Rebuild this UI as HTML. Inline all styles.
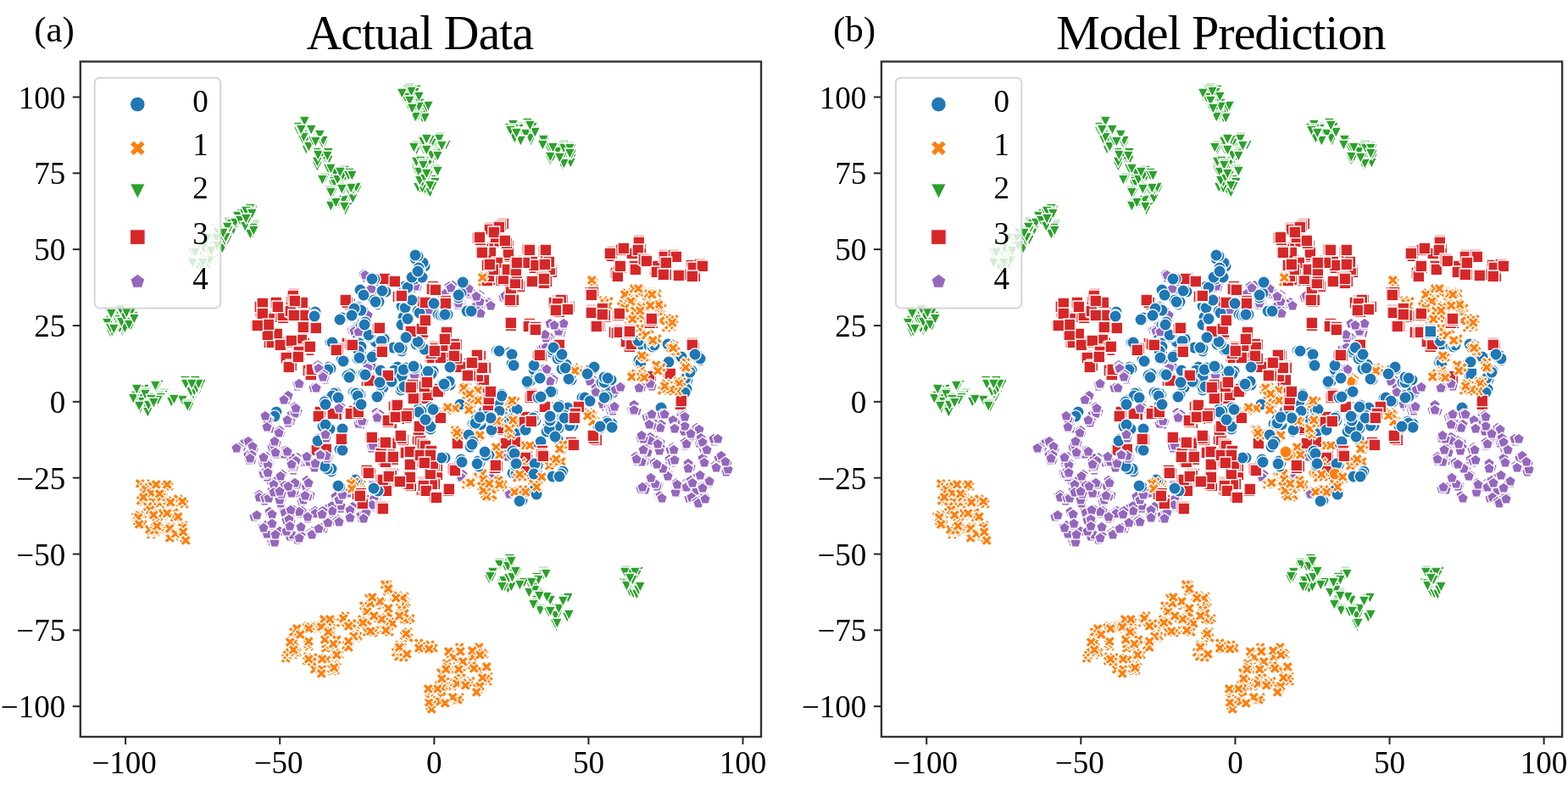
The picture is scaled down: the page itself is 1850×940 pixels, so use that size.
<!DOCTYPE html>
<html><head><meta charset="utf-8"><title>Actual Data vs Model Prediction</title>
<style>
html,body{margin:0;padding:0;background:#fff;}
svg{display:block;}
#w{width:1850px;height:940px;}
.a{fill:#1f77b4}.b{fill:#ff7f0e}.c{fill:#2ca02c}.d{fill:#d62728}.e{fill:#9467bd}
.t{font-family:"Liberation Serif","Times New Roman",serif;font-size:37px;fill:#000;}
.ti{font-family:"Liberation Serif","Times New Roman",serif;font-size:58px;letter-spacing:-1.0px;fill:#000;}
.tl{font-family:"Liberation Serif","Times New Roman",serif;font-size:43px;fill:#000;}
</style></head><body>
<div id="w"><svg width="1850" height="940" viewBox="0 0 1850 940">
<defs>

<clipPath id="clipa"><rect x="94.8" y="72.6" width="803.2" height="796.4"/></clipPath>
<clipPath id="clipb"><rect x="1039.9" y="72.6" width="803.2" height="796.4"/></clipPath>
</defs>
<rect width="1850" height="940" fill="#fff"/>
<g clip-path="url(#clipa)" stroke="#fff" stroke-width="1.3" stroke-linejoin="miter">
<path class=e d="M533 334l6.4 4.6-2.4 7.5-7.9 0-2.4-7.5z"/>
<path class=e d="M577 352l6.4 4.6-2.4 7.5-7.9 0-2.4-7.5z"/>
<path class=e d="M400 593l6.4 4.6-2.4 7.5-7.9 0-2.4-7.5z"/>
<path class=e d="M652 439l6.4 4.6-2.4 7.5-7.9 0-2.4-7.5z"/>
<path class=e d="M561 346l6.4 4.6-2.4 7.5-7.9 0-2.4-7.5z"/>
<path class=e d="M441 336l6.4 4.6-2.4 7.5-7.9 0-2.4-7.5z"/>
<path class=e d="M662 386l6.4 4.6-2.4 7.5-7.9 0-2.4-7.5z"/>
<path class=e d="M438 552l6.4 4.6-2.4 7.5-7.9 0-2.4-7.5z"/>
<path class=e d="M553 336l6.4 4.6-2.4 7.5-7.9 0-2.4-7.5z"/>
<path class=e d="M403 592l6.4 4.6-2.4 7.5-7.9 0-2.4-7.5z"/>
<path class=e d="M578 349l6.4 4.6-2.4 7.5-7.9 0-2.4-7.5z"/>
<path class=e d="M701 442l6.4 4.6-2.4 7.5-7.9 0-2.4-7.5z"/>
<path class=e d="M567 346l6.4 4.6-2.4 7.5-7.9 0-2.4-7.5z"/>
<path class=e d="M442 579l6.4 4.6-2.4 7.5-7.9 0-2.4-7.5z"/>
<path class=e d="M653 441l6.4 4.6-2.4 7.5-7.9 0-2.4-7.5z"/>
<path class=e d="M576 351l6.4 4.6-2.4 7.5-7.9 0-2.4-7.5z"/>
<path class=e d="M420 378l6.4 4.6-2.4 7.5-7.9 0-2.4-7.5z"/>
<path class=e d="M566 341l6.4 4.6-2.4 7.5-7.9 0-2.4-7.5z"/>
<path class=e d="M577 350l6.4 4.6-2.4 7.5-7.9 0-2.4-7.5z"/>
<path class=e d="M677 475l6.4 4.6-2.4 7.5-7.9 0-2.4-7.5z"/>
<path class=e d="M679 473l6.4 4.6-2.4 7.5-7.9 0-2.4-7.5z"/>
<path class=e d="M433 362l6.4 4.6-2.4 7.5-7.9 0-2.4-7.5z"/>
<path class=e d="M444 480l6.4 4.6-2.4 7.5-7.9 0-2.4-7.5z"/>
<path class=e d="M440 584l6.4 4.6-2.4 7.5-7.9 0-2.4-7.5z"/>
<path class=e d="M547 558l6.4 4.6-2.4 7.5-7.9 0-2.4-7.5z"/>
<path class=e d="M524 343l6.4 4.6-2.4 7.5-7.9 0-2.4-7.5z"/>
<path class=e d="M565 359l6.4 4.6-2.4 7.5-7.9 0-2.4-7.5z"/>
<path class=e d="M574 351l6.4 4.6-2.4 7.5-7.9 0-2.4-7.5z"/>
<path class=e d="M719 474l6.4 4.6-2.4 7.5-7.9 0-2.4-7.5z"/>
<path class=e d="M415 382l6.4 4.6-2.4 7.5-7.9 0-2.4-7.5z"/>
<path class=e d="M602 573l6.4 4.6-2.4 7.5-7.9 0-2.4-7.5z"/>
<path class=e d="M593 345l6.4 4.6-2.4 7.5-7.9 0-2.4-7.5z"/>
<path class=e d="M432 321l6.4 4.6-2.4 7.5-7.9 0-2.4-7.5z"/>
<path class=e d="M442 591l6.4 4.6-2.4 7.5-7.9 0-2.4-7.5z"/>
<path class=e d="M425 489l6.4 4.6-2.4 7.5-7.9 0-2.4-7.5z"/>
<path class=e d="M438 522l6.4 4.6-2.4 7.5-7.9 0-2.4-7.5z"/>
<path class=e d="M526 343l6.4 4.6-2.4 7.5-7.9 0-2.4-7.5z"/>
<path class=e d="M581 558l6.4 4.6-2.4 7.5-7.9 0-2.4-7.5z"/>
<path class=e d="M564 363l6.4 4.6-2.4 7.5-7.9 0-2.4-7.5z"/>
<path class=e d="M434 426l6.4 4.6-2.4 7.5-7.9 0-2.4-7.5z"/>
<path class=e d="M534 330l6.4 4.6-2.4 7.5-7.9 0-2.4-7.5z"/>
<path class=e d="M445 587l6.4 4.6-2.4 7.5-7.9 0-2.4-7.5z"/>
<path class=e d="M700 445l6.4 4.6-2.4 7.5-7.9 0-2.4-7.5z"/>
<path class=e d="M664 377l6.4 4.6-2.4 7.5-7.9 0-2.4-7.5z"/>
<path class=e d="M713 472l6.4 4.6-2.4 7.5-7.9 0-2.4-7.5z"/>
<path class=e d="M419 383l6.4 4.6-2.4 7.5-7.9 0-2.4-7.5z"/>
<path class=e d="M540 353l6.4 4.6-2.4 7.5-7.9 0-2.4-7.5z"/>
<path class=e d="M599 574l6.4 4.6-2.4 7.5-7.9 0-2.4-7.5z"/>
<path class=e d="M699 444l6.4 4.6-2.4 7.5-7.9 0-2.4-7.5z"/>
<path class=e d="M408 574l6.4 4.6-2.4 7.5-7.9 0-2.4-7.5z"/>
<path class=e d="M564 355l6.4 4.6-2.4 7.5-7.9 0-2.4-7.5z"/>
<path class=e d="M433 362l6.4 4.6-2.4 7.5-7.9 0-2.4-7.5z"/>
<path class=e d="M435 365l6.4 4.6-2.4 7.5-7.9 0-2.4-7.5z"/>
<path class=e d="M639 404l6.4 4.6-2.4 7.5-7.9 0-2.4-7.5z"/>
<path class=e d="M546 553l6.4 4.6-2.4 7.5-7.9 0-2.4-7.5z"/>
<path class=e d="M444 582l6.4 4.6-2.4 7.5-7.9 0-2.4-7.5z"/>
<path class=e d="M433 428l6.4 4.6-2.4 7.5-7.9 0-2.4-7.5z"/>
<path class=e d="M576 350l6.4 4.6-2.4 7.5-7.9 0-2.4-7.5z"/>
<path class=e d="M574 352l6.4 4.6-2.4 7.5-7.9 0-2.4-7.5z"/>
<path class=e d="M544 351l6.4 4.6-2.4 7.5-7.9 0-2.4-7.5z"/>
<path class=e d="M421 382l6.4 4.6-2.4 7.5-7.9 0-2.4-7.5z"/>
<path class=e d="M653 376l6.4 4.6-2.4 7.5-7.9 0-2.4-7.5z"/>
<path class=e d="M443 587l6.4 4.6-2.4 7.5-7.9 0-2.4-7.5z"/>
<path class=e d="M568 353l6.4 4.6-2.4 7.5-7.9 0-2.4-7.5z"/>
<path class=e d="M650 443l6.4 4.6-2.4 7.5-7.9 0-2.4-7.5z"/>
<path class=e d="M425 492l6.4 4.6-2.4 7.5-7.9 0-2.4-7.5z"/>
<path class=e d="M543 557l6.4 4.6-2.4 7.5-7.9 0-2.4-7.5z"/>
<path class=e d="M492 436l6.4 4.6-2.4 7.5-7.9 0-2.4-7.5z"/>
<path class=e d="M426 494l6.4 4.6-2.4 7.5-7.9 0-2.4-7.5z"/>
<path class=e d="M641 403l6.4 4.6-2.4 7.5-7.9 0-2.4-7.5z"/>
<path class=e d="M421 381l6.4 4.6-2.4 7.5-7.9 0-2.4-7.5z"/>
<path class=e d="M530 331l6.4 4.6-2.4 7.5-7.9 0-2.4-7.5z"/>
<path class=e d="M492 332l6.4 4.6-2.4 7.5-7.9 0-2.4-7.5z"/>
<path class=e d="M426 491l6.4 4.6-2.4 7.5-7.9 0-2.4-7.5z"/>
<path class=e d="M419 386l6.4 4.6-2.4 7.5-7.9 0-2.4-7.5z"/>
<path class=e d="M429 490l6.4 4.6-2.4 7.5-7.9 0-2.4-7.5z"/>
<path class=e d="M713 470l6.4 4.6-2.4 7.5-7.9 0-2.4-7.5z"/>
<path class=e d="M416 593l6.4 4.6-2.4 7.5-7.9 0-2.4-7.5z"/>
<path class=e d="M714 473l6.4 4.6-2.4 7.5-7.9 0-2.4-7.5z"/>
<path class=e d="M435 320l6.4 4.6-2.4 7.5-7.9 0-2.4-7.5z"/>
<path class=e d="M650 374l6.4 4.6-2.4 7.5-7.9 0-2.4-7.5z"/>
<path class=e d="M489 436l6.4 4.6-2.4 7.5-7.9 0-2.4-7.5z"/>
<path class=e d="M417 382l6.4 4.6-2.4 7.5-7.9 0-2.4-7.5z"/>
<path class=e d="M443 579l6.4 4.6-2.4 7.5-7.9 0-2.4-7.5z"/>
<path class=e d="M423 493l6.4 4.6-2.4 7.5-7.9 0-2.4-7.5z"/>
<path class=e d="M503 362l6.4 4.6-2.4 7.5-7.9 0-2.4-7.5z"/>
<path class=e d="M441 587l6.4 4.6-2.4 7.5-7.9 0-2.4-7.5z"/>
<path class=e d="M446 483l6.4 4.6-2.4 7.5-7.9 0-2.4-7.5z"/>
<path class=e d="M502 359l6.4 4.6-2.4 7.5-7.9 0-2.4-7.5z"/>
<path class=e d="M522 342l6.4 4.6-2.4 7.5-7.9 0-2.4-7.5z"/>
<path class=e d="M440 583l6.4 4.6-2.4 7.5-7.9 0-2.4-7.5z"/>
<path class=e d="M446 486l6.4 4.6-2.4 7.5-7.9 0-2.4-7.5z"/>
<path class=e d="M649 391l6.4 4.6-2.4 7.5-7.9 0-2.4-7.5z"/>
<path class=e d="M647 390l6.4 4.6-2.4 7.5-7.9 0-2.4-7.5z"/>
<path class=e d="M579 354l6.4 4.6-2.4 7.5-7.9 0-2.4-7.5z"/>
<path class=e d="M440 552l6.4 4.6-2.4 7.5-7.9 0-2.4-7.5z"/>
<path class=e d="M446 488l6.4 4.6-2.4 7.5-7.9 0-2.4-7.5z"/>
<path class=e d="M407 575l6.4 4.6-2.4 7.5-7.9 0-2.4-7.5z"/>
<path class=e d="M552 338l6.4 4.6-2.4 7.5-7.9 0-2.4-7.5z"/>
<path class=e d="M440 581l6.4 4.6-2.4 7.5-7.9 0-2.4-7.5z"/>
<path class=e d="M507 361l6.4 4.6-2.4 7.5-7.9 0-2.4-7.5z"/>
<path class=e d="M440 589l6.4 4.6-2.4 7.5-7.9 0-2.4-7.5z"/>
<path class=e d="M439 556l6.4 4.6-2.4 7.5-7.9 0-2.4-7.5z"/>
<path class=e d="M437 555l6.4 4.6-2.4 7.5-7.9 0-2.4-7.5z"/>
<path class=e d="M638 429l6.4 4.6-2.4 7.5-7.9 0-2.4-7.5z"/>
<path class=e d="M644 403l6.4 4.6-2.4 7.5-7.9 0-2.4-7.5z"/>
<path class=e d="M438 333l6.4 4.6-2.4 7.5-7.9 0-2.4-7.5z"/>
<path class=e d="M602 577l6.4 4.6-2.4 7.5-7.9 0-2.4-7.5z"/>
<path class=e d="M657 382l6.4 4.6-2.4 7.5-7.9 0-2.4-7.5z"/>
<path class=e d="M544 556l6.4 4.6-2.4 7.5-7.9 0-2.4-7.5z"/>
<path class=e d="M439 558l6.4 4.6-2.4 7.5-7.9 0-2.4-7.5z"/>
<path class=e d="M445 487l6.4 4.6-2.4 7.5-7.9 0-2.4-7.5z"/>
<path class=e d="M584 557l6.4 4.6-2.4 7.5-7.9 0-2.4-7.5z"/>
<path class=e d="M416 591l6.4 4.6-2.4 7.5-7.9 0-2.4-7.5z"/>
<path class=e d="M487 333l6.4 4.6-2.4 7.5-7.9 0-2.4-7.5z"/>
<path class=e d="M438 582l6.4 4.6-2.4 7.5-7.9 0-2.4-7.5z"/>
<path class=e d="M554 334l6.4 4.6-2.4 7.5-7.9 0-2.4-7.5z"/>
<path class=e d="M641 429l6.4 4.6-2.4 7.5-7.9 0-2.4-7.5z"/>
<path class=e d="M581 561l6.4 4.6-2.4 7.5-7.9 0-2.4-7.5z"/>
<path class=e d="M429 592l6.4 4.6-2.4 7.5-7.9 0-2.4-7.5z"/>
<path class=e d="M644 403l6.4 4.6-2.4 7.5-7.9 0-2.4-7.5z"/>
<path class=e d="M564 343l6.4 4.6-2.4 7.5-7.9 0-2.4-7.5z"/>
<path class=e d="M543 349l6.4 4.6-2.4 7.5-7.9 0-2.4-7.5z"/>
<path class=e d="M424 488l6.4 4.6-2.4 7.5-7.9 0-2.4-7.5z"/>
<path class=e d="M561 345l6.4 4.6-2.4 7.5-7.9 0-2.4-7.5z"/>
<path class=e d="M410 575l6.4 4.6-2.4 7.5-7.9 0-2.4-7.5z"/>
<path class=e d="M402 593l6.4 4.6-2.4 7.5-7.9 0-2.4-7.5z"/>
<path class=e d="M448 482l6.4 4.6-2.4 7.5-7.9 0-2.4-7.5z"/>
<circle class=a cx=601 cy=416 r=7.1 />
<path class=b d="M165 612l3.2 3.2 3.2-3.2 3.2 3.2-3.2 3.2 3.2 3.2-3.2 3.2-3.2-3.2-3.2 3.2-3.2-3.2 3.2-3.2-3.2-3.2z"/>
<path class=c d="M512 161h12.6l-6.3 12.6z"/>
<path class=c d="M398 218h12.6l-6.3 12.6z"/>
<path class=b d="M741 362l3.2 3.2 3.2-3.2 3.2 3.2-3.2 3.2 3.2 3.2-3.2 3.2-3.2-3.2-3.2 3.2-3.2-3.2 3.2-3.2-3.2-3.2z"/>
<path class=e d="M724 452l6.4 4.6-2.4 7.5-7.9 0-2.4-7.5z"/>
<path class=c d="M179 447h12.6l-6.3 12.6z"/>
<path class=e d="M807 484l6.4 4.6-2.4 7.5-7.9 0-2.4-7.5z"/>
<path class=c d="M397 233h12.6l-6.3 12.6z"/>
<path class=e d="M491 327l6.4 4.6-2.4 7.5-7.9 0-2.4-7.5z"/>
<circle class=a cx=811 cy=448 r=7.1 />
<circle class=a cx=492 cy=434 r=7.1 />
<path class=d d="M809 311h13.6v13.6h-13.6z"/>
<path class=e d="M414 605l6.4 4.6-2.4 7.5-7.9 0-2.4-7.5z"/>
<path class=c d="M376 162h12.6l-6.3 12.6z"/>
<path class=d d="M448 321h13.6v13.6h-13.6z"/>
<path class=e d="M391 606l6.4 4.6-2.4 7.5-7.9 0-2.4-7.5z"/>
<path class=c d="M276 253h12.6l-6.3 12.6z"/>
<circle class=a cx=592 cy=467 r=7.1 />
<path class=b d="M478 745l3.2 3.2 3.2-3.2 3.2 3.2-3.2 3.2 3.2 3.2-3.2 3.2-3.2-3.2-3.2 3.2-3.2-3.2 3.2-3.2-3.2-3.2z"/>
<circle class=a cx=700 cy=433 r=7.1 />
<path class=b d="M157 603l3.2 3.2 3.2-3.2 3.2 3.2-3.2 3.2 3.2 3.2-3.2 3.2-3.2-3.2-3.2 3.2-3.2-3.2 3.2-3.2-3.2-3.2z"/>
<path class=b d="M636 558l3.2 3.2 3.2-3.2 3.2 3.2-3.2 3.2 3.2 3.2-3.2 3.2-3.2-3.2-3.2 3.2-3.2-3.2 3.2-3.2-3.2-3.2z"/>
<path class=b d="M504 827l3.2 3.2 3.2-3.2 3.2 3.2-3.2 3.2 3.2 3.2-3.2 3.2-3.2-3.2-3.2 3.2-3.2-3.2 3.2-3.2-3.2-3.2z"/>
<circle class=a cx=452 cy=457 r=7.1 />
<path class=e d="M341 617l6.4 4.6-2.4 7.5-7.9 0-2.4-7.5z"/>
<circle class=a cx=465 cy=450 r=7.1 />
<path class=d d="M607 330h13.6v13.6h-13.6z"/>
<path class=b d="M360 768l3.2 3.2 3.2-3.2 3.2 3.2-3.2 3.2 3.2 3.2-3.2 3.2-3.2-3.2-3.2 3.2-3.2-3.2 3.2-3.2-3.2-3.2z"/>
<path class=c d="M392 232h12.6l-6.3 12.6z"/>
<path class=e d="M747 474l6.4 4.6-2.4 7.5-7.9 0-2.4-7.5z"/>
<circle class=a cx=325 cy=490 r=7.1 />
<path class=c d="M221 444h12.6l-6.3 12.6z"/>
<circle class=a cx=753 cy=427 r=7.1 />
<path class=b d="M751 363l3.2 3.2 3.2-3.2 3.2 3.2-3.2 3.2 3.2 3.2-3.2 3.2-3.2-3.2-3.2 3.2-3.2-3.2 3.2-3.2-3.2-3.2z"/>
<path class=d d="M821 307h13.6v13.6h-13.6z"/>
<circle class=a cx=667 cy=492 r=7.1 />
<path class=e d="M814 579l6.4 4.6-2.4 7.5-7.9 0-2.4-7.5z"/>
<path class=c d="M488 183h12.6l-6.3 12.6z"/>
<path class=c d="M395 234h12.6l-6.3 12.6z"/>
<path class=c d="M415 218h12.6l-6.3 12.6z"/>
<path class=d d="M519 388h13.6v13.6h-13.6z"/>
<path class=b d="M764 353l3.2 3.2 3.2-3.2 3.2 3.2-3.2 3.2 3.2 3.2-3.2 3.2-3.2-3.2-3.2 3.2-3.2-3.2 3.2-3.2-3.2-3.2z"/>
<path class=c d="M667 177h12.6l-6.3 12.6z"/>
<path class=c d="M185 457h12.6l-6.3 12.6z"/>
<path class=b d="M434 737l3.2 3.2 3.2-3.2 3.2 3.2-3.2 3.2 3.2 3.2-3.2 3.2-3.2-3.2-3.2 3.2-3.2-3.2 3.2-3.2-3.2-3.2z"/>
<path class=b d="M695 483l3.2 3.2 3.2-3.2 3.2 3.2-3.2 3.2 3.2 3.2-3.2 3.2-3.2-3.2-3.2 3.2-3.2-3.2 3.2-3.2-3.2-3.2z"/>
<path class=e d="M366 577l6.4 4.6-2.4 7.5-7.9 0-2.4-7.5z"/>
<path class=c d="M495 159h12.6l-6.3 12.6z"/>
<path class=b d="M424 727l3.2 3.2 3.2-3.2 3.2 3.2-3.2 3.2 3.2 3.2-3.2 3.2-3.2-3.2-3.2 3.2-3.2-3.2 3.2-3.2-3.2-3.2z"/>
<path class=b d="M342 750l3.2 3.2 3.2-3.2 3.2 3.2-3.2 3.2 3.2 3.2-3.2 3.2-3.2-3.2-3.2 3.2-3.2-3.2 3.2-3.2-3.2-3.2z"/>
<path class=d d="M459 484h13.6v13.6h-13.6z"/>
<path class=d d="M450 570h13.6v13.6h-13.6z"/>
<path class=e d="M679 475l6.4 4.6-2.4 7.5-7.9 0-2.4-7.5z"/>
<path class=e d="M401 473l6.4 4.6-2.4 7.5-7.9 0-2.4-7.5z"/>
<path class=c d="M603 144h12.6l-6.3 12.6z"/>
<path class=e d="M793 539l6.4 4.6-2.4 7.5-7.9 0-2.4-7.5z"/>
<path class=c d="M229 309h12.6l-6.3 12.6z"/>
<path class=b d="M505 827l3.2 3.2 3.2-3.2 3.2 3.2-3.2 3.2 3.2 3.2-3.2 3.2-3.2-3.2-3.2 3.2-3.2-3.2 3.2-3.2-3.2-3.2z"/>
<path class=c d="M488 117h12.6l-6.3 12.6z"/>
<path class=e d="M363 563l6.4 4.6-2.4 7.5-7.9 0-2.4-7.5z"/>
<path class=b d="M165 600l3.2 3.2 3.2-3.2 3.2 3.2-3.2 3.2 3.2 3.2-3.2 3.2-3.2-3.2-3.2 3.2-3.2-3.2 3.2-3.2-3.2-3.2z"/>
<path class=c d="M386 222h12.6l-6.3 12.6z"/>
<circle class=a cx=522 cy=453 r=7.1 />
<path class=e d="M796 489l6.4 4.6-2.4 7.5-7.9 0-2.4-7.5z"/>
<path class=b d="M200 624l3.2 3.2 3.2-3.2 3.2 3.2-3.2 3.2 3.2 3.2-3.2 3.2-3.2-3.2-3.2 3.2-3.2-3.2 3.2-3.2-3.2-3.2z"/>
<path class=e d="M825 500l6.4 4.6-2.4 7.5-7.9 0-2.4-7.5z"/>
<path class=e d="M333 592l6.4 4.6-2.4 7.5-7.9 0-2.4-7.5z"/>
<path class=c d="M492 133h12.6l-6.3 12.6z"/>
<circle class=a cx=429 cy=381 r=7.1 />
<path class=e d="M791 524l6.4 4.6-2.4 7.5-7.9 0-2.4-7.5z"/>
<circle class=a cx=433 cy=385 r=7.1 />
<path class=b d="M199 585l3.2 3.2 3.2-3.2 3.2 3.2-3.2 3.2 3.2 3.2-3.2 3.2-3.2-3.2-3.2 3.2-3.2-3.2 3.2-3.2-3.2-3.2z"/>
<path class=c d="M377 175h12.6l-6.3 12.6z"/>
<path class=b d="M387 735l3.2 3.2 3.2-3.2 3.2 3.2-3.2 3.2 3.2 3.2-3.2 3.2-3.2-3.2-3.2 3.2-3.2-3.2 3.2-3.2-3.2-3.2z"/>
<path class=e d="M413 595l6.4 4.6-2.4 7.5-7.9 0-2.4-7.5z"/>
<path class=d d="M444 529h13.6v13.6h-13.6z"/>
<path class=c d="M651 719h12.6l-6.3 12.6z"/>
<path class=b d="M529 800l3.2 3.2 3.2-3.2 3.2 3.2-3.2 3.2 3.2 3.2-3.2 3.2-3.2-3.2-3.2 3.2-3.2-3.2 3.2-3.2-3.2-3.2z"/>
<path class=d d="M320 390h13.6v13.6h-13.6z"/>
<path class=c d="M223 290h12.6l-6.3 12.6z"/>
<path class=d d="M672 474h13.6v13.6h-13.6z"/>
<path class=b d="M196 615l3.2 3.2 3.2-3.2 3.2 3.2-3.2 3.2 3.2 3.2-3.2 3.2-3.2-3.2-3.2 3.2-3.2-3.2 3.2-3.2-3.2-3.2z"/>
<path class=d d="M312 367h13.6v13.6h-13.6z"/>
<path class=b d="M566 762l3.2 3.2 3.2-3.2 3.2 3.2-3.2 3.2 3.2 3.2-3.2 3.2-3.2-3.2-3.2 3.2-3.2-3.2 3.2-3.2-3.2-3.2z"/>
<path class=d d="M311 396h13.6v13.6h-13.6z"/>
<path class=c d="M393 235h12.6l-6.3 12.6z"/>
<path class=d d="M473 484h13.6v13.6h-13.6z"/>
<circle class=a cx=697 cy=474 r=7.1 />
<path class=c d="M376 205h12.6l-6.3 12.6z"/>
<path class=d d="M578 276h13.6v13.6h-13.6z"/>
<path class=e d="M767 487l6.4 4.6-2.4 7.5-7.9 0-2.4-7.5z"/>
<path class=d d="M663 356h13.6v13.6h-13.6z"/>
<path class=c d="M266 266h12.6l-6.3 12.6z"/>
<path class=e d="M396 582l6.4 4.6-2.4 7.5-7.9 0-2.4-7.5z"/>
<path class=b d="M570 789l3.2 3.2 3.2-3.2 3.2 3.2-3.2 3.2 3.2 3.2-3.2 3.2-3.2-3.2-3.2 3.2-3.2-3.2 3.2-3.2-3.2-3.2z"/>
<path class=d d="M587 257h13.6v13.6h-13.6z"/>
<path class=d d="M458 473h13.6v13.6h-13.6z"/>
<path class=b d="M442 703l3.2 3.2 3.2-3.2 3.2 3.2-3.2 3.2 3.2 3.2-3.2 3.2-3.2-3.2-3.2 3.2-3.2-3.2 3.2-3.2-3.2-3.2z"/>
<path class=e d="M390 609l6.4 4.6-2.4 7.5-7.9 0-2.4-7.5z"/>
<circle class=a cx=326 cy=486 r=7.1 />
<path class=d d="M573 289h13.6v13.6h-13.6z"/>
<path class=d d="M393 405h13.6v13.6h-13.6z"/>
<path class=b d="M558 507l3.2 3.2 3.2-3.2 3.2 3.2-3.2 3.2 3.2 3.2-3.2 3.2-3.2-3.2-3.2 3.2-3.2-3.2 3.2-3.2-3.2-3.2z"/>
<path class=e d="M660 385l6.4 4.6-2.4 7.5-7.9 0-2.4-7.5z"/>
<path class=d d="M489 530h13.6v13.6h-13.6z"/>
<path class=e d="M402 590l6.4 4.6-2.4 7.5-7.9 0-2.4-7.5z"/>
<path class=e d="M339 569l6.4 4.6-2.4 7.5-7.9 0-2.4-7.5z"/>
<circle class=a cx=421 cy=407 r=7.1 />
<path class=c d="M604 153h12.6l-6.3 12.6z"/>
<path class=b d="M391 751l3.2 3.2 3.2-3.2 3.2 3.2-3.2 3.2 3.2 3.2-3.2 3.2-3.2-3.2-3.2 3.2-3.2-3.2 3.2-3.2-3.2-3.2z"/>
<path class=c d="M478 99h12.6l-6.3 12.6z"/>
<path class=c d="M171 463h12.6l-6.3 12.6z"/>
<path class=e d="M445 589l6.4 4.6-2.4 7.5-7.9 0-2.4-7.5z"/>
<circle class=a cx=819 cy=418 r=7.1 />
<path class=b d="M559 556l3.2 3.2 3.2-3.2 3.2 3.2-3.2 3.2 3.2 3.2-3.2 3.2-3.2-3.2-3.2 3.2-3.2-3.2 3.2-3.2-3.2-3.2z"/>
<path class=d d="M561 289h13.6v13.6h-13.6z"/>
<path class=c d="M381 183h12.6l-6.3 12.6z"/>
<path class=e d="M349 564l6.4 4.6-2.4 7.5-7.9 0-2.4-7.5z"/>
<path class=b d="M736 345l3.2 3.2 3.2-3.2 3.2 3.2-3.2 3.2 3.2 3.2-3.2 3.2-3.2-3.2-3.2 3.2-3.2-3.2 3.2-3.2-3.2-3.2z"/>
<path class=b d="M424 724l3.2 3.2 3.2-3.2 3.2 3.2-3.2 3.2 3.2 3.2-3.2 3.2-3.2-3.2-3.2 3.2-3.2-3.2 3.2-3.2-3.2-3.2z"/>
<path class=e d="M813 512l6.4 4.6-2.4 7.5-7.9 0-2.4-7.5z"/>
<circle class=a cx=816 cy=437 r=7.1 />
<path class=d d="M666 356h13.6v13.6h-13.6z"/>
<circle class=a cx=417 cy=463 r=7.1 />
<path class=b d="M344 744l3.2 3.2 3.2-3.2 3.2 3.2-3.2 3.2 3.2 3.2-3.2 3.2-3.2-3.2-3.2 3.2-3.2-3.2 3.2-3.2-3.2-3.2z"/>
<path class=c d="M494 159h12.6l-6.3 12.6z"/>
<path class=b d="M434 703l3.2 3.2 3.2-3.2 3.2 3.2-3.2 3.2 3.2 3.2-3.2 3.2-3.2-3.2-3.2 3.2-3.2-3.2 3.2-3.2-3.2-3.2z"/>
<path class=e d="M525 340l6.4 4.6-2.4 7.5-7.9 0-2.4-7.5z"/>
<path class=c d="M498 216h12.6l-6.3 12.6z"/>
<path class=c d="M650 733h12.6l-6.3 12.6z"/>
<path class=e d="M321 632l6.4 4.6-2.4 7.5-7.9 0-2.4-7.5z"/>
<path class=d d="M719 385h13.6v13.6h-13.6z"/>
<circle class=a cx=514 cy=359 r=7.1 />
<path class=c d="M232 292h12.6l-6.3 12.6z"/>
<path class=c d="M641 168h12.6l-6.3 12.6z"/>
<path class=b d="M569 323l3.2 3.2 3.2-3.2 3.2 3.2-3.2 3.2 3.2 3.2-3.2 3.2-3.2-3.2-3.2 3.2-3.2-3.2 3.2-3.2-3.2-3.2z"/>
<path class=b d="M372 735l3.2 3.2 3.2-3.2 3.2 3.2-3.2 3.2 3.2 3.2-3.2 3.2-3.2-3.2-3.2 3.2-3.2-3.2 3.2-3.2-3.2-3.2z"/>
<path class=d d="M491 351h13.6v13.6h-13.6z"/>
<path class=c d="M609 161h12.6l-6.3 12.6z"/>
<path class=b d="M212 623l3.2 3.2 3.2-3.2 3.2 3.2-3.2 3.2 3.2 3.2-3.2 3.2-3.2-3.2-3.2 3.2-3.2-3.2 3.2-3.2-3.2-3.2z"/>
<path class=e d="M553 340l6.4 4.6-2.4 7.5-7.9 0-2.4-7.5z"/>
<path class=c d="M403 216h12.6l-6.3 12.6z"/>
<path class=d d="M458 324h13.6v13.6h-13.6z"/>
<path class=e d="M391 593l6.4 4.6-2.4 7.5-7.9 0-2.4-7.5z"/>
<path class=d d="M560 272h13.6v13.6h-13.6z"/>
<path class=c d="M651 716h12.6l-6.3 12.6z"/>
<path class=d d="M721 383h13.6v13.6h-13.6z"/>
<path class=c d="M732 682h12.6l-6.3 12.6z"/>
<path class=e d="M320 560l6.4 4.6-2.4 7.5-7.9 0-2.4-7.5z"/>
<path class=e d="M814 509l6.4 4.6-2.4 7.5-7.9 0-2.4-7.5z"/>
<path class=d d="M359 434h13.6v13.6h-13.6z"/>
<path class=d d="M359 430h13.6v13.6h-13.6z"/>
<path class=b d="M549 779l3.2 3.2 3.2-3.2 3.2 3.2-3.2 3.2 3.2 3.2-3.2 3.2-3.2-3.2-3.2 3.2-3.2-3.2 3.2-3.2-3.2-3.2z"/>
<path class=b d="M733 358l3.2 3.2 3.2-3.2 3.2 3.2-3.2 3.2 3.2 3.2-3.2 3.2-3.2-3.2-3.2 3.2-3.2-3.2 3.2-3.2-3.2-3.2z"/>
<path class=d d="M350 351h13.6v13.6h-13.6z"/>
<path class=e d="M438 519l6.4 4.6-2.4 7.5-7.9 0-2.4-7.5z"/>
<circle class=a cx=627 cy=492 r=7.1 />
<path class=d d="M672 484h13.6v13.6h-13.6z"/>
<circle class=a cx=405 cy=508 r=7.1 />
<path class=b d="M530 803l3.2 3.2 3.2-3.2 3.2 3.2-3.2 3.2 3.2 3.2-3.2 3.2-3.2-3.2-3.2 3.2-3.2-3.2 3.2-3.2-3.2-3.2z"/>
<path class=e d="M726 449l6.4 4.6-2.4 7.5-7.9 0-2.4-7.5z"/>
<path class=d d="M497 461h13.6v13.6h-13.6z"/>
<path class=c d="M635 668h12.6l-6.3 12.6z"/>
<path class=c d="M649 170h12.6l-6.3 12.6z"/>
<path class=e d="M790 535l6.4 4.6-2.4 7.5-7.9 0-2.4-7.5z"/>
<circle class=a cx=574 cy=489 r=7.1 />
<path class=c d="M571 677h12.6l-6.3 12.6z"/>
<path class=e d="M322 561l6.4 4.6-2.4 7.5-7.9 0-2.4-7.5z"/>
<path class=b d="M553 459l3.2 3.2 3.2-3.2 3.2 3.2-3.2 3.2 3.2 3.2-3.2 3.2-3.2-3.2-3.2 3.2-3.2-3.2 3.2-3.2-3.2-3.2z"/>
<path class=d d="M358 429h13.6v13.6h-13.6z"/>
<circle class=a cx=443 cy=357 r=7.1 />
<path class=d d="M521 392h13.6v13.6h-13.6z"/>
<path class=c d="M248 285h12.6l-6.3 12.6z"/>
<circle class=a cx=424 cy=422 r=7.1 />
<path class=e d="M830 526l6.4 4.6-2.4 7.5-7.9 0-2.4-7.5z"/>
<circle class=a cx=452 cy=440 r=7.1 />
<path class=e d="M319 628l6.4 4.6-2.4 7.5-7.9 0-2.4-7.5z"/>
<path class=d d="M639 322h13.6v13.6h-13.6z"/>
<path class=d d="M326 368h13.6v13.6h-13.6z"/>
<path class=b d="M180 591l3.2 3.2 3.2-3.2 3.2 3.2-3.2 3.2 3.2 3.2-3.2 3.2-3.2-3.2-3.2 3.2-3.2-3.2 3.2-3.2-3.2-3.2z"/>
<circle class=a cx=579 cy=494 r=7.1 />
<path class=e d="M774 520l6.4 4.6-2.4 7.5-7.9 0-2.4-7.5z"/>
<path class=e d="M777 482l6.4 4.6-2.4 7.5-7.9 0-2.4-7.5z"/>
<path class=e d="M344 576l6.4 4.6-2.4 7.5-7.9 0-2.4-7.5z"/>
<path class=e d="M676 474l6.4 4.6-2.4 7.5-7.9 0-2.4-7.5z"/>
<path class=c d="M632 713h12.6l-6.3 12.6z"/>
<path class=e d="M745 477l6.4 4.6-2.4 7.5-7.9 0-2.4-7.5z"/>
<circle class=a cx=651 cy=561 r=7.1 />
<path class=e d="M304 577l6.4 4.6-2.4 7.5-7.9 0-2.4-7.5z"/>
<path class=d d="M571 287h13.6v13.6h-13.6z"/>
<path class=e d="M830 523l6.4 4.6-2.4 7.5-7.9 0-2.4-7.5z"/>
<path class=e d="M438 425l6.4 4.6-2.4 7.5-7.9 0-2.4-7.5z"/>
<path class=c d="M224 459h12.6l-6.3 12.6z"/>
<path class=e d="M822 498l6.4 4.6-2.4 7.5-7.9 0-2.4-7.5z"/>
<path class=b d="M762 340l3.2 3.2 3.2-3.2 3.2 3.2-3.2 3.2 3.2 3.2-3.2 3.2-3.2-3.2-3.2 3.2-3.2-3.2 3.2-3.2-3.2-3.2z"/>
<path class=b d="M476 725l3.2 3.2 3.2-3.2 3.2 3.2-3.2 3.2 3.2 3.2-3.2 3.2-3.2-3.2-3.2 3.2-3.2-3.2 3.2-3.2-3.2-3.2z"/>
<path class=c d="M354 163h12.6l-6.3 12.6z"/>
<path class=d d="M397 512h13.6v13.6h-13.6z"/>
<path class=d d="M504 331h13.6v13.6h-13.6z"/>
<path class=c d="M374 207h12.6l-6.3 12.6z"/>
<circle class=a cx=530 cy=431 r=7.1 />
<path class=e d="M438 553l6.4 4.6-2.4 7.5-7.9 0-2.4-7.5z"/>
<path class=e d="M802 565l6.4 4.6-2.4 7.5-7.9 0-2.4-7.5z"/>
<path class=b d="M760 376l3.2 3.2 3.2-3.2 3.2 3.2-3.2 3.2 3.2 3.2-3.2 3.2-3.2-3.2-3.2 3.2-3.2-3.2 3.2-3.2-3.2-3.2z"/>
<path class=b d="M548 450l3.2 3.2 3.2-3.2 3.2 3.2-3.2 3.2 3.2 3.2-3.2 3.2-3.2-3.2-3.2 3.2-3.2-3.2 3.2-3.2-3.2-3.2z"/>
<path class=b d="M575 565l3.2 3.2 3.2-3.2 3.2 3.2-3.2 3.2 3.2 3.2-3.2 3.2-3.2-3.2-3.2 3.2-3.2-3.2 3.2-3.2-3.2-3.2z"/>
<path class=c d="M502 214h12.6l-6.3 12.6z"/>
<circle class=a cx=434 cy=398 r=7.1 />
<circle class=a cx=548 cy=334 r=7.1 />
<path class=e d="M717 473l6.4 4.6-2.4 7.5-7.9 0-2.4-7.5z"/>
<path class=c d="M355 157h12.6l-6.3 12.6z"/>
<path class=b d="M566 556l3.2 3.2 3.2-3.2 3.2 3.2-3.2 3.2 3.2 3.2-3.2 3.2-3.2-3.2-3.2 3.2-3.2-3.2 3.2-3.2-3.2-3.2z"/>
<path class=d d="M762 440h13.6v13.6h-13.6z"/>
<path class=b d="M586 491l3.2 3.2 3.2-3.2 3.2 3.2-3.2 3.2 3.2 3.2-3.2 3.2-3.2-3.2-3.2 3.2-3.2-3.2 3.2-3.2-3.2-3.2z"/>
<path class=c d="M626 678h12.6l-6.3 12.6z"/>
<path class=c d="M246 296h12.6l-6.3 12.6z"/>
<path class=d d="M469 512h13.6v13.6h-13.6z"/>
<path class=c d="M388 197h12.6l-6.3 12.6z"/>
<path class=d d="M514 414h13.6v13.6h-13.6z"/>
<path class=d d="M573 286h13.6v13.6h-13.6z"/>
<path class=d d="M456 551h13.6v13.6h-13.6z"/>
<path class=e d="M389 591l6.4 4.6-2.4 7.5-7.9 0-2.4-7.5z"/>
<path class=e d="M438 555l6.4 4.6-2.4 7.5-7.9 0-2.4-7.5z"/>
<path class=c d="M240 309h12.6l-6.3 12.6z"/>
<path class=b d="M694 325l3.2 3.2 3.2-3.2 3.2 3.2-3.2 3.2 3.2 3.2-3.2 3.2-3.2-3.2-3.2 3.2-3.2-3.2 3.2-3.2-3.2-3.2z"/>
<path class=b d="M167 567l3.2 3.2 3.2-3.2 3.2 3.2-3.2 3.2 3.2 3.2-3.2 3.2-3.2-3.2-3.2 3.2-3.2-3.2 3.2-3.2-3.2-3.2z"/>
<path class=d d="M495 370h13.6v13.6h-13.6z"/>
<path class=e d="M328 575l6.4 4.6-2.4 7.5-7.9 0-2.4-7.5z"/>
<path class=c d="M123 385h12.6l-6.3 12.6z"/>
<path class=c d="M500 118h12.6l-6.3 12.6z"/>
<path class=d d="M736 397h13.6v13.6h-13.6z"/>
<path class=e d="M798 570l6.4 4.6-2.4 7.5-7.9 0-2.4-7.5z"/>
<circle class=a cx=443 cy=331 r=7.1 />
<path class=c d="M607 146h12.6l-6.3 12.6z"/>
<path class=c d="M352 155h12.6l-6.3 12.6z"/>
<path class=c d="M134 369h12.6l-6.3 12.6z"/>
<path class=c d="M494 130h12.6l-6.3 12.6z"/>
<circle class=a cx=390 cy=404 r=7.1 />
<path class=d d="M534 516h13.6v13.6h-13.6z"/>
<path class=c d="M520 165h12.6l-6.3 12.6z"/>
<circle class=a cx=473 cy=383 r=7.1 />
<path class=c d="M294 263h12.6l-6.3 12.6z"/>
<path class=b d="M736 342l3.2 3.2 3.2-3.2 3.2 3.2-3.2 3.2 3.2 3.2-3.2 3.2-3.2-3.2-3.2 3.2-3.2-3.2 3.2-3.2-3.2-3.2z"/>
<path class=d d="M448 570h13.6v13.6h-13.6z"/>
<circle class=a cx=823 cy=419 r=7.1 />
<circle class=a cx=509 cy=440 r=7.1 />
<path class=b d="M363 732l3.2 3.2 3.2-3.2 3.2 3.2-3.2 3.2 3.2 3.2-3.2 3.2-3.2-3.2-3.2 3.2-3.2-3.2 3.2-3.2-3.2-3.2z"/>
<circle class=a cx=375 cy=519 r=7.1 />
<circle class=a cx=647 cy=503 r=7.1 />
<path class=b d="M187 617l3.2 3.2 3.2-3.2 3.2 3.2-3.2 3.2 3.2 3.2-3.2 3.2-3.2-3.2-3.2 3.2-3.2-3.2 3.2-3.2-3.2-3.2z"/>
<path class=b d="M203 601l3.2 3.2 3.2-3.2 3.2 3.2-3.2 3.2 3.2 3.2-3.2 3.2-3.2-3.2-3.2 3.2-3.2-3.2 3.2-3.2-3.2-3.2z"/>
<path class=d d="M702 377h13.6v13.6h-13.6z"/>
<path class=c d="M160 472h12.6l-6.3 12.6z"/>
<path class=c d="M648 731h12.6l-6.3 12.6z"/>
<path class=c d="M506 165h12.6l-6.3 12.6z"/>
<path class=d d="M595 310h13.6v13.6h-13.6z"/>
<path class=e d="M776 522l6.4 4.6-2.4 7.5-7.9 0-2.4-7.5z"/>
<circle class=a cx=502 cy=493 r=7.1 />
<path class=d d="M571 287h13.6v13.6h-13.6z"/>
<path class=b d="M760 351l3.2 3.2 3.2-3.2 3.2 3.2-3.2 3.2 3.2 3.2-3.2 3.2-3.2-3.2-3.2 3.2-3.2-3.2 3.2-3.2-3.2-3.2z"/>
<path class=d d="M624 309h13.6v13.6h-13.6z"/>
<path class=d d="M570 471h13.6v13.6h-13.6z"/>
<circle class=a cx=500 cy=413 r=7.1 />
<path class=d d="M667 515h13.6v13.6h-13.6z"/>
<circle class=a cx=381 cy=503 r=7.1 />
<path class=c d="M174 467h12.6l-6.3 12.6z"/>
<path class=b d="M588 493l3.2 3.2 3.2-3.2 3.2 3.2-3.2 3.2 3.2 3.2-3.2 3.2-3.2-3.2-3.2 3.2-3.2-3.2 3.2-3.2-3.2-3.2z"/>
<path class=c d="M632 695h12.6l-6.3 12.6z"/>
<circle class=a cx=477 cy=385 r=7.1 />
<circle class=a cx=554 cy=513 r=7.1 />
<path class=b d="M644 538l3.2 3.2 3.2-3.2 3.2 3.2-3.2 3.2 3.2 3.2-3.2 3.2-3.2-3.2-3.2 3.2-3.2-3.2 3.2-3.2-3.2-3.2z"/>
<path class=c d="M598 143h12.6l-6.3 12.6z"/>
<path class=c d="M407 230h12.6l-6.3 12.6z"/>
<path class=b d="M432 699l3.2 3.2 3.2-3.2 3.2 3.2-3.2 3.2 3.2 3.2-3.2 3.2-3.2-3.2-3.2 3.2-3.2-3.2 3.2-3.2-3.2-3.2z"/>
<path class=e d="M778 496l6.4 4.6-2.4 7.5-7.9 0-2.4-7.5z"/>
<path class=e d="M843 514l6.4 4.6-2.4 7.5-7.9 0-2.4-7.5z"/>
<circle class=a cx=426 cy=413 r=7.1 />
<circle class=a cx=478 cy=401 r=7.1 />
<path class=e d="M786 544l6.4 4.6-2.4 7.5-7.9 0-2.4-7.5z"/>
<path class=c d="M667 167h12.6l-6.3 12.6z"/>
<path class=d d="M735 400h13.6v13.6h-13.6z"/>
<path class=e d="M343 609l6.4 4.6-2.4 7.5-7.9 0-2.4-7.5z"/>
<path class=e d="M808 519l6.4 4.6-2.4 7.5-7.9 0-2.4-7.5z"/>
<circle class=a cx=495 cy=310 r=7.1 />
<path class=e d="M336 567l6.4 4.6-2.4 7.5-7.9 0-2.4-7.5z"/>
<path class=b d="M748 338l3.2 3.2 3.2-3.2 3.2 3.2-3.2 3.2 3.2 3.2-3.2 3.2-3.2-3.2-3.2 3.2-3.2-3.2 3.2-3.2-3.2-3.2z"/>
<path class=e d="M312 616l6.4 4.6-2.4 7.5-7.9 0-2.4-7.5z"/>
<path class=b d="M750 338l3.2 3.2 3.2-3.2 3.2 3.2-3.2 3.2 3.2 3.2-3.2 3.2-3.2-3.2-3.2 3.2-3.2-3.2 3.2-3.2-3.2-3.2z"/>
<path class=d d="M430 509h13.6v13.6h-13.6z"/>
<path class=b d="M533 500l3.2 3.2 3.2-3.2 3.2 3.2-3.2 3.2 3.2 3.2-3.2 3.2-3.2-3.2-3.2 3.2-3.2-3.2 3.2-3.2-3.2-3.2z"/>
<circle class=a cx=715 cy=451 r=7.1 />
<path class=c d="M609 161h12.6l-6.3 12.6z"/>
<circle class=a cx=478 cy=438 r=7.1 />
<circle class=a cx=440 cy=395 r=7.1 />
<path class=d d="M334 415h13.6v13.6h-13.6z"/>
<path class=e d="M320 623l6.4 4.6-2.4 7.5-7.9 0-2.4-7.5z"/>
<path class=b d="M450 729l3.2 3.2 3.2-3.2 3.2 3.2-3.2 3.2 3.2 3.2-3.2 3.2-3.2-3.2-3.2 3.2-3.2-3.2 3.2-3.2-3.2-3.2z"/>
<path class=d d="M588 515h13.6v13.6h-13.6z"/>
<path class=e d="M345 625l6.4 4.6-2.4 7.5-7.9 0-2.4-7.5z"/>
<path class=c d="M592 665h12.6l-6.3 12.6z"/>
<circle class=a cx=609 cy=509 r=7.1 />
<path class=c d="M483 103h12.6l-6.3 12.6z"/>
<path class=c d="M504 158h12.6l-6.3 12.6z"/>
<path class=e d="M858 539l6.4 4.6-2.4 7.5-7.9 0-2.4-7.5z"/>
<path class=b d="M425 708l3.2 3.2 3.2-3.2 3.2 3.2-3.2 3.2 3.2 3.2-3.2 3.2-3.2-3.2-3.2 3.2-3.2-3.2 3.2-3.2-3.2-3.2z"/>
<path class=e d="M554 336l6.4 4.6-2.4 7.5-7.9 0-2.4-7.5z"/>
<circle class=a cx=573 cy=485 r=7.1 />
<path class=b d="M615 520l3.2 3.2 3.2-3.2 3.2 3.2-3.2 3.2 3.2 3.2-3.2 3.2-3.2-3.2-3.2 3.2-3.2-3.2 3.2-3.2-3.2-3.2z"/>
<path class=e d="M492 434l6.4 4.6-2.4 7.5-7.9 0-2.4-7.5z"/>
<path class=c d="M668 175h12.6l-6.3 12.6z"/>
<path class=c d="M498 219h12.6l-6.3 12.6z"/>
<path class=e d="M399 606l6.4 4.6-2.4 7.5-7.9 0-2.4-7.5z"/>
<path class=c d="M496 197h12.6l-6.3 12.6z"/>
<path class=c d="M504 187h12.6l-6.3 12.6z"/>
<path class=b d="M504 813l3.2 3.2 3.2-3.2 3.2 3.2-3.2 3.2 3.2 3.2-3.2 3.2-3.2-3.2-3.2 3.2-3.2-3.2 3.2-3.2-3.2-3.2z"/>
<path class=e d="M649 375l6.4 4.6-2.4 7.5-7.9 0-2.4-7.5z"/>
<path class=b d="M539 816l3.2 3.2 3.2-3.2 3.2 3.2-3.2 3.2 3.2 3.2-3.2 3.2-3.2-3.2-3.2 3.2-3.2-3.2 3.2-3.2-3.2-3.2z"/>
<path class=e d="M356 585l6.4 4.6-2.4 7.5-7.9 0-2.4-7.5z"/>
<path class=b d="M167 585l3.2 3.2 3.2-3.2 3.2 3.2-3.2 3.2 3.2 3.2-3.2 3.2-3.2-3.2-3.2 3.2-3.2-3.2 3.2-3.2-3.2-3.2z"/>
<path class=e d="M847 544l6.4 4.6-2.4 7.5-7.9 0-2.4-7.5z"/>
<path class=d d="M557 274h13.6v13.6h-13.6z"/>
<path class=c d="M383 192h12.6l-6.3 12.6z"/>
<path class=c d="M138 384h12.6l-6.3 12.6z"/>
<path class=c d="M659 188h12.6l-6.3 12.6z"/>
<circle class=a cx=581 cy=509 r=7.1 />
<path class=b d="M573 324l3.2 3.2 3.2-3.2 3.2 3.2-3.2 3.2 3.2 3.2-3.2 3.2-3.2-3.2-3.2 3.2-3.2-3.2 3.2-3.2-3.2-3.2z"/>
<circle class=a cx=633 cy=556 r=7.1 />
<path class=c d="M133 378h12.6l-6.3 12.6z"/>
<path class=e d="M789 552l6.4 4.6-2.4 7.5-7.9 0-2.4-7.5z"/>
<path class=b d="M552 779l3.2 3.2 3.2-3.2 3.2 3.2-3.2 3.2 3.2 3.2-3.2 3.2-3.2-3.2-3.2 3.2-3.2-3.2 3.2-3.2-3.2-3.2z"/>
<path class=c d="M486 111h12.6l-6.3 12.6z"/>
<path class=c d="M378 181h12.6l-6.3 12.6z"/>
<path class=c d="M262 264h12.6l-6.3 12.6z"/>
<path class=e d="M724 474l6.4 4.6-2.4 7.5-7.9 0-2.4-7.5z"/>
<path class=d d="M624 326h13.6v13.6h-13.6z"/>
<path class=b d="M478 739l3.2 3.2 3.2-3.2 3.2 3.2-3.2 3.2 3.2 3.2-3.2 3.2-3.2-3.2-3.2 3.2-3.2-3.2 3.2-3.2-3.2-3.2z"/>
<path class=d d="M353 377h13.6v13.6h-13.6z"/>
<path class=c d="M369 174h12.6l-6.3 12.6z"/>
<path class=b d="M696 325l3.2 3.2 3.2-3.2 3.2 3.2-3.2 3.2 3.2 3.2-3.2 3.2-3.2-3.2-3.2 3.2-3.2-3.2 3.2-3.2-3.2-3.2z"/>
<path class=d d="M650 348h13.6v13.6h-13.6z"/>
<path class=c d="M605 669h12.6l-6.3 12.6z"/>
<path class=b d="M611 571l3.2 3.2 3.2-3.2 3.2 3.2-3.2 3.2 3.2 3.2-3.2 3.2-3.2-3.2-3.2 3.2-3.2-3.2 3.2-3.2-3.2-3.2z"/>
<circle class=a cx=388 cy=506 r=7.1 />
<path class=b d="M568 765l3.2 3.2 3.2-3.2 3.2 3.2-3.2 3.2 3.2 3.2-3.2 3.2-3.2-3.2-3.2 3.2-3.2-3.2 3.2-3.2-3.2-3.2z"/>
<circle class=a cx=673 cy=499 r=7.1 />
<circle class=a cx=630 cy=434 r=7.1 />
<path class=d d="M639 473h13.6v13.6h-13.6z"/>
<path class=d d="M455 534h13.6v13.6h-13.6z"/>
<path class=b d="M175 564l3.2 3.2 3.2-3.2 3.2 3.2-3.2 3.2 3.2 3.2-3.2 3.2-3.2-3.2-3.2 3.2-3.2-3.2 3.2-3.2-3.2-3.2z"/>
<path class=e d="M769 445l6.4 4.6-2.4 7.5-7.9 0-2.4-7.5z"/>
<circle class=a cx=486 cy=329 r=7.1 />
<path class=e d="M392 590l6.4 4.6-2.4 7.5-7.9 0-2.4-7.5z"/>
<circle class=a cx=716 cy=499 r=7.1 />
<path class=e d="M310 614l6.4 4.6-2.4 7.5-7.9 0-2.4-7.5z"/>
<path class=e d="M319 625l6.4 4.6-2.4 7.5-7.9 0-2.4-7.5z"/>
<path class=e d="M595 344l6.4 4.6-2.4 7.5-7.9 0-2.4-7.5z"/>
<path class=d d="M311 397h13.6v13.6h-13.6z"/>
<path class=b d="M171 577l3.2 3.2 3.2-3.2 3.2 3.2-3.2 3.2 3.2 3.2-3.2 3.2-3.2-3.2-3.2 3.2-3.2-3.2 3.2-3.2-3.2-3.2z"/>
<path class=c d="M495 217h12.6l-6.3 12.6z"/>
<path class=e d="M381 598l6.4 4.6-2.4 7.5-7.9 0-2.4-7.5z"/>
<path class=e d="M310 553l6.4 4.6-2.4 7.5-7.9 0-2.4-7.5z"/>
<path class=e d="M845 512l6.4 4.6-2.4 7.5-7.9 0-2.4-7.5z"/>
<path class=b d="M360 754l3.2 3.2 3.2-3.2 3.2 3.2-3.2 3.2 3.2 3.2-3.2 3.2-3.2-3.2-3.2 3.2-3.2-3.2 3.2-3.2-3.2-3.2z"/>
<circle class=a cx=676 cy=502 r=7.1 />
<path class=b d="M346 762l3.2 3.2 3.2-3.2 3.2 3.2-3.2 3.2 3.2 3.2-3.2 3.2-3.2-3.2-3.2 3.2-3.2-3.2 3.2-3.2-3.2-3.2z"/>
<path class=d d="M661 354h13.6v13.6h-13.6z"/>
<circle class=a cx=444 cy=577 r=7.1 />
<path class=b d="M198 600l3.2 3.2 3.2-3.2 3.2 3.2-3.2 3.2 3.2 3.2-3.2 3.2-3.2-3.2-3.2 3.2-3.2-3.2 3.2-3.2-3.2-3.2z"/>
<path class=c d="M486 124h12.6l-6.3 12.6z"/>
<circle class=a cx=672 cy=502 r=7.1 />
<path class=c d="M473 105h12.6l-6.3 12.6z"/>
<path class=e d="M804 482l6.4 4.6-2.4 7.5-7.9 0-2.4-7.5z"/>
<circle class=a cx=565 cy=498 r=7.1 />
<path class=e d="M347 562l6.4 4.6-2.4 7.5-7.9 0-2.4-7.5z"/>
<path class=e d="M659 384l6.4 4.6-2.4 7.5-7.9 0-2.4-7.5z"/>
<path class=b d="M661 522l3.2 3.2 3.2-3.2 3.2 3.2-3.2 3.2 3.2 3.2-3.2 3.2-3.2-3.2-3.2 3.2-3.2-3.2 3.2-3.2-3.2-3.2z"/>
<circle class=a cx=582 cy=492 r=7.1 />
<path class=e d="M769 560l6.4 4.6-2.4 7.5-7.9 0-2.4-7.5z"/>
<circle class=a cx=385 cy=549 r=7.1 />
<path class=d d="M597 340h13.6v13.6h-13.6z"/>
<path class=d d="M561 286h13.6v13.6h-13.6z"/>
<circle class=a cx=400 cy=471 r=7.1 />
<path class=c d="M355 170h12.6l-6.3 12.6z"/>
<path class=c d="M659 165h12.6l-6.3 12.6z"/>
<path class=b d="M742 354l3.2 3.2 3.2-3.2 3.2 3.2-3.2 3.2 3.2 3.2-3.2 3.2-3.2-3.2-3.2 3.2-3.2-3.2 3.2-3.2-3.2-3.2z"/>
<path class=b d="M610 575l3.2 3.2 3.2-3.2 3.2 3.2-3.2 3.2 3.2 3.2-3.2 3.2-3.2-3.2-3.2 3.2-3.2-3.2 3.2-3.2-3.2-3.2z"/>
<path class=c d="M274 258h12.6l-6.3 12.6z"/>
<path class=c d="M276 252h12.6l-6.3 12.6z"/>
<path class=b d="M342 748l3.2 3.2 3.2-3.2 3.2 3.2-3.2 3.2 3.2 3.2-3.2 3.2-3.2-3.2-3.2 3.2-3.2-3.2 3.2-3.2-3.2-3.2z"/>
<circle class=a cx=399 cy=575 r=7.1 />
<path class=b d="M346 740l3.2 3.2 3.2-3.2 3.2 3.2-3.2 3.2 3.2 3.2-3.2 3.2-3.2-3.2-3.2 3.2-3.2-3.2 3.2-3.2-3.2-3.2z"/>
<path class=e d="M563 342l6.4 4.6-2.4 7.5-7.9 0-2.4-7.5z"/>
<path class=e d="M775 566l6.4 4.6-2.4 7.5-7.9 0-2.4-7.5z"/>
<circle class=a cx=687 cy=472 r=7.1 />
<path class=e d="M821 574l6.4 4.6-2.4 7.5-7.9 0-2.4-7.5z"/>
<path class=c d="M219 459h12.6l-6.3 12.6z"/>
<path class=d d="M492 384h13.6v13.6h-13.6z"/>
<circle class=a cx=473 cy=460 r=7.1 />
<path class=d d="M473 487h13.6v13.6h-13.6z"/>
<path class=b d="M461 695l3.2 3.2 3.2-3.2 3.2 3.2-3.2 3.2 3.2 3.2-3.2 3.2-3.2-3.2-3.2 3.2-3.2-3.2 3.2-3.2-3.2-3.2z"/>
<path class=b d="M533 799l3.2 3.2 3.2-3.2 3.2 3.2-3.2 3.2 3.2 3.2-3.2 3.2-3.2-3.2-3.2 3.2-3.2-3.2 3.2-3.2-3.2-3.2z"/>
<path class=d d="M422 588h13.6v13.6h-13.6z"/>
<path class=b d="M562 506l3.2 3.2 3.2-3.2 3.2 3.2-3.2 3.2 3.2 3.2-3.2 3.2-3.2-3.2-3.2 3.2-3.2-3.2 3.2-3.2-3.2-3.2z"/>
<path class=b d="M418 563l3.2 3.2 3.2-3.2 3.2 3.2-3.2 3.2 3.2 3.2-3.2 3.2-3.2-3.2-3.2 3.2-3.2-3.2 3.2-3.2-3.2-3.2z"/>
<path class=b d="M203 626l3.2 3.2 3.2-3.2 3.2 3.2-3.2 3.2 3.2 3.2-3.2 3.2-3.2-3.2-3.2 3.2-3.2-3.2 3.2-3.2-3.2-3.2z"/>
<path class=e d="M305 576l6.4 4.6-2.4 7.5-7.9 0-2.4-7.5z"/>
<circle class=a cx=663 cy=435 r=7.1 />
<path class=e d="M807 484l6.4 4.6-2.4 7.5-7.9 0-2.4-7.5z"/>
<path class=c d="M587 659h12.6l-6.3 12.6z"/>
<path class=c d="M236 304h12.6l-6.3 12.6z"/>
<path class=c d="M512 160h12.6l-6.3 12.6z"/>
<path class=d d="M604 326h13.6v13.6h-13.6z"/>
<path class=e d="M437 335l6.4 4.6-2.4 7.5-7.9 0-2.4-7.5z"/>
<path class=d d="M521 405h13.6v13.6h-13.6z"/>
<path class=b d="M576 580l3.2 3.2 3.2-3.2 3.2 3.2-3.2 3.2 3.2 3.2-3.2 3.2-3.2-3.2-3.2 3.2-3.2-3.2 3.2-3.2-3.2-3.2z"/>
<path class=e d="M599 530l6.4 4.6-2.4 7.5-7.9 0-2.4-7.5z"/>
<path class=b d="M388 728l3.2 3.2 3.2-3.2 3.2 3.2-3.2 3.2 3.2 3.2-3.2 3.2-3.2-3.2-3.2 3.2-3.2-3.2 3.2-3.2-3.2-3.2z"/>
<path class=e d="M580 557l6.4 4.6-2.4 7.5-7.9 0-2.4-7.5z"/>
<path class=e d="M356 618l6.4 4.6-2.4 7.5-7.9 0-2.4-7.5z"/>
<path class=c d="M503 165h12.6l-6.3 12.6z"/>
<path class=d d="M519 391h13.6v13.6h-13.6z"/>
<path class=c d="M487 133h12.6l-6.3 12.6z"/>
<path class=c d="M490 216h12.6l-6.3 12.6z"/>
<path class=d d="M325 397h13.6v13.6h-13.6z"/>
<path class=d d="M505 552h13.6v13.6h-13.6z"/>
<path class=c d="M131 381h12.6l-6.3 12.6z"/>
<path class=c d="M497 120h12.6l-6.3 12.6z"/>
<path class=d d="M583 501h13.6v13.6h-13.6z"/>
<path class=c d="M146 363h12.6l-6.3 12.6z"/>
<path class=d d="M491 571h13.6v13.6h-13.6z"/>
<circle class=a cx=476 cy=383 r=7.1 />
<path class=e d="M354 616l6.4 4.6-2.4 7.5-7.9 0-2.4-7.5z"/>
<path class=e d="M706 455l6.4 4.6-2.4 7.5-7.9 0-2.4-7.5z"/>
<path class=d d="M447 569h13.6v13.6h-13.6z"/>
<path class=c d="M653 713h12.6l-6.3 12.6z"/>
<path class=c d="M623 681h12.6l-6.3 12.6z"/>
<path class=d d="M467 510h13.6v13.6h-13.6z"/>
<path class=c d="M182 468h12.6l-6.3 12.6z"/>
<path class=e d="M363 601l6.4 4.6-2.4 7.5-7.9 0-2.4-7.5z"/>
<path class=d d="M618 375h13.6v13.6h-13.6z"/>
<path class=b d="M758 364l3.2 3.2 3.2-3.2 3.2 3.2-3.2 3.2 3.2 3.2-3.2 3.2-3.2-3.2-3.2 3.2-3.2-3.2 3.2-3.2-3.2-3.2z"/>
<path class=b d="M165 568l3.2 3.2 3.2-3.2 3.2 3.2-3.2 3.2 3.2 3.2-3.2 3.2-3.2-3.2-3.2 3.2-3.2-3.2 3.2-3.2-3.2-3.2z"/>
<path class=c d="M378 205h12.6l-6.3 12.6z"/>
<path class=b d="M384 742l3.2 3.2 3.2-3.2 3.2 3.2-3.2 3.2 3.2 3.2-3.2 3.2-3.2-3.2-3.2 3.2-3.2-3.2 3.2-3.2-3.2-3.2z"/>
<path class=d d="M445 561h13.6v13.6h-13.6z"/>
<circle class=a cx=719 cy=498 r=7.1 />
<path class=d d="M492 387h13.6v13.6h-13.6z"/>
<path class=b d="M562 458l3.2 3.2 3.2-3.2 3.2 3.2-3.2 3.2 3.2 3.2-3.2 3.2-3.2-3.2-3.2 3.2-3.2-3.2 3.2-3.2-3.2-3.2z"/>
<path class=d d="M351 383h13.6v13.6h-13.6z"/>
<path class=d d="M495 447h13.6v13.6h-13.6z"/>
<path class=d d="M445 516h13.6v13.6h-13.6z"/>
<path class=d d="M577 278h13.6v13.6h-13.6z"/>
<circle class=a cx=666 cy=482 r=7.1 />
<path class=b d="M575 576l3.2 3.2 3.2-3.2 3.2 3.2-3.2 3.2 3.2 3.2-3.2 3.2-3.2-3.2-3.2 3.2-3.2-3.2 3.2-3.2-3.2-3.2z"/>
<circle class=a cx=808 cy=464 r=7.1 />
<path class=d d="M676 473h13.6v13.6h-13.6z"/>
<path class=e d="M784 480l6.4 4.6-2.4 7.5-7.9 0-2.4-7.5z"/>
<path class=e d="M555 337l6.4 4.6-2.4 7.5-7.9 0-2.4-7.5z"/>
<path class=c d="M653 174h12.6l-6.3 12.6z"/>
<path class=c d="M650 173h12.6l-6.3 12.6z"/>
<path class=e d="M765 515l6.4 4.6-2.4 7.5-7.9 0-2.4-7.5z"/>
<path class=c d="M267 266h12.6l-6.3 12.6z"/>
<path class=e d="M777 578l6.4 4.6-2.4 7.5-7.9 0-2.4-7.5z"/>
<path class=d d="M600 303h13.6v13.6h-13.6z"/>
<path class=c d="M390 209h12.6l-6.3 12.6z"/>
<circle class=a cx=503 cy=441 r=7.1 />
<path class=e d="M849 531l6.4 4.6-2.4 7.5-7.9 0-2.4-7.5z"/>
<path class=d d="M697 512h13.6v13.6h-13.6z"/>
<path class=e d="M797 491l6.4 4.6-2.4 7.5-7.9 0-2.4-7.5z"/>
<path class=d d="M580 305h13.6v13.6h-13.6z"/>
<path class=d d="M618 486h13.6v13.6h-13.6z"/>
<path class=b d="M434 713l3.2 3.2 3.2-3.2 3.2 3.2-3.2 3.2 3.2 3.2-3.2 3.2-3.2-3.2-3.2 3.2-3.2-3.2 3.2-3.2-3.2-3.2z"/>
<circle class=a cx=589 cy=479 r=7.1 />
<path class=d d="M567 457h13.6v13.6h-13.6z"/>
<path class=c d="M635 672h12.6l-6.3 12.6z"/>
<path class=e d="M347 575l6.4 4.6-2.4 7.5-7.9 0-2.4-7.5z"/>
<path class=b d="M202 598l3.2 3.2 3.2-3.2 3.2 3.2-3.2 3.2 3.2 3.2-3.2 3.2-3.2-3.2-3.2 3.2-3.2-3.2 3.2-3.2-3.2-3.2z"/>
<path class=b d="M674 427l3.2 3.2 3.2-3.2 3.2 3.2-3.2 3.2 3.2 3.2-3.2 3.2-3.2-3.2-3.2 3.2-3.2-3.2 3.2-3.2-3.2-3.2z"/>
<path class=d d="M653 404h13.6v13.6h-13.6z"/>
<path class=e d="M421 384l6.4 4.6-2.4 7.5-7.9 0-2.4-7.5z"/>
<path class=d d="M536 426h13.6v13.6h-13.6z"/>
<path class=e d="M762 568l6.4 4.6-2.4 7.5-7.9 0-2.4-7.5z"/>
<path class=e d="M842 511l6.4 4.6-2.4 7.5-7.9 0-2.4-7.5z"/>
<path class=b d="M454 686l3.2 3.2 3.2-3.2 3.2 3.2-3.2 3.2 3.2 3.2-3.2 3.2-3.2-3.2-3.2 3.2-3.2-3.2 3.2-3.2-3.2-3.2z"/>
<path class=c d="M578 668h12.6l-6.3 12.6z"/>
<path class=e d="M419 381l6.4 4.6-2.4 7.5-7.9 0-2.4-7.5z"/>
<path class=b d="M413 570l3.2 3.2 3.2-3.2 3.2 3.2-3.2 3.2 3.2 3.2-3.2 3.2-3.2-3.2-3.2 3.2-3.2-3.2 3.2-3.2-3.2-3.2z"/>
<path class=b d="M196 602l3.2 3.2 3.2-3.2 3.2 3.2-3.2 3.2 3.2 3.2-3.2 3.2-3.2-3.2-3.2 3.2-3.2-3.2 3.2-3.2-3.2-3.2z"/>
<path class=d d="M427 550h13.6v13.6h-13.6z"/>
<path class=d d="M454 514h13.6v13.6h-13.6z"/>
<path class=d d="M618 378h13.6v13.6h-13.6z"/>
<path class=b d="M198 625l3.2 3.2 3.2-3.2 3.2 3.2-3.2 3.2 3.2 3.2-3.2 3.2-3.2-3.2-3.2 3.2-3.2-3.2 3.2-3.2-3.2-3.2z"/>
<circle class=a cx=376 cy=518 r=7.1 />
<path class=c d="M242 276h12.6l-6.3 12.6z"/>
<path class=d d="M596 326h13.6v13.6h-13.6z"/>
<path class=c d="M378 173h12.6l-6.3 12.6z"/>
<path class=d d="M494 571h13.6v13.6h-13.6z"/>
<path class=e d="M566 363l6.4 4.6-2.4 7.5-7.9 0-2.4-7.5z"/>
<path class=d d="M460 488h13.6v13.6h-13.6z"/>
<path class=e d="M850 532l6.4 4.6-2.4 7.5-7.9 0-2.4-7.5z"/>
<path class=e d="M312 584l6.4 4.6-2.4 7.5-7.9 0-2.4-7.5z"/>
<path class=d d="M446 591h13.6v13.6h-13.6z"/>
<path class=b d="M632 569l3.2 3.2 3.2-3.2 3.2 3.2-3.2 3.2 3.2 3.2-3.2 3.2-3.2-3.2-3.2 3.2-3.2-3.2 3.2-3.2-3.2-3.2z"/>
<path class=e d="M800 497l6.4 4.6-2.4 7.5-7.9 0-2.4-7.5z"/>
<path class=b d="M190 565l3.2 3.2 3.2-3.2 3.2 3.2-3.2 3.2 3.2 3.2-3.2 3.2-3.2-3.2-3.2 3.2-3.2-3.2 3.2-3.2-3.2-3.2z"/>
<path class=d d="M665 355h13.6v13.6h-13.6z"/>
<path class=b d="M736 339l3.2 3.2 3.2-3.2 3.2 3.2-3.2 3.2 3.2 3.2-3.2 3.2-3.2-3.2-3.2 3.2-3.2-3.2 3.2-3.2-3.2-3.2z"/>
<path class=d d="M519 348h13.6v13.6h-13.6z"/>
<circle class=a cx=501 cy=314 r=7.1 />
<path class=b d="M447 708l3.2 3.2 3.2-3.2 3.2 3.2-3.2 3.2 3.2 3.2-3.2 3.2-3.2-3.2-3.2 3.2-3.2-3.2 3.2-3.2-3.2-3.2z"/>
<path class=d d="M534 514h13.6v13.6h-13.6z"/>
<circle class=a cx=443 cy=392 r=7.1 />
<path class=e d="M427 604l6.4 4.6-2.4 7.5-7.9 0-2.4-7.5z"/>
<path class=e d="M732 451l6.4 4.6-2.4 7.5-7.9 0-2.4-7.5z"/>
<path class=b d="M473 702l3.2 3.2 3.2-3.2 3.2 3.2-3.2 3.2 3.2 3.2-3.2 3.2-3.2-3.2-3.2 3.2-3.2-3.2 3.2-3.2-3.2-3.2z"/>
<path class=b d="M713 350l3.2 3.2 3.2-3.2 3.2 3.2-3.2 3.2 3.2 3.2-3.2 3.2-3.2-3.2-3.2 3.2-3.2-3.2 3.2-3.2-3.2-3.2z"/>
<path class=c d="M605 144h12.6l-6.3 12.6z"/>
<path class=d d="M532 400h13.6v13.6h-13.6z"/>
<path class=b d="M697 327l3.2 3.2 3.2-3.2 3.2 3.2-3.2 3.2 3.2 3.2-3.2 3.2-3.2-3.2-3.2 3.2-3.2-3.2 3.2-3.2-3.2-3.2z"/>
<path class=d d="M620 458h13.6v13.6h-13.6z"/>
<path class=b d="M174 595l3.2 3.2 3.2-3.2 3.2 3.2-3.2 3.2 3.2 3.2-3.2 3.2-3.2-3.2-3.2 3.2-3.2-3.2 3.2-3.2-3.2-3.2z"/>
<path class=c d="M229 453h12.6l-6.3 12.6z"/>
<path class=e d="M541 351l6.4 4.6-2.4 7.5-7.9 0-2.4-7.5z"/>
<path class=d d="M515 480h13.6v13.6h-13.6z"/>
<path class=c d="M212 464h12.6l-6.3 12.6z"/>
<circle class=a cx=385 cy=504 r=7.1 />
<path class=e d="M808 500l6.4 4.6-2.4 7.5-7.9 0-2.4-7.5z"/>
<path class=d d="M615 290h13.6v13.6h-13.6z"/>
<path class=c d="M253 272h12.6l-6.3 12.6z"/>
<path class=b d="M574 576l3.2 3.2 3.2-3.2 3.2 3.2-3.2 3.2 3.2 3.2-3.2 3.2-3.2-3.2-3.2 3.2-3.2-3.2 3.2-3.2-3.2-3.2z"/>
<circle class=a cx=787 cy=428 r=7.1 />
<path class=b d="M759 348l3.2 3.2 3.2-3.2 3.2 3.2-3.2 3.2 3.2 3.2-3.2 3.2-3.2-3.2-3.2 3.2-3.2-3.2 3.2-3.2-3.2-3.2z"/>
<path class=e d="M820 573l6.4 4.6-2.4 7.5-7.9 0-2.4-7.5z"/>
<circle class=a cx=574 cy=536 r=7.1 />
<path class=c d="M368 152h12.6l-6.3 12.6z"/>
<path class=b d="M445 702l3.2 3.2 3.2-3.2 3.2 3.2-3.2 3.2 3.2 3.2-3.2 3.2-3.2-3.2-3.2 3.2-3.2-3.2 3.2-3.2-3.2-3.2z"/>
<path class=d d="M492 562h13.6v13.6h-13.6z"/>
<path class=c d="M397 220h12.6l-6.3 12.6z"/>
<path class=b d="M759 340l3.2 3.2 3.2-3.2 3.2 3.2-3.2 3.2 3.2 3.2-3.2 3.2-3.2-3.2-3.2 3.2-3.2-3.2 3.2-3.2-3.2-3.2z"/>
<path class=c d="M487 107h12.6l-6.3 12.6z"/>
<circle class=a cx=396 cy=463 r=7.1 />
<path class=e d="M829 580l6.4 4.6-2.4 7.5-7.9 0-2.4-7.5z"/>
<path class=d d="M403 398h13.6v13.6h-13.6z"/>
<path class=c d="M134 375h12.6l-6.3 12.6z"/>
<path class=c d="M576 667h12.6l-6.3 12.6z"/>
<circle class=a cx=494 cy=368 r=7.1 />
<path class=e d="M441 582l6.4 4.6-2.4 7.5-7.9 0-2.4-7.5z"/>
<path class=b d="M754 337l3.2 3.2 3.2-3.2 3.2 3.2-3.2 3.2 3.2 3.2-3.2 3.2-3.2-3.2-3.2 3.2-3.2-3.2 3.2-3.2-3.2-3.2z"/>
<circle class=a cx=779 cy=483 r=7.1 />
<path class=d d="M453 519h13.6v13.6h-13.6z"/>
<path class=d d="M595 296h13.6v13.6h-13.6z"/>
<path class=d d="M300 354h13.6v13.6h-13.6z"/>
<path class=b d="M613 547l3.2 3.2 3.2-3.2 3.2 3.2-3.2 3.2 3.2 3.2-3.2 3.2-3.2-3.2-3.2 3.2-3.2-3.2 3.2-3.2-3.2-3.2z"/>
<path class=e d="M438 334l6.4 4.6-2.4 7.5-7.9 0-2.4-7.5z"/>
<path class=d d="M519 403h13.6v13.6h-13.6z"/>
<path class=d d="M560 440h13.6v13.6h-13.6z"/>
<path class=b d="M534 820l3.2 3.2 3.2-3.2 3.2 3.2-3.2 3.2 3.2 3.2-3.2 3.2-3.2-3.2-3.2 3.2-3.2-3.2 3.2-3.2-3.2-3.2z"/>
<path class=b d="M585 524l3.2 3.2 3.2-3.2 3.2 3.2-3.2 3.2 3.2 3.2-3.2 3.2-3.2-3.2-3.2 3.2-3.2-3.2 3.2-3.2-3.2-3.2z"/>
<path class=d d="M350 395h13.6v13.6h-13.6z"/>
<circle class=a cx=442 cy=394 r=7.1 />
<path class=e d="M441 589l6.4 4.6-2.4 7.5-7.9 0-2.4-7.5z"/>
<path class=b d="M439 737l3.2 3.2 3.2-3.2 3.2 3.2-3.2 3.2 3.2 3.2-3.2 3.2-3.2-3.2-3.2 3.2-3.2-3.2 3.2-3.2-3.2-3.2z"/>
<path class=c d="M233 288h12.6l-6.3 12.6z"/>
<path class=b d="M185 618l3.2 3.2 3.2-3.2 3.2 3.2-3.2 3.2 3.2 3.2-3.2 3.2-3.2-3.2-3.2 3.2-3.2-3.2 3.2-3.2-3.2-3.2z"/>
<path class=c d="M138 371h12.6l-6.3 12.6z"/>
<path class=e d="M445 484l6.4 4.6-2.4 7.5-7.9 0-2.4-7.5z"/>
<path class=b d="M531 765l3.2 3.2 3.2-3.2 3.2 3.2-3.2 3.2 3.2 3.2-3.2 3.2-3.2-3.2-3.2 3.2-3.2-3.2 3.2-3.2-3.2-3.2z"/>
<path class=b d="M467 768l3.2 3.2 3.2-3.2 3.2 3.2-3.2 3.2 3.2 3.2-3.2 3.2-3.2-3.2-3.2 3.2-3.2-3.2 3.2-3.2-3.2-3.2z"/>
<path class=d d="M418 575h13.6v13.6h-13.6z"/>
<circle class=a cx=413 cy=443 r=7.1 />
<path class=b d="M203 604l3.2 3.2 3.2-3.2 3.2 3.2-3.2 3.2 3.2 3.2-3.2 3.2-3.2-3.2-3.2 3.2-3.2-3.2 3.2-3.2-3.2-3.2z"/>
<path class=e d="M489 437l6.4 4.6-2.4 7.5-7.9 0-2.4-7.5z"/>
<path class=e d="M798 575l6.4 4.6-2.4 7.5-7.9 0-2.4-7.5z"/>
<path class=c d="M293 269h12.6l-6.3 12.6z"/>
<circle class=a cx=718 cy=446 r=7.1 />
<path class=d d="M479 544h13.6v13.6h-13.6z"/>
<circle class=a cx=462 cy=410 r=7.1 />
<path class=c d="M388 206h12.6l-6.3 12.6z"/>
<path class=d d="M455 324h13.6v13.6h-13.6z"/>
<path class=c d="M237 288h12.6l-6.3 12.6z"/>
<path class=e d="M421 384l6.4 4.6-2.4 7.5-7.9 0-2.4-7.5z"/>
<circle class=a cx=658 cy=517 r=7.1 />
<path class=e d="M427 490l6.4 4.6-2.4 7.5-7.9 0-2.4-7.5z"/>
<path class=c d="M593 685h12.6l-6.3 12.6z"/>
<path class=b d="M454 683l3.2 3.2 3.2-3.2 3.2 3.2-3.2 3.2 3.2 3.2-3.2 3.2-3.2-3.2-3.2 3.2-3.2-3.2 3.2-3.2-3.2-3.2z"/>
<path class=e d="M445 486l6.4 4.6-2.4 7.5-7.9 0-2.4-7.5z"/>
<path class=d d="M723 386h13.6v13.6h-13.6z"/>
<path class=d d="M735 398h13.6v13.6h-13.6z"/>
<circle class=a cx=545 cy=476 r=7.1 />
<path class=c d="M619 694h12.6l-6.3 12.6z"/>
<path class=b d="M536 780l3.2 3.2 3.2-3.2 3.2 3.2-3.2 3.2 3.2 3.2-3.2 3.2-3.2-3.2-3.2 3.2-3.2-3.2 3.2-3.2-3.2-3.2z"/>
<path class=c d="M224 459h12.6l-6.3 12.6z"/>
<path class=b d="M756 360l3.2 3.2 3.2-3.2 3.2 3.2-3.2 3.2 3.2 3.2-3.2 3.2-3.2-3.2-3.2 3.2-3.2-3.2 3.2-3.2-3.2-3.2z"/>
<circle class=a cx=694 cy=440 r=7.1 />
<path class=e d="M785 547l6.4 4.6-2.4 7.5-7.9 0-2.4-7.5z"/>
<path class=b d="M553 765l3.2 3.2 3.2-3.2 3.2 3.2-3.2 3.2 3.2 3.2-3.2 3.2-3.2-3.2-3.2 3.2-3.2-3.2 3.2-3.2-3.2-3.2z"/>
<circle class=a cx=446 cy=578 r=7.1 />
<path class=b d="M564 555l3.2 3.2 3.2-3.2 3.2 3.2-3.2 3.2 3.2 3.2-3.2 3.2-3.2-3.2-3.2 3.2-3.2-3.2 3.2-3.2-3.2-3.2z"/>
<path class=d d="M651 402h13.6v13.6h-13.6z"/>
<path class=d d="M813 319h13.6v13.6h-13.6z"/>
<path class=e d="M761 537l6.4 4.6-2.4 7.5-7.9 0-2.4-7.5z"/>
<path class=e d="M444 519l6.4 4.6-2.4 7.5-7.9 0-2.4-7.5z"/>
<path class=c d="M486 116h12.6l-6.3 12.6z"/>
<path class=c d="M270 260h12.6l-6.3 12.6z"/>
<path class=c d="M391 209h12.6l-6.3 12.6z"/>
<path class=c d="M378 203h12.6l-6.3 12.6z"/>
<path class=d d="M621 302h13.6v13.6h-13.6z"/>
<path class=e d="M344 623l6.4 4.6-2.4 7.5-7.9 0-2.4-7.5z"/>
<path class=c d="M506 207h12.6l-6.3 12.6z"/>
<path class=c d="M485 166h12.6l-6.3 12.6z"/>
<path class=c d="M402 238h12.6l-6.3 12.6z"/>
<circle class=a cx=637 cy=522 r=7.1 />
<path class=c d="M182 460h12.6l-6.3 12.6z"/>
<path class=d d="M422 583h13.6v13.6h-13.6z"/>
<path class=c d="M250 264h12.6l-6.3 12.6z"/>
<path class=e d="M598 528l6.4 4.6-2.4 7.5-7.9 0-2.4-7.5z"/>
<path class=b d="M408 753l3.2 3.2 3.2-3.2 3.2 3.2-3.2 3.2 3.2 3.2-3.2 3.2-3.2-3.2-3.2 3.2-3.2-3.2 3.2-3.2-3.2-3.2z"/>
<circle class=a cx=631 cy=491 r=7.1 />
<path class=b d="M759 381l3.2 3.2 3.2-3.2 3.2 3.2-3.2 3.2 3.2 3.2-3.2 3.2-3.2-3.2-3.2 3.2-3.2-3.2 3.2-3.2-3.2-3.2z"/>
<path class=d d="M453 438h13.6v13.6h-13.6z"/>
<circle class=a cx=486 cy=353 r=7.1 />
<path class=c d="M386 221h12.6l-6.3 12.6z"/>
<path class=d d="M594 294h13.6v13.6h-13.6z"/>
<path class=c d="M493 170h12.6l-6.3 12.6z"/>
<path class=d d="M327 368h13.6v13.6h-13.6z"/>
<path class=d d="M330 413h13.6v13.6h-13.6z"/>
<path class=b d="M630 570l3.2 3.2 3.2-3.2 3.2 3.2-3.2 3.2 3.2 3.2-3.2 3.2-3.2-3.2-3.2 3.2-3.2-3.2 3.2-3.2-3.2-3.2z"/>
<path class=d d="M746 280h13.6v13.6h-13.6z"/>
<path class=c d="M667 181h12.6l-6.3 12.6z"/>
<path class=b d="M545 802l3.2 3.2 3.2-3.2 3.2 3.2-3.2 3.2 3.2 3.2-3.2 3.2-3.2-3.2-3.2 3.2-3.2-3.2 3.2-3.2-3.2-3.2z"/>
<path class=e d="M506 359l6.4 4.6-2.4 7.5-7.9 0-2.4-7.5z"/>
<path class=c d="M199 466h12.6l-6.3 12.6z"/>
<path class=e d="M306 577l6.4 4.6-2.4 7.5-7.9 0-2.4-7.5z"/>
<path class=e d="M794 521l6.4 4.6-2.4 7.5-7.9 0-2.4-7.5z"/>
<circle class=a cx=497 cy=329 r=7.1 />
<circle class=a cx=592 cy=486 r=7.1 />
<path class=b d="M605 490l3.2 3.2 3.2-3.2 3.2 3.2-3.2 3.2 3.2 3.2-3.2 3.2-3.2-3.2-3.2 3.2-3.2-3.2 3.2-3.2-3.2-3.2z"/>
<path class=e d="M696 443l6.4 4.6-2.4 7.5-7.9 0-2.4-7.5z"/>
<path class=b d="M740 373l3.2 3.2 3.2-3.2 3.2 3.2-3.2 3.2 3.2 3.2-3.2 3.2-3.2-3.2-3.2 3.2-3.2-3.2 3.2-3.2-3.2-3.2z"/>
<circle class=a cx=547 cy=332 r=7.1 />
<path class=c d="M384 221h12.6l-6.3 12.6z"/>
<path class=d d="M491 387h13.6v13.6h-13.6z"/>
<path class=b d="M786 376l3.2 3.2 3.2-3.2 3.2 3.2-3.2 3.2 3.2 3.2-3.2 3.2-3.2-3.2-3.2 3.2-3.2-3.2 3.2-3.2-3.2-3.2z"/>
<path class=b d="M159 607l3.2 3.2 3.2-3.2 3.2 3.2-3.2 3.2 3.2 3.2-3.2 3.2-3.2-3.2-3.2 3.2-3.2-3.2 3.2-3.2-3.2-3.2z"/>
<path class=c d="M485 100h12.6l-6.3 12.6z"/>
<path class=b d="M778 357l3.2 3.2 3.2-3.2 3.2 3.2-3.2 3.2 3.2 3.2-3.2 3.2-3.2-3.2-3.2 3.2-3.2-3.2 3.2-3.2-3.2-3.2z"/>
<path class=c d="M157 454h12.6l-6.3 12.6z"/>
<path class=e d="M344 574l6.4 4.6-2.4 7.5-7.9 0-2.4-7.5z"/>
<circle class=a cx=414 cy=372 r=7.1 />
<path class=e d="M813 582l6.4 4.6-2.4 7.5-7.9 0-2.4-7.5z"/>
<path class=e d="M818 575l6.4 4.6-2.4 7.5-7.9 0-2.4-7.5z"/>
<path class=e d="M808 564l6.4 4.6-2.4 7.5-7.9 0-2.4-7.5z"/>
<circle class=a cx=463 cy=411 r=7.1 />
<path class=e d="M815 544l6.4 4.6-2.4 7.5-7.9 0-2.4-7.5z"/>
<path class=c d="M292 269h12.6l-6.3 12.6z"/>
<path class=b d="M589 491l3.2 3.2 3.2-3.2 3.2 3.2-3.2 3.2 3.2 3.2-3.2 3.2-3.2-3.2-3.2 3.2-3.2-3.2 3.2-3.2-3.2-3.2z"/>
<path class=e d="M844 542l6.4 4.6-2.4 7.5-7.9 0-2.4-7.5z"/>
<path class=c d="M503 167h12.6l-6.3 12.6z"/>
<path class=c d="M169 475h12.6l-6.3 12.6z"/>
<path class=b d="M640 538l3.2 3.2 3.2-3.2 3.2 3.2-3.2 3.2 3.2 3.2-3.2 3.2-3.2-3.2-3.2 3.2-3.2-3.2 3.2-3.2-3.2-3.2z"/>
<path class=d d="M812 403h13.6v13.6h-13.6z"/>
<path class=c d="M262 264h12.6l-6.3 12.6z"/>
<path class=d d="M506 402h13.6v13.6h-13.6z"/>
<path class=b d="M438 718l3.2 3.2 3.2-3.2 3.2 3.2-3.2 3.2 3.2 3.2-3.2 3.2-3.2-3.2-3.2 3.2-3.2-3.2 3.2-3.2-3.2-3.2z"/>
<path class=c d="M606 146h12.6l-6.3 12.6z"/>
<path class=d d="M560 278h13.6v13.6h-13.6z"/>
<circle class=a cx=658 cy=500 r=7.1 />
<path class=e d="M562 342l6.4 4.6-2.4 7.5-7.9 0-2.4-7.5z"/>
<path class=e d="M761 571l6.4 4.6-2.4 7.5-7.9 0-2.4-7.5z"/>
<circle class=a cx=666 cy=491 r=7.1 />
<path class=e d="M371 596l6.4 4.6-2.4 7.5-7.9 0-2.4-7.5z"/>
<path class=b d="M645 541l3.2 3.2 3.2-3.2 3.2 3.2-3.2 3.2 3.2 3.2-3.2 3.2-3.2-3.2-3.2 3.2-3.2-3.2 3.2-3.2-3.2-3.2z"/>
<path class=e d="M848 534l6.4 4.6-2.4 7.5-7.9 0-2.4-7.5z"/>
<path class=d d="M507 454h13.6v13.6h-13.6z"/>
<path class=c d="M624 147h12.6l-6.3 12.6z"/>
<path class=b d="M556 764l3.2 3.2 3.2-3.2 3.2 3.2-3.2 3.2 3.2 3.2-3.2 3.2-3.2-3.2-3.2 3.2-3.2-3.2 3.2-3.2-3.2-3.2z"/>
<path class=d d="M457 552h13.6v13.6h-13.6z"/>
<path class=d d="M445 593h13.6v13.6h-13.6z"/>
<path class=c d="M404 238h12.6l-6.3 12.6z"/>
<path class=e d="M382 597l6.4 4.6-2.4 7.5-7.9 0-2.4-7.5z"/>
<path class=e d="M711 470l6.4 4.6-2.4 7.5-7.9 0-2.4-7.5z"/>
<path class=b d="M581 524l3.2 3.2 3.2-3.2 3.2 3.2-3.2 3.2 3.2 3.2-3.2 3.2-3.2-3.2-3.2 3.2-3.2-3.2 3.2-3.2-3.2-3.2z"/>
<path class=c d="M226 302h12.6l-6.3 12.6z"/>
<path class=e d="M772 539l6.4 4.6-2.4 7.5-7.9 0-2.4-7.5z"/>
<circle class=a cx=531 cy=454 r=7.1 />
<path class=c d="M362 147h12.6l-6.3 12.6z"/>
<path class=d d="M448 534h13.6v13.6h-13.6z"/>
<path class=b d="M539 757l3.2 3.2 3.2-3.2 3.2 3.2-3.2 3.2 3.2 3.2-3.2 3.2-3.2-3.2-3.2 3.2-3.2-3.2 3.2-3.2-3.2-3.2z"/>
<circle class=a cx=480 cy=374 r=7.1 />
<path class=e d="M532 333l6.4 4.6-2.4 7.5-7.9 0-2.4-7.5z"/>
<circle class=a cx=491 cy=406 r=7.1 />
<path class=d d="M357 406h13.6v13.6h-13.6z"/>
<path class=e d="M564 345l6.4 4.6-2.4 7.5-7.9 0-2.4-7.5z"/>
<circle class=a cx=324 cy=491 r=7.1 />
<path class=c d="M634 158h12.6l-6.3 12.6z"/>
<path class=c d="M484 122h12.6l-6.3 12.6z"/>
<path class=d d="M580 500h13.6v13.6h-13.6z"/>
<circle class=a cx=476 cy=363 r=7.1 />
<path class=b d="M659 539l3.2 3.2 3.2-3.2 3.2 3.2-3.2 3.2 3.2 3.2-3.2 3.2-3.2-3.2-3.2 3.2-3.2-3.2 3.2-3.2-3.2-3.2z"/>
<path class=e d="M426 601l6.4 4.6-2.4 7.5-7.9 0-2.4-7.5z"/>
<path class=e d="M370 596l6.4 4.6-2.4 7.5-7.9 0-2.4-7.5z"/>
<path class=c d="M125 379h12.6l-6.3 12.6z"/>
<circle class=a cx=701 cy=435 r=7.1 />
<path class=e d="M368 620l6.4 4.6-2.4 7.5-7.9 0-2.4-7.5z"/>
<path class=d d="M560 413h13.6v13.6h-13.6z"/>
<path class=e d="M428 596l6.4 4.6-2.4 7.5-7.9 0-2.4-7.5z"/>
<path class=d d="M431 510h13.6v13.6h-13.6z"/>
<path class=b d="M456 731l3.2 3.2 3.2-3.2 3.2 3.2-3.2 3.2 3.2 3.2-3.2 3.2-3.2-3.2-3.2 3.2-3.2-3.2 3.2-3.2-3.2-3.2z"/>
<path class=c d="M385 199h12.6l-6.3 12.6z"/>
<path class=d d="M310 387h13.6v13.6h-13.6z"/>
<path class=d d="M300 359h13.6v13.6h-13.6z"/>
<circle class=a cx=603 cy=495 r=7.1 />
<circle class=a cx=695 cy=473 r=7.1 />
<path class=e d="M418 384l6.4 4.6-2.4 7.5-7.9 0-2.4-7.5z"/>
<path class=c d="M500 196h12.6l-6.3 12.6z"/>
<path class=d d="M647 350h13.6v13.6h-13.6z"/>
<circle class=a cx=419 cy=364 r=7.1 />
<path class=e d="M644 392l6.4 4.6-2.4 7.5-7.9 0-2.4-7.5z"/>
<circle class=a cx=381 cy=503 r=7.1 />
<path class=c d="M603 156h12.6l-6.3 12.6z"/>
<circle class=a cx=499 cy=310 r=7.1 />
<path class=b d="M566 555l3.2 3.2 3.2-3.2 3.2 3.2-3.2 3.2 3.2 3.2-3.2 3.2-3.2-3.2-3.2 3.2-3.2-3.2 3.2-3.2-3.2-3.2z"/>
<path class=c d="M255 283h12.6l-6.3 12.6z"/>
<path class=b d="M456 719l3.2 3.2 3.2-3.2 3.2 3.2-3.2 3.2 3.2 3.2-3.2 3.2-3.2-3.2-3.2 3.2-3.2-3.2 3.2-3.2-3.2-3.2z"/>
<path class=c d="M640 698h12.6l-6.3 12.6z"/>
<circle class=a cx=474 cy=361 r=7.1 />
<path class=e d="M490 331l6.4 4.6-2.4 7.5-7.9 0-2.4-7.5z"/>
<path class=c d="M574 675h12.6l-6.3 12.6z"/>
<circle class=a cx=454 cy=399 r=7.1 />
<path class=c d="M159 453h12.6l-6.3 12.6z"/>
<path class=d d="M559 438h13.6v13.6h-13.6z"/>
<path class=b d="M539 767l3.2 3.2 3.2-3.2 3.2 3.2-3.2 3.2 3.2 3.2-3.2 3.2-3.2-3.2-3.2 3.2-3.2-3.2 3.2-3.2-3.2-3.2z"/>
<circle class=a cx=609 cy=510 r=7.1 />
<path class=c d="M485 171h12.6l-6.3 12.6z"/>
<path class=c d="M470 104h12.6l-6.3 12.6z"/>
<circle class=a cx=475 cy=446 r=7.1 />
<path class=d d="M516 415h13.6v13.6h-13.6z"/>
<path class=d d="M596 374h13.6v13.6h-13.6z"/>
<path class=d d="M446 536h13.6v13.6h-13.6z"/>
<path class=b d="M564 508l3.2 3.2 3.2-3.2 3.2 3.2-3.2 3.2 3.2 3.2-3.2 3.2-3.2-3.2-3.2 3.2-3.2-3.2 3.2-3.2-3.2-3.2z"/>
<circle class=a cx=514 cy=485 r=7.1 />
<path class=c d="M730 681h12.6l-6.3 12.6z"/>
<circle class=a cx=652 cy=462 r=7.1 />
<path class=e d="M822 572l6.4 4.6-2.4 7.5-7.9 0-2.4-7.5z"/>
<path class=e d="M725 474l6.4 4.6-2.4 7.5-7.9 0-2.4-7.5z"/>
<circle class=a cx=587 cy=477 r=7.1 />
<path class=c d="M412 218h12.6l-6.3 12.6z"/>
<path class=d d="M584 259h13.6v13.6h-13.6z"/>
<path class=c d="M371 186h12.6l-6.3 12.6z"/>
<path class=c d="M594 657h12.6l-6.3 12.6z"/>
<path class=b d="M334 770l3.2 3.2 3.2-3.2 3.2 3.2-3.2 3.2 3.2 3.2-3.2 3.2-3.2-3.2-3.2 3.2-3.2-3.2 3.2-3.2-3.2-3.2z"/>
<path class=c d="M636 162h12.6l-6.3 12.6z"/>
<path class=c d="M399 235h12.6l-6.3 12.6z"/>
<path class=e d="M326 620l6.4 4.6-2.4 7.5-7.9 0-2.4-7.5z"/>
<path class=d d="M426 442h13.6v13.6h-13.6z"/>
<path class=d d="M501 414h13.6v13.6h-13.6z"/>
<path class=c d="M350 157h12.6l-6.3 12.6z"/>
<circle class=a cx=634 cy=549 r=7.1 />
<path class=d d="M376 524h13.6v13.6h-13.6z"/>
<path class=d d="M396 512h13.6v13.6h-13.6z"/>
<path class=e d="M825 499l6.4 4.6-2.4 7.5-7.9 0-2.4-7.5z"/>
<circle class=a cx=477 cy=338 r=7.1 />
<path class=d d="M761 441h13.6v13.6h-13.6z"/>
<path class=d d="M319 386h13.6v13.6h-13.6z"/>
<path class=d d="M495 463h13.6v13.6h-13.6z"/>
<path class=d d="M547 422h13.6v13.6h-13.6z"/>
<circle class=a cx=406 cy=425 r=7.1 />
<path class=d d="M593 322h13.6v13.6h-13.6z"/>
<circle class=a cx=542 cy=547 r=7.1 />
<path class=e d="M798 572l6.4 4.6-2.4 7.5-7.9 0-2.4-7.5z"/>
<path class=e d="M799 566l6.4 4.6-2.4 7.5-7.9 0-2.4-7.5z"/>
<path class=d d="M413 479h13.6v13.6h-13.6z"/>
<path class=d d="M637 474h13.6v13.6h-13.6z"/>
<circle class=a cx=444 cy=578 r=7.1 />
<path class=d d="M477 542h13.6v13.6h-13.6z"/>
<path class=c d="M619 685h12.6l-6.3 12.6z"/>
<path class=c d="M733 682h12.6l-6.3 12.6z"/>
<path class=e d="M727 450l6.4 4.6-2.4 7.5-7.9 0-2.4-7.5z"/>
<path class=b d="M436 705l3.2 3.2 3.2-3.2 3.2 3.2-3.2 3.2 3.2 3.2-3.2 3.2-3.2-3.2-3.2 3.2-3.2-3.2 3.2-3.2-3.2-3.2z"/>
<path class=b d="M761 376l3.2 3.2 3.2-3.2 3.2 3.2-3.2 3.2 3.2 3.2-3.2 3.2-3.2-3.2-3.2 3.2-3.2-3.2 3.2-3.2-3.2-3.2z"/>
<path class=d d="M809 306h13.6v13.6h-13.6z"/>
<path class=e d="M809 566l6.4 4.6-2.4 7.5-7.9 0-2.4-7.5z"/>
<circle class=a cx=584 cy=506 r=7.1 />
<path class=c d="M595 145h12.6l-6.3 12.6z"/>
<path class=c d="M284 253h12.6l-6.3 12.6z"/>
<circle class=a cx=519 cy=368 r=7.1 />
<circle class=a cx=605 cy=558 r=7.1 />
<path class=d d="M480 453h13.6v13.6h-13.6z"/>
<circle class=a cx=659 cy=505 r=7.1 />
<path class=d d="M645 312h13.6v13.6h-13.6z"/>
<path class=d d="M352 398h13.6v13.6h-13.6z"/>
<path class=e d="M857 540l6.4 4.6-2.4 7.5-7.9 0-2.4-7.5z"/>
<path class=e d="M382 617l6.4 4.6-2.4 7.5-7.9 0-2.4-7.5z"/>
<path class=c d="M488 186h12.6l-6.3 12.6z"/>
<path class=c d="M483 169h12.6l-6.3 12.6z"/>
<path class=d d="M563 442h13.6v13.6h-13.6z"/>
<path class=d d="M432 440h13.6v13.6h-13.6z"/>
<path class=e d="M643 431l6.4 4.6-2.4 7.5-7.9 0-2.4-7.5z"/>
<path class=b d="M772 340l3.2 3.2 3.2-3.2 3.2 3.2-3.2 3.2 3.2 3.2-3.2 3.2-3.2-3.2-3.2 3.2-3.2-3.2 3.2-3.2-3.2-3.2z"/>
<circle class=a cx=476 cy=374 r=7.1 />
<path class=b d="M739 371l3.2 3.2 3.2-3.2 3.2 3.2-3.2 3.2 3.2 3.2-3.2 3.2-3.2-3.2-3.2 3.2-3.2-3.2 3.2-3.2-3.2-3.2z"/>
<path class=c d="M261 278h12.6l-6.3 12.6z"/>
<path class=b d="M660 524l3.2 3.2 3.2-3.2 3.2 3.2-3.2 3.2 3.2 3.2-3.2 3.2-3.2-3.2-3.2 3.2-3.2-3.2 3.2-3.2-3.2-3.2z"/>
<path class=d d="M344 415h13.6v13.6h-13.6z"/>
<path class=c d="M240 276h12.6l-6.3 12.6z"/>
<circle class=a cx=442 cy=404 r=7.1 />
<path class=b d="M787 373l3.2 3.2 3.2-3.2 3.2 3.2-3.2 3.2 3.2 3.2-3.2 3.2-3.2-3.2-3.2 3.2-3.2-3.2 3.2-3.2-3.2-3.2z"/>
<path class=e d="M334 593l6.4 4.6-2.4 7.5-7.9 0-2.4-7.5z"/>
<path class=b d="M373 783l3.2 3.2 3.2-3.2 3.2 3.2-3.2 3.2 3.2 3.2-3.2 3.2-3.2-3.2-3.2 3.2-3.2-3.2 3.2-3.2-3.2-3.2z"/>
<path class=c d="M603 670h12.6l-6.3 12.6z"/>
<path class=d d="M701 375h13.6v13.6h-13.6z"/>
<path class=d d="M501 527h13.6v13.6h-13.6z"/>
<path class=b d="M360 732l3.2 3.2 3.2-3.2 3.2 3.2-3.2 3.2 3.2 3.2-3.2 3.2-3.2-3.2-3.2 3.2-3.2-3.2 3.2-3.2-3.2-3.2z"/>
<circle class=a cx=523 cy=540 r=7.1 />
<path class=c d="M232 306h12.6l-6.3 12.6z"/>
<path class=d d="M454 516h13.6v13.6h-13.6z"/>
<circle class=a cx=575 cy=485 r=7.1 />
<path class=b d="M752 339l3.2 3.2 3.2-3.2 3.2 3.2-3.2 3.2 3.2 3.2-3.2 3.2-3.2-3.2-3.2 3.2-3.2-3.2 3.2-3.2-3.2-3.2z"/>
<path class=d d="M593 283h13.6v13.6h-13.6z"/>
<path class=d d="M503 562h13.6v13.6h-13.6z"/>
<path class=b d="M605 467l3.2 3.2 3.2-3.2 3.2 3.2-3.2 3.2 3.2 3.2-3.2 3.2-3.2-3.2-3.2 3.2-3.2-3.2 3.2-3.2-3.2-3.2z"/>
<circle class=a cx=479 cy=395 r=7.1 />
<path class=c d="M743 694h12.6l-6.3 12.6z"/>
<path class=e d="M705 453l6.4 4.6-2.4 7.5-7.9 0-2.4-7.5z"/>
<circle class=a cx=563 cy=498 r=7.1 />
<path class=b d="M479 746l3.2 3.2 3.2-3.2 3.2 3.2-3.2 3.2 3.2 3.2-3.2 3.2-3.2-3.2-3.2 3.2-3.2-3.2 3.2-3.2-3.2-3.2z"/>
<path class=b d="M162 564l3.2 3.2 3.2-3.2 3.2 3.2-3.2 3.2 3.2 3.2-3.2 3.2-3.2-3.2-3.2 3.2-3.2-3.2 3.2-3.2-3.2-3.2z"/>
<path class=b d="M518 802l3.2 3.2 3.2-3.2 3.2 3.2-3.2 3.2 3.2 3.2-3.2 3.2-3.2-3.2-3.2 3.2-3.2-3.2 3.2-3.2-3.2-3.2z"/>
<path class=d d="M471 486h13.6v13.6h-13.6z"/>
<path class=e d="M822 586l6.4 4.6-2.4 7.5-7.9 0-2.4-7.5z"/>
<path class=e d="M426 604l6.4 4.6-2.4 7.5-7.9 0-2.4-7.5z"/>
<path class=c d="M739 676h12.6l-6.3 12.6z"/>
<path class=b d="M645 543l3.2 3.2 3.2-3.2 3.2 3.2-3.2 3.2 3.2 3.2-3.2 3.2-3.2-3.2-3.2 3.2-3.2-3.2 3.2-3.2-3.2-3.2z"/>
<path class=e d="M703 451l6.4 4.6-2.4 7.5-7.9 0-2.4-7.5z"/>
<path class=d d="M437 382h13.6v13.6h-13.6z"/>
<path class=c d="M668 184h12.6l-6.3 12.6z"/>
<path class=b d="M568 784l3.2 3.2 3.2-3.2 3.2 3.2-3.2 3.2 3.2 3.2-3.2 3.2-3.2-3.2-3.2 3.2-3.2-3.2 3.2-3.2-3.2-3.2z"/>
<path class=e d="M830 580l6.4 4.6-2.4 7.5-7.9 0-2.4-7.5z"/>
<path class=c d="M164 453h12.6l-6.3 12.6z"/>
<circle class=a cx=449 cy=439 r=7.1 />
<path class=b d="M582 523l3.2 3.2 3.2-3.2 3.2 3.2-3.2 3.2 3.2 3.2-3.2 3.2-3.2-3.2-3.2 3.2-3.2-3.2 3.2-3.2-3.2-3.2z"/>
<path class=d d="M729 289h13.6v13.6h-13.6z"/>
<path class=b d="M600 506l3.2 3.2 3.2-3.2 3.2 3.2-3.2 3.2 3.2 3.2-3.2 3.2-3.2-3.2-3.2 3.2-3.2-3.2 3.2-3.2-3.2-3.2z"/>
<path class=b d="M175 624l3.2 3.2 3.2-3.2 3.2 3.2-3.2 3.2 3.2 3.2-3.2 3.2-3.2-3.2-3.2 3.2-3.2-3.2 3.2-3.2-3.2-3.2z"/>
<path class=d d="M506 579h13.6v13.6h-13.6z"/>
<path class=e d="M320 600l6.4 4.6-2.4 7.5-7.9 0-2.4-7.5z"/>
<path class=e d="M329 573l6.4 4.6-2.4 7.5-7.9 0-2.4-7.5z"/>
<path class=d d="M599 329h13.6v13.6h-13.6z"/>
<path class=b d="M160 601l3.2 3.2 3.2-3.2 3.2 3.2-3.2 3.2 3.2 3.2-3.2 3.2-3.2-3.2-3.2 3.2-3.2-3.2 3.2-3.2-3.2-3.2z"/>
<path class=c d="M239 274h12.6l-6.3 12.6z"/>
<path class=d d="M295 377h13.6v13.6h-13.6z"/>
<path class=d d="M569 302h13.6v13.6h-13.6z"/>
<circle class=a cx=495 cy=319 r=7.1 />
<path class=c d="M279 245h12.6l-6.3 12.6z"/>
<path class=b d="M455 739l3.2 3.2 3.2-3.2 3.2 3.2-3.2 3.2 3.2 3.2-3.2 3.2-3.2-3.2-3.2 3.2-3.2-3.2 3.2-3.2-3.2-3.2z"/>
<path class=b d="M560 809l3.2 3.2 3.2-3.2 3.2 3.2-3.2 3.2 3.2 3.2-3.2 3.2-3.2-3.2-3.2 3.2-3.2-3.2 3.2-3.2-3.2-3.2z"/>
<path class=b d="M191 600l3.2 3.2 3.2-3.2 3.2 3.2-3.2 3.2 3.2 3.2-3.2 3.2-3.2-3.2-3.2 3.2-3.2-3.2 3.2-3.2-3.2-3.2z"/>
<path class=b d="M539 770l3.2 3.2 3.2-3.2 3.2 3.2-3.2 3.2 3.2 3.2-3.2 3.2-3.2-3.2-3.2 3.2-3.2-3.2 3.2-3.2-3.2-3.2z"/>
<path class=b d="M751 369l3.2 3.2 3.2-3.2 3.2 3.2-3.2 3.2 3.2 3.2-3.2 3.2-3.2-3.2-3.2 3.2-3.2-3.2 3.2-3.2-3.2-3.2z"/>
<path class=e d="M396 579l6.4 4.6-2.4 7.5-7.9 0-2.4-7.5z"/>
<path class=b d="M413 731l3.2 3.2 3.2-3.2 3.2 3.2-3.2 3.2 3.2 3.2-3.2 3.2-3.2-3.2-3.2 3.2-3.2-3.2 3.2-3.2-3.2-3.2z"/>
<path class=c d="M407 226h12.6l-6.3 12.6z"/>
<path class=c d="M253 284h12.6l-6.3 12.6z"/>
<path class=e d="M402 476l6.4 4.6-2.4 7.5-7.9 0-2.4-7.5z"/>
<path class=b d="M792 370l3.2 3.2 3.2-3.2 3.2 3.2-3.2 3.2 3.2 3.2-3.2 3.2-3.2-3.2-3.2 3.2-3.2-3.2 3.2-3.2-3.2-3.2z"/>
<path class=c d="M623 151h12.6l-6.3 12.6z"/>
<path class=e d="M335 595l6.4 4.6-2.4 7.5-7.9 0-2.4-7.5z"/>
<path class=b d="M192 582l3.2 3.2 3.2-3.2 3.2 3.2-3.2 3.2 3.2 3.2-3.2 3.2-3.2-3.2-3.2 3.2-3.2-3.2 3.2-3.2-3.2-3.2z"/>
<path class=d d="M562 443h13.6v13.6h-13.6z"/>
<circle class=a cx=490 cy=305 r=7.1 />
<circle class=a cx=466 cy=435 r=7.1 />
<path class=d d="M489 509h13.6v13.6h-13.6z"/>
<path class=d d="M564 441h13.6v13.6h-13.6z"/>
<path class=d d="M505 404h13.6v13.6h-13.6z"/>
<path class=b d="M390 776l3.2 3.2 3.2-3.2 3.2 3.2-3.2 3.2 3.2 3.2-3.2 3.2-3.2-3.2-3.2 3.2-3.2-3.2 3.2-3.2-3.2-3.2z"/>
<path class=b d="M456 739l3.2 3.2 3.2-3.2 3.2 3.2-3.2 3.2 3.2 3.2-3.2 3.2-3.2-3.2-3.2 3.2-3.2-3.2 3.2-3.2-3.2-3.2z"/>
<path class=e d="M597 527l6.4 4.6-2.4 7.5-7.9 0-2.4-7.5z"/>
<path class=e d="M566 353l6.4 4.6-2.4 7.5-7.9 0-2.4-7.5z"/>
<path class=c d="M398 204h12.6l-6.3 12.6z"/>
<path class=d d="M390 482h13.6v13.6h-13.6z"/>
<circle class=a cx=493 cy=367 r=7.1 />
<path class=b d="M423 731l3.2 3.2 3.2-3.2 3.2 3.2-3.2 3.2 3.2 3.2-3.2 3.2-3.2-3.2-3.2 3.2-3.2-3.2 3.2-3.2-3.2-3.2z"/>
<path class=d d="M620 487h13.6v13.6h-13.6z"/>
<path class=d d="M736 402h13.6v13.6h-13.6z"/>
<path class=d d="M670 484h13.6v13.6h-13.6z"/>
<circle class=a cx=593 cy=489 r=7.1 />
<circle class=a cx=718 cy=449 r=7.1 />
<path class=e d="M550 338l6.4 4.6-2.4 7.5-7.9 0-2.4-7.5z"/>
<path class=c d="M265 255h12.6l-6.3 12.6z"/>
<path class=d d="M314 397h13.6v13.6h-13.6z"/>
<path class=e d="M798 563l6.4 4.6-2.4 7.5-7.9 0-2.4-7.5z"/>
<path class=d d="M635 319h13.6v13.6h-13.6z"/>
<path class=d d="M349 366h13.6v13.6h-13.6z"/>
<circle class=a cx=631 cy=582 r=7.1 />
<path class=e d="M361 567l6.4 4.6-2.4 7.5-7.9 0-2.4-7.5z"/>
<path class=d d="M445 568h13.6v13.6h-13.6z"/>
<path class=b d="M659 524l3.2 3.2 3.2-3.2 3.2 3.2-3.2 3.2 3.2 3.2-3.2 3.2-3.2-3.2-3.2 3.2-3.2-3.2 3.2-3.2-3.2-3.2z"/>
<circle class=a cx=558 cy=500 r=7.1 />
<path class=e d="M720 475l6.4 4.6-2.4 7.5-7.9 0-2.4-7.5z"/>
<circle class=a cx=564 cy=491 r=7.1 />
<path class=e d="M336 598l6.4 4.6-2.4 7.5-7.9 0-2.4-7.5z"/>
<circle class=a cx=479 cy=387 r=7.1 />
<path class=c d="M289 270h12.6l-6.3 12.6z"/>
<path class=e d="M564 352l6.4 4.6-2.4 7.5-7.9 0-2.4-7.5z"/>
<path class=c d="M594 688h12.6l-6.3 12.6z"/>
<path class=d d="M557 411h13.6v13.6h-13.6z"/>
<path class=e d="M434 365l6.4 4.6-2.4 7.5-7.9 0-2.4-7.5z"/>
<path class=c d="M388 220h12.6l-6.3 12.6z"/>
<path class=c d="M401 202h12.6l-6.3 12.6z"/>
<path class=e d="M312 581l6.4 4.6-2.4 7.5-7.9 0-2.4-7.5z"/>
<circle class=a cx=508 cy=505 r=7.1 />
<path class=b d="M555 503l3.2 3.2 3.2-3.2 3.2 3.2-3.2 3.2 3.2 3.2-3.2 3.2-3.2-3.2-3.2 3.2-3.2-3.2 3.2-3.2-3.2-3.2z"/>
<path class=d d="M615 531h13.6v13.6h-13.6z"/>
<circle class=a cx=708 cy=505 r=7.1 />
<path class=e d="M439 551l6.4 4.6-2.4 7.5-7.9 0-2.4-7.5z"/>
<path class=c d="M354 160h12.6l-6.3 12.6z"/>
<path class=e d="M566 352l6.4 4.6-2.4 7.5-7.9 0-2.4-7.5z"/>
<path class=b d="M368 783l3.2 3.2 3.2-3.2 3.2 3.2-3.2 3.2 3.2 3.2-3.2 3.2-3.2-3.2-3.2 3.2-3.2-3.2 3.2-3.2-3.2-3.2z"/>
<circle class=a cx=780 cy=483 r=7.1 />
<circle class=a cx=444 cy=397 r=7.1 />
<path class=e d="M808 517l6.4 4.6-2.4 7.5-7.9 0-2.4-7.5z"/>
<path class=b d="M620 519l3.2 3.2 3.2-3.2 3.2 3.2-3.2 3.2 3.2 3.2-3.2 3.2-3.2-3.2-3.2 3.2-3.2-3.2 3.2-3.2-3.2-3.2z"/>
<path class=b d="M180 621l3.2 3.2 3.2-3.2 3.2 3.2-3.2 3.2 3.2 3.2-3.2 3.2-3.2-3.2-3.2 3.2-3.2-3.2 3.2-3.2-3.2-3.2z"/>
<path class=b d="M197 628l3.2 3.2 3.2-3.2 3.2 3.2-3.2 3.2 3.2 3.2-3.2 3.2-3.2-3.2-3.2 3.2-3.2-3.2 3.2-3.2-3.2-3.2z"/>
<path class=d d="M415 577h13.6v13.6h-13.6z"/>
<path class=e d="M718 474l6.4 4.6-2.4 7.5-7.9 0-2.4-7.5z"/>
<path class=d d="M314 367h13.6v13.6h-13.6z"/>
<path class=d d="M597 514h13.6v13.6h-13.6z"/>
<circle class=a cx=441 cy=393 r=7.1 />
<circle class=a cx=478 cy=363 r=7.1 />
<path class=b d="M186 565l3.2 3.2 3.2-3.2 3.2 3.2-3.2 3.2 3.2 3.2-3.2 3.2-3.2-3.2-3.2 3.2-3.2-3.2 3.2-3.2-3.2-3.2z"/>
<path class=e d="M780 482l6.4 4.6-2.4 7.5-7.9 0-2.4-7.5z"/>
<circle class=a cx=483 cy=352 r=7.1 />
<path class=e d="M779 515l6.4 4.6-2.4 7.5-7.9 0-2.4-7.5z"/>
<circle class=a cx=426 cy=441 r=7.1 />
<path class=b d="M535 819l3.2 3.2 3.2-3.2 3.2 3.2-3.2 3.2 3.2 3.2-3.2 3.2-3.2-3.2-3.2 3.2-3.2-3.2 3.2-3.2-3.2-3.2z"/>
<path class=c d="M256 268h12.6l-6.3 12.6z"/>
<path class=c d="M226 453h12.6l-6.3 12.6z"/>
<circle class=a cx=564 cy=492 r=7.1 />
<path class=b d="M766 338l3.2 3.2 3.2-3.2 3.2 3.2-3.2 3.2 3.2 3.2-3.2 3.2-3.2-3.2-3.2 3.2-3.2-3.2 3.2-3.2-3.2-3.2z"/>
<path class=d d="M331 415h13.6v13.6h-13.6z"/>
<path class=e d="M665 377l6.4 4.6-2.4 7.5-7.9 0-2.4-7.5z"/>
<path class=b d="M340 763l3.2 3.2 3.2-3.2 3.2 3.2-3.2 3.2 3.2 3.2-3.2 3.2-3.2-3.2-3.2 3.2-3.2-3.2 3.2-3.2-3.2-3.2z"/>
<path class=d d="M800 317h13.6v13.6h-13.6z"/>
<path class=e d="M351 630l6.4 4.6-2.4 7.5-7.9 0-2.4-7.5z"/>
<circle class=a cx=435 cy=396 r=7.1 />
<path class=c d="M483 126h12.6l-6.3 12.6z"/>
<path class=c d="M619 681h12.6l-6.3 12.6z"/>
<circle class=a cx=404 cy=507 r=7.1 />
<circle class=a cx=714 cy=500 r=7.1 />
<path class=c d="M408 201h12.6l-6.3 12.6z"/>
<path class=d d="M636 473h13.6v13.6h-13.6z"/>
<circle class=a cx=386 cy=554 r=7.1 />
<circle class=a cx=393 cy=407 r=7.1 />
<path class=c d="M346 149h12.6l-6.3 12.6z"/>
<path class=d d="M617 378h13.6v13.6h-13.6z"/>
<path class=b d="M529 474l3.2 3.2 3.2-3.2 3.2 3.2-3.2 3.2 3.2 3.2-3.2 3.2-3.2-3.2-3.2 3.2-3.2-3.2 3.2-3.2-3.2-3.2z"/>
<path class=b d="M606 491l3.2 3.2 3.2-3.2 3.2 3.2-3.2 3.2 3.2 3.2-3.2 3.2-3.2-3.2-3.2 3.2-3.2-3.2 3.2-3.2-3.2-3.2z"/>
<path class=c d="M279 246h12.6l-6.3 12.6z"/>
<path class=d d="M492 349h13.6v13.6h-13.6z"/>
<path class=c d="M167 475h12.6l-6.3 12.6z"/>
<path class=c d="M362 158h12.6l-6.3 12.6z"/>
<path class=c d="M158 454h12.6l-6.3 12.6z"/>
<path class=e d="M342 626l6.4 4.6-2.4 7.5-7.9 0-2.4-7.5z"/>
<path class=d d="M429 442h13.6v13.6h-13.6z"/>
<path class=c d="M352 136h12.6l-6.3 12.6z"/>
<path class=b d="M177 620l3.2 3.2 3.2-3.2 3.2 3.2-3.2 3.2 3.2 3.2-3.2 3.2-3.2-3.2-3.2 3.2-3.2-3.2 3.2-3.2-3.2-3.2z"/>
<circle class=a cx=392 cy=554 r=7.1 />
<path class=c d="M504 206h12.6l-6.3 12.6z"/>
<path class=d d="M531 548h13.6v13.6h-13.6z"/>
<path class=e d="M703 456l6.4 4.6-2.4 7.5-7.9 0-2.4-7.5z"/>
<path class=c d="M666 169h12.6l-6.3 12.6z"/>
<path class=d d="M461 470h13.6v13.6h-13.6z"/>
<path class=d d="M309 376h13.6v13.6h-13.6z"/>
<path class=b d="M397 766l3.2 3.2 3.2-3.2 3.2 3.2-3.2 3.2 3.2 3.2-3.2 3.2-3.2-3.2-3.2 3.2-3.2-3.2 3.2-3.2-3.2-3.2z"/>
<path class=c d="M405 214h12.6l-6.3 12.6z"/>
<path class=e d="M779 521l6.4 4.6-2.4 7.5-7.9 0-2.4-7.5z"/>
<path class=e d="M353 599l6.4 4.6-2.4 7.5-7.9 0-2.4-7.5z"/>
<path class=b d="M756 380l3.2 3.2 3.2-3.2 3.2 3.2-3.2 3.2 3.2 3.2-3.2 3.2-3.2-3.2-3.2 3.2-3.2-3.2 3.2-3.2-3.2-3.2z"/>
<path class=e d="M354 628l6.4 4.6-2.4 7.5-7.9 0-2.4-7.5z"/>
<path class=c d="M482 168h12.6l-6.3 12.6z"/>
<path class=c d="M660 179h12.6l-6.3 12.6z"/>
<path class=b d="M559 512l3.2 3.2 3.2-3.2 3.2 3.2-3.2 3.2 3.2 3.2-3.2 3.2-3.2-3.2-3.2 3.2-3.2-3.2 3.2-3.2-3.2-3.2z"/>
<path class=c d="M386 234h12.6l-6.3 12.6z"/>
<path class=c d="M740 691h12.6l-6.3 12.6z"/>
<path class=b d="M370 731l3.2 3.2 3.2-3.2 3.2 3.2-3.2 3.2 3.2 3.2-3.2 3.2-3.2-3.2-3.2 3.2-3.2-3.2 3.2-3.2-3.2-3.2z"/>
<circle class=a cx=443 cy=391 r=7.1 />
<path class=b d="M447 704l3.2 3.2 3.2-3.2 3.2 3.2-3.2 3.2 3.2 3.2-3.2 3.2-3.2-3.2-3.2 3.2-3.2-3.2 3.2-3.2-3.2-3.2z"/>
<circle class=a cx=426 cy=383 r=7.1 />
<path class=e d="M756 570l6.4 4.6-2.4 7.5-7.9 0-2.4-7.5z"/>
<path class=b d="M468 754l3.2 3.2 3.2-3.2 3.2 3.2-3.2 3.2 3.2 3.2-3.2 3.2-3.2-3.2-3.2 3.2-3.2-3.2 3.2-3.2-3.2-3.2z"/>
<circle class=a cx=509 cy=481 r=7.1 />
<circle class=a cx=443 cy=577 r=7.1 />
<path class=e d="M330 556l6.4 4.6-2.4 7.5-7.9 0-2.4-7.5z"/>
<path class=e d="M645 429l6.4 4.6-2.4 7.5-7.9 0-2.4-7.5z"/>
<path class=b d="M358 734l3.2 3.2 3.2-3.2 3.2 3.2-3.2 3.2 3.2 3.2-3.2 3.2-3.2-3.2-3.2 3.2-3.2-3.2 3.2-3.2-3.2-3.2z"/>
<path class=b d="M561 556l3.2 3.2 3.2-3.2 3.2 3.2-3.2 3.2 3.2 3.2-3.2 3.2-3.2-3.2-3.2 3.2-3.2-3.2 3.2-3.2-3.2-3.2z"/>
<path class=c d="M264 256h12.6l-6.3 12.6z"/>
<path class=c d="M629 693h12.6l-6.3 12.6z"/>
<path class=e d="M601 576l6.4 4.6-2.4 7.5-7.9 0-2.4-7.5z"/>
<path class=e d="M306 580l6.4 4.6-2.4 7.5-7.9 0-2.4-7.5z"/>
<circle class=a cx=650 cy=415 r=7.1 />
<path class=c d="M620 157h12.6l-6.3 12.6z"/>
<path class=e d="M562 354l6.4 4.6-2.4 7.5-7.9 0-2.4-7.5z"/>
<path class=d d="M493 564h13.6v13.6h-13.6z"/>
<path class=e d="M599 532l6.4 4.6-2.4 7.5-7.9 0-2.4-7.5z"/>
<path class=e d="M766 447l6.4 4.6-2.4 7.5-7.9 0-2.4-7.5z"/>
<path class=c d="M485 112h12.6l-6.3 12.6z"/>
<circle class=a cx=423 cy=404 r=7.1 />
<circle class=a cx=607 cy=481 r=7.1 />
<circle class=a cx=426 cy=475 r=7.1 />
<path class=d d="M454 552h13.6v13.6h-13.6z"/>
<path class=d d="M723 383h13.6v13.6h-13.6z"/>
<path class=e d="M829 533l6.4 4.6-2.4 7.5-7.9 0-2.4-7.5z"/>
<path class=b d="M569 560l3.2 3.2 3.2-3.2 3.2 3.2-3.2 3.2 3.2 3.2-3.2 3.2-3.2-3.2-3.2 3.2-3.2-3.2 3.2-3.2-3.2-3.2z"/>
<path class=c d="M486 192h12.6l-6.3 12.6z"/>
<path class=c d="M230 446h12.6l-6.3 12.6z"/>
<circle class=a cx=753 cy=404 r=7.1 />
<path class=c d="M405 200h12.6l-6.3 12.6z"/>
<path class=c d="M504 192h12.6l-6.3 12.6z"/>
<path class=d d="M477 564h13.6v13.6h-13.6z"/>
<circle class=a cx=622 cy=452 r=7.1 />
<path class=d d="M663 357h13.6v13.6h-13.6z"/>
<path class=c d="M501 177h12.6l-6.3 12.6z"/>
<path class=c d="M594 659h12.6l-6.3 12.6z"/>
<path class=e d="M664 375l6.4 4.6-2.4 7.5-7.9 0-2.4-7.5z"/>
<path class=d d="M515 485h13.6v13.6h-13.6z"/>
<path class=d d="M565 425h13.6v13.6h-13.6z"/>
<path class=c d="M642 183h12.6l-6.3 12.6z"/>
<path class=d d="M478 382h13.6v13.6h-13.6z"/>
<path class=d d="M357 430h13.6v13.6h-13.6z"/>
<circle class=a cx=429 cy=384 r=7.1 />
<path class=d d="M444 560h13.6v13.6h-13.6z"/>
<path class=e d="M665 375l6.4 4.6-2.4 7.5-7.9 0-2.4-7.5z"/>
<path class=b d="M548 454l3.2 3.2 3.2-3.2 3.2 3.2-3.2 3.2 3.2 3.2-3.2 3.2-3.2-3.2-3.2 3.2-3.2-3.2 3.2-3.2-3.2-3.2z"/>
<circle class=a cx=586 cy=414 r=7.1 />
<path class=c d="M618 696h12.6l-6.3 12.6z"/>
<path class=b d="M213 613l3.2 3.2 3.2-3.2 3.2 3.2-3.2 3.2 3.2 3.2-3.2 3.2-3.2-3.2-3.2 3.2-3.2-3.2 3.2-3.2-3.2-3.2z"/>
<path class=c d="M275 254h12.6l-6.3 12.6z"/>
<path class=b d="M526 782l3.2 3.2 3.2-3.2 3.2 3.2-3.2 3.2 3.2 3.2-3.2 3.2-3.2-3.2-3.2 3.2-3.2-3.2 3.2-3.2-3.2-3.2z"/>
<path class=d d="M670 519h13.6v13.6h-13.6z"/>
<path class=e d="M350 597l6.4 4.6-2.4 7.5-7.9 0-2.4-7.5z"/>
<path class=d d="M349 394h13.6v13.6h-13.6z"/>
<path class=b d="M383 727l3.2 3.2 3.2-3.2 3.2 3.2-3.2 3.2 3.2 3.2-3.2 3.2-3.2-3.2-3.2 3.2-3.2-3.2 3.2-3.2-3.2-3.2z"/>
<path class=d d="M539 425h13.6v13.6h-13.6z"/>
<path class=c d="M486 120h12.6l-6.3 12.6z"/>
<path class=c d="M381 192h12.6l-6.3 12.6z"/>
<circle class=a cx=588 cy=474 r=7.1 />
<circle class=a cx=422 cy=400 r=7.1 />
<path class=c d="M370 180h12.6l-6.3 12.6z"/>
<path class=b d="M654 540l3.2 3.2 3.2-3.2 3.2 3.2-3.2 3.2 3.2 3.2-3.2 3.2-3.2-3.2-3.2 3.2-3.2-3.2 3.2-3.2-3.2-3.2z"/>
<path class=b d="M473 768l3.2 3.2 3.2-3.2 3.2 3.2-3.2 3.2 3.2 3.2-3.2 3.2-3.2-3.2-3.2 3.2-3.2-3.2 3.2-3.2-3.2-3.2z"/>
<path class=c d="M412 219h12.6l-6.3 12.6z"/>
<path class=d d="M694 510h13.6v13.6h-13.6z"/>
<path class=b d="M571 568l3.2 3.2 3.2-3.2 3.2 3.2-3.2 3.2 3.2 3.2-3.2 3.2-3.2-3.2-3.2 3.2-3.2-3.2 3.2-3.2-3.2-3.2z"/>
<path class=e d="M654 377l6.4 4.6-2.4 7.5-7.9 0-2.4-7.5z"/>
<path class=d d="M568 459h13.6v13.6h-13.6z"/>
<path class=d d="M653 400h13.6v13.6h-13.6z"/>
<path class=c d="M641 700h12.6l-6.3 12.6z"/>
<path class=b d="M778 368l3.2 3.2 3.2-3.2 3.2 3.2-3.2 3.2 3.2 3.2-3.2 3.2-3.2-3.2-3.2 3.2-3.2-3.2 3.2-3.2-3.2-3.2z"/>
<path class=e d="M553 334l6.4 4.6-2.4 7.5-7.9 0-2.4-7.5z"/>
<path class=d d="M690 338h13.6v13.6h-13.6z"/>
<path class=e d="M756 448l6.4 4.6-2.4 7.5-7.9 0-2.4-7.5z"/>
<path class=c d="M410 214h12.6l-6.3 12.6z"/>
<path class=e d="M827 554l6.4 4.6-2.4 7.5-7.9 0-2.4-7.5z"/>
<path class=b d="M492 755l3.2 3.2 3.2-3.2 3.2 3.2-3.2 3.2 3.2 3.2-3.2 3.2-3.2-3.2-3.2 3.2-3.2-3.2 3.2-3.2-3.2-3.2z"/>
<path class=c d="M234 287h12.6l-6.3 12.6z"/>
<path class=e d="M828 567l6.4 4.6-2.4 7.5-7.9 0-2.4-7.5z"/>
<path class=b d="M415 741l3.2 3.2 3.2-3.2 3.2 3.2-3.2 3.2 3.2 3.2-3.2 3.2-3.2-3.2-3.2 3.2-3.2-3.2 3.2-3.2-3.2-3.2z"/>
<path class=e d="M356 596l6.4 4.6-2.4 7.5-7.9 0-2.4-7.5z"/>
<path class=c d="M259 270h12.6l-6.3 12.6z"/>
<circle class=a cx=449 cy=437 r=7.1 />
<circle class=a cx=721 cy=501 r=7.1 />
<circle class=a cx=499 cy=327 r=7.1 />
<path class=d d="M561 286h13.6v13.6h-13.6z"/>
<path class=b d="M170 596l3.2 3.2 3.2-3.2 3.2 3.2-3.2 3.2 3.2 3.2-3.2 3.2-3.2-3.2-3.2 3.2-3.2-3.2 3.2-3.2-3.2-3.2z"/>
<path class=b d="M184 573l3.2 3.2 3.2-3.2 3.2 3.2-3.2 3.2 3.2 3.2-3.2 3.2-3.2-3.2-3.2 3.2-3.2-3.2 3.2-3.2-3.2-3.2z"/>
<circle class=a cx=505 cy=492 r=7.1 />
<path class=b d="M572 797l3.2 3.2 3.2-3.2 3.2 3.2-3.2 3.2 3.2 3.2-3.2 3.2-3.2-3.2-3.2 3.2-3.2-3.2 3.2-3.2-3.2-3.2z"/>
<path class=b d="M537 796l3.2 3.2 3.2-3.2 3.2 3.2-3.2 3.2 3.2 3.2-3.2 3.2-3.2-3.2-3.2 3.2-3.2-3.2 3.2-3.2-3.2-3.2z"/>
<circle class=a cx=444 cy=467 r=7.1 />
<path class=d d="M337 349h13.6v13.6h-13.6z"/>
<circle class=a cx=422 cy=407 r=7.1 />
<circle class=a cx=530 cy=449 r=7.1 />
<path class=d d="M557 437h13.6v13.6h-13.6z"/>
<path class=b d="M608 573l3.2 3.2 3.2-3.2 3.2 3.2-3.2 3.2 3.2 3.2-3.2 3.2-3.2-3.2-3.2 3.2-3.2-3.2 3.2-3.2-3.2-3.2z"/>
<path class=e d="M399 583l6.4 4.6-2.4 7.5-7.9 0-2.4-7.5z"/>
<path class=e d="M319 560l6.4 4.6-2.4 7.5-7.9 0-2.4-7.5z"/>
<circle class=a cx=710 cy=451 r=7.1 />
<circle class=a cx=556 cy=513 r=7.1 />
<circle class=a cx=631 cy=556 r=7.1 />
<path class=b d="M613 575l3.2 3.2 3.2-3.2 3.2 3.2-3.2 3.2 3.2 3.2-3.2 3.2-3.2-3.2-3.2 3.2-3.2-3.2 3.2-3.2-3.2-3.2z"/>
<path class=b d="M504 826l3.2 3.2 3.2-3.2 3.2 3.2-3.2 3.2 3.2 3.2-3.2 3.2-3.2-3.2-3.2 3.2-3.2-3.2 3.2-3.2-3.2-3.2z"/>
<path class=b d="M768 341l3.2 3.2 3.2-3.2 3.2 3.2-3.2 3.2 3.2 3.2-3.2 3.2-3.2-3.2-3.2 3.2-3.2-3.2 3.2-3.2-3.2-3.2z"/>
<path class=d d="M748 285h13.6v13.6h-13.6z"/>
<path class=c d="M180 469h12.6l-6.3 12.6z"/>
<path class=c d="M246 285h12.6l-6.3 12.6z"/>
<path class=b d="M414 562l3.2 3.2 3.2-3.2 3.2 3.2-3.2 3.2 3.2 3.2-3.2 3.2-3.2-3.2-3.2 3.2-3.2-3.2 3.2-3.2-3.2-3.2z"/>
<path class=d d="M619 462h13.6v13.6h-13.6z"/>
<path class=e d="M649 443l6.4 4.6-2.4 7.5-7.9 0-2.4-7.5z"/>
<circle class=a cx=469 cy=433 r=7.1 />
<path class=b d="M789 379l3.2 3.2 3.2-3.2 3.2 3.2-3.2 3.2 3.2 3.2-3.2 3.2-3.2-3.2-3.2 3.2-3.2-3.2 3.2-3.2-3.2-3.2z"/>
<path class=b d="M456 725l3.2 3.2 3.2-3.2 3.2 3.2-3.2 3.2 3.2 3.2-3.2 3.2-3.2-3.2-3.2 3.2-3.2-3.2 3.2-3.2-3.2-3.2z"/>
<path class=c d="M375 182h12.6l-6.3 12.6z"/>
<path class=b d="M535 784l3.2 3.2 3.2-3.2 3.2 3.2-3.2 3.2 3.2 3.2-3.2 3.2-3.2-3.2-3.2 3.2-3.2-3.2 3.2-3.2-3.2-3.2z"/>
<path class=c d="M396 232h12.6l-6.3 12.6z"/>
<path class=e d="M439 589l6.4 4.6-2.4 7.5-7.9 0-2.4-7.5z"/>
<path class=c d="M607 681h12.6l-6.3 12.6z"/>
<path class=c d="M650 711h12.6l-6.3 12.6z"/>
<path class=c d="M469 109h12.6l-6.3 12.6z"/>
<circle class=a cx=445 cy=359 r=7.1 />
<path class=d d="M354 362h13.6v13.6h-13.6z"/>
<path class=d d="M324 401h13.6v13.6h-13.6z"/>
<path class=c d="M199 466h12.6l-6.3 12.6z"/>
<circle class=a cx=424 cy=413 r=7.1 />
<path class=b d="M746 361l3.2 3.2 3.2-3.2 3.2 3.2-3.2 3.2 3.2 3.2-3.2 3.2-3.2-3.2-3.2 3.2-3.2-3.2 3.2-3.2-3.2-3.2z"/>
<path class=e d="M845 544l6.4 4.6-2.4 7.5-7.9 0-2.4-7.5z"/>
<path class=c d="M501 214h12.6l-6.3 12.6z"/>
<path class=c d="M151 367h12.6l-6.3 12.6z"/>
<path class=e d="M400 583l6.4 4.6-2.4 7.5-7.9 0-2.4-7.5z"/>
<path class=e d="M440 519l6.4 4.6-2.4 7.5-7.9 0-2.4-7.5z"/>
<path class=c d="M222 463h12.6l-6.3 12.6z"/>
<path class=c d="M491 122h12.6l-6.3 12.6z"/>
<path class=e d="M749 476l6.4 4.6-2.4 7.5-7.9 0-2.4-7.5z"/>
<path class=b d="M597 505l3.2 3.2 3.2-3.2 3.2 3.2-3.2 3.2 3.2 3.2-3.2 3.2-3.2-3.2-3.2 3.2-3.2-3.2 3.2-3.2-3.2-3.2z"/>
<path class=b d="M501 760l3.2 3.2 3.2-3.2 3.2 3.2-3.2 3.2 3.2 3.2-3.2 3.2-3.2-3.2-3.2 3.2-3.2-3.2 3.2-3.2-3.2-3.2z"/>
<path class=c d="M224 456h12.6l-6.3 12.6z"/>
<path class=b d="M406 753l3.2 3.2 3.2-3.2 3.2 3.2-3.2 3.2 3.2 3.2-3.2 3.2-3.2-3.2-3.2 3.2-3.2-3.2 3.2-3.2-3.2-3.2z"/>
<path class=e d="M423 385l6.4 4.6-2.4 7.5-7.9 0-2.4-7.5z"/>
<path class=c d="M632 712h12.6l-6.3 12.6z"/>
<path class=d d="M533 516h13.6v13.6h-13.6z"/>
<path class=b d="M543 453l3.2 3.2 3.2-3.2 3.2 3.2-3.2 3.2 3.2 3.2-3.2 3.2-3.2-3.2-3.2 3.2-3.2-3.2 3.2-3.2-3.2-3.2z"/>
<path class=c d="M627 675h12.6l-6.3 12.6z"/>
<circle class=a cx=394 cy=464 r=7.1 />
<path class=e d="M322 575l6.4 4.6-2.4 7.5-7.9 0-2.4-7.5z"/>
<path class=d d="M611 301h13.6v13.6h-13.6z"/>
<path class=c d="M599 673h12.6l-6.3 12.6z"/>
<path class=e d="M345 624l6.4 4.6-2.4 7.5-7.9 0-2.4-7.5z"/>
<path class=b d="M169 580l3.2 3.2 3.2-3.2 3.2 3.2-3.2 3.2 3.2 3.2-3.2 3.2-3.2-3.2-3.2 3.2-3.2-3.2 3.2-3.2-3.2-3.2z"/>
<path class=d d="M340 350h13.6v13.6h-13.6z"/>
<path class=d d="M519 348h13.6v13.6h-13.6z"/>
<circle class=a cx=493 cy=302 r=7.1 />
<path class=e d="M428 598l6.4 4.6-2.4 7.5-7.9 0-2.4-7.5z"/>
<path class=c d="M226 290h12.6l-6.3 12.6z"/>
<path class=e d="M758 510l6.4 4.6-2.4 7.5-7.9 0-2.4-7.5z"/>
<path class=b d="M481 723l3.2 3.2 3.2-3.2 3.2 3.2-3.2 3.2 3.2 3.2-3.2 3.2-3.2-3.2-3.2 3.2-3.2-3.2 3.2-3.2-3.2-3.2z"/>
<path class=d d="M461 562h13.6v13.6h-13.6z"/>
<path class=b d="M633 560l3.2 3.2 3.2-3.2 3.2 3.2-3.2 3.2 3.2 3.2-3.2 3.2-3.2-3.2-3.2 3.2-3.2-3.2 3.2-3.2-3.2-3.2z"/>
<path class=c d="M274 258h12.6l-6.3 12.6z"/>
<path class=c d="M738 693h12.6l-6.3 12.6z"/>
<path class=b d="M474 725l3.2 3.2 3.2-3.2 3.2 3.2-3.2 3.2 3.2 3.2-3.2 3.2-3.2-3.2-3.2 3.2-3.2-3.2 3.2-3.2-3.2-3.2z"/>
<path class=b d="M659 538l3.2 3.2 3.2-3.2 3.2 3.2-3.2 3.2 3.2 3.2-3.2 3.2-3.2-3.2-3.2 3.2-3.2-3.2 3.2-3.2-3.2-3.2z"/>
<path class=b d="M426 708l3.2 3.2 3.2-3.2 3.2 3.2-3.2 3.2 3.2 3.2-3.2 3.2-3.2-3.2-3.2 3.2-3.2-3.2 3.2-3.2-3.2-3.2z"/>
<path class=b d="M196 618l3.2 3.2 3.2-3.2 3.2 3.2-3.2 3.2 3.2 3.2-3.2 3.2-3.2-3.2-3.2 3.2-3.2-3.2 3.2-3.2-3.2-3.2z"/>
<path class=c d="M282 257h12.6l-6.3 12.6z"/>
<circle class=a cx=412 cy=441 r=7.1 />
<path class=e d="M808 515l6.4 4.6-2.4 7.5-7.9 0-2.4-7.5z"/>
<circle class=a cx=574 cy=487 r=7.1 />
<circle class=a cx=464 cy=410 r=7.1 />
<path class=d d="M782 433h13.6v13.6h-13.6z"/>
<path class=c d="M255 267h12.6l-6.3 12.6z"/>
<circle class=a cx=465 cy=437 r=7.1 />
<path class=c d="M151 371h12.6l-6.3 12.6z"/>
<circle class=a cx=531 cy=429 r=7.1 />
<circle class=a cx=472 cy=448 r=7.1 />
<path class=d d="M333 397h13.6v13.6h-13.6z"/>
<path class=d d="M360 435h13.6v13.6h-13.6z"/>
<path class=b d="M575 576l3.2 3.2 3.2-3.2 3.2 3.2-3.2 3.2 3.2 3.2-3.2 3.2-3.2-3.2-3.2 3.2-3.2-3.2 3.2-3.2-3.2-3.2z"/>
<path class=e d="M765 510l6.4 4.6-2.4 7.5-7.9 0-2.4-7.5z"/>
<path class=e d="M323 574l6.4 4.6-2.4 7.5-7.9 0-2.4-7.5z"/>
<path class=e d="M643 388l6.4 4.6-2.4 7.5-7.9 0-2.4-7.5z"/>
<path class=d d="M512 452h13.6v13.6h-13.6z"/>
<path class=d d="M301 361h13.6v13.6h-13.6z"/>
<path class=d d="M691 359h13.6v13.6h-13.6z"/>
<path class=e d="M404 577l6.4 4.6-2.4 7.5-7.9 0-2.4-7.5z"/>
<circle class=a cx=384 cy=552 r=7.1 />
<path class=b d="M745 346l3.2 3.2 3.2-3.2 3.2 3.2-3.2 3.2 3.2 3.2-3.2 3.2-3.2-3.2-3.2 3.2-3.2-3.2 3.2-3.2-3.2-3.2z"/>
<path class=b d="M573 791l3.2 3.2 3.2-3.2 3.2 3.2-3.2 3.2 3.2 3.2-3.2 3.2-3.2-3.2-3.2 3.2-3.2-3.2 3.2-3.2-3.2-3.2z"/>
<path class=e d="M429 317l6.4 4.6-2.4 7.5-7.9 0-2.4-7.5z"/>
<path class=b d="M551 561l3.2 3.2 3.2-3.2 3.2 3.2-3.2 3.2 3.2 3.2-3.2 3.2-3.2-3.2-3.2 3.2-3.2-3.2 3.2-3.2-3.2-3.2z"/>
<path class=c d="M122 373h12.6l-6.3 12.6z"/>
<path class=b d="M775 367l3.2 3.2 3.2-3.2 3.2 3.2-3.2 3.2 3.2 3.2-3.2 3.2-3.2-3.2-3.2 3.2-3.2-3.2 3.2-3.2-3.2-3.2z"/>
<circle class=a cx=388 cy=433 r=7.1 />
<path class=e d="M793 537l6.4 4.6-2.4 7.5-7.9 0-2.4-7.5z"/>
<path class=c d="M406 204h12.6l-6.3 12.6z"/>
<path class=b d="M540 505l3.2 3.2 3.2-3.2 3.2 3.2-3.2 3.2 3.2 3.2-3.2 3.2-3.2-3.2-3.2 3.2-3.2-3.2 3.2-3.2-3.2-3.2z"/>
<path class=e d="M566 349l6.4 4.6-2.4 7.5-7.9 0-2.4-7.5z"/>
<circle class=a cx=385 cy=551 r=7.1 />
<path class=b d="M360 754l3.2 3.2 3.2-3.2 3.2 3.2-3.2 3.2 3.2 3.2-3.2 3.2-3.2-3.2-3.2 3.2-3.2-3.2 3.2-3.2-3.2-3.2z"/>
<path class=c d="M590 677h12.6l-6.3 12.6z"/>
<circle class=a cx=447 cy=466 r=7.1 />
<path class=e d="M434 427l6.4 4.6-2.4 7.5-7.9 0-2.4-7.5z"/>
<path class=c d="M599 141h12.6l-6.3 12.6z"/>
<path class=e d="M567 363l6.4 4.6-2.4 7.5-7.9 0-2.4-7.5z"/>
<path class=d d="M430 552h13.6v13.6h-13.6z"/>
<path class=b d="M524 478l3.2 3.2 3.2-3.2 3.2 3.2-3.2 3.2 3.2 3.2-3.2 3.2-3.2-3.2-3.2 3.2-3.2-3.2 3.2-3.2-3.2-3.2z"/>
<circle class=a cx=672 cy=482 r=7.1 />
<path class=b d="M170 591l3.2 3.2 3.2-3.2 3.2 3.2-3.2 3.2 3.2 3.2-3.2 3.2-3.2-3.2-3.2 3.2-3.2-3.2 3.2-3.2-3.2-3.2z"/>
<path class=e d="M758 538l6.4 4.6-2.4 7.5-7.9 0-2.4-7.5z"/>
<path class=d d="M548 436h13.6v13.6h-13.6z"/>
<path class=e d="M381 614l6.4 4.6-2.4 7.5-7.9 0-2.4-7.5z"/>
<path class=d d="M569 465h13.6v13.6h-13.6z"/>
<path class=d d="M410 480h13.6v13.6h-13.6z"/>
<path class=b d="M174 620l3.2 3.2 3.2-3.2 3.2 3.2-3.2 3.2 3.2 3.2-3.2 3.2-3.2-3.2-3.2 3.2-3.2-3.2 3.2-3.2-3.2-3.2z"/>
<path class=d d="M509 553h13.6v13.6h-13.6z"/>
<path class=c d="M639 714h12.6l-6.3 12.6z"/>
<path class=b d="M565 787l3.2 3.2 3.2-3.2 3.2 3.2-3.2 3.2 3.2 3.2-3.2 3.2-3.2-3.2-3.2 3.2-3.2-3.2 3.2-3.2-3.2-3.2z"/>
<path class=b d="M528 765l3.2 3.2 3.2-3.2 3.2 3.2-3.2 3.2 3.2 3.2-3.2 3.2-3.2-3.2-3.2 3.2-3.2-3.2 3.2-3.2-3.2-3.2z"/>
<path class=e d="M323 630l6.4 4.6-2.4 7.5-7.9 0-2.4-7.5z"/>
<path class=c d="M376 203h12.6l-6.3 12.6z"/>
<path class=b d="M611 491l3.2 3.2 3.2-3.2 3.2 3.2-3.2 3.2 3.2 3.2-3.2 3.2-3.2-3.2-3.2 3.2-3.2-3.2 3.2-3.2-3.2-3.2z"/>
<circle class=a cx=674 cy=448 r=7.1 />
<path class=c d="M351 153h12.6l-6.3 12.6z"/>
<path class=b d="M531 768l3.2 3.2 3.2-3.2 3.2 3.2-3.2 3.2 3.2 3.2-3.2 3.2-3.2-3.2-3.2 3.2-3.2-3.2 3.2-3.2-3.2-3.2z"/>
<path class=c d="M404 217h12.6l-6.3 12.6z"/>
<path class=c d="M644 167h12.6l-6.3 12.6z"/>
<path class=c d="M393 232h12.6l-6.3 12.6z"/>
<circle class=a cx=792 cy=407 r=7.1 />
<circle class=a cx=658 cy=518 r=7.1 />
<path class=b d="M573 326l3.2 3.2 3.2-3.2 3.2 3.2-3.2 3.2 3.2 3.2-3.2 3.2-3.2-3.2-3.2 3.2-3.2-3.2 3.2-3.2-3.2-3.2z"/>
<path class=c d="M489 116h12.6l-6.3 12.6z"/>
<path class=d d="M632 413h13.6v13.6h-13.6z"/>
<path class=d d="M635 290h13.6v13.6h-13.6z"/>
<circle class=a cx=721 cy=448 r=7.1 />
<circle class=a cx=424 cy=404 r=7.1 />
<path class=d d="M444 560h13.6v13.6h-13.6z"/>
<circle class=a cx=511 cy=438 r=7.1 />
<path class=c d="M242 298h12.6l-6.3 12.6z"/>
<path class=d d="M427 550h13.6v13.6h-13.6z"/>
<path class=d d="M446 594h13.6v13.6h-13.6z"/>
<path class=d d="M485 528h13.6v13.6h-13.6z"/>
<path class=b d="M547 565l3.2 3.2 3.2-3.2 3.2 3.2-3.2 3.2 3.2 3.2-3.2 3.2-3.2-3.2-3.2 3.2-3.2-3.2 3.2-3.2-3.2-3.2z"/>
<path class=d d="M498 459h13.6v13.6h-13.6z"/>
<path class=b d="M562 757l3.2 3.2 3.2-3.2 3.2 3.2-3.2 3.2 3.2 3.2-3.2 3.2-3.2-3.2-3.2 3.2-3.2-3.2 3.2-3.2-3.2-3.2z"/>
<path class=d d="M584 324h13.6v13.6h-13.6z"/>
<path class=c d="M182 467h12.6l-6.3 12.6z"/>
<path class=c d="M180 458h12.6l-6.3 12.6z"/>
<path class=b d="M539 757l3.2 3.2 3.2-3.2 3.2 3.2-3.2 3.2 3.2 3.2-3.2 3.2-3.2-3.2-3.2 3.2-3.2-3.2 3.2-3.2-3.2-3.2z"/>
<path class=b d="M536 800l3.2 3.2 3.2-3.2 3.2 3.2-3.2 3.2 3.2 3.2-3.2 3.2-3.2-3.2-3.2 3.2-3.2-3.2 3.2-3.2-3.2-3.2z"/>
<path class=d d="M644 314h13.6v13.6h-13.6z"/>
<path class=d d="M363 379h13.6v13.6h-13.6z"/>
<path class=c d="M483 103h12.6l-6.3 12.6z"/>
<path class=c d="M274 249h12.6l-6.3 12.6z"/>
<path class=c d="M351 159h12.6l-6.3 12.6z"/>
<path class=b d="M782 375l3.2 3.2 3.2-3.2 3.2 3.2-3.2 3.2 3.2 3.2-3.2 3.2-3.2-3.2-3.2 3.2-3.2-3.2 3.2-3.2-3.2-3.2z"/>
<path class=e d="M431 318l6.4 4.6-2.4 7.5-7.9 0-2.4-7.5z"/>
<path class=d d="M596 377h13.6v13.6h-13.6z"/>
<path class=c d="M388 208h12.6l-6.3 12.6z"/>
<path class=e d="M324 630l6.4 4.6-2.4 7.5-7.9 0-2.4-7.5z"/>
<path class=b d="M611 576l3.2 3.2 3.2-3.2 3.2 3.2-3.2 3.2 3.2 3.2-3.2 3.2-3.2-3.2-3.2 3.2-3.2-3.2 3.2-3.2-3.2-3.2z"/>
<path class=e d="M562 343l6.4 4.6-2.4 7.5-7.9 0-2.4-7.5z"/>
<path class=e d="M412 601l6.4 4.6-2.4 7.5-7.9 0-2.4-7.5z"/>
<path class=d d="M628 413h13.6v13.6h-13.6z"/>
<path class=d d="M586 320h13.6v13.6h-13.6z"/>
<path class=d d="M726 309h13.6v13.6h-13.6z"/>
<path class=e d="M313 555l6.4 4.6-2.4 7.5-7.9 0-2.4-7.5z"/>
<path class=c d="M622 144h12.6l-6.3 12.6z"/>
<path class=e d="M301 603l6.4 4.6-2.4 7.5-7.9 0-2.4-7.5z"/>
<path class=c d="M360 168h12.6l-6.3 12.6z"/>
<circle class=a cx=714 cy=466 r=7.1 />
<path class=b d="M506 830l3.2 3.2 3.2-3.2 3.2 3.2-3.2 3.2 3.2 3.2-3.2 3.2-3.2-3.2-3.2 3.2-3.2-3.2 3.2-3.2-3.2-3.2z"/>
<path class=e d="M857 549l6.4 4.6-2.4 7.5-7.9 0-2.4-7.5z"/>
<path class=c d="M221 461h12.6l-6.3 12.6z"/>
<path class=d d="M565 425h13.6v13.6h-13.6z"/>
<path class=c d="M292 242h12.6l-6.3 12.6z"/>
<path class=e d="M429 594l6.4 4.6-2.4 7.5-7.9 0-2.4-7.5z"/>
<path class=d d="M492 538h13.6v13.6h-13.6z"/>
<path class=e d="M594 344l6.4 4.6-2.4 7.5-7.9 0-2.4-7.5z"/>
<path class=b d="M600 469l3.2 3.2 3.2-3.2 3.2 3.2-3.2 3.2 3.2 3.2-3.2 3.2-3.2-3.2-3.2 3.2-3.2-3.2 3.2-3.2-3.2-3.2z"/>
<path class=d d="M721 366h13.6v13.6h-13.6z"/>
<path class=b d="M783 370l3.2 3.2 3.2-3.2 3.2 3.2-3.2 3.2 3.2 3.2-3.2 3.2-3.2-3.2-3.2 3.2-3.2-3.2 3.2-3.2-3.2-3.2z"/>
<path class=e d="M596 342l6.4 4.6-2.4 7.5-7.9 0-2.4-7.5z"/>
<circle class=a cx=566 cy=495 r=7.1 />
<path class=b d="M375 787l3.2 3.2 3.2-3.2 3.2 3.2-3.2 3.2 3.2 3.2-3.2 3.2-3.2-3.2-3.2 3.2-3.2-3.2 3.2-3.2-3.2-3.2z"/>
<path class=c d="M386 236h12.6l-6.3 12.6z"/>
<path class=e d="M817 563l6.4 4.6-2.4 7.5-7.9 0-2.4-7.5z"/>
<path class=d d="M589 517h13.6v13.6h-13.6z"/>
<path class=c d="M643 167h12.6l-6.3 12.6z"/>
<circle class=a cx=391 cy=556 r=7.1 />
<path class=e d="M851 531l6.4 4.6-2.4 7.5-7.9 0-2.4-7.5z"/>
<path class=e d="M357 580l6.4 4.6-2.4 7.5-7.9 0-2.4-7.5z"/>
<path class=b d="M521 790l3.2 3.2 3.2-3.2 3.2 3.2-3.2 3.2 3.2 3.2-3.2 3.2-3.2-3.2-3.2 3.2-3.2-3.2 3.2-3.2-3.2-3.2z"/>
<circle class=a cx=813 cy=438 r=7.1 />
<path class=d d="M321 353h13.6v13.6h-13.6z"/>
<path class=e d="M772 488l6.4 4.6-2.4 7.5-7.9 0-2.4-7.5z"/>
<path class=c d="M474 99h12.6l-6.3 12.6z"/>
<path class=b d="M334 770l3.2 3.2 3.2-3.2 3.2 3.2-3.2 3.2 3.2 3.2-3.2 3.2-3.2-3.2-3.2 3.2-3.2-3.2 3.2-3.2-3.2-3.2z"/>
<path class=c d="M736 677h12.6l-6.3 12.6z"/>
<path class=e d="M783 545l6.4 4.6-2.4 7.5-7.9 0-2.4-7.5z"/>
<path class=b d="M618 519l3.2 3.2 3.2-3.2 3.2 3.2-3.2 3.2 3.2 3.2-3.2 3.2-3.2-3.2-3.2 3.2-3.2-3.2 3.2-3.2-3.2-3.2z"/>
<path class=d d="M706 355h13.6v13.6h-13.6z"/>
<path class=d d="M476 527h13.6v13.6h-13.6z"/>
<path class=e d="M769 484l6.4 4.6-2.4 7.5-7.9 0-2.4-7.5z"/>
<circle class=a cx=687 cy=469 r=7.1 />
<path class=b d="M598 473l3.2 3.2 3.2-3.2 3.2 3.2-3.2 3.2 3.2 3.2-3.2 3.2-3.2-3.2-3.2 3.2-3.2-3.2 3.2-3.2-3.2-3.2z"/>
<path class=c d="M501 221h12.6l-6.3 12.6z"/>
<path class=b d="M375 731l3.2 3.2 3.2-3.2 3.2 3.2-3.2 3.2 3.2 3.2-3.2 3.2-3.2-3.2-3.2 3.2-3.2-3.2 3.2-3.2-3.2-3.2z"/>
<path class=c d="M141 368h12.6l-6.3 12.6z"/>
<path class=c d="M610 150h12.6l-6.3 12.6z"/>
<path class=b d="M588 489l3.2 3.2 3.2-3.2 3.2 3.2-3.2 3.2 3.2 3.2-3.2 3.2-3.2-3.2-3.2 3.2-3.2-3.2 3.2-3.2-3.2-3.2z"/>
<circle class=a cx=651 cy=493 r=7.1 />
<path class=b d="M460 698l3.2 3.2 3.2-3.2 3.2 3.2-3.2 3.2 3.2 3.2-3.2 3.2-3.2-3.2-3.2 3.2-3.2-3.2 3.2-3.2-3.2-3.2z"/>
<path class=e d="M295 536l6.4 4.6-2.4 7.5-7.9 0-2.4-7.5z"/>
<path class=e d="M362 560l6.4 4.6-2.4 7.5-7.9 0-2.4-7.5z"/>
<path class=d d="M563 428h13.6v13.6h-13.6z"/>
<path class=c d="M269 265h12.6l-6.3 12.6z"/>
<path class=b d="M584 490l3.2 3.2 3.2-3.2 3.2 3.2-3.2 3.2 3.2 3.2-3.2 3.2-3.2-3.2-3.2 3.2-3.2-3.2 3.2-3.2-3.2-3.2z"/>
<path class=b d="M450 735l3.2 3.2 3.2-3.2 3.2 3.2-3.2 3.2 3.2 3.2-3.2 3.2-3.2-3.2-3.2 3.2-3.2-3.2 3.2-3.2-3.2-3.2z"/>
<circle class=a cx=723 cy=462 r=7.1 />
<path class=b d="M557 463l3.2 3.2 3.2-3.2 3.2 3.2-3.2 3.2 3.2 3.2-3.2 3.2-3.2-3.2-3.2 3.2-3.2-3.2 3.2-3.2-3.2-3.2z"/>
<path class=c d="M668 181h12.6l-6.3 12.6z"/>
<path class=c d="M122 375h12.6l-6.3 12.6z"/>
<path class=b d="M565 785l3.2 3.2 3.2-3.2 3.2 3.2-3.2 3.2 3.2 3.2-3.2 3.2-3.2-3.2-3.2 3.2-3.2-3.2 3.2-3.2-3.2-3.2z"/>
<path class=c d="M150 370h12.6l-6.3 12.6z"/>
<path class=e d="M771 491l6.4 4.6-2.4 7.5-7.9 0-2.4-7.5z"/>
<path class=d d="M446 558h13.6v13.6h-13.6z"/>
<path class=d d="M567 462h13.6v13.6h-13.6z"/>
<path class=e d="M825 554l6.4 4.6-2.4 7.5-7.9 0-2.4-7.5z"/>
<path class=c d="M586 683h12.6l-6.3 12.6z"/>
<path class=c d="M477 98h12.6l-6.3 12.6z"/>
<path class=c d="M618 154h12.6l-6.3 12.6z"/>
<path class=b d="M587 568l3.2 3.2 3.2-3.2 3.2 3.2-3.2 3.2 3.2 3.2-3.2 3.2-3.2-3.2-3.2 3.2-3.2-3.2 3.2-3.2-3.2-3.2z"/>
<path class=c d="M649 730h12.6l-6.3 12.6z"/>
<path class=d d="M616 552h13.6v13.6h-13.6z"/>
<path class=e d="M831 579l6.4 4.6-2.4 7.5-7.9 0-2.4-7.5z"/>
<path class=c d="M502 187h12.6l-6.3 12.6z"/>
<path class=b d="M566 565l3.2 3.2 3.2-3.2 3.2 3.2-3.2 3.2 3.2 3.2-3.2 3.2-3.2-3.2-3.2 3.2-3.2-3.2 3.2-3.2-3.2-3.2z"/>
<path class=d d="M443 591h13.6v13.6h-13.6z"/>
<path class=c d="M138 380h12.6l-6.3 12.6z"/>
<path class=b d="M613 552l3.2 3.2 3.2-3.2 3.2 3.2-3.2 3.2 3.2 3.2-3.2 3.2-3.2-3.2-3.2 3.2-3.2-3.2 3.2-3.2-3.2-3.2z"/>
<path class=d d="M580 543h13.6v13.6h-13.6z"/>
<path class=d d="M625 379h13.6v13.6h-13.6z"/>
<path class=b d="M554 766l3.2 3.2 3.2-3.2 3.2 3.2-3.2 3.2 3.2 3.2-3.2 3.2-3.2-3.2-3.2 3.2-3.2-3.2 3.2-3.2-3.2-3.2z"/>
<path class=c d="M745 687h12.6l-6.3 12.6z"/>
<path class=c d="M405 214h12.6l-6.3 12.6z"/>
<path class=b d="M737 353l3.2 3.2 3.2-3.2 3.2 3.2-3.2 3.2 3.2 3.2-3.2 3.2-3.2-3.2-3.2 3.2-3.2-3.2 3.2-3.2-3.2-3.2z"/>
<path class=b d="M553 562l3.2 3.2 3.2-3.2 3.2 3.2-3.2 3.2 3.2 3.2-3.2 3.2-3.2-3.2-3.2 3.2-3.2-3.2 3.2-3.2-3.2-3.2z"/>
<path class=d d="M451 435h13.6v13.6h-13.6z"/>
<path class=e d="M835 560l6.4 4.6-2.4 7.5-7.9 0-2.4-7.5z"/>
<path class=c d="M600 149h12.6l-6.3 12.6z"/>
<path class=c d="M157 469h12.6l-6.3 12.6z"/>
<path class=e d="M334 525l6.4 4.6-2.4 7.5-7.9 0-2.4-7.5z"/>
<path class=c d="M508 173h12.6l-6.3 12.6z"/>
<path class=e d="M775 541l6.4 4.6-2.4 7.5-7.9 0-2.4-7.5z"/>
<path class=d d="M327 365h13.6v13.6h-13.6z"/>
<circle class=a cx=648 cy=495 r=7.1 />
<path class=c d="M656 169h12.6l-6.3 12.6z"/>
<path class=d d="M808 315h13.6v13.6h-13.6z"/>
<path class=b d="M613 544l3.2 3.2 3.2-3.2 3.2 3.2-3.2 3.2 3.2 3.2-3.2 3.2-3.2-3.2-3.2 3.2-3.2-3.2 3.2-3.2-3.2-3.2z"/>
<path class=c d="M288 256h12.6l-6.3 12.6z"/>
<path class=e d="M328 502l6.4 4.6-2.4 7.5-7.9 0-2.4-7.5z"/>
<path class=c d="M650 715h12.6l-6.3 12.6z"/>
<path class=d d="M738 292h13.6v13.6h-13.6z"/>
<path class=d d="M670 487h13.6v13.6h-13.6z"/>
<path class=e d="M358 583l6.4 4.6-2.4 7.5-7.9 0-2.4-7.5z"/>
<path class=b d="M467 768l3.2 3.2 3.2-3.2 3.2 3.2-3.2 3.2 3.2 3.2-3.2 3.2-3.2-3.2-3.2 3.2-3.2-3.2 3.2-3.2-3.2-3.2z"/>
<path class=d d="M528 546h13.6v13.6h-13.6z"/>
<circle class=a cx=826 cy=425 r=7.1 />
<path class=d d="M478 555h13.6v13.6h-13.6z"/>
<path class=c d="M475 116h12.6l-6.3 12.6z"/>
<circle class=a cx=660 cy=478 r=7.1 />
<path class=d d="M486 511h13.6v13.6h-13.6z"/>
<path class=d d="M561 289h13.6v13.6h-13.6z"/>
<path class=c d="M362 147h12.6l-6.3 12.6z"/>
<path class=c d="M735 690h12.6l-6.3 12.6z"/>
<path class=e d="M378 526l6.4 4.6-2.4 7.5-7.9 0-2.4-7.5z"/>
<path class=d d="M491 382h13.6v13.6h-13.6z"/>
<path class=d d="M747 277h13.6v13.6h-13.6z"/>
<path class=d d="M495 539h13.6v13.6h-13.6z"/>
<circle class=a cx=560 cy=501 r=7.1 />
<path class=b d="M361 756l3.2 3.2 3.2-3.2 3.2 3.2-3.2 3.2 3.2 3.2-3.2 3.2-3.2-3.2-3.2 3.2-3.2-3.2 3.2-3.2-3.2-3.2z"/>
<path class=b d="M549 780l3.2 3.2 3.2-3.2 3.2 3.2-3.2 3.2 3.2 3.2-3.2 3.2-3.2-3.2-3.2 3.2-3.2-3.2 3.2-3.2-3.2-3.2z"/>
<path class=d d="M796 469h13.6v13.6h-13.6z"/>
<path class=e d="M366 622l6.4 4.6-2.4 7.5-7.9 0-2.4-7.5z"/>
<path class=d d="M600 511h13.6v13.6h-13.6z"/>
<path class=c d="M168 480h12.6l-6.3 12.6z"/>
<path class=c d="M143 366h12.6l-6.3 12.6z"/>
<path class=b d="M522 791l3.2 3.2 3.2-3.2 3.2 3.2-3.2 3.2 3.2 3.2-3.2 3.2-3.2-3.2-3.2 3.2-3.2-3.2 3.2-3.2-3.2-3.2z"/>
<path class=d d="M623 306h13.6v13.6h-13.6z"/>
<path class=c d="M666 721h12.6l-6.3 12.6z"/>
<path class=d d="M614 488h13.6v13.6h-13.6z"/>
<circle class=a cx=425 cy=414 r=7.1 />
<path class=b d="M423 565l3.2 3.2 3.2-3.2 3.2 3.2-3.2 3.2 3.2 3.2-3.2 3.2-3.2-3.2-3.2 3.2-3.2-3.2 3.2-3.2-3.2-3.2z"/>
<path class=c d="M590 662h12.6l-6.3 12.6z"/>
<path class=b d="M788 376l3.2 3.2 3.2-3.2 3.2 3.2-3.2 3.2 3.2 3.2-3.2 3.2-3.2-3.2-3.2 3.2-3.2-3.2 3.2-3.2-3.2-3.2z"/>
<path class=b d="M534 501l3.2 3.2 3.2-3.2 3.2 3.2-3.2 3.2 3.2 3.2-3.2 3.2-3.2-3.2-3.2 3.2-3.2-3.2 3.2-3.2-3.2-3.2z"/>
<path class=c d="M390 198h12.6l-6.3 12.6z"/>
<path class=b d="M159 609l3.2 3.2 3.2-3.2 3.2 3.2-3.2 3.2 3.2 3.2-3.2 3.2-3.2-3.2-3.2 3.2-3.2-3.2 3.2-3.2-3.2-3.2z"/>
<circle class=a cx=619 cy=506 r=7.1 />
<circle class=a cx=604 cy=427 r=7.1 />
<circle class=a cx=723 cy=463 r=7.1 />
<path class=d d="M593 291h13.6v13.6h-13.6z"/>
<path class=d d="M749 287h13.6v13.6h-13.6z"/>
<circle class=a cx=401 cy=530 r=7.1 />
<circle class=a cx=635 cy=524 r=7.1 />
<circle class=a cx=575 cy=539 r=7.1 />
<path class=b d="M609 492l3.2 3.2 3.2-3.2 3.2 3.2-3.2 3.2 3.2 3.2-3.2 3.2-3.2-3.2-3.2 3.2-3.2-3.2 3.2-3.2-3.2-3.2z"/>
<path class=d d="M658 346h13.6v13.6h-13.6z"/>
<path class=c d="M517 165h12.6l-6.3 12.6z"/>
<circle class=a cx=626 cy=449 r=7.1 />
<path class=d d="M530 548h13.6v13.6h-13.6z"/>
<path class=b d="M417 746l3.2 3.2 3.2-3.2 3.2 3.2-3.2 3.2 3.2 3.2-3.2 3.2-3.2-3.2-3.2 3.2-3.2-3.2 3.2-3.2-3.2-3.2z"/>
<circle class=a cx=441 cy=419 r=7.1 />
<circle class=a cx=789 cy=426 r=7.1 />
<path class=e d="M808 568l6.4 4.6-2.4 7.5-7.9 0-2.4-7.5z"/>
<path class=b d="M476 704l3.2 3.2 3.2-3.2 3.2 3.2-3.2 3.2 3.2 3.2-3.2 3.2-3.2-3.2-3.2 3.2-3.2-3.2 3.2-3.2-3.2-3.2z"/>
<path class=e d="M769 486l6.4 4.6-2.4 7.5-7.9 0-2.4-7.5z"/>
<path class=c d="M652 719h12.6l-6.3 12.6z"/>
<circle class=a cx=619 cy=508 r=7.1 />
<path class=e d="M430 595l6.4 4.6-2.4 7.5-7.9 0-2.4-7.5z"/>
<circle class=a cx=422 cy=423 r=7.1 />
<path class=b d="M360 753l3.2 3.2 3.2-3.2 3.2 3.2-3.2 3.2 3.2 3.2-3.2 3.2-3.2-3.2-3.2 3.2-3.2-3.2 3.2-3.2-3.2-3.2z"/>
<path class=c d="M595 664h12.6l-6.3 12.6z"/>
<path class=d d="M337 424h13.6v13.6h-13.6z"/>
<circle class=a cx=609 cy=557 r=7.1 />
<path class=d d="M492 385h13.6v13.6h-13.6z"/>
<path class=d d="M650 358h13.6v13.6h-13.6z"/>
<path class=d d="M640 304h13.6v13.6h-13.6z"/>
<path class=b d="M379 730l3.2 3.2 3.2-3.2 3.2 3.2-3.2 3.2 3.2 3.2-3.2 3.2-3.2-3.2-3.2 3.2-3.2-3.2 3.2-3.2-3.2-3.2z"/>
<circle class=a cx=609 cy=559 r=7.1 />
<path class=c d="M384 220h12.6l-6.3 12.6z"/>
<path class=b d="M762 338l3.2 3.2 3.2-3.2 3.2 3.2-3.2 3.2 3.2 3.2-3.2 3.2-3.2-3.2-3.2 3.2-3.2-3.2 3.2-3.2-3.2-3.2z"/>
<path class=c d="M489 216h12.6l-6.3 12.6z"/>
<path class=b d="M195 585l3.2 3.2 3.2-3.2 3.2 3.2-3.2 3.2 3.2 3.2-3.2 3.2-3.2-3.2-3.2 3.2-3.2-3.2 3.2-3.2-3.2-3.2z"/>
<path class=c d="M494 168h12.6l-6.3 12.6z"/>
<circle class=a cx=592 cy=465 r=7.1 />
<path class=b d="M570 567l3.2 3.2 3.2-3.2 3.2 3.2-3.2 3.2 3.2 3.2-3.2 3.2-3.2-3.2-3.2 3.2-3.2-3.2 3.2-3.2-3.2-3.2z"/>
<circle class=a cx=424 cy=405 r=7.1 />
<path class=d d="M448 567h13.6v13.6h-13.6z"/>
<path class=b d="M561 503l3.2 3.2 3.2-3.2 3.2 3.2-3.2 3.2 3.2 3.2-3.2 3.2-3.2-3.2-3.2 3.2-3.2-3.2 3.2-3.2-3.2-3.2z"/>
<path class=b d="M750 369l3.2 3.2 3.2-3.2 3.2 3.2-3.2 3.2 3.2 3.2-3.2 3.2-3.2-3.2-3.2 3.2-3.2-3.2 3.2-3.2-3.2-3.2z"/>
<path class=b d="M586 490l3.2 3.2 3.2-3.2 3.2 3.2-3.2 3.2 3.2 3.2-3.2 3.2-3.2-3.2-3.2 3.2-3.2-3.2 3.2-3.2-3.2-3.2z"/>
<path class=c d="M508 209h12.6l-6.3 12.6z"/>
<path class=b d="M537 819l3.2 3.2 3.2-3.2 3.2 3.2-3.2 3.2 3.2 3.2-3.2 3.2-3.2-3.2-3.2 3.2-3.2-3.2 3.2-3.2-3.2-3.2z"/>
<circle class=a cx=494 cy=316 r=7.1 />
<path class=c d="M491 205h12.6l-6.3 12.6z"/>
<circle class=a cx=616 cy=586 r=7.1 />
<path class=d d="M610 304h13.6v13.6h-13.6z"/>
<path class=c d="M612 151h12.6l-6.3 12.6z"/>
<circle class=a cx=609 cy=545 r=7.1 />
<path class=c d="M406 201h12.6l-6.3 12.6z"/>
<path class=b d="M215 627l3.2 3.2 3.2-3.2 3.2 3.2-3.2 3.2 3.2 3.2-3.2 3.2-3.2-3.2-3.2 3.2-3.2-3.2 3.2-3.2-3.2-3.2z"/>
<path class=e d="M426 601l6.4 4.6-2.4 7.5-7.9 0-2.4-7.5z"/>
<path class=d d="M716 290h13.6v13.6h-13.6z"/>
<path class=c d="M379 176h12.6l-6.3 12.6z"/>
<path class=b d="M453 713l3.2 3.2 3.2-3.2 3.2 3.2-3.2 3.2 3.2 3.2-3.2 3.2-3.2-3.2-3.2 3.2-3.2-3.2 3.2-3.2-3.2-3.2z"/>
<path class=e d="M294 514l6.4 4.6-2.4 7.5-7.9 0-2.4-7.5z"/>
<path class=d d="M444 409h13.6v13.6h-13.6z"/>
<circle class=a cx=489 cy=329 r=7.1 />
<path class=b d="M552 797l3.2 3.2 3.2-3.2 3.2 3.2-3.2 3.2 3.2 3.2-3.2 3.2-3.2-3.2-3.2 3.2-3.2-3.2 3.2-3.2-3.2-3.2z"/>
<path class=b d="M554 455l3.2 3.2 3.2-3.2 3.2 3.2-3.2 3.2 3.2 3.2-3.2 3.2-3.2-3.2-3.2 3.2-3.2-3.2 3.2-3.2-3.2-3.2z"/>
<path class=b d="M539 507l3.2 3.2 3.2-3.2 3.2 3.2-3.2 3.2 3.2 3.2-3.2 3.2-3.2-3.2-3.2 3.2-3.2-3.2 3.2-3.2-3.2-3.2z"/>
<path class=c d="M145 375h12.6l-6.3 12.6z"/>
<path class=e d="M813 581l6.4 4.6-2.4 7.5-7.9 0-2.4-7.5z"/>
<path class=c d="M587 681h12.6l-6.3 12.6z"/>
<path class=b d="M633 561l3.2 3.2 3.2-3.2 3.2 3.2-3.2 3.2 3.2 3.2-3.2 3.2-3.2-3.2-3.2 3.2-3.2-3.2 3.2-3.2-3.2-3.2z"/>
<path class=e d="M333 553l6.4 4.6-2.4 7.5-7.9 0-2.4-7.5z"/>
<circle class=a cx=453 cy=400 r=7.1 />
<path class=e d="M364 604l6.4 4.6-2.4 7.5-7.9 0-2.4-7.5z"/>
<path class=b d="M161 601l3.2 3.2 3.2-3.2 3.2 3.2-3.2 3.2 3.2 3.2-3.2 3.2-3.2-3.2-3.2 3.2-3.2-3.2 3.2-3.2-3.2-3.2z"/>
<path class=d d="M519 390h13.6v13.6h-13.6z"/>
<path class=e d="M775 513l6.4 4.6-2.4 7.5-7.9 0-2.4-7.5z"/>
<path class=e d="M777 566l6.4 4.6-2.4 7.5-7.9 0-2.4-7.5z"/>
<path class=d d="M657 347h13.6v13.6h-13.6z"/>
<circle class=a cx=530 cy=450 r=7.1 />
<path class=c d="M282 246h12.6l-6.3 12.6z"/>
<path class=b d="M566 325l3.2 3.2 3.2-3.2 3.2 3.2-3.2 3.2 3.2 3.2-3.2 3.2-3.2-3.2-3.2 3.2-3.2-3.2 3.2-3.2-3.2-3.2z"/>
<path class=e d="M858 540l6.4 4.6-2.4 7.5-7.9 0-2.4-7.5z"/>
<path class=e d="M313 533l6.4 4.6-2.4 7.5-7.9 0-2.4-7.5z"/>
<circle class=a cx=430 cy=382 r=7.1 />
<path class=d d="M350 353h13.6v13.6h-13.6z"/>
<path class=c d="M507 178h12.6l-6.3 12.6z"/>
<path class=c d="M412 217h12.6l-6.3 12.6z"/>
<path class=b d="M419 744l3.2 3.2 3.2-3.2 3.2 3.2-3.2 3.2 3.2 3.2-3.2 3.2-3.2-3.2-3.2 3.2-3.2-3.2 3.2-3.2-3.2-3.2z"/>
<path class=d d="M566 427h13.6v13.6h-13.6z"/>
<path class=e d="M779 580l6.4 4.6-2.4 7.5-7.9 0-2.4-7.5z"/>
<path class=b d="M209 622l3.2 3.2 3.2-3.2 3.2 3.2-3.2 3.2 3.2 3.2-3.2 3.2-3.2-3.2-3.2 3.2-3.2-3.2 3.2-3.2-3.2-3.2z"/>
<path class=b d="M429 712l3.2 3.2 3.2-3.2 3.2 3.2-3.2 3.2 3.2 3.2-3.2 3.2-3.2-3.2-3.2 3.2-3.2-3.2 3.2-3.2-3.2-3.2z"/>
<path class=b d="M183 608l3.2 3.2 3.2-3.2 3.2 3.2-3.2 3.2 3.2 3.2-3.2 3.2-3.2-3.2-3.2 3.2-3.2-3.2 3.2-3.2-3.2-3.2z"/>
<path class=b d="M548 456l3.2 3.2 3.2-3.2 3.2 3.2-3.2 3.2 3.2 3.2-3.2 3.2-3.2-3.2-3.2 3.2-3.2-3.2 3.2-3.2-3.2-3.2z"/>
<path class=b d="M410 729l3.2 3.2 3.2-3.2 3.2 3.2-3.2 3.2 3.2 3.2-3.2 3.2-3.2-3.2-3.2 3.2-3.2-3.2 3.2-3.2-3.2-3.2z"/>
<circle class=a cx=544 cy=542 r=7.1 />
<path class=c d="M476 119h12.6l-6.3 12.6z"/>
<circle class=a cx=630 cy=436 r=7.1 />
<path class=b d="M591 566l3.2 3.2 3.2-3.2 3.2 3.2-3.2 3.2 3.2 3.2-3.2 3.2-3.2-3.2-3.2 3.2-3.2-3.2 3.2-3.2-3.2-3.2z"/>
<path class=d d="M466 507h13.6v13.6h-13.6z"/>
<path class=e d="M315 556l6.4 4.6-2.4 7.5-7.9 0-2.4-7.5z"/>
<path class=b d="M374 773l3.2 3.2 3.2-3.2 3.2 3.2-3.2 3.2 3.2 3.2-3.2 3.2-3.2-3.2-3.2 3.2-3.2-3.2 3.2-3.2-3.2-3.2z"/>
<path class=b d="M696 486l3.2 3.2 3.2-3.2 3.2 3.2-3.2 3.2 3.2 3.2-3.2 3.2-3.2-3.2-3.2 3.2-3.2-3.2 3.2-3.2-3.2-3.2z"/>
<path class=b d="M526 762l3.2 3.2 3.2-3.2 3.2 3.2-3.2 3.2 3.2 3.2-3.2 3.2-3.2-3.2-3.2 3.2-3.2-3.2 3.2-3.2-3.2-3.2z"/>
<circle class=a cx=669 cy=490 r=7.1 />
<path class=c d="M248 264h12.6l-6.3 12.6z"/>
<circle class=a cx=604 cy=536 r=7.1 />
<path class=c d="M188 458h12.6l-6.3 12.6z"/>
<path class=c d="M186 460h12.6l-6.3 12.6z"/>
<path class=d d="M601 514h13.6v13.6h-13.6z"/>
<path class=b d="M661 518l3.2 3.2 3.2-3.2 3.2 3.2-3.2 3.2 3.2 3.2-3.2 3.2-3.2-3.2-3.2 3.2-3.2-3.2 3.2-3.2-3.2-3.2z"/>
<circle class=a cx=607 cy=483 r=7.1 />
<path class=c d="M211 464h12.6l-6.3 12.6z"/>
<path class=e d="M363 605l6.4 4.6-2.4 7.5-7.9 0-2.4-7.5z"/>
<path class=b d="M545 449l3.2 3.2 3.2-3.2 3.2 3.2-3.2 3.2 3.2 3.2-3.2 3.2-3.2-3.2-3.2 3.2-3.2-3.2 3.2-3.2-3.2-3.2z"/>
<path class=b d="M159 608l3.2 3.2 3.2-3.2 3.2 3.2-3.2 3.2 3.2 3.2-3.2 3.2-3.2-3.2-3.2 3.2-3.2-3.2 3.2-3.2-3.2-3.2z"/>
<path class=b d="M604 574l3.2 3.2 3.2-3.2 3.2 3.2-3.2 3.2 3.2 3.2-3.2 3.2-3.2-3.2-3.2 3.2-3.2-3.2 3.2-3.2-3.2-3.2z"/>
<path class=b d="M541 787l3.2 3.2 3.2-3.2 3.2 3.2-3.2 3.2 3.2 3.2-3.2 3.2-3.2-3.2-3.2 3.2-3.2-3.2 3.2-3.2-3.2-3.2z"/>
<path class=b d="M559 507l3.2 3.2 3.2-3.2 3.2 3.2-3.2 3.2 3.2 3.2-3.2 3.2-3.2-3.2-3.2 3.2-3.2-3.2 3.2-3.2-3.2-3.2z"/>
<path class=b d="M477 725l3.2 3.2 3.2-3.2 3.2 3.2-3.2 3.2 3.2 3.2-3.2 3.2-3.2-3.2-3.2 3.2-3.2-3.2 3.2-3.2-3.2-3.2z"/>
<circle class=a cx=474 cy=457 r=7.1 />
<path class=d d="M719 386h13.6v13.6h-13.6z"/>
<circle class=a cx=426 cy=418 r=7.1 />
<path class=b d="M196 567l3.2 3.2 3.2-3.2 3.2 3.2-3.2 3.2 3.2 3.2-3.2 3.2-3.2-3.2-3.2 3.2-3.2-3.2 3.2-3.2-3.2-3.2z"/>
<path class=c d="M593 688h12.6l-6.3 12.6z"/>
<path class=e d="M804 484l6.4 4.6-2.4 7.5-7.9 0-2.4-7.5z"/>
<path class=d d="M406 352h13.6v13.6h-13.6z"/>
<path class=b d="M176 575l3.2 3.2 3.2-3.2 3.2 3.2-3.2 3.2 3.2 3.2-3.2 3.2-3.2-3.2-3.2 3.2-3.2-3.2 3.2-3.2-3.2-3.2z"/>
<path class=b d="M373 733l3.2 3.2 3.2-3.2 3.2 3.2-3.2 3.2 3.2 3.2-3.2 3.2-3.2-3.2-3.2 3.2-3.2-3.2 3.2-3.2-3.2-3.2z"/>
<path class=b d="M505 758l3.2 3.2 3.2-3.2 3.2 3.2-3.2 3.2 3.2 3.2-3.2 3.2-3.2-3.2-3.2 3.2-3.2-3.2 3.2-3.2-3.2-3.2z"/>
<path class=d d="M443 528h13.6v13.6h-13.6z"/>
<path class=e d="M767 509l6.4 4.6-2.4 7.5-7.9 0-2.4-7.5z"/>
<path class=e d="M368 623l6.4 4.6-2.4 7.5-7.9 0-2.4-7.5z"/>
<circle class=a cx=542 cy=478 r=7.1 />
<path class=b d="M188 576l3.2 3.2 3.2-3.2 3.2 3.2-3.2 3.2 3.2 3.2-3.2 3.2-3.2-3.2-3.2 3.2-3.2-3.2 3.2-3.2-3.2-3.2z"/>
<path class=e d="M732 449l6.4 4.6-2.4 7.5-7.9 0-2.4-7.5z"/>
<path class=b d="M193 589l3.2 3.2 3.2-3.2 3.2 3.2-3.2 3.2 3.2 3.2-3.2 3.2-3.2-3.2-3.2 3.2-3.2-3.2 3.2-3.2-3.2-3.2z"/>
<path class=c d="M731 670h12.6l-6.3 12.6z"/>
<path class=c d="M656 182h12.6l-6.3 12.6z"/>
<path class=b d="M187 567l3.2 3.2 3.2-3.2 3.2 3.2-3.2 3.2 3.2 3.2-3.2 3.2-3.2-3.2-3.2 3.2-3.2-3.2 3.2-3.2-3.2-3.2z"/>
<path class=d d="M693 338h13.6v13.6h-13.6z"/>
<path class=b d="M177 579l3.2 3.2 3.2-3.2 3.2 3.2-3.2 3.2 3.2 3.2-3.2 3.2-3.2-3.2-3.2 3.2-3.2-3.2 3.2-3.2-3.2-3.2z"/>
<path class=d d="M307 377h13.6v13.6h-13.6z"/>
<path class=c d="M592 678h12.6l-6.3 12.6z"/>
<path class=e d="M766 483l6.4 4.6-2.4 7.5-7.9 0-2.4-7.5z"/>
<path class=d d="M443 559h13.6v13.6h-13.6z"/>
<path class=c d="M370 188h12.6l-6.3 12.6z"/>
<circle class=a cx=453 cy=343 r=7.1 />
<path class=c d="M216 470h12.6l-6.3 12.6z"/>
<path class=d d="M579 267h13.6v13.6h-13.6z"/>
<circle class=a cx=430 cy=441 r=7.1 />
<path class=e d="M748 479l6.4 4.6-2.4 7.5-7.9 0-2.4-7.5z"/>
<path class=d d="M615 535h13.6v13.6h-13.6z"/>
<circle class=a cx=403 cy=424 r=7.1 />
<path class=c d="M152 463h12.6l-6.3 12.6z"/>
<path class=b d="M213 585l3.2 3.2 3.2-3.2 3.2 3.2-3.2 3.2 3.2 3.2-3.2 3.2-3.2-3.2-3.2 3.2-3.2-3.2 3.2-3.2-3.2-3.2z"/>
<path class=e d="M776 516l6.4 4.6-2.4 7.5-7.9 0-2.4-7.5z"/>
<path class=e d="M768 494l6.4 4.6-2.4 7.5-7.9 0-2.4-7.5z"/>
<path class=d d="M489 512h13.6v13.6h-13.6z"/>
<path class=b d="M181 569l3.2 3.2 3.2-3.2 3.2 3.2-3.2 3.2 3.2 3.2-3.2 3.2-3.2-3.2-3.2 3.2-3.2-3.2 3.2-3.2-3.2-3.2z"/>
<path class=b d="M173 579l3.2 3.2 3.2-3.2 3.2 3.2-3.2 3.2 3.2 3.2-3.2 3.2-3.2-3.2-3.2 3.2-3.2-3.2 3.2-3.2-3.2-3.2z"/>
<circle class=a cx=715 cy=445 r=7.1 />
<path class=b d="M209 586l3.2 3.2 3.2-3.2 3.2 3.2-3.2 3.2 3.2 3.2-3.2 3.2-3.2-3.2-3.2 3.2-3.2-3.2 3.2-3.2-3.2-3.2z"/>
<path class=c d="M597 686h12.6l-6.3 12.6z"/>
<path class=d d="M598 337h13.6v13.6h-13.6z"/>
<path class=b d="M400 723l3.2 3.2 3.2-3.2 3.2 3.2-3.2 3.2 3.2 3.2-3.2 3.2-3.2-3.2-3.2 3.2-3.2-3.2 3.2-3.2-3.2-3.2z"/>
<path class=d d="M340 344h13.6v13.6h-13.6z"/>
<path class=e d="M825 584l6.4 4.6-2.4 7.5-7.9 0-2.4-7.5z"/>
<path class=d d="M374 523h13.6v13.6h-13.6z"/>
<path class=d d="M432 509h13.6v13.6h-13.6z"/>
<path class=c d="M212 443h12.6l-6.3 12.6z"/>
<path class=b d="M548 474l3.2 3.2 3.2-3.2 3.2 3.2-3.2 3.2 3.2 3.2-3.2 3.2-3.2-3.2-3.2 3.2-3.2-3.2 3.2-3.2-3.2-3.2z"/>
<path class=c d="M487 196h12.6l-6.3 12.6z"/>
<path class=c d="M289 240h12.6l-6.3 12.6z"/>
<path class=d d="M458 485h13.6v13.6h-13.6z"/>
<path class=b d="M578 578l3.2 3.2 3.2-3.2 3.2 3.2-3.2 3.2 3.2 3.2-3.2 3.2-3.2-3.2-3.2 3.2-3.2-3.2 3.2-3.2-3.2-3.2z"/>
<path class=d d="M426 552h13.6v13.6h-13.6z"/>
<path class=b d="M602 488l3.2 3.2 3.2-3.2 3.2 3.2-3.2 3.2 3.2 3.2-3.2 3.2-3.2-3.2-3.2 3.2-3.2-3.2 3.2-3.2-3.2-3.2z"/>
<path class=e d="M362 537l6.4 4.6-2.4 7.5-7.9 0-2.4-7.5z"/>
<circle class=a cx=391 cy=553 r=7.1 />
<path class=e d="M301 602l6.4 4.6-2.4 7.5-7.9 0-2.4-7.5z"/>
<path class=b d="M421 561l3.2 3.2 3.2-3.2 3.2 3.2-3.2 3.2 3.2 3.2-3.2 3.2-3.2-3.2-3.2 3.2-3.2-3.2 3.2-3.2-3.2-3.2z"/>
<path class=c d="M247 288h12.6l-6.3 12.6z"/>
<circle class=a cx=419 cy=362 r=7.1 />
<path class=e d="M348 476l6.4 4.6-2.4 7.5-7.9 0-2.4-7.5z"/>
<path class=d d="M347 406h13.6v13.6h-13.6z"/>
<path class=e d="M313 553l6.4 4.6-2.4 7.5-7.9 0-2.4-7.5z"/>
<path class=c d="M485 195h12.6l-6.3 12.6z"/>
<path class=b d="M404 720l3.2 3.2 3.2-3.2 3.2 3.2-3.2 3.2 3.2 3.2-3.2 3.2-3.2-3.2-3.2 3.2-3.2-3.2 3.2-3.2-3.2-3.2z"/>
<path class=b d="M382 750l3.2 3.2 3.2-3.2 3.2 3.2-3.2 3.2 3.2 3.2-3.2 3.2-3.2-3.2-3.2 3.2-3.2-3.2 3.2-3.2-3.2-3.2z"/>
<circle class=a cx=418 cy=568 r=7.1 />
<path class=c d="M620 686h12.6l-6.3 12.6z"/>
<path class=b d="M518 789l3.2 3.2 3.2-3.2 3.2 3.2-3.2 3.2 3.2 3.2-3.2 3.2-3.2-3.2-3.2 3.2-3.2-3.2 3.2-3.2-3.2-3.2z"/>
<path class=d d="M510 455h13.6v13.6h-13.6z"/>
<path class=d d="M715 295h13.6v13.6h-13.6z"/>
<path class=e d="M751 537l6.4 4.6-2.4 7.5-7.9 0-2.4-7.5z"/>
<path class=d d="M365 381h13.6v13.6h-13.6z"/>
<path class=c d="M124 372h12.6l-6.3 12.6z"/>
<circle class=a cx=645 cy=509 r=7.1 />
<path class=b d="M359 773l3.2 3.2 3.2-3.2 3.2 3.2-3.2 3.2 3.2 3.2-3.2 3.2-3.2-3.2-3.2 3.2-3.2-3.2 3.2-3.2-3.2-3.2z"/>
<path class=c d="M627 678h12.6l-6.3 12.6z"/>
<path class=b d="M562 806l3.2 3.2 3.2-3.2 3.2 3.2-3.2 3.2 3.2 3.2-3.2 3.2-3.2-3.2-3.2 3.2-3.2-3.2 3.2-3.2-3.2-3.2z"/>
<path class=b d="M691 480l3.2 3.2 3.2-3.2 3.2 3.2-3.2 3.2 3.2 3.2-3.2 3.2-3.2-3.2-3.2 3.2-3.2-3.2 3.2-3.2-3.2-3.2z"/>
<path class=c d="M589 686h12.6l-6.3 12.6z"/>
<path class=c d="M657 179h12.6l-6.3 12.6z"/>
<path class=b d="M585 492l3.2 3.2 3.2-3.2 3.2 3.2-3.2 3.2 3.2 3.2-3.2 3.2-3.2-3.2-3.2 3.2-3.2-3.2 3.2-3.2-3.2-3.2z"/>
<circle class=a cx=589 cy=485 r=7.1 />
<path class=b d="M474 743l3.2 3.2 3.2-3.2 3.2 3.2-3.2 3.2 3.2 3.2-3.2 3.2-3.2-3.2-3.2 3.2-3.2-3.2 3.2-3.2-3.2-3.2z"/>
<path class=d d="M336 395h13.6v13.6h-13.6z"/>
<path class=c d="M208 465h12.6l-6.3 12.6z"/>
<path class=b d="M378 771l3.2 3.2 3.2-3.2 3.2 3.2-3.2 3.2 3.2 3.2-3.2 3.2-3.2-3.2-3.2 3.2-3.2-3.2 3.2-3.2-3.2-3.2z"/>
<path class=d d="M478 566h13.6v13.6h-13.6z"/>
<circle class=a cx=437 cy=422 r=7.1 />
<path class=d d="M653 361h13.6v13.6h-13.6z"/>
<path class=d d="M590 516h13.6v13.6h-13.6z"/>
<path class=c d="M148 378h12.6l-6.3 12.6z"/>
<path class=e d="M392 596l6.4 4.6-2.4 7.5-7.9 0-2.4-7.5z"/>
<path class=e d="M397 608l6.4 4.6-2.4 7.5-7.9 0-2.4-7.5z"/>
<path class=c d="M394 208h12.6l-6.3 12.6z"/>
<path class=d d="M726 288h13.6v13.6h-13.6z"/>
<path class=b d="M394 774l3.2 3.2 3.2-3.2 3.2 3.2-3.2 3.2 3.2 3.2-3.2 3.2-3.2-3.2-3.2 3.2-3.2-3.2 3.2-3.2-3.2-3.2z"/>
<path class=b d="M600 470l3.2 3.2 3.2-3.2 3.2 3.2-3.2 3.2 3.2 3.2-3.2 3.2-3.2-3.2-3.2 3.2-3.2-3.2 3.2-3.2-3.2-3.2z"/>
<path class=b d="M382 772l3.2 3.2 3.2-3.2 3.2 3.2-3.2 3.2 3.2 3.2-3.2 3.2-3.2-3.2-3.2 3.2-3.2-3.2 3.2-3.2-3.2-3.2z"/>
<path class=b d="M743 357l3.2 3.2 3.2-3.2 3.2 3.2-3.2 3.2 3.2 3.2-3.2 3.2-3.2-3.2-3.2 3.2-3.2-3.2 3.2-3.2-3.2-3.2z"/>
<path class=c d="M734 673h12.6l-6.3 12.6z"/>
<circle class=a cx=503 cy=492 r=7.1 />
<path class=c d="M623 706h12.6l-6.3 12.6z"/>
<path class=b d="M494 759l3.2 3.2 3.2-3.2 3.2 3.2-3.2 3.2 3.2 3.2-3.2 3.2-3.2-3.2-3.2 3.2-3.2-3.2 3.2-3.2-3.2-3.2z"/>
<path class=e d="M763 485l6.4 4.6-2.4 7.5-7.9 0-2.4-7.5z"/>
<circle class=a cx=444 cy=405 r=7.1 />
<path class=d d="M440 380h13.6v13.6h-13.6z"/>
<circle class=a cx=598 cy=497 r=7.1 />
<path class=b d="M760 350l3.2 3.2 3.2-3.2 3.2 3.2-3.2 3.2 3.2 3.2-3.2 3.2-3.2-3.2-3.2 3.2-3.2-3.2 3.2-3.2-3.2-3.2z"/>
<circle class=a cx=808 cy=449 r=7.1 />
<path class=c d="M398 198h12.6l-6.3 12.6z"/>
<path class=e d="M373 451l6.4 4.6-2.4 7.5-7.9 0-2.4-7.5z"/>
<path class=c d="M618 694h12.6l-6.3 12.6z"/>
<path class=e d="M285 521l6.4 4.6-2.4 7.5-7.9 0-2.4-7.5z"/>
<path class=c d="M364 160h12.6l-6.3 12.6z"/>
<path class=c d="M516 165h12.6l-6.3 12.6z"/>
<path class=d d="M503 334h13.6v13.6h-13.6z"/>
<circle class=a cx=658 cy=480 r=7.1 />
<path class=b d="M645 543l3.2 3.2 3.2-3.2 3.2 3.2-3.2 3.2 3.2 3.2-3.2 3.2-3.2-3.2-3.2 3.2-3.2-3.2 3.2-3.2-3.2-3.2z"/>
<path class=b d="M715 349l3.2 3.2 3.2-3.2 3.2 3.2-3.2 3.2 3.2 3.2-3.2 3.2-3.2-3.2-3.2 3.2-3.2-3.2 3.2-3.2-3.2-3.2z"/>
<path class=b d="M471 757l3.2 3.2 3.2-3.2 3.2 3.2-3.2 3.2 3.2 3.2-3.2 3.2-3.2-3.2-3.2 3.2-3.2-3.2 3.2-3.2-3.2-3.2z"/>
<path class=b d="M474 697l3.2 3.2 3.2-3.2 3.2 3.2-3.2 3.2 3.2 3.2-3.2 3.2-3.2-3.2-3.2 3.2-3.2-3.2 3.2-3.2-3.2-3.2z"/>
<path class=b d="M776 363l3.2 3.2 3.2-3.2 3.2 3.2-3.2 3.2 3.2 3.2-3.2 3.2-3.2-3.2-3.2 3.2-3.2-3.2 3.2-3.2-3.2-3.2z"/>
<path class=b d="M336 766l3.2 3.2 3.2-3.2 3.2 3.2-3.2 3.2 3.2 3.2-3.2 3.2-3.2-3.2-3.2 3.2-3.2-3.2 3.2-3.2-3.2-3.2z"/>
<path class=d d="M785 435h13.6v13.6h-13.6z"/>
<circle class=a cx=652 cy=563 r=7.1 />
<path class=c d="M131 369h12.6l-6.3 12.6z"/>
<path class=c d="M124 386h12.6l-6.3 12.6z"/>
<path class=b d="M392 757l3.2 3.2 3.2-3.2 3.2 3.2-3.2 3.2 3.2 3.2-3.2 3.2-3.2-3.2-3.2 3.2-3.2-3.2 3.2-3.2-3.2-3.2z"/>
<path class=c d="M747 668h12.6l-6.3 12.6z"/>
<path class=b d="M469 710l3.2 3.2 3.2-3.2 3.2 3.2-3.2 3.2 3.2 3.2-3.2 3.2-3.2-3.2-3.2 3.2-3.2-3.2 3.2-3.2-3.2-3.2z"/>
<path class=d d="M334 426h13.6v13.6h-13.6z"/>
<path class=b d="M207 603l3.2 3.2 3.2-3.2 3.2 3.2-3.2 3.2 3.2 3.2-3.2 3.2-3.2-3.2-3.2 3.2-3.2-3.2 3.2-3.2-3.2-3.2z"/>
<path class=c d="M595 653h12.6l-6.3 12.6z"/>
<path class=d d="M579 270h13.6v13.6h-13.6z"/>
<circle class=a cx=565 cy=497 r=7.1 />
<circle class=a cx=580 cy=492 r=7.1 />
<path class=b d="M192 567l3.2 3.2 3.2-3.2 3.2 3.2-3.2 3.2 3.2 3.2-3.2 3.2-3.2-3.2-3.2 3.2-3.2-3.2 3.2-3.2-3.2-3.2z"/>
<path class=b d="M185 576l3.2 3.2 3.2-3.2 3.2 3.2-3.2 3.2 3.2 3.2-3.2 3.2-3.2-3.2-3.2 3.2-3.2-3.2 3.2-3.2-3.2-3.2z"/>
<path class=c d="M375 165h12.6l-6.3 12.6z"/>
<path class=b d="M444 725l3.2 3.2 3.2-3.2 3.2 3.2-3.2 3.2 3.2 3.2-3.2 3.2-3.2-3.2-3.2 3.2-3.2-3.2 3.2-3.2-3.2-3.2z"/>
<path class=d d="M545 437h13.6v13.6h-13.6z"/>
<path class=c d="M161 464h12.6l-6.3 12.6z"/>
<path class=e d="M345 543l6.4 4.6-2.4 7.5-7.9 0-2.4-7.5z"/>
<path class=c d="M608 682h12.6l-6.3 12.6z"/>
<circle class=a cx=490 cy=301 r=7.1 />
<path class=c d="M625 680h12.6l-6.3 12.6z"/>
<path class=d d="M449 572h13.6v13.6h-13.6z"/>
<path class=e d="M733 449l6.4 4.6-2.4 7.5-7.9 0-2.4-7.5z"/>
<path class=c d="M182 465h12.6l-6.3 12.6z"/>
<path class=c d="M623 687h12.6l-6.3 12.6z"/>
<circle class=a cx=663 cy=492 r=7.1 />
<path class=e d="M384 441l6.4 4.6-2.4 7.5-7.9 0-2.4-7.5z"/>
<circle class=a cx=648 cy=463 r=7.1 />
<circle class=a cx=495 cy=369 r=7.1 />
<path class=e d="M350 565l6.4 4.6-2.4 7.5-7.9 0-2.4-7.5z"/>
<path class=c d="M482 129h12.6l-6.3 12.6z"/>
<path class=e d="M767 556l6.4 4.6-2.4 7.5-7.9 0-2.4-7.5z"/>
<path class=d d="M569 285h13.6v13.6h-13.6z"/>
<path class=b d="M503 822l3.2 3.2 3.2-3.2 3.2 3.2-3.2 3.2 3.2 3.2-3.2 3.2-3.2-3.2-3.2 3.2-3.2-3.2 3.2-3.2-3.2-3.2z"/>
<path class=e d="M384 438l6.4 4.6-2.4 7.5-7.9 0-2.4-7.5z"/>
<path class=e d="M800 491l6.4 4.6-2.4 7.5-7.9 0-2.4-7.5z"/>
<path class=c d="M410 228h12.6l-6.3 12.6z"/>
<circle class=a cx=720 cy=462 r=7.1 />
<path class=c d="M589 686h12.6l-6.3 12.6z"/>
<circle class=a cx=525 cy=455 r=7.1 />
<path class=e d="M382 438l6.4 4.6-2.4 7.5-7.9 0-2.4-7.5z"/>
<path class=b d="M696 487l3.2 3.2 3.2-3.2 3.2 3.2-3.2 3.2 3.2 3.2-3.2 3.2-3.2-3.2-3.2 3.2-3.2-3.2 3.2-3.2-3.2-3.2z"/>
<circle class=a cx=447 cy=356 r=7.1 />
<path class=b d="M193 617l3.2 3.2 3.2-3.2 3.2 3.2-3.2 3.2 3.2 3.2-3.2 3.2-3.2-3.2-3.2 3.2-3.2-3.2 3.2-3.2-3.2-3.2z"/>
<path class=d d="M606 331h13.6v13.6h-13.6z"/>
<path class=c d="M666 718h12.6l-6.3 12.6z"/>
<path class=c d="M294 259h12.6l-6.3 12.6z"/>
<path class=c d="M242 292h12.6l-6.3 12.6z"/>
<path class=b d="M373 770l3.2 3.2 3.2-3.2 3.2 3.2-3.2 3.2 3.2 3.2-3.2 3.2-3.2-3.2-3.2 3.2-3.2-3.2 3.2-3.2-3.2-3.2z"/>
<path class=e d="M318 597l6.4 4.6-2.4 7.5-7.9 0-2.4-7.5z"/>
<path class=d d="M300 355h13.6v13.6h-13.6z"/>
<path class=c d="M170 466h12.6l-6.3 12.6z"/>
<path class=e d="M292 514l6.4 4.6-2.4 7.5-7.9 0-2.4-7.5z"/>
<path class=c d="M643 702h12.6l-6.3 12.6z"/>
<circle class=a cx=553 cy=366 r=7.1 />
<path class=d d="M352 365h13.6v13.6h-13.6z"/>
<path class=d d="M613 485h13.6v13.6h-13.6z"/>
<circle class=a cx=632 cy=496 r=7.1 />
<path class=e d="M812 544l6.4 4.6-2.4 7.5-7.9 0-2.4-7.5z"/>
<path class=b d="M176 599l3.2 3.2 3.2-3.2 3.2 3.2-3.2 3.2 3.2 3.2-3.2 3.2-3.2-3.2-3.2 3.2-3.2-3.2 3.2-3.2-3.2-3.2z"/>
<path class=e d="M310 539l6.4 4.6-2.4 7.5-7.9 0-2.4-7.5z"/>
<path class=c d="M404 200h12.6l-6.3 12.6z"/>
<path class=d d="M616 549h13.6v13.6h-13.6z"/>
<path class=b d="M455 716l3.2 3.2 3.2-3.2 3.2 3.2-3.2 3.2 3.2 3.2-3.2 3.2-3.2-3.2-3.2 3.2-3.2-3.2 3.2-3.2-3.2-3.2z"/>
<path class=b d="M591 491l3.2 3.2 3.2-3.2 3.2 3.2-3.2 3.2 3.2 3.2-3.2 3.2-3.2-3.2-3.2 3.2-3.2-3.2 3.2-3.2-3.2-3.2z"/>
<path class=c d="M620 160h12.6l-6.3 12.6z"/>
<path class=c d="M181 448h12.6l-6.3 12.6z"/>
<path class=d d="M571 262h13.6v13.6h-13.6z"/>
<path class=e d="M794 489l6.4 4.6-2.4 7.5-7.9 0-2.4-7.5z"/>
<path class=d d="M509 543h13.6v13.6h-13.6z"/>
<path class=b d="M754 354l3.2 3.2 3.2-3.2 3.2 3.2-3.2 3.2 3.2 3.2-3.2 3.2-3.2-3.2-3.2 3.2-3.2-3.2 3.2-3.2-3.2-3.2z"/>
<path class=c d="M658 189h12.6l-6.3 12.6z"/>
<path class=c d="M494 127h12.6l-6.3 12.6z"/>
<circle class=a cx=481 cy=396 r=7.1 />
<circle class=a cx=657 cy=503 r=7.1 />
<path class=b d="M183 591l3.2 3.2 3.2-3.2 3.2 3.2-3.2 3.2 3.2 3.2-3.2 3.2-3.2-3.2-3.2 3.2-3.2-3.2 3.2-3.2-3.2-3.2z"/>
<circle class=a cx=504 cy=496 r=7.1 />
<path class=e d="M753 535l6.4 4.6-2.4 7.5-7.9 0-2.4-7.5z"/>
<path class=c d="M267 258h12.6l-6.3 12.6z"/>
<path class=e d="M777 481l6.4 4.6-2.4 7.5-7.9 0-2.4-7.5z"/>
<circle class=a cx=385 cy=472 r=7.1 />
<circle class=a cx=610 cy=483 r=7.1 />
<circle class=a cx=673 cy=444 r=7.1 />
<path class=e d="M810 517l6.4 4.6-2.4 7.5-7.9 0-2.4-7.5z"/>
<path class=e d="M816 580l6.4 4.6-2.4 7.5-7.9 0-2.4-7.5z"/>
<path class=b d="M173 618l3.2 3.2 3.2-3.2 3.2 3.2-3.2 3.2 3.2 3.2-3.2 3.2-3.2-3.2-3.2 3.2-3.2-3.2 3.2-3.2-3.2-3.2z"/>
<path class=b d="M541 761l3.2 3.2 3.2-3.2 3.2 3.2-3.2 3.2 3.2 3.2-3.2 3.2-3.2-3.2-3.2 3.2-3.2-3.2 3.2-3.2-3.2-3.2z"/>
<path class=c d="M513 156h12.6l-6.3 12.6z"/>
<path class=b d="M736 344l3.2 3.2 3.2-3.2 3.2 3.2-3.2 3.2 3.2 3.2-3.2 3.2-3.2-3.2-3.2 3.2-3.2-3.2 3.2-3.2-3.2-3.2z"/>
<path class=b d="M742 354l3.2 3.2 3.2-3.2 3.2 3.2-3.2 3.2 3.2 3.2-3.2 3.2-3.2-3.2-3.2 3.2-3.2-3.2 3.2-3.2-3.2-3.2z"/>
<path class=d d="M576 312h13.6v13.6h-13.6z"/>
<path class=d d="M347 411h13.6v13.6h-13.6z"/>
<circle class=a cx=474 cy=414 r=7.1 />
<path class=b d="M366 769l3.2 3.2 3.2-3.2 3.2 3.2-3.2 3.2 3.2 3.2-3.2 3.2-3.2-3.2-3.2 3.2-3.2-3.2 3.2-3.2-3.2-3.2z"/>
<path class=c d="M135 381h12.6l-6.3 12.6z"/>
<path class=b d="M565 456l3.2 3.2 3.2-3.2 3.2 3.2-3.2 3.2 3.2 3.2-3.2 3.2-3.2-3.2-3.2 3.2-3.2-3.2 3.2-3.2-3.2-3.2z"/>
<path class=c d="M494 171h12.6l-6.3 12.6z"/>
<circle class=a cx=477 cy=384 r=7.1 />
<path class=e d="M777 498l6.4 4.6-2.4 7.5-7.9 0-2.4-7.5z"/>
<path class=b d="M181 587l3.2 3.2 3.2-3.2 3.2 3.2-3.2 3.2 3.2 3.2-3.2 3.2-3.2-3.2-3.2 3.2-3.2-3.2 3.2-3.2-3.2-3.2z"/>
<path class=c d="M488 108h12.6l-6.3 12.6z"/>
<circle class=a cx=555 cy=527 r=7.1 />
<path class=b d="M503 811l3.2 3.2 3.2-3.2 3.2 3.2-3.2 3.2 3.2 3.2-3.2 3.2-3.2-3.2-3.2 3.2-3.2-3.2 3.2-3.2-3.2-3.2z"/>
<circle class=a cx=601 cy=495 r=7.1 />
<path class=e d="M775 542l6.4 4.6-2.4 7.5-7.9 0-2.4-7.5z"/>
<path class=b d="M381 758l3.2 3.2 3.2-3.2 3.2 3.2-3.2 3.2 3.2 3.2-3.2 3.2-3.2-3.2-3.2 3.2-3.2-3.2 3.2-3.2-3.2-3.2z"/>
<path class=e d="M379 530l6.4 4.6-2.4 7.5-7.9 0-2.4-7.5z"/>
<path class=e d="M756 510l6.4 4.6-2.4 7.5-7.9 0-2.4-7.5z"/>
<path class=e d="M372 596l6.4 4.6-2.4 7.5-7.9 0-2.4-7.5z"/>
<path class=d d="M366 524h13.6v13.6h-13.6z"/>
<path class=d d="M742 293h13.6v13.6h-13.6z"/>
<path class=b d="M617 573l3.2 3.2 3.2-3.2 3.2 3.2-3.2 3.2 3.2 3.2-3.2 3.2-3.2-3.2-3.2 3.2-3.2-3.2 3.2-3.2-3.2-3.2z"/>
<path class=b d="M600 506l3.2 3.2 3.2-3.2 3.2 3.2-3.2 3.2 3.2 3.2-3.2 3.2-3.2-3.2-3.2 3.2-3.2-3.2 3.2-3.2-3.2-3.2z"/>
<path class=c d="M212 447h12.6l-6.3 12.6z"/>
<path class=e d="M430 598l6.4 4.6-2.4 7.5-7.9 0-2.4-7.5z"/>
<path class=d d="M426 548h13.6v13.6h-13.6z"/>
<path class=b d="M767 340l3.2 3.2 3.2-3.2 3.2 3.2-3.2 3.2 3.2 3.2-3.2 3.2-3.2-3.2-3.2 3.2-3.2-3.2 3.2-3.2-3.2-3.2z"/>
<path class=d d="M797 317h13.6v13.6h-13.6z"/>
<circle class=a cx=810 cy=459 r=7.1 />
<path class=b d="M613 553l3.2 3.2 3.2-3.2 3.2 3.2-3.2 3.2 3.2 3.2-3.2 3.2-3.2-3.2-3.2 3.2-3.2-3.2 3.2-3.2-3.2-3.2z"/>
<path class=c d="M159 476h12.6l-6.3 12.6z"/>
<path class=c d="M256 286h12.6l-6.3 12.6z"/>
<path class=d d="M810 398h13.6v13.6h-13.6z"/>
<path class=d d="M487 500h13.6v13.6h-13.6z"/>
<path class=b d="M732 352l3.2 3.2 3.2-3.2 3.2 3.2-3.2 3.2 3.2 3.2-3.2 3.2-3.2-3.2-3.2 3.2-3.2-3.2 3.2-3.2-3.2-3.2z"/>
<path class=b d="M537 783l3.2 3.2 3.2-3.2 3.2 3.2-3.2 3.2 3.2 3.2-3.2 3.2-3.2-3.2-3.2 3.2-3.2-3.2 3.2-3.2-3.2-3.2z"/>
<circle class=a cx=652 cy=413 r=7.1 />
<path class=b d="M441 720l3.2 3.2 3.2-3.2 3.2 3.2-3.2 3.2 3.2 3.2-3.2 3.2-3.2-3.2-3.2 3.2-3.2-3.2 3.2-3.2-3.2-3.2z"/>
<path class=b d="M389 785l3.2 3.2 3.2-3.2 3.2 3.2-3.2 3.2 3.2 3.2-3.2 3.2-3.2-3.2-3.2 3.2-3.2-3.2 3.2-3.2-3.2-3.2z"/>
<circle class=a cx=802 cy=421 r=7.1 />
<path class=c d="M622 144h12.6l-6.3 12.6z"/>
<path class=d d="M723 365h13.6v13.6h-13.6z"/>
<path class=e d="M387 531l6.4 4.6-2.4 7.5-7.9 0-2.4-7.5z"/>
<path class=b d="M382 741l3.2 3.2 3.2-3.2 3.2 3.2-3.2 3.2 3.2 3.2-3.2 3.2-3.2-3.2-3.2 3.2-3.2-3.2 3.2-3.2-3.2-3.2z"/>
<path class=c d="M489 122h12.6l-6.3 12.6z"/>
<path class=b d="M531 816l3.2 3.2 3.2-3.2 3.2 3.2-3.2 3.2 3.2 3.2-3.2 3.2-3.2-3.2-3.2 3.2-3.2-3.2 3.2-3.2-3.2-3.2z"/>
<path class=b d="M379 724l3.2 3.2 3.2-3.2 3.2 3.2-3.2 3.2 3.2 3.2-3.2 3.2-3.2-3.2-3.2 3.2-3.2-3.2 3.2-3.2-3.2-3.2z"/>
<circle class=a cx=648 cy=506 r=7.1 />
<circle class=a cx=517 cy=371 r=7.1 />
<path class=e d="M340 618l6.4 4.6-2.4 7.5-7.9 0-2.4-7.5z"/>
<path class=b d="M560 509l3.2 3.2 3.2-3.2 3.2 3.2-3.2 3.2 3.2 3.2-3.2 3.2-3.2-3.2-3.2 3.2-3.2-3.2 3.2-3.2-3.2-3.2z"/>
<path class=d d="M596 337h13.6v13.6h-13.6z"/>
<circle class=a cx=592 cy=467 r=7.1 />
<circle class=a cx=653 cy=410 r=7.1 />
<circle class=a cx=756 cy=406 r=7.1 />
<path class=b d="M407 732l3.2 3.2 3.2-3.2 3.2 3.2-3.2 3.2 3.2 3.2-3.2 3.2-3.2-3.2-3.2 3.2-3.2-3.2 3.2-3.2-3.2-3.2z"/>
<path class=e d="M300 603l6.4 4.6-2.4 7.5-7.9 0-2.4-7.5z"/>
<path class=c d="M134 363h12.6l-6.3 12.6z"/>
<path class=d d="M448 325h13.6v13.6h-13.6z"/>
<circle class=a cx=423 cy=362 r=7.1 />
<path class=c d="M134 375h12.6l-6.3 12.6z"/>
<path class=d d="M796 470h13.6v13.6h-13.6z"/>
<path class=c d="M485 185h12.6l-6.3 12.6z"/>
<path class=c d="M498 188h12.6l-6.3 12.6z"/>
<circle class=a cx=690 cy=469 r=7.1 />
<circle class=a cx=445 cy=468 r=7.1 />
<path class=b d="M566 555l3.2 3.2 3.2-3.2 3.2 3.2-3.2 3.2 3.2 3.2-3.2 3.2-3.2-3.2-3.2 3.2-3.2-3.2 3.2-3.2-3.2-3.2z"/>
<path class=b d="M491 752l3.2 3.2 3.2-3.2 3.2 3.2-3.2 3.2 3.2 3.2-3.2 3.2-3.2-3.2-3.2 3.2-3.2-3.2 3.2-3.2-3.2-3.2z"/>
<circle class=a cx=610 cy=508 r=7.1 />
<path class=d d="M638 325h13.6v13.6h-13.6z"/>
<path class=c d="M381 174h12.6l-6.3 12.6z"/>
<path class=b d="M679 430l3.2 3.2 3.2-3.2 3.2 3.2-3.2 3.2 3.2 3.2-3.2 3.2-3.2-3.2-3.2 3.2-3.2-3.2 3.2-3.2-3.2-3.2z"/>
<path class=d d="M560 272h13.6v13.6h-13.6z"/>
<circle class=a cx=567 cy=501 r=7.1 />
<path class=e d="M366 540l6.4 4.6-2.4 7.5-7.9 0-2.4-7.5z"/>
<path class=b d="M179 595l3.2 3.2 3.2-3.2 3.2 3.2-3.2 3.2 3.2 3.2-3.2 3.2-3.2-3.2-3.2 3.2-3.2-3.2 3.2-3.2-3.2-3.2z"/>
<path class=d d="M517 401h13.6v13.6h-13.6z"/>
<path class=e d="M344 594l6.4 4.6-2.4 7.5-7.9 0-2.4-7.5z"/>
<path class=d d="M447 322h13.6v13.6h-13.6z"/>
<path class=b d="M625 568l3.2 3.2 3.2-3.2 3.2 3.2-3.2 3.2 3.2 3.2-3.2 3.2-3.2-3.2-3.2 3.2-3.2-3.2 3.2-3.2-3.2-3.2z"/>
<circle class=a cx=500 cy=494 r=7.1 />
<path class=b d="M518 820l3.2 3.2 3.2-3.2 3.2 3.2-3.2 3.2 3.2 3.2-3.2 3.2-3.2-3.2-3.2 3.2-3.2-3.2 3.2-3.2-3.2-3.2z"/>
<path class=b d="M386 724l3.2 3.2 3.2-3.2 3.2 3.2-3.2 3.2 3.2 3.2-3.2 3.2-3.2-3.2-3.2 3.2-3.2-3.2 3.2-3.2-3.2-3.2z"/>
<path class=d d="M338 361h13.6v13.6h-13.6z"/>
<circle class=a cx=401 cy=574 r=7.1 />
<path class=d d="M457 535h13.6v13.6h-13.6z"/>
<path class=b d="M540 776l3.2 3.2 3.2-3.2 3.2 3.2-3.2 3.2 3.2 3.2-3.2 3.2-3.2-3.2-3.2 3.2-3.2-3.2 3.2-3.2-3.2-3.2z"/>
<path class=c d="M358 169h12.6l-6.3 12.6z"/>
<path class=e d="M297 536l6.4 4.6-2.4 7.5-7.9 0-2.4-7.5z"/>
<path class=e d="M754 451l6.4 4.6-2.4 7.5-7.9 0-2.4-7.5z"/>
<path class=c d="M583 658h12.6l-6.3 12.6z"/>
<path class=c d="M282 259h12.6l-6.3 12.6z"/>
<path class=c d="M737 692h12.6l-6.3 12.6z"/>
<path class=b d="M181 612l3.2 3.2 3.2-3.2 3.2 3.2-3.2 3.2 3.2 3.2-3.2 3.2-3.2-3.2-3.2 3.2-3.2-3.2 3.2-3.2-3.2-3.2z"/>
<path class=b d="M570 794l3.2 3.2 3.2-3.2 3.2 3.2-3.2 3.2 3.2 3.2-3.2 3.2-3.2-3.2-3.2 3.2-3.2-3.2 3.2-3.2-3.2-3.2z"/>
<path class=c d="M387 212h12.6l-6.3 12.6z"/>
<circle class=a cx=809 cy=446 r=7.1 />
<path class=c d="M399 230h12.6l-6.3 12.6z"/>
<path class=b d="M454 691l3.2 3.2 3.2-3.2 3.2 3.2-3.2 3.2 3.2 3.2-3.2 3.2-3.2-3.2-3.2 3.2-3.2-3.2 3.2-3.2-3.2-3.2z"/>
<path class=d d="M506 564h13.6v13.6h-13.6z"/>
<path class=d d="M368 525h13.6v13.6h-13.6z"/>
<path class=d d="M621 326h13.6v13.6h-13.6z"/>
<path class=d d="M503 415h13.6v13.6h-13.6z"/>
<path class=d d="M604 318h13.6v13.6h-13.6z"/>
<circle class=a cx=428 cy=441 r=7.1 />
<path class=d d="M320 387h13.6v13.6h-13.6z"/>
<path class=b d="M415 567l3.2 3.2 3.2-3.2 3.2 3.2-3.2 3.2 3.2 3.2-3.2 3.2-3.2-3.2-3.2 3.2-3.2-3.2 3.2-3.2-3.2-3.2z"/>
<path class=e d="M318 499l6.4 4.6-2.4 7.5-7.9 0-2.4-7.5z"/>
<path class=c d="M377 205h12.6l-6.3 12.6z"/>
<path class=e d="M338 607l6.4 4.6-2.4 7.5-7.9 0-2.4-7.5z"/>
<path class=c d="M271 257h12.6l-6.3 12.6z"/>
<circle class=a cx=604 cy=429 r=7.1 />
<path class=d d="M572 291h13.6v13.6h-13.6z"/>
<path class=b d="M574 572l3.2 3.2 3.2-3.2 3.2 3.2-3.2 3.2 3.2 3.2-3.2 3.2-3.2-3.2-3.2 3.2-3.2-3.2 3.2-3.2-3.2-3.2z"/>
<circle class=a cx=616 cy=590 r=7.1 />
<path class=e d="M726 453l6.4 4.6-2.4 7.5-7.9 0-2.4-7.5z"/>
<path class=d d="M718 385h13.6v13.6h-13.6z"/>
<path class=b d="M571 782l3.2 3.2 3.2-3.2 3.2 3.2-3.2 3.2 3.2 3.2-3.2 3.2-3.2-3.2-3.2 3.2-3.2-3.2 3.2-3.2-3.2-3.2z"/>
<path class=b d="M746 373l3.2 3.2 3.2-3.2 3.2 3.2-3.2 3.2 3.2 3.2-3.2 3.2-3.2-3.2-3.2 3.2-3.2-3.2 3.2-3.2-3.2-3.2z"/>
<path class=c d="M619 157h12.6l-6.3 12.6z"/>
<path class=b d="M520 803l3.2 3.2 3.2-3.2 3.2 3.2-3.2 3.2 3.2 3.2-3.2 3.2-3.2-3.2-3.2 3.2-3.2-3.2 3.2-3.2-3.2-3.2z"/>
<path class=e d="M310 551l6.4 4.6-2.4 7.5-7.9 0-2.4-7.5z"/>
<path class=e d="M767 513l6.4 4.6-2.4 7.5-7.9 0-2.4-7.5z"/>
<circle class=a cx=455 cy=344 r=7.1 />
<path class=d d="M472 486h13.6v13.6h-13.6z"/>
<path class=d d="M563 427h13.6v13.6h-13.6z"/>
<path class=b d="M615 545l3.2 3.2 3.2-3.2 3.2 3.2-3.2 3.2 3.2 3.2-3.2 3.2-3.2-3.2-3.2 3.2-3.2-3.2 3.2-3.2-3.2-3.2z"/>
<circle class=a cx=605 cy=532 r=7.1 />
<path class=e d="M836 560l6.4 4.6-2.4 7.5-7.9 0-2.4-7.5z"/>
<path class=d d="M476 553h13.6v13.6h-13.6z"/>
<path class=c d="M370 153h12.6l-6.3 12.6z"/>
<path class=c d="M240 305h12.6l-6.3 12.6z"/>
<path class=d d="M578 273h13.6v13.6h-13.6z"/>
<path class=d d="M819 305h13.6v13.6h-13.6z"/>
<path class=c d="M284 254h12.6l-6.3 12.6z"/>
<path class=e d="M368 624l6.4 4.6-2.4 7.5-7.9 0-2.4-7.5z"/>
<path class=e d="M347 483l6.4 4.6-2.4 7.5-7.9 0-2.4-7.5z"/>
<circle class=a cx=441 cy=392 r=7.1 />
<circle class=a cx=716 cy=497 r=7.1 />
<path class=c d="M507 209h12.6l-6.3 12.6z"/>
<path class=b d="M185 587l3.2 3.2 3.2-3.2 3.2 3.2-3.2 3.2 3.2 3.2-3.2 3.2-3.2-3.2-3.2 3.2-3.2-3.2 3.2-3.2-3.2-3.2z"/>
<path class=e d="M346 598l6.4 4.6-2.4 7.5-7.9 0-2.4-7.5z"/>
<path class=c d="M220 456h12.6l-6.3 12.6z"/>
<path class=d d="M571 262h13.6v13.6h-13.6z"/>
<path class=d d="M415 576h13.6v13.6h-13.6z"/>
<path class=d d="M602 305h13.6v13.6h-13.6z"/>
<path class=b d="M783 380l3.2 3.2 3.2-3.2 3.2 3.2-3.2 3.2 3.2 3.2-3.2 3.2-3.2-3.2-3.2 3.2-3.2-3.2 3.2-3.2-3.2-3.2z"/>
<path class=c d="M482 124h12.6l-6.3 12.6z"/>
<path class=d d="M594 324h13.6v13.6h-13.6z"/>
<path class=e d="M822 585l6.4 4.6-2.4 7.5-7.9 0-2.4-7.5z"/>
<path class=c d="M618 693h12.6l-6.3 12.6z"/>
<path class=c d="M490 184h12.6l-6.3 12.6z"/>
<path class=b d="M527 783l3.2 3.2 3.2-3.2 3.2 3.2-3.2 3.2 3.2 3.2-3.2 3.2-3.2-3.2-3.2 3.2-3.2-3.2 3.2-3.2-3.2-3.2z"/>
<path class=d d="M507 335h13.6v13.6h-13.6z"/>
<path class=d d="M361 429h13.6v13.6h-13.6z"/>
<path class=b d="M456 718l3.2 3.2 3.2-3.2 3.2 3.2-3.2 3.2 3.2 3.2-3.2 3.2-3.2-3.2-3.2 3.2-3.2-3.2 3.2-3.2-3.2-3.2z"/>
<circle class=a cx=449 cy=454 r=7.1 />
<path class=e d="M732 450l6.4 4.6-2.4 7.5-7.9 0-2.4-7.5z"/>
<path class=b d="M515 801l3.2 3.2 3.2-3.2 3.2 3.2-3.2 3.2 3.2 3.2-3.2 3.2-3.2-3.2-3.2 3.2-3.2-3.2 3.2-3.2-3.2-3.2z"/>
<path class=c d="M732 667h12.6l-6.3 12.6z"/>
<path class=e d="M789 554l6.4 4.6-2.4 7.5-7.9 0-2.4-7.5z"/>
<path class=b d="M787 378l3.2 3.2 3.2-3.2 3.2 3.2-3.2 3.2 3.2 3.2-3.2 3.2-3.2-3.2-3.2 3.2-3.2-3.2 3.2-3.2-3.2-3.2z"/>
<circle class=a cx=564 cy=546 r=7.1 />
<path class=b d="M566 558l3.2 3.2 3.2-3.2 3.2 3.2-3.2 3.2 3.2 3.2-3.2 3.2-3.2-3.2-3.2 3.2-3.2-3.2 3.2-3.2-3.2-3.2z"/>
<path class=e d="M809 499l6.4 4.6-2.4 7.5-7.9 0-2.4-7.5z"/>
<path class=d d="M571 264h13.6v13.6h-13.6z"/>
<path class=c d="M182 461h12.6l-6.3 12.6z"/>
<path class=c d="M588 679h12.6l-6.3 12.6z"/>
<path class=b d="M783 374l3.2 3.2 3.2-3.2 3.2 3.2-3.2 3.2 3.2 3.2-3.2 3.2-3.2-3.2-3.2 3.2-3.2-3.2 3.2-3.2-3.2-3.2z"/>
<path class=d d="M550 423h13.6v13.6h-13.6z"/>
<circle class=a cx=824 cy=423 r=7.1 />
<path class=c d="M600 671h12.6l-6.3 12.6z"/>
<circle class=a cx=443 cy=403 r=7.1 />
<path class=c d="M227 449h12.6l-6.3 12.6z"/>
<path class=d d="M621 460h13.6v13.6h-13.6z"/>
<circle class=a cx=652 cy=562 r=7.1 />
<path class=b d="M699 490l3.2 3.2 3.2-3.2 3.2 3.2-3.2 3.2 3.2 3.2-3.2 3.2-3.2-3.2-3.2 3.2-3.2-3.2 3.2-3.2-3.2-3.2z"/>
<path class=b d="M568 324l3.2 3.2 3.2-3.2 3.2 3.2-3.2 3.2 3.2 3.2-3.2 3.2-3.2-3.2-3.2 3.2-3.2-3.2 3.2-3.2-3.2-3.2z"/>
<path class=e d="M299 524l6.4 4.6-2.4 7.5-7.9 0-2.4-7.5z"/>
<path class=e d="M778 525l6.4 4.6-2.4 7.5-7.9 0-2.4-7.5z"/>
<circle class=a cx=716 cy=468 r=7.1 />
<circle class=a cx=474 cy=444 r=7.1 />
<path class=c d="M497 121h12.6l-6.3 12.6z"/>
<path class=c d="M170 463h12.6l-6.3 12.6z"/>
<path class=d d="M449 515h13.6v13.6h-13.6z"/>
<circle class=a cx=386 cy=553 r=7.1 />
<path class=c d="M663 722h12.6l-6.3 12.6z"/>
<path class=c d="M214 446h12.6l-6.3 12.6z"/>
<path class=c d="M264 266h12.6l-6.3 12.6z"/>
<path class=e d="M832 521l6.4 4.6-2.4 7.5-7.9 0-2.4-7.5z"/>
<path class=e d="M347 533l6.4 4.6-2.4 7.5-7.9 0-2.4-7.5z"/>
<path class=e d="M857 548l6.4 4.6-2.4 7.5-7.9 0-2.4-7.5z"/>
<path class=c d="M374 163h12.6l-6.3 12.6z"/>
<path class=e d="M317 545l6.4 4.6-2.4 7.5-7.9 0-2.4-7.5z"/>
<path class=c d="M289 244h12.6l-6.3 12.6z"/>
<path class=b d="M393 769l3.2 3.2 3.2-3.2 3.2 3.2-3.2 3.2 3.2 3.2-3.2 3.2-3.2-3.2-3.2 3.2-3.2-3.2 3.2-3.2-3.2-3.2z"/>
<path class=b d="M518 805l3.2 3.2 3.2-3.2 3.2 3.2-3.2 3.2 3.2 3.2-3.2 3.2-3.2-3.2-3.2 3.2-3.2-3.2 3.2-3.2-3.2-3.2z"/>
<path class=e d="M371 542l6.4 4.6-2.4 7.5-7.9 0-2.4-7.5z"/>
<circle class=a cx=474 cy=383 r=7.1 />
<path class=b d="M193 595l3.2 3.2 3.2-3.2 3.2 3.2-3.2 3.2 3.2 3.2-3.2 3.2-3.2-3.2-3.2 3.2-3.2-3.2 3.2-3.2-3.2-3.2z"/>
<circle class=a cx=670 cy=481 r=7.1 />
<path class=c d="M243 298h12.6l-6.3 12.6z"/>
<path class=e d="M824 587l6.4 4.6-2.4 7.5-7.9 0-2.4-7.5z"/>
<path class=b d="M544 451l3.2 3.2 3.2-3.2 3.2 3.2-3.2 3.2 3.2 3.2-3.2 3.2-3.2-3.2-3.2 3.2-3.2-3.2 3.2-3.2-3.2-3.2z"/>
<circle class=a cx=427 cy=423 r=7.1 />
<path class=b d="M344 745l3.2 3.2 3.2-3.2 3.2 3.2-3.2 3.2 3.2 3.2-3.2 3.2-3.2-3.2-3.2 3.2-3.2-3.2 3.2-3.2-3.2-3.2z"/>
<path class=b d="M437 740l3.2 3.2 3.2-3.2 3.2 3.2-3.2 3.2 3.2 3.2-3.2 3.2-3.2-3.2-3.2 3.2-3.2-3.2 3.2-3.2-3.2-3.2z"/>
<path class=d d="M428 551h13.6v13.6h-13.6z"/>
<path class=e d="M371 544l6.4 4.6-2.4 7.5-7.9 0-2.4-7.5z"/>
<path class=e d="M324 618l6.4 4.6-2.4 7.5-7.9 0-2.4-7.5z"/>
<path class=c d="M375 160h12.6l-6.3 12.6z"/>
<path class=b d="M392 784l3.2 3.2 3.2-3.2 3.2 3.2-3.2 3.2 3.2 3.2-3.2 3.2-3.2-3.2-3.2 3.2-3.2-3.2 3.2-3.2-3.2-3.2z"/>
<path class=c d="M169 479h12.6l-6.3 12.6z"/>
<path class=e d="M364 535l6.4 4.6-2.4 7.5-7.9 0-2.4-7.5z"/>
<path class=b d="M443 723l3.2 3.2 3.2-3.2 3.2 3.2-3.2 3.2 3.2 3.2-3.2 3.2-3.2-3.2-3.2 3.2-3.2-3.2 3.2-3.2-3.2-3.2z"/>
<path class=b d="M570 322l3.2 3.2 3.2-3.2 3.2 3.2-3.2 3.2 3.2 3.2-3.2 3.2-3.2-3.2-3.2 3.2-3.2-3.2 3.2-3.2-3.2-3.2z"/>
<path class=d d="M403 350h13.6v13.6h-13.6z"/>
<path class=e d="M720 477l6.4 4.6-2.4 7.5-7.9 0-2.4-7.5z"/>
<path class=d d="M340 340h13.6v13.6h-13.6z"/>
<path class=b d="M381 753l3.2 3.2 3.2-3.2 3.2 3.2-3.2 3.2 3.2 3.2-3.2 3.2-3.2-3.2-3.2 3.2-3.2-3.2 3.2-3.2-3.2-3.2z"/>
<path class=b d="M532 769l3.2 3.2 3.2-3.2 3.2 3.2-3.2 3.2 3.2 3.2-3.2 3.2-3.2-3.2-3.2 3.2-3.2-3.2 3.2-3.2-3.2-3.2z"/>
<path class=d d="M324 400h13.6v13.6h-13.6z"/>
<circle class=a cx=502 cy=411 r=7.1 />
<circle class=a cx=544 cy=346 r=7.1 />
<path class=c d="M209 466h12.6l-6.3 12.6z"/>
<path class=e d="M769 490l6.4 4.6-2.4 7.5-7.9 0-2.4-7.5z"/>
<path class=b d="M547 460l3.2 3.2 3.2-3.2 3.2 3.2-3.2 3.2 3.2 3.2-3.2 3.2-3.2-3.2-3.2 3.2-3.2-3.2 3.2-3.2-3.2-3.2z"/>
<circle class=a cx=512 cy=357 r=7.1 />
<circle class=a cx=600 cy=496 r=7.1 />
<path class=d d="M704 358h13.6v13.6h-13.6z"/>
<path class=b d="M474 706l3.2 3.2 3.2-3.2 3.2 3.2-3.2 3.2 3.2 3.2-3.2 3.2-3.2-3.2-3.2 3.2-3.2-3.2 3.2-3.2-3.2-3.2z"/>
<path class=c d="M359 146h12.6l-6.3 12.6z"/>
<path class=d d="M637 292h13.6v13.6h-13.6z"/>
<path class=e d="M371 543l6.4 4.6-2.4 7.5-7.9 0-2.4-7.5z"/>
<path class=b d="M382 748l3.2 3.2 3.2-3.2 3.2 3.2-3.2 3.2 3.2 3.2-3.2 3.2-3.2-3.2-3.2 3.2-3.2-3.2 3.2-3.2-3.2-3.2z"/>
<path class=d d="M591 280h13.6v13.6h-13.6z"/>
<path class=e d="M779 578l6.4 4.6-2.4 7.5-7.9 0-2.4-7.5z"/>
<path class=d d="M581 498h13.6v13.6h-13.6z"/>
<path class=d d="M309 386h13.6v13.6h-13.6z"/>
<path class=e d="M362 576l6.4 4.6-2.4 7.5-7.9 0-2.4-7.5z"/>
<path class=c d="M168 482h12.6l-6.3 12.6z"/>
<path class=c d="M503 163h12.6l-6.3 12.6z"/>
<path class=b d="M167 568l3.2 3.2 3.2-3.2 3.2 3.2-3.2 3.2 3.2 3.2-3.2 3.2-3.2-3.2-3.2 3.2-3.2-3.2 3.2-3.2-3.2-3.2z"/>
<path class=b d="M695 481l3.2 3.2 3.2-3.2 3.2 3.2-3.2 3.2 3.2 3.2-3.2 3.2-3.2-3.2-3.2 3.2-3.2-3.2 3.2-3.2-3.2-3.2z"/>
<circle class=a cx=404 cy=376 r=7.1 />
<path class=c d="M656 186h12.6l-6.3 12.6z"/>
<circle class=a cx=603 cy=418 r=7.1 />
<path class=e d="M808 483l6.4 4.6-2.4 7.5-7.9 0-2.4-7.5z"/>
<path class=c d="M635 159h12.6l-6.3 12.6z"/>
<circle class=a cx=463 cy=451 r=7.1 />
<path class=c d="M351 136h12.6l-6.3 12.6z"/>
<circle class=a cx=426 cy=409 r=7.1 />
<path class=c d="M173 469h12.6l-6.3 12.6z"/>
<path class=c d="M487 215h12.6l-6.3 12.6z"/>
<circle class=a cx=421 cy=567 r=7.1 />
<path class=b d="M377 783l3.2 3.2 3.2-3.2 3.2 3.2-3.2 3.2 3.2 3.2-3.2 3.2-3.2-3.2-3.2 3.2-3.2-3.2 3.2-3.2-3.2-3.2z"/>
<path class=c d="M398 205h12.6l-6.3 12.6z"/>
<circle class=a cx=766 cy=408 r=7.1 />
<circle class=a cx=428 cy=380 r=7.1 />
<path class=d d="M456 556h13.6v13.6h-13.6z"/>
<circle class=a cx=722 cy=500 r=7.1 />
<circle class=a cx=601 cy=495 r=7.1 />
<circle class=a cx=450 cy=402 r=7.1 />
<path class=b d="M214 629l3.2 3.2 3.2-3.2 3.2 3.2-3.2 3.2 3.2 3.2-3.2 3.2-3.2-3.2-3.2 3.2-3.2-3.2 3.2-3.2-3.2-3.2z"/>
<path class=b d="M363 733l3.2 3.2 3.2-3.2 3.2 3.2-3.2 3.2 3.2 3.2-3.2 3.2-3.2-3.2-3.2 3.2-3.2-3.2 3.2-3.2-3.2-3.2z"/>
<path class=c d="M630 695h12.6l-6.3 12.6z"/>
<path class=d d="M351 379h13.6v13.6h-13.6z"/>
<path class=e d="M365 536l6.4 4.6-2.4 7.5-7.9 0-2.4-7.5z"/>
<path class=e d="M807 483l6.4 4.6-2.4 7.5-7.9 0-2.4-7.5z"/>
<path class=d d="M604 328h13.6v13.6h-13.6z"/>
<path class=e d="M351 533l6.4 4.6-2.4 7.5-7.9 0-2.4-7.5z"/>
<path class=b d="M586 491l3.2 3.2 3.2-3.2 3.2 3.2-3.2 3.2 3.2 3.2-3.2 3.2-3.2-3.2-3.2 3.2-3.2-3.2 3.2-3.2-3.2-3.2z"/>
<circle class=a cx=608 cy=549 r=7.1 />
<circle class=a cx=631 cy=549 r=7.1 />
<path class=b d="M207 582l3.2 3.2 3.2-3.2 3.2 3.2-3.2 3.2 3.2 3.2-3.2 3.2-3.2-3.2-3.2 3.2-3.2-3.2 3.2-3.2-3.2-3.2z"/>
<circle class=a cx=604 cy=494 r=7.1 />
<path class=c d="M745 672h12.6l-6.3 12.6z"/>
<path class=c d="M624 149h12.6l-6.3 12.6z"/>
<path class=e d="M757 450l6.4 4.6-2.4 7.5-7.9 0-2.4-7.5z"/>
<path class=d d="M357 403h13.6v13.6h-13.6z"/>
<path class=c d="M389 198h12.6l-6.3 12.6z"/>
<path class=b d="M569 577l3.2 3.2 3.2-3.2 3.2 3.2-3.2 3.2 3.2 3.2-3.2 3.2-3.2-3.2-3.2 3.2-3.2-3.2 3.2-3.2-3.2-3.2z"/>
<path class=c d="M496 189h12.6l-6.3 12.6z"/>
<path class=b d="M445 703l3.2 3.2 3.2-3.2 3.2 3.2-3.2 3.2 3.2 3.2-3.2 3.2-3.2-3.2-3.2 3.2-3.2-3.2 3.2-3.2-3.2-3.2z"/>
<circle class=a cx=389 cy=506 r=7.1 />
<path class=d d="M506 542h13.6v13.6h-13.6z"/>
<path class=d d="M513 486h13.6v13.6h-13.6z"/>
<path class=c d="M475 117h12.6l-6.3 12.6z"/>
<path class=b d="M455 711l3.2 3.2 3.2-3.2 3.2 3.2-3.2 3.2 3.2 3.2-3.2 3.2-3.2-3.2-3.2 3.2-3.2-3.2 3.2-3.2-3.2-3.2z"/>
<path class=d d="M635 327h13.6v13.6h-13.6z"/>
<path class=b d="M615 575l3.2 3.2 3.2-3.2 3.2 3.2-3.2 3.2 3.2 3.2-3.2 3.2-3.2-3.2-3.2 3.2-3.2-3.2 3.2-3.2-3.2-3.2z"/>
<path class=b d="M470 716l3.2 3.2 3.2-3.2 3.2 3.2-3.2 3.2 3.2 3.2-3.2 3.2-3.2-3.2-3.2 3.2-3.2-3.2 3.2-3.2-3.2-3.2z"/>
<path class=c d="M492 216h12.6l-6.3 12.6z"/>
<circle class=a cx=779 cy=482 r=7.1 />
<path class=c d="M120 375h12.6l-6.3 12.6z"/>
<circle class=a cx=706 cy=503 r=7.1 />
<circle class=a cx=571 cy=485 r=7.1 />
<path class=b d="M536 504l3.2 3.2 3.2-3.2 3.2 3.2-3.2 3.2 3.2 3.2-3.2 3.2-3.2-3.2-3.2 3.2-3.2-3.2 3.2-3.2-3.2-3.2z"/>
<circle class=a cx=392 cy=467 r=7.1 />
<path class=c d="M346 144h12.6l-6.3 12.6z"/>
<path class=b d="M758 356l3.2 3.2 3.2-3.2 3.2 3.2-3.2 3.2 3.2 3.2-3.2 3.2-3.2-3.2-3.2 3.2-3.2-3.2 3.2-3.2-3.2-3.2z"/>
<path class=b d="M361 735l3.2 3.2 3.2-3.2 3.2 3.2-3.2 3.2 3.2 3.2-3.2 3.2-3.2-3.2-3.2 3.2-3.2-3.2 3.2-3.2-3.2-3.2z"/>
<path class=c d="M493 190h12.6l-6.3 12.6z"/>
<path class=b d="M462 698l3.2 3.2 3.2-3.2 3.2 3.2-3.2 3.2 3.2 3.2-3.2 3.2-3.2-3.2-3.2 3.2-3.2-3.2 3.2-3.2-3.2-3.2z"/>
<path class=c d="M162 463h12.6l-6.3 12.6z"/>
<path class=c d="M470 103h12.6l-6.3 12.6z"/>
<path class=e d="M333 581l6.4 4.6-2.4 7.5-7.9 0-2.4-7.5z"/>
<path class=b d="M377 771l3.2 3.2 3.2-3.2 3.2 3.2-3.2 3.2 3.2 3.2-3.2 3.2-3.2-3.2-3.2 3.2-3.2-3.2 3.2-3.2-3.2-3.2z"/>
<path class=e d="M348 563l6.4 4.6-2.4 7.5-7.9 0-2.4-7.5z"/>
<path class=d d="M492 517h13.6v13.6h-13.6z"/>
<path class=c d="M632 712h12.6l-6.3 12.6z"/>
<path class=c d="M251 266h12.6l-6.3 12.6z"/>
<path class=c d="M131 370h12.6l-6.3 12.6z"/>
<path class=e d="M364 563l6.4 4.6-2.4 7.5-7.9 0-2.4-7.5z"/>
<path class=c d="M656 167h12.6l-6.3 12.6z"/>
<circle class=a cx=477 cy=456 r=7.1 />
<circle class=a cx=436 cy=397 r=7.1 />
<path class=b d="M601 466l3.2 3.2 3.2-3.2 3.2 3.2-3.2 3.2 3.2 3.2-3.2 3.2-3.2-3.2-3.2 3.2-3.2-3.2 3.2-3.2-3.2-3.2z"/>
<path class=c d="M250 275h12.6l-6.3 12.6z"/>
<path class=b d="M554 778l3.2 3.2 3.2-3.2 3.2 3.2-3.2 3.2 3.2 3.2-3.2 3.2-3.2-3.2-3.2 3.2-3.2-3.2 3.2-3.2-3.2-3.2z"/>
<path class=e d="M769 559l6.4 4.6-2.4 7.5-7.9 0-2.4-7.5z"/>
<path class=d d="M480 447h13.6v13.6h-13.6z"/>
<path class=c d="M600 146h12.6l-6.3 12.6z"/>
<path class=d d="M475 564h13.6v13.6h-13.6z"/>
<path class=c d="M472 112h12.6l-6.3 12.6z"/>
<path class=d d="M503 564h13.6v13.6h-13.6z"/>
<path class=b d="M198 615l3.2 3.2 3.2-3.2 3.2 3.2-3.2 3.2 3.2 3.2-3.2 3.2-3.2-3.2-3.2 3.2-3.2-3.2 3.2-3.2-3.2-3.2z"/>
<path class=d d="M595 313h13.6v13.6h-13.6z"/>
<path class=d d="M414 481h13.6v13.6h-13.6z"/>
<path class=e d="M338 465l6.4 4.6-2.4 7.5-7.9 0-2.4-7.5z"/>
<path class=c d="M501 159h12.6l-6.3 12.6z"/>
<path class=e d="M748 471l6.4 4.6-2.4 7.5-7.9 0-2.4-7.5z"/>
<path class=c d="M372 178h12.6l-6.3 12.6z"/>
<path class=e d="M344 575l6.4 4.6-2.4 7.5-7.9 0-2.4-7.5z"/>
<path class=c d="M616 139h12.6l-6.3 12.6z"/>
<circle class=a cx=479 cy=434 r=7.1 />
<path class=d d="M513 415h13.6v13.6h-13.6z"/>
<circle class=a cx=713 cy=451 r=7.1 />
<path class=d d="M438 382h13.6v13.6h-13.6z"/>
<path class=c d="M492 209h12.6l-6.3 12.6z"/>
<path class=d d="M311 369h13.6v13.6h-13.6z"/>
<path class=d d="M642 311h13.6v13.6h-13.6z"/>
<path class=d d="M529 399h13.6v13.6h-13.6z"/>
<path class=c d="M281 259h12.6l-6.3 12.6z"/>
<path class=e d="M331 587l6.4 4.6-2.4 7.5-7.9 0-2.4-7.5z"/>
<path class=e d="M795 498l6.4 4.6-2.4 7.5-7.9 0-2.4-7.5z"/>
<circle class=a cx=383 cy=550 r=7.1 />
<path class=c d="M389 211h12.6l-6.3 12.6z"/>
<path class=c d="M499 119h12.6l-6.3 12.6z"/>
<path class=c d="M392 206h12.6l-6.3 12.6z"/>
<path class=c d="M668 169h12.6l-6.3 12.6z"/>
<path class=b d="M504 754l3.2 3.2 3.2-3.2 3.2 3.2-3.2 3.2 3.2 3.2-3.2 3.2-3.2-3.2-3.2 3.2-3.2-3.2 3.2-3.2-3.2-3.2z"/>
<path class=b d="M164 583l3.2 3.2 3.2-3.2 3.2 3.2-3.2 3.2 3.2 3.2-3.2 3.2-3.2-3.2-3.2 3.2-3.2-3.2 3.2-3.2-3.2-3.2z"/>
<path class=c d="M401 242h12.6l-6.3 12.6z"/>
<circle class=a cx=443 cy=357 r=7.1 />
<path class=c d="M501 184h12.6l-6.3 12.6z"/>
<path class=d d="M371 483h13.6v13.6h-13.6z"/>
<path class=d d="M472 527h13.6v13.6h-13.6z"/>
<path class=e d="M296 530l6.4 4.6-2.4 7.5-7.9 0-2.4-7.5z"/>
<path class=d d="M463 343h13.6v13.6h-13.6z"/>
<circle class=a cx=622 cy=450 r=7.1 />
<path class=b d="M566 552l3.2 3.2 3.2-3.2 3.2 3.2-3.2 3.2 3.2 3.2-3.2 3.2-3.2-3.2-3.2 3.2-3.2-3.2 3.2-3.2-3.2-3.2z"/>
<path class=d d="M339 342h13.6v13.6h-13.6z"/>
<path class=e d="M817 507l6.4 4.6-2.4 7.5-7.9 0-2.4-7.5z"/>
<path class=c d="M231 447h12.6l-6.3 12.6z"/>
<path class=c d="M625 690h12.6l-6.3 12.6z"/>
<path class=c d="M166 457h12.6l-6.3 12.6z"/>
<path class=b d="M466 696l3.2 3.2 3.2-3.2 3.2 3.2-3.2 3.2 3.2 3.2-3.2 3.2-3.2-3.2-3.2 3.2-3.2-3.2 3.2-3.2-3.2-3.2z"/>
<path class=c d="M127 386h12.6l-6.3 12.6z"/>
<path class=e d="M780 494l6.4 4.6-2.4 7.5-7.9 0-2.4-7.5z"/>
<path class=e d="M807 502l6.4 4.6-2.4 7.5-7.9 0-2.4-7.5z"/>
<path class=b d="M181 612l3.2 3.2 3.2-3.2 3.2 3.2-3.2 3.2 3.2 3.2-3.2 3.2-3.2-3.2-3.2 3.2-3.2-3.2 3.2-3.2-3.2-3.2z"/>
<path class=e d="M372 599l6.4 4.6-2.4 7.5-7.9 0-2.4-7.5z"/>
<path class=d d="M514 483h13.6v13.6h-13.6z"/>
<path class=b d="M185 615l3.2 3.2 3.2-3.2 3.2 3.2-3.2 3.2 3.2 3.2-3.2 3.2-3.2-3.2-3.2 3.2-3.2-3.2 3.2-3.2-3.2-3.2z"/>
<path class=d d="M699 378h13.6v13.6h-13.6z"/>
<path class=d d="M811 309h13.6v13.6h-13.6z"/>
<circle class=a cx=668 cy=430 r=7.1 />
<path class=e d="M723 478l6.4 4.6-2.4 7.5-7.9 0-2.4-7.5z"/>
<path class=b d="M343 739l3.2 3.2 3.2-3.2 3.2 3.2-3.2 3.2 3.2 3.2-3.2 3.2-3.2-3.2-3.2 3.2-3.2-3.2 3.2-3.2-3.2-3.2z"/>
<path class=c d="M649 720h12.6l-6.3 12.6z"/>
<path class=e d="M313 581l6.4 4.6-2.4 7.5-7.9 0-2.4-7.5z"/>
<path class=e d="M402 473l6.4 4.6-2.4 7.5-7.9 0-2.4-7.5z"/>
<path class=c d="M509 193h12.6l-6.3 12.6z"/>
<path class=e d="M807 487l6.4 4.6-2.4 7.5-7.9 0-2.4-7.5z"/>
<circle class=a cx=666 cy=490 r=7.1 />
<path class=d d="M439 380h13.6v13.6h-13.6z"/>
<circle class=a cx=650 cy=462 r=7.1 />
<path class=b d="M446 722l3.2 3.2 3.2-3.2 3.2 3.2-3.2 3.2 3.2 3.2-3.2 3.2-3.2-3.2-3.2 3.2-3.2-3.2 3.2-3.2-3.2-3.2z"/>
<path class=c d="M410 228h12.6l-6.3 12.6z"/>
<circle class=a cx=390 cy=435 r=7.1 />
<circle class=a cx=430 cy=443 r=7.1 />
<circle class=a cx=581 cy=495 r=7.1 />
<path class=b d="M696 323l3.2 3.2 3.2-3.2 3.2 3.2-3.2 3.2 3.2 3.2-3.2 3.2-3.2-3.2-3.2 3.2-3.2-3.2 3.2-3.2-3.2-3.2z"/>
<circle class=a cx=372 cy=368 r=7.1 />
<circle class=a cx=429 cy=441 r=7.1 />
<path class=d d="M337 395h13.6v13.6h-13.6z"/>
<path class=d d="M448 538h13.6v13.6h-13.6z"/>
<path class=d d="M367 524h13.6v13.6h-13.6z"/>
<path class=c d="M411 218h12.6l-6.3 12.6z"/>
<path class=c d="M196 468h12.6l-6.3 12.6z"/>
<path class=b d="M464 763l3.2 3.2 3.2-3.2 3.2 3.2-3.2 3.2 3.2 3.2-3.2 3.2-3.2-3.2-3.2 3.2-3.2-3.2 3.2-3.2-3.2-3.2z"/>
<circle class=a cx=562 cy=495 r=7.1 />
<path class=b d="M376 788l3.2 3.2 3.2-3.2 3.2 3.2-3.2 3.2 3.2 3.2-3.2 3.2-3.2-3.2-3.2 3.2-3.2-3.2 3.2-3.2-3.2-3.2z"/>
<path class=b d="M709 348l3.2 3.2 3.2-3.2 3.2 3.2-3.2 3.2 3.2 3.2-3.2 3.2-3.2-3.2-3.2 3.2-3.2-3.2 3.2-3.2-3.2-3.2z"/>
<path class=e d="M832 582l6.4 4.6-2.4 7.5-7.9 0-2.4-7.5z"/>
<path class=d d="M739 292h13.6v13.6h-13.6z"/>
<path class=c d="M246 288h12.6l-6.3 12.6z"/>
<path class=e d="M332 582l6.4 4.6-2.4 7.5-7.9 0-2.4-7.5z"/>
<circle class=a cx=508 cy=506 r=7.1 />
<path class=b d="M399 728l3.2 3.2 3.2-3.2 3.2 3.2-3.2 3.2 3.2 3.2-3.2 3.2-3.2-3.2-3.2 3.2-3.2-3.2 3.2-3.2-3.2-3.2z"/>
<path class=c d="M251 276h12.6l-6.3 12.6z"/>
<path class=c d="M476 100h12.6l-6.3 12.6z"/>
<path class=c d="M586 686h12.6l-6.3 12.6z"/>
<circle class=a cx=524 cy=453 r=7.1 />
<path class=d d="M616 287h13.6v13.6h-13.6z"/>
<path class=c d="M230 310h12.6l-6.3 12.6z"/>
<path class=c d="M352 138h12.6l-6.3 12.6z"/>
<path class=b d="M494 756l3.2 3.2 3.2-3.2 3.2 3.2-3.2 3.2 3.2 3.2-3.2 3.2-3.2-3.2-3.2 3.2-3.2-3.2 3.2-3.2-3.2-3.2z"/>
<circle class=a cx=664 cy=556 r=7.1 />
<path class=c d="M368 190h12.6l-6.3 12.6z"/>
<circle class=a cx=714 cy=501 r=7.1 />
<path class=d d="M581 305h13.6v13.6h-13.6z"/>
<circle class=a cx=566 cy=495 r=7.1 />
<path class=c d="M368 185h12.6l-6.3 12.6z"/>
<path class=d d="M613 533h13.6v13.6h-13.6z"/>
<path class=b d="M626 564l3.2 3.2 3.2-3.2 3.2 3.2-3.2 3.2 3.2 3.2-3.2 3.2-3.2-3.2-3.2 3.2-3.2-3.2 3.2-3.2-3.2-3.2z"/>
<path class=e d="M829 570l6.4 4.6-2.4 7.5-7.9 0-2.4-7.5z"/>
<path class=e d="M347 535l6.4 4.6-2.4 7.5-7.9 0-2.4-7.5z"/>
<path class=c d="M741 694h12.6l-6.3 12.6z"/>
<path class=e d="M776 517l6.4 4.6-2.4 7.5-7.9 0-2.4-7.5z"/>
<circle class=a cx=770 cy=409 r=7.1 />
<circle class=a cx=588 cy=415 r=7.1 />
<path class=b d="M612 539l3.2 3.2 3.2-3.2 3.2 3.2-3.2 3.2 3.2 3.2-3.2 3.2-3.2-3.2-3.2 3.2-3.2-3.2 3.2-3.2-3.2-3.2z"/>
<path class=d d="M464 487h13.6v13.6h-13.6z"/>
<path class=e d="M845 545l6.4 4.6-2.4 7.5-7.9 0-2.4-7.5z"/>
<path class=c d="M739 670h12.6l-6.3 12.6z"/>
<path class=e d="M825 516l6.4 4.6-2.4 7.5-7.9 0-2.4-7.5z"/>
<circle class=a cx=638 cy=521 r=7.1 />
<path class=e d="M797 574l6.4 4.6-2.4 7.5-7.9 0-2.4-7.5z"/>
<circle class=a cx=404 cy=506 r=7.1 />
<path class=b d="M572 326l3.2 3.2 3.2-3.2 3.2 3.2-3.2 3.2 3.2 3.2-3.2 3.2-3.2-3.2-3.2 3.2-3.2-3.2 3.2-3.2-3.2-3.2z"/>
<path class=e d="M379 616l6.4 4.6-2.4 7.5-7.9 0-2.4-7.5z"/>
<path class=d d="M477 556h13.6v13.6h-13.6z"/>
<path class=c d="M637 670h12.6l-6.3 12.6z"/>
<path class=c d="M221 291h12.6l-6.3 12.6z"/>
<circle class=a cx=442 cy=329 r=7.1 />
<circle class=a cx=480 cy=341 r=7.1 />
<path class=e d="M759 511l6.4 4.6-2.4 7.5-7.9 0-2.4-7.5z"/>
<circle class=a cx=528 cy=371 r=7.1 />
<path class=b d="M216 631l3.2 3.2 3.2-3.2 3.2 3.2-3.2 3.2 3.2 3.2-3.2 3.2-3.2-3.2-3.2 3.2-3.2-3.2 3.2-3.2-3.2-3.2z"/>
<path class=b d="M618 544l3.2 3.2 3.2-3.2 3.2 3.2-3.2 3.2 3.2 3.2-3.2 3.2-3.2-3.2-3.2 3.2-3.2-3.2 3.2-3.2-3.2-3.2z"/>
<circle class=a cx=630 cy=431 r=7.1 />
<circle class=a cx=399 cy=469 r=7.1 />
<path class=b d="M743 350l3.2 3.2 3.2-3.2 3.2 3.2-3.2 3.2 3.2 3.2-3.2 3.2-3.2-3.2-3.2 3.2-3.2-3.2 3.2-3.2-3.2-3.2z"/>
<path class=b d="M388 782l3.2 3.2 3.2-3.2 3.2 3.2-3.2 3.2 3.2 3.2-3.2 3.2-3.2-3.2-3.2 3.2-3.2-3.2 3.2-3.2-3.2-3.2z"/>
<circle class=a cx=441 cy=354 r=7.1 />
<path class=d d="M496 520h13.6v13.6h-13.6z"/>
<path class=c d="M277 254h12.6l-6.3 12.6z"/>
<path class=b d="M430 715l3.2 3.2 3.2-3.2 3.2 3.2-3.2 3.2 3.2 3.2-3.2 3.2-3.2-3.2-3.2 3.2-3.2-3.2 3.2-3.2-3.2-3.2z"/>
<circle class=a cx=565 cy=550 r=7.1 />
<path class=b d="M607 557l3.2 3.2 3.2-3.2 3.2 3.2-3.2 3.2 3.2 3.2-3.2 3.2-3.2-3.2-3.2 3.2-3.2-3.2 3.2-3.2-3.2-3.2z"/>
<path class=e d="M836 563l6.4 4.6-2.4 7.5-7.9 0-2.4-7.5z"/>
<path class=e d="M331 504l6.4 4.6-2.4 7.5-7.9 0-2.4-7.5z"/>
<circle class=a cx=695 cy=437 r=7.1 />
<path class=e d="M330 620l6.4 4.6-2.4 7.5-7.9 0-2.4-7.5z"/>
<path class=d d="M296 378h13.6v13.6h-13.6z"/>
<circle class=a cx=480 cy=399 r=7.1 />
<path class=d d="M466 343h13.6v13.6h-13.6z"/>
<circle class=a cx=489 cy=434 r=7.1 />
<path class=e d="M347 595l6.4 4.6-2.4 7.5-7.9 0-2.4-7.5z"/>
<circle class=a cx=425 cy=465 r=7.1 />
<path class=e d="M330 501l6.4 4.6-2.4 7.5-7.9 0-2.4-7.5z"/>
<path class=d d="M493 566h13.6v13.6h-13.6z"/>
<circle class=a cx=509 cy=441 r=7.1 />
<path class=b d="M730 355l3.2 3.2 3.2-3.2 3.2 3.2-3.2 3.2 3.2 3.2-3.2 3.2-3.2-3.2-3.2 3.2-3.2-3.2 3.2-3.2-3.2-3.2z"/>
<path class=d d="M477 541h13.6v13.6h-13.6z"/>
<path class=b d="M405 755l3.2 3.2 3.2-3.2 3.2 3.2-3.2 3.2 3.2 3.2-3.2 3.2-3.2-3.2-3.2 3.2-3.2-3.2 3.2-3.2-3.2-3.2z"/>
<path class=d d="M563 287h13.6v13.6h-13.6z"/>
<path class=d d="M483 460h13.6v13.6h-13.6z"/>
<circle class=a cx=478 cy=398 r=7.1 />
<path class=c d="M733 685h12.6l-6.3 12.6z"/>
<path class=d d="M495 372h13.6v13.6h-13.6z"/>
<path class=d d="M693 507h13.6v13.6h-13.6z"/>
<path class=d d="M556 412h13.6v13.6h-13.6z"/>
<path class=e d="M432 598l6.4 4.6-2.4 7.5-7.9 0-2.4-7.5z"/>
<circle class=a cx=419 cy=464 r=7.1 />
<path class=e d="M826 513l6.4 4.6-2.4 7.5-7.9 0-2.4-7.5z"/>
<path class=b d="M696 491l3.2 3.2 3.2-3.2 3.2 3.2-3.2 3.2 3.2 3.2-3.2 3.2-3.2-3.2-3.2 3.2-3.2-3.2 3.2-3.2-3.2-3.2z"/>
<path class=c d="M384 237h12.6l-6.3 12.6z"/>
<circle class=a cx=423 cy=364 r=7.1 />
<circle class=a cx=423 cy=464 r=7.1 />
<path class=c d="M594 676h12.6l-6.3 12.6z"/>
<path class=d d="M708 367h13.6v13.6h-13.6z"/>
<path class=c d="M745 694h12.6l-6.3 12.6z"/>
<circle class=a cx=437 cy=395 r=7.1 />
<path class=d d="M692 361h13.6v13.6h-13.6z"/>
<path class=c d="M294 261h12.6l-6.3 12.6z"/>
<path class=c d="M400 195h12.6l-6.3 12.6z"/>
<path class=d d="M495 519h13.6v13.6h-13.6z"/>
<path class=d d="M671 485h13.6v13.6h-13.6z"/>
<path class=d d="M444 594h13.6v13.6h-13.6z"/>
<path class=d d="M319 350h13.6v13.6h-13.6z"/>
<path class=d d="M691 362h13.6v13.6h-13.6z"/>
<path class=b d="M197 617l3.2 3.2 3.2-3.2 3.2 3.2-3.2 3.2 3.2 3.2-3.2 3.2-3.2-3.2-3.2 3.2-3.2-3.2 3.2-3.2-3.2-3.2z"/>
<circle class=a cx=780 cy=482 r=7.1 />
<path class=e d="M315 623l6.4 4.6-2.4 7.5-7.9 0-2.4-7.5z"/>
<path class=e d="M315 546l6.4 4.6-2.4 7.5-7.9 0-2.4-7.5z"/>
<path class=d d="M482 384h13.6v13.6h-13.6z"/>
<path class=e d="M344 482l6.4 4.6-2.4 7.5-7.9 0-2.4-7.5z"/>
<path class=c d="M583 662h12.6l-6.3 12.6z"/>
<circle class=a cx=789 cy=427 r=7.1 />
<circle class=a cx=655 cy=515 r=7.1 />
<path class=b d="M617 519l3.2 3.2 3.2-3.2 3.2 3.2-3.2 3.2 3.2 3.2-3.2 3.2-3.2-3.2-3.2 3.2-3.2-3.2 3.2-3.2-3.2-3.2z"/>
<path class=d d="M784 434h13.6v13.6h-13.6z"/>
<path class=c d="M154 461h12.6l-6.3 12.6z"/>
<path class=d d="M633 525h13.6v13.6h-13.6z"/>
<path class=c d="M631 714h12.6l-6.3 12.6z"/>
<path class=b d="M344 751l3.2 3.2 3.2-3.2 3.2 3.2-3.2 3.2 3.2 3.2-3.2 3.2-3.2-3.2-3.2 3.2-3.2-3.2 3.2-3.2-3.2-3.2z"/>
<path class=c d="M597 674h12.6l-6.3 12.6z"/>
<path class=e d="M353 597l6.4 4.6-2.4 7.5-7.9 0-2.4-7.5z"/>
<path class=c d="M227 307h12.6l-6.3 12.6z"/>
<path class=c d="M256 287h12.6l-6.3 12.6z"/>
<path class=b d="M408 757l3.2 3.2 3.2-3.2 3.2 3.2-3.2 3.2 3.2 3.2-3.2 3.2-3.2-3.2-3.2 3.2-3.2-3.2 3.2-3.2-3.2-3.2z"/>
<path class=b d="M774 354l3.2 3.2 3.2-3.2 3.2 3.2-3.2 3.2 3.2 3.2-3.2 3.2-3.2-3.2-3.2 3.2-3.2-3.2 3.2-3.2-3.2-3.2z"/>
<path class=d d="M455 492h13.6v13.6h-13.6z"/>
<path class=b d="M753 382l3.2 3.2 3.2-3.2 3.2 3.2-3.2 3.2 3.2 3.2-3.2 3.2-3.2-3.2-3.2 3.2-3.2-3.2 3.2-3.2-3.2-3.2z"/>
<path class=b d="M454 728l3.2 3.2 3.2-3.2 3.2 3.2-3.2 3.2 3.2 3.2-3.2 3.2-3.2-3.2-3.2 3.2-3.2-3.2 3.2-3.2-3.2-3.2z"/>
<circle class=a cx=525 cy=540 r=7.1 />
<path class=b d="M784 369l3.2 3.2 3.2-3.2 3.2 3.2-3.2 3.2 3.2 3.2-3.2 3.2-3.2-3.2-3.2 3.2-3.2-3.2 3.2-3.2-3.2-3.2z"/>
<path class=c d="M413 217h12.6l-6.3 12.6z"/>
<path class=b d="M650 538l3.2 3.2 3.2-3.2 3.2 3.2-3.2 3.2 3.2 3.2-3.2 3.2-3.2-3.2-3.2 3.2-3.2-3.2 3.2-3.2-3.2-3.2z"/>
<path class=c d="M390 233h12.6l-6.3 12.6z"/>
<path class=d d="M459 325h13.6v13.6h-13.6z"/>
<circle class=a cx=791 cy=406 r=7.1 />
<path class=b d="M191 581l3.2 3.2 3.2-3.2 3.2 3.2-3.2 3.2 3.2 3.2-3.2 3.2-3.2-3.2-3.2 3.2-3.2-3.2 3.2-3.2-3.2-3.2z"/>
<path class=b d="M742 370l3.2 3.2 3.2-3.2 3.2 3.2-3.2 3.2 3.2 3.2-3.2 3.2-3.2-3.2-3.2 3.2-3.2-3.2 3.2-3.2-3.2-3.2z"/>
<circle class=a cx=566 cy=546 r=7.1 />
<path class=d d="M582 261h13.6v13.6h-13.6z"/>
<path class=d d="M496 572h13.6v13.6h-13.6z"/>
<path class=c d="M634 165h12.6l-6.3 12.6z"/>
<path class=d d="M462 471h13.6v13.6h-13.6z"/>
<path class=c d="M122 361h12.6l-6.3 12.6z"/>
<path class=c d="M178 451h12.6l-6.3 12.6z"/>
<path class=c d="M665 719h12.6l-6.3 12.6z"/>
<path class=b d="M574 565l3.2 3.2 3.2-3.2 3.2 3.2-3.2 3.2 3.2 3.2-3.2 3.2-3.2-3.2-3.2 3.2-3.2-3.2 3.2-3.2-3.2-3.2z"/>
<path class=c d="M731 669h12.6l-6.3 12.6z"/>
<circle class=a cx=575 cy=488 r=7.1 />
<path class=e d="M385 508l6.4 4.6-2.4 7.5-7.9 0-2.4-7.5z"/>
<path class=c d="M612 681h12.6l-6.3 12.6z"/>
<path class=c d="M238 275h12.6l-6.3 12.6z"/>
<path class=e d="M757 507l6.4 4.6-2.4 7.5-7.9 0-2.4-7.5z"/>
<path class=c d="M508 194h12.6l-6.3 12.6z"/>
<path class=d d="M723 385h13.6v13.6h-13.6z"/>
<circle class=a cx=578 cy=539 r=7.1 />
<path class=b d="M548 472l3.2 3.2 3.2-3.2 3.2 3.2-3.2 3.2 3.2 3.2-3.2 3.2-3.2-3.2-3.2 3.2-3.2-3.2 3.2-3.2-3.2-3.2z"/>
<path class=d d="M445 406h13.6v13.6h-13.6z"/>
<circle class=a cx=788 cy=406 r=7.1 />
<path class=d d="M350 350h13.6v13.6h-13.6z"/>
<path class=c d="M607 684h12.6l-6.3 12.6z"/>
<path class=e d="M342 604l6.4 4.6-2.4 7.5-7.9 0-2.4-7.5z"/>
<path class=e d="M346 548l6.4 4.6-2.4 7.5-7.9 0-2.4-7.5z"/>
<circle class=a cx=666 cy=493 r=7.1 />
<path class=d d="M560 276h13.6v13.6h-13.6z"/>
<path class=d d="M487 500h13.6v13.6h-13.6z"/>
<path class=c d="M245 289h12.6l-6.3 12.6z"/>
<path class=c d="M263 266h12.6l-6.3 12.6z"/>
<path class=b d="M541 772l3.2 3.2 3.2-3.2 3.2 3.2-3.2 3.2 3.2 3.2-3.2 3.2-3.2-3.2-3.2 3.2-3.2-3.2 3.2-3.2-3.2-3.2z"/>
<path class=e d="M751 478l6.4 4.6-2.4 7.5-7.9 0-2.4-7.5z"/>
<path class=d d="M334 426h13.6v13.6h-13.6z"/>
<path class=c d="M474 112h12.6l-6.3 12.6z"/>
<path class=b d="M505 812l3.2 3.2 3.2-3.2 3.2 3.2-3.2 3.2 3.2 3.2-3.2 3.2-3.2-3.2-3.2 3.2-3.2-3.2 3.2-3.2-3.2-3.2z"/>
<path class=c d="M403 216h12.6l-6.3 12.6z"/>
<circle class=a cx=383 cy=474 r=7.1 />
<path class=c d="M224 443h12.6l-6.3 12.6z"/>
<path class=e d="M799 565l6.4 4.6-2.4 7.5-7.9 0-2.4-7.5z"/>
<path class=c d="M401 202h12.6l-6.3 12.6z"/>
<path class=e d="M358 583l6.4 4.6-2.4 7.5-7.9 0-2.4-7.5z"/>
<path class=b d="M782 373l3.2 3.2 3.2-3.2 3.2 3.2-3.2 3.2 3.2 3.2-3.2 3.2-3.2-3.2-3.2 3.2-3.2-3.2 3.2-3.2-3.2-3.2z"/>
<circle class=a cx=543 cy=477 r=7.1 />
<path class=c d="M144 374h12.6l-6.3 12.6z"/>
<path class=c d="M653 712h12.6l-6.3 12.6z"/>
<path class=c d="M599 156h12.6l-6.3 12.6z"/>
<path class=e d="M812 540l6.4 4.6-2.4 7.5-7.9 0-2.4-7.5z"/>
<path class=b d="M430 726l3.2 3.2 3.2-3.2 3.2 3.2-3.2 3.2 3.2 3.2-3.2 3.2-3.2-3.2-3.2 3.2-3.2-3.2 3.2-3.2-3.2-3.2z"/>
<path class=e d="M383 439l6.4 4.6-2.4 7.5-7.9 0-2.4-7.5z"/>
<path class=b d="M561 459l3.2 3.2 3.2-3.2 3.2 3.2-3.2 3.2 3.2 3.2-3.2 3.2-3.2-3.2-3.2 3.2-3.2-3.2 3.2-3.2-3.2-3.2z"/>
<path class=c d="M495 133h12.6l-6.3 12.6z"/>
<path class=c d="M262 262h12.6l-6.3 12.6z"/>
<path class=d d="M531 413h13.6v13.6h-13.6z"/>
<path class=e d="M747 478l6.4 4.6-2.4 7.5-7.9 0-2.4-7.5z"/>
<path class=d d="M457 532h13.6v13.6h-13.6z"/>
<path class=c d="M171 472h12.6l-6.3 12.6z"/>
<path class=e d="M335 529l6.4 4.6-2.4 7.5-7.9 0-2.4-7.5z"/>
<path class=b d="M343 766l3.2 3.2 3.2-3.2 3.2 3.2-3.2 3.2 3.2 3.2-3.2 3.2-3.2-3.2-3.2 3.2-3.2-3.2 3.2-3.2-3.2-3.2z"/>
<path class=d d="M346 409h13.6v13.6h-13.6z"/>
<path class=d d="M483 461h13.6v13.6h-13.6z"/>
<circle class=a cx=451 cy=343 r=7.1 />
<path class=b d="M653 535l3.2 3.2 3.2-3.2 3.2 3.2-3.2 3.2 3.2 3.2-3.2 3.2-3.2-3.2-3.2 3.2-3.2-3.2 3.2-3.2-3.2-3.2z"/>
<path class=e d="M810 568l6.4 4.6-2.4 7.5-7.9 0-2.4-7.5z"/>
<path class=d d="M392 404h13.6v13.6h-13.6z"/>
<path class=d d="M721 386h13.6v13.6h-13.6z"/>
<path class=b d="M753 356l3.2 3.2 3.2-3.2 3.2 3.2-3.2 3.2 3.2 3.2-3.2 3.2-3.2-3.2-3.2 3.2-3.2-3.2 3.2-3.2-3.2-3.2z"/>
<circle class=a cx=580 cy=507 r=7.1 />
<circle class=a cx=474 cy=411 r=7.1 />
<path class=b d="M474 724l3.2 3.2 3.2-3.2 3.2 3.2-3.2 3.2 3.2 3.2-3.2 3.2-3.2-3.2-3.2 3.2-3.2-3.2 3.2-3.2-3.2-3.2z"/>
<path class=b d="M614 571l3.2 3.2 3.2-3.2 3.2 3.2-3.2 3.2 3.2 3.2-3.2 3.2-3.2-3.2-3.2 3.2-3.2-3.2 3.2-3.2-3.2-3.2z"/>
<path class=e d="M818 562l6.4 4.6-2.4 7.5-7.9 0-2.4-7.5z"/>
<path class=d d="M732 396h13.6v13.6h-13.6z"/>
<path class=b d="M193 583l3.2 3.2 3.2-3.2 3.2 3.2-3.2 3.2 3.2 3.2-3.2 3.2-3.2-3.2-3.2 3.2-3.2-3.2 3.2-3.2-3.2-3.2z"/>
<path class=b d="M571 780l3.2 3.2 3.2-3.2 3.2 3.2-3.2 3.2 3.2 3.2-3.2 3.2-3.2-3.2-3.2 3.2-3.2-3.2 3.2-3.2-3.2-3.2z"/>
<path class=c d="M126 385h12.6l-6.3 12.6z"/>
<path class=e d="M823 555l6.4 4.6-2.4 7.5-7.9 0-2.4-7.5z"/>
<path class=e d="M329 504l6.4 4.6-2.4 7.5-7.9 0-2.4-7.5z"/>
<path class=d d="M448 515h13.6v13.6h-13.6z"/>
<path class=e d="M338 620l6.4 4.6-2.4 7.5-7.9 0-2.4-7.5z"/>
<path class=b d="M610 491l3.2 3.2 3.2-3.2 3.2 3.2-3.2 3.2 3.2 3.2-3.2 3.2-3.2-3.2-3.2 3.2-3.2-3.2 3.2-3.2-3.2-3.2z"/>
<path class=b d="M696 483l3.2 3.2 3.2-3.2 3.2 3.2-3.2 3.2 3.2 3.2-3.2 3.2-3.2-3.2-3.2 3.2-3.2-3.2 3.2-3.2-3.2-3.2z"/>
<circle class=a cx=401 cy=530 r=7.1 />
<path class=e d="M722 473l6.4 4.6-2.4 7.5-7.9 0-2.4-7.5z"/>
<path class=b d="M606 488l3.2 3.2 3.2-3.2 3.2 3.2-3.2 3.2 3.2 3.2-3.2 3.2-3.2-3.2-3.2 3.2-3.2-3.2 3.2-3.2-3.2-3.2z"/>
<path class=c d="M124 381h12.6l-6.3 12.6z"/>
<circle class=a cx=435 cy=395 r=7.1 />
<path class=b d="M561 455l3.2 3.2 3.2-3.2 3.2 3.2-3.2 3.2 3.2 3.2-3.2 3.2-3.2-3.2-3.2 3.2-3.2-3.2 3.2-3.2-3.2-3.2z"/>
<path class=b d="M376 733l3.2 3.2 3.2-3.2 3.2 3.2-3.2 3.2 3.2 3.2-3.2 3.2-3.2-3.2-3.2 3.2-3.2-3.2 3.2-3.2-3.2-3.2z"/>
<path class=b d="M599 501l3.2 3.2 3.2-3.2 3.2 3.2-3.2 3.2 3.2 3.2-3.2 3.2-3.2-3.2-3.2 3.2-3.2-3.2 3.2-3.2-3.2-3.2z"/>
<path class=e d="M788 556l6.4 4.6-2.4 7.5-7.9 0-2.4-7.5z"/>
<path class=e d="M363 603l6.4 4.6-2.4 7.5-7.9 0-2.4-7.5z"/>
<path class=c d="M183 463h12.6l-6.3 12.6z"/>
<path class=b d="M447 726l3.2 3.2 3.2-3.2 3.2 3.2-3.2 3.2 3.2 3.2-3.2 3.2-3.2-3.2-3.2 3.2-3.2-3.2 3.2-3.2-3.2-3.2z"/>
<path class=d d="M502 410h13.6v13.6h-13.6z"/>
<path class=e d="M830 537l6.4 4.6-2.4 7.5-7.9 0-2.4-7.5z"/>
<circle class=a cx=476 cy=436 r=7.1 />
<circle class=a cx=662 cy=559 r=7.1 />
<path class=b d="M559 805l3.2 3.2 3.2-3.2 3.2 3.2-3.2 3.2 3.2 3.2-3.2 3.2-3.2-3.2-3.2 3.2-3.2-3.2 3.2-3.2-3.2-3.2z"/>
<path class=c d="M583 660h12.6l-6.3 12.6z"/>
<path class=b d="M752 381l3.2 3.2 3.2-3.2 3.2 3.2-3.2 3.2 3.2 3.2-3.2 3.2-3.2-3.2-3.2 3.2-3.2-3.2 3.2-3.2-3.2-3.2z"/>
<path class=c d="M643 183h12.6l-6.3 12.6z"/>
<path class=c d="M223 303h12.6l-6.3 12.6z"/>
<path class=c d="M163 464h12.6l-6.3 12.6z"/>
<circle class=a cx=431 cy=442 r=7.1 />
<path class=b d="M176 585l3.2 3.2 3.2-3.2 3.2 3.2-3.2 3.2 3.2 3.2-3.2 3.2-3.2-3.2-3.2 3.2-3.2-3.2 3.2-3.2-3.2-3.2z"/>
<circle class=a cx=808 cy=463 r=7.1 />
<path class=c d="M501 175h12.6l-6.3 12.6z"/>
<path class=b d="M710 351l3.2 3.2 3.2-3.2 3.2 3.2-3.2 3.2 3.2 3.2-3.2 3.2-3.2-3.2-3.2 3.2-3.2-3.2 3.2-3.2-3.2-3.2z"/>
<path class=c d="M286 255h12.6l-6.3 12.6z"/>
<path class=c d="M488 197h12.6l-6.3 12.6z"/>
<path class=c d="M219 456h12.6l-6.3 12.6z"/>
<path class=c d="M646 179h12.6l-6.3 12.6z"/>
<circle class=a cx=639 cy=469 r=7.1 />
<path class=e d="M388 533l6.4 4.6-2.4 7.5-7.9 0-2.4-7.5z"/>
<path class=d d="M641 302h13.6v13.6h-13.6z"/>
<path class=b d="M575 570l3.2 3.2 3.2-3.2 3.2 3.2-3.2 3.2 3.2 3.2-3.2 3.2-3.2-3.2-3.2 3.2-3.2-3.2 3.2-3.2-3.2-3.2z"/>
<path class=e d="M355 618l6.4 4.6-2.4 7.5-7.9 0-2.4-7.5z"/>
<path class=e d="M779 482l6.4 4.6-2.4 7.5-7.9 0-2.4-7.5z"/>
<path class=b d="M529 476l3.2 3.2 3.2-3.2 3.2 3.2-3.2 3.2 3.2 3.2-3.2 3.2-3.2-3.2-3.2 3.2-3.2-3.2 3.2-3.2-3.2-3.2z"/>
<path class=e d="M788 555l6.4 4.6-2.4 7.5-7.9 0-2.4-7.5z"/>
<path class=c d="M386 221h12.6l-6.3 12.6z"/>
<circle class=a cx=779 cy=484 r=7.1 />
<path class=c d="M350 148h12.6l-6.3 12.6z"/>
<circle class=a cx=501 cy=412 r=7.1 />
<path class=d d="M366 380h13.6v13.6h-13.6z"/>
<path class=e d="M768 495l6.4 4.6-2.4 7.5-7.9 0-2.4-7.5z"/>
<path class=b d="M577 571l3.2 3.2 3.2-3.2 3.2 3.2-3.2 3.2 3.2 3.2-3.2 3.2-3.2-3.2-3.2 3.2-3.2-3.2 3.2-3.2-3.2-3.2z"/>
<path class=c d="M216 471h12.6l-6.3 12.6z"/>
<path class=d d="M476 383h13.6v13.6h-13.6z"/>
<path class=b d="M387 754l3.2 3.2 3.2-3.2 3.2 3.2-3.2 3.2 3.2 3.2-3.2 3.2-3.2-3.2-3.2 3.2-3.2-3.2 3.2-3.2-3.2-3.2z"/>
<path class=b d="M597 499l3.2 3.2 3.2-3.2 3.2 3.2-3.2 3.2 3.2 3.2-3.2 3.2-3.2-3.2-3.2 3.2-3.2-3.2 3.2-3.2-3.2-3.2z"/>
<path class=d d="M670 518h13.6v13.6h-13.6z"/>
<path class=c d="M627 702h12.6l-6.3 12.6z"/>
<path class=c d="M381 193h12.6l-6.3 12.6z"/>
<path class=c d="M369 177h12.6l-6.3 12.6z"/>
<path class=b d="M545 800l3.2 3.2 3.2-3.2 3.2 3.2-3.2 3.2 3.2 3.2-3.2 3.2-3.2-3.2-3.2 3.2-3.2-3.2 3.2-3.2-3.2-3.2z"/>
<path class=b d="M187 580l3.2 3.2 3.2-3.2 3.2 3.2-3.2 3.2 3.2 3.2-3.2 3.2-3.2-3.2-3.2 3.2-3.2-3.2 3.2-3.2-3.2-3.2z"/>
<path class=c d="M292 263h12.6l-6.3 12.6z"/>
<path class=c d="M166 474h12.6l-6.3 12.6z"/>
<path class=e d="M321 600l6.4 4.6-2.4 7.5-7.9 0-2.4-7.5z"/>
<path class=d d="M477 526h13.6v13.6h-13.6z"/>
<path class=d d="M729 286h13.6v13.6h-13.6z"/>
<path class=d d="M445 593h13.6v13.6h-13.6z"/>
<path class=d d="M576 267h13.6v13.6h-13.6z"/>
<path class=d d="M489 530h13.6v13.6h-13.6z"/>
<path class=c d="M499 201h12.6l-6.3 12.6z"/>
<circle class=a cx=562 cy=494 r=7.1 />
<circle class=a cx=494 cy=482 r=7.1 />
<circle class=a cx=486 cy=354 r=7.1 />
<path class=b d="M773 351l3.2 3.2 3.2-3.2 3.2 3.2-3.2 3.2 3.2 3.2-3.2 3.2-3.2-3.2-3.2 3.2-3.2-3.2 3.2-3.2-3.2-3.2z"/>
<circle class=a cx=420 cy=464 r=7.1 />
<path class=e d="M376 617l6.4 4.6-2.4 7.5-7.9 0-2.4-7.5z"/>
<circle class=a cx=508 cy=503 r=7.1 />
<path class=b d="M553 476l3.2 3.2 3.2-3.2 3.2 3.2-3.2 3.2 3.2 3.2-3.2 3.2-3.2-3.2-3.2 3.2-3.2-3.2 3.2-3.2-3.2-3.2z"/>
<path class=e d="M831 567l6.4 4.6-2.4 7.5-7.9 0-2.4-7.5z"/>
<circle class=a cx=629 cy=579 r=7.1 />
<path class=e d="M315 532l6.4 4.6-2.4 7.5-7.9 0-2.4-7.5z"/>
<path class=c d="M651 173h12.6l-6.3 12.6z"/>
<path class=d d="M536 426h13.6v13.6h-13.6z"/>
<path class=d d="M576 324h13.6v13.6h-13.6z"/>
<circle class=a cx=495 cy=405 r=7.1 />
<path class=e d="M413 600l6.4 4.6-2.4 7.5-7.9 0-2.4-7.5z"/>
<path class=d d="M480 385h13.6v13.6h-13.6z"/>
<circle class=a cx=439 cy=421 r=7.1 />
<path class=d d="M724 385h13.6v13.6h-13.6z"/>
<path class=b d="M387 738l3.2 3.2 3.2-3.2 3.2 3.2-3.2 3.2 3.2 3.2-3.2 3.2-3.2-3.2-3.2 3.2-3.2-3.2 3.2-3.2-3.2-3.2z"/>
<circle class=a cx=717 cy=499 r=7.1 />
<path class=d d="M601 327h13.6v13.6h-13.6z"/>
<path class=c d="M397 219h12.6l-6.3 12.6z"/>
<path class=e d="M380 438l6.4 4.6-2.4 7.5-7.9 0-2.4-7.5z"/>
<path class=c d="M141 381h12.6l-6.3 12.6z"/>
<circle class=a cx=604 cy=418 r=7.1 />
<path class=b d="M179 619l3.2 3.2 3.2-3.2 3.2 3.2-3.2 3.2 3.2 3.2-3.2 3.2-3.2-3.2-3.2 3.2-3.2-3.2 3.2-3.2-3.2-3.2z"/>
<path class=c d="M358 167h12.6l-6.3 12.6z"/>
<path class=d d="M578 325h13.6v13.6h-13.6z"/>
<path class=b d="M402 725l3.2 3.2 3.2-3.2 3.2 3.2-3.2 3.2 3.2 3.2-3.2 3.2-3.2-3.2-3.2 3.2-3.2-3.2 3.2-3.2-3.2-3.2z"/>
<path class=d d="M530 403h13.6v13.6h-13.6z"/>
<path class=b d="M566 326l3.2 3.2 3.2-3.2 3.2 3.2-3.2 3.2 3.2 3.2-3.2 3.2-3.2-3.2-3.2 3.2-3.2-3.2 3.2-3.2-3.2-3.2z"/>
<path class=e d="M721 474l6.4 4.6-2.4 7.5-7.9 0-2.4-7.5z"/>
<path class=d d="M577 324h13.6v13.6h-13.6z"/>
<path class=e d="M829 534l6.4 4.6-2.4 7.5-7.9 0-2.4-7.5z"/>
<path class=c d="M353 137h12.6l-6.3 12.6z"/>
<path class=b d="M172 591l3.2 3.2 3.2-3.2 3.2 3.2-3.2 3.2 3.2 3.2-3.2 3.2-3.2-3.2-3.2 3.2-3.2-3.2 3.2-3.2-3.2-3.2z"/>
<path class=d d="M738 399h13.6v13.6h-13.6z"/>
<path class=b d="M391 781l3.2 3.2 3.2-3.2 3.2 3.2-3.2 3.2 3.2 3.2-3.2 3.2-3.2-3.2-3.2 3.2-3.2-3.2 3.2-3.2-3.2-3.2z"/>
<path class=b d="M617 574l3.2 3.2 3.2-3.2 3.2 3.2-3.2 3.2 3.2 3.2-3.2 3.2-3.2-3.2-3.2 3.2-3.2-3.2 3.2-3.2-3.2-3.2z"/>
<path class=b d="M365 774l3.2 3.2 3.2-3.2 3.2 3.2-3.2 3.2 3.2 3.2-3.2 3.2-3.2-3.2-3.2 3.2-3.2-3.2 3.2-3.2-3.2-3.2z"/>
<path class=b d="M566 793l3.2 3.2 3.2-3.2 3.2 3.2-3.2 3.2 3.2 3.2-3.2 3.2-3.2-3.2-3.2 3.2-3.2-3.2 3.2-3.2-3.2-3.2z"/>
<path class=d d="M720 315h13.6v13.6h-13.6z"/>
<path class=d d="M571 323h13.6v13.6h-13.6z"/>
<path class=c d="M489 207h12.6l-6.3 12.6z"/>
<path class=e d="M316 495l6.4 4.6-2.4 7.5-7.9 0-2.4-7.5z"/>
<path class=b d="M453 734l3.2 3.2 3.2-3.2 3.2 3.2-3.2 3.2 3.2 3.2-3.2 3.2-3.2-3.2-3.2 3.2-3.2-3.2 3.2-3.2-3.2-3.2z"/>
<path class=c d="M625 150h12.6l-6.3 12.6z"/>
<path class=c d="M134 363h12.6l-6.3 12.6z"/>
<path class=b d="M169 571l3.2 3.2 3.2-3.2 3.2 3.2-3.2 3.2 3.2 3.2-3.2 3.2-3.2-3.2-3.2 3.2-3.2-3.2 3.2-3.2-3.2-3.2z"/>
<path class=d d="M407 399h13.6v13.6h-13.6z"/>
<circle class=a cx=430 cy=380 r=7.1 />
<path class=b d="M567 559l3.2 3.2 3.2-3.2 3.2 3.2-3.2 3.2 3.2 3.2-3.2 3.2-3.2-3.2-3.2 3.2-3.2-3.2 3.2-3.2-3.2-3.2z"/>
<path class=c d="M646 168h12.6l-6.3 12.6z"/>
<circle class=a cx=404 cy=531 r=7.1 />
<path class=c d="M134 371h12.6l-6.3 12.6z"/>
<path class=b d="M213 618l3.2 3.2 3.2-3.2 3.2 3.2-3.2 3.2 3.2 3.2-3.2 3.2-3.2-3.2-3.2 3.2-3.2-3.2 3.2-3.2-3.2-3.2z"/>
<circle class=a cx=630 cy=493 r=7.1 />
<path class=e d="M375 424l6.4 4.6-2.4 7.5-7.9 0-2.4-7.5z"/>
<path class=b d="M632 560l3.2 3.2 3.2-3.2 3.2 3.2-3.2 3.2 3.2 3.2-3.2 3.2-3.2-3.2-3.2 3.2-3.2-3.2 3.2-3.2-3.2-3.2z"/>
<path class=c d="M743 669h12.6l-6.3 12.6z"/>
<path class=d d="M509 579h13.6v13.6h-13.6z"/>
<path class=b d="M471 713l3.2 3.2 3.2-3.2 3.2 3.2-3.2 3.2 3.2 3.2-3.2 3.2-3.2-3.2-3.2 3.2-3.2-3.2 3.2-3.2-3.2-3.2z"/>
<path class=b d="M550 563l3.2 3.2 3.2-3.2 3.2 3.2-3.2 3.2 3.2 3.2-3.2 3.2-3.2-3.2-3.2 3.2-3.2-3.2 3.2-3.2-3.2-3.2z"/>
<path class=b d="M607 490l3.2 3.2 3.2-3.2 3.2 3.2-3.2 3.2 3.2 3.2-3.2 3.2-3.2-3.2-3.2 3.2-3.2-3.2 3.2-3.2-3.2-3.2z"/>
<path class=e d="M317 488l6.4 4.6-2.4 7.5-7.9 0-2.4-7.5z"/>
<path class=e d="M762 523l6.4 4.6-2.4 7.5-7.9 0-2.4-7.5z"/>
<path class=e d="M825 500l6.4 4.6-2.4 7.5-7.9 0-2.4-7.5z"/>
<path class=c d="M148 364h12.6l-6.3 12.6z"/>
<path class=d d="M501 552h13.6v13.6h-13.6z"/>
<path class=b d="M590 565l3.2 3.2 3.2-3.2 3.2 3.2-3.2 3.2 3.2 3.2-3.2 3.2-3.2-3.2-3.2 3.2-3.2-3.2 3.2-3.2-3.2-3.2z"/>
<path class=c d="M512 158h12.6l-6.3 12.6z"/>
<path class=b d="M561 454l3.2 3.2 3.2-3.2 3.2 3.2-3.2 3.2 3.2 3.2-3.2 3.2-3.2-3.2-3.2 3.2-3.2-3.2 3.2-3.2-3.2-3.2z"/>
<path class=b d="M361 771l3.2 3.2 3.2-3.2 3.2 3.2-3.2 3.2 3.2 3.2-3.2 3.2-3.2-3.2-3.2 3.2-3.2-3.2 3.2-3.2-3.2-3.2z"/>
<path class=c d="M598 675h12.6l-6.3 12.6z"/>
<path class=d d="M378 523h13.6v13.6h-13.6z"/>
<path class=b d="M555 768l3.2 3.2 3.2-3.2 3.2 3.2-3.2 3.2 3.2 3.2-3.2 3.2-3.2-3.2-3.2 3.2-3.2-3.2 3.2-3.2-3.2-3.2z"/>
<path class=b d="M585 560l3.2 3.2 3.2-3.2 3.2 3.2-3.2 3.2 3.2 3.2-3.2 3.2-3.2-3.2-3.2 3.2-3.2-3.2 3.2-3.2-3.2-3.2z"/>
<path class=b d="M415 745l3.2 3.2 3.2-3.2 3.2 3.2-3.2 3.2 3.2 3.2-3.2 3.2-3.2-3.2-3.2 3.2-3.2-3.2 3.2-3.2-3.2-3.2z"/>
<path class=d d="M520 385h13.6v13.6h-13.6z"/>
<circle class=a cx=545 cy=545 r=7.1 />
<circle class=a cx=399 cy=469 r=7.1 />
<path class=e d="M311 552l6.4 4.6-2.4 7.5-7.9 0-2.4-7.5z"/>
<circle class=a cx=387 cy=436 r=7.1 />
<path class=e d="M289 515l6.4 4.6-2.4 7.5-7.9 0-2.4-7.5z"/>
<path class=d d="M519 351h13.6v13.6h-13.6z"/>
<circle class=a cx=520 cy=372 r=7.1 />
<path class=c d="M126 363h12.6l-6.3 12.6z"/>
<path class=d d="M346 408h13.6v13.6h-13.6z"/>
<path class=b d="M566 764l3.2 3.2 3.2-3.2 3.2 3.2-3.2 3.2 3.2 3.2-3.2 3.2-3.2-3.2-3.2 3.2-3.2-3.2 3.2-3.2-3.2-3.2z"/>
<circle class=a cx=423 cy=420 r=7.1 />
<path class=b d="M457 727l3.2 3.2 3.2-3.2 3.2 3.2-3.2 3.2 3.2 3.2-3.2 3.2-3.2-3.2-3.2 3.2-3.2-3.2 3.2-3.2-3.2-3.2z"/>
<path class=b d="M517 787l3.2 3.2 3.2-3.2 3.2 3.2-3.2 3.2 3.2 3.2-3.2 3.2-3.2-3.2-3.2 3.2-3.2-3.2 3.2-3.2-3.2-3.2z"/>
<path class=d d="M759 437h13.6v13.6h-13.6z"/>
<path class=d d="M345 414h13.6v13.6h-13.6z"/>
<path class=b d="M177 567l3.2 3.2 3.2-3.2 3.2 3.2-3.2 3.2 3.2 3.2-3.2 3.2-3.2-3.2-3.2 3.2-3.2-3.2 3.2-3.2-3.2-3.2z"/>
<path class=b d="M214 588l3.2 3.2 3.2-3.2 3.2 3.2-3.2 3.2 3.2 3.2-3.2 3.2-3.2-3.2-3.2 3.2-3.2-3.2 3.2-3.2-3.2-3.2z"/>
<path class=d d="M477 384h13.6v13.6h-13.6z"/>
<circle class=a cx=404 cy=375 r=7.1 />
<path class=c d="M136 361h12.6l-6.3 12.6z"/>
<path class=d d="M495 350h13.6v13.6h-13.6z"/>
<path class=c d="M661 700h12.6l-6.3 12.6z"/>
<path class=c d="M240 309h12.6l-6.3 12.6z"/>
<circle class=a cx=804 cy=423 r=7.1 />
<circle class=a cx=498 cy=327 r=7.1 />
<path class=c d="M213 447h12.6l-6.3 12.6z"/>
<path class=d d="M614 549h13.6v13.6h-13.6z"/>
<path class=b d="M513 819l3.2 3.2 3.2-3.2 3.2 3.2-3.2 3.2 3.2 3.2-3.2 3.2-3.2-3.2-3.2 3.2-3.2-3.2 3.2-3.2-3.2-3.2z"/>
<circle class=a cx=579 cy=494 r=7.1 />
<path class=d d="M514 484h13.6v13.6h-13.6z"/>
<path class=e d="M857 550l6.4 4.6-2.4 7.5-7.9 0-2.4-7.5z"/>
<path class=d d="M336 360h13.6v13.6h-13.6z"/>
<path class=d d="M794 318h13.6v13.6h-13.6z"/>
<path class=c d="M361 147h12.6l-6.3 12.6z"/>
<path class=b d="M339 763l3.2 3.2 3.2-3.2 3.2 3.2-3.2 3.2 3.2 3.2-3.2 3.2-3.2-3.2-3.2 3.2-3.2-3.2 3.2-3.2-3.2-3.2z"/>
<path class=d d="M810 400h13.6v13.6h-13.6z"/>
<path class=d d="M562 291h13.6v13.6h-13.6z"/>
<path class=b d="M559 507l3.2 3.2 3.2-3.2 3.2 3.2-3.2 3.2 3.2 3.2-3.2 3.2-3.2-3.2-3.2 3.2-3.2-3.2 3.2-3.2-3.2-3.2z"/>
<path class=b d="M684 432l3.2 3.2 3.2-3.2 3.2 3.2-3.2 3.2 3.2 3.2-3.2 3.2-3.2-3.2-3.2 3.2-3.2-3.2 3.2-3.2-3.2-3.2z"/>
<path class=b d="M782 373l3.2 3.2 3.2-3.2 3.2 3.2-3.2 3.2 3.2 3.2-3.2 3.2-3.2-3.2-3.2 3.2-3.2-3.2 3.2-3.2-3.2-3.2z"/>
<path class=d d="M371 479h13.6v13.6h-13.6z"/>
<path class=e d="M381 436l6.4 4.6-2.4 7.5-7.9 0-2.4-7.5z"/>
<path class=b d="M425 728l3.2 3.2 3.2-3.2 3.2 3.2-3.2 3.2 3.2 3.2-3.2 3.2-3.2-3.2-3.2 3.2-3.2-3.2 3.2-3.2-3.2-3.2z"/>
<path class=b d="M622 519l3.2 3.2 3.2-3.2 3.2 3.2-3.2 3.2 3.2 3.2-3.2 3.2-3.2-3.2-3.2 3.2-3.2-3.2 3.2-3.2-3.2-3.2z"/>
<circle class=a cx=659 cy=480 r=7.1 />
<path class=b d="M746 360l3.2 3.2 3.2-3.2 3.2 3.2-3.2 3.2 3.2 3.2-3.2 3.2-3.2-3.2-3.2 3.2-3.2-3.2 3.2-3.2-3.2-3.2z"/>
<path class=d d="M655 347h13.6v13.6h-13.6z"/>
<path class=c d="M232 309h12.6l-6.3 12.6z"/>
<path class=d d="M522 569h13.6v13.6h-13.6z"/>
<path class=d d="M624 382h13.6v13.6h-13.6z"/>
<path class=d d="M723 313h13.6v13.6h-13.6z"/>
<path class=d d="M568 324h13.6v13.6h-13.6z"/>
<path class=b d="M204 623l3.2 3.2 3.2-3.2 3.2 3.2-3.2 3.2 3.2 3.2-3.2 3.2-3.2-3.2-3.2 3.2-3.2-3.2 3.2-3.2-3.2-3.2z"/>
<path class=e d="M363 579l6.4 4.6-2.4 7.5-7.9 0-2.4-7.5z"/>
<circle class=a cx=546 cy=333 r=7.1 />
<path class=e d="M375 428l6.4 4.6-2.4 7.5-7.9 0-2.4-7.5z"/>
<path class=d d="M481 463h13.6v13.6h-13.6z"/>
<circle class=a cx=371 cy=372 r=7.1 />
<path class=e d="M381 596l6.4 4.6-2.4 7.5-7.9 0-2.4-7.5z"/>
<circle class=a cx=414 cy=373 r=7.1 />
<circle class=a cx=497 cy=485 r=7.1 />
<path class=e d="M748 477l6.4 4.6-2.4 7.5-7.9 0-2.4-7.5z"/>
<path class=e d="M328 559l6.4 4.6-2.4 7.5-7.9 0-2.4-7.5z"/>
<circle class=a cx=650 cy=492 r=7.1 />
<path class=c d="M406 198h12.6l-6.3 12.6z"/>
<circle class=a cx=423 cy=478 r=7.1 />
<path class=d d="M571 459h13.6v13.6h-13.6z"/>
<path class=e d="M781 581l6.4 4.6-2.4 7.5-7.9 0-2.4-7.5z"/>
<path class=c d="M472 109h12.6l-6.3 12.6z"/>
<path class=d d="M396 511h13.6v13.6h-13.6z"/>
<path class=e d="M317 581l6.4 4.6-2.4 7.5-7.9 0-2.4-7.5z"/>
<path class=b d="M507 808l3.2 3.2 3.2-3.2 3.2 3.2-3.2 3.2 3.2 3.2-3.2 3.2-3.2-3.2-3.2 3.2-3.2-3.2 3.2-3.2-3.2-3.2z"/>
<path class=e d="M321 613l6.4 4.6-2.4 7.5-7.9 0-2.4-7.5z"/>
<path class=b d="M555 462l3.2 3.2 3.2-3.2 3.2 3.2-3.2 3.2 3.2 3.2-3.2 3.2-3.2-3.2-3.2 3.2-3.2-3.2 3.2-3.2-3.2-3.2z"/>
<path class=d d="M589 277h13.6v13.6h-13.6z"/>
<path class=c d="M240 306h12.6l-6.3 12.6z"/>
<path class=d d="M587 322h13.6v13.6h-13.6z"/>
<path class=c d="M577 668h12.6l-6.3 12.6z"/>
<circle class=a cx=488 cy=432 r=7.1 />
<path class=b d="M339 751l3.2 3.2 3.2-3.2 3.2 3.2-3.2 3.2 3.2 3.2-3.2 3.2-3.2-3.2-3.2 3.2-3.2-3.2 3.2-3.2-3.2-3.2z"/>
<path class=d d="M303 351h13.6v13.6h-13.6z"/>
<path class=d d="M726 306h13.6v13.6h-13.6z"/>
<path class=b d="M543 773l3.2 3.2 3.2-3.2 3.2 3.2-3.2 3.2 3.2 3.2-3.2 3.2-3.2-3.2-3.2 3.2-3.2-3.2 3.2-3.2-3.2-3.2z"/>
<path class=b d="M762 340l3.2 3.2 3.2-3.2 3.2 3.2-3.2 3.2 3.2 3.2-3.2 3.2-3.2-3.2-3.2 3.2-3.2-3.2 3.2-3.2-3.2-3.2z"/>
<path class=b d="M787 371l3.2 3.2 3.2-3.2 3.2 3.2-3.2 3.2 3.2 3.2-3.2 3.2-3.2-3.2-3.2 3.2-3.2-3.2 3.2-3.2-3.2-3.2z"/>
<path class=d d="M577 311h13.6v13.6h-13.6z"/>
<path class=b d="M524 776l3.2 3.2 3.2-3.2 3.2 3.2-3.2 3.2 3.2 3.2-3.2 3.2-3.2-3.2-3.2 3.2-3.2-3.2 3.2-3.2-3.2-3.2z"/>
<path class=b d="M394 748l3.2 3.2 3.2-3.2 3.2 3.2-3.2 3.2 3.2 3.2-3.2 3.2-3.2-3.2-3.2 3.2-3.2-3.2 3.2-3.2-3.2-3.2z"/>
<path class=b d="M414 566l3.2 3.2 3.2-3.2 3.2 3.2-3.2 3.2 3.2 3.2-3.2 3.2-3.2-3.2-3.2 3.2-3.2-3.2 3.2-3.2-3.2-3.2z"/>
<path class=e d="M317 544l6.4 4.6-2.4 7.5-7.9 0-2.4-7.5z"/>
<path class=b d="M583 490l3.2 3.2 3.2-3.2 3.2 3.2-3.2 3.2 3.2 3.2-3.2 3.2-3.2-3.2-3.2 3.2-3.2-3.2 3.2-3.2-3.2-3.2z"/>
<path class=d d="M309 388h13.6v13.6h-13.6z"/>
<circle class=a cx=565 cy=494 r=7.1 />
<circle class=a cx=607 cy=535 r=7.1 />
<path class=d d="M411 478h13.6v13.6h-13.6z"/>
<path class=d d="M513 486h13.6v13.6h-13.6z"/>
<path class=c d="M626 705h12.6l-6.3 12.6z"/>
<path class=b d="M563 803l3.2 3.2 3.2-3.2 3.2 3.2-3.2 3.2 3.2 3.2-3.2 3.2-3.2-3.2-3.2 3.2-3.2-3.2 3.2-3.2-3.2-3.2z"/>
<path class=e d="M314 486l6.4 4.6-2.4 7.5-7.9 0-2.4-7.5z"/>
<path class=d d="M597 349h13.6v13.6h-13.6z"/>
<path class=e d="M344 545l6.4 4.6-2.4 7.5-7.9 0-2.4-7.5z"/>
<path class=b d="M714 355l3.2 3.2 3.2-3.2 3.2 3.2-3.2 3.2 3.2 3.2-3.2 3.2-3.2-3.2-3.2 3.2-3.2-3.2 3.2-3.2-3.2-3.2z"/>
<path class=c d="M612 152h12.6l-6.3 12.6z"/>
<path class=c d="M363 160h12.6l-6.3 12.6z"/>
<path class=d d="M488 496h13.6v13.6h-13.6z"/>
<path class=b d="M390 753l3.2 3.2 3.2-3.2 3.2 3.2-3.2 3.2 3.2 3.2-3.2 3.2-3.2-3.2-3.2 3.2-3.2-3.2 3.2-3.2-3.2-3.2z"/>
<circle class=a cx=630 cy=494 r=7.1 />
<path class=b d="M184 609l3.2 3.2 3.2-3.2 3.2 3.2-3.2 3.2 3.2 3.2-3.2 3.2-3.2-3.2-3.2 3.2-3.2-3.2 3.2-3.2-3.2-3.2z"/>
<path class=c d="M290 250h12.6l-6.3 12.6z"/>
<path class=b d="M786 377l3.2 3.2 3.2-3.2 3.2 3.2-3.2 3.2 3.2 3.2-3.2 3.2-3.2-3.2-3.2 3.2-3.2-3.2 3.2-3.2-3.2-3.2z"/>
<path class=b d="M753 366l3.2 3.2 3.2-3.2 3.2 3.2-3.2 3.2 3.2 3.2-3.2 3.2-3.2-3.2-3.2 3.2-3.2-3.2 3.2-3.2-3.2-3.2z"/>
<path class=b d="M518 794l3.2 3.2 3.2-3.2 3.2 3.2-3.2 3.2 3.2 3.2-3.2 3.2-3.2-3.2-3.2 3.2-3.2-3.2 3.2-3.2-3.2-3.2z"/>
<circle class=a cx=826 cy=423 r=7.1 />
<path class=b d="M451 683l3.2 3.2 3.2-3.2 3.2 3.2-3.2 3.2 3.2 3.2-3.2 3.2-3.2-3.2-3.2 3.2-3.2-3.2 3.2-3.2-3.2-3.2z"/>
<path class=c d="M495 205h12.6l-6.3 12.6z"/>
<path class=c d="M180 466h12.6l-6.3 12.6z"/>
<path class=d d="M632 529h13.6v13.6h-13.6z"/>
<path class=b d="M189 599l3.2 3.2 3.2-3.2 3.2 3.2-3.2 3.2 3.2 3.2-3.2 3.2-3.2-3.2-3.2 3.2-3.2-3.2 3.2-3.2-3.2-3.2z"/>
<path class=c d="M667 186h12.6l-6.3 12.6z"/>
<path class=c d="M659 169h12.6l-6.3 12.6z"/>
<circle class=a cx=635 cy=469 r=7.1 />
<path class=c d="M217 474h12.6l-6.3 12.6z"/>
<path class=c d="M479 102h12.6l-6.3 12.6z"/>
<circle class=a cx=629 cy=493 r=7.1 />
<path class=c d="M747 686h12.6l-6.3 12.6z"/>
<path class=b d="M582 521l3.2 3.2 3.2-3.2 3.2 3.2-3.2 3.2 3.2 3.2-3.2 3.2-3.2-3.2-3.2 3.2-3.2-3.2 3.2-3.2-3.2-3.2z"/>
<path class=c d="M593 662h12.6l-6.3 12.6z"/>
<circle class=a cx=512 cy=358 r=7.1 />
<path class=e d="M400 609l6.4 4.6-2.4 7.5-7.9 0-2.4-7.5z"/>
<path class=c d="M658 702h12.6l-6.3 12.6z"/>
<path class=e d="M775 567l6.4 4.6-2.4 7.5-7.9 0-2.4-7.5z"/>
<path class=c d="M288 252h12.6l-6.3 12.6z"/>
<path class=b d="M553 463l3.2 3.2 3.2-3.2 3.2 3.2-3.2 3.2 3.2 3.2-3.2 3.2-3.2-3.2-3.2 3.2-3.2-3.2 3.2-3.2-3.2-3.2z"/>
<path class=d d="M612 303h13.6v13.6h-13.6z"/>
<circle class=a cx=633 cy=583 r=7.1 />
<path class=c d="M377 204h12.6l-6.3 12.6z"/>
<path class=c d="M400 215h12.6l-6.3 12.6z"/>
<path class=e d="M355 625l6.4 4.6-2.4 7.5-7.9 0-2.4-7.5z"/>
<path class=e d="M341 492l6.4 4.6-2.4 7.5-7.9 0-2.4-7.5z"/>
<circle class=a cx=481 cy=339 r=7.1 />
<path class=c d="M668 176h12.6l-6.3 12.6z"/>
<path class=b d="M734 341l3.2 3.2 3.2-3.2 3.2 3.2-3.2 3.2 3.2 3.2-3.2 3.2-3.2-3.2-3.2 3.2-3.2-3.2 3.2-3.2-3.2-3.2z"/>
<path class=d d="M359 402h13.6v13.6h-13.6z"/>
<path class=c d="M740 678h12.6l-6.3 12.6z"/>
<path class=e d="M758 568l6.4 4.6-2.4 7.5-7.9 0-2.4-7.5z"/>
<circle class=a cx=446 cy=579 r=7.1 />
<path class=c d="M487 130h12.6l-6.3 12.6z"/>
<path class=b d="M476 741l3.2 3.2 3.2-3.2 3.2 3.2-3.2 3.2 3.2 3.2-3.2 3.2-3.2-3.2-3.2 3.2-3.2-3.2 3.2-3.2-3.2-3.2z"/>
<circle class=a cx=566 cy=546 r=7.1 />
<path class=c d="M293 266h12.6l-6.3 12.6z"/>
<path class=c d="M128 382h12.6l-6.3 12.6z"/>
<path class=b d="M694 482l3.2 3.2 3.2-3.2 3.2 3.2-3.2 3.2 3.2 3.2-3.2 3.2-3.2-3.2-3.2 3.2-3.2-3.2 3.2-3.2-3.2-3.2z"/>
<path class=c d="M614 152h12.6l-6.3 12.6z"/>
<path class=d d="M451 491h13.6v13.6h-13.6z"/>
<path class=b d="M556 782l3.2 3.2 3.2-3.2 3.2 3.2-3.2 3.2 3.2 3.2-3.2 3.2-3.2-3.2-3.2 3.2-3.2-3.2 3.2-3.2-3.2-3.2z"/>
<path class=d d="M464 562h13.6v13.6h-13.6z"/>
<path class=e d="M754 451l6.4 4.6-2.4 7.5-7.9 0-2.4-7.5z"/>
<path class=b d="M534 475l3.2 3.2 3.2-3.2 3.2 3.2-3.2 3.2 3.2 3.2-3.2 3.2-3.2-3.2-3.2 3.2-3.2-3.2 3.2-3.2-3.2-3.2z"/>
<path class=e d="M795 523l6.4 4.6-2.4 7.5-7.9 0-2.4-7.5z"/>
<path class=b d="M194 599l3.2 3.2 3.2-3.2 3.2 3.2-3.2 3.2 3.2 3.2-3.2 3.2-3.2-3.2-3.2 3.2-3.2-3.2 3.2-3.2-3.2-3.2z"/>
<path class=d d="M522 572h13.6v13.6h-13.6z"/>
<circle class=a cx=631 cy=547 r=7.1 />
<path class=d d="M455 554h13.6v13.6h-13.6z"/>
<path class=e d="M831 539l6.4 4.6-2.4 7.5-7.9 0-2.4-7.5z"/>
<path class=b d="M790 374l3.2 3.2 3.2-3.2 3.2 3.2-3.2 3.2 3.2 3.2-3.2 3.2-3.2-3.2-3.2 3.2-3.2-3.2 3.2-3.2-3.2-3.2z"/>
<path class=b d="M774 356l3.2 3.2 3.2-3.2 3.2 3.2-3.2 3.2 3.2 3.2-3.2 3.2-3.2-3.2-3.2 3.2-3.2-3.2 3.2-3.2-3.2-3.2z"/>
<path class=d d="M321 355h13.6v13.6h-13.6z"/>
<path class=c d="M137 374h12.6l-6.3 12.6z"/>
<circle class=a cx=660 cy=562 r=7.1 />
<path class=d d="M390 482h13.6v13.6h-13.6z"/>
<path class=d d="M303 363h13.6v13.6h-13.6z"/>
<path class=e d="M429 605l6.4 4.6-2.4 7.5-7.9 0-2.4-7.5z"/>
<path class=d d="M460 486h13.6v13.6h-13.6z"/>
<path class=e d="M282 521l6.4 4.6-2.4 7.5-7.9 0-2.4-7.5z"/>
<path class=c d="M737 676h12.6l-6.3 12.6z"/>
<path class=b d="M380 748l3.2 3.2 3.2-3.2 3.2 3.2-3.2 3.2 3.2 3.2-3.2 3.2-3.2-3.2-3.2 3.2-3.2-3.2 3.2-3.2-3.2-3.2z"/>
<path class=e d="M321 610l6.4 4.6-2.4 7.5-7.9 0-2.4-7.5z"/>
<path class=e d="M766 484l6.4 4.6-2.4 7.5-7.9 0-2.4-7.5z"/>
<circle class=a cx=427 cy=345 r=7.1 />
<circle class=a cx=609 cy=547 r=7.1 />
<path class=b d="M175 575l3.2 3.2 3.2-3.2 3.2 3.2-3.2 3.2 3.2 3.2-3.2 3.2-3.2-3.2-3.2 3.2-3.2-3.2 3.2-3.2-3.2-3.2z"/>
<path class=d d="M341 348h13.6v13.6h-13.6z"/>
<path class=e d="M321 572l6.4 4.6-2.4 7.5-7.9 0-2.4-7.5z"/>
<path class=b d="M571 568l3.2 3.2 3.2-3.2 3.2 3.2-3.2 3.2 3.2 3.2-3.2 3.2-3.2-3.2-3.2 3.2-3.2-3.2 3.2-3.2-3.2-3.2z"/>
<path class=d d="M707 365h13.6v13.6h-13.6z"/>
<circle class=a cx=551 cy=367 r=7.1 />
<path class=e d="M826 554l6.4 4.6-2.4 7.5-7.9 0-2.4-7.5z"/>
<circle class=a cx=426 cy=366 r=7.1 />
<path class=b d="M586 565l3.2 3.2 3.2-3.2 3.2 3.2-3.2 3.2 3.2 3.2-3.2 3.2-3.2-3.2-3.2 3.2-3.2-3.2 3.2-3.2-3.2-3.2z"/>
<path class=b d="M467 759l3.2 3.2 3.2-3.2 3.2 3.2-3.2 3.2 3.2 3.2-3.2 3.2-3.2-3.2-3.2 3.2-3.2-3.2 3.2-3.2-3.2-3.2z"/>
<path class=b d="M384 739l3.2 3.2 3.2-3.2 3.2 3.2-3.2 3.2 3.2 3.2-3.2 3.2-3.2-3.2-3.2 3.2-3.2-3.2 3.2-3.2-3.2-3.2z"/>
<circle class=a cx=419 cy=566 r=7.1 />
<path class=b d="M439 720l3.2 3.2 3.2-3.2 3.2 3.2-3.2 3.2 3.2 3.2-3.2 3.2-3.2-3.2-3.2 3.2-3.2-3.2 3.2-3.2-3.2-3.2z"/>
<path class=b d="M361 750l3.2 3.2 3.2-3.2 3.2 3.2-3.2 3.2 3.2 3.2-3.2 3.2-3.2-3.2-3.2 3.2-3.2-3.2 3.2-3.2-3.2-3.2z"/>
<path class=d d="M445 559h13.6v13.6h-13.6z"/>
<path class=e d="M336 566l6.4 4.6-2.4 7.5-7.9 0-2.4-7.5z"/>
<path class=c d="M509 175h12.6l-6.3 12.6z"/>
<path class=e d="M847 511l6.4 4.6-2.4 7.5-7.9 0-2.4-7.5z"/>
<circle class=a cx=503 cy=441 r=7.1 />
<path class=e d="M782 546l6.4 4.6-2.4 7.5-7.9 0-2.4-7.5z"/>
<path class=b d="M468 757l3.2 3.2 3.2-3.2 3.2 3.2-3.2 3.2 3.2 3.2-3.2 3.2-3.2-3.2-3.2 3.2-3.2-3.2 3.2-3.2-3.2-3.2z"/>
<path class=d d="M580 303h13.6v13.6h-13.6z"/>
<path class=b d="M676 431l3.2 3.2 3.2-3.2 3.2 3.2-3.2 3.2 3.2 3.2-3.2 3.2-3.2-3.2-3.2 3.2-3.2-3.2 3.2-3.2-3.2-3.2z"/>
<path class=c d="M477 113h12.6l-6.3 12.6z"/>
<path class=c d="M597 150h12.6l-6.3 12.6z"/>
<path class=b d="M508 758l3.2 3.2 3.2-3.2 3.2 3.2-3.2 3.2 3.2 3.2-3.2 3.2-3.2-3.2-3.2 3.2-3.2-3.2 3.2-3.2-3.2-3.2z"/>
<path class=b d="M491 758l3.2 3.2 3.2-3.2 3.2 3.2-3.2 3.2 3.2 3.2-3.2 3.2-3.2-3.2-3.2 3.2-3.2-3.2 3.2-3.2-3.2-3.2z"/>
<circle class=a cx=425 cy=342 r=7.1 />
<path class=d d="M633 320h13.6v13.6h-13.6z"/>
<path class=d d="M704 357h13.6v13.6h-13.6z"/>
<circle class=a cx=494 cy=486 r=7.1 />
<path class=b d="M347 763l3.2 3.2 3.2-3.2 3.2 3.2-3.2 3.2 3.2 3.2-3.2 3.2-3.2-3.2-3.2 3.2-3.2-3.2 3.2-3.2-3.2-3.2z"/>
<path class=e d="M386 609l6.4 4.6-2.4 7.5-7.9 0-2.4-7.5z"/>
<path class=e d="M808 496l6.4 4.6-2.4 7.5-7.9 0-2.4-7.5z"/>
<path class=d d="M570 319h13.6v13.6h-13.6z"/>
<path class=e d="M779 498l6.4 4.6-2.4 7.5-7.9 0-2.4-7.5z"/>
<path class=e d="M315 498l6.4 4.6-2.4 7.5-7.9 0-2.4-7.5z"/>
<circle class=a cx=410 cy=442 r=7.1 />
<path class=e d="M370 542l6.4 4.6-2.4 7.5-7.9 0-2.4-7.5z"/>
<path class=c d="M372 152h12.6l-6.3 12.6z"/>
<path class=b d="M473 769l3.2 3.2 3.2-3.2 3.2 3.2-3.2 3.2 3.2 3.2-3.2 3.2-3.2-3.2-3.2 3.2-3.2-3.2 3.2-3.2-3.2-3.2z"/>
<path class=e d="M351 479l6.4 4.6-2.4 7.5-7.9 0-2.4-7.5z"/>
<path class=c d="M405 218h12.6l-6.3 12.6z"/>
<path class=d d="M696 377h13.6v13.6h-13.6z"/>
<path class=c d="M397 218h12.6l-6.3 12.6z"/>
<path class=d d="M444 408h13.6v13.6h-13.6z"/>
<circle class=a cx=413 cy=441 r=7.1 />
<circle class=a cx=701 cy=433 r=7.1 />
<path class=b d="M212 618l3.2 3.2 3.2-3.2 3.2 3.2-3.2 3.2 3.2 3.2-3.2 3.2-3.2-3.2-3.2 3.2-3.2-3.2 3.2-3.2-3.2-3.2z"/>
<path class=e d="M815 505l6.4 4.6-2.4 7.5-7.9 0-2.4-7.5z"/>
<circle class=a cx=589 cy=414 r=7.1 />
<path class=d d="M340 365h13.6v13.6h-13.6z"/>
<path class=e d="M348 473l6.4 4.6-2.4 7.5-7.9 0-2.4-7.5z"/>
<path class=e d="M770 491l6.4 4.6-2.4 7.5-7.9 0-2.4-7.5z"/>
<path class=b d="M613 556l3.2 3.2 3.2-3.2 3.2 3.2-3.2 3.2 3.2 3.2-3.2 3.2-3.2-3.2-3.2 3.2-3.2-3.2 3.2-3.2-3.2-3.2z"/>
<path class=e d="M400 609l6.4 4.6-2.4 7.5-7.9 0-2.4-7.5z"/>
<path class=e d="M723 475l6.4 4.6-2.4 7.5-7.9 0-2.4-7.5z"/>
<path class=e d="M315 488l6.4 4.6-2.4 7.5-7.9 0-2.4-7.5z"/>
<path class=c d="M153 464h12.6l-6.3 12.6z"/>
<path class=c d="M399 218h12.6l-6.3 12.6z"/>
<path class=c d="M640 714h12.6l-6.3 12.6z"/>
<circle class=a cx=613 cy=591 r=7.1 />
<path class=c d="M262 277h12.6l-6.3 12.6z"/>
<path class=b d="M763 382l3.2 3.2 3.2-3.2 3.2 3.2-3.2 3.2 3.2 3.2-3.2 3.2-3.2-3.2-3.2 3.2-3.2-3.2 3.2-3.2-3.2-3.2z"/>
<path class=b d="M774 353l3.2 3.2 3.2-3.2 3.2 3.2-3.2 3.2 3.2 3.2-3.2 3.2-3.2-3.2-3.2 3.2-3.2-3.2 3.2-3.2-3.2-3.2z"/>
<path class=d d="M504 540h13.6v13.6h-13.6z"/>
<path class=b d="M543 774l3.2 3.2 3.2-3.2 3.2 3.2-3.2 3.2 3.2 3.2-3.2 3.2-3.2-3.2-3.2 3.2-3.2-3.2 3.2-3.2-3.2-3.2z"/>
<circle class=a cx=630 cy=559 r=7.1 />
<path class=b d="M447 724l3.2 3.2 3.2-3.2 3.2 3.2-3.2 3.2 3.2 3.2-3.2 3.2-3.2-3.2-3.2 3.2-3.2-3.2 3.2-3.2-3.2-3.2z"/>
<path class=c d="M397 218h12.6l-6.3 12.6z"/>
<path class=d d="M568 469h13.6v13.6h-13.6z"/>
<path class=c d="M414 215h12.6l-6.3 12.6z"/>
<path class=d d="M575 311h13.6v13.6h-13.6z"/>
<path class=c d="M623 707h12.6l-6.3 12.6z"/>
<circle class=a cx=399 cy=573 r=7.1 />
<circle class=a cx=754 cy=425 r=7.1 />
<path class=b d="M402 723l3.2 3.2 3.2-3.2 3.2 3.2-3.2 3.2 3.2 3.2-3.2 3.2-3.2-3.2-3.2 3.2-3.2-3.2 3.2-3.2-3.2-3.2z"/>
<path class=c d="M166 457h12.6l-6.3 12.6z"/>
<path class=e d="M413 595l6.4 4.6-2.4 7.5-7.9 0-2.4-7.5z"/>
<path class=b d="M414 744l3.2 3.2 3.2-3.2 3.2 3.2-3.2 3.2 3.2 3.2-3.2 3.2-3.2-3.2-3.2 3.2-3.2-3.2 3.2-3.2-3.2-3.2z"/>
<path class=c d="M126 365h12.6l-6.3 12.6z"/>
<circle class=a cx=486 cy=327 r=7.1 />
<path class=b d="M194 584l3.2 3.2 3.2-3.2 3.2 3.2-3.2 3.2 3.2 3.2-3.2 3.2-3.2-3.2-3.2 3.2-3.2-3.2 3.2-3.2-3.2-3.2z"/>
<path class=b d="M460 729l3.2 3.2 3.2-3.2 3.2 3.2-3.2 3.2 3.2 3.2-3.2 3.2-3.2-3.2-3.2 3.2-3.2-3.2 3.2-3.2-3.2-3.2z"/>
<circle class=a cx=650 cy=496 r=7.1 />
<path class=e d="M750 532l6.4 4.6-2.4 7.5-7.9 0-2.4-7.5z"/>
<path class=e d="M347 535l6.4 4.6-2.4 7.5-7.9 0-2.4-7.5z"/>
<circle class=a cx=772 cy=407 r=7.1 />
<path class=e d="M303 601l6.4 4.6-2.4 7.5-7.9 0-2.4-7.5z"/>
<path class=d d="M439 381h13.6v13.6h-13.6z"/>
<path class=d d="M568 460h13.6v13.6h-13.6z"/>
<path class=c d="M352 156h12.6l-6.3 12.6z"/>
<path class=e d="M293 514l6.4 4.6-2.4 7.5-7.9 0-2.4-7.5z"/>
<circle class=a cx=523 cy=372 r=7.1 />
<path class=b d="M180 609l3.2 3.2 3.2-3.2 3.2 3.2-3.2 3.2 3.2 3.2-3.2 3.2-3.2-3.2-3.2 3.2-3.2-3.2 3.2-3.2-3.2-3.2z"/>
<path class=c d="M241 301h12.6l-6.3 12.6z"/>
<path class=c d="M643 179h12.6l-6.3 12.6z"/>
<path class=c d="M349 147h12.6l-6.3 12.6z"/>
<path class=e d="M815 560l6.4 4.6-2.4 7.5-7.9 0-2.4-7.5z"/>
<path class=b d="M567 319l3.2 3.2 3.2-3.2 3.2 3.2-3.2 3.2 3.2 3.2-3.2 3.2-3.2-3.2-3.2 3.2-3.2-3.2 3.2-3.2-3.2-3.2z"/>
<path class=c d="M223 302h12.6l-6.3 12.6z"/>
<path class=b d="M550 473l3.2 3.2 3.2-3.2 3.2 3.2-3.2 3.2 3.2 3.2-3.2 3.2-3.2-3.2-3.2 3.2-3.2-3.2 3.2-3.2-3.2-3.2z"/>
<path class=c d="M745 695h12.6l-6.3 12.6z"/>
<path class=c d="M141 368h12.6l-6.3 12.6z"/>
<circle class=a cx=424 cy=421 r=7.1 />
<circle class=a cx=423 cy=414 r=7.1 />
<path class=b d="M344 763l3.2 3.2 3.2-3.2 3.2 3.2-3.2 3.2 3.2 3.2-3.2 3.2-3.2-3.2-3.2 3.2-3.2-3.2 3.2-3.2-3.2-3.2z"/>
<path class=b d="M572 573l3.2 3.2 3.2-3.2 3.2 3.2-3.2 3.2 3.2 3.2-3.2 3.2-3.2-3.2-3.2 3.2-3.2-3.2 3.2-3.2-3.2-3.2z"/>
<circle class=a cx=431 cy=380 r=7.1 />
<path class=e d="M337 525l6.4 4.6-2.4 7.5-7.9 0-2.4-7.5z"/>
<path class=d d="M577 545h13.6v13.6h-13.6z"/>
<path class=b d="M571 579l3.2 3.2 3.2-3.2 3.2 3.2-3.2 3.2 3.2 3.2-3.2 3.2-3.2-3.2-3.2 3.2-3.2-3.2 3.2-3.2-3.2-3.2z"/>
<path class=d d="M599 347h13.6v13.6h-13.6z"/>
<path class=b d="M605 493l3.2 3.2 3.2-3.2 3.2 3.2-3.2 3.2 3.2 3.2-3.2 3.2-3.2-3.2-3.2 3.2-3.2-3.2 3.2-3.2-3.2-3.2z"/>
<path class=e d="M797 498l6.4 4.6-2.4 7.5-7.9 0-2.4-7.5z"/>
<path class=c d="M504 214h12.6l-6.3 12.6z"/>
<path class=c d="M384 193h12.6l-6.3 12.6z"/>
<circle class=a cx=375 cy=520 r=7.1 />
<path class=b d="M212 585l3.2 3.2 3.2-3.2 3.2 3.2-3.2 3.2 3.2 3.2-3.2 3.2-3.2-3.2-3.2 3.2-3.2-3.2 3.2-3.2-3.2-3.2z"/>
<path class=b d="M745 334l3.2 3.2 3.2-3.2 3.2 3.2-3.2 3.2 3.2 3.2-3.2 3.2-3.2-3.2-3.2 3.2-3.2-3.2 3.2-3.2-3.2-3.2z"/>
<path class=d d="M451 489h13.6v13.6h-13.6z"/>
<path class=e d="M355 615l6.4 4.6-2.4 7.5-7.9 0-2.4-7.5z"/>
<path class=c d="M629 678h12.6l-6.3 12.6z"/>
<path class=b d="M563 507l3.2 3.2 3.2-3.2 3.2 3.2-3.2 3.2 3.2 3.2-3.2 3.2-3.2-3.2-3.2 3.2-3.2-3.2 3.2-3.2-3.2-3.2z"/>
<path class=e d="M326 516l6.4 4.6-2.4 7.5-7.9 0-2.4-7.5z"/>
<path class=b d="M675 431l3.2 3.2 3.2-3.2 3.2 3.2-3.2 3.2 3.2 3.2-3.2 3.2-3.2-3.2-3.2 3.2-3.2-3.2 3.2-3.2-3.2-3.2z"/>
<path class=b d="M430 739l3.2 3.2 3.2-3.2 3.2 3.2-3.2 3.2 3.2 3.2-3.2 3.2-3.2-3.2-3.2 3.2-3.2-3.2 3.2-3.2-3.2-3.2z"/>
<circle class=a cx=564 cy=544 r=7.1 />
<path class=e d="M324 528l6.4 4.6-2.4 7.5-7.9 0-2.4-7.5z"/>
<circle class=a cx=671 cy=447 r=7.1 />
<path class=d d="M747 279h13.6v13.6h-13.6z"/>
<path class=d d="M506 407h13.6v13.6h-13.6z"/>
<circle class=a cx=422 cy=467 r=7.1 />
<circle class=a cx=658 cy=423 r=7.1 />
<path class=c d="M162 468h12.6l-6.3 12.6z"/>
<path class=d d="M595 347h13.6v13.6h-13.6z"/>
<path class=e d="M318 541l6.4 4.6-2.4 7.5-7.9 0-2.4-7.5z"/>
<path class=c d="M398 201h12.6l-6.3 12.6z"/>
<path class=d d="M612 491h13.6v13.6h-13.6z"/>
<path class=d d="M532 416h13.6v13.6h-13.6z"/>
<path class=b d="M550 477l3.2 3.2 3.2-3.2 3.2 3.2-3.2 3.2 3.2 3.2-3.2 3.2-3.2-3.2-3.2 3.2-3.2-3.2 3.2-3.2-3.2-3.2z"/>
<path class=b d="M566 321l3.2 3.2 3.2-3.2 3.2 3.2-3.2 3.2 3.2 3.2-3.2 3.2-3.2-3.2-3.2 3.2-3.2-3.2 3.2-3.2-3.2-3.2z"/>
<path class=c d="M575 669h12.6l-6.3 12.6z"/>
<path class=e d="M320 611l6.4 4.6-2.4 7.5-7.9 0-2.4-7.5z"/>
<path class=c d="M243 290h12.6l-6.3 12.6z"/>
<circle class=a cx=579 cy=493 r=7.1 />
<path class=b d="M565 567l3.2 3.2 3.2-3.2 3.2 3.2-3.2 3.2 3.2 3.2-3.2 3.2-3.2-3.2-3.2 3.2-3.2-3.2 3.2-3.2-3.2-3.2z"/>
<path class=e d="M343 595l6.4 4.6-2.4 7.5-7.9 0-2.4-7.5z"/>
<path class=e d="M782 481l6.4 4.6-2.4 7.5-7.9 0-2.4-7.5z"/>
<path class=d d="M523 570h13.6v13.6h-13.6z"/>
<path class=c d="M498 158h12.6l-6.3 12.6z"/>
<path class=c d="M168 480h12.6l-6.3 12.6z"/>
<path class=e d="M375 427l6.4 4.6-2.4 7.5-7.9 0-2.4-7.5z"/>
<path class=d d="M419 575h13.6v13.6h-13.6z"/>
<circle class=a cx=521 cy=540 r=7.1 />
<path class=e d="M359 539l6.4 4.6-2.4 7.5-7.9 0-2.4-7.5z"/>
<path class=d d="M635 322h13.6v13.6h-13.6z"/>
<path class=b d="M194 565l3.2 3.2 3.2-3.2 3.2 3.2-3.2 3.2 3.2 3.2-3.2 3.2-3.2-3.2-3.2 3.2-3.2-3.2 3.2-3.2-3.2-3.2z"/>
<path class=c d="M251 268h12.6l-6.3 12.6z"/>
<circle class=a cx=814 cy=439 r=7.1 />
<path class=d d="M636 305h13.6v13.6h-13.6z"/>
<circle class=a cx=577 cy=537 r=7.1 />
<path class=d d="M508 580h13.6v13.6h-13.6z"/>
<path class=e d="M827 510l6.4 4.6-2.4 7.5-7.9 0-2.4-7.5z"/>
<path class=c d="M406 215h12.6l-6.3 12.6z"/>
<path class=d d="M467 342h13.6v13.6h-13.6z"/>
<path class=b d="M174 596l3.2 3.2 3.2-3.2 3.2 3.2-3.2 3.2 3.2 3.2-3.2 3.2-3.2-3.2-3.2 3.2-3.2-3.2 3.2-3.2-3.2-3.2z"/>
<path class=d d="M634 531h13.6v13.6h-13.6z"/>
<path class=c d="M488 120h12.6l-6.3 12.6z"/>
<path class=e d="M812 546l6.4 4.6-2.4 7.5-7.9 0-2.4-7.5z"/>
<path class=c d="M574 675h12.6l-6.3 12.6z"/>
<circle class=a cx=667 cy=434 r=7.1 />
<path class=e d="M769 449l6.4 4.6-2.4 7.5-7.9 0-2.4-7.5z"/>
<path class=c d="M165 459h12.6l-6.3 12.6z"/>
<path class=b d="M472 699l3.2 3.2 3.2-3.2 3.2 3.2-3.2 3.2 3.2 3.2-3.2 3.2-3.2-3.2-3.2 3.2-3.2-3.2 3.2-3.2-3.2-3.2z"/>
<path class=c d="M380 178h12.6l-6.3 12.6z"/>
<path class=b d="M690 484l3.2 3.2 3.2-3.2 3.2 3.2-3.2 3.2 3.2 3.2-3.2 3.2-3.2-3.2-3.2 3.2-3.2-3.2 3.2-3.2-3.2-3.2z"/>
<path class=e d="M361 538l6.4 4.6-2.4 7.5-7.9 0-2.4-7.5z"/>
<path class=b d="M347 735l3.2 3.2 3.2-3.2 3.2 3.2-3.2 3.2 3.2 3.2-3.2 3.2-3.2-3.2-3.2 3.2-3.2-3.2 3.2-3.2-3.2-3.2z"/>
<circle class=a cx=471 cy=410 r=7.1 />
<circle class=a cx=493 cy=403 r=7.1 />
<path class=c d="M408 216h12.6l-6.3 12.6z"/>
<path class=d d="M822 307h13.6v13.6h-13.6z"/>
<path class=b d="M552 563l3.2 3.2 3.2-3.2 3.2 3.2-3.2 3.2 3.2 3.2-3.2 3.2-3.2-3.2-3.2 3.2-3.2-3.2 3.2-3.2-3.2-3.2z"/>
<circle class=a cx=462 cy=450 r=7.1 />
<path class=c d="M641 716h12.6l-6.3 12.6z"/>
<path class=b d="M557 465l3.2 3.2 3.2-3.2 3.2 3.2-3.2 3.2 3.2 3.2-3.2 3.2-3.2-3.2-3.2 3.2-3.2-3.2 3.2-3.2-3.2-3.2z"/>
<path class=b d="M766 341l3.2 3.2 3.2-3.2 3.2 3.2-3.2 3.2 3.2 3.2-3.2 3.2-3.2-3.2-3.2 3.2-3.2-3.2 3.2-3.2-3.2-3.2z"/>
<path class=e d="M350 536l6.4 4.6-2.4 7.5-7.9 0-2.4-7.5z"/>
<path class=c d="M177 449h12.6l-6.3 12.6z"/>
<path class=c d="M158 473h12.6l-6.3 12.6z"/>
<path class=e d="M321 600l6.4 4.6-2.4 7.5-7.9 0-2.4-7.5z"/>
<path class=d d="M401 347h13.6v13.6h-13.6z"/>
<path class=d d="M478 384h13.6v13.6h-13.6z"/>
<path class=d d="M494 449h13.6v13.6h-13.6z"/>
<path class=d d="M451 436h13.6v13.6h-13.6z"/>
<path class=b d="M518 815l3.2 3.2 3.2-3.2 3.2 3.2-3.2 3.2 3.2 3.2-3.2 3.2-3.2-3.2-3.2 3.2-3.2-3.2 3.2-3.2-3.2-3.2z"/>
<circle class=a cx=443 cy=356 r=7.1 />
<path class=c d="M493 161h12.6l-6.3 12.6z"/>
<circle class=a cx=661 cy=421 r=7.1 />
<path class=d d="M713 292h13.6v13.6h-13.6z"/>
<path class=e d="M829 515l6.4 4.6-2.4 7.5-7.9 0-2.4-7.5z"/>
<path class=c d="M609 160h12.6l-6.3 12.6z"/>
<path class=b d="M776 372l3.2 3.2 3.2-3.2 3.2 3.2-3.2 3.2 3.2 3.2-3.2 3.2-3.2-3.2-3.2 3.2-3.2-3.2 3.2-3.2-3.2-3.2z"/>
<path class=d d="M596 374h13.6v13.6h-13.6z"/>
<circle class=a cx=392 cy=404 r=7.1 />
<path class=b d="M198 588l3.2 3.2 3.2-3.2 3.2 3.2-3.2 3.2 3.2 3.2-3.2 3.2-3.2-3.2-3.2 3.2-3.2-3.2 3.2-3.2-3.2-3.2z"/>
<circle class=a cx=525 cy=371 r=7.1 />
<path class=b d="M610 553l3.2 3.2 3.2-3.2 3.2 3.2-3.2 3.2 3.2 3.2-3.2 3.2-3.2-3.2-3.2 3.2-3.2-3.2 3.2-3.2-3.2-3.2z"/>
<path class=d d="M409 400h13.6v13.6h-13.6z"/>
<path class=b d="M548 799l3.2 3.2 3.2-3.2 3.2 3.2-3.2 3.2 3.2 3.2-3.2 3.2-3.2-3.2-3.2 3.2-3.2-3.2 3.2-3.2-3.2-3.2z"/>
<path class=d d="M545 436h13.6v13.6h-13.6z"/>
<circle class=a cx=753 cy=402 r=7.1 />
<path class=b d="M561 466l3.2 3.2 3.2-3.2 3.2 3.2-3.2 3.2 3.2 3.2-3.2 3.2-3.2-3.2-3.2 3.2-3.2-3.2 3.2-3.2-3.2-3.2z"/>
<path class=d d="M562 427h13.6v13.6h-13.6z"/>
<circle class=a cx=713 cy=445 r=7.1 />
<path class=c d="M215 473h12.6l-6.3 12.6z"/>
<path class=b d="M187 580l3.2 3.2 3.2-3.2 3.2 3.2-3.2 3.2 3.2 3.2-3.2 3.2-3.2-3.2-3.2 3.2-3.2-3.2 3.2-3.2-3.2-3.2z"/>
<path class=c d="M497 173h12.6l-6.3 12.6z"/>
<path class=b d="M750 334l3.2 3.2 3.2-3.2 3.2 3.2-3.2 3.2 3.2 3.2-3.2 3.2-3.2-3.2-3.2 3.2-3.2-3.2 3.2-3.2-3.2-3.2z"/>
<path class=d d="M568 306h13.6v13.6h-13.6z"/>
<path class=c d="M148 363h12.6l-6.3 12.6z"/>
<circle class=a cx=556 cy=367 r=7.1 />
<path class=b d="M434 705l3.2 3.2 3.2-3.2 3.2 3.2-3.2 3.2 3.2 3.2-3.2 3.2-3.2-3.2-3.2 3.2-3.2-3.2 3.2-3.2-3.2-3.2z"/>
<path class=b d="M436 698l3.2 3.2 3.2-3.2 3.2 3.2-3.2 3.2 3.2 3.2-3.2 3.2-3.2-3.2-3.2 3.2-3.2-3.2 3.2-3.2-3.2-3.2z"/>
<path class=c d="M597 656h12.6l-6.3 12.6z"/>
<path class=c d="M146 377h12.6l-6.3 12.6z"/>
<path class=e d="M326 526l6.4 4.6-2.4 7.5-7.9 0-2.4-7.5z"/>
<circle class=a cx=638 cy=468 r=7.1 />
<circle class=a cx=713 cy=469 r=7.1 />
<path class=d d="M637 288h13.6v13.6h-13.6z"/>
<path class=e d="M758 536l6.4 4.6-2.4 7.5-7.9 0-2.4-7.5z"/>
<path class=e d="M380 600l6.4 4.6-2.4 7.5-7.9 0-2.4-7.5z"/>
<circle class=a cx=620 cy=507 r=7.1 />
<path class=c d="M602 668h12.6l-6.3 12.6z"/>
<path class=c d="M484 132h12.6l-6.3 12.6z"/>
<circle class=a cx=502 cy=495 r=7.1 />
<path class=d d="M699 378h13.6v13.6h-13.6z"/>
<circle class=a cx=696 cy=473 r=7.1 />
<path class=c d="M608 160h12.6l-6.3 12.6z"/>
<path class=d d="M421 587h13.6v13.6h-13.6z"/>
<path class=b d="M764 354l3.2 3.2 3.2-3.2 3.2 3.2-3.2 3.2 3.2 3.2-3.2 3.2-3.2-3.2-3.2 3.2-3.2-3.2 3.2-3.2-3.2-3.2z"/>
<path class=c d="M405 201h12.6l-6.3 12.6z"/>
<path class=e d="M817 563l6.4 4.6-2.4 7.5-7.9 0-2.4-7.5z"/>
<path class=b d="M586 530l3.2 3.2 3.2-3.2 3.2 3.2-3.2 3.2 3.2 3.2-3.2 3.2-3.2-3.2-3.2 3.2-3.2-3.2 3.2-3.2-3.2-3.2z"/>
<path class=d d="M810 319h13.6v13.6h-13.6z"/>
<path class=e d="M834 524l6.4 4.6-2.4 7.5-7.9 0-2.4-7.5z"/>
<path class=c d="M651 729h12.6l-6.3 12.6z"/>
<path class=d d="M569 457h13.6v13.6h-13.6z"/>
<path class=e d="M280 523l6.4 4.6-2.4 7.5-7.9 0-2.4-7.5z"/>
<path class=d d="M621 325h13.6v13.6h-13.6z"/>
<path class=b d="M455 688l3.2 3.2 3.2-3.2 3.2 3.2-3.2 3.2 3.2 3.2-3.2 3.2-3.2-3.2-3.2 3.2-3.2-3.2 3.2-3.2-3.2-3.2z"/>
<path class=d d="M676 473h13.6v13.6h-13.6z"/>
<path class=b d="M412 729l3.2 3.2 3.2-3.2 3.2 3.2-3.2 3.2 3.2 3.2-3.2 3.2-3.2-3.2-3.2 3.2-3.2-3.2 3.2-3.2-3.2-3.2z"/>
<path class=c d="M283 261h12.6l-6.3 12.6z"/>
<path class=d d="M672 481h13.6v13.6h-13.6z"/>
<path class=b d="M163 584l3.2 3.2 3.2-3.2 3.2 3.2-3.2 3.2 3.2 3.2-3.2 3.2-3.2-3.2-3.2 3.2-3.2-3.2 3.2-3.2-3.2-3.2z"/>
<path class=d d="M569 471h13.6v13.6h-13.6z"/>
<path class=b d="M185 576l3.2 3.2 3.2-3.2 3.2 3.2-3.2 3.2 3.2 3.2-3.2 3.2-3.2-3.2-3.2 3.2-3.2-3.2 3.2-3.2-3.2-3.2z"/>
<path class=d d="M559 273h13.6v13.6h-13.6z"/>
<path class=e d="M775 541l6.4 4.6-2.4 7.5-7.9 0-2.4-7.5z"/>
<path class=b d="M171 591l3.2 3.2 3.2-3.2 3.2 3.2-3.2 3.2 3.2 3.2-3.2 3.2-3.2-3.2-3.2 3.2-3.2-3.2 3.2-3.2-3.2-3.2z"/>
<path class=e d="M767 446l6.4 4.6-2.4 7.5-7.9 0-2.4-7.5z"/>
<path class=d d="M369 484h13.6v13.6h-13.6z"/>
<path class=d d="M691 341h13.6v13.6h-13.6z"/>
<path class=c d="M480 122h12.6l-6.3 12.6z"/>
<path class=b d="M166 580l3.2 3.2 3.2-3.2 3.2 3.2-3.2 3.2 3.2 3.2-3.2 3.2-3.2-3.2-3.2 3.2-3.2-3.2 3.2-3.2-3.2-3.2z"/>
<circle class=a cx=505 cy=438 r=7.1 />
<path class=b d="M540 762l3.2 3.2 3.2-3.2 3.2 3.2-3.2 3.2 3.2 3.2-3.2 3.2-3.2-3.2-3.2 3.2-3.2-3.2 3.2-3.2-3.2-3.2z"/>
<circle class=a cx=756 cy=428 r=7.1 />
<path class=d d="M419 575h13.6v13.6h-13.6z"/>
<circle class=a cx=441 cy=576 r=7.1 />
<path class=e d="M313 613l6.4 4.6-2.4 7.5-7.9 0-2.4-7.5z"/>
<circle class=a cx=722 cy=504 r=7.1 />
<path class=d d="M722 319h13.6v13.6h-13.6z"/>
<path class=c d="M397 217h12.6l-6.3 12.6z"/>
<path class=e d="M341 606l6.4 4.6-2.4 7.5-7.9 0-2.4-7.5z"/>
<path class=e d="M371 544l6.4 4.6-2.4 7.5-7.9 0-2.4-7.5z"/>
<path class=b d="M503 759l3.2 3.2 3.2-3.2 3.2 3.2-3.2 3.2 3.2 3.2-3.2 3.2-3.2-3.2-3.2 3.2-3.2-3.2 3.2-3.2-3.2-3.2z"/>
<path class=e d="M386 534l6.4 4.6-2.4 7.5-7.9 0-2.4-7.5z"/>
<circle class=a cx=780 cy=481 r=7.1 />
<path class=d d="M671 486h13.6v13.6h-13.6z"/>
<path class=b d="M343 760l3.2 3.2 3.2-3.2 3.2 3.2-3.2 3.2 3.2 3.2-3.2 3.2-3.2-3.2-3.2 3.2-3.2-3.2 3.2-3.2-3.2-3.2z"/>
<path class=c d="M169 472h12.6l-6.3 12.6z"/>
<path class=b d="M746 366l3.2 3.2 3.2-3.2 3.2 3.2-3.2 3.2 3.2 3.2-3.2 3.2-3.2-3.2-3.2 3.2-3.2-3.2 3.2-3.2-3.2-3.2z"/>
<circle class=a cx=820 cy=418 r=7.1 />
<path class=e d="M387 610l6.4 4.6-2.4 7.5-7.9 0-2.4-7.5z"/>
<path class=c d="M503 177h12.6l-6.3 12.6z"/>
<circle class=a cx=541 cy=351 r=7.1 />
<path class=b d="M567 572l3.2 3.2 3.2-3.2 3.2 3.2-3.2 3.2 3.2 3.2-3.2 3.2-3.2-3.2-3.2 3.2-3.2-3.2 3.2-3.2-3.2-3.2z"/>
<path class=e d="M796 499l6.4 4.6-2.4 7.5-7.9 0-2.4-7.5z"/>
<path class=d d="M475 481h13.6v13.6h-13.6z"/>
<path class=d d="M550 421h13.6v13.6h-13.6z"/>
<path class=c d="M383 219h12.6l-6.3 12.6z"/>
<path class=e d="M330 583l6.4 4.6-2.4 7.5-7.9 0-2.4-7.5z"/>
<path class=c d="M223 455h12.6l-6.3 12.6z"/>
<path class=c d="M409 201h12.6l-6.3 12.6z"/>
<path class=e d="M781 482l6.4 4.6-2.4 7.5-7.9 0-2.4-7.5z"/>
<path class=b d="M743 370l3.2 3.2 3.2-3.2 3.2 3.2-3.2 3.2 3.2 3.2-3.2 3.2-3.2-3.2-3.2 3.2-3.2-3.2 3.2-3.2-3.2-3.2z"/>
<circle class=a cx=708 cy=503 r=7.1 />
<path class=c d="M621 681h12.6l-6.3 12.6z"/>
<circle class=a cx=573 cy=537 r=7.1 />
<path class=d d="M502 525h13.6v13.6h-13.6z"/>
<path class=e d="M321 611l6.4 4.6-2.4 7.5-7.9 0-2.4-7.5z"/>
<path class=d d="M630 412h13.6v13.6h-13.6z"/>
<path class=c d="M220 446h12.6l-6.3 12.6z"/>
<circle class=a cx=693 cy=441 r=7.1 />
<path class=c d="M400 238h12.6l-6.3 12.6z"/>
<path class=d d="M386 481h13.6v13.6h-13.6z"/>
<path class=e d="M299 521l6.4 4.6-2.4 7.5-7.9 0-2.4-7.5z"/>
<path class=e d="M342 614l6.4 4.6-2.4 7.5-7.9 0-2.4-7.5z"/>
<path class=d d="M571 305h13.6v13.6h-13.6z"/>
<path class=e d="M413 604l6.4 4.6-2.4 7.5-7.9 0-2.4-7.5z"/>
<path class=d d="M452 555h13.6v13.6h-13.6z"/>
<path class=b d="M554 761l3.2 3.2 3.2-3.2 3.2 3.2-3.2 3.2 3.2 3.2-3.2 3.2-3.2-3.2-3.2 3.2-3.2-3.2 3.2-3.2-3.2-3.2z"/>
<path class=b d="M574 564l3.2 3.2 3.2-3.2 3.2 3.2-3.2 3.2 3.2 3.2-3.2 3.2-3.2-3.2-3.2 3.2-3.2-3.2 3.2-3.2-3.2-3.2z"/>
<path class=b d="M525 474l3.2 3.2 3.2-3.2 3.2 3.2-3.2 3.2 3.2 3.2-3.2 3.2-3.2-3.2-3.2 3.2-3.2-3.2 3.2-3.2-3.2-3.2z"/>
<circle class=a cx=572 cy=533 r=7.1 />
<path class=d d="M501 530h13.6v13.6h-13.6z"/>
<path class=b d="M563 766l3.2 3.2 3.2-3.2 3.2 3.2-3.2 3.2 3.2 3.2-3.2 3.2-3.2-3.2-3.2 3.2-3.2-3.2 3.2-3.2-3.2-3.2z"/>
<path class=b d="M452 737l3.2 3.2 3.2-3.2 3.2 3.2-3.2 3.2 3.2 3.2-3.2 3.2-3.2-3.2-3.2 3.2-3.2-3.2 3.2-3.2-3.2-3.2z"/>
<path class=d d="M797 466h13.6v13.6h-13.6z"/>
<circle class=a cx=561 cy=499 r=7.1 />
<path class=c d="M259 278h12.6l-6.3 12.6z"/>
<path class=d d="M625 382h13.6v13.6h-13.6z"/>
<path class=c d="M510 178h12.6l-6.3 12.6z"/>
<path class=d d="M390 406h13.6v13.6h-13.6z"/>
<path class=b d="M559 810l3.2 3.2 3.2-3.2 3.2 3.2-3.2 3.2 3.2 3.2-3.2 3.2-3.2-3.2-3.2 3.2-3.2-3.2 3.2-3.2-3.2-3.2z"/>
<path class=b d="M516 821l3.2 3.2 3.2-3.2 3.2 3.2-3.2 3.2 3.2 3.2-3.2 3.2-3.2-3.2-3.2 3.2-3.2-3.2 3.2-3.2-3.2-3.2z"/>
<path class=e d="M795 524l6.4 4.6-2.4 7.5-7.9 0-2.4-7.5z"/>
<path class=c d="M233 302h12.6l-6.3 12.6z"/>
<path class=b d="M602 489l3.2 3.2 3.2-3.2 3.2 3.2-3.2 3.2 3.2 3.2-3.2 3.2-3.2-3.2-3.2 3.2-3.2-3.2 3.2-3.2-3.2-3.2z"/>
<path class=c d="M151 464h12.6l-6.3 12.6z"/>
<path class=c d="M172 465h12.6l-6.3 12.6z"/>
<path class=b d="M174 595l3.2 3.2 3.2-3.2 3.2 3.2-3.2 3.2 3.2 3.2-3.2 3.2-3.2-3.2-3.2 3.2-3.2-3.2 3.2-3.2-3.2-3.2z"/>
<path class=d d="M697 378h13.6v13.6h-13.6z"/>
<path class=e d="M767 486l6.4 4.6-2.4 7.5-7.9 0-2.4-7.5z"/>
<path class=e d="M315 497l6.4 4.6-2.4 7.5-7.9 0-2.4-7.5z"/>
<circle class=a cx=418 cy=364 r=7.1 />
<path class=b d="M657 523l3.2 3.2 3.2-3.2 3.2 3.2-3.2 3.2 3.2 3.2-3.2 3.2-3.2-3.2-3.2 3.2-3.2-3.2 3.2-3.2-3.2-3.2z"/>
<path class=d d="M651 351h13.6v13.6h-13.6z"/>
<path class=c d="M638 671h12.6l-6.3 12.6z"/>
<path class=b d="M212 616l3.2 3.2 3.2-3.2 3.2 3.2-3.2 3.2 3.2 3.2-3.2 3.2-3.2-3.2-3.2 3.2-3.2-3.2 3.2-3.2-3.2-3.2z"/>
<path class=b d="M415 562l3.2 3.2 3.2-3.2 3.2 3.2-3.2 3.2 3.2 3.2-3.2 3.2-3.2-3.2-3.2 3.2-3.2-3.2 3.2-3.2-3.2-3.2z"/>
<path class=c d="M664 699h12.6l-6.3 12.6z"/>
<path class=c d="M226 452h12.6l-6.3 12.6z"/>
<path class=c d="M639 698h12.6l-6.3 12.6z"/>
<circle class=a cx=481 cy=376 r=7.1 />
<path class=b d="M513 806l3.2 3.2 3.2-3.2 3.2 3.2-3.2 3.2 3.2 3.2-3.2 3.2-3.2-3.2-3.2 3.2-3.2-3.2 3.2-3.2-3.2-3.2z"/>
<path class=b d="M551 458l3.2 3.2 3.2-3.2 3.2 3.2-3.2 3.2 3.2 3.2-3.2 3.2-3.2-3.2-3.2 3.2-3.2-3.2 3.2-3.2-3.2-3.2z"/>
<circle class=a cx=410 cy=443 r=7.1 />
<path class=b d="M752 360l3.2 3.2 3.2-3.2 3.2 3.2-3.2 3.2 3.2 3.2-3.2 3.2-3.2-3.2-3.2 3.2-3.2-3.2 3.2-3.2-3.2-3.2z"/>
<path class=b d="M198 586l3.2 3.2 3.2-3.2 3.2 3.2-3.2 3.2 3.2 3.2-3.2 3.2-3.2-3.2-3.2 3.2-3.2-3.2 3.2-3.2-3.2-3.2z"/>
<circle class=a cx=511 cy=483 r=7.1 />
<path class=e d="M837 561l6.4 4.6-2.4 7.5-7.9 0-2.4-7.5z"/>
<path class=e d="M316 539l6.4 4.6-2.4 7.5-7.9 0-2.4-7.5z"/>
<circle class=a cx=439 cy=329 r=7.1 />
<circle class=a cx=649 cy=496 r=7.1 />
<path class=b d="M741 349l3.2 3.2 3.2-3.2 3.2 3.2-3.2 3.2 3.2 3.2-3.2 3.2-3.2-3.2-3.2 3.2-3.2-3.2 3.2-3.2-3.2-3.2z"/>
<path class=b d="M182 614l3.2 3.2 3.2-3.2 3.2 3.2-3.2 3.2 3.2 3.2-3.2 3.2-3.2-3.2-3.2 3.2-3.2-3.2 3.2-3.2-3.2-3.2z"/>
<path class=d d="M592 311h13.6v13.6h-13.6z"/>
<path class=c d="M501 213h12.6l-6.3 12.6z"/>
<path class=c d="M658 703h12.6l-6.3 12.6z"/>
<path class=e d="M725 473l6.4 4.6-2.4 7.5-7.9 0-2.4-7.5z"/>
<path class=b d="M522 823l3.2 3.2 3.2-3.2 3.2 3.2-3.2 3.2 3.2 3.2-3.2 3.2-3.2-3.2-3.2 3.2-3.2-3.2 3.2-3.2-3.2-3.2z"/>
<path class=c d="M155 453h12.6l-6.3 12.6z"/>
<path class=c d="M284 243h12.6l-6.3 12.6z"/>
<path class=c d="M374 206h12.6l-6.3 12.6z"/>
<path class=b d="M538 783l3.2 3.2 3.2-3.2 3.2 3.2-3.2 3.2 3.2 3.2-3.2 3.2-3.2-3.2-3.2 3.2-3.2-3.2 3.2-3.2-3.2-3.2z"/>
<path class=b d="M160 604l3.2 3.2 3.2-3.2 3.2 3.2-3.2 3.2 3.2 3.2-3.2 3.2-3.2-3.2-3.2 3.2-3.2-3.2 3.2-3.2-3.2-3.2z"/>
<path class=b d="M524 780l3.2 3.2 3.2-3.2 3.2 3.2-3.2 3.2 3.2 3.2-3.2 3.2-3.2-3.2-3.2 3.2-3.2-3.2 3.2-3.2-3.2-3.2z"/>
<path class=c d="M494 187h12.6l-6.3 12.6z"/>
<path class=b d="M161 612l3.2 3.2 3.2-3.2 3.2 3.2-3.2 3.2 3.2 3.2-3.2 3.2-3.2-3.2-3.2 3.2-3.2-3.2 3.2-3.2-3.2-3.2z"/>
<circle class=a cx=541 cy=348 r=7.1 />
<path class=e d="M829 569l6.4 4.6-2.4 7.5-7.9 0-2.4-7.5z"/>
<path class=c d="M468 104h12.6l-6.3 12.6z"/>
<path class=e d="M859 547l6.4 4.6-2.4 7.5-7.9 0-2.4-7.5z"/>
<path class=e d="M784 482l6.4 4.6-2.4 7.5-7.9 0-2.4-7.5z"/>
<path class=c d="M228 447h12.6l-6.3 12.6z"/>
<path class=d d="M407 481h13.6v13.6h-13.6z"/>
<path class=c d="M666 169h12.6l-6.3 12.6z"/>
<path class=d d="M310 376h13.6v13.6h-13.6z"/>
<path class=c d="M220 447h12.6l-6.3 12.6z"/>
<circle class=a cx=384 cy=477 r=7.1 />
<circle class=a cx=553 cy=513 r=7.1 />
<path class=c d="M601 157h12.6l-6.3 12.6z"/>
<circle class=a cx=804 cy=421 r=7.1 />
<path class=c d="M572 674h12.6l-6.3 12.6z"/>
<path class=d d="M494 539h13.6v13.6h-13.6z"/>
<path class=e d="M323 565l6.4 4.6-2.4 7.5-7.9 0-2.4-7.5z"/>
<path class=e d="M764 527l6.4 4.6-2.4 7.5-7.9 0-2.4-7.5z"/>
<path class=c d="M249 275h12.6l-6.3 12.6z"/>
<path class=e d="M351 449l6.4 4.6-2.4 7.5-7.9 0-2.4-7.5z"/>
<path class=d d="M441 380h13.6v13.6h-13.6z"/>
<path class=e d="M796 536l6.4 4.6-2.4 7.5-7.9 0-2.4-7.5z"/>
<path class=e d="M323 574l6.4 4.6-2.4 7.5-7.9 0-2.4-7.5z"/>
<circle class=a cx=430 cy=383 r=7.1 />
<path class=c d="M125 364h12.6l-6.3 12.6z"/>
<path class=d d="M620 490h13.6v13.6h-13.6z"/>
<path class=d d="M491 381h13.6v13.6h-13.6z"/>
<path class=b d="M411 564l3.2 3.2 3.2-3.2 3.2 3.2-3.2 3.2 3.2 3.2-3.2 3.2-3.2-3.2-3.2 3.2-3.2-3.2 3.2-3.2-3.2-3.2z"/>
<path class=c d="M619 142h12.6l-6.3 12.6z"/>
<path class=c d="M659 187h12.6l-6.3 12.6z"/>
<path class=c d="M260 274h12.6l-6.3 12.6z"/>
<circle class=a cx=401 cy=377 r=7.1 />
<path class=c d="M654 180h12.6l-6.3 12.6z"/>
<path class=d d="M416 479h13.6v13.6h-13.6z"/>
<path class=e d="M773 564l6.4 4.6-2.4 7.5-7.9 0-2.4-7.5z"/>
<path class=d d="M529 413h13.6v13.6h-13.6z"/>
<circle class=a cx=426 cy=477 r=7.1 />
<path class=c d="M497 160h12.6l-6.3 12.6z"/>
<path class=d d="M603 315h13.6v13.6h-13.6z"/>
<circle class=a cx=606 cy=431 r=7.1 />
<path class=e d="M757 538l6.4 4.6-2.4 7.5-7.9 0-2.4-7.5z"/>
<path class=e d="M769 495l6.4 4.6-2.4 7.5-7.9 0-2.4-7.5z"/>
<path class=b d="M695 324l3.2 3.2 3.2-3.2 3.2 3.2-3.2 3.2 3.2 3.2-3.2 3.2-3.2-3.2-3.2 3.2-3.2-3.2 3.2-3.2-3.2-3.2z"/>
<path class=d d="M725 307h13.6v13.6h-13.6z"/>
<circle class=a cx=638 cy=446 r=7.1 />
<path class=e d="M768 557l6.4 4.6-2.4 7.5-7.9 0-2.4-7.5z"/>
<path class=c d="M287 252h12.6l-6.3 12.6z"/>
<circle class=a cx=566 cy=492 r=7.1 />
<path class=c d="M136 359h12.6l-6.3 12.6z"/>
<circle class=a cx=448 cy=451 r=7.1 />
<path class=e d="M766 494l6.4 4.6-2.4 7.5-7.9 0-2.4-7.5z"/>
<path class=d d="M602 312h13.6v13.6h-13.6z"/>
<path class=e d="M751 535l6.4 4.6-2.4 7.5-7.9 0-2.4-7.5z"/>
<path class=c d="M371 153h12.6l-6.3 12.6z"/>
<path class=e d="M293 529l6.4 4.6-2.4 7.5-7.9 0-2.4-7.5z"/>
<path class=c d="M221 304h12.6l-6.3 12.6z"/>
<path class=e d="M808 485l6.4 4.6-2.4 7.5-7.9 0-2.4-7.5z"/>
<path class=d d="M704 364h13.6v13.6h-13.6z"/>
<path class=e d="M759 525l6.4 4.6-2.4 7.5-7.9 0-2.4-7.5z"/>
<path class=d d="M618 288h13.6v13.6h-13.6z"/>
<path class=e d="M348 482l6.4 4.6-2.4 7.5-7.9 0-2.4-7.5z"/>
<circle class=a cx=493 cy=320 r=7.1 />
<circle class=a cx=531 cy=433 r=7.1 />
<path class=e d="M385 510l6.4 4.6-2.4 7.5-7.9 0-2.4-7.5z"/>
<path class=e d="M311 616l6.4 4.6-2.4 7.5-7.9 0-2.4-7.5z"/>
<path class=d d="M495 371h13.6v13.6h-13.6z"/>
<path class=b d="M178 601l3.2 3.2 3.2-3.2 3.2 3.2-3.2 3.2 3.2 3.2-3.2 3.2-3.2-3.2-3.2 3.2-3.2-3.2 3.2-3.2-3.2-3.2z"/>
<path class=b d="M434 738l3.2 3.2 3.2-3.2 3.2 3.2-3.2 3.2 3.2 3.2-3.2 3.2-3.2-3.2-3.2 3.2-3.2-3.2 3.2-3.2-3.2-3.2z"/>
<path class=b d="M474 717l3.2 3.2 3.2-3.2 3.2 3.2-3.2 3.2 3.2 3.2-3.2 3.2-3.2-3.2-3.2 3.2-3.2-3.2 3.2-3.2-3.2-3.2z"/>
<path class=e d="M353 628l6.4 4.6-2.4 7.5-7.9 0-2.4-7.5z"/>
<path class=c d="M143 363h12.6l-6.3 12.6z"/>
<path class=c d="M510 196h12.6l-6.3 12.6z"/>
<circle class=a cx=636 cy=445 r=7.1 />
<path class=c d="M497 171h12.6l-6.3 12.6z"/>
<path class=e d="M360 578l6.4 4.6-2.4 7.5-7.9 0-2.4-7.5z"/>
<path class=b d="M734 357l3.2 3.2 3.2-3.2 3.2 3.2-3.2 3.2 3.2 3.2-3.2 3.2-3.2-3.2-3.2 3.2-3.2-3.2 3.2-3.2-3.2-3.2z"/>
<path class=c d="M596 148h12.6l-6.3 12.6z"/>
<path class=b d="M523 783l3.2 3.2 3.2-3.2 3.2 3.2-3.2 3.2 3.2 3.2-3.2 3.2-3.2-3.2-3.2 3.2-3.2-3.2 3.2-3.2-3.2-3.2z"/>
<path class=d d="M578 542h13.6v13.6h-13.6z"/>
<path class=c d="M630 697h12.6l-6.3 12.6z"/>
<circle class=a cx=415 cy=372 r=7.1 />
<path class=b d="M468 720l3.2 3.2 3.2-3.2 3.2 3.2-3.2 3.2 3.2 3.2-3.2 3.2-3.2-3.2-3.2 3.2-3.2-3.2 3.2-3.2-3.2-3.2z"/>
<path class=b d="M636 556l3.2 3.2 3.2-3.2 3.2 3.2-3.2 3.2 3.2 3.2-3.2 3.2-3.2-3.2-3.2 3.2-3.2-3.2 3.2-3.2-3.2-3.2z"/>
<path class=b d="M464 699l3.2 3.2 3.2-3.2 3.2 3.2-3.2 3.2 3.2 3.2-3.2 3.2-3.2-3.2-3.2 3.2-3.2-3.2 3.2-3.2-3.2-3.2z"/>
<path class=c d="M175 469h12.6l-6.3 12.6z"/>
<path class=e d="M340 567l6.4 4.6-2.4 7.5-7.9 0-2.4-7.5z"/>
<path class=c d="M493 189h12.6l-6.3 12.6z"/>
<circle class=a cx=563 cy=547 r=7.1 />
<path class=e d="M337 462l6.4 4.6-2.4 7.5-7.9 0-2.4-7.5z"/>
<path class=d d="M460 485h13.6v13.6h-13.6z"/>
<path class=e d="M324 633l6.4 4.6-2.4 7.5-7.9 0-2.4-7.5z"/>
<path class=b d="M181 565l3.2 3.2 3.2-3.2 3.2 3.2-3.2 3.2 3.2 3.2-3.2 3.2-3.2-3.2-3.2 3.2-3.2-3.2 3.2-3.2-3.2-3.2z"/>
<path class=c d="M152 370h12.6l-6.3 12.6z"/>
<path class=e d="M769 482l6.4 4.6-2.4 7.5-7.9 0-2.4-7.5z"/>
<path class=d d="M570 464h13.6v13.6h-13.6z"/>
<circle class=a cx=429 cy=348 r=7.1 />
<circle class=a cx=371 cy=373 r=7.1 />
<path class=e d="M856 538l6.4 4.6-2.4 7.5-7.9 0-2.4-7.5z"/>
<path class=d d="M746 288h13.6v13.6h-13.6z"/>
<path class=b d="M477 765l3.2 3.2 3.2-3.2 3.2 3.2-3.2 3.2 3.2 3.2-3.2 3.2-3.2-3.2-3.2 3.2-3.2-3.2 3.2-3.2-3.2-3.2z"/>
<path class=e d="M325 624l6.4 4.6-2.4 7.5-7.9 0-2.4-7.5z"/>
<path class=c d="M291 246h12.6l-6.3 12.6z"/>
<path class=c d="M747 690h12.6l-6.3 12.6z"/>
<path class=d d="M497 444h13.6v13.6h-13.6z"/>
<path class=c d="M284 252h12.6l-6.3 12.6z"/>
<path class=b d="M630 568l3.2 3.2 3.2-3.2 3.2 3.2-3.2 3.2 3.2 3.2-3.2 3.2-3.2-3.2-3.2 3.2-3.2-3.2 3.2-3.2-3.2-3.2z"/>
<circle class=a cx=717 cy=446 r=7.1 />
<path class=c d="M224 292h12.6l-6.3 12.6z"/>
<path class=b d="M408 732l3.2 3.2 3.2-3.2 3.2 3.2-3.2 3.2 3.2 3.2-3.2 3.2-3.2-3.2-3.2 3.2-3.2-3.2 3.2-3.2-3.2-3.2z"/>
<circle class=a cx=663 cy=418 r=7.1 />
<path class=b d="M394 767l3.2 3.2 3.2-3.2 3.2 3.2-3.2 3.2 3.2 3.2-3.2 3.2-3.2-3.2-3.2 3.2-3.2-3.2 3.2-3.2-3.2-3.2z"/>
<path class=c d="M257 269h12.6l-6.3 12.6z"/>
<path class=d d="M724 363h13.6v13.6h-13.6z"/>
<path class=c d="M666 175h12.6l-6.3 12.6z"/>
<circle class=a cx=479 cy=398 r=7.1 />
<path class=e d="M312 534l6.4 4.6-2.4 7.5-7.9 0-2.4-7.5z"/>
<circle class=a cx=649 cy=491 r=7.1 />
<path class=c d="M497 158h12.6l-6.3 12.6z"/>
<path class=e d="M332 576l6.4 4.6-2.4 7.5-7.9 0-2.4-7.5z"/>
<path class=c d="M497 199h12.6l-6.3 12.6z"/>
<path class=c d="M384 221h12.6l-6.3 12.6z"/>
<path class=e d="M759 524l6.4 4.6-2.4 7.5-7.9 0-2.4-7.5z"/>
<path class=d d="M603 303h13.6v13.6h-13.6z"/>
<path class=c d="M515 166h12.6l-6.3 12.6z"/>
<path class=b d="M351 742l3.2 3.2 3.2-3.2 3.2 3.2-3.2 3.2 3.2 3.2-3.2 3.2-3.2-3.2-3.2 3.2-3.2-3.2 3.2-3.2-3.2-3.2z"/>
<circle class=a cx=412 cy=445 r=7.1 />
<circle class=a cx=637 cy=446 r=7.1 />
<path class=d d="M473 484h13.6v13.6h-13.6z"/>
<circle class=a cx=424 cy=422 r=7.1 />
<circle class=a cx=558 cy=521 r=7.1 />
<circle class=a cx=384 cy=501 r=7.1 />
<path class=c d="M749 686h12.6l-6.3 12.6z"/>
<path class=c d="M233 304h12.6l-6.3 12.6z"/>
<path class=b d="M394 766l3.2 3.2 3.2-3.2 3.2 3.2-3.2 3.2 3.2 3.2-3.2 3.2-3.2-3.2-3.2 3.2-3.2-3.2 3.2-3.2-3.2-3.2z"/>
<path class=d d="M572 455h13.6v13.6h-13.6z"/>
<path class=c d="M643 715h12.6l-6.3 12.6z"/>
<path class=c d="M366 161h12.6l-6.3 12.6z"/>
<path class=b d="M408 750l3.2 3.2 3.2-3.2 3.2 3.2-3.2 3.2 3.2 3.2-3.2 3.2-3.2-3.2-3.2 3.2-3.2-3.2 3.2-3.2-3.2-3.2z"/>
<path class=d d="M663 358h13.6v13.6h-13.6z"/>
<path class=d d="M297 377h13.6v13.6h-13.6z"/>
<path class=d d="M478 450h13.6v13.6h-13.6z"/>
<path class=d d="M649 359h13.6v13.6h-13.6z"/>
<path class=c d="M603 151h12.6l-6.3 12.6z"/>
<path class=b d="M213 621l3.2 3.2 3.2-3.2 3.2 3.2-3.2 3.2 3.2 3.2-3.2 3.2-3.2-3.2-3.2 3.2-3.2-3.2 3.2-3.2-3.2-3.2z"/>
<path class=c d="M395 197h12.6l-6.3 12.6z"/>
<path class=b d="M438 720l3.2 3.2 3.2-3.2 3.2 3.2-3.2 3.2 3.2 3.2-3.2 3.2-3.2-3.2-3.2 3.2-3.2-3.2 3.2-3.2-3.2-3.2z"/>
<path class=b d="M412 570l3.2 3.2 3.2-3.2 3.2 3.2-3.2 3.2 3.2 3.2-3.2 3.2-3.2-3.2-3.2 3.2-3.2-3.2 3.2-3.2-3.2-3.2z"/>
<path class=e d="M348 481l6.4 4.6-2.4 7.5-7.9 0-2.4-7.5z"/>
<path class=d d="M518 393h13.6v13.6h-13.6z"/>
<path class=e d="M331 555l6.4 4.6-2.4 7.5-7.9 0-2.4-7.5z"/>
<path class=d d="M442 532h13.6v13.6h-13.6z"/>
<path class=c d="M250 284h12.6l-6.3 12.6z"/>
<path class=d d="M418 578h13.6v13.6h-13.6z"/>
<path class=d d="M465 561h13.6v13.6h-13.6z"/>
<path class=e d="M330 573l6.4 4.6-2.4 7.5-7.9 0-2.4-7.5z"/>
<circle class=a cx=405 cy=426 r=7.1 />
<path class=c d="M199 465h12.6l-6.3 12.6z"/>
<path class=b d="M502 806l3.2 3.2 3.2-3.2 3.2 3.2-3.2 3.2 3.2 3.2-3.2 3.2-3.2-3.2-3.2 3.2-3.2-3.2 3.2-3.2-3.2-3.2z"/>
<path class=b d="M546 802l3.2 3.2 3.2-3.2 3.2 3.2-3.2 3.2 3.2 3.2-3.2 3.2-3.2-3.2-3.2 3.2-3.2-3.2 3.2-3.2-3.2-3.2z"/>
<circle class=a cx=557 cy=524 r=7.1 />
<path class=e d="M362 535l6.4 4.6-2.4 7.5-7.9 0-2.4-7.5z"/>
<path class=e d="M374 452l6.4 4.6-2.4 7.5-7.9 0-2.4-7.5z"/>
<path class=e d="M299 524l6.4 4.6-2.4 7.5-7.9 0-2.4-7.5z"/>
<path class=e d="M293 530l6.4 4.6-2.4 7.5-7.9 0-2.4-7.5z"/>
<path class=b d="M772 426l3.2 3.2 3.2-3.2 3.2 3.2-3.2 3.2 3.2 3.2-3.2 3.2-3.2-3.2-3.2 3.2-3.2-3.2 3.2-3.2-3.2-3.2z"/>
<path class=e d="M314 549l6.4 4.6-2.4 7.5-7.9 0-2.4-7.5z"/>
<path class=b d="M792 407l3.2 3.2 3.2-3.2 3.2 3.2-3.2 3.2 3.2 3.2-3.2 3.2-3.2-3.2-3.2 3.2-3.2-3.2 3.2-3.2-3.2-3.2z"/>
<path class=e d="M316 542l6.4 4.6-2.4 7.5-7.9 0-2.4-7.5z"/>
<path class=e d="M344 537l6.4 4.6-2.4 7.5-7.9 0-2.4-7.5z"/>
<path class=e d="M371 545l6.4 4.6-2.4 7.5-7.9 0-2.4-7.5z"/>
<path class=e d="M354 447l6.4 4.6-2.4 7.5-7.9 0-2.4-7.5z"/>
<path class=e d="M344 545l6.4 4.6-2.4 7.5-7.9 0-2.4-7.5z"/>
<path class=e d="M313 484l6.4 4.6-2.4 7.5-7.9 0-2.4-7.5z"/>
<path class=e d="M351 446l6.4 4.6-2.4 7.5-7.9 0-2.4-7.5z"/>
<path class=b d="M745 439l3.2 3.2 3.2-3.2 3.2 3.2-3.2 3.2 3.2 3.2-3.2 3.2-3.2-3.2-3.2 3.2-3.2-3.2 3.2-3.2-3.2-3.2z"/>
<path class=e d="M326 529l6.4 4.6-2.4 7.5-7.9 0-2.4-7.5z"/>
<path class=e d="M347 545l6.4 4.6-2.4 7.5-7.9 0-2.4-7.5z"/>
<path class=b d="M785 452l3.2 3.2 3.2-3.2 3.2 3.2-3.2 3.2 3.2 3.2-3.2 3.2-3.2-3.2-3.2 3.2-3.2-3.2 3.2-3.2-3.2-3.2z"/>
<path class=b d="M792 448l3.2 3.2 3.2-3.2 3.2 3.2-3.2 3.2 3.2 3.2-3.2 3.2-3.2-3.2-3.2 3.2-3.2-3.2 3.2-3.2-3.2-3.2z"/>
<path class=e d="M298 520l6.4 4.6-2.4 7.5-7.9 0-2.4-7.5z"/>
<path class=e d="M347 544l6.4 4.6-2.4 7.5-7.9 0-2.4-7.5z"/>
<path class=b d="M778 454l3.2 3.2 3.2-3.2 3.2 3.2-3.2 3.2 3.2 3.2-3.2 3.2-3.2-3.2-3.2 3.2-3.2-3.2 3.2-3.2-3.2-3.2z"/>
<path class=e d="M321 521l6.4 4.6-2.4 7.5-7.9 0-2.4-7.5z"/>
<path class=e d="M346 534l6.4 4.6-2.4 7.5-7.9 0-2.4-7.5z"/>
<path class=b d="M790 451l3.2 3.2 3.2-3.2 3.2 3.2-3.2 3.2 3.2 3.2-3.2 3.2-3.2-3.2-3.2 3.2-3.2-3.2 3.2-3.2-3.2-3.2z"/>
<path class=e d="M383 506l6.4 4.6-2.4 7.5-7.9 0-2.4-7.5z"/>
<path class=e d="M370 451l6.4 4.6-2.4 7.5-7.9 0-2.4-7.5z"/>
<path class=b d="M755 437l3.2 3.2 3.2-3.2 3.2 3.2-3.2 3.2 3.2 3.2-3.2 3.2-3.2-3.2-3.2 3.2-3.2-3.2 3.2-3.2-3.2-3.2z"/>
<path class=e d="M316 542l6.4 4.6-2.4 7.5-7.9 0-2.4-7.5z"/>
<path class=e d="M312 535l6.4 4.6-2.4 7.5-7.9 0-2.4-7.5z"/>
<path class=b d="M772 393l3.2 3.2 3.2-3.2 3.2 3.2-3.2 3.2 3.2 3.2-3.2 3.2-3.2-3.2-3.2 3.2-3.2-3.2 3.2-3.2-3.2-3.2z"/>
<path class=e d="M310 532l6.4 4.6-2.4 7.5-7.9 0-2.4-7.5z"/>
<path class=b d="M767 394l3.2 3.2 3.2-3.2 3.2 3.2-3.2 3.2 3.2 3.2-3.2 3.2-3.2-3.2-3.2 3.2-3.2-3.2 3.2-3.2-3.2-3.2z"/>
<path class=e d="M365 538l6.4 4.6-2.4 7.5-7.9 0-2.4-7.5z"/>
<path class=e d="M343 490l6.4 4.6-2.4 7.5-7.9 0-2.4-7.5z"/>
<path class=e d="M349 537l6.4 4.6-2.4 7.5-7.9 0-2.4-7.5z"/>
<path class=b d="M745 437l3.2 3.2 3.2-3.2 3.2 3.2-3.2 3.2 3.2 3.2-3.2 3.2-3.2-3.2-3.2 3.2-3.2-3.2 3.2-3.2-3.2-3.2z"/>
<path class=e d="M378 529l6.4 4.6-2.4 7.5-7.9 0-2.4-7.5z"/>
<path class=e d="M311 536l6.4 4.6-2.4 7.5-7.9 0-2.4-7.5z"/>
<path class=b d="M782 446l3.2 3.2 3.2-3.2 3.2 3.2-3.2 3.2 3.2 3.2-3.2 3.2-3.2-3.2-3.2 3.2-3.2-3.2 3.2-3.2-3.2-3.2z"/>
<path class=e d="M384 506l6.4 4.6-2.4 7.5-7.9 0-2.4-7.5z"/>
<path class=e d="M339 526l6.4 4.6-2.4 7.5-7.9 0-2.4-7.5z"/>
<path class=b d="M777 427l3.2 3.2 3.2-3.2 3.2 3.2-3.2 3.2 3.2 3.2-3.2 3.2-3.2-3.2-3.2 3.2-3.2-3.2 3.2-3.2-3.2-3.2z"/>
<path class=b d="M755 389l3.2 3.2 3.2-3.2 3.2 3.2-3.2 3.2 3.2 3.2-3.2 3.2-3.2-3.2-3.2 3.2-3.2-3.2 3.2-3.2-3.2-3.2z"/>
<path class=b d="M743 436l3.2 3.2 3.2-3.2 3.2 3.2-3.2 3.2 3.2 3.2-3.2 3.2-3.2-3.2-3.2 3.2-3.2-3.2 3.2-3.2-3.2-3.2z"/>
<path class=e d="M373 451l6.4 4.6-2.4 7.5-7.9 0-2.4-7.5z"/>
<path class=e d="M345 543l6.4 4.6-2.4 7.5-7.9 0-2.4-7.5z"/>
<path class=b d="M792 401l3.2 3.2 3.2-3.2 3.2 3.2-3.2 3.2 3.2 3.2-3.2 3.2-3.2-3.2-3.2 3.2-3.2-3.2 3.2-3.2-3.2-3.2z"/>
<path class=b d="M755 385l3.2 3.2 3.2-3.2 3.2 3.2-3.2 3.2 3.2 3.2-3.2 3.2-3.2-3.2-3.2 3.2-3.2-3.2 3.2-3.2-3.2-3.2z"/>
<path class=e d="M376 428l6.4 4.6-2.4 7.5-7.9 0-2.4-7.5z"/>
<path class=e d="M279 522l6.4 4.6-2.4 7.5-7.9 0-2.4-7.5z"/>
<path class=e d="M340 460l6.4 4.6-2.4 7.5-7.9 0-2.4-7.5z"/>
<path class=e d="M344 541l6.4 4.6-2.4 7.5-7.9 0-2.4-7.5z"/>
<path class=b d="M794 408l3.2 3.2 3.2-3.2 3.2 3.2-3.2 3.2 3.2 3.2-3.2 3.2-3.2-3.2-3.2 3.2-3.2-3.2 3.2-3.2-3.2-3.2z"/>
<path class=e d="M323 518l6.4 4.6-2.4 7.5-7.9 0-2.4-7.5z"/>
<path class=e d="M316 542l6.4 4.6-2.4 7.5-7.9 0-2.4-7.5z"/>
<path class=e d="M324 514l6.4 4.6-2.4 7.5-7.9 0-2.4-7.5z"/>
<path class=e d="M372 540l6.4 4.6-2.4 7.5-7.9 0-2.4-7.5z"/>
<path class=e d="M316 551l6.4 4.6-2.4 7.5-7.9 0-2.4-7.5z"/>
<path class=b d="M759 389l3.2 3.2 3.2-3.2 3.2 3.2-3.2 3.2 3.2 3.2-3.2 3.2-3.2-3.2-3.2 3.2-3.2-3.2 3.2-3.2-3.2-3.2z"/>
<path class=e d="M297 530l6.4 4.6-2.4 7.5-7.9 0-2.4-7.5z"/>
<path class=e d="M385 531l6.4 4.6-2.4 7.5-7.9 0-2.4-7.5z"/>
<path class=e d="M294 536l6.4 4.6-2.4 7.5-7.9 0-2.4-7.5z"/>
<path class=e d="M295 534l6.4 4.6-2.4 7.5-7.9 0-2.4-7.5z"/>
<path class=e d="M378 530l6.4 4.6-2.4 7.5-7.9 0-2.4-7.5z"/>
<path class=e d="M400 475l6.4 4.6-2.4 7.5-7.9 0-2.4-7.5z"/>
<path class=e d="M340 492l6.4 4.6-2.4 7.5-7.9 0-2.4-7.5z"/>
<path class=b d="M791 453l3.2 3.2 3.2-3.2 3.2 3.2-3.2 3.2 3.2 3.2-3.2 3.2-3.2-3.2-3.2 3.2-3.2-3.2 3.2-3.2-3.2-3.2z"/>
<path class=b d="M759 415l3.2 3.2 3.2-3.2 3.2 3.2-3.2 3.2 3.2 3.2-3.2 3.2-3.2-3.2-3.2 3.2-3.2-3.2 3.2-3.2-3.2-3.2z"/>
<path class=e d="M353 446l6.4 4.6-2.4 7.5-7.9 0-2.4-7.5z"/>
<path class=b d="M765 395l3.2 3.2 3.2-3.2 3.2 3.2-3.2 3.2 3.2 3.2-3.2 3.2-3.2-3.2-3.2 3.2-3.2-3.2 3.2-3.2-3.2-3.2z"/>
<path class=e d="M382 435l6.4 4.6-2.4 7.5-7.9 0-2.4-7.5z"/>
<path class=e d="M311 533l6.4 4.6-2.4 7.5-7.9 0-2.4-7.5z"/>
<path class=e d="M362 532l6.4 4.6-2.4 7.5-7.9 0-2.4-7.5z"/>
<path class=e d="M349 475l6.4 4.6-2.4 7.5-7.9 0-2.4-7.5z"/>
<path class=b d="M796 444l3.2 3.2 3.2-3.2 3.2 3.2-3.2 3.2 3.2 3.2-3.2 3.2-3.2-3.2-3.2 3.2-3.2-3.2 3.2-3.2-3.2-3.2z"/>
<path class=b d="M756 413l3.2 3.2 3.2-3.2 3.2 3.2-3.2 3.2 3.2 3.2-3.2 3.2-3.2-3.2-3.2 3.2-3.2-3.2 3.2-3.2-3.2-3.2z"/>
<path class=b d="M753 431l3.2 3.2 3.2-3.2 3.2 3.2-3.2 3.2 3.2 3.2-3.2 3.2-3.2-3.2-3.2 3.2-3.2-3.2 3.2-3.2-3.2-3.2z"/>
<path class=e d="M381 438l6.4 4.6-2.4 7.5-7.9 0-2.4-7.5z"/>
<path class=e d="M335 465l6.4 4.6-2.4 7.5-7.9 0-2.4-7.5z"/>
<path class=e d="M339 489l6.4 4.6-2.4 7.5-7.9 0-2.4-7.5z"/>
<path class=b d="M771 425l3.2 3.2 3.2-3.2 3.2 3.2-3.2 3.2 3.2 3.2-3.2 3.2-3.2-3.2-3.2 3.2-3.2-3.2 3.2-3.2-3.2-3.2z"/>
<path class=e d="M325 527l6.4 4.6-2.4 7.5-7.9 0-2.4-7.5z"/>
<path class=b d="M797 443l3.2 3.2 3.2-3.2 3.2 3.2-3.2 3.2 3.2 3.2-3.2 3.2-3.2-3.2-3.2 3.2-3.2-3.2 3.2-3.2-3.2-3.2z"/>
<path class=b d="M801 444l3.2 3.2 3.2-3.2 3.2 3.2-3.2 3.2 3.2 3.2-3.2 3.2-3.2-3.2-3.2 3.2-3.2-3.2 3.2-3.2-3.2-3.2z"/>
<path class=d d="M781 295h13.6v13.6h-13.6z"/>
<path class=b d="M783 452l3.2 3.2 3.2-3.2 3.2 3.2-3.2 3.2 3.2 3.2-3.2 3.2-3.2-3.2-3.2 3.2-3.2-3.2 3.2-3.2-3.2-3.2z"/>
<path class=d d="M761 375h13.6v13.6h-13.6z"/>
<path class=d d="M777 294h13.6v13.6h-13.6z"/>
<path class=d d="M779 317h13.6v13.6h-13.6z"/>
<path class=b d="M747 434l3.2 3.2 3.2-3.2 3.2 3.2-3.2 3.2 3.2 3.2-3.2 3.2-3.2-3.2-3.2 3.2-3.2-3.2 3.2-3.2-3.2-3.2z"/>
<path class=b d="M756 415l3.2 3.2 3.2-3.2 3.2 3.2-3.2 3.2 3.2 3.2-3.2 3.2-3.2-3.2-3.2 3.2-3.2-3.2 3.2-3.2-3.2-3.2z"/>
<path class=d d="M764 372h13.6v13.6h-13.6z"/>
<path class=b d="M757 415l3.2 3.2 3.2-3.2 3.2 3.2-3.2 3.2 3.2 3.2-3.2 3.2-3.2-3.2-3.2 3.2-3.2-3.2 3.2-3.2-3.2-3.2z"/>
<path class=d d="M736 382h13.6v13.6h-13.6z"/>
<path class=b d="M771 424l3.2 3.2 3.2-3.2 3.2 3.2-3.2 3.2 3.2 3.2-3.2 3.2-3.2-3.2-3.2 3.2-3.2-3.2 3.2-3.2-3.2-3.2z"/>
<path class=d d="M781 303h13.6v13.6h-13.6z"/>
<path class=d d="M735 387h13.6v13.6h-13.6z"/>
<path class=d d="M780 303h13.6v13.6h-13.6z"/>
<path class=b d="M766 397l3.2 3.2 3.2-3.2 3.2 3.2-3.2 3.2 3.2 3.2-3.2 3.2-3.2-3.2-3.2 3.2-3.2-3.2 3.2-3.2-3.2-3.2z"/>
<path class=b d="M788 404l3.2 3.2 3.2-3.2 3.2 3.2-3.2 3.2 3.2 3.2-3.2 3.2-3.2-3.2-3.2 3.2-3.2-3.2 3.2-3.2-3.2-3.2z"/>
<path class=b d="M807 421l3.2 3.2 3.2-3.2 3.2 3.2-3.2 3.2 3.2 3.2-3.2 3.2-3.2-3.2-3.2 3.2-3.2-3.2 3.2-3.2-3.2-3.2z"/>
<path class=b d="M798 446l3.2 3.2 3.2-3.2 3.2 3.2-3.2 3.2 3.2 3.2-3.2 3.2-3.2-3.2-3.2 3.2-3.2-3.2 3.2-3.2-3.2-3.2z"/>
<path class=b d="M767 395l3.2 3.2 3.2-3.2 3.2 3.2-3.2 3.2 3.2 3.2-3.2 3.2-3.2-3.2-3.2 3.2-3.2-3.2 3.2-3.2-3.2-3.2z"/>
<path class=b d="M742 438l3.2 3.2 3.2-3.2 3.2 3.2-3.2 3.2 3.2 3.2-3.2 3.2-3.2-3.2-3.2 3.2-3.2-3.2 3.2-3.2-3.2-3.2z"/>
<path class=b d="M806 421l3.2 3.2 3.2-3.2 3.2 3.2-3.2 3.2 3.2 3.2-3.2 3.2-3.2-3.2-3.2 3.2-3.2-3.2 3.2-3.2-3.2-3.2z"/>
<path class=b d="M791 404l3.2 3.2 3.2-3.2 3.2 3.2-3.2 3.2 3.2 3.2-3.2 3.2-3.2-3.2-3.2 3.2-3.2-3.2 3.2-3.2-3.2-3.2z"/>
<path class=d d="M761 375h13.6v13.6h-13.6z"/>
<path class=b d="M754 435l3.2 3.2 3.2-3.2 3.2 3.2-3.2 3.2 3.2 3.2-3.2 3.2-3.2-3.2-3.2 3.2-3.2-3.2 3.2-3.2-3.2-3.2z"/>
<path class=d d="M776 316h13.6v13.6h-13.6z"/>
<path class=b d="M753 438l3.2 3.2 3.2-3.2 3.2 3.2-3.2 3.2 3.2 3.2-3.2 3.2-3.2-3.2-3.2 3.2-3.2-3.2 3.2-3.2-3.2-3.2z"/>
<path class=d d="M761 372h13.6v13.6h-13.6z"/>
<path class=b d="M796 455l3.2 3.2 3.2-3.2 3.2 3.2-3.2 3.2 3.2 3.2-3.2 3.2-3.2-3.2-3.2 3.2-3.2-3.2 3.2-3.2-3.2-3.2z"/>
<path class=b d="M754 413l3.2 3.2 3.2-3.2 3.2 3.2-3.2 3.2 3.2 3.2-3.2 3.2-3.2-3.2-3.2 3.2-3.2-3.2 3.2-3.2-3.2-3.2z"/>
<path class=b d="M791 455l3.2 3.2 3.2-3.2 3.2 3.2-3.2 3.2 3.2 3.2-3.2 3.2-3.2-3.2-3.2 3.2-3.2-3.2 3.2-3.2-3.2-3.2z"/>
<path class=b d="M804 425l3.2 3.2 3.2-3.2 3.2 3.2-3.2 3.2 3.2 3.2-3.2 3.2-3.2-3.2-3.2 3.2-3.2-3.2 3.2-3.2-3.2-3.2z"/>
<path class=b d="M808 428l3.2 3.2 3.2-3.2 3.2 3.2-3.2 3.2 3.2 3.2-3.2 3.2-3.2-3.2-3.2 3.2-3.2-3.2 3.2-3.2-3.2-3.2z"/>
<path class=b d="M788 453l3.2 3.2 3.2-3.2 3.2 3.2-3.2 3.2 3.2 3.2-3.2 3.2-3.2-3.2-3.2 3.2-3.2-3.2 3.2-3.2-3.2-3.2z"/>
<path class=d d="M764 369h13.6v13.6h-13.6z"/>
<path class=b d="M806 427l3.2 3.2 3.2-3.2 3.2 3.2-3.2 3.2 3.2 3.2-3.2 3.2-3.2-3.2-3.2 3.2-3.2-3.2 3.2-3.2-3.2-3.2z"/>
<path class=d d="M790 295h13.6v13.6h-13.6z"/>
<path class=d d="M735 386h13.6v13.6h-13.6z"/>
<path class=d d="M741 308h13.6v13.6h-13.6z"/>
<path class=b d="M773 431l3.2 3.2 3.2-3.2 3.2 3.2-3.2 3.2 3.2 3.2-3.2 3.2-3.2-3.2-3.2 3.2-3.2-3.2 3.2-3.2-3.2-3.2z"/>
<path class=b d="M757 439l3.2 3.2 3.2-3.2 3.2 3.2-3.2 3.2 3.2 3.2-3.2 3.2-3.2-3.2-3.2 3.2-3.2-3.2 3.2-3.2-3.2-3.2z"/>
<path class=b d="M781 449l3.2 3.2 3.2-3.2 3.2 3.2-3.2 3.2 3.2 3.2-3.2 3.2-3.2-3.2-3.2 3.2-3.2-3.2 3.2-3.2-3.2-3.2z"/>
<path class=d d="M763 374h13.6v13.6h-13.6z"/>
<path class=d d="M742 307h13.6v13.6h-13.6z"/>
<path class=d d="M743 311h13.6v13.6h-13.6z"/>
<path class=d d="M766 311h13.6v13.6h-13.6z"/>
<path class=d d="M767 307h13.6v13.6h-13.6z"/>
<path class=d d="M777 296h13.6v13.6h-13.6z"/>
<path class=d d="M755 300h13.6v13.6h-13.6z"/>
<path class=d d="M788 294h13.6v13.6h-13.6z"/>
<path class=d d="M736 384h13.6v13.6h-13.6z"/>
<path class=d d="M753 299h13.6v13.6h-13.6z"/>
<path class=d d="M736 384h13.6v13.6h-13.6z"/>
<path class=d d="M760 374h13.6v13.6h-13.6z"/>
<path class=d d="M756 301h13.6v13.6h-13.6z"/>
<path class=d d="M791 296h13.6v13.6h-13.6z"/>
<path class=d d="M768 314h13.6v13.6h-13.6z"/>
<path class=d d="M779 303h13.6v13.6h-13.6z"/>
<path class=d d="M736 384h13.6v13.6h-13.6z"/>
<path class=d d="M776 317h13.6v13.6h-13.6z"/>
<path class=d d="M762 371h13.6v13.6h-13.6z"/>
<path class=d d="M762 369h13.6v13.6h-13.6z"/>
</g>
<rect x="111.7" y="91.7" width="148.5" height="271.7" rx="6" fill="#fff" fill-opacity="0.8" stroke="#cccccc" stroke-opacity="0.8" stroke-width="2"/>
<g stroke="#fff" stroke-width="1">
<circle cx="162.3" cy="123.1" r="8.80" fill="#1f77b4"/>
<path d="M157.9 165.9L162.3 170.3L166.7 165.9L171.1 170.3L166.7 174.7L171.1 179.1L166.7 183.5L162.3 179.1L157.9 183.5L153.5 179.1L157.9 174.7L153.5 170.3Z" fill="#ff7f0e"/>
<path d="M162.3 234.4L153.5 216.8L171.1 216.8Z" fill="#2ca02c"/>
<rect x="153.5" y="270.8" width="17.6" height="17.6" fill="#d62728"/>
<path d="M162.3 323.3L170.7 329.4L167.5 339.2L157.1 339.2L153.9 329.4Z" fill="#9467bd"/>
</g>
<text x="236.6" y="131.8" class="t" text-anchor="middle">0</text>
<text x="236.6" y="183.4" class="t" text-anchor="middle">1</text>
<text x="236.6" y="234.3" class="t" text-anchor="middle">2</text>
<text x="236.6" y="288.3" class="t" text-anchor="middle">3</text>
<text x="236.6" y="340.8" class="t" text-anchor="middle">4</text>
<rect x="94.8" y="72.6" width="803.2" height="796.4" fill="none" stroke="#333" stroke-width="2.4"/>
<line x1="148.1" y1="869.0" x2="148.1" y2="878.0" stroke="#262626" stroke-width="2"/>
<text x="146.6" y="911.6" class="t" text-anchor="middle">−100</text>
<line x1="330.2" y1="869.0" x2="330.2" y2="878.0" stroke="#262626" stroke-width="2"/>
<text x="328.7" y="911.6" class="t" text-anchor="middle">−50</text>
<line x1="512.3" y1="869.0" x2="512.3" y2="878.0" stroke="#262626" stroke-width="2"/>
<text x="512.3" y="911.6" class="t" text-anchor="middle">0</text>
<line x1="694.4" y1="869.0" x2="694.4" y2="878.0" stroke="#262626" stroke-width="2"/>
<text x="694.4" y="911.6" class="t" text-anchor="middle">50</text>
<line x1="876.5" y1="869.0" x2="876.5" y2="878.0" stroke="#262626" stroke-width="2"/>
<text x="876.5" y="911.6" class="t" text-anchor="middle">100</text>
<line x1="85.8" y1="833.1" x2="94.8" y2="833.1" stroke="#262626" stroke-width="2"/>
<text x="77.2" y="846.2" class="t" text-anchor="end">−100</text>
<line x1="85.8" y1="743.3" x2="94.8" y2="743.3" stroke="#262626" stroke-width="2"/>
<text x="77.2" y="756.4" class="t" text-anchor="end">−75</text>
<line x1="85.8" y1="653.5" x2="94.8" y2="653.5" stroke="#262626" stroke-width="2"/>
<text x="77.2" y="666.6" class="t" text-anchor="end">−50</text>
<line x1="85.8" y1="563.6" x2="94.8" y2="563.6" stroke="#262626" stroke-width="2"/>
<text x="77.2" y="576.7" class="t" text-anchor="end">−25</text>
<line x1="85.8" y1="473.8" x2="94.8" y2="473.8" stroke="#262626" stroke-width="2"/>
<text x="77.2" y="486.9" class="t" text-anchor="end">0</text>
<line x1="85.8" y1="384.0" x2="94.8" y2="384.0" stroke="#262626" stroke-width="2"/>
<text x="77.2" y="397.1" class="t" text-anchor="end">25</text>
<line x1="85.8" y1="294.1" x2="94.8" y2="294.1" stroke="#262626" stroke-width="2"/>
<text x="77.2" y="307.2" class="t" text-anchor="end">50</text>
<line x1="85.8" y1="204.3" x2="94.8" y2="204.3" stroke="#262626" stroke-width="2"/>
<text x="77.2" y="217.4" class="t" text-anchor="end">75</text>
<line x1="85.8" y1="114.5" x2="94.8" y2="114.5" stroke="#262626" stroke-width="2"/>
<text x="77.2" y="127.6" class="t" text-anchor="end">100</text>
<text x="495.2" y="57.9" class="ti" text-anchor="middle">Actual Data</text>
<g clip-path="url(#clipb)" stroke="#fff" stroke-width="1.3" stroke-linejoin="miter">
<path class=e d="M1478 334l6.4 4.6-2.4 7.5-7.9 0-2.4-7.5z"/>
<path class=e d="M1522 352l6.4 4.6-2.4 7.5-7.9 0-2.4-7.5z"/>
<path class=e d="M1346 593l6.4 4.6-2.4 7.5-7.9 0-2.4-7.5z"/>
<path class=b d="M1597 439l6.4 4.6-2.4 7.5-7.9 0-2.4-7.5z"/>
<path class=e d="M1506 346l6.4 4.6-2.4 7.5-7.9 0-2.4-7.5z"/>
<path class=e d="M1386 336l6.4 4.6-2.4 7.5-7.9 0-2.4-7.5z"/>
<path class=e d="M1608 386l6.4 4.6-2.4 7.5-7.9 0-2.4-7.5z"/>
<path class=e d="M1383 552l6.4 4.6-2.4 7.5-7.9 0-2.4-7.5z"/>
<path class=e d="M1498 336l6.4 4.6-2.4 7.5-7.9 0-2.4-7.5z"/>
<path class=e d="M1348 592l6.4 4.6-2.4 7.5-7.9 0-2.4-7.5z"/>
<path class=e d="M1523 349l6.4 4.6-2.4 7.5-7.9 0-2.4-7.5z"/>
<path class=e d="M1646 442l6.4 4.6-2.4 7.5-7.9 0-2.4-7.5z"/>
<path class=e d="M1512 346l6.4 4.6-2.4 7.5-7.9 0-2.4-7.5z"/>
<path class=e d="M1387 579l6.4 4.6-2.4 7.5-7.9 0-2.4-7.5z"/>
<path class=b d="M1598 441l6.4 4.6-2.4 7.5-7.9 0-2.4-7.5z"/>
<path class=e d="M1521 351l6.4 4.6-2.4 7.5-7.9 0-2.4-7.5z"/>
<path class=e d="M1365 378l6.4 4.6-2.4 7.5-7.9 0-2.4-7.5z"/>
<path class=e d="M1511 341l6.4 4.6-2.4 7.5-7.9 0-2.4-7.5z"/>
<path class=e d="M1522 350l6.4 4.6-2.4 7.5-7.9 0-2.4-7.5z"/>
<path class=a d="M1622 475l6.4 4.6-2.4 7.5-7.9 0-2.4-7.5z"/>
<path class=a d="M1624 473l6.4 4.6-2.4 7.5-7.9 0-2.4-7.5z"/>
<path class=e d="M1378 362l6.4 4.6-2.4 7.5-7.9 0-2.4-7.5z"/>
<path class=e d="M1389 480l6.4 4.6-2.4 7.5-7.9 0-2.4-7.5z"/>
<path class=e d="M1385 584l6.4 4.6-2.4 7.5-7.9 0-2.4-7.5z"/>
<path class=e d="M1492 558l6.4 4.6-2.4 7.5-7.9 0-2.4-7.5z"/>
<path class=e d="M1469 343l6.4 4.6-2.4 7.5-7.9 0-2.4-7.5z"/>
<path class=e d="M1510 359l6.4 4.6-2.4 7.5-7.9 0-2.4-7.5z"/>
<path class=e d="M1519 351l6.4 4.6-2.4 7.5-7.9 0-2.4-7.5z"/>
<path class=e d="M1664 474l6.4 4.6-2.4 7.5-7.9 0-2.4-7.5z"/>
<path class=e d="M1360 382l6.4 4.6-2.4 7.5-7.9 0-2.4-7.5z"/>
<path class=e d="M1547 573l6.4 4.6-2.4 7.5-7.9 0-2.4-7.5z"/>
<path class=e d="M1538 345l6.4 4.6-2.4 7.5-7.9 0-2.4-7.5z"/>
<path class=e d="M1377 321l6.4 4.6-2.4 7.5-7.9 0-2.4-7.5z"/>
<path class=e d="M1387 591l6.4 4.6-2.4 7.5-7.9 0-2.4-7.5z"/>
<path class=e d="M1370 489l6.4 4.6-2.4 7.5-7.9 0-2.4-7.5z"/>
<path class=e d="M1384 522l6.4 4.6-2.4 7.5-7.9 0-2.4-7.5z"/>
<path class=e d="M1471 343l6.4 4.6-2.4 7.5-7.9 0-2.4-7.5z"/>
<path class=e d="M1526 558l6.4 4.6-2.4 7.5-7.9 0-2.4-7.5z"/>
<path class=e d="M1509 363l6.4 4.6-2.4 7.5-7.9 0-2.4-7.5z"/>
<path class=e d="M1379 426l6.4 4.6-2.4 7.5-7.9 0-2.4-7.5z"/>
<path class=e d="M1480 330l6.4 4.6-2.4 7.5-7.9 0-2.4-7.5z"/>
<path class=e d="M1390 587l6.4 4.6-2.4 7.5-7.9 0-2.4-7.5z"/>
<path class=e d="M1645 445l6.4 4.6-2.4 7.5-7.9 0-2.4-7.5z"/>
<path class=e d="M1610 377l6.4 4.6-2.4 7.5-7.9 0-2.4-7.5z"/>
<path class=e d="M1658 472l6.4 4.6-2.4 7.5-7.9 0-2.4-7.5z"/>
<path class=e d="M1364 383l6.4 4.6-2.4 7.5-7.9 0-2.4-7.5z"/>
<path class=e d="M1485 353l6.4 4.6-2.4 7.5-7.9 0-2.4-7.5z"/>
<path class=e d="M1544 574l6.4 4.6-2.4 7.5-7.9 0-2.4-7.5z"/>
<path class=e d="M1644 444l6.4 4.6-2.4 7.5-7.9 0-2.4-7.5z"/>
<path class=e d="M1353 574l6.4 4.6-2.4 7.5-7.9 0-2.4-7.5z"/>
<path class=e d="M1509 355l6.4 4.6-2.4 7.5-7.9 0-2.4-7.5z"/>
<path class=e d="M1378 362l6.4 4.6-2.4 7.5-7.9 0-2.4-7.5z"/>
<path class=e d="M1380 365l6.4 4.6-2.4 7.5-7.9 0-2.4-7.5z"/>
<path class=e d="M1584 404l6.4 4.6-2.4 7.5-7.9 0-2.4-7.5z"/>
<path class=e d="M1491 553l6.4 4.6-2.4 7.5-7.9 0-2.4-7.5z"/>
<path class=e d="M1389 582l6.4 4.6-2.4 7.5-7.9 0-2.4-7.5z"/>
<path class=e d="M1378 428l6.4 4.6-2.4 7.5-7.9 0-2.4-7.5z"/>
<path class=e d="M1522 350l6.4 4.6-2.4 7.5-7.9 0-2.4-7.5z"/>
<path class=e d="M1519 352l6.4 4.6-2.4 7.5-7.9 0-2.4-7.5z"/>
<path class=e d="M1489 351l6.4 4.6-2.4 7.5-7.9 0-2.4-7.5z"/>
<path class=e d="M1366 382l6.4 4.6-2.4 7.5-7.9 0-2.4-7.5z"/>
<path class=e d="M1598 376l6.4 4.6-2.4 7.5-7.9 0-2.4-7.5z"/>
<path class=e d="M1389 587l6.4 4.6-2.4 7.5-7.9 0-2.4-7.5z"/>
<path class=e d="M1513 353l6.4 4.6-2.4 7.5-7.9 0-2.4-7.5z"/>
<path class=b d="M1596 443l6.4 4.6-2.4 7.5-7.9 0-2.4-7.5z"/>
<path class=e d="M1370 492l6.4 4.6-2.4 7.5-7.9 0-2.4-7.5z"/>
<path class=e d="M1488 557l6.4 4.6-2.4 7.5-7.9 0-2.4-7.5z"/>
<path class=e d="M1437 436l6.4 4.6-2.4 7.5-7.9 0-2.4-7.5z"/>
<path class=e d="M1372 494l6.4 4.6-2.4 7.5-7.9 0-2.4-7.5z"/>
<path class=e d="M1587 403l6.4 4.6-2.4 7.5-7.9 0-2.4-7.5z"/>
<path class=e d="M1366 381l6.4 4.6-2.4 7.5-7.9 0-2.4-7.5z"/>
<path class=e d="M1475 331l6.4 4.6-2.4 7.5-7.9 0-2.4-7.5z"/>
<path class=e d="M1437 332l6.4 4.6-2.4 7.5-7.9 0-2.4-7.5z"/>
<path class=e d="M1371 491l6.4 4.6-2.4 7.5-7.9 0-2.4-7.5z"/>
<path class=e d="M1364 386l6.4 4.6-2.4 7.5-7.9 0-2.4-7.5z"/>
<path class=e d="M1374 490l6.4 4.6-2.4 7.5-7.9 0-2.4-7.5z"/>
<path class=e d="M1658 470l6.4 4.6-2.4 7.5-7.9 0-2.4-7.5z"/>
<path class=e d="M1361 593l6.4 4.6-2.4 7.5-7.9 0-2.4-7.5z"/>
<path class=e d="M1659 473l6.4 4.6-2.4 7.5-7.9 0-2.4-7.5z"/>
<path class=e d="M1380 320l6.4 4.6-2.4 7.5-7.9 0-2.4-7.5z"/>
<path class=b d="M1595 374l6.4 4.6-2.4 7.5-7.9 0-2.4-7.5z"/>
<path class=e d="M1434 436l6.4 4.6-2.4 7.5-7.9 0-2.4-7.5z"/>
<path class=e d="M1362 382l6.4 4.6-2.4 7.5-7.9 0-2.4-7.5z"/>
<path class=e d="M1388 579l6.4 4.6-2.4 7.5-7.9 0-2.4-7.5z"/>
<path class=e d="M1368 493l6.4 4.6-2.4 7.5-7.9 0-2.4-7.5z"/>
<path class=e d="M1449 362l6.4 4.6-2.4 7.5-7.9 0-2.4-7.5z"/>
<path class=e d="M1386 587l6.4 4.6-2.4 7.5-7.9 0-2.4-7.5z"/>
<path class=e d="M1391 483l6.4 4.6-2.4 7.5-7.9 0-2.4-7.5z"/>
<path class=e d="M1447 359l6.4 4.6-2.4 7.5-7.9 0-2.4-7.5z"/>
<path class=e d="M1467 342l6.4 4.6-2.4 7.5-7.9 0-2.4-7.5z"/>
<path class=e d="M1386 583l6.4 4.6-2.4 7.5-7.9 0-2.4-7.5z"/>
<path class=e d="M1391 486l6.4 4.6-2.4 7.5-7.9 0-2.4-7.5z"/>
<path class=e d="M1594 391l6.4 4.6-2.4 7.5-7.9 0-2.4-7.5z"/>
<path class=e d="M1592 390l6.4 4.6-2.4 7.5-7.9 0-2.4-7.5z"/>
<path class=e d="M1525 354l6.4 4.6-2.4 7.5-7.9 0-2.4-7.5z"/>
<path class=e d="M1385 552l6.4 4.6-2.4 7.5-7.9 0-2.4-7.5z"/>
<path class=e d="M1391 488l6.4 4.6-2.4 7.5-7.9 0-2.4-7.5z"/>
<path class=e d="M1352 575l6.4 4.6-2.4 7.5-7.9 0-2.4-7.5z"/>
<path class=e d="M1497 338l6.4 4.6-2.4 7.5-7.9 0-2.4-7.5z"/>
<path class=e d="M1385 581l6.4 4.6-2.4 7.5-7.9 0-2.4-7.5z"/>
<path class=e d="M1452 361l6.4 4.6-2.4 7.5-7.9 0-2.4-7.5z"/>
<path class=e d="M1385 589l6.4 4.6-2.4 7.5-7.9 0-2.4-7.5z"/>
<path class=e d="M1384 556l6.4 4.6-2.4 7.5-7.9 0-2.4-7.5z"/>
<path class=e d="M1382 555l6.4 4.6-2.4 7.5-7.9 0-2.4-7.5z"/>
<path class=e d="M1583 429l6.4 4.6-2.4 7.5-7.9 0-2.4-7.5z"/>
<path class=e d="M1589 403l6.4 4.6-2.4 7.5-7.9 0-2.4-7.5z"/>
<path class=e d="M1383 333l6.4 4.6-2.4 7.5-7.9 0-2.4-7.5z"/>
<path class=e d="M1547 577l6.4 4.6-2.4 7.5-7.9 0-2.4-7.5z"/>
<path class=e d="M1602 382l6.4 4.6-2.4 7.5-7.9 0-2.4-7.5z"/>
<path class=e d="M1489 556l6.4 4.6-2.4 7.5-7.9 0-2.4-7.5z"/>
<path class=e d="M1384 558l6.4 4.6-2.4 7.5-7.9 0-2.4-7.5z"/>
<path class=e d="M1390 487l6.4 4.6-2.4 7.5-7.9 0-2.4-7.5z"/>
<path class=e d="M1529 557l6.4 4.6-2.4 7.5-7.9 0-2.4-7.5z"/>
<path class=e d="M1362 591l6.4 4.6-2.4 7.5-7.9 0-2.4-7.5z"/>
<path class=e d="M1432 333l6.4 4.6-2.4 7.5-7.9 0-2.4-7.5z"/>
<path class=e d="M1384 582l6.4 4.6-2.4 7.5-7.9 0-2.4-7.5z"/>
<path class=e d="M1499 334l6.4 4.6-2.4 7.5-7.9 0-2.4-7.5z"/>
<path class=e d="M1587 429l6.4 4.6-2.4 7.5-7.9 0-2.4-7.5z"/>
<path class=e d="M1526 561l6.4 4.6-2.4 7.5-7.9 0-2.4-7.5z"/>
<path class=e d="M1374 592l6.4 4.6-2.4 7.5-7.9 0-2.4-7.5z"/>
<path class=e d="M1589 403l6.4 4.6-2.4 7.5-7.9 0-2.4-7.5z"/>
<path class=e d="M1509 343l6.4 4.6-2.4 7.5-7.9 0-2.4-7.5z"/>
<path class=e d="M1488 349l6.4 4.6-2.4 7.5-7.9 0-2.4-7.5z"/>
<path class=e d="M1369 488l6.4 4.6-2.4 7.5-7.9 0-2.4-7.5z"/>
<path class=e d="M1506 345l6.4 4.6-2.4 7.5-7.9 0-2.4-7.5z"/>
<path class=e d="M1355 575l6.4 4.6-2.4 7.5-7.9 0-2.4-7.5z"/>
<path class=e d="M1347 593l6.4 4.6-2.4 7.5-7.9 0-2.4-7.5z"/>
<path class=e d="M1393 482l6.4 4.6-2.4 7.5-7.9 0-2.4-7.5z"/>
<circle class=a cx=1546 cy=416 r=7.1 />
<path class=b d="M1110 612l3.2 3.2 3.2-3.2 3.2 3.2-3.2 3.2 3.2 3.2-3.2 3.2-3.2-3.2-3.2 3.2-3.2-3.2 3.2-3.2-3.2-3.2z"/>
<path class=c d="M1457 161h12.6l-6.3 12.6z"/>
<path class=c d="M1343 218h12.6l-6.3 12.6z"/>
<path class=b d="M1686 362l3.2 3.2 3.2-3.2 3.2 3.2-3.2 3.2 3.2 3.2-3.2 3.2-3.2-3.2-3.2 3.2-3.2-3.2 3.2-3.2-3.2-3.2z"/>
<path class=e d="M1669 452l6.4 4.6-2.4 7.5-7.9 0-2.4-7.5z"/>
<path class=c d="M1124 447h12.6l-6.3 12.6z"/>
<path class=e d="M1752 484l6.4 4.6-2.4 7.5-7.9 0-2.4-7.5z"/>
<path class=c d="M1342 233h12.6l-6.3 12.6z"/>
<path class=e d="M1436 327l6.4 4.6-2.4 7.5-7.9 0-2.4-7.5z"/>
<circle class=a cx=1756 cy=448 r=7.1 />
<circle class=a cx=1437 cy=434 r=7.1 />
<path class=d d="M1754 311h13.6v13.6h-13.6z"/>
<path class=e d="M1359 605l6.4 4.6-2.4 7.5-7.9 0-2.4-7.5z"/>
<path class=c d="M1321 162h12.6l-6.3 12.6z"/>
<path class=d d="M1394 321h13.6v13.6h-13.6z"/>
<path class=e d="M1336 606l6.4 4.6-2.4 7.5-7.9 0-2.4-7.5z"/>
<path class=c d="M1221 253h12.6l-6.3 12.6z"/>
<circle class=a cx=1537 cy=467 r=7.1 />
<path class=b d="M1424 745l3.2 3.2 3.2-3.2 3.2 3.2-3.2 3.2 3.2 3.2-3.2 3.2-3.2-3.2-3.2 3.2-3.2-3.2 3.2-3.2-3.2-3.2z"/>
<circle class=a cx=1645 cy=433 r=7.1 />
<path class=b d="M1102 603l3.2 3.2 3.2-3.2 3.2 3.2-3.2 3.2 3.2 3.2-3.2 3.2-3.2-3.2-3.2 3.2-3.2-3.2 3.2-3.2-3.2-3.2z"/>
<path class=b d="M1582 558l3.2 3.2 3.2-3.2 3.2 3.2-3.2 3.2 3.2 3.2-3.2 3.2-3.2-3.2-3.2 3.2-3.2-3.2 3.2-3.2-3.2-3.2z"/>
<path class=b d="M1449 827l3.2 3.2 3.2-3.2 3.2 3.2-3.2 3.2 3.2 3.2-3.2 3.2-3.2-3.2-3.2 3.2-3.2-3.2 3.2-3.2-3.2-3.2z"/>
<circle class=a cx=1397 cy=457 r=7.1 />
<path class=e d="M1286 617l6.4 4.6-2.4 7.5-7.9 0-2.4-7.5z"/>
<circle class=a cx=1410 cy=450 r=7.1 />
<path class=d d="M1552 330h13.6v13.6h-13.6z"/>
<path class=b d="M1305 768l3.2 3.2 3.2-3.2 3.2 3.2-3.2 3.2 3.2 3.2-3.2 3.2-3.2-3.2-3.2 3.2-3.2-3.2 3.2-3.2-3.2-3.2z"/>
<path class=c d="M1337 232h12.6l-6.3 12.6z"/>
<path class=e d="M1692 474l6.4 4.6-2.4 7.5-7.9 0-2.4-7.5z"/>
<circle class=a cx=1270 cy=490 r=7.1 />
<path class=c d="M1166 444h12.6l-6.3 12.6z"/>
<circle class=a cx=1698 cy=427 r=7.1 />
<path class=b d="M1696 363l3.2 3.2 3.2-3.2 3.2 3.2-3.2 3.2 3.2 3.2-3.2 3.2-3.2-3.2-3.2 3.2-3.2-3.2 3.2-3.2-3.2-3.2z"/>
<path class=d d="M1766 307h13.6v13.6h-13.6z"/>
<circle class=a cx=1612 cy=492 r=7.1 />
<path class=e d="M1760 579l6.4 4.6-2.4 7.5-7.9 0-2.4-7.5z"/>
<path class=c d="M1433 183h12.6l-6.3 12.6z"/>
<path class=c d="M1340 234h12.6l-6.3 12.6z"/>
<path class=c d="M1360 218h12.6l-6.3 12.6z"/>
<path class=d d="M1464 388h13.6v13.6h-13.6z"/>
<path class=b d="M1709 353l3.2 3.2 3.2-3.2 3.2 3.2-3.2 3.2 3.2 3.2-3.2 3.2-3.2-3.2-3.2 3.2-3.2-3.2 3.2-3.2-3.2-3.2z"/>
<path class=c d="M1612 177h12.6l-6.3 12.6z"/>
<path class=c d="M1130 457h12.6l-6.3 12.6z"/>
<path class=b d="M1379 737l3.2 3.2 3.2-3.2 3.2 3.2-3.2 3.2 3.2 3.2-3.2 3.2-3.2-3.2-3.2 3.2-3.2-3.2 3.2-3.2-3.2-3.2z"/>
<path class=b d="M1640 483l3.2 3.2 3.2-3.2 3.2 3.2-3.2 3.2 3.2 3.2-3.2 3.2-3.2-3.2-3.2 3.2-3.2-3.2 3.2-3.2-3.2-3.2z"/>
<path class=e d="M1311 577l6.4 4.6-2.4 7.5-7.9 0-2.4-7.5z"/>
<path class=c d="M1440 159h12.6l-6.3 12.6z"/>
<path class=b d="M1369 727l3.2 3.2 3.2-3.2 3.2 3.2-3.2 3.2 3.2 3.2-3.2 3.2-3.2-3.2-3.2 3.2-3.2-3.2 3.2-3.2-3.2-3.2z"/>
<path class=b d="M1287 750l3.2 3.2 3.2-3.2 3.2 3.2-3.2 3.2 3.2 3.2-3.2 3.2-3.2-3.2-3.2 3.2-3.2-3.2 3.2-3.2-3.2-3.2z"/>
<path class=d d="M1404 484h13.6v13.6h-13.6z"/>
<path class=d d="M1395 570h13.6v13.6h-13.6z"/>
<path class=a d="M1625 475l6.4 4.6-2.4 7.5-7.9 0-2.4-7.5z"/>
<path class=e d="M1346 473l6.4 4.6-2.4 7.5-7.9 0-2.4-7.5z"/>
<path class=c d="M1548 144h12.6l-6.3 12.6z"/>
<path class=e d="M1738 539l6.4 4.6-2.4 7.5-7.9 0-2.4-7.5z"/>
<path class=c d="M1175 309h12.6l-6.3 12.6z"/>
<path class=b d="M1450 827l3.2 3.2 3.2-3.2 3.2 3.2-3.2 3.2 3.2 3.2-3.2 3.2-3.2-3.2-3.2 3.2-3.2-3.2 3.2-3.2-3.2-3.2z"/>
<path class=c d="M1434 117h12.6l-6.3 12.6z"/>
<path class=e d="M1308 563l6.4 4.6-2.4 7.5-7.9 0-2.4-7.5z"/>
<path class=b d="M1111 600l3.2 3.2 3.2-3.2 3.2 3.2-3.2 3.2 3.2 3.2-3.2 3.2-3.2-3.2-3.2 3.2-3.2-3.2 3.2-3.2-3.2-3.2z"/>
<path class=c d="M1332 222h12.6l-6.3 12.6z"/>
<circle class=a cx=1467 cy=453 r=7.1 />
<path class=e d="M1741 489l6.4 4.6-2.4 7.5-7.9 0-2.4-7.5z"/>
<path class=b d="M1145 624l3.2 3.2 3.2-3.2 3.2 3.2-3.2 3.2 3.2 3.2-3.2 3.2-3.2-3.2-3.2 3.2-3.2-3.2 3.2-3.2-3.2-3.2z"/>
<path class=e d="M1770 500l6.4 4.6-2.4 7.5-7.9 0-2.4-7.5z"/>
<path class=e d="M1278 592l6.4 4.6-2.4 7.5-7.9 0-2.4-7.5z"/>
<path class=c d="M1437 133h12.6l-6.3 12.6z"/>
<circle class=a cx=1374 cy=381 r=7.1 />
<path class=e d="M1737 524l6.4 4.6-2.4 7.5-7.9 0-2.4-7.5z"/>
<circle class=a cx=1378 cy=385 r=7.1 />
<path class=b d="M1144 585l3.2 3.2 3.2-3.2 3.2 3.2-3.2 3.2 3.2 3.2-3.2 3.2-3.2-3.2-3.2 3.2-3.2-3.2 3.2-3.2-3.2-3.2z"/>
<path class=c d="M1322 175h12.6l-6.3 12.6z"/>
<path class=b d="M1332 735l3.2 3.2 3.2-3.2 3.2 3.2-3.2 3.2 3.2 3.2-3.2 3.2-3.2-3.2-3.2 3.2-3.2-3.2 3.2-3.2-3.2-3.2z"/>
<path class=e d="M1358 595l6.4 4.6-2.4 7.5-7.9 0-2.4-7.5z"/>
<path class=d d="M1389 529h13.6v13.6h-13.6z"/>
<path class=c d="M1596 719h12.6l-6.3 12.6z"/>
<path class=b d="M1474 800l3.2 3.2 3.2-3.2 3.2 3.2-3.2 3.2 3.2 3.2-3.2 3.2-3.2-3.2-3.2 3.2-3.2-3.2 3.2-3.2-3.2-3.2z"/>
<path class=d d="M1265 390h13.6v13.6h-13.6z"/>
<path class=c d="M1168 290h12.6l-6.3 12.6z"/>
<path class=d d="M1617 474h13.6v13.6h-13.6z"/>
<path class=b d="M1141 615l3.2 3.2 3.2-3.2 3.2 3.2-3.2 3.2 3.2 3.2-3.2 3.2-3.2-3.2-3.2 3.2-3.2-3.2 3.2-3.2-3.2-3.2z"/>
<path class=d d="M1257 367h13.6v13.6h-13.6z"/>
<path class=b d="M1511 762l3.2 3.2 3.2-3.2 3.2 3.2-3.2 3.2 3.2 3.2-3.2 3.2-3.2-3.2-3.2 3.2-3.2-3.2 3.2-3.2-3.2-3.2z"/>
<path class=d d="M1256 396h13.6v13.6h-13.6z"/>
<path class=c d="M1338 235h12.6l-6.3 12.6z"/>
<path class=d d="M1418 484h13.6v13.6h-13.6z"/>
<circle class=a cx=1643 cy=474 r=7.1 />
<path class=c d="M1321 205h12.6l-6.3 12.6z"/>
<path class=d d="M1523 276h13.6v13.6h-13.6z"/>
<path class=e d="M1712 487l6.4 4.6-2.4 7.5-7.9 0-2.4-7.5z"/>
<path class=d d="M1609 356h13.6v13.6h-13.6z"/>
<path class=c d="M1211 266h12.6l-6.3 12.6z"/>
<path class=e d="M1341 582l6.4 4.6-2.4 7.5-7.9 0-2.4-7.5z"/>
<path class=b d="M1515 789l3.2 3.2 3.2-3.2 3.2 3.2-3.2 3.2 3.2 3.2-3.2 3.2-3.2-3.2-3.2 3.2-3.2-3.2 3.2-3.2-3.2-3.2z"/>
<path class=d d="M1532 257h13.6v13.6h-13.6z"/>
<path class=d d="M1403 473h13.6v13.6h-13.6z"/>
<path class=b d="M1388 703l3.2 3.2 3.2-3.2 3.2 3.2-3.2 3.2 3.2 3.2-3.2 3.2-3.2-3.2-3.2 3.2-3.2-3.2 3.2-3.2-3.2-3.2z"/>
<path class=e d="M1335 609l6.4 4.6-2.4 7.5-7.9 0-2.4-7.5z"/>
<circle class=a cx=1272 cy=486 r=7.1 />
<path class=d d="M1519 289h13.6v13.6h-13.6z"/>
<path class=d d="M1338 405h13.6v13.6h-13.6z"/>
<path class=b d="M1503 507l3.2 3.2 3.2-3.2 3.2 3.2-3.2 3.2 3.2 3.2-3.2 3.2-3.2-3.2-3.2 3.2-3.2-3.2 3.2-3.2-3.2-3.2z"/>
<path class=e d="M1605 385l6.4 4.6-2.4 7.5-7.9 0-2.4-7.5z"/>
<path class=d d="M1434 530h13.6v13.6h-13.6z"/>
<path class=e d="M1347 590l6.4 4.6-2.4 7.5-7.9 0-2.4-7.5z"/>
<path class=e d="M1285 569l6.4 4.6-2.4 7.5-7.9 0-2.4-7.5z"/>
<circle class=a cx=1366 cy=407 r=7.1 />
<path class=c d="M1549 153h12.6l-6.3 12.6z"/>
<path class=b d="M1336 751l3.2 3.2 3.2-3.2 3.2 3.2-3.2 3.2 3.2 3.2-3.2 3.2-3.2-3.2-3.2 3.2-3.2-3.2 3.2-3.2-3.2-3.2z"/>
<path class=c d="M1423 99h12.6l-6.3 12.6z"/>
<path class=c d="M1116 463h12.6l-6.3 12.6z"/>
<path class=e d="M1390 589l6.4 4.6-2.4 7.5-7.9 0-2.4-7.5z"/>
<circle class=a cx=1764 cy=418 r=7.1 />
<path class=b d="M1504 556l3.2 3.2 3.2-3.2 3.2 3.2-3.2 3.2 3.2 3.2-3.2 3.2-3.2-3.2-3.2 3.2-3.2-3.2 3.2-3.2-3.2-3.2z"/>
<path class=d d="M1506 289h13.6v13.6h-13.6z"/>
<path class=c d="M1326 183h12.6l-6.3 12.6z"/>
<path class=e d="M1294 564l6.4 4.6-2.4 7.5-7.9 0-2.4-7.5z"/>
<path class=b d="M1681 345l3.2 3.2 3.2-3.2 3.2 3.2-3.2 3.2 3.2 3.2-3.2 3.2-3.2-3.2-3.2 3.2-3.2-3.2 3.2-3.2-3.2-3.2z"/>
<path class=b d="M1369 724l3.2 3.2 3.2-3.2 3.2 3.2-3.2 3.2 3.2 3.2-3.2 3.2-3.2-3.2-3.2 3.2-3.2-3.2 3.2-3.2-3.2-3.2z"/>
<path class=e d="M1758 512l6.4 4.6-2.4 7.5-7.9 0-2.4-7.5z"/>
<circle class=a cx=1761 cy=437 r=7.1 />
<path class=d d="M1611 356h13.6v13.6h-13.6z"/>
<circle class=a cx=1362 cy=463 r=7.1 />
<path class=b d="M1289 744l3.2 3.2 3.2-3.2 3.2 3.2-3.2 3.2 3.2 3.2-3.2 3.2-3.2-3.2-3.2 3.2-3.2-3.2 3.2-3.2-3.2-3.2z"/>
<path class=c d="M1439 159h12.6l-6.3 12.6z"/>
<path class=b d="M1379 703l3.2 3.2 3.2-3.2 3.2 3.2-3.2 3.2 3.2 3.2-3.2 3.2-3.2-3.2-3.2 3.2-3.2-3.2 3.2-3.2-3.2-3.2z"/>
<path class=e d="M1471 340l6.4 4.6-2.4 7.5-7.9 0-2.4-7.5z"/>
<path class=c d="M1444 216h12.6l-6.3 12.6z"/>
<path class=c d="M1595 733h12.6l-6.3 12.6z"/>
<path class=e d="M1266 632l6.4 4.6-2.4 7.5-7.9 0-2.4-7.5z"/>
<path class=d d="M1665 385h13.6v13.6h-13.6z"/>
<circle class=a cx=1460 cy=359 r=7.1 />
<path class=c d="M1177 292h12.6l-6.3 12.6z"/>
<path class=c d="M1586 168h12.6l-6.3 12.6z"/>
<path class=b d="M1514 323l3.2 3.2 3.2-3.2 3.2 3.2-3.2 3.2 3.2 3.2-3.2 3.2-3.2-3.2-3.2 3.2-3.2-3.2 3.2-3.2-3.2-3.2z"/>
<path class=b d="M1317 735l3.2 3.2 3.2-3.2 3.2 3.2-3.2 3.2 3.2 3.2-3.2 3.2-3.2-3.2-3.2 3.2-3.2-3.2 3.2-3.2-3.2-3.2z"/>
<path class=d d="M1436 351h13.6v13.6h-13.6z"/>
<path class=c d="M1554 161h12.6l-6.3 12.6z"/>
<path class=b d="M1157 623l3.2 3.2 3.2-3.2 3.2 3.2-3.2 3.2 3.2 3.2-3.2 3.2-3.2-3.2-3.2 3.2-3.2-3.2 3.2-3.2-3.2-3.2z"/>
<path class=e d="M1498 340l6.4 4.6-2.4 7.5-7.9 0-2.4-7.5z"/>
<path class=c d="M1349 216h12.6l-6.3 12.6z"/>
<path class=d d="M1403 324h13.6v13.6h-13.6z"/>
<path class=e d="M1336 593l6.4 4.6-2.4 7.5-7.9 0-2.4-7.5z"/>
<path class=d d="M1505 272h13.6v13.6h-13.6z"/>
<path class=c d="M1596 716h12.6l-6.3 12.6z"/>
<path class=d d="M1667 383h13.6v13.6h-13.6z"/>
<path class=c d="M1677 682h12.6l-6.3 12.6z"/>
<path class=e d="M1265 560l6.4 4.6-2.4 7.5-7.9 0-2.4-7.5z"/>
<path class=e d="M1760 509l6.4 4.6-2.4 7.5-7.9 0-2.4-7.5z"/>
<path class=d d="M1304 434h13.6v13.6h-13.6z"/>
<path class=d d="M1304 430h13.6v13.6h-13.6z"/>
<path class=b d="M1494 779l3.2 3.2 3.2-3.2 3.2 3.2-3.2 3.2 3.2 3.2-3.2 3.2-3.2-3.2-3.2 3.2-3.2-3.2 3.2-3.2-3.2-3.2z"/>
<path class=b d="M1678 358l3.2 3.2 3.2-3.2 3.2 3.2-3.2 3.2 3.2 3.2-3.2 3.2-3.2-3.2-3.2 3.2-3.2-3.2 3.2-3.2-3.2-3.2z"/>
<path class=d d="M1295 351h13.6v13.6h-13.6z"/>
<path class=e d="M1383 519l6.4 4.6-2.4 7.5-7.9 0-2.4-7.5z"/>
<circle class=a cx=1572 cy=492 r=7.1 />
<path class=d d="M1617 484h13.6v13.6h-13.6z"/>
<circle class=a cx=1350 cy=508 r=7.1 />
<path class=b d="M1475 803l3.2 3.2 3.2-3.2 3.2 3.2-3.2 3.2 3.2 3.2-3.2 3.2-3.2-3.2-3.2 3.2-3.2-3.2 3.2-3.2-3.2-3.2z"/>
<path class=e d="M1672 449l6.4 4.6-2.4 7.5-7.9 0-2.4-7.5z"/>
<path class=d d="M1443 461h13.6v13.6h-13.6z"/>
<path class=c d="M1581 668h12.6l-6.3 12.6z"/>
<path class=c d="M1595 170h12.6l-6.3 12.6z"/>
<path class=e d="M1735 535l6.4 4.6-2.4 7.5-7.9 0-2.4-7.5z"/>
<circle class=a cx=1520 cy=489 r=7.1 />
<path class=c d="M1516 677h12.6l-6.3 12.6z"/>
<path class=e d="M1267 561l6.4 4.6-2.4 7.5-7.9 0-2.4-7.5z"/>
<path class=b d="M1498 459l3.2 3.2 3.2-3.2 3.2 3.2-3.2 3.2 3.2 3.2-3.2 3.2-3.2-3.2-3.2 3.2-3.2-3.2 3.2-3.2-3.2-3.2z"/>
<path class=d d="M1303 429h13.6v13.6h-13.6z"/>
<circle class=a cx=1388 cy=357 r=7.1 />
<path class=d d="M1466 392h13.6v13.6h-13.6z"/>
<path class=c d="M1193 285h12.6l-6.3 12.6z"/>
<circle class=a cx=1369 cy=422 r=7.1 />
<path class=e d="M1776 526l6.4 4.6-2.4 7.5-7.9 0-2.4-7.5z"/>
<circle class=a cx=1397 cy=440 r=7.1 />
<path class=e d="M1264 628l6.4 4.6-2.4 7.5-7.9 0-2.4-7.5z"/>
<path class=d d="M1584 322h13.6v13.6h-13.6z"/>
<path class=d d="M1271 368h13.6v13.6h-13.6z"/>
<path class=b d="M1126 591l3.2 3.2 3.2-3.2 3.2 3.2-3.2 3.2 3.2 3.2-3.2 3.2-3.2-3.2-3.2 3.2-3.2-3.2 3.2-3.2-3.2-3.2z"/>
<circle class=a cx=1525 cy=494 r=7.1 />
<path class=e d="M1719 520l6.4 4.6-2.4 7.5-7.9 0-2.4-7.5z"/>
<path class=e d="M1722 482l6.4 4.6-2.4 7.5-7.9 0-2.4-7.5z"/>
<path class=e d="M1289 576l6.4 4.6-2.4 7.5-7.9 0-2.4-7.5z"/>
<path class=a d="M1621 474l6.4 4.6-2.4 7.5-7.9 0-2.4-7.5z"/>
<path class=c d="M1577 713h12.6l-6.3 12.6z"/>
<path class=e d="M1690 477l6.4 4.6-2.4 7.5-7.9 0-2.4-7.5z"/>
<circle class=a cx=1596 cy=561 r=7.1 />
<path class=e d="M1249 577l6.4 4.6-2.4 7.5-7.9 0-2.4-7.5z"/>
<path class=d d="M1517 287h13.6v13.6h-13.6z"/>
<path class=e d="M1775 523l6.4 4.6-2.4 7.5-7.9 0-2.4-7.5z"/>
<path class=e d="M1383 425l6.4 4.6-2.4 7.5-7.9 0-2.4-7.5z"/>
<path class=c d="M1169 459h12.6l-6.3 12.6z"/>
<path class=e d="M1767 498l6.4 4.6-2.4 7.5-7.9 0-2.4-7.5z"/>
<path class=b d="M1707 340l3.2 3.2 3.2-3.2 3.2 3.2-3.2 3.2 3.2 3.2-3.2 3.2-3.2-3.2-3.2 3.2-3.2-3.2 3.2-3.2-3.2-3.2z"/>
<path class=b d="M1421 725l3.2 3.2 3.2-3.2 3.2 3.2-3.2 3.2 3.2 3.2-3.2 3.2-3.2-3.2-3.2 3.2-3.2-3.2 3.2-3.2-3.2-3.2z"/>
<path class=c d="M1300 163h12.6l-6.3 12.6z"/>
<path class=d d="M1343 512h13.6v13.6h-13.6z"/>
<path class=d d="M1449 331h13.6v13.6h-13.6z"/>
<path class=c d="M1319 207h12.6l-6.3 12.6z"/>
<circle class=a cx=1475 cy=431 r=7.1 />
<path class=e d="M1384 553l6.4 4.6-2.4 7.5-7.9 0-2.4-7.5z"/>
<path class=e d="M1747 565l6.4 4.6-2.4 7.5-7.9 0-2.4-7.5z"/>
<path class=b d="M1706 376l3.2 3.2 3.2-3.2 3.2 3.2-3.2 3.2 3.2 3.2-3.2 3.2-3.2-3.2-3.2 3.2-3.2-3.2 3.2-3.2-3.2-3.2z"/>
<path class=b d="M1494 450l3.2 3.2 3.2-3.2 3.2 3.2-3.2 3.2 3.2 3.2-3.2 3.2-3.2-3.2-3.2 3.2-3.2-3.2 3.2-3.2-3.2-3.2z"/>
<path class=b d="M1520 565l3.2 3.2 3.2-3.2 3.2 3.2-3.2 3.2 3.2 3.2-3.2 3.2-3.2-3.2-3.2 3.2-3.2-3.2 3.2-3.2-3.2-3.2z"/>
<path class=c d="M1447 214h12.6l-6.3 12.6z"/>
<circle class=a cx=1379 cy=398 r=7.1 />
<circle class=a cx=1493 cy=334 r=7.1 />
<path class=e d="M1662 473l6.4 4.6-2.4 7.5-7.9 0-2.4-7.5z"/>
<path class=c d="M1300 157h12.6l-6.3 12.6z"/>
<path class=b d="M1511 556l3.2 3.2 3.2-3.2 3.2 3.2-3.2 3.2 3.2 3.2-3.2 3.2-3.2-3.2-3.2 3.2-3.2-3.2 3.2-3.2-3.2-3.2z"/>
<path class=d d="M1707 440h13.6v13.6h-13.6z"/>
<path class=b d="M1531 491l3.2 3.2 3.2-3.2 3.2 3.2-3.2 3.2 3.2 3.2-3.2 3.2-3.2-3.2-3.2 3.2-3.2-3.2 3.2-3.2-3.2-3.2z"/>
<path class=c d="M1571 678h12.6l-6.3 12.6z"/>
<path class=c d="M1191 296h12.6l-6.3 12.6z"/>
<path class=d d="M1414 512h13.6v13.6h-13.6z"/>
<path class=c d="M1333 197h12.6l-6.3 12.6z"/>
<path class=d d="M1459 414h13.6v13.6h-13.6z"/>
<path class=d d="M1518 286h13.6v13.6h-13.6z"/>
<path class=d d="M1401 551h13.6v13.6h-13.6z"/>
<path class=e d="M1334 591l6.4 4.6-2.4 7.5-7.9 0-2.4-7.5z"/>
<path class=e d="M1383 555l6.4 4.6-2.4 7.5-7.9 0-2.4-7.5z"/>
<path class=c d="M1185 309h12.6l-6.3 12.6z"/>
<path class=b d="M1639 325l3.2 3.2 3.2-3.2 3.2 3.2-3.2 3.2 3.2 3.2-3.2 3.2-3.2-3.2-3.2 3.2-3.2-3.2 3.2-3.2-3.2-3.2z"/>
<path class=b d="M1112 567l3.2 3.2 3.2-3.2 3.2 3.2-3.2 3.2 3.2 3.2-3.2 3.2-3.2-3.2-3.2 3.2-3.2-3.2 3.2-3.2-3.2-3.2z"/>
<path class=d d="M1440 370h13.6v13.6h-13.6z"/>
<path class=e d="M1273 575l6.4 4.6-2.4 7.5-7.9 0-2.4-7.5z"/>
<path class=c d="M1068 385h12.6l-6.3 12.6z"/>
<path class=c d="M1446 118h12.6l-6.3 12.6z"/>
<path class=d d="M1681 397h13.6v13.6h-13.6z"/>
<path class=e d="M1743 570l6.4 4.6-2.4 7.5-7.9 0-2.4-7.5z"/>
<circle class=a cx=1388 cy=331 r=7.1 />
<path class=c d="M1552 146h12.6l-6.3 12.6z"/>
<path class=c d="M1297 155h12.6l-6.3 12.6z"/>
<path class=c d="M1080 369h12.6l-6.3 12.6z"/>
<path class=c d="M1439 130h12.6l-6.3 12.6z"/>
<circle class=a cx=1335 cy=404 r=7.1 />
<path class=d d="M1479 516h13.6v13.6h-13.6z"/>
<path class=c d="M1465 165h12.6l-6.3 12.6z"/>
<circle class=a cx=1418 cy=383 r=7.1 />
<path class=c d="M1239 263h12.6l-6.3 12.6z"/>
<path class=b d="M1681 342l3.2 3.2 3.2-3.2 3.2 3.2-3.2 3.2 3.2 3.2-3.2 3.2-3.2-3.2-3.2 3.2-3.2-3.2 3.2-3.2-3.2-3.2z"/>
<path class=d d="M1393 570h13.6v13.6h-13.6z"/>
<circle class=a cx=1769 cy=419 r=7.1 />
<circle class=a cx=1454 cy=440 r=7.1 />
<path class=b d="M1308 732l3.2 3.2 3.2-3.2 3.2 3.2-3.2 3.2 3.2 3.2-3.2 3.2-3.2-3.2-3.2 3.2-3.2-3.2 3.2-3.2-3.2-3.2z"/>
<circle class=a cx=1320 cy=519 r=7.1 />
<circle class=a cx=1592 cy=503 r=7.1 />
<path class=b d="M1132 617l3.2 3.2 3.2-3.2 3.2 3.2-3.2 3.2 3.2 3.2-3.2 3.2-3.2-3.2-3.2 3.2-3.2-3.2 3.2-3.2-3.2-3.2z"/>
<path class=b d="M1148 601l3.2 3.2 3.2-3.2 3.2 3.2-3.2 3.2 3.2 3.2-3.2 3.2-3.2-3.2-3.2 3.2-3.2-3.2 3.2-3.2-3.2-3.2z"/>
<path class=d d="M1647 377h13.6v13.6h-13.6z"/>
<path class=c d="M1105 472h12.6l-6.3 12.6z"/>
<path class=c d="M1593 731h12.6l-6.3 12.6z"/>
<path class=c d="M1451 165h12.6l-6.3 12.6z"/>
<path class=d d="M1540 310h13.6v13.6h-13.6z"/>
<path class=e d="M1721 522l6.4 4.6-2.4 7.5-7.9 0-2.4-7.5z"/>
<circle class=a cx=1447 cy=493 r=7.1 />
<path class=d d="M1517 287h13.6v13.6h-13.6z"/>
<path class=b d="M1705 351l3.2 3.2 3.2-3.2 3.2 3.2-3.2 3.2 3.2 3.2-3.2 3.2-3.2-3.2-3.2 3.2-3.2-3.2 3.2-3.2-3.2-3.2z"/>
<path class=d d="M1569 309h13.6v13.6h-13.6z"/>
<path class=d d="M1515 471h13.6v13.6h-13.6z"/>
<circle class=a cx=1445 cy=413 r=7.1 />
<path class=d d="M1612 515h13.6v13.6h-13.6z"/>
<circle class=a cx=1326 cy=503 r=7.1 />
<path class=c d="M1119 467h12.6l-6.3 12.6z"/>
<path class=b d="M1533 493l3.2 3.2 3.2-3.2 3.2 3.2-3.2 3.2 3.2 3.2-3.2 3.2-3.2-3.2-3.2 3.2-3.2-3.2 3.2-3.2-3.2-3.2z"/>
<path class=c d="M1577 695h12.6l-6.3 12.6z"/>
<circle class=a cx=1422 cy=385 r=7.1 />
<circle class=a cx=1499 cy=513 r=7.1 />
<path class=b d="M1589 538l3.2 3.2 3.2-3.2 3.2 3.2-3.2 3.2 3.2 3.2-3.2 3.2-3.2-3.2-3.2 3.2-3.2-3.2 3.2-3.2-3.2-3.2z"/>
<path class=c d="M1543 143h12.6l-6.3 12.6z"/>
<path class=c d="M1352 230h12.6l-6.3 12.6z"/>
<path class=b d="M1377 699l3.2 3.2 3.2-3.2 3.2 3.2-3.2 3.2 3.2 3.2-3.2 3.2-3.2-3.2-3.2 3.2-3.2-3.2 3.2-3.2-3.2-3.2z"/>
<path class=e d="M1723 496l6.4 4.6-2.4 7.5-7.9 0-2.4-7.5z"/>
<path class=e d="M1788 514l6.4 4.6-2.4 7.5-7.9 0-2.4-7.5z"/>
<circle class=a cx=1371 cy=413 r=7.1 />
<circle class=a cx=1423 cy=401 r=7.1 />
<path class=e d="M1731 544l6.4 4.6-2.4 7.5-7.9 0-2.4-7.5z"/>
<path class=c d="M1612 167h12.6l-6.3 12.6z"/>
<path class=d d="M1680 400h13.6v13.6h-13.6z"/>
<path class=e d="M1288 609l6.4 4.6-2.4 7.5-7.9 0-2.4-7.5z"/>
<path class=e d="M1753 519l6.4 4.6-2.4 7.5-7.9 0-2.4-7.5z"/>
<circle class=a cx=1440 cy=310 r=7.1 />
<path class=e d="M1281 567l6.4 4.6-2.4 7.5-7.9 0-2.4-7.5z"/>
<path class=b d="M1693 338l3.2 3.2 3.2-3.2 3.2 3.2-3.2 3.2 3.2 3.2-3.2 3.2-3.2-3.2-3.2 3.2-3.2-3.2 3.2-3.2-3.2-3.2z"/>
<path class=e d="M1257 616l6.4 4.6-2.4 7.5-7.9 0-2.4-7.5z"/>
<path class=b d="M1695 338l3.2 3.2 3.2-3.2 3.2 3.2-3.2 3.2 3.2 3.2-3.2 3.2-3.2-3.2-3.2 3.2-3.2-3.2 3.2-3.2-3.2-3.2z"/>
<path class=d d="M1376 509h13.6v13.6h-13.6z"/>
<path class=b d="M1478 500l3.2 3.2 3.2-3.2 3.2 3.2-3.2 3.2 3.2 3.2-3.2 3.2-3.2-3.2-3.2 3.2-3.2-3.2 3.2-3.2-3.2-3.2z"/>
<circle class=a cx=1660 cy=451 r=7.1 />
<path class=c d="M1554 161h12.6l-6.3 12.6z"/>
<circle class=a cx=1423 cy=438 r=7.1 />
<circle class=a cx=1385 cy=395 r=7.1 />
<path class=d d="M1280 415h13.6v13.6h-13.6z"/>
<path class=e d="M1265 623l6.4 4.6-2.4 7.5-7.9 0-2.4-7.5z"/>
<path class=b d="M1395 729l3.2 3.2 3.2-3.2 3.2 3.2-3.2 3.2 3.2 3.2-3.2 3.2-3.2-3.2-3.2 3.2-3.2-3.2 3.2-3.2-3.2-3.2z"/>
<path class=d d="M1533 515h13.6v13.6h-13.6z"/>
<path class=e d="M1290 625l6.4 4.6-2.4 7.5-7.9 0-2.4-7.5z"/>
<path class=c d="M1537 665h12.6l-6.3 12.6z"/>
<circle class=a cx=1555 cy=509 r=7.1 />
<path class=c d="M1428 103h12.6l-6.3 12.6z"/>
<path class=c d="M1449 158h12.6l-6.3 12.6z"/>
<path class=e d="M1803 539l6.4 4.6-2.4 7.5-7.9 0-2.4-7.5z"/>
<path class=b d="M1370 708l3.2 3.2 3.2-3.2 3.2 3.2-3.2 3.2 3.2 3.2-3.2 3.2-3.2-3.2-3.2 3.2-3.2-3.2 3.2-3.2-3.2-3.2z"/>
<path class=e d="M1499 336l6.4 4.6-2.4 7.5-7.9 0-2.4-7.5z"/>
<circle class=a cx=1519 cy=485 r=7.1 />
<path class=b d="M1560 520l3.2 3.2 3.2-3.2 3.2 3.2-3.2 3.2 3.2 3.2-3.2 3.2-3.2-3.2-3.2 3.2-3.2-3.2 3.2-3.2-3.2-3.2z"/>
<path class=e d="M1437 434l6.4 4.6-2.4 7.5-7.9 0-2.4-7.5z"/>
<path class=c d="M1613 175h12.6l-6.3 12.6z"/>
<path class=c d="M1443 219h12.6l-6.3 12.6z"/>
<path class=e d="M1344 606l6.4 4.6-2.4 7.5-7.9 0-2.4-7.5z"/>
<path class=c d="M1441 197h12.6l-6.3 12.6z"/>
<path class=c d="M1449 187h12.6l-6.3 12.6z"/>
<path class=b d="M1449 813l3.2 3.2 3.2-3.2 3.2 3.2-3.2 3.2 3.2 3.2-3.2 3.2-3.2-3.2-3.2 3.2-3.2-3.2 3.2-3.2-3.2-3.2z"/>
<path class=e d="M1594 375l6.4 4.6-2.4 7.5-7.9 0-2.4-7.5z"/>
<path class=b d="M1484 816l3.2 3.2 3.2-3.2 3.2 3.2-3.2 3.2 3.2 3.2-3.2 3.2-3.2-3.2-3.2 3.2-3.2-3.2 3.2-3.2-3.2-3.2z"/>
<path class=e d="M1301 585l6.4 4.6-2.4 7.5-7.9 0-2.4-7.5z"/>
<path class=b d="M1112 585l3.2 3.2 3.2-3.2 3.2 3.2-3.2 3.2 3.2 3.2-3.2 3.2-3.2-3.2-3.2 3.2-3.2-3.2 3.2-3.2-3.2-3.2z"/>
<path class=e d="M1792 544l6.4 4.6-2.4 7.5-7.9 0-2.4-7.5z"/>
<path class=d d="M1502 274h13.6v13.6h-13.6z"/>
<path class=c d="M1328 192h12.6l-6.3 12.6z"/>
<path class=c d="M1083 384h12.6l-6.3 12.6z"/>
<path class=c d="M1604 188h12.6l-6.3 12.6z"/>
<circle class=a cx=1526 cy=509 r=7.1 />
<path class=b d="M1518 324l3.2 3.2 3.2-3.2 3.2 3.2-3.2 3.2 3.2 3.2-3.2 3.2-3.2-3.2-3.2 3.2-3.2-3.2 3.2-3.2-3.2-3.2z"/>
<circle class=b cx=1578 cy=556 r=7.1 />
<path class=c d="M1079 378h12.6l-6.3 12.6z"/>
<path class=e d="M1734 552l6.4 4.6-2.4 7.5-7.9 0-2.4-7.5z"/>
<path class=b d="M1497 779l3.2 3.2 3.2-3.2 3.2 3.2-3.2 3.2 3.2 3.2-3.2 3.2-3.2-3.2-3.2 3.2-3.2-3.2 3.2-3.2-3.2-3.2z"/>
<path class=c d="M1431 111h12.6l-6.3 12.6z"/>
<path class=c d="M1323 181h12.6l-6.3 12.6z"/>
<path class=c d="M1207 264h12.6l-6.3 12.6z"/>
<path class=e d="M1669 474l6.4 4.6-2.4 7.5-7.9 0-2.4-7.5z"/>
<path class=d d="M1569 326h13.6v13.6h-13.6z"/>
<path class=b d="M1423 739l3.2 3.2 3.2-3.2 3.2 3.2-3.2 3.2 3.2 3.2-3.2 3.2-3.2-3.2-3.2 3.2-3.2-3.2 3.2-3.2-3.2-3.2z"/>
<path class=d d="M1298 377h13.6v13.6h-13.6z"/>
<path class=c d="M1314 174h12.6l-6.3 12.6z"/>
<path class=b d="M1641 325l3.2 3.2 3.2-3.2 3.2 3.2-3.2 3.2 3.2 3.2-3.2 3.2-3.2-3.2-3.2 3.2-3.2-3.2 3.2-3.2-3.2-3.2z"/>
<path class=d d="M1595 348h13.6v13.6h-13.6z"/>
<path class=c d="M1550 669h12.6l-6.3 12.6z"/>
<path class=b d="M1556 571l3.2 3.2 3.2-3.2 3.2 3.2-3.2 3.2 3.2 3.2-3.2 3.2-3.2-3.2-3.2 3.2-3.2-3.2 3.2-3.2-3.2-3.2z"/>
<circle class=a cx=1333 cy=506 r=7.1 />
<path class=b d="M1513 765l3.2 3.2 3.2-3.2 3.2 3.2-3.2 3.2 3.2 3.2-3.2 3.2-3.2-3.2-3.2 3.2-3.2-3.2 3.2-3.2-3.2-3.2z"/>
<circle class=a cx=1619 cy=499 r=7.1 />
<circle class=a cx=1575 cy=434 r=7.1 />
<path class=d d="M1584 473h13.6v13.6h-13.6z"/>
<path class=d d="M1400 534h13.6v13.6h-13.6z"/>
<path class=b d="M1120 564l3.2 3.2 3.2-3.2 3.2 3.2-3.2 3.2 3.2 3.2-3.2 3.2-3.2-3.2-3.2 3.2-3.2-3.2 3.2-3.2-3.2-3.2z"/>
<path class=e d="M1714 445l6.4 4.6-2.4 7.5-7.9 0-2.4-7.5z"/>
<circle class=a cx=1431 cy=329 r=7.1 />
<path class=e d="M1337 590l6.4 4.6-2.4 7.5-7.9 0-2.4-7.5z"/>
<circle class=a cx=1661 cy=499 r=7.1 />
<path class=e d="M1255 614l6.4 4.6-2.4 7.5-7.9 0-2.4-7.5z"/>
<path class=e d="M1264 625l6.4 4.6-2.4 7.5-7.9 0-2.4-7.5z"/>
<path class=e d="M1540 344l6.4 4.6-2.4 7.5-7.9 0-2.4-7.5z"/>
<path class=d d="M1257 397h13.6v13.6h-13.6z"/>
<path class=b d="M1116 577l3.2 3.2 3.2-3.2 3.2 3.2-3.2 3.2 3.2 3.2-3.2 3.2-3.2-3.2-3.2 3.2-3.2-3.2 3.2-3.2-3.2-3.2z"/>
<path class=c d="M1441 217h12.6l-6.3 12.6z"/>
<path class=e d="M1326 598l6.4 4.6-2.4 7.5-7.9 0-2.4-7.5z"/>
<path class=e d="M1255 553l6.4 4.6-2.4 7.5-7.9 0-2.4-7.5z"/>
<path class=e d="M1790 512l6.4 4.6-2.4 7.5-7.9 0-2.4-7.5z"/>
<path class=b d="M1305 754l3.2 3.2 3.2-3.2 3.2 3.2-3.2 3.2 3.2 3.2-3.2 3.2-3.2-3.2-3.2 3.2-3.2-3.2 3.2-3.2-3.2-3.2z"/>
<circle class=a cx=1621 cy=502 r=7.1 />
<path class=b d="M1291 762l3.2 3.2 3.2-3.2 3.2 3.2-3.2 3.2 3.2 3.2-3.2 3.2-3.2-3.2-3.2 3.2-3.2-3.2 3.2-3.2-3.2-3.2z"/>
<path class=d d="M1606 354h13.6v13.6h-13.6z"/>
<circle class=a cx=1389 cy=577 r=7.1 />
<path class=b d="M1144 600l3.2 3.2 3.2-3.2 3.2 3.2-3.2 3.2 3.2 3.2-3.2 3.2-3.2-3.2-3.2 3.2-3.2-3.2 3.2-3.2-3.2-3.2z"/>
<path class=c d="M1431 124h12.6l-6.3 12.6z"/>
<circle class=a cx=1617 cy=502 r=7.1 />
<path class=c d="M1419 105h12.6l-6.3 12.6z"/>
<path class=e d="M1749 482l6.4 4.6-2.4 7.5-7.9 0-2.4-7.5z"/>
<circle class=a cx=1510 cy=498 r=7.1 />
<path class=e d="M1292 562l6.4 4.6-2.4 7.5-7.9 0-2.4-7.5z"/>
<path class=e d="M1604 384l6.4 4.6-2.4 7.5-7.9 0-2.4-7.5z"/>
<path class=b d="M1607 522l3.2 3.2 3.2-3.2 3.2 3.2-3.2 3.2 3.2 3.2-3.2 3.2-3.2-3.2-3.2 3.2-3.2-3.2 3.2-3.2-3.2-3.2z"/>
<circle class=a cx=1527 cy=492 r=7.1 />
<path class=e d="M1714 560l6.4 4.6-2.4 7.5-7.9 0-2.4-7.5z"/>
<circle class=a cx=1330 cy=549 r=7.1 />
<path class=d d="M1542 340h13.6v13.6h-13.6z"/>
<path class=d d="M1506 286h13.6v13.6h-13.6z"/>
<circle class=a cx=1346 cy=471 r=7.1 />
<path class=c d="M1300 170h12.6l-6.3 12.6z"/>
<path class=c d="M1604 165h12.6l-6.3 12.6z"/>
<path class=b d="M1687 354l3.2 3.2 3.2-3.2 3.2 3.2-3.2 3.2 3.2 3.2-3.2 3.2-3.2-3.2-3.2 3.2-3.2-3.2 3.2-3.2-3.2-3.2z"/>
<path class=b d="M1555 575l3.2 3.2 3.2-3.2 3.2 3.2-3.2 3.2 3.2 3.2-3.2 3.2-3.2-3.2-3.2 3.2-3.2-3.2 3.2-3.2-3.2-3.2z"/>
<path class=c d="M1219 258h12.6l-6.3 12.6z"/>
<path class=c d="M1221 252h12.6l-6.3 12.6z"/>
<path class=b d="M1287 748l3.2 3.2 3.2-3.2 3.2 3.2-3.2 3.2 3.2 3.2-3.2 3.2-3.2-3.2-3.2 3.2-3.2-3.2 3.2-3.2-3.2-3.2z"/>
<circle class=a cx=1344 cy=575 r=7.1 />
<path class=b d="M1291 740l3.2 3.2 3.2-3.2 3.2 3.2-3.2 3.2 3.2 3.2-3.2 3.2-3.2-3.2-3.2 3.2-3.2-3.2 3.2-3.2-3.2-3.2z"/>
<path class=e d="M1508 342l6.4 4.6-2.4 7.5-7.9 0-2.4-7.5z"/>
<path class=e d="M1720 566l6.4 4.6-2.4 7.5-7.9 0-2.4-7.5z"/>
<circle class=a cx=1632 cy=472 r=7.1 />
<path class=e d="M1766 574l6.4 4.6-2.4 7.5-7.9 0-2.4-7.5z"/>
<path class=c d="M1164 459h12.6l-6.3 12.6z"/>
<path class=d d="M1437 384h13.6v13.6h-13.6z"/>
<circle class=a cx=1419 cy=460 r=7.1 />
<path class=d d="M1418 487h13.6v13.6h-13.6z"/>
<path class=b d="M1406 695l3.2 3.2 3.2-3.2 3.2 3.2-3.2 3.2 3.2 3.2-3.2 3.2-3.2-3.2-3.2 3.2-3.2-3.2 3.2-3.2-3.2-3.2z"/>
<path class=b d="M1478 799l3.2 3.2 3.2-3.2 3.2 3.2-3.2 3.2 3.2 3.2-3.2 3.2-3.2-3.2-3.2 3.2-3.2-3.2 3.2-3.2-3.2-3.2z"/>
<path class=d d="M1368 588h13.6v13.6h-13.6z"/>
<path class=b d="M1507 506l3.2 3.2 3.2-3.2 3.2 3.2-3.2 3.2 3.2 3.2-3.2 3.2-3.2-3.2-3.2 3.2-3.2-3.2 3.2-3.2-3.2-3.2z"/>
<path class=b d="M1363 563l3.2 3.2 3.2-3.2 3.2 3.2-3.2 3.2 3.2 3.2-3.2 3.2-3.2-3.2-3.2 3.2-3.2-3.2 3.2-3.2-3.2-3.2z"/>
<path class=b d="M1149 626l3.2 3.2 3.2-3.2 3.2 3.2-3.2 3.2 3.2 3.2-3.2 3.2-3.2-3.2-3.2 3.2-3.2-3.2 3.2-3.2-3.2-3.2z"/>
<path class=e d="M1251 576l6.4 4.6-2.4 7.5-7.9 0-2.4-7.5z"/>
<circle class=a cx=1608 cy=435 r=7.1 />
<path class=e d="M1752 484l6.4 4.6-2.4 7.5-7.9 0-2.4-7.5z"/>
<path class=c d="M1532 659h12.6l-6.3 12.6z"/>
<path class=c d="M1181 304h12.6l-6.3 12.6z"/>
<path class=c d="M1457 160h12.6l-6.3 12.6z"/>
<path class=d d="M1549 326h13.6v13.6h-13.6z"/>
<path class=e d="M1382 335l6.4 4.6-2.4 7.5-7.9 0-2.4-7.5z"/>
<path class=d d="M1466 405h13.6v13.6h-13.6z"/>
<path class=b d="M1521 580l3.2 3.2 3.2-3.2 3.2 3.2-3.2 3.2 3.2 3.2-3.2 3.2-3.2-3.2-3.2 3.2-3.2-3.2 3.2-3.2-3.2-3.2z"/>
<path class=e d="M1544 530l6.4 4.6-2.4 7.5-7.9 0-2.4-7.5z"/>
<path class=b d="M1333 728l3.2 3.2 3.2-3.2 3.2 3.2-3.2 3.2 3.2 3.2-3.2 3.2-3.2-3.2-3.2 3.2-3.2-3.2 3.2-3.2-3.2-3.2z"/>
<path class=e d="M1526 557l6.4 4.6-2.4 7.5-7.9 0-2.4-7.5z"/>
<path class=e d="M1301 618l6.4 4.6-2.4 7.5-7.9 0-2.4-7.5z"/>
<path class=c d="M1448 165h12.6l-6.3 12.6z"/>
<path class=d d="M1464 391h13.6v13.6h-13.6z"/>
<path class=c d="M1432 133h12.6l-6.3 12.6z"/>
<path class=c d="M1435 216h12.6l-6.3 12.6z"/>
<path class=d d="M1270 397h13.6v13.6h-13.6z"/>
<path class=d d="M1450 552h13.6v13.6h-13.6z"/>
<path class=c d="M1076 381h12.6l-6.3 12.6z"/>
<path class=c d="M1442 120h12.6l-6.3 12.6z"/>
<path class=d d="M1528 501h13.6v13.6h-13.6z"/>
<path class=c d="M1091 363h12.6l-6.3 12.6z"/>
<path class=d d="M1437 571h13.6v13.6h-13.6z"/>
<circle class=a cx=1421 cy=383 r=7.1 />
<path class=e d="M1299 616l6.4 4.6-2.4 7.5-7.9 0-2.4-7.5z"/>
<path class=e d="M1651 455l6.4 4.6-2.4 7.5-7.9 0-2.4-7.5z"/>
<path class=d d="M1393 569h13.6v13.6h-13.6z"/>
<path class=c d="M1598 713h12.6l-6.3 12.6z"/>
<path class=c d="M1568 681h12.6l-6.3 12.6z"/>
<path class=d d="M1412 510h13.6v13.6h-13.6z"/>
<path class=c d="M1127 468h12.6l-6.3 12.6z"/>
<path class=e d="M1309 601l6.4 4.6-2.4 7.5-7.9 0-2.4-7.5z"/>
<path class=d d="M1563 375h13.6v13.6h-13.6z"/>
<path class=b d="M1703 364l3.2 3.2 3.2-3.2 3.2 3.2-3.2 3.2 3.2 3.2-3.2 3.2-3.2-3.2-3.2 3.2-3.2-3.2 3.2-3.2-3.2-3.2z"/>
<path class=b d="M1110 568l3.2 3.2 3.2-3.2 3.2 3.2-3.2 3.2 3.2 3.2-3.2 3.2-3.2-3.2-3.2 3.2-3.2-3.2 3.2-3.2-3.2-3.2z"/>
<path class=c d="M1323 205h12.6l-6.3 12.6z"/>
<path class=b d="M1329 742l3.2 3.2 3.2-3.2 3.2 3.2-3.2 3.2 3.2 3.2-3.2 3.2-3.2-3.2-3.2 3.2-3.2-3.2 3.2-3.2-3.2-3.2z"/>
<path class=d d="M1390 561h13.6v13.6h-13.6z"/>
<circle class=a cx=1664 cy=498 r=7.1 />
<path class=d d="M1438 387h13.6v13.6h-13.6z"/>
<path class=b d="M1507 458l3.2 3.2 3.2-3.2 3.2 3.2-3.2 3.2 3.2 3.2-3.2 3.2-3.2-3.2-3.2 3.2-3.2-3.2 3.2-3.2-3.2-3.2z"/>
<path class=d d="M1296 383h13.6v13.6h-13.6z"/>
<path class=d d="M1440 447h13.6v13.6h-13.6z"/>
<path class=d d="M1390 516h13.6v13.6h-13.6z"/>
<path class=d d="M1522 278h13.6v13.6h-13.6z"/>
<circle class=a cx=1611 cy=482 r=7.1 />
<path class=b d="M1520 576l3.2 3.2 3.2-3.2 3.2 3.2-3.2 3.2 3.2 3.2-3.2 3.2-3.2-3.2-3.2 3.2-3.2-3.2 3.2-3.2-3.2-3.2z"/>
<circle class=a cx=1753 cy=464 r=7.1 />
<path class=d d="M1621 473h13.6v13.6h-13.6z"/>
<path class=e d="M1729 480l6.4 4.6-2.4 7.5-7.9 0-2.4-7.5z"/>
<path class=e d="M1500 337l6.4 4.6-2.4 7.5-7.9 0-2.4-7.5z"/>
<path class=c d="M1599 174h12.6l-6.3 12.6z"/>
<path class=c d="M1595 173h12.6l-6.3 12.6z"/>
<path class=e d="M1710 515l6.4 4.6-2.4 7.5-7.9 0-2.4-7.5z"/>
<path class=c d="M1212 266h12.6l-6.3 12.6z"/>
<path class=e d="M1723 578l6.4 4.6-2.4 7.5-7.9 0-2.4-7.5z"/>
<path class=d d="M1545 303h13.6v13.6h-13.6z"/>
<path class=c d="M1335 209h12.6l-6.3 12.6z"/>
<circle class=a cx=1448 cy=441 r=7.1 />
<path class=e d="M1794 531l6.4 4.6-2.4 7.5-7.9 0-2.4-7.5z"/>
<path class=d d="M1642 512h13.6v13.6h-13.6z"/>
<path class=e d="M1742 491l6.4 4.6-2.4 7.5-7.9 0-2.4-7.5z"/>
<path class=d d="M1526 305h13.6v13.6h-13.6z"/>
<path class=d d="M1563 486h13.6v13.6h-13.6z"/>
<path class=b d="M1379 713l3.2 3.2 3.2-3.2 3.2 3.2-3.2 3.2 3.2 3.2-3.2 3.2-3.2-3.2-3.2 3.2-3.2-3.2 3.2-3.2-3.2-3.2z"/>
<circle class=a cx=1534 cy=479 r=7.1 />
<path class=d d="M1512 457h13.6v13.6h-13.6z"/>
<path class=c d="M1580 672h12.6l-6.3 12.6z"/>
<path class=e d="M1292 575l6.4 4.6-2.4 7.5-7.9 0-2.4-7.5z"/>
<path class=b d="M1147 598l3.2 3.2 3.2-3.2 3.2 3.2-3.2 3.2 3.2 3.2-3.2 3.2-3.2-3.2-3.2 3.2-3.2-3.2 3.2-3.2-3.2-3.2z"/>
<path class=b d="M1620 427l3.2 3.2 3.2-3.2 3.2 3.2-3.2 3.2 3.2 3.2-3.2 3.2-3.2-3.2-3.2 3.2-3.2-3.2 3.2-3.2-3.2-3.2z"/>
<path class=d d="M1598 404h13.6v13.6h-13.6z"/>
<path class=e d="M1366 384l6.4 4.6-2.4 7.5-7.9 0-2.4-7.5z"/>
<path class=d d="M1481 426h13.6v13.6h-13.6z"/>
<path class=e d="M1707 568l6.4 4.6-2.4 7.5-7.9 0-2.4-7.5z"/>
<path class=e d="M1787 511l6.4 4.6-2.4 7.5-7.9 0-2.4-7.5z"/>
<path class=b d="M1399 686l3.2 3.2 3.2-3.2 3.2 3.2-3.2 3.2 3.2 3.2-3.2 3.2-3.2-3.2-3.2 3.2-3.2-3.2 3.2-3.2-3.2-3.2z"/>
<path class=c d="M1523 668h12.6l-6.3 12.6z"/>
<path class=e d="M1365 381l6.4 4.6-2.4 7.5-7.9 0-2.4-7.5z"/>
<path class=b d="M1358 570l3.2 3.2 3.2-3.2 3.2 3.2-3.2 3.2 3.2 3.2-3.2 3.2-3.2-3.2-3.2 3.2-3.2-3.2 3.2-3.2-3.2-3.2z"/>
<path class=b d="M1141 602l3.2 3.2 3.2-3.2 3.2 3.2-3.2 3.2 3.2 3.2-3.2 3.2-3.2-3.2-3.2 3.2-3.2-3.2 3.2-3.2-3.2-3.2z"/>
<path class=d d="M1372 550h13.6v13.6h-13.6z"/>
<path class=d d="M1399 514h13.6v13.6h-13.6z"/>
<path class=d d="M1563 378h13.6v13.6h-13.6z"/>
<path class=b d="M1143 625l3.2 3.2 3.2-3.2 3.2 3.2-3.2 3.2 3.2 3.2-3.2 3.2-3.2-3.2-3.2 3.2-3.2-3.2 3.2-3.2-3.2-3.2z"/>
<circle class=a cx=1321 cy=518 r=7.1 />
<path class=c d="M1187 276h12.6l-6.3 12.6z"/>
<path class=d d="M1542 326h13.6v13.6h-13.6z"/>
<path class=c d="M1323 173h12.6l-6.3 12.6z"/>
<path class=d d="M1439 571h13.6v13.6h-13.6z"/>
<path class=e d="M1511 363l6.4 4.6-2.4 7.5-7.9 0-2.4-7.5z"/>
<path class=d d="M1405 488h13.6v13.6h-13.6z"/>
<path class=e d="M1796 532l6.4 4.6-2.4 7.5-7.9 0-2.4-7.5z"/>
<path class=e d="M1257 584l6.4 4.6-2.4 7.5-7.9 0-2.4-7.5z"/>
<path class=d d="M1391 591h13.6v13.6h-13.6z"/>
<path class=b d="M1577 569l3.2 3.2 3.2-3.2 3.2 3.2-3.2 3.2 3.2 3.2-3.2 3.2-3.2-3.2-3.2 3.2-3.2-3.2 3.2-3.2-3.2-3.2z"/>
<path class=e d="M1745 497l6.4 4.6-2.4 7.5-7.9 0-2.4-7.5z"/>
<path class=b d="M1136 565l3.2 3.2 3.2-3.2 3.2 3.2-3.2 3.2 3.2 3.2-3.2 3.2-3.2-3.2-3.2 3.2-3.2-3.2 3.2-3.2-3.2-3.2z"/>
<path class=d d="M1611 355h13.6v13.6h-13.6z"/>
<path class=b d="M1681 339l3.2 3.2 3.2-3.2 3.2 3.2-3.2 3.2 3.2 3.2-3.2 3.2-3.2-3.2-3.2 3.2-3.2-3.2 3.2-3.2-3.2-3.2z"/>
<path class=d d="M1464 348h13.6v13.6h-13.6z"/>
<circle class=a cx=1446 cy=314 r=7.1 />
<path class=b d="M1392 708l3.2 3.2 3.2-3.2 3.2 3.2-3.2 3.2 3.2 3.2-3.2 3.2-3.2-3.2-3.2 3.2-3.2-3.2 3.2-3.2-3.2-3.2z"/>
<path class=d d="M1479 514h13.6v13.6h-13.6z"/>
<circle class=a cx=1388 cy=392 r=7.1 />
<path class=e d="M1372 604l6.4 4.6-2.4 7.5-7.9 0-2.4-7.5z"/>
<path class=e d="M1677 451l6.4 4.6-2.4 7.5-7.9 0-2.4-7.5z"/>
<path class=b d="M1418 702l3.2 3.2 3.2-3.2 3.2 3.2-3.2 3.2 3.2 3.2-3.2 3.2-3.2-3.2-3.2 3.2-3.2-3.2 3.2-3.2-3.2-3.2z"/>
<path class=b d="M1658 350l3.2 3.2 3.2-3.2 3.2 3.2-3.2 3.2 3.2 3.2-3.2 3.2-3.2-3.2-3.2 3.2-3.2-3.2 3.2-3.2-3.2-3.2z"/>
<path class=c d="M1550 144h12.6l-6.3 12.6z"/>
<path class=d d="M1477 400h13.6v13.6h-13.6z"/>
<path class=b d="M1642 327l3.2 3.2 3.2-3.2 3.2 3.2-3.2 3.2 3.2 3.2-3.2 3.2-3.2-3.2-3.2 3.2-3.2-3.2 3.2-3.2-3.2-3.2z"/>
<path class=d d="M1565 458h13.6v13.6h-13.6z"/>
<path class=b d="M1119 595l3.2 3.2 3.2-3.2 3.2 3.2-3.2 3.2 3.2 3.2-3.2 3.2-3.2-3.2-3.2 3.2-3.2-3.2 3.2-3.2-3.2-3.2z"/>
<path class=c d="M1174 453h12.6l-6.3 12.6z"/>
<path class=e d="M1486 351l6.4 4.6-2.4 7.5-7.9 0-2.4-7.5z"/>
<path class=d d="M1460 480h13.6v13.6h-13.6z"/>
<path class=c d="M1157 464h12.6l-6.3 12.6z"/>
<circle class=a cx=1330 cy=504 r=7.1 />
<path class=e d="M1753 500l6.4 4.6-2.4 7.5-7.9 0-2.4-7.5z"/>
<path class=d d="M1560 290h13.6v13.6h-13.6z"/>
<path class=c d="M1199 272h12.6l-6.3 12.6z"/>
<path class=b d="M1519 576l3.2 3.2 3.2-3.2 3.2 3.2-3.2 3.2 3.2 3.2-3.2 3.2-3.2-3.2-3.2 3.2-3.2-3.2 3.2-3.2-3.2-3.2z"/>
<circle class=a cx=1732 cy=428 r=7.1 />
<path class=b d="M1704 348l3.2 3.2 3.2-3.2 3.2 3.2-3.2 3.2 3.2 3.2-3.2 3.2-3.2-3.2-3.2 3.2-3.2-3.2 3.2-3.2-3.2-3.2z"/>
<path class=e d="M1765 573l6.4 4.6-2.4 7.5-7.9 0-2.4-7.5z"/>
<circle class=b cx=1520 cy=536 r=7.1 />
<path class=c d="M1313 152h12.6l-6.3 12.6z"/>
<path class=b d="M1390 702l3.2 3.2 3.2-3.2 3.2 3.2-3.2 3.2 3.2 3.2-3.2 3.2-3.2-3.2-3.2 3.2-3.2-3.2 3.2-3.2-3.2-3.2z"/>
<path class=d d="M1437 562h13.6v13.6h-13.6z"/>
<path class=c d="M1342 220h12.6l-6.3 12.6z"/>
<path class=b d="M1704 340l3.2 3.2 3.2-3.2 3.2 3.2-3.2 3.2 3.2 3.2-3.2 3.2-3.2-3.2-3.2 3.2-3.2-3.2 3.2-3.2-3.2-3.2z"/>
<path class=c d="M1432 107h12.6l-6.3 12.6z"/>
<circle class=a cx=1341 cy=463 r=7.1 />
<path class=e d="M1774 580l6.4 4.6-2.4 7.5-7.9 0-2.4-7.5z"/>
<path class=d d="M1349 398h13.6v13.6h-13.6z"/>
<path class=c d="M1079 375h12.6l-6.3 12.6z"/>
<path class=c d="M1521 667h12.6l-6.3 12.6z"/>
<circle class=a cx=1439 cy=368 r=7.1 />
<path class=e d="M1386 582l6.4 4.6-2.4 7.5-7.9 0-2.4-7.5z"/>
<path class=b d="M1699 337l3.2 3.2 3.2-3.2 3.2 3.2-3.2 3.2 3.2 3.2-3.2 3.2-3.2-3.2-3.2 3.2-3.2-3.2 3.2-3.2-3.2-3.2z"/>
<circle class=a cx=1724 cy=483 r=7.1 />
<path class=d d="M1399 519h13.6v13.6h-13.6z"/>
<path class=d d="M1540 296h13.6v13.6h-13.6z"/>
<path class=d d="M1245 354h13.6v13.6h-13.6z"/>
<path class=b d="M1558 547l3.2 3.2 3.2-3.2 3.2 3.2-3.2 3.2 3.2 3.2-3.2 3.2-3.2-3.2-3.2 3.2-3.2-3.2 3.2-3.2-3.2-3.2z"/>
<path class=e d="M1383 334l6.4 4.6-2.4 7.5-7.9 0-2.4-7.5z"/>
<path class=d d="M1464 403h13.6v13.6h-13.6z"/>
<path class=d d="M1505 440h13.6v13.6h-13.6z"/>
<path class=b d="M1479 820l3.2 3.2 3.2-3.2 3.2 3.2-3.2 3.2 3.2 3.2-3.2 3.2-3.2-3.2-3.2 3.2-3.2-3.2 3.2-3.2-3.2-3.2z"/>
<path class=b d="M1530 524l3.2 3.2 3.2-3.2 3.2 3.2-3.2 3.2 3.2 3.2-3.2 3.2-3.2-3.2-3.2 3.2-3.2-3.2 3.2-3.2-3.2-3.2z"/>
<path class=d d="M1295 395h13.6v13.6h-13.6z"/>
<circle class=a cx=1387 cy=394 r=7.1 />
<path class=e d="M1386 589l6.4 4.6-2.4 7.5-7.9 0-2.4-7.5z"/>
<path class=b d="M1385 737l3.2 3.2 3.2-3.2 3.2 3.2-3.2 3.2 3.2 3.2-3.2 3.2-3.2-3.2-3.2 3.2-3.2-3.2 3.2-3.2-3.2-3.2z"/>
<path class=c d="M1178 288h12.6l-6.3 12.6z"/>
<path class=b d="M1130 618l3.2 3.2 3.2-3.2 3.2 3.2-3.2 3.2 3.2 3.2-3.2 3.2-3.2-3.2-3.2 3.2-3.2-3.2 3.2-3.2-3.2-3.2z"/>
<path class=c d="M1083 371h12.6l-6.3 12.6z"/>
<path class=e d="M1390 484l6.4 4.6-2.4 7.5-7.9 0-2.4-7.5z"/>
<path class=b d="M1476 765l3.2 3.2 3.2-3.2 3.2 3.2-3.2 3.2 3.2 3.2-3.2 3.2-3.2-3.2-3.2 3.2-3.2-3.2 3.2-3.2-3.2-3.2z"/>
<path class=b d="M1412 768l3.2 3.2 3.2-3.2 3.2 3.2-3.2 3.2 3.2 3.2-3.2 3.2-3.2-3.2-3.2 3.2-3.2-3.2 3.2-3.2-3.2-3.2z"/>
<path class=d d="M1363 575h13.6v13.6h-13.6z"/>
<circle class=a cx=1358 cy=443 r=7.1 />
<path class=b d="M1148 604l3.2 3.2 3.2-3.2 3.2 3.2-3.2 3.2 3.2 3.2-3.2 3.2-3.2-3.2-3.2 3.2-3.2-3.2 3.2-3.2-3.2-3.2z"/>
<path class=e d="M1434 437l6.4 4.6-2.4 7.5-7.9 0-2.4-7.5z"/>
<path class=e d="M1743 575l6.4 4.6-2.4 7.5-7.9 0-2.4-7.5z"/>
<path class=c d="M1238 269h12.6l-6.3 12.6z"/>
<circle class=a cx=1663 cy=446 r=7.1 />
<path class=d d="M1424 544h13.6v13.6h-13.6z"/>
<circle class=a cx=1407 cy=410 r=7.1 />
<path class=c d="M1333 206h12.6l-6.3 12.6z"/>
<path class=d d="M1400 324h13.6v13.6h-13.6z"/>
<path class=c d="M1182 288h12.6l-6.3 12.6z"/>
<path class=e d="M1366 384l6.4 4.6-2.4 7.5-7.9 0-2.4-7.5z"/>
<circle class=a cx=1603 cy=517 r=7.1 />
<path class=e d="M1372 490l6.4 4.6-2.4 7.5-7.9 0-2.4-7.5z"/>
<path class=c d="M1539 685h12.6l-6.3 12.6z"/>
<path class=b d="M1399 683l3.2 3.2 3.2-3.2 3.2 3.2-3.2 3.2 3.2 3.2-3.2 3.2-3.2-3.2-3.2 3.2-3.2-3.2 3.2-3.2-3.2-3.2z"/>
<path class=e d="M1390 486l6.4 4.6-2.4 7.5-7.9 0-2.4-7.5z"/>
<path class=d d="M1669 386h13.6v13.6h-13.6z"/>
<path class=d d="M1680 398h13.6v13.6h-13.6z"/>
<circle class=a cx=1490 cy=476 r=7.1 />
<path class=c d="M1564 694h12.6l-6.3 12.6z"/>
<path class=b d="M1481 780l3.2 3.2 3.2-3.2 3.2 3.2-3.2 3.2 3.2 3.2-3.2 3.2-3.2-3.2-3.2 3.2-3.2-3.2 3.2-3.2-3.2-3.2z"/>
<path class=c d="M1169 459h12.6l-6.3 12.6z"/>
<path class=b d="M1701 360l3.2 3.2 3.2-3.2 3.2 3.2-3.2 3.2 3.2 3.2-3.2 3.2-3.2-3.2-3.2 3.2-3.2-3.2 3.2-3.2-3.2-3.2z"/>
<circle class=a cx=1639 cy=440 r=7.1 />
<path class=e d="M1730 547l6.4 4.6-2.4 7.5-7.9 0-2.4-7.5z"/>
<path class=b d="M1498 765l3.2 3.2 3.2-3.2 3.2 3.2-3.2 3.2 3.2 3.2-3.2 3.2-3.2-3.2-3.2 3.2-3.2-3.2 3.2-3.2-3.2-3.2z"/>
<circle class=a cx=1391 cy=578 r=7.1 />
<path class=b d="M1510 555l3.2 3.2 3.2-3.2 3.2 3.2-3.2 3.2 3.2 3.2-3.2 3.2-3.2-3.2-3.2 3.2-3.2-3.2 3.2-3.2-3.2-3.2z"/>
<path class=d d="M1596 402h13.6v13.6h-13.6z"/>
<path class=d d="M1758 319h13.6v13.6h-13.6z"/>
<path class=e d="M1706 537l6.4 4.6-2.4 7.5-7.9 0-2.4-7.5z"/>
<path class=e d="M1389 519l6.4 4.6-2.4 7.5-7.9 0-2.4-7.5z"/>
<path class=c d="M1431 116h12.6l-6.3 12.6z"/>
<path class=c d="M1215 260h12.6l-6.3 12.6z"/>
<path class=c d="M1336 209h12.6l-6.3 12.6z"/>
<path class=c d="M1323 203h12.6l-6.3 12.6z"/>
<path class=d d="M1566 302h13.6v13.6h-13.6z"/>
<path class=e d="M1290 623l6.4 4.6-2.4 7.5-7.9 0-2.4-7.5z"/>
<path class=c d="M1451 207h12.6l-6.3 12.6z"/>
<path class=c d="M1430 166h12.6l-6.3 12.6z"/>
<path class=c d="M1347 238h12.6l-6.3 12.6z"/>
<circle class=a cx=1582 cy=522 r=7.1 />
<path class=c d="M1127 460h12.6l-6.3 12.6z"/>
<path class=d d="M1367 583h13.6v13.6h-13.6z"/>
<path class=c d="M1195 264h12.6l-6.3 12.6z"/>
<path class=e d="M1543 528l6.4 4.6-2.4 7.5-7.9 0-2.4-7.5z"/>
<path class=b d="M1353 753l3.2 3.2 3.2-3.2 3.2 3.2-3.2 3.2 3.2 3.2-3.2 3.2-3.2-3.2-3.2 3.2-3.2-3.2 3.2-3.2-3.2-3.2z"/>
<circle class=a cx=1576 cy=491 r=7.1 />
<path class=b d="M1704 381l3.2 3.2 3.2-3.2 3.2 3.2-3.2 3.2 3.2 3.2-3.2 3.2-3.2-3.2-3.2 3.2-3.2-3.2 3.2-3.2-3.2-3.2z"/>
<path class=d d="M1398 438h13.6v13.6h-13.6z"/>
<circle class=a cx=1431 cy=353 r=7.1 />
<path class=c d="M1331 221h12.6l-6.3 12.6z"/>
<path class=d d="M1540 294h13.6v13.6h-13.6z"/>
<path class=c d="M1438 170h12.6l-6.3 12.6z"/>
<path class=d d="M1272 368h13.6v13.6h-13.6z"/>
<path class=d d="M1275 413h13.6v13.6h-13.6z"/>
<path class=b d="M1575 570l3.2 3.2 3.2-3.2 3.2 3.2-3.2 3.2 3.2 3.2-3.2 3.2-3.2-3.2-3.2 3.2-3.2-3.2 3.2-3.2-3.2-3.2z"/>
<path class=d d="M1692 280h13.6v13.6h-13.6z"/>
<path class=c d="M1613 181h12.6l-6.3 12.6z"/>
<path class=b d="M1490 802l3.2 3.2 3.2-3.2 3.2 3.2-3.2 3.2 3.2 3.2-3.2 3.2-3.2-3.2-3.2 3.2-3.2-3.2 3.2-3.2-3.2-3.2z"/>
<path class=e d="M1451 359l6.4 4.6-2.4 7.5-7.9 0-2.4-7.5z"/>
<path class=c d="M1144 466h12.6l-6.3 12.6z"/>
<path class=e d="M1251 577l6.4 4.6-2.4 7.5-7.9 0-2.4-7.5z"/>
<path class=e d="M1739 521l6.4 4.6-2.4 7.5-7.9 0-2.4-7.5z"/>
<circle class=a cx=1442 cy=329 r=7.1 />
<circle class=a cx=1537 cy=486 r=7.1 />
<path class=b d="M1550 490l3.2 3.2 3.2-3.2 3.2 3.2-3.2 3.2 3.2 3.2-3.2 3.2-3.2-3.2-3.2 3.2-3.2-3.2 3.2-3.2-3.2-3.2z"/>
<path class=e d="M1641 443l6.4 4.6-2.4 7.5-7.9 0-2.4-7.5z"/>
<path class=b d="M1685 373l3.2 3.2 3.2-3.2 3.2 3.2-3.2 3.2 3.2 3.2-3.2 3.2-3.2-3.2-3.2 3.2-3.2-3.2 3.2-3.2-3.2-3.2z"/>
<circle class=a cx=1492 cy=332 r=7.1 />
<path class=c d="M1329 221h12.6l-6.3 12.6z"/>
<path class=d d="M1436 387h13.6v13.6h-13.6z"/>
<path class=b d="M1731 376l3.2 3.2 3.2-3.2 3.2 3.2-3.2 3.2 3.2 3.2-3.2 3.2-3.2-3.2-3.2 3.2-3.2-3.2 3.2-3.2-3.2-3.2z"/>
<path class=b d="M1104 607l3.2 3.2 3.2-3.2 3.2 3.2-3.2 3.2 3.2 3.2-3.2 3.2-3.2-3.2-3.2 3.2-3.2-3.2 3.2-3.2-3.2-3.2z"/>
<path class=c d="M1430 100h12.6l-6.3 12.6z"/>
<path class=b d="M1724 357l3.2 3.2 3.2-3.2 3.2 3.2-3.2 3.2 3.2 3.2-3.2 3.2-3.2-3.2-3.2 3.2-3.2-3.2 3.2-3.2-3.2-3.2z"/>
<path class=c d="M1102 454h12.6l-6.3 12.6z"/>
<path class=e d="M1289 574l6.4 4.6-2.4 7.5-7.9 0-2.4-7.5z"/>
<circle class=a cx=1360 cy=372 r=7.1 />
<path class=e d="M1758 582l6.4 4.6-2.4 7.5-7.9 0-2.4-7.5z"/>
<path class=e d="M1763 575l6.4 4.6-2.4 7.5-7.9 0-2.4-7.5z"/>
<path class=e d="M1753 564l6.4 4.6-2.4 7.5-7.9 0-2.4-7.5z"/>
<circle class=a cx=1409 cy=411 r=7.1 />
<path class=e d="M1760 544l6.4 4.6-2.4 7.5-7.9 0-2.4-7.5z"/>
<path class=c d="M1237 269h12.6l-6.3 12.6z"/>
<path class=b d="M1534 491l3.2 3.2 3.2-3.2 3.2 3.2-3.2 3.2 3.2 3.2-3.2 3.2-3.2-3.2-3.2 3.2-3.2-3.2 3.2-3.2-3.2-3.2z"/>
<path class=e d="M1789 542l6.4 4.6-2.4 7.5-7.9 0-2.4-7.5z"/>
<path class=c d="M1448 167h12.6l-6.3 12.6z"/>
<path class=c d="M1114 475h12.6l-6.3 12.6z"/>
<path class=b d="M1585 538l3.2 3.2 3.2-3.2 3.2 3.2-3.2 3.2 3.2 3.2-3.2 3.2-3.2-3.2-3.2 3.2-3.2-3.2 3.2-3.2-3.2-3.2z"/>
<path class=d d="M1757 403h13.6v13.6h-13.6z"/>
<path class=c d="M1207 264h12.6l-6.3 12.6z"/>
<path class=d d="M1451 402h13.6v13.6h-13.6z"/>
<path class=b d="M1383 718l3.2 3.2 3.2-3.2 3.2 3.2-3.2 3.2 3.2 3.2-3.2 3.2-3.2-3.2-3.2 3.2-3.2-3.2 3.2-3.2-3.2-3.2z"/>
<path class=c d="M1551 146h12.6l-6.3 12.6z"/>
<path class=d d="M1505 278h13.6v13.6h-13.6z"/>
<circle class=a cx=1603 cy=500 r=7.1 />
<path class=e d="M1507 342l6.4 4.6-2.4 7.5-7.9 0-2.4-7.5z"/>
<path class=e d="M1706 571l6.4 4.6-2.4 7.5-7.9 0-2.4-7.5z"/>
<circle class=a cx=1611 cy=491 r=7.1 />
<path class=e d="M1316 596l6.4 4.6-2.4 7.5-7.9 0-2.4-7.5z"/>
<path class=b d="M1590 541l3.2 3.2 3.2-3.2 3.2 3.2-3.2 3.2 3.2 3.2-3.2 3.2-3.2-3.2-3.2 3.2-3.2-3.2 3.2-3.2-3.2-3.2z"/>
<path class=e d="M1793 534l6.4 4.6-2.4 7.5-7.9 0-2.4-7.5z"/>
<path class=d d="M1452 454h13.6v13.6h-13.6z"/>
<path class=c d="M1569 147h12.6l-6.3 12.6z"/>
<path class=b d="M1501 764l3.2 3.2 3.2-3.2 3.2 3.2-3.2 3.2 3.2 3.2-3.2 3.2-3.2-3.2-3.2 3.2-3.2-3.2 3.2-3.2-3.2-3.2z"/>
<path class=d d="M1402 552h13.6v13.6h-13.6z"/>
<path class=d d="M1390 593h13.6v13.6h-13.6z"/>
<path class=c d="M1349 238h12.6l-6.3 12.6z"/>
<path class=e d="M1327 597l6.4 4.6-2.4 7.5-7.9 0-2.4-7.5z"/>
<path class=e d="M1656 470l6.4 4.6-2.4 7.5-7.9 0-2.4-7.5z"/>
<path class=b d="M1526 524l3.2 3.2 3.2-3.2 3.2 3.2-3.2 3.2 3.2 3.2-3.2 3.2-3.2-3.2-3.2 3.2-3.2-3.2 3.2-3.2-3.2-3.2z"/>
<path class=c d="M1171 302h12.6l-6.3 12.6z"/>
<path class=e d="M1717 539l6.4 4.6-2.4 7.5-7.9 0-2.4-7.5z"/>
<circle class=a cx=1476 cy=454 r=7.1 />
<path class=c d="M1307 147h12.6l-6.3 12.6z"/>
<path class=d d="M1393 534h13.6v13.6h-13.6z"/>
<path class=b d="M1484 757l3.2 3.2 3.2-3.2 3.2 3.2-3.2 3.2 3.2 3.2-3.2 3.2-3.2-3.2-3.2 3.2-3.2-3.2 3.2-3.2-3.2-3.2z"/>
<circle class=a cx=1425 cy=374 r=7.1 />
<path class=e d="M1477 333l6.4 4.6-2.4 7.5-7.9 0-2.4-7.5z"/>
<circle class=a cx=1436 cy=406 r=7.1 />
<path class=d d="M1302 406h13.6v13.6h-13.6z"/>
<path class=e d="M1509 345l6.4 4.6-2.4 7.5-7.9 0-2.4-7.5z"/>
<circle class=a cx=1269 cy=491 r=7.1 />
<path class=c d="M1579 158h12.6l-6.3 12.6z"/>
<path class=c d="M1429 122h12.6l-6.3 12.6z"/>
<path class=d d="M1525 500h13.6v13.6h-13.6z"/>
<circle class=a cx=1421 cy=363 r=7.1 />
<path class=b d="M1604 539l3.2 3.2 3.2-3.2 3.2 3.2-3.2 3.2 3.2 3.2-3.2 3.2-3.2-3.2-3.2 3.2-3.2-3.2 3.2-3.2-3.2-3.2z"/>
<path class=e d="M1371 601l6.4 4.6-2.4 7.5-7.9 0-2.4-7.5z"/>
<path class=e d="M1316 596l6.4 4.6-2.4 7.5-7.9 0-2.4-7.5z"/>
<path class=c d="M1071 379h12.6l-6.3 12.6z"/>
<circle class=a cx=1647 cy=435 r=7.1 />
<path class=e d="M1313 620l6.4 4.6-2.4 7.5-7.9 0-2.4-7.5z"/>
<path class=d d="M1505 413h13.6v13.6h-13.6z"/>
<path class=e d="M1373 596l6.4 4.6-2.4 7.5-7.9 0-2.4-7.5z"/>
<path class=d d="M1376 510h13.6v13.6h-13.6z"/>
<path class=b d="M1401 731l3.2 3.2 3.2-3.2 3.2 3.2-3.2 3.2 3.2 3.2-3.2 3.2-3.2-3.2-3.2 3.2-3.2-3.2 3.2-3.2-3.2-3.2z"/>
<path class=c d="M1330 199h12.6l-6.3 12.6z"/>
<path class=d d="M1255 387h13.6v13.6h-13.6z"/>
<path class=d d="M1245 359h13.6v13.6h-13.6z"/>
<circle class=a cx=1548 cy=495 r=7.1 />
<circle class=a cx=1640 cy=473 r=7.1 />
<path class=e d="M1364 384l6.4 4.6-2.4 7.5-7.9 0-2.4-7.5z"/>
<path class=c d="M1445 196h12.6l-6.3 12.6z"/>
<path class=d d="M1592 350h13.6v13.6h-13.6z"/>
<circle class=a cx=1364 cy=364 r=7.1 />
<path class=e d="M1589 392l6.4 4.6-2.4 7.5-7.9 0-2.4-7.5z"/>
<circle class=a cx=1326 cy=503 r=7.1 />
<path class=c d="M1548 156h12.6l-6.3 12.6z"/>
<circle class=a cx=1444 cy=310 r=7.1 />
<path class=b d="M1511 555l3.2 3.2 3.2-3.2 3.2 3.2-3.2 3.2 3.2 3.2-3.2 3.2-3.2-3.2-3.2 3.2-3.2-3.2 3.2-3.2-3.2-3.2z"/>
<path class=c d="M1200 283h12.6l-6.3 12.6z"/>
<path class=b d="M1401 719l3.2 3.2 3.2-3.2 3.2 3.2-3.2 3.2 3.2 3.2-3.2 3.2-3.2-3.2-3.2 3.2-3.2-3.2 3.2-3.2-3.2-3.2z"/>
<path class=c d="M1585 698h12.6l-6.3 12.6z"/>
<circle class=a cx=1419 cy=361 r=7.1 />
<path class=e d="M1435 331l6.4 4.6-2.4 7.5-7.9 0-2.4-7.5z"/>
<path class=c d="M1519 675h12.6l-6.3 12.6z"/>
<circle class=a cx=1399 cy=399 r=7.1 />
<path class=c d="M1104 453h12.6l-6.3 12.6z"/>
<path class=d d="M1504 438h13.6v13.6h-13.6z"/>
<path class=b d="M1484 767l3.2 3.2 3.2-3.2 3.2 3.2-3.2 3.2 3.2 3.2-3.2 3.2-3.2-3.2-3.2 3.2-3.2-3.2 3.2-3.2-3.2-3.2z"/>
<circle class=a cx=1554 cy=510 r=7.1 />
<path class=c d="M1430 171h12.6l-6.3 12.6z"/>
<path class=c d="M1415 104h12.6l-6.3 12.6z"/>
<circle class=a cx=1420 cy=446 r=7.1 />
<path class=d d="M1461 415h13.6v13.6h-13.6z"/>
<path class=d d="M1541 374h13.6v13.6h-13.6z"/>
<path class=d d="M1391 536h13.6v13.6h-13.6z"/>
<path class=b d="M1509 508l3.2 3.2 3.2-3.2 3.2 3.2-3.2 3.2 3.2 3.2-3.2 3.2-3.2-3.2-3.2 3.2-3.2-3.2 3.2-3.2-3.2-3.2z"/>
<circle class=a cx=1459 cy=485 r=7.1 />
<path class=c d="M1675 681h12.6l-6.3 12.6z"/>
<circle class=a cx=1597 cy=462 r=7.1 />
<path class=e d="M1767 572l6.4 4.6-2.4 7.5-7.9 0-2.4-7.5z"/>
<path class=e d="M1671 474l6.4 4.6-2.4 7.5-7.9 0-2.4-7.5z"/>
<circle class=a cx=1532 cy=477 r=7.1 />
<path class=c d="M1357 218h12.6l-6.3 12.6z"/>
<path class=d d="M1529 259h13.6v13.6h-13.6z"/>
<path class=c d="M1316 186h12.6l-6.3 12.6z"/>
<path class=c d="M1539 657h12.6l-6.3 12.6z"/>
<path class=b d="M1279 770l3.2 3.2 3.2-3.2 3.2 3.2-3.2 3.2 3.2 3.2-3.2 3.2-3.2-3.2-3.2 3.2-3.2-3.2 3.2-3.2-3.2-3.2z"/>
<path class=c d="M1581 162h12.6l-6.3 12.6z"/>
<path class=c d="M1344 235h12.6l-6.3 12.6z"/>
<path class=e d="M1271 620l6.4 4.6-2.4 7.5-7.9 0-2.4-7.5z"/>
<path class=d d="M1371 442h13.6v13.6h-13.6z"/>
<path class=d d="M1446 414h13.6v13.6h-13.6z"/>
<path class=c d="M1295 157h12.6l-6.3 12.6z"/>
<circle class=a cx=1579 cy=549 r=7.1 />
<path class=d d="M1321 524h13.6v13.6h-13.6z"/>
<path class=d d="M1341 512h13.6v13.6h-13.6z"/>
<path class=e d="M1770 499l6.4 4.6-2.4 7.5-7.9 0-2.4-7.5z"/>
<circle class=a cx=1423 cy=338 r=7.1 />
<path class=d d="M1707 441h13.6v13.6h-13.6z"/>
<path class=d d="M1264 386h13.6v13.6h-13.6z"/>
<path class=d d="M1441 463h13.6v13.6h-13.6z"/>
<path class=d d="M1492 422h13.6v13.6h-13.6z"/>
<circle class=a cx=1351 cy=425 r=7.1 />
<path class=d d="M1538 322h13.6v13.6h-13.6z"/>
<circle class=a cx=1487 cy=547 r=7.1 />
<path class=e d="M1743 572l6.4 4.6-2.4 7.5-7.9 0-2.4-7.5z"/>
<path class=e d="M1744 566l6.4 4.6-2.4 7.5-7.9 0-2.4-7.5z"/>
<path class=d d="M1358 479h13.6v13.6h-13.6z"/>
<path class=d d="M1582 474h13.6v13.6h-13.6z"/>
<circle class=a cx=1389 cy=578 r=7.1 />
<path class=d d="M1422 542h13.6v13.6h-13.6z"/>
<path class=c d="M1564 685h12.6l-6.3 12.6z"/>
<path class=c d="M1678 682h12.6l-6.3 12.6z"/>
<path class=e d="M1672 450l6.4 4.6-2.4 7.5-7.9 0-2.4-7.5z"/>
<path class=b d="M1381 705l3.2 3.2 3.2-3.2 3.2 3.2-3.2 3.2 3.2 3.2-3.2 3.2-3.2-3.2-3.2 3.2-3.2-3.2 3.2-3.2-3.2-3.2z"/>
<path class=b d="M1706 376l3.2 3.2 3.2-3.2 3.2 3.2-3.2 3.2 3.2 3.2-3.2 3.2-3.2-3.2-3.2 3.2-3.2-3.2 3.2-3.2-3.2-3.2z"/>
<path class=d d="M1754 306h13.6v13.6h-13.6z"/>
<path class=e d="M1754 566l6.4 4.6-2.4 7.5-7.9 0-2.4-7.5z"/>
<circle class=a cx=1529 cy=506 r=7.1 />
<path class=c d="M1540 145h12.6l-6.3 12.6z"/>
<path class=c d="M1229 253h12.6l-6.3 12.6z"/>
<circle class=a cx=1465 cy=368 r=7.1 />
<circle class=b cx=1551 cy=558 r=7.1 />
<path class=d d="M1425 453h13.6v13.6h-13.6z"/>
<circle class=a cx=1604 cy=505 r=7.1 />
<path class=d d="M1590 312h13.6v13.6h-13.6z"/>
<path class=d d="M1297 398h13.6v13.6h-13.6z"/>
<path class=e d="M1802 540l6.4 4.6-2.4 7.5-7.9 0-2.4-7.5z"/>
<path class=e d="M1327 617l6.4 4.6-2.4 7.5-7.9 0-2.4-7.5z"/>
<path class=c d="M1433 186h12.6l-6.3 12.6z"/>
<path class=c d="M1429 169h12.6l-6.3 12.6z"/>
<path class=d d="M1508 442h13.6v13.6h-13.6z"/>
<path class=d d="M1377 440h13.6v13.6h-13.6z"/>
<path class=e d="M1588 431l6.4 4.6-2.4 7.5-7.9 0-2.4-7.5z"/>
<path class=b d="M1717 340l3.2 3.2 3.2-3.2 3.2 3.2-3.2 3.2 3.2 3.2-3.2 3.2-3.2-3.2-3.2 3.2-3.2-3.2 3.2-3.2-3.2-3.2z"/>
<circle class=a cx=1421 cy=374 r=7.1 />
<path class=b d="M1684 371l3.2 3.2 3.2-3.2 3.2 3.2-3.2 3.2 3.2 3.2-3.2 3.2-3.2-3.2-3.2 3.2-3.2-3.2 3.2-3.2-3.2-3.2z"/>
<path class=c d="M1206 278h12.6l-6.3 12.6z"/>
<path class=b d="M1605 524l3.2 3.2 3.2-3.2 3.2 3.2-3.2 3.2 3.2 3.2-3.2 3.2-3.2-3.2-3.2 3.2-3.2-3.2 3.2-3.2-3.2-3.2z"/>
<path class=d d="M1289 415h13.6v13.6h-13.6z"/>
<path class=c d="M1185 276h12.6l-6.3 12.6z"/>
<circle class=a cx=1387 cy=404 r=7.1 />
<path class=b d="M1732 373l3.2 3.2 3.2-3.2 3.2 3.2-3.2 3.2 3.2 3.2-3.2 3.2-3.2-3.2-3.2 3.2-3.2-3.2 3.2-3.2-3.2-3.2z"/>
<path class=e d="M1279 593l6.4 4.6-2.4 7.5-7.9 0-2.4-7.5z"/>
<path class=b d="M1318 783l3.2 3.2 3.2-3.2 3.2 3.2-3.2 3.2 3.2 3.2-3.2 3.2-3.2-3.2-3.2 3.2-3.2-3.2 3.2-3.2-3.2-3.2z"/>
<path class=c d="M1548 670h12.6l-6.3 12.6z"/>
<path class=d d="M1646 375h13.6v13.6h-13.6z"/>
<path class=d d="M1446 527h13.6v13.6h-13.6z"/>
<path class=b d="M1305 732l3.2 3.2 3.2-3.2 3.2 3.2-3.2 3.2 3.2 3.2-3.2 3.2-3.2-3.2-3.2 3.2-3.2-3.2 3.2-3.2-3.2-3.2z"/>
<circle class=a cx=1468 cy=540 r=7.1 />
<path class=c d="M1177 306h12.6l-6.3 12.6z"/>
<path class=d d="M1399 516h13.6v13.6h-13.6z"/>
<circle class=a cx=1520 cy=485 r=7.1 />
<path class=b d="M1697 339l3.2 3.2 3.2-3.2 3.2 3.2-3.2 3.2 3.2 3.2-3.2 3.2-3.2-3.2-3.2 3.2-3.2-3.2 3.2-3.2-3.2-3.2z"/>
<path class=d d="M1538 283h13.6v13.6h-13.6z"/>
<path class=d d="M1448 562h13.6v13.6h-13.6z"/>
<path class=b d="M1550 467l3.2 3.2 3.2-3.2 3.2 3.2-3.2 3.2 3.2 3.2-3.2 3.2-3.2-3.2-3.2 3.2-3.2-3.2 3.2-3.2-3.2-3.2z"/>
<circle class=a cx=1424 cy=395 r=7.1 />
<path class=c d="M1688 694h12.6l-6.3 12.6z"/>
<path class=e d="M1650 453l6.4 4.6-2.4 7.5-7.9 0-2.4-7.5z"/>
<circle class=a cx=1508 cy=498 r=7.1 />
<path class=b d="M1424 746l3.2 3.2 3.2-3.2 3.2 3.2-3.2 3.2 3.2 3.2-3.2 3.2-3.2-3.2-3.2 3.2-3.2-3.2 3.2-3.2-3.2-3.2z"/>
<path class=b d="M1107 564l3.2 3.2 3.2-3.2 3.2 3.2-3.2 3.2 3.2 3.2-3.2 3.2-3.2-3.2-3.2 3.2-3.2-3.2 3.2-3.2-3.2-3.2z"/>
<path class=b d="M1463 802l3.2 3.2 3.2-3.2 3.2 3.2-3.2 3.2 3.2 3.2-3.2 3.2-3.2-3.2-3.2 3.2-3.2-3.2 3.2-3.2-3.2-3.2z"/>
<path class=d d="M1416 486h13.6v13.6h-13.6z"/>
<path class=e d="M1767 586l6.4 4.6-2.4 7.5-7.9 0-2.4-7.5z"/>
<path class=e d="M1371 604l6.4 4.6-2.4 7.5-7.9 0-2.4-7.5z"/>
<path class=c d="M1684 676h12.6l-6.3 12.6z"/>
<path class=b d="M1590 543l3.2 3.2 3.2-3.2 3.2 3.2-3.2 3.2 3.2 3.2-3.2 3.2-3.2-3.2-3.2 3.2-3.2-3.2 3.2-3.2-3.2-3.2z"/>
<path class=e d="M1648 451l6.4 4.6-2.4 7.5-7.9 0-2.4-7.5z"/>
<path class=d d="M1382 382h13.6v13.6h-13.6z"/>
<path class=c d="M1613 184h12.6l-6.3 12.6z"/>
<path class=b d="M1513 784l3.2 3.2 3.2-3.2 3.2 3.2-3.2 3.2 3.2 3.2-3.2 3.2-3.2-3.2-3.2 3.2-3.2-3.2 3.2-3.2-3.2-3.2z"/>
<path class=e d="M1775 580l6.4 4.6-2.4 7.5-7.9 0-2.4-7.5z"/>
<path class=c d="M1109 453h12.6l-6.3 12.6z"/>
<circle class=a cx=1394 cy=439 r=7.1 />
<path class=b d="M1527 523l3.2 3.2 3.2-3.2 3.2 3.2-3.2 3.2 3.2 3.2-3.2 3.2-3.2-3.2-3.2 3.2-3.2-3.2 3.2-3.2-3.2-3.2z"/>
<path class=d d="M1674 289h13.6v13.6h-13.6z"/>
<path class=b d="M1545 506l3.2 3.2 3.2-3.2 3.2 3.2-3.2 3.2 3.2 3.2-3.2 3.2-3.2-3.2-3.2 3.2-3.2-3.2 3.2-3.2-3.2-3.2z"/>
<path class=b d="M1120 624l3.2 3.2 3.2-3.2 3.2 3.2-3.2 3.2 3.2 3.2-3.2 3.2-3.2-3.2-3.2 3.2-3.2-3.2 3.2-3.2-3.2-3.2z"/>
<path class=d d="M1451 579h13.6v13.6h-13.6z"/>
<path class=e d="M1265 600l6.4 4.6-2.4 7.5-7.9 0-2.4-7.5z"/>
<path class=e d="M1274 573l6.4 4.6-2.4 7.5-7.9 0-2.4-7.5z"/>
<path class=d d="M1544 329h13.6v13.6h-13.6z"/>
<path class=b d="M1106 601l3.2 3.2 3.2-3.2 3.2 3.2-3.2 3.2 3.2 3.2-3.2 3.2-3.2-3.2-3.2 3.2-3.2-3.2 3.2-3.2-3.2-3.2z"/>
<path class=c d="M1184 274h12.6l-6.3 12.6z"/>
<path class=d d="M1240 377h13.6v13.6h-13.6z"/>
<path class=d d="M1515 302h13.6v13.6h-13.6z"/>
<circle class=a cx=1440 cy=319 r=7.1 />
<path class=c d="M1224 245h12.6l-6.3 12.6z"/>
<path class=b d="M1400 739l3.2 3.2 3.2-3.2 3.2 3.2-3.2 3.2 3.2 3.2-3.2 3.2-3.2-3.2-3.2 3.2-3.2-3.2 3.2-3.2-3.2-3.2z"/>
<path class=b d="M1505 809l3.2 3.2 3.2-3.2 3.2 3.2-3.2 3.2 3.2 3.2-3.2 3.2-3.2-3.2-3.2 3.2-3.2-3.2 3.2-3.2-3.2-3.2z"/>
<path class=b d="M1136 600l3.2 3.2 3.2-3.2 3.2 3.2-3.2 3.2 3.2 3.2-3.2 3.2-3.2-3.2-3.2 3.2-3.2-3.2 3.2-3.2-3.2-3.2z"/>
<path class=b d="M1484 770l3.2 3.2 3.2-3.2 3.2 3.2-3.2 3.2 3.2 3.2-3.2 3.2-3.2-3.2-3.2 3.2-3.2-3.2 3.2-3.2-3.2-3.2z"/>
<path class=b d="M1696 369l3.2 3.2 3.2-3.2 3.2 3.2-3.2 3.2 3.2 3.2-3.2 3.2-3.2-3.2-3.2 3.2-3.2-3.2 3.2-3.2-3.2-3.2z"/>
<path class=e d="M1341 579l6.4 4.6-2.4 7.5-7.9 0-2.4-7.5z"/>
<path class=b d="M1358 731l3.2 3.2 3.2-3.2 3.2 3.2-3.2 3.2 3.2 3.2-3.2 3.2-3.2-3.2-3.2 3.2-3.2-3.2 3.2-3.2-3.2-3.2z"/>
<path class=c d="M1352 226h12.6l-6.3 12.6z"/>
<path class=c d="M1198 284h12.6l-6.3 12.6z"/>
<path class=e d="M1347 476l6.4 4.6-2.4 7.5-7.9 0-2.4-7.5z"/>
<path class=b d="M1737 370l3.2 3.2 3.2-3.2 3.2 3.2-3.2 3.2 3.2 3.2-3.2 3.2-3.2-3.2-3.2 3.2-3.2-3.2 3.2-3.2-3.2-3.2z"/>
<path class=c d="M1568 151h12.6l-6.3 12.6z"/>
<path class=e d="M1280 595l6.4 4.6-2.4 7.5-7.9 0-2.4-7.5z"/>
<path class=b d="M1138 582l3.2 3.2 3.2-3.2 3.2 3.2-3.2 3.2 3.2 3.2-3.2 3.2-3.2-3.2-3.2 3.2-3.2-3.2 3.2-3.2-3.2-3.2z"/>
<path class=d d="M1507 443h13.6v13.6h-13.6z"/>
<circle class=a cx=1435 cy=305 r=7.1 />
<circle class=a cx=1411 cy=435 r=7.1 />
<path class=d d="M1434 509h13.6v13.6h-13.6z"/>
<path class=d d="M1510 441h13.6v13.6h-13.6z"/>
<path class=d d="M1450 404h13.6v13.6h-13.6z"/>
<path class=b d="M1335 776l3.2 3.2 3.2-3.2 3.2 3.2-3.2 3.2 3.2 3.2-3.2 3.2-3.2-3.2-3.2 3.2-3.2-3.2 3.2-3.2-3.2-3.2z"/>
<path class=b d="M1402 739l3.2 3.2 3.2-3.2 3.2 3.2-3.2 3.2 3.2 3.2-3.2 3.2-3.2-3.2-3.2 3.2-3.2-3.2 3.2-3.2-3.2-3.2z"/>
<path class=e d="M1543 527l6.4 4.6-2.4 7.5-7.9 0-2.4-7.5z"/>
<path class=e d="M1511 353l6.4 4.6-2.4 7.5-7.9 0-2.4-7.5z"/>
<path class=c d="M1343 204h12.6l-6.3 12.6z"/>
<path class=d d="M1335 482h13.6v13.6h-13.6z"/>
<circle class=a cx=1438 cy=367 r=7.1 />
<path class=b d="M1368 731l3.2 3.2 3.2-3.2 3.2 3.2-3.2 3.2 3.2 3.2-3.2 3.2-3.2-3.2-3.2 3.2-3.2-3.2 3.2-3.2-3.2-3.2z"/>
<path class=d d="M1565 487h13.6v13.6h-13.6z"/>
<path class=d d="M1681 402h13.6v13.6h-13.6z"/>
<path class=d d="M1616 484h13.6v13.6h-13.6z"/>
<circle class=a cx=1538 cy=489 r=7.1 />
<circle class=a cx=1663 cy=449 r=7.1 />
<path class=e d="M1495 338l6.4 4.6-2.4 7.5-7.9 0-2.4-7.5z"/>
<path class=c d="M1210 255h12.6l-6.3 12.6z"/>
<path class=d d="M1259 397h13.6v13.6h-13.6z"/>
<path class=e d="M1743 563l6.4 4.6-2.4 7.5-7.9 0-2.4-7.5z"/>
<path class=d d="M1581 319h13.6v13.6h-13.6z"/>
<path class=d d="M1294 366h13.6v13.6h-13.6z"/>
<circle class=a cx=1577 cy=582 r=7.1 />
<path class=e d="M1306 567l6.4 4.6-2.4 7.5-7.9 0-2.4-7.5z"/>
<path class=d d="M1390 568h13.6v13.6h-13.6z"/>
<path class=b d="M1604 524l3.2 3.2 3.2-3.2 3.2 3.2-3.2 3.2 3.2 3.2-3.2 3.2-3.2-3.2-3.2 3.2-3.2-3.2 3.2-3.2-3.2-3.2z"/>
<circle class=a cx=1503 cy=500 r=7.1 />
<path class=e d="M1665 475l6.4 4.6-2.4 7.5-7.9 0-2.4-7.5z"/>
<circle class=a cx=1509 cy=491 r=7.1 />
<path class=e d="M1281 598l6.4 4.6-2.4 7.5-7.9 0-2.4-7.5z"/>
<circle class=a cx=1424 cy=387 r=7.1 />
<path class=c d="M1234 270h12.6l-6.3 12.6z"/>
<path class=e d="M1509 352l6.4 4.6-2.4 7.5-7.9 0-2.4-7.5z"/>
<path class=c d="M1539 688h12.6l-6.3 12.6z"/>
<path class=d d="M1503 411h13.6v13.6h-13.6z"/>
<path class=e d="M1379 365l6.4 4.6-2.4 7.5-7.9 0-2.4-7.5z"/>
<path class=c d="M1333 220h12.6l-6.3 12.6z"/>
<path class=c d="M1346 202h12.6l-6.3 12.6z"/>
<path class=e d="M1257 581l6.4 4.6-2.4 7.5-7.9 0-2.4-7.5z"/>
<circle class=a cx=1453 cy=505 r=7.1 />
<path class=b d="M1500 503l3.2 3.2 3.2-3.2 3.2 3.2-3.2 3.2 3.2 3.2-3.2 3.2-3.2-3.2-3.2 3.2-3.2-3.2 3.2-3.2-3.2-3.2z"/>
<path class=d d="M1560 531h13.6v13.6h-13.6z"/>
<circle class=a cx=1653 cy=505 r=7.1 />
<path class=e d="M1384 551l6.4 4.6-2.4 7.5-7.9 0-2.4-7.5z"/>
<path class=c d="M1299 160h12.6l-6.3 12.6z"/>
<path class=e d="M1511 352l6.4 4.6-2.4 7.5-7.9 0-2.4-7.5z"/>
<path class=b d="M1314 783l3.2 3.2 3.2-3.2 3.2 3.2-3.2 3.2 3.2 3.2-3.2 3.2-3.2-3.2-3.2 3.2-3.2-3.2 3.2-3.2-3.2-3.2z"/>
<circle class=a cx=1725 cy=483 r=7.1 />
<circle class=a cx=1389 cy=397 r=7.1 />
<path class=e d="M1753 517l6.4 4.6-2.4 7.5-7.9 0-2.4-7.5z"/>
<path class=b d="M1565 519l3.2 3.2 3.2-3.2 3.2 3.2-3.2 3.2 3.2 3.2-3.2 3.2-3.2-3.2-3.2 3.2-3.2-3.2 3.2-3.2-3.2-3.2z"/>
<path class=b d="M1125 621l3.2 3.2 3.2-3.2 3.2 3.2-3.2 3.2 3.2 3.2-3.2 3.2-3.2-3.2-3.2 3.2-3.2-3.2 3.2-3.2-3.2-3.2z"/>
<path class=b d="M1142 628l3.2 3.2 3.2-3.2 3.2 3.2-3.2 3.2 3.2 3.2-3.2 3.2-3.2-3.2-3.2 3.2-3.2-3.2 3.2-3.2-3.2-3.2z"/>
<path class=d d="M1361 577h13.6v13.6h-13.6z"/>
<path class=e d="M1663 474l6.4 4.6-2.4 7.5-7.9 0-2.4-7.5z"/>
<path class=d d="M1259 367h13.6v13.6h-13.6z"/>
<path class=d d="M1542 514h13.6v13.6h-13.6z"/>
<circle class=a cx=1387 cy=393 r=7.1 />
<circle class=a cx=1423 cy=363 r=7.1 />
<path class=b d="M1131 565l3.2 3.2 3.2-3.2 3.2 3.2-3.2 3.2 3.2 3.2-3.2 3.2-3.2-3.2-3.2 3.2-3.2-3.2 3.2-3.2-3.2-3.2z"/>
<path class=e d="M1725 482l6.4 4.6-2.4 7.5-7.9 0-2.4-7.5z"/>
<circle class=a cx=1428 cy=352 r=7.1 />
<path class=e d="M1724 515l6.4 4.6-2.4 7.5-7.9 0-2.4-7.5z"/>
<circle class=a cx=1371 cy=441 r=7.1 />
<path class=b d="M1480 819l3.2 3.2 3.2-3.2 3.2 3.2-3.2 3.2 3.2 3.2-3.2 3.2-3.2-3.2-3.2 3.2-3.2-3.2 3.2-3.2-3.2-3.2z"/>
<path class=c d="M1201 268h12.6l-6.3 12.6z"/>
<path class=c d="M1171 453h12.6l-6.3 12.6z"/>
<circle class=a cx=1509 cy=492 r=7.1 />
<path class=b d="M1711 338l3.2 3.2 3.2-3.2 3.2 3.2-3.2 3.2 3.2 3.2-3.2 3.2-3.2-3.2-3.2 3.2-3.2-3.2 3.2-3.2-3.2-3.2z"/>
<path class=d d="M1276 415h13.6v13.6h-13.6z"/>
<path class=e d="M1610 377l6.4 4.6-2.4 7.5-7.9 0-2.4-7.5z"/>
<path class=b d="M1285 763l3.2 3.2 3.2-3.2 3.2 3.2-3.2 3.2 3.2 3.2-3.2 3.2-3.2-3.2-3.2 3.2-3.2-3.2 3.2-3.2-3.2-3.2z"/>
<path class=d d="M1746 317h13.6v13.6h-13.6z"/>
<path class=e d="M1296 630l6.4 4.6-2.4 7.5-7.9 0-2.4-7.5z"/>
<circle class=a cx=1380 cy=396 r=7.1 />
<path class=c d="M1428 126h12.6l-6.3 12.6z"/>
<path class=c d="M1564 681h12.6l-6.3 12.6z"/>
<circle class=a cx=1349 cy=507 r=7.1 />
<circle class=a cx=1659 cy=500 r=7.1 />
<path class=c d="M1353 201h12.6l-6.3 12.6z"/>
<path class=d d="M1581 473h13.6v13.6h-13.6z"/>
<circle class=a cx=1332 cy=554 r=7.1 />
<circle class=a cx=1338 cy=407 r=7.1 />
<path class=c d="M1291 149h12.6l-6.3 12.6z"/>
<path class=d d="M1562 378h13.6v13.6h-13.6z"/>
<path class=b d="M1474 474l3.2 3.2 3.2-3.2 3.2 3.2-3.2 3.2 3.2 3.2-3.2 3.2-3.2-3.2-3.2 3.2-3.2-3.2 3.2-3.2-3.2-3.2z"/>
<path class=b d="M1552 491l3.2 3.2 3.2-3.2 3.2 3.2-3.2 3.2 3.2 3.2-3.2 3.2-3.2-3.2-3.2 3.2-3.2-3.2 3.2-3.2-3.2-3.2z"/>
<path class=c d="M1224 246h12.6l-6.3 12.6z"/>
<path class=d d="M1437 349h13.6v13.6h-13.6z"/>
<path class=c d="M1112 475h12.6l-6.3 12.6z"/>
<path class=c d="M1307 158h12.6l-6.3 12.6z"/>
<path class=c d="M1103 454h12.6l-6.3 12.6z"/>
<path class=e d="M1287 626l6.4 4.6-2.4 7.5-7.9 0-2.4-7.5z"/>
<path class=d d="M1374 442h13.6v13.6h-13.6z"/>
<path class=c d="M1298 136h12.6l-6.3 12.6z"/>
<path class=b d="M1122 620l3.2 3.2 3.2-3.2 3.2 3.2-3.2 3.2 3.2 3.2-3.2 3.2-3.2-3.2-3.2 3.2-3.2-3.2 3.2-3.2-3.2-3.2z"/>
<circle class=a cx=1337 cy=554 r=7.1 />
<path class=c d="M1449 206h12.6l-6.3 12.6z"/>
<path class=d d="M1476 548h13.6v13.6h-13.6z"/>
<path class=e d="M1648 456l6.4 4.6-2.4 7.5-7.9 0-2.4-7.5z"/>
<path class=c d="M1611 169h12.6l-6.3 12.6z"/>
<path class=d d="M1406 470h13.6v13.6h-13.6z"/>
<path class=d d="M1254 376h13.6v13.6h-13.6z"/>
<path class=b d="M1343 766l3.2 3.2 3.2-3.2 3.2 3.2-3.2 3.2 3.2 3.2-3.2 3.2-3.2-3.2-3.2 3.2-3.2-3.2 3.2-3.2-3.2-3.2z"/>
<path class=c d="M1351 214h12.6l-6.3 12.6z"/>
<path class=e d="M1725 521l6.4 4.6-2.4 7.5-7.9 0-2.4-7.5z"/>
<path class=e d="M1298 599l6.4 4.6-2.4 7.5-7.9 0-2.4-7.5z"/>
<path class=b d="M1701 380l3.2 3.2 3.2-3.2 3.2 3.2-3.2 3.2 3.2 3.2-3.2 3.2-3.2-3.2-3.2 3.2-3.2-3.2 3.2-3.2-3.2-3.2z"/>
<path class=e d="M1299 628l6.4 4.6-2.4 7.5-7.9 0-2.4-7.5z"/>
<path class=c d="M1427 168h12.6l-6.3 12.6z"/>
<path class=c d="M1605 179h12.6l-6.3 12.6z"/>
<path class=b d="M1504 512l3.2 3.2 3.2-3.2 3.2 3.2-3.2 3.2 3.2 3.2-3.2 3.2-3.2-3.2-3.2 3.2-3.2-3.2 3.2-3.2-3.2-3.2z"/>
<path class=c d="M1332 234h12.6l-6.3 12.6z"/>
<path class=c d="M1685 691h12.6l-6.3 12.6z"/>
<path class=b d="M1315 731l3.2 3.2 3.2-3.2 3.2 3.2-3.2 3.2 3.2 3.2-3.2 3.2-3.2-3.2-3.2 3.2-3.2-3.2 3.2-3.2-3.2-3.2z"/>
<circle class=a cx=1388 cy=391 r=7.1 />
<path class=b d="M1392 704l3.2 3.2 3.2-3.2 3.2 3.2-3.2 3.2 3.2 3.2-3.2 3.2-3.2-3.2-3.2 3.2-3.2-3.2 3.2-3.2-3.2-3.2z"/>
<circle class=a cx=1371 cy=383 r=7.1 />
<path class=e d="M1701 570l6.4 4.6-2.4 7.5-7.9 0-2.4-7.5z"/>
<path class=b d="M1413 754l3.2 3.2 3.2-3.2 3.2 3.2-3.2 3.2 3.2 3.2-3.2 3.2-3.2-3.2-3.2 3.2-3.2-3.2 3.2-3.2-3.2-3.2z"/>
<circle class=a cx=1454 cy=481 r=7.1 />
<circle class=a cx=1388 cy=577 r=7.1 />
<path class=e d="M1275 556l6.4 4.6-2.4 7.5-7.9 0-2.4-7.5z"/>
<path class=e d="M1590 429l6.4 4.6-2.4 7.5-7.9 0-2.4-7.5z"/>
<path class=b d="M1303 734l3.2 3.2 3.2-3.2 3.2 3.2-3.2 3.2 3.2 3.2-3.2 3.2-3.2-3.2-3.2 3.2-3.2-3.2 3.2-3.2-3.2-3.2z"/>
<path class=b d="M1507 556l3.2 3.2 3.2-3.2 3.2 3.2-3.2 3.2 3.2 3.2-3.2 3.2-3.2-3.2-3.2 3.2-3.2-3.2 3.2-3.2-3.2-3.2z"/>
<path class=c d="M1209 256h12.6l-6.3 12.6z"/>
<path class=c d="M1575 693h12.6l-6.3 12.6z"/>
<path class=e d="M1546 576l6.4 4.6-2.4 7.5-7.9 0-2.4-7.5z"/>
<path class=e d="M1251 580l6.4 4.6-2.4 7.5-7.9 0-2.4-7.5z"/>
<circle class=a cx=1595 cy=415 r=7.1 />
<path class=c d="M1565 157h12.6l-6.3 12.6z"/>
<path class=e d="M1507 354l6.4 4.6-2.4 7.5-7.9 0-2.4-7.5z"/>
<path class=d d="M1438 564h13.6v13.6h-13.6z"/>
<path class=e d="M1544 532l6.4 4.6-2.4 7.5-7.9 0-2.4-7.5z"/>
<path class=e d="M1711 447l6.4 4.6-2.4 7.5-7.9 0-2.4-7.5z"/>
<path class=c d="M1430 112h12.6l-6.3 12.6z"/>
<circle class=a cx=1368 cy=404 r=7.1 />
<circle class=a cx=1553 cy=481 r=7.1 />
<circle class=a cx=1371 cy=475 r=7.1 />
<path class=d d="M1399 552h13.6v13.6h-13.6z"/>
<path class=d d="M1668 383h13.6v13.6h-13.6z"/>
<path class=e d="M1774 533l6.4 4.6-2.4 7.5-7.9 0-2.4-7.5z"/>
<path class=b d="M1514 560l3.2 3.2 3.2-3.2 3.2 3.2-3.2 3.2 3.2 3.2-3.2 3.2-3.2-3.2-3.2 3.2-3.2-3.2 3.2-3.2-3.2-3.2z"/>
<path class=c d="M1431 192h12.6l-6.3 12.6z"/>
<path class=c d="M1175 446h12.6l-6.3 12.6z"/>
<circle class=a cx=1698 cy=404 r=7.1 />
<path class=c d="M1350 200h12.6l-6.3 12.6z"/>
<path class=c d="M1449 192h12.6l-6.3 12.6z"/>
<path class=d d="M1422 564h13.6v13.6h-13.6z"/>
<circle class=a cx=1567 cy=452 r=7.1 />
<path class=d d="M1608 357h13.6v13.6h-13.6z"/>
<path class=c d="M1446 177h12.6l-6.3 12.6z"/>
<path class=c d="M1539 659h12.6l-6.3 12.6z"/>
<path class=e d="M1609 375l6.4 4.6-2.4 7.5-7.9 0-2.4-7.5z"/>
<path class=d d="M1460 485h13.6v13.6h-13.6z"/>
<path class=d d="M1510 425h13.6v13.6h-13.6z"/>
<path class=c d="M1588 183h12.6l-6.3 12.6z"/>
<path class=d d="M1423 382h13.6v13.6h-13.6z"/>
<path class=d d="M1302 430h13.6v13.6h-13.6z"/>
<circle class=a cx=1374 cy=384 r=7.1 />
<path class=d d="M1389 560h13.6v13.6h-13.6z"/>
<path class=e d="M1610 375l6.4 4.6-2.4 7.5-7.9 0-2.4-7.5z"/>
<path class=b d="M1494 454l3.2 3.2 3.2-3.2 3.2 3.2-3.2 3.2 3.2 3.2-3.2 3.2-3.2-3.2-3.2 3.2-3.2-3.2 3.2-3.2-3.2-3.2z"/>
<circle class=a cx=1531 cy=414 r=7.1 />
<path class=c d="M1563 696h12.6l-6.3 12.6z"/>
<path class=b d="M1158 613l3.2 3.2 3.2-3.2 3.2 3.2-3.2 3.2 3.2 3.2-3.2 3.2-3.2-3.2-3.2 3.2-3.2-3.2 3.2-3.2-3.2-3.2z"/>
<path class=c d="M1220 254h12.6l-6.3 12.6z"/>
<path class=b d="M1471 782l3.2 3.2 3.2-3.2 3.2 3.2-3.2 3.2 3.2 3.2-3.2 3.2-3.2-3.2-3.2 3.2-3.2-3.2 3.2-3.2-3.2-3.2z"/>
<path class=d d="M1615 519h13.6v13.6h-13.6z"/>
<path class=e d="M1295 597l6.4 4.6-2.4 7.5-7.9 0-2.4-7.5z"/>
<path class=d d="M1294 394h13.6v13.6h-13.6z"/>
<path class=b d="M1328 727l3.2 3.2 3.2-3.2 3.2 3.2-3.2 3.2 3.2 3.2-3.2 3.2-3.2-3.2-3.2 3.2-3.2-3.2 3.2-3.2-3.2-3.2z"/>
<path class=d d="M1484 425h13.6v13.6h-13.6z"/>
<path class=c d="M1431 120h12.6l-6.3 12.6z"/>
<path class=c d="M1326 192h12.6l-6.3 12.6z"/>
<circle class=a cx=1533 cy=474 r=7.1 />
<circle class=a cx=1367 cy=400 r=7.1 />
<path class=c d="M1315 180h12.6l-6.3 12.6z"/>
<path class=b d="M1599 540l3.2 3.2 3.2-3.2 3.2 3.2-3.2 3.2 3.2 3.2-3.2 3.2-3.2-3.2-3.2 3.2-3.2-3.2 3.2-3.2-3.2-3.2z"/>
<path class=b d="M1418 768l3.2 3.2 3.2-3.2 3.2 3.2-3.2 3.2 3.2 3.2-3.2 3.2-3.2-3.2-3.2 3.2-3.2-3.2 3.2-3.2-3.2-3.2z"/>
<path class=c d="M1357 219h12.6l-6.3 12.6z"/>
<path class=d d="M1639 510h13.6v13.6h-13.6z"/>
<path class=b d="M1516 568l3.2 3.2 3.2-3.2 3.2 3.2-3.2 3.2 3.2 3.2-3.2 3.2-3.2-3.2-3.2 3.2-3.2-3.2 3.2-3.2-3.2-3.2z"/>
<path class=e d="M1599 377l6.4 4.6-2.4 7.5-7.9 0-2.4-7.5z"/>
<path class=d d="M1513 459h13.6v13.6h-13.6z"/>
<path class=d d="M1598 400h13.6v13.6h-13.6z"/>
<path class=c d="M1586 700h12.6l-6.3 12.6z"/>
<path class=b d="M1723 368l3.2 3.2 3.2-3.2 3.2 3.2-3.2 3.2 3.2 3.2-3.2 3.2-3.2-3.2-3.2 3.2-3.2-3.2 3.2-3.2-3.2-3.2z"/>
<path class=e d="M1498 334l6.4 4.6-2.4 7.5-7.9 0-2.4-7.5z"/>
<path class=d d="M1635 338h13.6v13.6h-13.6z"/>
<path class=e d="M1702 448l6.4 4.6-2.4 7.5-7.9 0-2.4-7.5z"/>
<path class=c d="M1356 214h12.6l-6.3 12.6z"/>
<path class=e d="M1772 554l6.4 4.6-2.4 7.5-7.9 0-2.4-7.5z"/>
<path class=b d="M1438 755l3.2 3.2 3.2-3.2 3.2 3.2-3.2 3.2 3.2 3.2-3.2 3.2-3.2-3.2-3.2 3.2-3.2-3.2 3.2-3.2-3.2-3.2z"/>
<path class=c d="M1179 287h12.6l-6.3 12.6z"/>
<path class=e d="M1774 567l6.4 4.6-2.4 7.5-7.9 0-2.4-7.5z"/>
<path class=b d="M1360 741l3.2 3.2 3.2-3.2 3.2 3.2-3.2 3.2 3.2 3.2-3.2 3.2-3.2-3.2-3.2 3.2-3.2-3.2 3.2-3.2-3.2-3.2z"/>
<path class=e d="M1301 596l6.4 4.6-2.4 7.5-7.9 0-2.4-7.5z"/>
<path class=c d="M1204 270h12.6l-6.3 12.6z"/>
<circle class=a cx=1394 cy=437 r=7.1 />
<circle class=a cx=1666 cy=501 r=7.1 />
<circle class=a cx=1444 cy=327 r=7.1 />
<path class=d d="M1506 286h13.6v13.6h-13.6z"/>
<path class=b d="M1115 596l3.2 3.2 3.2-3.2 3.2 3.2-3.2 3.2 3.2 3.2-3.2 3.2-3.2-3.2-3.2 3.2-3.2-3.2 3.2-3.2-3.2-3.2z"/>
<path class=b d="M1130 573l3.2 3.2 3.2-3.2 3.2 3.2-3.2 3.2 3.2 3.2-3.2 3.2-3.2-3.2-3.2 3.2-3.2-3.2 3.2-3.2-3.2-3.2z"/>
<circle class=a cx=1450 cy=492 r=7.1 />
<path class=b d="M1518 797l3.2 3.2 3.2-3.2 3.2 3.2-3.2 3.2 3.2 3.2-3.2 3.2-3.2-3.2-3.2 3.2-3.2-3.2 3.2-3.2-3.2-3.2z"/>
<path class=b d="M1482 796l3.2 3.2 3.2-3.2 3.2 3.2-3.2 3.2 3.2 3.2-3.2 3.2-3.2-3.2-3.2 3.2-3.2-3.2 3.2-3.2-3.2-3.2z"/>
<circle class=a cx=1389 cy=467 r=7.1 />
<path class=d d="M1282 349h13.6v13.6h-13.6z"/>
<circle class=a cx=1367 cy=407 r=7.1 />
<circle class=a cx=1475 cy=449 r=7.1 />
<path class=d d="M1502 437h13.6v13.6h-13.6z"/>
<path class=b d="M1553 573l3.2 3.2 3.2-3.2 3.2 3.2-3.2 3.2 3.2 3.2-3.2 3.2-3.2-3.2-3.2 3.2-3.2-3.2 3.2-3.2-3.2-3.2z"/>
<path class=e d="M1345 583l6.4 4.6-2.4 7.5-7.9 0-2.4-7.5z"/>
<path class=e d="M1264 560l6.4 4.6-2.4 7.5-7.9 0-2.4-7.5z"/>
<circle class=a cx=1655 cy=451 r=7.1 />
<circle class=a cx=1501 cy=513 r=7.1 />
<circle class=b cx=1576 cy=556 r=7.1 />
<path class=b d="M1558 575l3.2 3.2 3.2-3.2 3.2 3.2-3.2 3.2 3.2 3.2-3.2 3.2-3.2-3.2-3.2 3.2-3.2-3.2 3.2-3.2-3.2-3.2z"/>
<path class=b d="M1449 826l3.2 3.2 3.2-3.2 3.2 3.2-3.2 3.2 3.2 3.2-3.2 3.2-3.2-3.2-3.2 3.2-3.2-3.2 3.2-3.2-3.2-3.2z"/>
<path class=b d="M1713 341l3.2 3.2 3.2-3.2 3.2 3.2-3.2 3.2 3.2 3.2-3.2 3.2-3.2-3.2-3.2 3.2-3.2-3.2 3.2-3.2-3.2-3.2z"/>
<path class=d d="M1693 285h13.6v13.6h-13.6z"/>
<path class=c d="M1125 469h12.6l-6.3 12.6z"/>
<path class=c d="M1191 285h12.6l-6.3 12.6z"/>
<path class=b d="M1359 562l3.2 3.2 3.2-3.2 3.2 3.2-3.2 3.2 3.2 3.2-3.2 3.2-3.2-3.2-3.2 3.2-3.2-3.2 3.2-3.2-3.2-3.2z"/>
<path class=d d="M1564 462h13.6v13.6h-13.6z"/>
<path class=b d="M1594 443l6.4 4.6-2.4 7.5-7.9 0-2.4-7.5z"/>
<circle class=a cx=1414 cy=433 r=7.1 />
<path class=b d="M1735 379l3.2 3.2 3.2-3.2 3.2 3.2-3.2 3.2 3.2 3.2-3.2 3.2-3.2-3.2-3.2 3.2-3.2-3.2 3.2-3.2-3.2-3.2z"/>
<path class=b d="M1401 725l3.2 3.2 3.2-3.2 3.2 3.2-3.2 3.2 3.2 3.2-3.2 3.2-3.2-3.2-3.2 3.2-3.2-3.2 3.2-3.2-3.2-3.2z"/>
<path class=c d="M1320 182h12.6l-6.3 12.6z"/>
<path class=b d="M1480 784l3.2 3.2 3.2-3.2 3.2 3.2-3.2 3.2 3.2 3.2-3.2 3.2-3.2-3.2-3.2 3.2-3.2-3.2 3.2-3.2-3.2-3.2z"/>
<path class=c d="M1341 232h12.6l-6.3 12.6z"/>
<path class=e d="M1385 589l6.4 4.6-2.4 7.5-7.9 0-2.4-7.5z"/>
<path class=c d="M1552 681h12.6l-6.3 12.6z"/>
<path class=c d="M1595 711h12.6l-6.3 12.6z"/>
<path class=c d="M1414 109h12.6l-6.3 12.6z"/>
<circle class=a cx=1390 cy=359 r=7.1 />
<path class=d d="M1300 362h13.6v13.6h-13.6z"/>
<path class=d d="M1269 401h13.6v13.6h-13.6z"/>
<path class=c d="M1144 466h12.6l-6.3 12.6z"/>
<circle class=a cx=1369 cy=413 r=7.1 />
<path class=b d="M1691 361l3.2 3.2 3.2-3.2 3.2 3.2-3.2 3.2 3.2 3.2-3.2 3.2-3.2-3.2-3.2 3.2-3.2-3.2 3.2-3.2-3.2-3.2z"/>
<path class=e d="M1790 544l6.4 4.6-2.4 7.5-7.9 0-2.4-7.5z"/>
<path class=c d="M1446 214h12.6l-6.3 12.6z"/>
<path class=c d="M1096 367h12.6l-6.3 12.6z"/>
<path class=e d="M1345 583l6.4 4.6-2.4 7.5-7.9 0-2.4-7.5z"/>
<path class=e d="M1386 519l6.4 4.6-2.4 7.5-7.9 0-2.4-7.5z"/>
<path class=c d="M1168 463h12.6l-6.3 12.6z"/>
<path class=c d="M1436 122h12.6l-6.3 12.6z"/>
<path class=e d="M1694 476l6.4 4.6-2.4 7.5-7.9 0-2.4-7.5z"/>
<path class=b d="M1542 505l3.2 3.2 3.2-3.2 3.2 3.2-3.2 3.2 3.2 3.2-3.2 3.2-3.2-3.2-3.2 3.2-3.2-3.2 3.2-3.2-3.2-3.2z"/>
<path class=b d="M1447 760l3.2 3.2 3.2-3.2 3.2 3.2-3.2 3.2 3.2 3.2-3.2 3.2-3.2-3.2-3.2 3.2-3.2-3.2 3.2-3.2-3.2-3.2z"/>
<path class=c d="M1169 456h12.6l-6.3 12.6z"/>
<path class=b d="M1351 753l3.2 3.2 3.2-3.2 3.2 3.2-3.2 3.2 3.2 3.2-3.2 3.2-3.2-3.2-3.2 3.2-3.2-3.2 3.2-3.2-3.2-3.2z"/>
<path class=e d="M1369 385l6.4 4.6-2.4 7.5-7.9 0-2.4-7.5z"/>
<path class=c d="M1577 712h12.6l-6.3 12.6z"/>
<path class=d d="M1478 516h13.6v13.6h-13.6z"/>
<path class=b d="M1488 453l3.2 3.2 3.2-3.2 3.2 3.2-3.2 3.2 3.2 3.2-3.2 3.2-3.2-3.2-3.2 3.2-3.2-3.2 3.2-3.2-3.2-3.2z"/>
<path class=c d="M1573 675h12.6l-6.3 12.6z"/>
<circle class=a cx=1339 cy=464 r=7.1 />
<path class=e d="M1268 575l6.4 4.6-2.4 7.5-7.9 0-2.4-7.5z"/>
<path class=d d="M1556 301h13.6v13.6h-13.6z"/>
<path class=c d="M1544 673h12.6l-6.3 12.6z"/>
<path class=e d="M1291 624l6.4 4.6-2.4 7.5-7.9 0-2.4-7.5z"/>
<path class=b d="M1114 580l3.2 3.2 3.2-3.2 3.2 3.2-3.2 3.2 3.2 3.2-3.2 3.2-3.2-3.2-3.2 3.2-3.2-3.2 3.2-3.2-3.2-3.2z"/>
<path class=d d="M1285 350h13.6v13.6h-13.6z"/>
<path class=d d="M1464 348h13.6v13.6h-13.6z"/>
<circle class=a cx=1438 cy=302 r=7.1 />
<path class=e d="M1373 598l6.4 4.6-2.4 7.5-7.9 0-2.4-7.5z"/>
<path class=c d="M1171 290h12.6l-6.3 12.6z"/>
<path class=e d="M1703 510l6.4 4.6-2.4 7.5-7.9 0-2.4-7.5z"/>
<path class=b d="M1426 723l3.2 3.2 3.2-3.2 3.2 3.2-3.2 3.2 3.2 3.2-3.2 3.2-3.2-3.2-3.2 3.2-3.2-3.2 3.2-3.2-3.2-3.2z"/>
<path class=d d="M1406 562h13.6v13.6h-13.6z"/>
<path class=b d="M1578 560l3.2 3.2 3.2-3.2 3.2 3.2-3.2 3.2 3.2 3.2-3.2 3.2-3.2-3.2-3.2 3.2-3.2-3.2 3.2-3.2-3.2-3.2z"/>
<path class=c d="M1219 258h12.6l-6.3 12.6z"/>
<path class=c d="M1683 693h12.6l-6.3 12.6z"/>
<path class=b d="M1419 725l3.2 3.2 3.2-3.2 3.2 3.2-3.2 3.2 3.2 3.2-3.2 3.2-3.2-3.2-3.2 3.2-3.2-3.2 3.2-3.2-3.2-3.2z"/>
<path class=b d="M1604 538l3.2 3.2 3.2-3.2 3.2 3.2-3.2 3.2 3.2 3.2-3.2 3.2-3.2-3.2-3.2 3.2-3.2-3.2 3.2-3.2-3.2-3.2z"/>
<path class=b d="M1371 708l3.2 3.2 3.2-3.2 3.2 3.2-3.2 3.2 3.2 3.2-3.2 3.2-3.2-3.2-3.2 3.2-3.2-3.2 3.2-3.2-3.2-3.2z"/>
<path class=b d="M1141 618l3.2 3.2 3.2-3.2 3.2 3.2-3.2 3.2 3.2 3.2-3.2 3.2-3.2-3.2-3.2 3.2-3.2-3.2 3.2-3.2-3.2-3.2z"/>
<path class=c d="M1227 257h12.6l-6.3 12.6z"/>
<circle class=a cx=1357 cy=441 r=7.1 />
<path class=e d="M1753 515l6.4 4.6-2.4 7.5-7.9 0-2.4-7.5z"/>
<circle class=a cx=1519 cy=487 r=7.1 />
<circle class=a cx=1409 cy=410 r=7.1 />
<path class=a d="M1727 433h13.6v13.6h-13.6z"/>
<path class=c d="M1200 267h12.6l-6.3 12.6z"/>
<circle class=a cx=1411 cy=437 r=7.1 />
<path class=c d="M1096 371h12.6l-6.3 12.6z"/>
<circle class=a cx=1476 cy=429 r=7.1 />
<circle class=a cx=1417 cy=448 r=7.1 />
<path class=d d="M1279 397h13.6v13.6h-13.6z"/>
<path class=d d="M1305 435h13.6v13.6h-13.6z"/>
<path class=b d="M1520 576l3.2 3.2 3.2-3.2 3.2 3.2-3.2 3.2 3.2 3.2-3.2 3.2-3.2-3.2-3.2 3.2-3.2-3.2 3.2-3.2-3.2-3.2z"/>
<path class=e d="M1710 510l6.4 4.6-2.4 7.5-7.9 0-2.4-7.5z"/>
<path class=e d="M1268 574l6.4 4.6-2.4 7.5-7.9 0-2.4-7.5z"/>
<path class=e d="M1588 388l6.4 4.6-2.4 7.5-7.9 0-2.4-7.5z"/>
<path class=d d="M1457 452h13.6v13.6h-13.6z"/>
<path class=d d="M1246 361h13.6v13.6h-13.6z"/>
<path class=d d="M1636 359h13.6v13.6h-13.6z"/>
<path class=e d="M1349 577l6.4 4.6-2.4 7.5-7.9 0-2.4-7.5z"/>
<circle class=a cx=1329 cy=552 r=7.1 />
<path class=b d="M1690 346l3.2 3.2 3.2-3.2 3.2 3.2-3.2 3.2 3.2 3.2-3.2 3.2-3.2-3.2-3.2 3.2-3.2-3.2 3.2-3.2-3.2-3.2z"/>
<path class=b d="M1518 791l3.2 3.2 3.2-3.2 3.2 3.2-3.2 3.2 3.2 3.2-3.2 3.2-3.2-3.2-3.2 3.2-3.2-3.2 3.2-3.2-3.2-3.2z"/>
<path class=e d="M1375 317l6.4 4.6-2.4 7.5-7.9 0-2.4-7.5z"/>
<path class=b d="M1496 561l3.2 3.2 3.2-3.2 3.2 3.2-3.2 3.2 3.2 3.2-3.2 3.2-3.2-3.2-3.2 3.2-3.2-3.2 3.2-3.2-3.2-3.2z"/>
<path class=c d="M1068 373h12.6l-6.3 12.6z"/>
<path class=b d="M1720 367l3.2 3.2 3.2-3.2 3.2 3.2-3.2 3.2 3.2 3.2-3.2 3.2-3.2-3.2-3.2 3.2-3.2-3.2 3.2-3.2-3.2-3.2z"/>
<circle class=a cx=1333 cy=433 r=7.1 />
<path class=e d="M1738 537l6.4 4.6-2.4 7.5-7.9 0-2.4-7.5z"/>
<path class=c d="M1351 204h12.6l-6.3 12.6z"/>
<path class=b d="M1485 505l3.2 3.2 3.2-3.2 3.2 3.2-3.2 3.2 3.2 3.2-3.2 3.2-3.2-3.2-3.2 3.2-3.2-3.2 3.2-3.2-3.2-3.2z"/>
<path class=e d="M1511 349l6.4 4.6-2.4 7.5-7.9 0-2.4-7.5z"/>
<circle class=a cx=1330 cy=551 r=7.1 />
<path class=b d="M1305 754l3.2 3.2 3.2-3.2 3.2 3.2-3.2 3.2 3.2 3.2-3.2 3.2-3.2-3.2-3.2 3.2-3.2-3.2 3.2-3.2-3.2-3.2z"/>
<path class=c d="M1536 677h12.6l-6.3 12.6z"/>
<circle class=a cx=1392 cy=466 r=7.1 />
<path class=e d="M1380 427l6.4 4.6-2.4 7.5-7.9 0-2.4-7.5z"/>
<path class=c d="M1544 141h12.6l-6.3 12.6z"/>
<path class=e d="M1512 363l6.4 4.6-2.4 7.5-7.9 0-2.4-7.5z"/>
<path class=d d="M1375 552h13.6v13.6h-13.6z"/>
<path class=b d="M1469 478l3.2 3.2 3.2-3.2 3.2 3.2-3.2 3.2 3.2 3.2-3.2 3.2-3.2-3.2-3.2 3.2-3.2-3.2 3.2-3.2-3.2-3.2z"/>
<circle class=a cx=1617 cy=482 r=7.1 />
<path class=b d="M1115 591l3.2 3.2 3.2-3.2 3.2 3.2-3.2 3.2 3.2 3.2-3.2 3.2-3.2-3.2-3.2 3.2-3.2-3.2 3.2-3.2-3.2-3.2z"/>
<path class=e d="M1703 538l6.4 4.6-2.4 7.5-7.9 0-2.4-7.5z"/>
<path class=d d="M1493 436h13.6v13.6h-13.6z"/>
<path class=e d="M1326 614l6.4 4.6-2.4 7.5-7.9 0-2.4-7.5z"/>
<path class=d d="M1514 465h13.6v13.6h-13.6z"/>
<path class=d d="M1355 480h13.6v13.6h-13.6z"/>
<path class=b d="M1119 620l3.2 3.2 3.2-3.2 3.2 3.2-3.2 3.2 3.2 3.2-3.2 3.2-3.2-3.2-3.2 3.2-3.2-3.2 3.2-3.2-3.2-3.2z"/>
<path class=d d="M1454 553h13.6v13.6h-13.6z"/>
<path class=c d="M1584 714h12.6l-6.3 12.6z"/>
<path class=b d="M1511 787l3.2 3.2 3.2-3.2 3.2 3.2-3.2 3.2 3.2 3.2-3.2 3.2-3.2-3.2-3.2 3.2-3.2-3.2 3.2-3.2-3.2-3.2z"/>
<path class=b d="M1473 765l3.2 3.2 3.2-3.2 3.2 3.2-3.2 3.2 3.2 3.2-3.2 3.2-3.2-3.2-3.2 3.2-3.2-3.2 3.2-3.2-3.2-3.2z"/>
<path class=e d="M1268 630l6.4 4.6-2.4 7.5-7.9 0-2.4-7.5z"/>
<path class=c d="M1321 203h12.6l-6.3 12.6z"/>
<path class=b d="M1557 491l3.2 3.2 3.2-3.2 3.2 3.2-3.2 3.2 3.2 3.2-3.2 3.2-3.2-3.2-3.2 3.2-3.2-3.2 3.2-3.2-3.2-3.2z"/>
<circle class=a cx=1619 cy=448 r=7.1 />
<path class=c d="M1296 153h12.6l-6.3 12.6z"/>
<path class=b d="M1476 768l3.2 3.2 3.2-3.2 3.2 3.2-3.2 3.2 3.2 3.2-3.2 3.2-3.2-3.2-3.2 3.2-3.2-3.2 3.2-3.2-3.2-3.2z"/>
<path class=c d="M1349 217h12.6l-6.3 12.6z"/>
<path class=c d="M1589 167h12.6l-6.3 12.6z"/>
<path class=c d="M1338 232h12.6l-6.3 12.6z"/>
<circle class=a cx=1737 cy=407 r=7.1 />
<circle class=a cx=1603 cy=518 r=7.1 />
<path class=b d="M1518 326l3.2 3.2 3.2-3.2 3.2 3.2-3.2 3.2 3.2 3.2-3.2 3.2-3.2-3.2-3.2 3.2-3.2-3.2 3.2-3.2-3.2-3.2z"/>
<path class=c d="M1434 116h12.6l-6.3 12.6z"/>
<path class=d d="M1577 413h13.6v13.6h-13.6z"/>
<path class=d d="M1580 290h13.6v13.6h-13.6z"/>
<circle class=a cx=1666 cy=448 r=7.1 />
<circle class=a cx=1369 cy=404 r=7.1 />
<path class=d d="M1390 560h13.6v13.6h-13.6z"/>
<circle class=a cx=1456 cy=438 r=7.1 />
<path class=c d="M1187 298h12.6l-6.3 12.6z"/>
<path class=d d="M1372 550h13.6v13.6h-13.6z"/>
<path class=d d="M1391 594h13.6v13.6h-13.6z"/>
<path class=d d="M1430 528h13.6v13.6h-13.6z"/>
<path class=b d="M1492 565l3.2 3.2 3.2-3.2 3.2 3.2-3.2 3.2 3.2 3.2-3.2 3.2-3.2-3.2-3.2 3.2-3.2-3.2 3.2-3.2-3.2-3.2z"/>
<path class=d d="M1444 459h13.6v13.6h-13.6z"/>
<path class=b d="M1507 757l3.2 3.2 3.2-3.2 3.2 3.2-3.2 3.2 3.2 3.2-3.2 3.2-3.2-3.2-3.2 3.2-3.2-3.2 3.2-3.2-3.2-3.2z"/>
<path class=d d="M1529 324h13.6v13.6h-13.6z"/>
<path class=c d="M1127 467h12.6l-6.3 12.6z"/>
<path class=c d="M1125 458h12.6l-6.3 12.6z"/>
<path class=b d="M1484 757l3.2 3.2 3.2-3.2 3.2 3.2-3.2 3.2 3.2 3.2-3.2 3.2-3.2-3.2-3.2 3.2-3.2-3.2 3.2-3.2-3.2-3.2z"/>
<path class=b d="M1481 800l3.2 3.2 3.2-3.2 3.2 3.2-3.2 3.2 3.2 3.2-3.2 3.2-3.2-3.2-3.2 3.2-3.2-3.2 3.2-3.2-3.2-3.2z"/>
<path class=d d="M1589 314h13.6v13.6h-13.6z"/>
<path class=d d="M1308 379h13.6v13.6h-13.6z"/>
<path class=c d="M1428 103h12.6l-6.3 12.6z"/>
<path class=c d="M1219 249h12.6l-6.3 12.6z"/>
<path class=c d="M1296 159h12.6l-6.3 12.6z"/>
<path class=b d="M1728 375l3.2 3.2 3.2-3.2 3.2 3.2-3.2 3.2 3.2 3.2-3.2 3.2-3.2-3.2-3.2 3.2-3.2-3.2 3.2-3.2-3.2-3.2z"/>
<path class=e d="M1377 318l6.4 4.6-2.4 7.5-7.9 0-2.4-7.5z"/>
<path class=d d="M1541 377h13.6v13.6h-13.6z"/>
<path class=c d="M1333 208h12.6l-6.3 12.6z"/>
<path class=e d="M1269 630l6.4 4.6-2.4 7.5-7.9 0-2.4-7.5z"/>
<path class=b d="M1556 576l3.2 3.2 3.2-3.2 3.2 3.2-3.2 3.2 3.2 3.2-3.2 3.2-3.2-3.2-3.2 3.2-3.2-3.2 3.2-3.2-3.2-3.2z"/>
<path class=e d="M1507 343l6.4 4.6-2.4 7.5-7.9 0-2.4-7.5z"/>
<path class=e d="M1357 601l6.4 4.6-2.4 7.5-7.9 0-2.4-7.5z"/>
<path class=d d="M1573 413h13.6v13.6h-13.6z"/>
<path class=d d="M1531 320h13.6v13.6h-13.6z"/>
<path class=d d="M1671 309h13.6v13.6h-13.6z"/>
<path class=e d="M1258 555l6.4 4.6-2.4 7.5-7.9 0-2.4-7.5z"/>
<path class=c d="M1567 144h12.6l-6.3 12.6z"/>
<path class=e d="M1246 603l6.4 4.6-2.4 7.5-7.9 0-2.4-7.5z"/>
<path class=c d="M1305 168h12.6l-6.3 12.6z"/>
<circle class=a cx=1659 cy=466 r=7.1 />
<path class=b d="M1451 830l3.2 3.2 3.2-3.2 3.2 3.2-3.2 3.2 3.2 3.2-3.2 3.2-3.2-3.2-3.2 3.2-3.2-3.2 3.2-3.2-3.2-3.2z"/>
<path class=e d="M1802 549l6.4 4.6-2.4 7.5-7.9 0-2.4-7.5z"/>
<path class=c d="M1166 461h12.6l-6.3 12.6z"/>
<path class=d d="M1510 425h13.6v13.6h-13.6z"/>
<path class=c d="M1237 242h12.6l-6.3 12.6z"/>
<path class=e d="M1374 594l6.4 4.6-2.4 7.5-7.9 0-2.4-7.5z"/>
<path class=d d="M1437 538h13.6v13.6h-13.6z"/>
<path class=e d="M1539 344l6.4 4.6-2.4 7.5-7.9 0-2.4-7.5z"/>
<path class=b d="M1545 469l3.2 3.2 3.2-3.2 3.2 3.2-3.2 3.2 3.2 3.2-3.2 3.2-3.2-3.2-3.2 3.2-3.2-3.2 3.2-3.2-3.2-3.2z"/>
<path class=d d="M1666 366h13.6v13.6h-13.6z"/>
<path class=b d="M1728 370l3.2 3.2 3.2-3.2 3.2 3.2-3.2 3.2 3.2 3.2-3.2 3.2-3.2-3.2-3.2 3.2-3.2-3.2 3.2-3.2-3.2-3.2z"/>
<path class=e d="M1541 342l6.4 4.6-2.4 7.5-7.9 0-2.4-7.5z"/>
<circle class=a cx=1511 cy=495 r=7.1 />
<path class=b d="M1320 787l3.2 3.2 3.2-3.2 3.2 3.2-3.2 3.2 3.2 3.2-3.2 3.2-3.2-3.2-3.2 3.2-3.2-3.2 3.2-3.2-3.2-3.2z"/>
<path class=c d="M1331 236h12.6l-6.3 12.6z"/>
<path class=e d="M1762 563l6.4 4.6-2.4 7.5-7.9 0-2.4-7.5z"/>
<path class=d d="M1534 517h13.6v13.6h-13.6z"/>
<path class=c d="M1588 167h12.6l-6.3 12.6z"/>
<circle class=a cx=1337 cy=556 r=7.1 />
<path class=e d="M1796 531l6.4 4.6-2.4 7.5-7.9 0-2.4-7.5z"/>
<path class=e d="M1302 580l6.4 4.6-2.4 7.5-7.9 0-2.4-7.5z"/>
<path class=b d="M1466 790l3.2 3.2 3.2-3.2 3.2 3.2-3.2 3.2 3.2 3.2-3.2 3.2-3.2-3.2-3.2 3.2-3.2-3.2 3.2-3.2-3.2-3.2z"/>
<circle class=a cx=1758 cy=438 r=7.1 />
<path class=d d="M1266 353h13.6v13.6h-13.6z"/>
<path class=e d="M1717 488l6.4 4.6-2.4 7.5-7.9 0-2.4-7.5z"/>
<path class=c d="M1419 99h12.6l-6.3 12.6z"/>
<path class=b d="M1279 770l3.2 3.2 3.2-3.2 3.2 3.2-3.2 3.2 3.2 3.2-3.2 3.2-3.2-3.2-3.2 3.2-3.2-3.2 3.2-3.2-3.2-3.2z"/>
<path class=c d="M1682 677h12.6l-6.3 12.6z"/>
<path class=e d="M1728 545l6.4 4.6-2.4 7.5-7.9 0-2.4-7.5z"/>
<path class=b d="M1563 519l3.2 3.2 3.2-3.2 3.2 3.2-3.2 3.2 3.2 3.2-3.2 3.2-3.2-3.2-3.2 3.2-3.2-3.2 3.2-3.2-3.2-3.2z"/>
<path class=d d="M1651 355h13.6v13.6h-13.6z"/>
<path class=d d="M1421 527h13.6v13.6h-13.6z"/>
<path class=e d="M1715 484l6.4 4.6-2.4 7.5-7.9 0-2.4-7.5z"/>
<circle class=a cx=1633 cy=469 r=7.1 />
<path class=b d="M1543 473l3.2 3.2 3.2-3.2 3.2 3.2-3.2 3.2 3.2 3.2-3.2 3.2-3.2-3.2-3.2 3.2-3.2-3.2 3.2-3.2-3.2-3.2z"/>
<path class=c d="M1446 221h12.6l-6.3 12.6z"/>
<path class=b d="M1320 731l3.2 3.2 3.2-3.2 3.2 3.2-3.2 3.2 3.2 3.2-3.2 3.2-3.2-3.2-3.2 3.2-3.2-3.2 3.2-3.2-3.2-3.2z"/>
<path class=c d="M1086 368h12.6l-6.3 12.6z"/>
<path class=c d="M1556 150h12.6l-6.3 12.6z"/>
<path class=b d="M1533 489l3.2 3.2 3.2-3.2 3.2 3.2-3.2 3.2 3.2 3.2-3.2 3.2-3.2-3.2-3.2 3.2-3.2-3.2 3.2-3.2-3.2-3.2z"/>
<circle class=a cx=1596 cy=493 r=7.1 />
<path class=b d="M1405 698l3.2 3.2 3.2-3.2 3.2 3.2-3.2 3.2 3.2 3.2-3.2 3.2-3.2-3.2-3.2 3.2-3.2-3.2 3.2-3.2-3.2-3.2z"/>
<path class=e d="M1240 536l6.4 4.6-2.4 7.5-7.9 0-2.4-7.5z"/>
<path class=e d="M1308 560l6.4 4.6-2.4 7.5-7.9 0-2.4-7.5z"/>
<path class=d d="M1508 428h13.6v13.6h-13.6z"/>
<path class=c d="M1214 265h12.6l-6.3 12.6z"/>
<path class=b d="M1529 490l3.2 3.2 3.2-3.2 3.2 3.2-3.2 3.2 3.2 3.2-3.2 3.2-3.2-3.2-3.2 3.2-3.2-3.2 3.2-3.2-3.2-3.2z"/>
<path class=b d="M1395 735l3.2 3.2 3.2-3.2 3.2 3.2-3.2 3.2 3.2 3.2-3.2 3.2-3.2-3.2-3.2 3.2-3.2-3.2 3.2-3.2-3.2-3.2z"/>
<circle class=a cx=1669 cy=462 r=7.1 />
<path class=b d="M1502 463l3.2 3.2 3.2-3.2 3.2 3.2-3.2 3.2 3.2 3.2-3.2 3.2-3.2-3.2-3.2 3.2-3.2-3.2 3.2-3.2-3.2-3.2z"/>
<path class=c d="M1613 181h12.6l-6.3 12.6z"/>
<path class=c d="M1067 375h12.6l-6.3 12.6z"/>
<path class=b d="M1510 785l3.2 3.2 3.2-3.2 3.2 3.2-3.2 3.2 3.2 3.2-3.2 3.2-3.2-3.2-3.2 3.2-3.2-3.2 3.2-3.2-3.2-3.2z"/>
<path class=c d="M1095 370h12.6l-6.3 12.6z"/>
<path class=e d="M1716 491l6.4 4.6-2.4 7.5-7.9 0-2.4-7.5z"/>
<path class=d d="M1391 558h13.6v13.6h-13.6z"/>
<path class=d d="M1512 462h13.6v13.6h-13.6z"/>
<path class=e d="M1770 554l6.4 4.6-2.4 7.5-7.9 0-2.4-7.5z"/>
<path class=c d="M1532 683h12.6l-6.3 12.6z"/>
<path class=c d="M1422 98h12.6l-6.3 12.6z"/>
<path class=c d="M1564 154h12.6l-6.3 12.6z"/>
<path class=b d="M1532 568l3.2 3.2 3.2-3.2 3.2 3.2-3.2 3.2 3.2 3.2-3.2 3.2-3.2-3.2-3.2 3.2-3.2-3.2 3.2-3.2-3.2-3.2z"/>
<path class=c d="M1594 730h12.6l-6.3 12.6z"/>
<path class=d d="M1561 552h13.6v13.6h-13.6z"/>
<path class=e d="M1776 579l6.4 4.6-2.4 7.5-7.9 0-2.4-7.5z"/>
<path class=c d="M1447 187h12.6l-6.3 12.6z"/>
<path class=b d="M1511 565l3.2 3.2 3.2-3.2 3.2 3.2-3.2 3.2 3.2 3.2-3.2 3.2-3.2-3.2-3.2 3.2-3.2-3.2 3.2-3.2-3.2-3.2z"/>
<path class=d d="M1388 591h13.6v13.6h-13.6z"/>
<path class=c d="M1083 380h12.6l-6.3 12.6z"/>
<path class=b d="M1559 552l3.2 3.2 3.2-3.2 3.2 3.2-3.2 3.2 3.2 3.2-3.2 3.2-3.2-3.2-3.2 3.2-3.2-3.2 3.2-3.2-3.2-3.2z"/>
<path class=d d="M1526 543h13.6v13.6h-13.6z"/>
<path class=d d="M1570 379h13.6v13.6h-13.6z"/>
<path class=b d="M1499 766l3.2 3.2 3.2-3.2 3.2 3.2-3.2 3.2 3.2 3.2-3.2 3.2-3.2-3.2-3.2 3.2-3.2-3.2 3.2-3.2-3.2-3.2z"/>
<path class=c d="M1690 687h12.6l-6.3 12.6z"/>
<path class=c d="M1350 214h12.6l-6.3 12.6z"/>
<path class=b d="M1682 353l3.2 3.2 3.2-3.2 3.2 3.2-3.2 3.2 3.2 3.2-3.2 3.2-3.2-3.2-3.2 3.2-3.2-3.2 3.2-3.2-3.2-3.2z"/>
<path class=b d="M1498 562l3.2 3.2 3.2-3.2 3.2 3.2-3.2 3.2 3.2 3.2-3.2 3.2-3.2-3.2-3.2 3.2-3.2-3.2 3.2-3.2-3.2-3.2z"/>
<path class=d d="M1396 435h13.6v13.6h-13.6z"/>
<path class=e d="M1780 560l6.4 4.6-2.4 7.5-7.9 0-2.4-7.5z"/>
<path class=c d="M1545 149h12.6l-6.3 12.6z"/>
<path class=c d="M1102 469h12.6l-6.3 12.6z"/>
<path class=e d="M1279 525l6.4 4.6-2.4 7.5-7.9 0-2.4-7.5z"/>
<path class=c d="M1453 173h12.6l-6.3 12.6z"/>
<path class=e d="M1720 541l6.4 4.6-2.4 7.5-7.9 0-2.4-7.5z"/>
<path class=d d="M1272 365h13.6v13.6h-13.6z"/>
<circle class=a cx=1593 cy=495 r=7.1 />
<path class=c d="M1601 169h12.6l-6.3 12.6z"/>
<path class=d d="M1753 315h13.6v13.6h-13.6z"/>
<path class=b d="M1558 544l3.2 3.2 3.2-3.2 3.2 3.2-3.2 3.2 3.2 3.2-3.2 3.2-3.2-3.2-3.2 3.2-3.2-3.2 3.2-3.2-3.2-3.2z"/>
<path class=c d="M1233 256h12.6l-6.3 12.6z"/>
<path class=e d="M1274 502l6.4 4.6-2.4 7.5-7.9 0-2.4-7.5z"/>
<path class=c d="M1595 715h12.6l-6.3 12.6z"/>
<path class=d d="M1683 292h13.6v13.6h-13.6z"/>
<path class=d d="M1615 487h13.6v13.6h-13.6z"/>
<path class=e d="M1303 583l6.4 4.6-2.4 7.5-7.9 0-2.4-7.5z"/>
<path class=b d="M1412 768l3.2 3.2 3.2-3.2 3.2 3.2-3.2 3.2 3.2 3.2-3.2 3.2-3.2-3.2-3.2 3.2-3.2-3.2 3.2-3.2-3.2-3.2z"/>
<path class=d d="M1473 546h13.6v13.6h-13.6z"/>
<circle class=a cx=1771 cy=425 r=7.1 />
<path class=d d="M1423 555h13.6v13.6h-13.6z"/>
<path class=c d="M1420 116h12.6l-6.3 12.6z"/>
<circle class=a cx=1605 cy=478 r=7.1 />
<path class=d d="M1431 511h13.6v13.6h-13.6z"/>
<path class=d d="M1506 289h13.6v13.6h-13.6z"/>
<path class=c d="M1307 147h12.6l-6.3 12.6z"/>
<path class=c d="M1680 690h12.6l-6.3 12.6z"/>
<path class=e d="M1323 526l6.4 4.6-2.4 7.5-7.9 0-2.4-7.5z"/>
<path class=d d="M1437 382h13.6v13.6h-13.6z"/>
<path class=d d="M1692 277h13.6v13.6h-13.6z"/>
<path class=d d="M1440 539h13.6v13.6h-13.6z"/>
<circle class=a cx=1506 cy=501 r=7.1 />
<path class=b d="M1306 756l3.2 3.2 3.2-3.2 3.2 3.2-3.2 3.2 3.2 3.2-3.2 3.2-3.2-3.2-3.2 3.2-3.2-3.2 3.2-3.2-3.2-3.2z"/>
<path class=b d="M1494 780l3.2 3.2 3.2-3.2 3.2 3.2-3.2 3.2 3.2 3.2-3.2 3.2-3.2-3.2-3.2 3.2-3.2-3.2 3.2-3.2-3.2-3.2z"/>
<path class=d d="M1741 469h13.6v13.6h-13.6z"/>
<path class=e d="M1311 622l6.4 4.6-2.4 7.5-7.9 0-2.4-7.5z"/>
<path class=d d="M1545 511h13.6v13.6h-13.6z"/>
<path class=c d="M1113 480h12.6l-6.3 12.6z"/>
<path class=c d="M1088 366h12.6l-6.3 12.6z"/>
<path class=b d="M1467 791l3.2 3.2 3.2-3.2 3.2 3.2-3.2 3.2 3.2 3.2-3.2 3.2-3.2-3.2-3.2 3.2-3.2-3.2 3.2-3.2-3.2-3.2z"/>
<path class=d d="M1568 306h13.6v13.6h-13.6z"/>
<path class=c d="M1611 721h12.6l-6.3 12.6z"/>
<path class=d d="M1559 488h13.6v13.6h-13.6z"/>
<circle class=a cx=1370 cy=414 r=7.1 />
<path class=b d="M1368 565l3.2 3.2 3.2-3.2 3.2 3.2-3.2 3.2 3.2 3.2-3.2 3.2-3.2-3.2-3.2 3.2-3.2-3.2 3.2-3.2-3.2-3.2z"/>
<path class=c d="M1535 662h12.6l-6.3 12.6z"/>
<path class=b d="M1733 376l3.2 3.2 3.2-3.2 3.2 3.2-3.2 3.2 3.2 3.2-3.2 3.2-3.2-3.2-3.2 3.2-3.2-3.2 3.2-3.2-3.2-3.2z"/>
<path class=b d="M1480 501l3.2 3.2 3.2-3.2 3.2 3.2-3.2 3.2 3.2 3.2-3.2 3.2-3.2-3.2-3.2 3.2-3.2-3.2 3.2-3.2-3.2-3.2z"/>
<path class=c d="M1335 198h12.6l-6.3 12.6z"/>
<path class=b d="M1104 609l3.2 3.2 3.2-3.2 3.2 3.2-3.2 3.2 3.2 3.2-3.2 3.2-3.2-3.2-3.2 3.2-3.2-3.2 3.2-3.2-3.2-3.2z"/>
<circle class=a cx=1564 cy=506 r=7.1 />
<circle class=a cx=1550 cy=427 r=7.1 />
<circle class=a cx=1668 cy=463 r=7.1 />
<path class=d d="M1539 291h13.6v13.6h-13.6z"/>
<path class=d d="M1694 287h13.6v13.6h-13.6z"/>
<circle class=a cx=1346 cy=530 r=7.1 />
<circle class=a cx=1581 cy=524 r=7.1 />
<circle class=b cx=1520 cy=539 r=7.1 />
<path class=b d="M1554 492l3.2 3.2 3.2-3.2 3.2 3.2-3.2 3.2 3.2 3.2-3.2 3.2-3.2-3.2-3.2 3.2-3.2-3.2 3.2-3.2-3.2-3.2z"/>
<path class=d d="M1603 346h13.6v13.6h-13.6z"/>
<path class=c d="M1462 165h12.6l-6.3 12.6z"/>
<circle class=a cx=1571 cy=449 r=7.1 />
<path class=d d="M1475 548h13.6v13.6h-13.6z"/>
<path class=b d="M1362 746l3.2 3.2 3.2-3.2 3.2 3.2-3.2 3.2 3.2 3.2-3.2 3.2-3.2-3.2-3.2 3.2-3.2-3.2 3.2-3.2-3.2-3.2z"/>
<circle class=a cx=1386 cy=419 r=7.1 />
<circle class=a cx=1734 cy=426 r=7.1 />
<path class=e d="M1753 568l6.4 4.6-2.4 7.5-7.9 0-2.4-7.5z"/>
<path class=b d="M1421 704l3.2 3.2 3.2-3.2 3.2 3.2-3.2 3.2 3.2 3.2-3.2 3.2-3.2-3.2-3.2 3.2-3.2-3.2 3.2-3.2-3.2-3.2z"/>
<path class=e d="M1714 486l6.4 4.6-2.4 7.5-7.9 0-2.4-7.5z"/>
<path class=c d="M1597 719h12.6l-6.3 12.6z"/>
<circle class=a cx=1564 cy=508 r=7.1 />
<path class=e d="M1376 595l6.4 4.6-2.4 7.5-7.9 0-2.4-7.5z"/>
<circle class=a cx=1368 cy=423 r=7.1 />
<path class=b d="M1305 753l3.2 3.2 3.2-3.2 3.2 3.2-3.2 3.2 3.2 3.2-3.2 3.2-3.2-3.2-3.2 3.2-3.2-3.2 3.2-3.2-3.2-3.2z"/>
<path class=c d="M1540 664h12.6l-6.3 12.6z"/>
<path class=d d="M1282 424h13.6v13.6h-13.6z"/>
<circle class=b cx=1554 cy=557 r=7.1 />
<path class=d d="M1437 385h13.6v13.6h-13.6z"/>
<path class=d d="M1595 358h13.6v13.6h-13.6z"/>
<path class=d d="M1586 304h13.6v13.6h-13.6z"/>
<path class=b d="M1324 730l3.2 3.2 3.2-3.2 3.2 3.2-3.2 3.2 3.2 3.2-3.2 3.2-3.2-3.2-3.2 3.2-3.2-3.2 3.2-3.2-3.2-3.2z"/>
<circle class=b cx=1554 cy=559 r=7.1 />
<path class=c d="M1329 220h12.6l-6.3 12.6z"/>
<path class=b d="M1707 338l3.2 3.2 3.2-3.2 3.2 3.2-3.2 3.2 3.2 3.2-3.2 3.2-3.2-3.2-3.2 3.2-3.2-3.2 3.2-3.2-3.2-3.2z"/>
<path class=c d="M1435 216h12.6l-6.3 12.6z"/>
<path class=b d="M1140 585l3.2 3.2 3.2-3.2 3.2 3.2-3.2 3.2 3.2 3.2-3.2 3.2-3.2-3.2-3.2 3.2-3.2-3.2 3.2-3.2-3.2-3.2z"/>
<path class=c d="M1439 168h12.6l-6.3 12.6z"/>
<circle class=a cx=1537 cy=465 r=7.1 />
<path class=b d="M1515 567l3.2 3.2 3.2-3.2 3.2 3.2-3.2 3.2 3.2 3.2-3.2 3.2-3.2-3.2-3.2 3.2-3.2-3.2 3.2-3.2-3.2-3.2z"/>
<circle class=a cx=1370 cy=405 r=7.1 />
<path class=d d="M1393 567h13.6v13.6h-13.6z"/>
<path class=b d="M1506 503l3.2 3.2 3.2-3.2 3.2 3.2-3.2 3.2 3.2 3.2-3.2 3.2-3.2-3.2-3.2 3.2-3.2-3.2 3.2-3.2-3.2-3.2z"/>
<path class=b d="M1695 369l3.2 3.2 3.2-3.2 3.2 3.2-3.2 3.2 3.2 3.2-3.2 3.2-3.2-3.2-3.2 3.2-3.2-3.2 3.2-3.2-3.2-3.2z"/>
<path class=b d="M1531 490l3.2 3.2 3.2-3.2 3.2 3.2-3.2 3.2 3.2 3.2-3.2 3.2-3.2-3.2-3.2 3.2-3.2-3.2 3.2-3.2-3.2-3.2z"/>
<path class=c d="M1453 209h12.6l-6.3 12.6z"/>
<path class=b d="M1482 819l3.2 3.2 3.2-3.2 3.2 3.2-3.2 3.2 3.2 3.2-3.2 3.2-3.2-3.2-3.2 3.2-3.2-3.2 3.2-3.2-3.2-3.2z"/>
<circle class=a cx=1439 cy=316 r=7.1 />
<path class=c d="M1436 205h12.6l-6.3 12.6z"/>
<circle class=a cx=1561 cy=586 r=7.1 />
<path class=d d="M1555 304h13.6v13.6h-13.6z"/>
<path class=c d="M1558 151h12.6l-6.3 12.6z"/>
<circle class=a cx=1554 cy=545 r=7.1 />
<path class=c d="M1351 201h12.6l-6.3 12.6z"/>
<path class=b d="M1160 627l3.2 3.2 3.2-3.2 3.2 3.2-3.2 3.2 3.2 3.2-3.2 3.2-3.2-3.2-3.2 3.2-3.2-3.2 3.2-3.2-3.2-3.2z"/>
<path class=e d="M1371 601l6.4 4.6-2.4 7.5-7.9 0-2.4-7.5z"/>
<path class=d d="M1661 290h13.6v13.6h-13.6z"/>
<path class=c d="M1324 176h12.6l-6.3 12.6z"/>
<path class=b d="M1398 713l3.2 3.2 3.2-3.2 3.2 3.2-3.2 3.2 3.2 3.2-3.2 3.2-3.2-3.2-3.2 3.2-3.2-3.2 3.2-3.2-3.2-3.2z"/>
<path class=e d="M1239 514l6.4 4.6-2.4 7.5-7.9 0-2.4-7.5z"/>
<path class=d d="M1389 409h13.6v13.6h-13.6z"/>
<circle class=a cx=1434 cy=329 r=7.1 />
<path class=b d="M1497 797l3.2 3.2 3.2-3.2 3.2 3.2-3.2 3.2 3.2 3.2-3.2 3.2-3.2-3.2-3.2 3.2-3.2-3.2 3.2-3.2-3.2-3.2z"/>
<path class=b d="M1499 455l3.2 3.2 3.2-3.2 3.2 3.2-3.2 3.2 3.2 3.2-3.2 3.2-3.2-3.2-3.2 3.2-3.2-3.2 3.2-3.2-3.2-3.2z"/>
<path class=b d="M1484 507l3.2 3.2 3.2-3.2 3.2 3.2-3.2 3.2 3.2 3.2-3.2 3.2-3.2-3.2-3.2 3.2-3.2-3.2 3.2-3.2-3.2-3.2z"/>
<path class=c d="M1090 375h12.6l-6.3 12.6z"/>
<path class=e d="M1758 581l6.4 4.6-2.4 7.5-7.9 0-2.4-7.5z"/>
<path class=c d="M1532 681h12.6l-6.3 12.6z"/>
<path class=b d="M1578 561l3.2 3.2 3.2-3.2 3.2 3.2-3.2 3.2 3.2 3.2-3.2 3.2-3.2-3.2-3.2 3.2-3.2-3.2 3.2-3.2-3.2-3.2z"/>
<path class=e d="M1278 553l6.4 4.6-2.4 7.5-7.9 0-2.4-7.5z"/>
<circle class=a cx=1398 cy=400 r=7.1 />
<path class=e d="M1310 604l6.4 4.6-2.4 7.5-7.9 0-2.4-7.5z"/>
<path class=b d="M1106 601l3.2 3.2 3.2-3.2 3.2 3.2-3.2 3.2 3.2 3.2-3.2 3.2-3.2-3.2-3.2 3.2-3.2-3.2 3.2-3.2-3.2-3.2z"/>
<path class=d d="M1464 390h13.6v13.6h-13.6z"/>
<path class=e d="M1720 513l6.4 4.6-2.4 7.5-7.9 0-2.4-7.5z"/>
<path class=e d="M1722 566l6.4 4.6-2.4 7.5-7.9 0-2.4-7.5z"/>
<path class=d d="M1602 347h13.6v13.6h-13.6z"/>
<circle class=a cx=1475 cy=450 r=7.1 />
<path class=c d="M1228 246h12.6l-6.3 12.6z"/>
<path class=b d="M1511 325l3.2 3.2 3.2-3.2 3.2 3.2-3.2 3.2 3.2 3.2-3.2 3.2-3.2-3.2-3.2 3.2-3.2-3.2 3.2-3.2-3.2-3.2z"/>
<path class=e d="M1803 540l6.4 4.6-2.4 7.5-7.9 0-2.4-7.5z"/>
<path class=e d="M1258 533l6.4 4.6-2.4 7.5-7.9 0-2.4-7.5z"/>
<circle class=a cx=1375 cy=382 r=7.1 />
<path class=d d="M1295 353h13.6v13.6h-13.6z"/>
<path class=c d="M1452 178h12.6l-6.3 12.6z"/>
<path class=c d="M1357 217h12.6l-6.3 12.6z"/>
<path class=b d="M1364 744l3.2 3.2 3.2-3.2 3.2 3.2-3.2 3.2 3.2 3.2-3.2 3.2-3.2-3.2-3.2 3.2-3.2-3.2 3.2-3.2-3.2-3.2z"/>
<path class=d d="M1511 427h13.6v13.6h-13.6z"/>
<path class=e d="M1724 580l6.4 4.6-2.4 7.5-7.9 0-2.4-7.5z"/>
<path class=b d="M1154 622l3.2 3.2 3.2-3.2 3.2 3.2-3.2 3.2 3.2 3.2-3.2 3.2-3.2-3.2-3.2 3.2-3.2-3.2 3.2-3.2-3.2-3.2z"/>
<path class=b d="M1374 712l3.2 3.2 3.2-3.2 3.2 3.2-3.2 3.2 3.2 3.2-3.2 3.2-3.2-3.2-3.2 3.2-3.2-3.2 3.2-3.2-3.2-3.2z"/>
<path class=b d="M1128 608l3.2 3.2 3.2-3.2 3.2 3.2-3.2 3.2 3.2 3.2-3.2 3.2-3.2-3.2-3.2 3.2-3.2-3.2 3.2-3.2-3.2-3.2z"/>
<path class=b d="M1493 456l3.2 3.2 3.2-3.2 3.2 3.2-3.2 3.2 3.2 3.2-3.2 3.2-3.2-3.2-3.2 3.2-3.2-3.2 3.2-3.2-3.2-3.2z"/>
<path class=b d="M1355 729l3.2 3.2 3.2-3.2 3.2 3.2-3.2 3.2 3.2 3.2-3.2 3.2-3.2-3.2-3.2 3.2-3.2-3.2 3.2-3.2-3.2-3.2z"/>
<circle class=a cx=1489 cy=542 r=7.1 />
<path class=c d="M1421 119h12.6l-6.3 12.6z"/>
<circle class=a cx=1575 cy=436 r=7.1 />
<path class=b d="M1536 566l3.2 3.2 3.2-3.2 3.2 3.2-3.2 3.2 3.2 3.2-3.2 3.2-3.2-3.2-3.2 3.2-3.2-3.2 3.2-3.2-3.2-3.2z"/>
<path class=d d="M1412 507h13.6v13.6h-13.6z"/>
<path class=e d="M1260 556l6.4 4.6-2.4 7.5-7.9 0-2.4-7.5z"/>
<path class=b d="M1319 773l3.2 3.2 3.2-3.2 3.2 3.2-3.2 3.2 3.2 3.2-3.2 3.2-3.2-3.2-3.2 3.2-3.2-3.2 3.2-3.2-3.2-3.2z"/>
<path class=b d="M1641 486l3.2 3.2 3.2-3.2 3.2 3.2-3.2 3.2 3.2 3.2-3.2 3.2-3.2-3.2-3.2 3.2-3.2-3.2 3.2-3.2-3.2-3.2z"/>
<path class=b d="M1472 762l3.2 3.2 3.2-3.2 3.2 3.2-3.2 3.2 3.2 3.2-3.2 3.2-3.2-3.2-3.2 3.2-3.2-3.2 3.2-3.2-3.2-3.2z"/>
<circle class=a cx=1614 cy=490 r=7.1 />
<path class=c d="M1193 264h12.6l-6.3 12.6z"/>
<circle class=a cx=1549 cy=536 r=7.1 />
<path class=c d="M1133 458h12.6l-6.3 12.6z"/>
<path class=c d="M1131 460h12.6l-6.3 12.6z"/>
<path class=d d="M1546 514h13.6v13.6h-13.6z"/>
<path class=b d="M1606 518l3.2 3.2 3.2-3.2 3.2 3.2-3.2 3.2 3.2 3.2-3.2 3.2-3.2-3.2-3.2 3.2-3.2-3.2 3.2-3.2-3.2-3.2z"/>
<circle class=a cx=1552 cy=483 r=7.1 />
<path class=c d="M1156 464h12.6l-6.3 12.6z"/>
<path class=e d="M1308 605l6.4 4.6-2.4 7.5-7.9 0-2.4-7.5z"/>
<path class=b d="M1490 449l3.2 3.2 3.2-3.2 3.2 3.2-3.2 3.2 3.2 3.2-3.2 3.2-3.2-3.2-3.2 3.2-3.2-3.2 3.2-3.2-3.2-3.2z"/>
<path class=b d="M1105 608l3.2 3.2 3.2-3.2 3.2 3.2-3.2 3.2 3.2 3.2-3.2 3.2-3.2-3.2-3.2 3.2-3.2-3.2 3.2-3.2-3.2-3.2z"/>
<path class=b d="M1549 574l3.2 3.2 3.2-3.2 3.2 3.2-3.2 3.2 3.2 3.2-3.2 3.2-3.2-3.2-3.2 3.2-3.2-3.2 3.2-3.2-3.2-3.2z"/>
<path class=b d="M1486 787l3.2 3.2 3.2-3.2 3.2 3.2-3.2 3.2 3.2 3.2-3.2 3.2-3.2-3.2-3.2 3.2-3.2-3.2 3.2-3.2-3.2-3.2z"/>
<path class=b d="M1504 507l3.2 3.2 3.2-3.2 3.2 3.2-3.2 3.2 3.2 3.2-3.2 3.2-3.2-3.2-3.2 3.2-3.2-3.2 3.2-3.2-3.2-3.2z"/>
<path class=b d="M1423 725l3.2 3.2 3.2-3.2 3.2 3.2-3.2 3.2 3.2 3.2-3.2 3.2-3.2-3.2-3.2 3.2-3.2-3.2 3.2-3.2-3.2-3.2z"/>
<circle class=a cx=1419 cy=457 r=7.1 />
<path class=d d="M1664 386h13.6v13.6h-13.6z"/>
<circle class=a cx=1371 cy=418 r=7.1 />
<path class=b d="M1141 567l3.2 3.2 3.2-3.2 3.2 3.2-3.2 3.2 3.2 3.2-3.2 3.2-3.2-3.2-3.2 3.2-3.2-3.2 3.2-3.2-3.2-3.2z"/>
<path class=c d="M1538 688h12.6l-6.3 12.6z"/>
<path class=e d="M1749 484l6.4 4.6-2.4 7.5-7.9 0-2.4-7.5z"/>
<path class=d d="M1351 352h13.6v13.6h-13.6z"/>
<path class=b d="M1121 575l3.2 3.2 3.2-3.2 3.2 3.2-3.2 3.2 3.2 3.2-3.2 3.2-3.2-3.2-3.2 3.2-3.2-3.2 3.2-3.2-3.2-3.2z"/>
<path class=b d="M1318 733l3.2 3.2 3.2-3.2 3.2 3.2-3.2 3.2 3.2 3.2-3.2 3.2-3.2-3.2-3.2 3.2-3.2-3.2 3.2-3.2-3.2-3.2z"/>
<path class=b d="M1450 758l3.2 3.2 3.2-3.2 3.2 3.2-3.2 3.2 3.2 3.2-3.2 3.2-3.2-3.2-3.2 3.2-3.2-3.2 3.2-3.2-3.2-3.2z"/>
<path class=d d="M1388 528h13.6v13.6h-13.6z"/>
<path class=e d="M1712 509l6.4 4.6-2.4 7.5-7.9 0-2.4-7.5z"/>
<path class=e d="M1313 623l6.4 4.6-2.4 7.5-7.9 0-2.4-7.5z"/>
<circle class=a cx=1487 cy=478 r=7.1 />
<path class=b d="M1133 576l3.2 3.2 3.2-3.2 3.2 3.2-3.2 3.2 3.2 3.2-3.2 3.2-3.2-3.2-3.2 3.2-3.2-3.2 3.2-3.2-3.2-3.2z"/>
<path class=e d="M1677 449l6.4 4.6-2.4 7.5-7.9 0-2.4-7.5z"/>
<path class=b d="M1138 589l3.2 3.2 3.2-3.2 3.2 3.2-3.2 3.2 3.2 3.2-3.2 3.2-3.2-3.2-3.2 3.2-3.2-3.2 3.2-3.2-3.2-3.2z"/>
<path class=c d="M1676 670h12.6l-6.3 12.6z"/>
<path class=c d="M1601 182h12.6l-6.3 12.6z"/>
<path class=b d="M1132 567l3.2 3.2 3.2-3.2 3.2 3.2-3.2 3.2 3.2 3.2-3.2 3.2-3.2-3.2-3.2 3.2-3.2-3.2 3.2-3.2-3.2-3.2z"/>
<path class=d d="M1638 338h13.6v13.6h-13.6z"/>
<path class=b d="M1122 579l3.2 3.2 3.2-3.2 3.2 3.2-3.2 3.2 3.2 3.2-3.2 3.2-3.2-3.2-3.2 3.2-3.2-3.2 3.2-3.2-3.2-3.2z"/>
<path class=d d="M1252 377h13.6v13.6h-13.6z"/>
<path class=c d="M1537 678h12.6l-6.3 12.6z"/>
<path class=e d="M1711 483l6.4 4.6-2.4 7.5-7.9 0-2.4-7.5z"/>
<path class=d d="M1388 559h13.6v13.6h-13.6z"/>
<path class=c d="M1315 188h12.6l-6.3 12.6z"/>
<circle class=a cx=1398 cy=343 r=7.1 />
<path class=c d="M1161 470h12.6l-6.3 12.6z"/>
<path class=d d="M1524 267h13.6v13.6h-13.6z"/>
<circle class=a cx=1375 cy=441 r=7.1 />
<path class=e d="M1693 479l6.4 4.6-2.4 7.5-7.9 0-2.4-7.5z"/>
<path class=d d="M1560 535h13.6v13.6h-13.6z"/>
<circle class=a cx=1348 cy=424 r=7.1 />
<path class=c d="M1097 463h12.6l-6.3 12.6z"/>
<path class=b d="M1158 585l3.2 3.2 3.2-3.2 3.2 3.2-3.2 3.2 3.2 3.2-3.2 3.2-3.2-3.2-3.2 3.2-3.2-3.2 3.2-3.2-3.2-3.2z"/>
<path class=e d="M1721 516l6.4 4.6-2.4 7.5-7.9 0-2.4-7.5z"/>
<path class=e d="M1714 494l6.4 4.6-2.4 7.5-7.9 0-2.4-7.5z"/>
<path class=d d="M1434 512h13.6v13.6h-13.6z"/>
<path class=b d="M1126 569l3.2 3.2 3.2-3.2 3.2 3.2-3.2 3.2 3.2 3.2-3.2 3.2-3.2-3.2-3.2 3.2-3.2-3.2 3.2-3.2-3.2-3.2z"/>
<path class=b d="M1118 579l3.2 3.2 3.2-3.2 3.2 3.2-3.2 3.2 3.2 3.2-3.2 3.2-3.2-3.2-3.2 3.2-3.2-3.2 3.2-3.2-3.2-3.2z"/>
<circle class=a cx=1660 cy=445 r=7.1 />
<path class=b d="M1154 586l3.2 3.2 3.2-3.2 3.2 3.2-3.2 3.2 3.2 3.2-3.2 3.2-3.2-3.2-3.2 3.2-3.2-3.2 3.2-3.2-3.2-3.2z"/>
<path class=c d="M1542 686h12.6l-6.3 12.6z"/>
<path class=d d="M1543 337h13.6v13.6h-13.6z"/>
<path class=b d="M1345 723l3.2 3.2 3.2-3.2 3.2 3.2-3.2 3.2 3.2 3.2-3.2 3.2-3.2-3.2-3.2 3.2-3.2-3.2 3.2-3.2-3.2-3.2z"/>
<path class=d d="M1285 344h13.6v13.6h-13.6z"/>
<path class=e d="M1770 584l6.4 4.6-2.4 7.5-7.9 0-2.4-7.5z"/>
<path class=d d="M1319 523h13.6v13.6h-13.6z"/>
<path class=d d="M1377 509h13.6v13.6h-13.6z"/>
<path class=c d="M1157 443h12.6l-6.3 12.6z"/>
<path class=b d="M1493 474l3.2 3.2 3.2-3.2 3.2 3.2-3.2 3.2 3.2 3.2-3.2 3.2-3.2-3.2-3.2 3.2-3.2-3.2 3.2-3.2-3.2-3.2z"/>
<path class=c d="M1432 196h12.6l-6.3 12.6z"/>
<path class=c d="M1234 240h12.6l-6.3 12.6z"/>
<path class=d d="M1403 485h13.6v13.6h-13.6z"/>
<path class=b d="M1523 578l3.2 3.2 3.2-3.2 3.2 3.2-3.2 3.2 3.2 3.2-3.2 3.2-3.2-3.2-3.2 3.2-3.2-3.2 3.2-3.2-3.2-3.2z"/>
<path class=d d="M1371 552h13.6v13.6h-13.6z"/>
<path class=b d="M1547 488l3.2 3.2 3.2-3.2 3.2 3.2-3.2 3.2 3.2 3.2-3.2 3.2-3.2-3.2-3.2 3.2-3.2-3.2 3.2-3.2-3.2-3.2z"/>
<path class=e d="M1307 537l6.4 4.6-2.4 7.5-7.9 0-2.4-7.5z"/>
<circle class=a cx=1336 cy=553 r=7.1 />
<path class=e d="M1246 602l6.4 4.6-2.4 7.5-7.9 0-2.4-7.5z"/>
<path class=b d="M1366 561l3.2 3.2 3.2-3.2 3.2 3.2-3.2 3.2 3.2 3.2-3.2 3.2-3.2-3.2-3.2 3.2-3.2-3.2 3.2-3.2-3.2-3.2z"/>
<path class=c d="M1192 288h12.6l-6.3 12.6z"/>
<circle class=a cx=1364 cy=362 r=7.1 />
<path class=e d="M1293 476l6.4 4.6-2.4 7.5-7.9 0-2.4-7.5z"/>
<path class=d d="M1292 406h13.6v13.6h-13.6z"/>
<path class=e d="M1259 553l6.4 4.6-2.4 7.5-7.9 0-2.4-7.5z"/>
<path class=c d="M1430 195h12.6l-6.3 12.6z"/>
<path class=b d="M1349 720l3.2 3.2 3.2-3.2 3.2 3.2-3.2 3.2 3.2 3.2-3.2 3.2-3.2-3.2-3.2 3.2-3.2-3.2 3.2-3.2-3.2-3.2z"/>
<path class=b d="M1327 750l3.2 3.2 3.2-3.2 3.2 3.2-3.2 3.2 3.2 3.2-3.2 3.2-3.2-3.2-3.2 3.2-3.2-3.2 3.2-3.2-3.2-3.2z"/>
<circle class=a cx=1363 cy=568 r=7.1 />
<path class=c d="M1566 686h12.6l-6.3 12.6z"/>
<path class=b d="M1463 789l3.2 3.2 3.2-3.2 3.2 3.2-3.2 3.2 3.2 3.2-3.2 3.2-3.2-3.2-3.2 3.2-3.2-3.2 3.2-3.2-3.2-3.2z"/>
<path class=d d="M1455 455h13.6v13.6h-13.6z"/>
<path class=d d="M1660 295h13.6v13.6h-13.6z"/>
<path class=e d="M1696 537l6.4 4.6-2.4 7.5-7.9 0-2.4-7.5z"/>
<path class=d d="M1310 381h13.6v13.6h-13.6z"/>
<path class=c d="M1069 372h12.6l-6.3 12.6z"/>
<circle class=a cx=1590 cy=509 r=7.1 />
<path class=b d="M1304 773l3.2 3.2 3.2-3.2 3.2 3.2-3.2 3.2 3.2 3.2-3.2 3.2-3.2-3.2-3.2 3.2-3.2-3.2 3.2-3.2-3.2-3.2z"/>
<path class=c d="M1572 678h12.6l-6.3 12.6z"/>
<path class=b d="M1507 806l3.2 3.2 3.2-3.2 3.2 3.2-3.2 3.2 3.2 3.2-3.2 3.2-3.2-3.2-3.2 3.2-3.2-3.2 3.2-3.2-3.2-3.2z"/>
<path class=b d="M1637 480l3.2 3.2 3.2-3.2 3.2 3.2-3.2 3.2 3.2 3.2-3.2 3.2-3.2-3.2-3.2 3.2-3.2-3.2 3.2-3.2-3.2-3.2z"/>
<path class=c d="M1534 686h12.6l-6.3 12.6z"/>
<path class=c d="M1602 179h12.6l-6.3 12.6z"/>
<path class=b d="M1530 492l3.2 3.2 3.2-3.2 3.2 3.2-3.2 3.2 3.2 3.2-3.2 3.2-3.2-3.2-3.2 3.2-3.2-3.2 3.2-3.2-3.2-3.2z"/>
<circle class=a cx=1535 cy=485 r=7.1 />
<path class=b d="M1419 743l3.2 3.2 3.2-3.2 3.2 3.2-3.2 3.2 3.2 3.2-3.2 3.2-3.2-3.2-3.2 3.2-3.2-3.2 3.2-3.2-3.2-3.2z"/>
<path class=d d="M1281 395h13.6v13.6h-13.6z"/>
<path class=c d="M1153 465h12.6l-6.3 12.6z"/>
<path class=b d="M1323 771l3.2 3.2 3.2-3.2 3.2 3.2-3.2 3.2 3.2 3.2-3.2 3.2-3.2-3.2-3.2 3.2-3.2-3.2 3.2-3.2-3.2-3.2z"/>
<path class=d d="M1423 566h13.6v13.6h-13.6z"/>
<circle class=a cx=1382 cy=422 r=7.1 />
<path class=d d="M1598 361h13.6v13.6h-13.6z"/>
<path class=d d="M1535 516h13.6v13.6h-13.6z"/>
<path class=c d="M1093 378h12.6l-6.3 12.6z"/>
<path class=e d="M1337 596l6.4 4.6-2.4 7.5-7.9 0-2.4-7.5z"/>
<path class=e d="M1342 608l6.4 4.6-2.4 7.5-7.9 0-2.4-7.5z"/>
<path class=c d="M1339 208h12.6l-6.3 12.6z"/>
<path class=d d="M1671 288h13.6v13.6h-13.6z"/>
<path class=b d="M1339 774l3.2 3.2 3.2-3.2 3.2 3.2-3.2 3.2 3.2 3.2-3.2 3.2-3.2-3.2-3.2 3.2-3.2-3.2 3.2-3.2-3.2-3.2z"/>
<path class=b d="M1545 470l3.2 3.2 3.2-3.2 3.2 3.2-3.2 3.2 3.2 3.2-3.2 3.2-3.2-3.2-3.2 3.2-3.2-3.2 3.2-3.2-3.2-3.2z"/>
<path class=b d="M1327 772l3.2 3.2 3.2-3.2 3.2 3.2-3.2 3.2 3.2 3.2-3.2 3.2-3.2-3.2-3.2 3.2-3.2-3.2 3.2-3.2-3.2-3.2z"/>
<path class=b d="M1688 357l3.2 3.2 3.2-3.2 3.2 3.2-3.2 3.2 3.2 3.2-3.2 3.2-3.2-3.2-3.2 3.2-3.2-3.2 3.2-3.2-3.2-3.2z"/>
<path class=c d="M1679 673h12.6l-6.3 12.6z"/>
<circle class=a cx=1448 cy=492 r=7.1 />
<path class=c d="M1568 706h12.6l-6.3 12.6z"/>
<path class=b d="M1439 759l3.2 3.2 3.2-3.2 3.2 3.2-3.2 3.2 3.2 3.2-3.2 3.2-3.2-3.2-3.2 3.2-3.2-3.2 3.2-3.2-3.2-3.2z"/>
<path class=e d="M1709 485l6.4 4.6-2.4 7.5-7.9 0-2.4-7.5z"/>
<circle class=a cx=1389 cy=405 r=7.1 />
<path class=d d="M1385 380h13.6v13.6h-13.6z"/>
<circle class=a cx=1543 cy=497 r=7.1 />
<path class=b d="M1705 350l3.2 3.2 3.2-3.2 3.2 3.2-3.2 3.2 3.2 3.2-3.2 3.2-3.2-3.2-3.2 3.2-3.2-3.2 3.2-3.2-3.2-3.2z"/>
<circle class=a cx=1753 cy=449 r=7.1 />
<path class=c d="M1343 198h12.6l-6.3 12.6z"/>
<path class=e d="M1318 451l6.4 4.6-2.4 7.5-7.9 0-2.4-7.5z"/>
<path class=c d="M1563 694h12.6l-6.3 12.6z"/>
<path class=e d="M1230 521l6.4 4.6-2.4 7.5-7.9 0-2.4-7.5z"/>
<path class=c d="M1309 160h12.6l-6.3 12.6z"/>
<path class=c d="M1461 165h12.6l-6.3 12.6z"/>
<path class=d d="M1448 334h13.6v13.6h-13.6z"/>
<circle class=a cx=1603 cy=480 r=7.1 />
<path class=b d="M1590 543l3.2 3.2 3.2-3.2 3.2 3.2-3.2 3.2 3.2 3.2-3.2 3.2-3.2-3.2-3.2 3.2-3.2-3.2 3.2-3.2-3.2-3.2z"/>
<path class=b d="M1660 349l3.2 3.2 3.2-3.2 3.2 3.2-3.2 3.2 3.2 3.2-3.2 3.2-3.2-3.2-3.2 3.2-3.2-3.2 3.2-3.2-3.2-3.2z"/>
<path class=b d="M1416 757l3.2 3.2 3.2-3.2 3.2 3.2-3.2 3.2 3.2 3.2-3.2 3.2-3.2-3.2-3.2 3.2-3.2-3.2 3.2-3.2-3.2-3.2z"/>
<path class=b d="M1419 697l3.2 3.2 3.2-3.2 3.2 3.2-3.2 3.2 3.2 3.2-3.2 3.2-3.2-3.2-3.2 3.2-3.2-3.2 3.2-3.2-3.2-3.2z"/>
<path class=b d="M1721 363l3.2 3.2 3.2-3.2 3.2 3.2-3.2 3.2 3.2 3.2-3.2 3.2-3.2-3.2-3.2 3.2-3.2-3.2 3.2-3.2-3.2-3.2z"/>
<path class=b d="M1281 766l3.2 3.2 3.2-3.2 3.2 3.2-3.2 3.2 3.2 3.2-3.2 3.2-3.2-3.2-3.2 3.2-3.2-3.2 3.2-3.2-3.2-3.2z"/>
<path class=a d="M1730 435h13.6v13.6h-13.6z"/>
<circle class=a cx=1597 cy=563 r=7.1 />
<path class=c d="M1076 369h12.6l-6.3 12.6z"/>
<path class=c d="M1069 386h12.6l-6.3 12.6z"/>
<path class=b d="M1337 757l3.2 3.2 3.2-3.2 3.2 3.2-3.2 3.2 3.2 3.2-3.2 3.2-3.2-3.2-3.2 3.2-3.2-3.2 3.2-3.2-3.2-3.2z"/>
<path class=c d="M1692 668h12.6l-6.3 12.6z"/>
<path class=b d="M1414 710l3.2 3.2 3.2-3.2 3.2 3.2-3.2 3.2 3.2 3.2-3.2 3.2-3.2-3.2-3.2 3.2-3.2-3.2 3.2-3.2-3.2-3.2z"/>
<path class=d d="M1279 426h13.6v13.6h-13.6z"/>
<path class=b d="M1152 603l3.2 3.2 3.2-3.2 3.2 3.2-3.2 3.2 3.2 3.2-3.2 3.2-3.2-3.2-3.2 3.2-3.2-3.2 3.2-3.2-3.2-3.2z"/>
<path class=c d="M1540 653h12.6l-6.3 12.6z"/>
<path class=d d="M1525 270h13.6v13.6h-13.6z"/>
<circle class=a cx=1510 cy=497 r=7.1 />
<circle class=a cx=1525 cy=492 r=7.1 />
<path class=b d="M1137 567l3.2 3.2 3.2-3.2 3.2 3.2-3.2 3.2 3.2 3.2-3.2 3.2-3.2-3.2-3.2 3.2-3.2-3.2 3.2-3.2-3.2-3.2z"/>
<path class=b d="M1130 576l3.2 3.2 3.2-3.2 3.2 3.2-3.2 3.2 3.2 3.2-3.2 3.2-3.2-3.2-3.2 3.2-3.2-3.2 3.2-3.2-3.2-3.2z"/>
<path class=c d="M1320 165h12.6l-6.3 12.6z"/>
<path class=b d="M1389 725l3.2 3.2 3.2-3.2 3.2 3.2-3.2 3.2 3.2 3.2-3.2 3.2-3.2-3.2-3.2 3.2-3.2-3.2 3.2-3.2-3.2-3.2z"/>
<path class=d d="M1490 437h13.6v13.6h-13.6z"/>
<path class=c d="M1106 464h12.6l-6.3 12.6z"/>
<path class=e d="M1290 543l6.4 4.6-2.4 7.5-7.9 0-2.4-7.5z"/>
<path class=c d="M1554 682h12.6l-6.3 12.6z"/>
<circle class=a cx=1435 cy=301 r=7.1 />
<path class=c d="M1570 680h12.6l-6.3 12.6z"/>
<path class=d d="M1394 572h13.6v13.6h-13.6z"/>
<path class=e d="M1678 449l6.4 4.6-2.4 7.5-7.9 0-2.4-7.5z"/>
<path class=c d="M1128 465h12.6l-6.3 12.6z"/>
<path class=c d="M1568 687h12.6l-6.3 12.6z"/>
<circle class=a cx=1609 cy=492 r=7.1 />
<path class=e d="M1329 441l6.4 4.6-2.4 7.5-7.9 0-2.4-7.5z"/>
<circle class=a cx=1593 cy=463 r=7.1 />
<circle class=a cx=1440 cy=369 r=7.1 />
<path class=e d="M1295 565l6.4 4.6-2.4 7.5-7.9 0-2.4-7.5z"/>
<path class=c d="M1427 129h12.6l-6.3 12.6z"/>
<path class=e d="M1712 556l6.4 4.6-2.4 7.5-7.9 0-2.4-7.5z"/>
<path class=d d="M1514 285h13.6v13.6h-13.6z"/>
<path class=b d="M1448 822l3.2 3.2 3.2-3.2 3.2 3.2-3.2 3.2 3.2 3.2-3.2 3.2-3.2-3.2-3.2 3.2-3.2-3.2 3.2-3.2-3.2-3.2z"/>
<path class=e d="M1329 438l6.4 4.6-2.4 7.5-7.9 0-2.4-7.5z"/>
<path class=e d="M1745 491l6.4 4.6-2.4 7.5-7.9 0-2.4-7.5z"/>
<path class=c d="M1355 228h12.6l-6.3 12.6z"/>
<circle class=a cx=1666 cy=462 r=7.1 />
<path class=c d="M1534 686h12.6l-6.3 12.6z"/>
<circle class=a cx=1470 cy=455 r=7.1 />
<path class=e d="M1327 438l6.4 4.6-2.4 7.5-7.9 0-2.4-7.5z"/>
<path class=b d="M1641 487l3.2 3.2 3.2-3.2 3.2 3.2-3.2 3.2 3.2 3.2-3.2 3.2-3.2-3.2-3.2 3.2-3.2-3.2 3.2-3.2-3.2-3.2z"/>
<circle class=a cx=1392 cy=356 r=7.1 />
<path class=b d="M1138 617l3.2 3.2 3.2-3.2 3.2 3.2-3.2 3.2 3.2 3.2-3.2 3.2-3.2-3.2-3.2 3.2-3.2-3.2 3.2-3.2-3.2-3.2z"/>
<path class=d d="M1551 331h13.6v13.6h-13.6z"/>
<path class=c d="M1611 718h12.6l-6.3 12.6z"/>
<path class=c d="M1239 259h12.6l-6.3 12.6z"/>
<path class=c d="M1187 292h12.6l-6.3 12.6z"/>
<path class=b d="M1318 770l3.2 3.2 3.2-3.2 3.2 3.2-3.2 3.2 3.2 3.2-3.2 3.2-3.2-3.2-3.2 3.2-3.2-3.2 3.2-3.2-3.2-3.2z"/>
<path class=e d="M1263 597l6.4 4.6-2.4 7.5-7.9 0-2.4-7.5z"/>
<path class=d d="M1245 355h13.6v13.6h-13.6z"/>
<path class=c d="M1115 466h12.6l-6.3 12.6z"/>
<path class=e d="M1237 514l6.4 4.6-2.4 7.5-7.9 0-2.4-7.5z"/>
<path class=c d="M1588 702h12.6l-6.3 12.6z"/>
<circle class=a cx=1498 cy=366 r=7.1 />
<path class=d d="M1297 365h13.6v13.6h-13.6z"/>
<path class=d d="M1558 485h13.6v13.6h-13.6z"/>
<circle class=a cx=1577 cy=496 r=7.1 />
<path class=e d="M1757 544l6.4 4.6-2.4 7.5-7.9 0-2.4-7.5z"/>
<path class=b d="M1121 599l3.2 3.2 3.2-3.2 3.2 3.2-3.2 3.2 3.2 3.2-3.2 3.2-3.2-3.2-3.2 3.2-3.2-3.2 3.2-3.2-3.2-3.2z"/>
<path class=e d="M1256 539l6.4 4.6-2.4 7.5-7.9 0-2.4-7.5z"/>
<path class=c d="M1349 200h12.6l-6.3 12.6z"/>
<path class=d d="M1561 549h13.6v13.6h-13.6z"/>
<path class=b d="M1400 716l3.2 3.2 3.2-3.2 3.2 3.2-3.2 3.2 3.2 3.2-3.2 3.2-3.2-3.2-3.2 3.2-3.2-3.2 3.2-3.2-3.2-3.2z"/>
<path class=b d="M1536 491l3.2 3.2 3.2-3.2 3.2 3.2-3.2 3.2 3.2 3.2-3.2 3.2-3.2-3.2-3.2 3.2-3.2-3.2 3.2-3.2-3.2-3.2z"/>
<path class=c d="M1565 160h12.6l-6.3 12.6z"/>
<path class=c d="M1126 448h12.6l-6.3 12.6z"/>
<path class=d d="M1516 262h13.6v13.6h-13.6z"/>
<path class=e d="M1739 489l6.4 4.6-2.4 7.5-7.9 0-2.4-7.5z"/>
<path class=d d="M1454 543h13.6v13.6h-13.6z"/>
<path class=b d="M1699 354l3.2 3.2 3.2-3.2 3.2 3.2-3.2 3.2 3.2 3.2-3.2 3.2-3.2-3.2-3.2 3.2-3.2-3.2 3.2-3.2-3.2-3.2z"/>
<path class=c d="M1603 189h12.6l-6.3 12.6z"/>
<path class=c d="M1439 127h12.6l-6.3 12.6z"/>
<circle class=a cx=1426 cy=396 r=7.1 />
<circle class=a cx=1602 cy=503 r=7.1 />
<path class=b d="M1128 591l3.2 3.2 3.2-3.2 3.2 3.2-3.2 3.2 3.2 3.2-3.2 3.2-3.2-3.2-3.2 3.2-3.2-3.2 3.2-3.2-3.2-3.2z"/>
<circle class=a cx=1449 cy=496 r=7.1 />
<path class=e d="M1698 535l6.4 4.6-2.4 7.5-7.9 0-2.4-7.5z"/>
<path class=c d="M1212 258h12.6l-6.3 12.6z"/>
<path class=e d="M1722 481l6.4 4.6-2.4 7.5-7.9 0-2.4-7.5z"/>
<circle class=a cx=1330 cy=472 r=7.1 />
<circle class=a cx=1555 cy=483 r=7.1 />
<circle class=a cx=1618 cy=444 r=7.1 />
<path class=e d="M1755 517l6.4 4.6-2.4 7.5-7.9 0-2.4-7.5z"/>
<path class=e d="M1761 580l6.4 4.6-2.4 7.5-7.9 0-2.4-7.5z"/>
<path class=b d="M1118 618l3.2 3.2 3.2-3.2 3.2 3.2-3.2 3.2 3.2 3.2-3.2 3.2-3.2-3.2-3.2 3.2-3.2-3.2 3.2-3.2-3.2-3.2z"/>
<path class=b d="M1486 761l3.2 3.2 3.2-3.2 3.2 3.2-3.2 3.2 3.2 3.2-3.2 3.2-3.2-3.2-3.2 3.2-3.2-3.2 3.2-3.2-3.2-3.2z"/>
<path class=c d="M1458 156h12.6l-6.3 12.6z"/>
<path class=b d="M1681 344l3.2 3.2 3.2-3.2 3.2 3.2-3.2 3.2 3.2 3.2-3.2 3.2-3.2-3.2-3.2 3.2-3.2-3.2 3.2-3.2-3.2-3.2z"/>
<path class=b d="M1687 354l3.2 3.2 3.2-3.2 3.2 3.2-3.2 3.2 3.2 3.2-3.2 3.2-3.2-3.2-3.2 3.2-3.2-3.2 3.2-3.2-3.2-3.2z"/>
<path class=d d="M1521 312h13.6v13.6h-13.6z"/>
<path class=d d="M1292 411h13.6v13.6h-13.6z"/>
<circle class=a cx=1419 cy=414 r=7.1 />
<path class=b d="M1311 769l3.2 3.2 3.2-3.2 3.2 3.2-3.2 3.2 3.2 3.2-3.2 3.2-3.2-3.2-3.2 3.2-3.2-3.2 3.2-3.2-3.2-3.2z"/>
<path class=c d="M1080 381h12.6l-6.3 12.6z"/>
<path class=b d="M1510 456l3.2 3.2 3.2-3.2 3.2 3.2-3.2 3.2 3.2 3.2-3.2 3.2-3.2-3.2-3.2 3.2-3.2-3.2 3.2-3.2-3.2-3.2z"/>
<path class=c d="M1439 171h12.6l-6.3 12.6z"/>
<circle class=a cx=1423 cy=384 r=7.1 />
<path class=e d="M1722 498l6.4 4.6-2.4 7.5-7.9 0-2.4-7.5z"/>
<path class=b d="M1126 587l3.2 3.2 3.2-3.2 3.2 3.2-3.2 3.2 3.2 3.2-3.2 3.2-3.2-3.2-3.2 3.2-3.2-3.2 3.2-3.2-3.2-3.2z"/>
<path class=c d="M1433 108h12.6l-6.3 12.6z"/>
<circle class=a cx=1500 cy=527 r=7.1 />
<path class=b d="M1448 811l3.2 3.2 3.2-3.2 3.2 3.2-3.2 3.2 3.2 3.2-3.2 3.2-3.2-3.2-3.2 3.2-3.2-3.2 3.2-3.2-3.2-3.2z"/>
<circle class=a cx=1546 cy=495 r=7.1 />
<path class=e d="M1720 542l6.4 4.6-2.4 7.5-7.9 0-2.4-7.5z"/>
<path class=b d="M1326 758l3.2 3.2 3.2-3.2 3.2 3.2-3.2 3.2 3.2 3.2-3.2 3.2-3.2-3.2-3.2 3.2-3.2-3.2 3.2-3.2-3.2-3.2z"/>
<path class=e d="M1324 530l6.4 4.6-2.4 7.5-7.9 0-2.4-7.5z"/>
<path class=e d="M1701 510l6.4 4.6-2.4 7.5-7.9 0-2.4-7.5z"/>
<path class=e d="M1318 596l6.4 4.6-2.4 7.5-7.9 0-2.4-7.5z"/>
<path class=d d="M1311 524h13.6v13.6h-13.6z"/>
<path class=d d="M1688 293h13.6v13.6h-13.6z"/>
<path class=b d="M1562 573l3.2 3.2 3.2-3.2 3.2 3.2-3.2 3.2 3.2 3.2-3.2 3.2-3.2-3.2-3.2 3.2-3.2-3.2 3.2-3.2-3.2-3.2z"/>
<path class=b d="M1545 506l3.2 3.2 3.2-3.2 3.2 3.2-3.2 3.2 3.2 3.2-3.2 3.2-3.2-3.2-3.2 3.2-3.2-3.2 3.2-3.2-3.2-3.2z"/>
<path class=c d="M1157 447h12.6l-6.3 12.6z"/>
<path class=e d="M1375 598l6.4 4.6-2.4 7.5-7.9 0-2.4-7.5z"/>
<path class=d d="M1372 548h13.6v13.6h-13.6z"/>
<path class=b d="M1713 340l3.2 3.2 3.2-3.2 3.2 3.2-3.2 3.2 3.2 3.2-3.2 3.2-3.2-3.2-3.2 3.2-3.2-3.2 3.2-3.2-3.2-3.2z"/>
<path class=d d="M1742 317h13.6v13.6h-13.6z"/>
<circle class=a cx=1755 cy=459 r=7.1 />
<path class=b d="M1558 553l3.2 3.2 3.2-3.2 3.2 3.2-3.2 3.2 3.2 3.2-3.2 3.2-3.2-3.2-3.2 3.2-3.2-3.2 3.2-3.2-3.2-3.2z"/>
<path class=c d="M1104 476h12.6l-6.3 12.6z"/>
<path class=c d="M1201 286h12.6l-6.3 12.6z"/>
<path class=d d="M1755 398h13.6v13.6h-13.6z"/>
<path class=d d="M1432 500h13.6v13.6h-13.6z"/>
<path class=b d="M1677 352l3.2 3.2 3.2-3.2 3.2 3.2-3.2 3.2 3.2 3.2-3.2 3.2-3.2-3.2-3.2 3.2-3.2-3.2 3.2-3.2-3.2-3.2z"/>
<path class=b d="M1482 783l3.2 3.2 3.2-3.2 3.2 3.2-3.2 3.2 3.2 3.2-3.2 3.2-3.2-3.2-3.2 3.2-3.2-3.2 3.2-3.2-3.2-3.2z"/>
<circle class=a cx=1597 cy=413 r=7.1 />
<path class=b d="M1386 720l3.2 3.2 3.2-3.2 3.2 3.2-3.2 3.2 3.2 3.2-3.2 3.2-3.2-3.2-3.2 3.2-3.2-3.2 3.2-3.2-3.2-3.2z"/>
<path class=b d="M1334 785l3.2 3.2 3.2-3.2 3.2 3.2-3.2 3.2 3.2 3.2-3.2 3.2-3.2-3.2-3.2 3.2-3.2-3.2 3.2-3.2-3.2-3.2z"/>
<circle class=a cx=1747 cy=421 r=7.1 />
<path class=c d="M1567 144h12.6l-6.3 12.6z"/>
<path class=d d="M1669 365h13.6v13.6h-13.6z"/>
<path class=e d="M1332 531l6.4 4.6-2.4 7.5-7.9 0-2.4-7.5z"/>
<path class=b d="M1327 741l3.2 3.2 3.2-3.2 3.2 3.2-3.2 3.2 3.2 3.2-3.2 3.2-3.2-3.2-3.2 3.2-3.2-3.2 3.2-3.2-3.2-3.2z"/>
<path class=c d="M1434 122h12.6l-6.3 12.6z"/>
<path class=b d="M1476 816l3.2 3.2 3.2-3.2 3.2 3.2-3.2 3.2 3.2 3.2-3.2 3.2-3.2-3.2-3.2 3.2-3.2-3.2 3.2-3.2-3.2-3.2z"/>
<path class=b d="M1324 724l3.2 3.2 3.2-3.2 3.2 3.2-3.2 3.2 3.2 3.2-3.2 3.2-3.2-3.2-3.2 3.2-3.2-3.2 3.2-3.2-3.2-3.2z"/>
<circle class=a cx=1593 cy=506 r=7.1 />
<circle class=a cx=1462 cy=371 r=7.1 />
<path class=e d="M1285 618l6.4 4.6-2.4 7.5-7.9 0-2.4-7.5z"/>
<path class=b d="M1505 509l3.2 3.2 3.2-3.2 3.2 3.2-3.2 3.2 3.2 3.2-3.2 3.2-3.2-3.2-3.2 3.2-3.2-3.2 3.2-3.2-3.2-3.2z"/>
<path class=d d="M1541 337h13.6v13.6h-13.6z"/>
<circle class=a cx=1537 cy=467 r=7.1 />
<circle class=a cx=1599 cy=410 r=7.1 />
<circle class=a cx=1701 cy=406 r=7.1 />
<path class=b d="M1352 732l3.2 3.2 3.2-3.2 3.2 3.2-3.2 3.2 3.2 3.2-3.2 3.2-3.2-3.2-3.2 3.2-3.2-3.2 3.2-3.2-3.2-3.2z"/>
<path class=e d="M1245 603l6.4 4.6-2.4 7.5-7.9 0-2.4-7.5z"/>
<path class=c d="M1079 363h12.6l-6.3 12.6z"/>
<path class=d d="M1393 325h13.6v13.6h-13.6z"/>
<circle class=a cx=1368 cy=362 r=7.1 />
<path class=c d="M1079 375h12.6l-6.3 12.6z"/>
<path class=d d="M1742 470h13.6v13.6h-13.6z"/>
<path class=c d="M1430 185h12.6l-6.3 12.6z"/>
<path class=c d="M1444 188h12.6l-6.3 12.6z"/>
<circle class=a cx=1635 cy=469 r=7.1 />
<circle class=a cx=1390 cy=468 r=7.1 />
<path class=b d="M1511 555l3.2 3.2 3.2-3.2 3.2 3.2-3.2 3.2 3.2 3.2-3.2 3.2-3.2-3.2-3.2 3.2-3.2-3.2 3.2-3.2-3.2-3.2z"/>
<path class=b d="M1436 752l3.2 3.2 3.2-3.2 3.2 3.2-3.2 3.2 3.2 3.2-3.2 3.2-3.2-3.2-3.2 3.2-3.2-3.2 3.2-3.2-3.2-3.2z"/>
<circle class=a cx=1555 cy=508 r=7.1 />
<path class=d d="M1583 325h13.6v13.6h-13.6z"/>
<path class=c d="M1326 174h12.6l-6.3 12.6z"/>
<path class=b d="M1624 430l3.2 3.2 3.2-3.2 3.2 3.2-3.2 3.2 3.2 3.2-3.2 3.2-3.2-3.2-3.2 3.2-3.2-3.2 3.2-3.2-3.2-3.2z"/>
<path class=d d="M1505 272h13.6v13.6h-13.6z"/>
<circle class=a cx=1512 cy=501 r=7.1 />
<path class=e d="M1311 540l6.4 4.6-2.4 7.5-7.9 0-2.4-7.5z"/>
<path class=b d="M1124 595l3.2 3.2 3.2-3.2 3.2 3.2-3.2 3.2 3.2 3.2-3.2 3.2-3.2-3.2-3.2 3.2-3.2-3.2 3.2-3.2-3.2-3.2z"/>
<path class=d d="M1462 401h13.6v13.6h-13.6z"/>
<path class=e d="M1289 594l6.4 4.6-2.4 7.5-7.9 0-2.4-7.5z"/>
<path class=d d="M1392 322h13.6v13.6h-13.6z"/>
<path class=b d="M1570 568l3.2 3.2 3.2-3.2 3.2 3.2-3.2 3.2 3.2 3.2-3.2 3.2-3.2-3.2-3.2 3.2-3.2-3.2 3.2-3.2-3.2-3.2z"/>
<circle class=a cx=1445 cy=494 r=7.1 />
<path class=b d="M1463 820l3.2 3.2 3.2-3.2 3.2 3.2-3.2 3.2 3.2 3.2-3.2 3.2-3.2-3.2-3.2 3.2-3.2-3.2 3.2-3.2-3.2-3.2z"/>
<path class=b d="M1331 724l3.2 3.2 3.2-3.2 3.2 3.2-3.2 3.2 3.2 3.2-3.2 3.2-3.2-3.2-3.2 3.2-3.2-3.2 3.2-3.2-3.2-3.2z"/>
<path class=d d="M1283 361h13.6v13.6h-13.6z"/>
<circle class=a cx=1347 cy=574 r=7.1 />
<path class=d d="M1402 535h13.6v13.6h-13.6z"/>
<path class=b d="M1485 776l3.2 3.2 3.2-3.2 3.2 3.2-3.2 3.2 3.2 3.2-3.2 3.2-3.2-3.2-3.2 3.2-3.2-3.2 3.2-3.2-3.2-3.2z"/>
<path class=c d="M1303 169h12.6l-6.3 12.6z"/>
<path class=e d="M1242 536l6.4 4.6-2.4 7.5-7.9 0-2.4-7.5z"/>
<path class=e d="M1699 451l6.4 4.6-2.4 7.5-7.9 0-2.4-7.5z"/>
<path class=c d="M1528 658h12.6l-6.3 12.6z"/>
<path class=c d="M1227 259h12.6l-6.3 12.6z"/>
<path class=c d="M1682 692h12.6l-6.3 12.6z"/>
<path class=b d="M1126 612l3.2 3.2 3.2-3.2 3.2 3.2-3.2 3.2 3.2 3.2-3.2 3.2-3.2-3.2-3.2 3.2-3.2-3.2 3.2-3.2-3.2-3.2z"/>
<path class=b d="M1516 794l3.2 3.2 3.2-3.2 3.2 3.2-3.2 3.2 3.2 3.2-3.2 3.2-3.2-3.2-3.2 3.2-3.2-3.2 3.2-3.2-3.2-3.2z"/>
<path class=c d="M1332 212h12.6l-6.3 12.6z"/>
<circle class=a cx=1754 cy=446 r=7.1 />
<path class=c d="M1344 230h12.6l-6.3 12.6z"/>
<path class=b d="M1399 691l3.2 3.2 3.2-3.2 3.2 3.2-3.2 3.2 3.2 3.2-3.2 3.2-3.2-3.2-3.2 3.2-3.2-3.2 3.2-3.2-3.2-3.2z"/>
<path class=d d="M1451 564h13.6v13.6h-13.6z"/>
<path class=d d="M1313 525h13.6v13.6h-13.6z"/>
<path class=d d="M1566 326h13.6v13.6h-13.6z"/>
<path class=d d="M1448 415h13.6v13.6h-13.6z"/>
<path class=d d="M1549 318h13.6v13.6h-13.6z"/>
<circle class=a cx=1373 cy=441 r=7.1 />
<path class=d d="M1266 387h13.6v13.6h-13.6z"/>
<path class=b d="M1360 567l3.2 3.2 3.2-3.2 3.2 3.2-3.2 3.2 3.2 3.2-3.2 3.2-3.2-3.2-3.2 3.2-3.2-3.2 3.2-3.2-3.2-3.2z"/>
<path class=e d="M1263 499l6.4 4.6-2.4 7.5-7.9 0-2.4-7.5z"/>
<path class=c d="M1322 205h12.6l-6.3 12.6z"/>
<path class=e d="M1283 607l6.4 4.6-2.4 7.5-7.9 0-2.4-7.5z"/>
<path class=c d="M1216 257h12.6l-6.3 12.6z"/>
<circle class=a cx=1550 cy=429 r=7.1 />
<path class=d d="M1517 291h13.6v13.6h-13.6z"/>
<path class=b d="M1519 572l3.2 3.2 3.2-3.2 3.2 3.2-3.2 3.2 3.2 3.2-3.2 3.2-3.2-3.2-3.2 3.2-3.2-3.2 3.2-3.2-3.2-3.2z"/>
<circle class=a cx=1561 cy=590 r=7.1 />
<path class=e d="M1671 453l6.4 4.6-2.4 7.5-7.9 0-2.4-7.5z"/>
<path class=d d="M1663 385h13.6v13.6h-13.6z"/>
<path class=b d="M1516 782l3.2 3.2 3.2-3.2 3.2 3.2-3.2 3.2 3.2 3.2-3.2 3.2-3.2-3.2-3.2 3.2-3.2-3.2 3.2-3.2-3.2-3.2z"/>
<path class=b d="M1691 373l3.2 3.2 3.2-3.2 3.2 3.2-3.2 3.2 3.2 3.2-3.2 3.2-3.2-3.2-3.2 3.2-3.2-3.2 3.2-3.2-3.2-3.2z"/>
<path class=c d="M1564 157h12.6l-6.3 12.6z"/>
<path class=b d="M1465 803l3.2 3.2 3.2-3.2 3.2 3.2-3.2 3.2 3.2 3.2-3.2 3.2-3.2-3.2-3.2 3.2-3.2-3.2 3.2-3.2-3.2-3.2z"/>
<path class=e d="M1255 551l6.4 4.6-2.4 7.5-7.9 0-2.4-7.5z"/>
<path class=e d="M1712 513l6.4 4.6-2.4 7.5-7.9 0-2.4-7.5z"/>
<circle class=a cx=1400 cy=344 r=7.1 />
<path class=d d="M1417 486h13.6v13.6h-13.6z"/>
<path class=d d="M1508 427h13.6v13.6h-13.6z"/>
<path class=b d="M1560 545l3.2 3.2 3.2-3.2 3.2 3.2-3.2 3.2 3.2 3.2-3.2 3.2-3.2-3.2-3.2 3.2-3.2-3.2 3.2-3.2-3.2-3.2z"/>
<circle class=a cx=1550 cy=532 r=7.1 />
<path class=e d="M1781 560l6.4 4.6-2.4 7.5-7.9 0-2.4-7.5z"/>
<path class=d d="M1421 553h13.6v13.6h-13.6z"/>
<path class=c d="M1315 153h12.6l-6.3 12.6z"/>
<path class=c d="M1185 305h12.6l-6.3 12.6z"/>
<path class=d d="M1523 273h13.6v13.6h-13.6z"/>
<path class=d d="M1764 305h13.6v13.6h-13.6z"/>
<path class=c d="M1229 254h12.6l-6.3 12.6z"/>
<path class=e d="M1313 624l6.4 4.6-2.4 7.5-7.9 0-2.4-7.5z"/>
<path class=e d="M1292 483l6.4 4.6-2.4 7.5-7.9 0-2.4-7.5z"/>
<circle class=a cx=1386 cy=392 r=7.1 />
<circle class=a cx=1661 cy=497 r=7.1 />
<path class=c d="M1452 209h12.6l-6.3 12.6z"/>
<path class=b d="M1130 587l3.2 3.2 3.2-3.2 3.2 3.2-3.2 3.2 3.2 3.2-3.2 3.2-3.2-3.2-3.2 3.2-3.2-3.2 3.2-3.2-3.2-3.2z"/>
<path class=e d="M1291 598l6.4 4.6-2.4 7.5-7.9 0-2.4-7.5z"/>
<path class=c d="M1165 456h12.6l-6.3 12.6z"/>
<path class=d d="M1516 262h13.6v13.6h-13.6z"/>
<path class=d d="M1360 576h13.6v13.6h-13.6z"/>
<path class=d d="M1547 305h13.6v13.6h-13.6z"/>
<path class=b d="M1728 380l3.2 3.2 3.2-3.2 3.2 3.2-3.2 3.2 3.2 3.2-3.2 3.2-3.2-3.2-3.2 3.2-3.2-3.2 3.2-3.2-3.2-3.2z"/>
<path class=c d="M1427 124h12.6l-6.3 12.6z"/>
<path class=d d="M1540 324h13.6v13.6h-13.6z"/>
<path class=e d="M1767 585l6.4 4.6-2.4 7.5-7.9 0-2.4-7.5z"/>
<path class=c d="M1563 693h12.6l-6.3 12.6z"/>
<path class=c d="M1435 184h12.6l-6.3 12.6z"/>
<path class=b d="M1472 783l3.2 3.2 3.2-3.2 3.2 3.2-3.2 3.2 3.2 3.2-3.2 3.2-3.2-3.2-3.2 3.2-3.2-3.2 3.2-3.2-3.2-3.2z"/>
<path class=d d="M1452 335h13.6v13.6h-13.6z"/>
<path class=d d="M1306 429h13.6v13.6h-13.6z"/>
<path class=b d="M1401 718l3.2 3.2 3.2-3.2 3.2 3.2-3.2 3.2 3.2 3.2-3.2 3.2-3.2-3.2-3.2 3.2-3.2-3.2 3.2-3.2-3.2-3.2z"/>
<circle class=a cx=1394 cy=454 r=7.1 />
<path class=e d="M1677 450l6.4 4.6-2.4 7.5-7.9 0-2.4-7.5z"/>
<path class=b d="M1461 801l3.2 3.2 3.2-3.2 3.2 3.2-3.2 3.2 3.2 3.2-3.2 3.2-3.2-3.2-3.2 3.2-3.2-3.2 3.2-3.2-3.2-3.2z"/>
<path class=c d="M1677 667h12.6l-6.3 12.6z"/>
<path class=e d="M1735 554l6.4 4.6-2.4 7.5-7.9 0-2.4-7.5z"/>
<path class=b d="M1732 378l3.2 3.2 3.2-3.2 3.2 3.2-3.2 3.2 3.2 3.2-3.2 3.2-3.2-3.2-3.2 3.2-3.2-3.2 3.2-3.2-3.2-3.2z"/>
<circle class=a cx=1509 cy=546 r=7.1 />
<path class=b d="M1511 558l3.2 3.2 3.2-3.2 3.2 3.2-3.2 3.2 3.2 3.2-3.2 3.2-3.2-3.2-3.2 3.2-3.2-3.2 3.2-3.2-3.2-3.2z"/>
<path class=e d="M1754 499l6.4 4.6-2.4 7.5-7.9 0-2.4-7.5z"/>
<path class=d d="M1517 264h13.6v13.6h-13.6z"/>
<path class=c d="M1127 461h12.6l-6.3 12.6z"/>
<path class=c d="M1533 679h12.6l-6.3 12.6z"/>
<path class=b d="M1728 374l3.2 3.2 3.2-3.2 3.2 3.2-3.2 3.2 3.2 3.2-3.2 3.2-3.2-3.2-3.2 3.2-3.2-3.2 3.2-3.2-3.2-3.2z"/>
<path class=d d="M1495 423h13.6v13.6h-13.6z"/>
<circle class=a cx=1769 cy=423 r=7.1 />
<path class=c d="M1546 671h12.6l-6.3 12.6z"/>
<circle class=a cx=1388 cy=403 r=7.1 />
<path class=c d="M1172 449h12.6l-6.3 12.6z"/>
<path class=d d="M1566 460h13.6v13.6h-13.6z"/>
<circle class=a cx=1597 cy=562 r=7.1 />
<path class=b d="M1644 490l3.2 3.2 3.2-3.2 3.2 3.2-3.2 3.2 3.2 3.2-3.2 3.2-3.2-3.2-3.2 3.2-3.2-3.2 3.2-3.2-3.2-3.2z"/>
<path class=b d="M1513 324l3.2 3.2 3.2-3.2 3.2 3.2-3.2 3.2 3.2 3.2-3.2 3.2-3.2-3.2-3.2 3.2-3.2-3.2 3.2-3.2-3.2-3.2z"/>
<path class=e d="M1244 524l6.4 4.6-2.4 7.5-7.9 0-2.4-7.5z"/>
<path class=e d="M1723 525l6.4 4.6-2.4 7.5-7.9 0-2.4-7.5z"/>
<circle class=a cx=1662 cy=468 r=7.1 />
<circle class=a cx=1419 cy=444 r=7.1 />
<path class=c d="M1442 121h12.6l-6.3 12.6z"/>
<path class=c d="M1115 463h12.6l-6.3 12.6z"/>
<path class=d d="M1394 515h13.6v13.6h-13.6z"/>
<circle class=a cx=1331 cy=553 r=7.1 />
<path class=c d="M1608 722h12.6l-6.3 12.6z"/>
<path class=c d="M1159 446h12.6l-6.3 12.6z"/>
<path class=c d="M1209 266h12.6l-6.3 12.6z"/>
<path class=e d="M1777 521l6.4 4.6-2.4 7.5-7.9 0-2.4-7.5z"/>
<path class=e d="M1292 533l6.4 4.6-2.4 7.5-7.9 0-2.4-7.5z"/>
<path class=e d="M1803 548l6.4 4.6-2.4 7.5-7.9 0-2.4-7.5z"/>
<path class=c d="M1319 163h12.6l-6.3 12.6z"/>
<path class=e d="M1262 545l6.4 4.6-2.4 7.5-7.9 0-2.4-7.5z"/>
<path class=c d="M1234 244h12.6l-6.3 12.6z"/>
<path class=b d="M1338 769l3.2 3.2 3.2-3.2 3.2 3.2-3.2 3.2 3.2 3.2-3.2 3.2-3.2-3.2-3.2 3.2-3.2-3.2 3.2-3.2-3.2-3.2z"/>
<path class=b d="M1463 805l3.2 3.2 3.2-3.2 3.2 3.2-3.2 3.2 3.2 3.2-3.2 3.2-3.2-3.2-3.2 3.2-3.2-3.2 3.2-3.2-3.2-3.2z"/>
<path class=e d="M1316 542l6.4 4.6-2.4 7.5-7.9 0-2.4-7.5z"/>
<circle class=a cx=1419 cy=383 r=7.1 />
<path class=b d="M1138 595l3.2 3.2 3.2-3.2 3.2 3.2-3.2 3.2 3.2 3.2-3.2 3.2-3.2-3.2-3.2 3.2-3.2-3.2 3.2-3.2-3.2-3.2z"/>
<circle class=a cx=1615 cy=481 r=7.1 />
<path class=c d="M1188 298h12.6l-6.3 12.6z"/>
<path class=e d="M1769 587l6.4 4.6-2.4 7.5-7.9 0-2.4-7.5z"/>
<path class=b d="M1490 451l3.2 3.2 3.2-3.2 3.2 3.2-3.2 3.2 3.2 3.2-3.2 3.2-3.2-3.2-3.2 3.2-3.2-3.2 3.2-3.2-3.2-3.2z"/>
<circle class=a cx=1372 cy=423 r=7.1 />
<path class=b d="M1289 745l3.2 3.2 3.2-3.2 3.2 3.2-3.2 3.2 3.2 3.2-3.2 3.2-3.2-3.2-3.2 3.2-3.2-3.2 3.2-3.2-3.2-3.2z"/>
<path class=b d="M1382 740l3.2 3.2 3.2-3.2 3.2 3.2-3.2 3.2 3.2 3.2-3.2 3.2-3.2-3.2-3.2 3.2-3.2-3.2 3.2-3.2-3.2-3.2z"/>
<path class=d d="M1373 551h13.6v13.6h-13.6z"/>
<path class=e d="M1316 544l6.4 4.6-2.4 7.5-7.9 0-2.4-7.5z"/>
<path class=e d="M1269 618l6.4 4.6-2.4 7.5-7.9 0-2.4-7.5z"/>
<path class=c d="M1320 160h12.6l-6.3 12.6z"/>
<path class=b d="M1337 784l3.2 3.2 3.2-3.2 3.2 3.2-3.2 3.2 3.2 3.2-3.2 3.2-3.2-3.2-3.2 3.2-3.2-3.2 3.2-3.2-3.2-3.2z"/>
<path class=c d="M1114 479h12.6l-6.3 12.6z"/>
<path class=e d="M1309 535l6.4 4.6-2.4 7.5-7.9 0-2.4-7.5z"/>
<path class=b d="M1388 723l3.2 3.2 3.2-3.2 3.2 3.2-3.2 3.2 3.2 3.2-3.2 3.2-3.2-3.2-3.2 3.2-3.2-3.2 3.2-3.2-3.2-3.2z"/>
<path class=b d="M1515 322l3.2 3.2 3.2-3.2 3.2 3.2-3.2 3.2 3.2 3.2-3.2 3.2-3.2-3.2-3.2 3.2-3.2-3.2 3.2-3.2-3.2-3.2z"/>
<path class=d d="M1349 350h13.6v13.6h-13.6z"/>
<path class=e d="M1665 477l6.4 4.6-2.4 7.5-7.9 0-2.4-7.5z"/>
<path class=d d="M1285 340h13.6v13.6h-13.6z"/>
<path class=b d="M1326 753l3.2 3.2 3.2-3.2 3.2 3.2-3.2 3.2 3.2 3.2-3.2 3.2-3.2-3.2-3.2 3.2-3.2-3.2 3.2-3.2-3.2-3.2z"/>
<path class=b d="M1477 769l3.2 3.2 3.2-3.2 3.2 3.2-3.2 3.2 3.2 3.2-3.2 3.2-3.2-3.2-3.2 3.2-3.2-3.2 3.2-3.2-3.2-3.2z"/>
<path class=d d="M1269 400h13.6v13.6h-13.6z"/>
<circle class=a cx=1447 cy=411 r=7.1 />
<circle class=a cx=1490 cy=346 r=7.1 />
<path class=c d="M1154 466h12.6l-6.3 12.6z"/>
<path class=e d="M1715 490l6.4 4.6-2.4 7.5-7.9 0-2.4-7.5z"/>
<path class=b d="M1492 460l3.2 3.2 3.2-3.2 3.2 3.2-3.2 3.2 3.2 3.2-3.2 3.2-3.2-3.2-3.2 3.2-3.2-3.2 3.2-3.2-3.2-3.2z"/>
<circle class=a cx=1457 cy=357 r=7.1 />
<circle class=a cx=1545 cy=496 r=7.1 />
<path class=d d="M1649 358h13.6v13.6h-13.6z"/>
<path class=b d="M1419 706l3.2 3.2 3.2-3.2 3.2 3.2-3.2 3.2 3.2 3.2-3.2 3.2-3.2-3.2-3.2 3.2-3.2-3.2 3.2-3.2-3.2-3.2z"/>
<path class=c d="M1305 146h12.6l-6.3 12.6z"/>
<path class=d d="M1582 292h13.6v13.6h-13.6z"/>
<path class=e d="M1316 543l6.4 4.6-2.4 7.5-7.9 0-2.4-7.5z"/>
<path class=b d="M1328 748l3.2 3.2 3.2-3.2 3.2 3.2-3.2 3.2 3.2 3.2-3.2 3.2-3.2-3.2-3.2 3.2-3.2-3.2 3.2-3.2-3.2-3.2z"/>
<path class=d d="M1536 280h13.6v13.6h-13.6z"/>
<path class=e d="M1724 578l6.4 4.6-2.4 7.5-7.9 0-2.4-7.5z"/>
<path class=d d="M1526 498h13.6v13.6h-13.6z"/>
<path class=d d="M1254 386h13.6v13.6h-13.6z"/>
<path class=e d="M1307 576l6.4 4.6-2.4 7.5-7.9 0-2.4-7.5z"/>
<path class=c d="M1113 482h12.6l-6.3 12.6z"/>
<path class=c d="M1448 163h12.6l-6.3 12.6z"/>
<path class=b d="M1112 568l3.2 3.2 3.2-3.2 3.2 3.2-3.2 3.2 3.2 3.2-3.2 3.2-3.2-3.2-3.2 3.2-3.2-3.2 3.2-3.2-3.2-3.2z"/>
<path class=b d="M1640 481l3.2 3.2 3.2-3.2 3.2 3.2-3.2 3.2 3.2 3.2-3.2 3.2-3.2-3.2-3.2 3.2-3.2-3.2 3.2-3.2-3.2-3.2z"/>
<circle class=a cx=1349 cy=376 r=7.1 />
<path class=c d="M1601 186h12.6l-6.3 12.6z"/>
<circle class=a cx=1548 cy=418 r=7.1 />
<path class=e d="M1753 483l6.4 4.6-2.4 7.5-7.9 0-2.4-7.5z"/>
<path class=c d="M1580 159h12.6l-6.3 12.6z"/>
<circle class=a cx=1409 cy=451 r=7.1 />
<path class=c d="M1296 136h12.6l-6.3 12.6z"/>
<circle class=a cx=1371 cy=409 r=7.1 />
<path class=c d="M1118 469h12.6l-6.3 12.6z"/>
<path class=c d="M1432 215h12.6l-6.3 12.6z"/>
<circle class=a cx=1366 cy=567 r=7.1 />
<path class=b d="M1322 783l3.2 3.2 3.2-3.2 3.2 3.2-3.2 3.2 3.2 3.2-3.2 3.2-3.2-3.2-3.2 3.2-3.2-3.2 3.2-3.2-3.2-3.2z"/>
<path class=c d="M1343 205h12.6l-6.3 12.6z"/>
<circle class=a cx=1712 cy=408 r=7.1 />
<circle class=a cx=1374 cy=380 r=7.1 />
<path class=d d="M1401 556h13.6v13.6h-13.6z"/>
<circle class=a cx=1667 cy=500 r=7.1 />
<circle class=a cx=1546 cy=495 r=7.1 />
<circle class=a cx=1395 cy=402 r=7.1 />
<path class=b d="M1159 629l3.2 3.2 3.2-3.2 3.2 3.2-3.2 3.2 3.2 3.2-3.2 3.2-3.2-3.2-3.2 3.2-3.2-3.2 3.2-3.2-3.2-3.2z"/>
<path class=b d="M1308 733l3.2 3.2 3.2-3.2 3.2 3.2-3.2 3.2 3.2 3.2-3.2 3.2-3.2-3.2-3.2 3.2-3.2-3.2 3.2-3.2-3.2-3.2z"/>
<path class=c d="M1575 695h12.6l-6.3 12.6z"/>
<path class=d d="M1296 379h13.6v13.6h-13.6z"/>
<path class=e d="M1310 536l6.4 4.6-2.4 7.5-7.9 0-2.4-7.5z"/>
<path class=e d="M1752 483l6.4 4.6-2.4 7.5-7.9 0-2.4-7.5z"/>
<path class=d d="M1549 328h13.6v13.6h-13.6z"/>
<path class=e d="M1296 533l6.4 4.6-2.4 7.5-7.9 0-2.4-7.5z"/>
<path class=b d="M1531 491l3.2 3.2 3.2-3.2 3.2 3.2-3.2 3.2 3.2 3.2-3.2 3.2-3.2-3.2-3.2 3.2-3.2-3.2 3.2-3.2-3.2-3.2z"/>
<circle class=a cx=1553 cy=549 r=7.1 />
<circle class=a cx=1576 cy=549 r=7.1 />
<path class=b d="M1152 582l3.2 3.2 3.2-3.2 3.2 3.2-3.2 3.2 3.2 3.2-3.2 3.2-3.2-3.2-3.2 3.2-3.2-3.2 3.2-3.2-3.2-3.2z"/>
<circle class=a cx=1550 cy=494 r=7.1 />
<path class=c d="M1690 672h12.6l-6.3 12.6z"/>
<path class=c d="M1569 149h12.6l-6.3 12.6z"/>
<path class=e d="M1702 450l6.4 4.6-2.4 7.5-7.9 0-2.4-7.5z"/>
<path class=d d="M1302 403h13.6v13.6h-13.6z"/>
<path class=c d="M1334 198h12.6l-6.3 12.6z"/>
<path class=b d="M1514 577l3.2 3.2 3.2-3.2 3.2 3.2-3.2 3.2 3.2 3.2-3.2 3.2-3.2-3.2-3.2 3.2-3.2-3.2 3.2-3.2-3.2-3.2z"/>
<path class=c d="M1441 189h12.6l-6.3 12.6z"/>
<path class=b d="M1391 703l3.2 3.2 3.2-3.2 3.2 3.2-3.2 3.2 3.2 3.2-3.2 3.2-3.2-3.2-3.2 3.2-3.2-3.2 3.2-3.2-3.2-3.2z"/>
<circle class=a cx=1334 cy=506 r=7.1 />
<path class=d d="M1451 542h13.6v13.6h-13.6z"/>
<path class=d d="M1458 486h13.6v13.6h-13.6z"/>
<path class=c d="M1420 117h12.6l-6.3 12.6z"/>
<path class=b d="M1400 711l3.2 3.2 3.2-3.2 3.2 3.2-3.2 3.2 3.2 3.2-3.2 3.2-3.2-3.2-3.2 3.2-3.2-3.2 3.2-3.2-3.2-3.2z"/>
<path class=d d="M1580 327h13.6v13.6h-13.6z"/>
<path class=b d="M1561 575l3.2 3.2 3.2-3.2 3.2 3.2-3.2 3.2 3.2 3.2-3.2 3.2-3.2-3.2-3.2 3.2-3.2-3.2 3.2-3.2-3.2-3.2z"/>
<path class=b d="M1415 716l3.2 3.2 3.2-3.2 3.2 3.2-3.2 3.2 3.2 3.2-3.2 3.2-3.2-3.2-3.2 3.2-3.2-3.2 3.2-3.2-3.2-3.2z"/>
<path class=c d="M1437 216h12.6l-6.3 12.6z"/>
<circle class=a cx=1724 cy=482 r=7.1 />
<path class=c d="M1065 375h12.6l-6.3 12.6z"/>
<circle class=a cx=1651 cy=503 r=7.1 />
<circle class=a cx=1516 cy=485 r=7.1 />
<path class=b d="M1481 504l3.2 3.2 3.2-3.2 3.2 3.2-3.2 3.2 3.2 3.2-3.2 3.2-3.2-3.2-3.2 3.2-3.2-3.2 3.2-3.2-3.2-3.2z"/>
<circle class=a cx=1338 cy=467 r=7.1 />
<path class=c d="M1291 144h12.6l-6.3 12.6z"/>
<path class=b d="M1703 356l3.2 3.2 3.2-3.2 3.2 3.2-3.2 3.2 3.2 3.2-3.2 3.2-3.2-3.2-3.2 3.2-3.2-3.2 3.2-3.2-3.2-3.2z"/>
<path class=b d="M1307 735l3.2 3.2 3.2-3.2 3.2 3.2-3.2 3.2 3.2 3.2-3.2 3.2-3.2-3.2-3.2 3.2-3.2-3.2 3.2-3.2-3.2-3.2z"/>
<path class=c d="M1438 190h12.6l-6.3 12.6z"/>
<path class=b d="M1407 698l3.2 3.2 3.2-3.2 3.2 3.2-3.2 3.2 3.2 3.2-3.2 3.2-3.2-3.2-3.2 3.2-3.2-3.2 3.2-3.2-3.2-3.2z"/>
<path class=c d="M1107 463h12.6l-6.3 12.6z"/>
<path class=c d="M1415 103h12.6l-6.3 12.6z"/>
<path class=e d="M1278 581l6.4 4.6-2.4 7.5-7.9 0-2.4-7.5z"/>
<path class=b d="M1322 771l3.2 3.2 3.2-3.2 3.2 3.2-3.2 3.2 3.2 3.2-3.2 3.2-3.2-3.2-3.2 3.2-3.2-3.2 3.2-3.2-3.2-3.2z"/>
<path class=e d="M1293 563l6.4 4.6-2.4 7.5-7.9 0-2.4-7.5z"/>
<path class=d d="M1438 517h13.6v13.6h-13.6z"/>
<path class=c d="M1577 712h12.6l-6.3 12.6z"/>
<path class=c d="M1196 266h12.6l-6.3 12.6z"/>
<path class=c d="M1076 370h12.6l-6.3 12.6z"/>
<path class=e d="M1309 563l6.4 4.6-2.4 7.5-7.9 0-2.4-7.5z"/>
<path class=c d="M1601 167h12.6l-6.3 12.6z"/>
<circle class=a cx=1422 cy=456 r=7.1 />
<circle class=a cx=1381 cy=397 r=7.1 />
<path class=b d="M1546 466l3.2 3.2 3.2-3.2 3.2 3.2-3.2 3.2 3.2 3.2-3.2 3.2-3.2-3.2-3.2 3.2-3.2-3.2 3.2-3.2-3.2-3.2z"/>
<path class=c d="M1195 275h12.6l-6.3 12.6z"/>
<path class=b d="M1499 778l3.2 3.2 3.2-3.2 3.2 3.2-3.2 3.2 3.2 3.2-3.2 3.2-3.2-3.2-3.2 3.2-3.2-3.2 3.2-3.2-3.2-3.2z"/>
<path class=e d="M1714 559l6.4 4.6-2.4 7.5-7.9 0-2.4-7.5z"/>
<path class=d d="M1426 447h13.6v13.6h-13.6z"/>
<path class=c d="M1545 146h12.6l-6.3 12.6z"/>
<path class=d d="M1420 564h13.6v13.6h-13.6z"/>
<path class=c d="M1417 112h12.6l-6.3 12.6z"/>
<path class=d d="M1448 564h13.6v13.6h-13.6z"/>
<path class=b d="M1143 615l3.2 3.2 3.2-3.2 3.2 3.2-3.2 3.2 3.2 3.2-3.2 3.2-3.2-3.2-3.2 3.2-3.2-3.2 3.2-3.2-3.2-3.2z"/>
<path class=d d="M1540 313h13.6v13.6h-13.6z"/>
<path class=d d="M1359 481h13.6v13.6h-13.6z"/>
<path class=e d="M1283 465l6.4 4.6-2.4 7.5-7.9 0-2.4-7.5z"/>
<path class=c d="M1446 159h12.6l-6.3 12.6z"/>
<path class=e d="M1693 471l6.4 4.6-2.4 7.5-7.9 0-2.4-7.5z"/>
<path class=c d="M1317 178h12.6l-6.3 12.6z"/>
<path class=e d="M1289 575l6.4 4.6-2.4 7.5-7.9 0-2.4-7.5z"/>
<path class=c d="M1562 139h12.6l-6.3 12.6z"/>
<circle class=a cx=1424 cy=434 r=7.1 />
<path class=d d="M1458 415h13.6v13.6h-13.6z"/>
<circle class=a cx=1658 cy=451 r=7.1 />
<path class=d d="M1383 382h13.6v13.6h-13.6z"/>
<path class=c d="M1437 209h12.6l-6.3 12.6z"/>
<path class=d d="M1256 369h13.6v13.6h-13.6z"/>
<path class=d d="M1587 311h13.6v13.6h-13.6z"/>
<path class=d d="M1474 399h13.6v13.6h-13.6z"/>
<path class=c d="M1226 259h12.6l-6.3 12.6z"/>
<path class=e d="M1276 587l6.4 4.6-2.4 7.5-7.9 0-2.4-7.5z"/>
<path class=e d="M1740 498l6.4 4.6-2.4 7.5-7.9 0-2.4-7.5z"/>
<circle class=a cx=1328 cy=550 r=7.1 />
<path class=c d="M1334 211h12.6l-6.3 12.6z"/>
<path class=c d="M1444 119h12.6l-6.3 12.6z"/>
<path class=c d="M1337 206h12.6l-6.3 12.6z"/>
<path class=c d="M1613 169h12.6l-6.3 12.6z"/>
<path class=b d="M1449 754l3.2 3.2 3.2-3.2 3.2 3.2-3.2 3.2 3.2 3.2-3.2 3.2-3.2-3.2-3.2 3.2-3.2-3.2 3.2-3.2-3.2-3.2z"/>
<path class=b d="M1109 583l3.2 3.2 3.2-3.2 3.2 3.2-3.2 3.2 3.2 3.2-3.2 3.2-3.2-3.2-3.2 3.2-3.2-3.2 3.2-3.2-3.2-3.2z"/>
<path class=c d="M1346 242h12.6l-6.3 12.6z"/>
<circle class=a cx=1388 cy=357 r=7.1 />
<path class=c d="M1446 184h12.6l-6.3 12.6z"/>
<path class=d d="M1316 483h13.6v13.6h-13.6z"/>
<path class=d d="M1417 527h13.6v13.6h-13.6z"/>
<path class=e d="M1241 530l6.4 4.6-2.4 7.5-7.9 0-2.4-7.5z"/>
<path class=d d="M1408 343h13.6v13.6h-13.6z"/>
<circle class=a cx=1567 cy=450 r=7.1 />
<path class=b d="M1511 552l3.2 3.2 3.2-3.2 3.2 3.2-3.2 3.2 3.2 3.2-3.2 3.2-3.2-3.2-3.2 3.2-3.2-3.2 3.2-3.2-3.2-3.2z"/>
<path class=d d="M1284 342h13.6v13.6h-13.6z"/>
<path class=e d="M1762 507l6.4 4.6-2.4 7.5-7.9 0-2.4-7.5z"/>
<path class=c d="M1176 447h12.6l-6.3 12.6z"/>
<path class=c d="M1570 690h12.6l-6.3 12.6z"/>
<path class=c d="M1111 457h12.6l-6.3 12.6z"/>
<path class=b d="M1411 696l3.2 3.2 3.2-3.2 3.2 3.2-3.2 3.2 3.2 3.2-3.2 3.2-3.2-3.2-3.2 3.2-3.2-3.2 3.2-3.2-3.2-3.2z"/>
<path class=c d="M1072 386h12.6l-6.3 12.6z"/>
<path class=e d="M1726 494l6.4 4.6-2.4 7.5-7.9 0-2.4-7.5z"/>
<path class=e d="M1752 502l6.4 4.6-2.4 7.5-7.9 0-2.4-7.5z"/>
<path class=b d="M1126 612l3.2 3.2 3.2-3.2 3.2 3.2-3.2 3.2 3.2 3.2-3.2 3.2-3.2-3.2-3.2 3.2-3.2-3.2 3.2-3.2-3.2-3.2z"/>
<path class=e d="M1317 599l6.4 4.6-2.4 7.5-7.9 0-2.4-7.5z"/>
<path class=d d="M1459 483h13.6v13.6h-13.6z"/>
<path class=b d="M1130 615l3.2 3.2 3.2-3.2 3.2 3.2-3.2 3.2 3.2 3.2-3.2 3.2-3.2-3.2-3.2 3.2-3.2-3.2 3.2-3.2-3.2-3.2z"/>
<path class=d d="M1645 378h13.6v13.6h-13.6z"/>
<path class=d d="M1756 309h13.6v13.6h-13.6z"/>
<circle class=a cx=1613 cy=430 r=7.1 />
<path class=e d="M1668 478l6.4 4.6-2.4 7.5-7.9 0-2.4-7.5z"/>
<path class=b d="M1288 739l3.2 3.2 3.2-3.2 3.2 3.2-3.2 3.2 3.2 3.2-3.2 3.2-3.2-3.2-3.2 3.2-3.2-3.2 3.2-3.2-3.2-3.2z"/>
<path class=c d="M1594 720h12.6l-6.3 12.6z"/>
<path class=e d="M1259 581l6.4 4.6-2.4 7.5-7.9 0-2.4-7.5z"/>
<path class=e d="M1347 473l6.4 4.6-2.4 7.5-7.9 0-2.4-7.5z"/>
<path class=c d="M1454 193h12.6l-6.3 12.6z"/>
<path class=e d="M1752 487l6.4 4.6-2.4 7.5-7.9 0-2.4-7.5z"/>
<circle class=a cx=1611 cy=490 r=7.1 />
<path class=d d="M1384 380h13.6v13.6h-13.6z"/>
<circle class=a cx=1596 cy=462 r=7.1 />
<path class=b d="M1391 722l3.2 3.2 3.2-3.2 3.2 3.2-3.2 3.2 3.2 3.2-3.2 3.2-3.2-3.2-3.2 3.2-3.2-3.2 3.2-3.2-3.2-3.2z"/>
<path class=c d="M1355 228h12.6l-6.3 12.6z"/>
<circle class=a cx=1335 cy=435 r=7.1 />
<circle class=a cx=1375 cy=443 r=7.1 />
<circle class=a cx=1526 cy=495 r=7.1 />
<path class=b d="M1641 323l3.2 3.2 3.2-3.2 3.2 3.2-3.2 3.2 3.2 3.2-3.2 3.2-3.2-3.2-3.2 3.2-3.2-3.2 3.2-3.2-3.2-3.2z"/>
<circle class=a cx=1317 cy=368 r=7.1 />
<circle class=a cx=1374 cy=441 r=7.1 />
<path class=d d="M1282 395h13.6v13.6h-13.6z"/>
<path class=d d="M1393 538h13.6v13.6h-13.6z"/>
<path class=d d="M1312 524h13.6v13.6h-13.6z"/>
<path class=c d="M1356 218h12.6l-6.3 12.6z"/>
<path class=c d="M1141 468h12.6l-6.3 12.6z"/>
<path class=b d="M1409 763l3.2 3.2 3.2-3.2 3.2 3.2-3.2 3.2 3.2 3.2-3.2 3.2-3.2-3.2-3.2 3.2-3.2-3.2 3.2-3.2-3.2-3.2z"/>
<circle class=a cx=1507 cy=495 r=7.1 />
<path class=b d="M1321 788l3.2 3.2 3.2-3.2 3.2 3.2-3.2 3.2 3.2 3.2-3.2 3.2-3.2-3.2-3.2 3.2-3.2-3.2 3.2-3.2-3.2-3.2z"/>
<path class=b d="M1654 348l3.2 3.2 3.2-3.2 3.2 3.2-3.2 3.2 3.2 3.2-3.2 3.2-3.2-3.2-3.2 3.2-3.2-3.2 3.2-3.2-3.2-3.2z"/>
<path class=e d="M1777 582l6.4 4.6-2.4 7.5-7.9 0-2.4-7.5z"/>
<path class=d d="M1684 292h13.6v13.6h-13.6z"/>
<path class=c d="M1191 288h12.6l-6.3 12.6z"/>
<path class=e d="M1277 582l6.4 4.6-2.4 7.5-7.9 0-2.4-7.5z"/>
<circle class=a cx=1453 cy=506 r=7.1 />
<path class=b d="M1345 728l3.2 3.2 3.2-3.2 3.2 3.2-3.2 3.2 3.2 3.2-3.2 3.2-3.2-3.2-3.2 3.2-3.2-3.2 3.2-3.2-3.2-3.2z"/>
<path class=c d="M1196 276h12.6l-6.3 12.6z"/>
<path class=c d="M1421 100h12.6l-6.3 12.6z"/>
<path class=c d="M1531 686h12.6l-6.3 12.6z"/>
<circle class=a cx=1469 cy=453 r=7.1 />
<path class=d d="M1561 287h13.6v13.6h-13.6z"/>
<path class=c d="M1175 310h12.6l-6.3 12.6z"/>
<path class=c d="M1297 138h12.6l-6.3 12.6z"/>
<path class=b d="M1439 756l3.2 3.2 3.2-3.2 3.2 3.2-3.2 3.2 3.2 3.2-3.2 3.2-3.2-3.2-3.2 3.2-3.2-3.2 3.2-3.2-3.2-3.2z"/>
<circle class=a cx=1609 cy=556 r=7.1 />
<path class=c d="M1313 190h12.6l-6.3 12.6z"/>
<circle class=a cx=1659 cy=501 r=7.1 />
<path class=d d="M1526 305h13.6v13.6h-13.6z"/>
<circle class=a cx=1511 cy=495 r=7.1 />
<path class=c d="M1313 185h12.6l-6.3 12.6z"/>
<path class=d d="M1558 533h13.6v13.6h-13.6z"/>
<path class=b d="M1571 564l3.2 3.2 3.2-3.2 3.2 3.2-3.2 3.2 3.2 3.2-3.2 3.2-3.2-3.2-3.2 3.2-3.2-3.2 3.2-3.2-3.2-3.2z"/>
<path class=e d="M1774 570l6.4 4.6-2.4 7.5-7.9 0-2.4-7.5z"/>
<path class=e d="M1292 535l6.4 4.6-2.4 7.5-7.9 0-2.4-7.5z"/>
<path class=c d="M1686 694h12.6l-6.3 12.6z"/>
<path class=e d="M1721 517l6.4 4.6-2.4 7.5-7.9 0-2.4-7.5z"/>
<circle class=a cx=1715 cy=409 r=7.1 />
<circle class=a cx=1533 cy=415 r=7.1 />
<path class=b d="M1557 539l3.2 3.2 3.2-3.2 3.2 3.2-3.2 3.2 3.2 3.2-3.2 3.2-3.2-3.2-3.2 3.2-3.2-3.2 3.2-3.2-3.2-3.2z"/>
<path class=d d="M1409 487h13.6v13.6h-13.6z"/>
<path class=e d="M1790 545l6.4 4.6-2.4 7.5-7.9 0-2.4-7.5z"/>
<path class=c d="M1684 670h12.6l-6.3 12.6z"/>
<path class=e d="M1770 516l6.4 4.6-2.4 7.5-7.9 0-2.4-7.5z"/>
<circle class=a cx=1583 cy=521 r=7.1 />
<path class=e d="M1742 574l6.4 4.6-2.4 7.5-7.9 0-2.4-7.5z"/>
<circle class=a cx=1349 cy=506 r=7.1 />
<path class=b d="M1517 326l3.2 3.2 3.2-3.2 3.2 3.2-3.2 3.2 3.2 3.2-3.2 3.2-3.2-3.2-3.2 3.2-3.2-3.2 3.2-3.2-3.2-3.2z"/>
<path class=e d="M1324 616l6.4 4.6-2.4 7.5-7.9 0-2.4-7.5z"/>
<path class=d d="M1422 556h13.6v13.6h-13.6z"/>
<path class=c d="M1583 670h12.6l-6.3 12.6z"/>
<path class=c d="M1166 291h12.6l-6.3 12.6z"/>
<circle class=a cx=1387 cy=329 r=7.1 />
<circle class=a cx=1425 cy=341 r=7.1 />
<path class=e d="M1705 511l6.4 4.6-2.4 7.5-7.9 0-2.4-7.5z"/>
<circle class=a cx=1473 cy=371 r=7.1 />
<path class=b d="M1161 631l3.2 3.2 3.2-3.2 3.2 3.2-3.2 3.2 3.2 3.2-3.2 3.2-3.2-3.2-3.2 3.2-3.2-3.2 3.2-3.2-3.2-3.2z"/>
<path class=b d="M1563 544l3.2 3.2 3.2-3.2 3.2 3.2-3.2 3.2 3.2 3.2-3.2 3.2-3.2-3.2-3.2 3.2-3.2-3.2 3.2-3.2-3.2-3.2z"/>
<circle class=a cx=1575 cy=431 r=7.1 />
<circle class=a cx=1345 cy=469 r=7.1 />
<path class=b d="M1688 350l3.2 3.2 3.2-3.2 3.2 3.2-3.2 3.2 3.2 3.2-3.2 3.2-3.2-3.2-3.2 3.2-3.2-3.2 3.2-3.2-3.2-3.2z"/>
<path class=b d="M1333 782l3.2 3.2 3.2-3.2 3.2 3.2-3.2 3.2 3.2 3.2-3.2 3.2-3.2-3.2-3.2 3.2-3.2-3.2 3.2-3.2-3.2-3.2z"/>
<circle class=a cx=1386 cy=354 r=7.1 />
<path class=d d="M1441 520h13.6v13.6h-13.6z"/>
<path class=c d="M1222 254h12.6l-6.3 12.6z"/>
<path class=b d="M1375 715l3.2 3.2 3.2-3.2 3.2 3.2-3.2 3.2 3.2 3.2-3.2 3.2-3.2-3.2-3.2 3.2-3.2-3.2 3.2-3.2-3.2-3.2z"/>
<circle class=a cx=1510 cy=550 r=7.1 />
<path class=b d="M1552 557l3.2 3.2 3.2-3.2 3.2 3.2-3.2 3.2 3.2 3.2-3.2 3.2-3.2-3.2-3.2 3.2-3.2-3.2 3.2-3.2-3.2-3.2z"/>
<path class=e d="M1782 563l6.4 4.6-2.4 7.5-7.9 0-2.4-7.5z"/>
<path class=e d="M1276 504l6.4 4.6-2.4 7.5-7.9 0-2.4-7.5z"/>
<circle class=a cx=1640 cy=437 r=7.1 />
<path class=e d="M1275 620l6.4 4.6-2.4 7.5-7.9 0-2.4-7.5z"/>
<path class=d d="M1241 378h13.6v13.6h-13.6z"/>
<circle class=a cx=1425 cy=399 r=7.1 />
<path class=d d="M1411 343h13.6v13.6h-13.6z"/>
<circle class=a cx=1434 cy=434 r=7.1 />
<path class=e d="M1292 595l6.4 4.6-2.4 7.5-7.9 0-2.4-7.5z"/>
<circle class=a cx=1370 cy=465 r=7.1 />
<path class=e d="M1275 501l6.4 4.6-2.4 7.5-7.9 0-2.4-7.5z"/>
<path class=d d="M1438 566h13.6v13.6h-13.6z"/>
<circle class=a cx=1454 cy=441 r=7.1 />
<path class=b d="M1675 355l3.2 3.2 3.2-3.2 3.2 3.2-3.2 3.2 3.2 3.2-3.2 3.2-3.2-3.2-3.2 3.2-3.2-3.2 3.2-3.2-3.2-3.2z"/>
<path class=d d="M1422 541h13.6v13.6h-13.6z"/>
<path class=b d="M1350 755l3.2 3.2 3.2-3.2 3.2 3.2-3.2 3.2 3.2 3.2-3.2 3.2-3.2-3.2-3.2 3.2-3.2-3.2 3.2-3.2-3.2-3.2z"/>
<path class=d d="M1508 287h13.6v13.6h-13.6z"/>
<path class=d d="M1429 460h13.6v13.6h-13.6z"/>
<circle class=a cx=1423 cy=398 r=7.1 />
<path class=c d="M1678 685h12.6l-6.3 12.6z"/>
<path class=d d="M1440 372h13.6v13.6h-13.6z"/>
<path class=d d="M1638 507h13.6v13.6h-13.6z"/>
<path class=d d="M1501 412h13.6v13.6h-13.6z"/>
<path class=e d="M1377 598l6.4 4.6-2.4 7.5-7.9 0-2.4-7.5z"/>
<circle class=a cx=1365 cy=464 r=7.1 />
<path class=e d="M1771 513l6.4 4.6-2.4 7.5-7.9 0-2.4-7.5z"/>
<path class=b d="M1641 491l3.2 3.2 3.2-3.2 3.2 3.2-3.2 3.2 3.2 3.2-3.2 3.2-3.2-3.2-3.2 3.2-3.2-3.2 3.2-3.2-3.2-3.2z"/>
<path class=c d="M1329 237h12.6l-6.3 12.6z"/>
<circle class=a cx=1368 cy=364 r=7.1 />
<circle class=a cx=1368 cy=464 r=7.1 />
<path class=c d="M1539 676h12.6l-6.3 12.6z"/>
<path class=d d="M1653 367h13.6v13.6h-13.6z"/>
<path class=c d="M1690 694h12.6l-6.3 12.6z"/>
<circle class=a cx=1382 cy=395 r=7.1 />
<path class=d d="M1637 361h13.6v13.6h-13.6z"/>
<path class=c d="M1239 261h12.6l-6.3 12.6z"/>
<path class=c d="M1345 195h12.6l-6.3 12.6z"/>
<path class=d d="M1440 519h13.6v13.6h-13.6z"/>
<path class=d d="M1616 485h13.6v13.6h-13.6z"/>
<path class=d d="M1390 594h13.6v13.6h-13.6z"/>
<path class=d d="M1264 350h13.6v13.6h-13.6z"/>
<path class=d d="M1637 362h13.6v13.6h-13.6z"/>
<path class=b d="M1142 617l3.2 3.2 3.2-3.2 3.2 3.2-3.2 3.2 3.2 3.2-3.2 3.2-3.2-3.2-3.2 3.2-3.2-3.2 3.2-3.2-3.2-3.2z"/>
<circle class=a cx=1725 cy=482 r=7.1 />
<path class=e d="M1260 623l6.4 4.6-2.4 7.5-7.9 0-2.4-7.5z"/>
<path class=e d="M1260 546l6.4 4.6-2.4 7.5-7.9 0-2.4-7.5z"/>
<path class=d d="M1427 384h13.6v13.6h-13.6z"/>
<path class=e d="M1289 482l6.4 4.6-2.4 7.5-7.9 0-2.4-7.5z"/>
<path class=c d="M1528 662h12.6l-6.3 12.6z"/>
<circle class=a cx=1735 cy=427 r=7.1 />
<circle class=a cx=1600 cy=515 r=7.1 />
<path class=b d="M1562 519l3.2 3.2 3.2-3.2 3.2 3.2-3.2 3.2 3.2 3.2-3.2 3.2-3.2-3.2-3.2 3.2-3.2-3.2 3.2-3.2-3.2-3.2z"/>
<path class=a d="M1729 434h13.6v13.6h-13.6z"/>
<path class=c d="M1099 461h12.6l-6.3 12.6z"/>
<path class=d d="M1578 525h13.6v13.6h-13.6z"/>
<path class=c d="M1576 714h12.6l-6.3 12.6z"/>
<path class=b d="M1289 751l3.2 3.2 3.2-3.2 3.2 3.2-3.2 3.2 3.2 3.2-3.2 3.2-3.2-3.2-3.2 3.2-3.2-3.2 3.2-3.2-3.2-3.2z"/>
<path class=c d="M1542 674h12.6l-6.3 12.6z"/>
<path class=e d="M1298 597l6.4 4.6-2.4 7.5-7.9 0-2.4-7.5z"/>
<path class=c d="M1172 307h12.6l-6.3 12.6z"/>
<path class=c d="M1201 287h12.6l-6.3 12.6z"/>
<path class=b d="M1353 757l3.2 3.2 3.2-3.2 3.2 3.2-3.2 3.2 3.2 3.2-3.2 3.2-3.2-3.2-3.2 3.2-3.2-3.2 3.2-3.2-3.2-3.2z"/>
<path class=b d="M1719 354l3.2 3.2 3.2-3.2 3.2 3.2-3.2 3.2 3.2 3.2-3.2 3.2-3.2-3.2-3.2 3.2-3.2-3.2 3.2-3.2-3.2-3.2z"/>
<path class=d d="M1400 492h13.6v13.6h-13.6z"/>
<path class=b d="M1699 382l3.2 3.2 3.2-3.2 3.2 3.2-3.2 3.2 3.2 3.2-3.2 3.2-3.2-3.2-3.2 3.2-3.2-3.2 3.2-3.2-3.2-3.2z"/>
<path class=b d="M1400 728l3.2 3.2 3.2-3.2 3.2 3.2-3.2 3.2 3.2 3.2-3.2 3.2-3.2-3.2-3.2 3.2-3.2-3.2 3.2-3.2-3.2-3.2z"/>
<circle class=a cx=1470 cy=540 r=7.1 />
<path class=b d="M1729 369l3.2 3.2 3.2-3.2 3.2 3.2-3.2 3.2 3.2 3.2-3.2 3.2-3.2-3.2-3.2 3.2-3.2-3.2 3.2-3.2-3.2-3.2z"/>
<path class=c d="M1358 217h12.6l-6.3 12.6z"/>
<path class=b d="M1595 538l3.2 3.2 3.2-3.2 3.2 3.2-3.2 3.2 3.2 3.2-3.2 3.2-3.2-3.2-3.2 3.2-3.2-3.2 3.2-3.2-3.2-3.2z"/>
<path class=c d="M1335 233h12.6l-6.3 12.6z"/>
<path class=d d="M1404 325h13.6v13.6h-13.6z"/>
<circle class=a cx=1737 cy=406 r=7.1 />
<path class=b d="M1136 581l3.2 3.2 3.2-3.2 3.2 3.2-3.2 3.2 3.2 3.2-3.2 3.2-3.2-3.2-3.2 3.2-3.2-3.2 3.2-3.2-3.2-3.2z"/>
<path class=b d="M1687 370l3.2 3.2 3.2-3.2 3.2 3.2-3.2 3.2 3.2 3.2-3.2 3.2-3.2-3.2-3.2 3.2-3.2-3.2 3.2-3.2-3.2-3.2z"/>
<circle class=a cx=1511 cy=546 r=7.1 />
<path class=d d="M1527 261h13.6v13.6h-13.6z"/>
<path class=d d="M1441 572h13.6v13.6h-13.6z"/>
<path class=c d="M1579 165h12.6l-6.3 12.6z"/>
<path class=d d="M1407 471h13.6v13.6h-13.6z"/>
<path class=c d="M1068 361h12.6l-6.3 12.6z"/>
<path class=c d="M1123 451h12.6l-6.3 12.6z"/>
<path class=c d="M1611 719h12.6l-6.3 12.6z"/>
<path class=b d="M1519 565l3.2 3.2 3.2-3.2 3.2 3.2-3.2 3.2 3.2 3.2-3.2 3.2-3.2-3.2-3.2 3.2-3.2-3.2 3.2-3.2-3.2-3.2z"/>
<path class=c d="M1676 669h12.6l-6.3 12.6z"/>
<circle class=a cx=1520 cy=488 r=7.1 />
<path class=e d="M1330 508l6.4 4.6-2.4 7.5-7.9 0-2.4-7.5z"/>
<path class=c d="M1557 681h12.6l-6.3 12.6z"/>
<path class=c d="M1183 275h12.6l-6.3 12.6z"/>
<path class=e d="M1702 507l6.4 4.6-2.4 7.5-7.9 0-2.4-7.5z"/>
<path class=c d="M1453 194h12.6l-6.3 12.6z"/>
<path class=d d="M1669 385h13.6v13.6h-13.6z"/>
<circle class=b cx=1523 cy=539 r=7.1 />
<path class=b d="M1493 472l3.2 3.2 3.2-3.2 3.2 3.2-3.2 3.2 3.2 3.2-3.2 3.2-3.2-3.2-3.2 3.2-3.2-3.2 3.2-3.2-3.2-3.2z"/>
<path class=d d="M1390 406h13.6v13.6h-13.6z"/>
<circle class=a cx=1734 cy=406 r=7.1 />
<path class=d d="M1295 350h13.6v13.6h-13.6z"/>
<path class=c d="M1552 684h12.6l-6.3 12.6z"/>
<path class=e d="M1287 604l6.4 4.6-2.4 7.5-7.9 0-2.4-7.5z"/>
<path class=e d="M1291 548l6.4 4.6-2.4 7.5-7.9 0-2.4-7.5z"/>
<circle class=a cx=1611 cy=493 r=7.1 />
<path class=d d="M1505 276h13.6v13.6h-13.6z"/>
<path class=d d="M1432 500h13.6v13.6h-13.6z"/>
<path class=c d="M1190 289h12.6l-6.3 12.6z"/>
<path class=c d="M1208 266h12.6l-6.3 12.6z"/>
<path class=b d="M1486 772l3.2 3.2 3.2-3.2 3.2 3.2-3.2 3.2 3.2 3.2-3.2 3.2-3.2-3.2-3.2 3.2-3.2-3.2 3.2-3.2-3.2-3.2z"/>
<path class=e d="M1696 478l6.4 4.6-2.4 7.5-7.9 0-2.4-7.5z"/>
<path class=d d="M1279 426h13.6v13.6h-13.6z"/>
<path class=c d="M1419 112h12.6l-6.3 12.6z"/>
<path class=b d="M1450 812l3.2 3.2 3.2-3.2 3.2 3.2-3.2 3.2 3.2 3.2-3.2 3.2-3.2-3.2-3.2 3.2-3.2-3.2 3.2-3.2-3.2-3.2z"/>
<path class=c d="M1348 216h12.6l-6.3 12.6z"/>
<circle class=a cx=1328 cy=474 r=7.1 />
<path class=c d="M1169 443h12.6l-6.3 12.6z"/>
<path class=e d="M1744 565l6.4 4.6-2.4 7.5-7.9 0-2.4-7.5z"/>
<path class=c d="M1346 202h12.6l-6.3 12.6z"/>
<path class=e d="M1303 583l6.4 4.6-2.4 7.5-7.9 0-2.4-7.5z"/>
<path class=b d="M1728 373l3.2 3.2 3.2-3.2 3.2 3.2-3.2 3.2 3.2 3.2-3.2 3.2-3.2-3.2-3.2 3.2-3.2-3.2 3.2-3.2-3.2-3.2z"/>
<circle class=a cx=1488 cy=477 r=7.1 />
<path class=c d="M1089 374h12.6l-6.3 12.6z"/>
<path class=c d="M1598 712h12.6l-6.3 12.6z"/>
<path class=c d="M1544 156h12.6l-6.3 12.6z"/>
<path class=e d="M1757 540l6.4 4.6-2.4 7.5-7.9 0-2.4-7.5z"/>
<path class=b d="M1375 726l3.2 3.2 3.2-3.2 3.2 3.2-3.2 3.2 3.2 3.2-3.2 3.2-3.2-3.2-3.2 3.2-3.2-3.2 3.2-3.2-3.2-3.2z"/>
<path class=e d="M1328 439l6.4 4.6-2.4 7.5-7.9 0-2.4-7.5z"/>
<path class=b d="M1506 459l3.2 3.2 3.2-3.2 3.2 3.2-3.2 3.2 3.2 3.2-3.2 3.2-3.2-3.2-3.2 3.2-3.2-3.2 3.2-3.2-3.2-3.2z"/>
<path class=c d="M1440 133h12.6l-6.3 12.6z"/>
<path class=c d="M1207 262h12.6l-6.3 12.6z"/>
<path class=d d="M1476 413h13.6v13.6h-13.6z"/>
<path class=e d="M1693 478l6.4 4.6-2.4 7.5-7.9 0-2.4-7.5z"/>
<path class=d d="M1402 532h13.6v13.6h-13.6z"/>
<path class=c d="M1116 472h12.6l-6.3 12.6z"/>
<path class=e d="M1280 529l6.4 4.6-2.4 7.5-7.9 0-2.4-7.5z"/>
<path class=b d="M1288 766l3.2 3.2 3.2-3.2 3.2 3.2-3.2 3.2 3.2 3.2-3.2 3.2-3.2-3.2-3.2 3.2-3.2-3.2 3.2-3.2-3.2-3.2z"/>
<path class=d d="M1291 409h13.6v13.6h-13.6z"/>
<path class=d d="M1429 461h13.6v13.6h-13.6z"/>
<circle class=a cx=1396 cy=343 r=7.1 />
<path class=b d="M1598 535l3.2 3.2 3.2-3.2 3.2 3.2-3.2 3.2 3.2 3.2-3.2 3.2-3.2-3.2-3.2 3.2-3.2-3.2 3.2-3.2-3.2-3.2z"/>
<path class=e d="M1755 568l6.4 4.6-2.4 7.5-7.9 0-2.4-7.5z"/>
<path class=d d="M1337 404h13.6v13.6h-13.6z"/>
<path class=d d="M1667 386h13.6v13.6h-13.6z"/>
<path class=b d="M1698 356l3.2 3.2 3.2-3.2 3.2 3.2-3.2 3.2 3.2 3.2-3.2 3.2-3.2-3.2-3.2 3.2-3.2-3.2 3.2-3.2-3.2-3.2z"/>
<circle class=a cx=1526 cy=507 r=7.1 />
<circle class=a cx=1419 cy=411 r=7.1 />
<path class=b d="M1419 724l3.2 3.2 3.2-3.2 3.2 3.2-3.2 3.2 3.2 3.2-3.2 3.2-3.2-3.2-3.2 3.2-3.2-3.2 3.2-3.2-3.2-3.2z"/>
<path class=b d="M1559 571l3.2 3.2 3.2-3.2 3.2 3.2-3.2 3.2 3.2 3.2-3.2 3.2-3.2-3.2-3.2 3.2-3.2-3.2 3.2-3.2-3.2-3.2z"/>
<path class=e d="M1763 562l6.4 4.6-2.4 7.5-7.9 0-2.4-7.5z"/>
<path class=d d="M1677 396h13.6v13.6h-13.6z"/>
<path class=b d="M1138 583l3.2 3.2 3.2-3.2 3.2 3.2-3.2 3.2 3.2 3.2-3.2 3.2-3.2-3.2-3.2 3.2-3.2-3.2 3.2-3.2-3.2-3.2z"/>
<path class=b d="M1516 780l3.2 3.2 3.2-3.2 3.2 3.2-3.2 3.2 3.2 3.2-3.2 3.2-3.2-3.2-3.2 3.2-3.2-3.2 3.2-3.2-3.2-3.2z"/>
<path class=c d="M1071 385h12.6l-6.3 12.6z"/>
<path class=e d="M1768 555l6.4 4.6-2.4 7.5-7.9 0-2.4-7.5z"/>
<path class=e d="M1274 504l6.4 4.6-2.4 7.5-7.9 0-2.4-7.5z"/>
<path class=d d="M1393 515h13.6v13.6h-13.6z"/>
<path class=e d="M1283 620l6.4 4.6-2.4 7.5-7.9 0-2.4-7.5z"/>
<path class=b d="M1555 491l3.2 3.2 3.2-3.2 3.2 3.2-3.2 3.2 3.2 3.2-3.2 3.2-3.2-3.2-3.2 3.2-3.2-3.2 3.2-3.2-3.2-3.2z"/>
<path class=b d="M1641 483l3.2 3.2 3.2-3.2 3.2 3.2-3.2 3.2 3.2 3.2-3.2 3.2-3.2-3.2-3.2 3.2-3.2-3.2 3.2-3.2-3.2-3.2z"/>
<circle class=a cx=1346 cy=530 r=7.1 />
<path class=e d="M1667 473l6.4 4.6-2.4 7.5-7.9 0-2.4-7.5z"/>
<path class=b d="M1551 488l3.2 3.2 3.2-3.2 3.2 3.2-3.2 3.2 3.2 3.2-3.2 3.2-3.2-3.2-3.2 3.2-3.2-3.2 3.2-3.2-3.2-3.2z"/>
<path class=c d="M1069 381h12.6l-6.3 12.6z"/>
<circle class=a cx=1380 cy=395 r=7.1 />
<path class=b d="M1506 455l3.2 3.2 3.2-3.2 3.2 3.2-3.2 3.2 3.2 3.2-3.2 3.2-3.2-3.2-3.2 3.2-3.2-3.2 3.2-3.2-3.2-3.2z"/>
<path class=b d="M1321 733l3.2 3.2 3.2-3.2 3.2 3.2-3.2 3.2 3.2 3.2-3.2 3.2-3.2-3.2-3.2 3.2-3.2-3.2 3.2-3.2-3.2-3.2z"/>
<path class=b d="M1544 501l3.2 3.2 3.2-3.2 3.2 3.2-3.2 3.2 3.2 3.2-3.2 3.2-3.2-3.2-3.2 3.2-3.2-3.2 3.2-3.2-3.2-3.2z"/>
<path class=e d="M1734 556l6.4 4.6-2.4 7.5-7.9 0-2.4-7.5z"/>
<path class=e d="M1308 603l6.4 4.6-2.4 7.5-7.9 0-2.4-7.5z"/>
<path class=c d="M1128 463h12.6l-6.3 12.6z"/>
<path class=b d="M1392 726l3.2 3.2 3.2-3.2 3.2 3.2-3.2 3.2 3.2 3.2-3.2 3.2-3.2-3.2-3.2 3.2-3.2-3.2 3.2-3.2-3.2-3.2z"/>
<path class=d d="M1447 410h13.6v13.6h-13.6z"/>
<path class=e d="M1775 537l6.4 4.6-2.4 7.5-7.9 0-2.4-7.5z"/>
<circle class=a cx=1421 cy=436 r=7.1 />
<circle class=a cx=1607 cy=559 r=7.1 />
<path class=b d="M1505 805l3.2 3.2 3.2-3.2 3.2 3.2-3.2 3.2 3.2 3.2-3.2 3.2-3.2-3.2-3.2 3.2-3.2-3.2 3.2-3.2-3.2-3.2z"/>
<path class=c d="M1529 660h12.6l-6.3 12.6z"/>
<path class=b d="M1697 381l3.2 3.2 3.2-3.2 3.2 3.2-3.2 3.2 3.2 3.2-3.2 3.2-3.2-3.2-3.2 3.2-3.2-3.2 3.2-3.2-3.2-3.2z"/>
<path class=c d="M1588 183h12.6l-6.3 12.6z"/>
<path class=c d="M1168 303h12.6l-6.3 12.6z"/>
<path class=c d="M1108 464h12.6l-6.3 12.6z"/>
<circle class=a cx=1376 cy=442 r=7.1 />
<path class=b d="M1121 585l3.2 3.2 3.2-3.2 3.2 3.2-3.2 3.2 3.2 3.2-3.2 3.2-3.2-3.2-3.2 3.2-3.2-3.2 3.2-3.2-3.2-3.2z"/>
<circle class=a cx=1753 cy=463 r=7.1 />
<path class=c d="M1446 175h12.6l-6.3 12.6z"/>
<path class=b d="M1655 351l3.2 3.2 3.2-3.2 3.2 3.2-3.2 3.2 3.2 3.2-3.2 3.2-3.2-3.2-3.2 3.2-3.2-3.2 3.2-3.2-3.2-3.2z"/>
<path class=c d="M1231 255h12.6l-6.3 12.6z"/>
<path class=c d="M1433 197h12.6l-6.3 12.6z"/>
<path class=c d="M1164 456h12.6l-6.3 12.6z"/>
<path class=c d="M1591 179h12.6l-6.3 12.6z"/>
<circle class=a cx=1584 cy=469 r=7.1 />
<path class=e d="M1333 533l6.4 4.6-2.4 7.5-7.9 0-2.4-7.5z"/>
<path class=d d="M1586 302h13.6v13.6h-13.6z"/>
<path class=b d="M1520 570l3.2 3.2 3.2-3.2 3.2 3.2-3.2 3.2 3.2 3.2-3.2 3.2-3.2-3.2-3.2 3.2-3.2-3.2 3.2-3.2-3.2-3.2z"/>
<path class=e d="M1300 618l6.4 4.6-2.4 7.5-7.9 0-2.4-7.5z"/>
<path class=e d="M1725 482l6.4 4.6-2.4 7.5-7.9 0-2.4-7.5z"/>
<path class=b d="M1474 476l3.2 3.2 3.2-3.2 3.2 3.2-3.2 3.2 3.2 3.2-3.2 3.2-3.2-3.2-3.2 3.2-3.2-3.2 3.2-3.2-3.2-3.2z"/>
<path class=e d="M1733 555l6.4 4.6-2.4 7.5-7.9 0-2.4-7.5z"/>
<path class=c d="M1331 221h12.6l-6.3 12.6z"/>
<circle class=a cx=1724 cy=484 r=7.1 />
<path class=c d="M1295 148h12.6l-6.3 12.6z"/>
<circle class=a cx=1447 cy=412 r=7.1 />
<path class=d d="M1311 380h13.6v13.6h-13.6z"/>
<path class=e d="M1713 495l6.4 4.6-2.4 7.5-7.9 0-2.4-7.5z"/>
<path class=b d="M1522 571l3.2 3.2 3.2-3.2 3.2 3.2-3.2 3.2 3.2 3.2-3.2 3.2-3.2-3.2-3.2 3.2-3.2-3.2 3.2-3.2-3.2-3.2z"/>
<path class=c d="M1161 471h12.6l-6.3 12.6z"/>
<path class=d d="M1421 383h13.6v13.6h-13.6z"/>
<path class=b d="M1332 754l3.2 3.2 3.2-3.2 3.2 3.2-3.2 3.2 3.2 3.2-3.2 3.2-3.2-3.2-3.2 3.2-3.2-3.2 3.2-3.2-3.2-3.2z"/>
<path class=b d="M1542 499l3.2 3.2 3.2-3.2 3.2 3.2-3.2 3.2 3.2 3.2-3.2 3.2-3.2-3.2-3.2 3.2-3.2-3.2 3.2-3.2-3.2-3.2z"/>
<path class=d d="M1615 518h13.6v13.6h-13.6z"/>
<path class=c d="M1573 702h12.6l-6.3 12.6z"/>
<path class=c d="M1326 193h12.6l-6.3 12.6z"/>
<path class=c d="M1314 177h12.6l-6.3 12.6z"/>
<path class=b d="M1490 800l3.2 3.2 3.2-3.2 3.2 3.2-3.2 3.2 3.2 3.2-3.2 3.2-3.2-3.2-3.2 3.2-3.2-3.2 3.2-3.2-3.2-3.2z"/>
<path class=b d="M1132 580l3.2 3.2 3.2-3.2 3.2 3.2-3.2 3.2 3.2 3.2-3.2 3.2-3.2-3.2-3.2 3.2-3.2-3.2 3.2-3.2-3.2-3.2z"/>
<path class=c d="M1237 263h12.6l-6.3 12.6z"/>
<path class=c d="M1111 474h12.6l-6.3 12.6z"/>
<path class=e d="M1266 600l6.4 4.6-2.4 7.5-7.9 0-2.4-7.5z"/>
<path class=d d="M1422 526h13.6v13.6h-13.6z"/>
<path class=d d="M1674 286h13.6v13.6h-13.6z"/>
<path class=d d="M1390 593h13.6v13.6h-13.6z"/>
<path class=d d="M1521 267h13.6v13.6h-13.6z"/>
<path class=d d="M1434 530h13.6v13.6h-13.6z"/>
<path class=c d="M1444 201h12.6l-6.3 12.6z"/>
<circle class=a cx=1507 cy=494 r=7.1 />
<circle class=a cx=1439 cy=482 r=7.1 />
<circle class=a cx=1431 cy=354 r=7.1 />
<path class=b d="M1718 351l3.2 3.2 3.2-3.2 3.2 3.2-3.2 3.2 3.2 3.2-3.2 3.2-3.2-3.2-3.2 3.2-3.2-3.2 3.2-3.2-3.2-3.2z"/>
<circle class=a cx=1365 cy=464 r=7.1 />
<path class=e d="M1321 617l6.4 4.6-2.4 7.5-7.9 0-2.4-7.5z"/>
<circle class=a cx=1453 cy=503 r=7.1 />
<path class=b d="M1498 476l3.2 3.2 3.2-3.2 3.2 3.2-3.2 3.2 3.2 3.2-3.2 3.2-3.2-3.2-3.2 3.2-3.2-3.2 3.2-3.2-3.2-3.2z"/>
<path class=e d="M1776 567l6.4 4.6-2.4 7.5-7.9 0-2.4-7.5z"/>
<circle class=a cx=1574 cy=579 r=7.1 />
<path class=e d="M1260 532l6.4 4.6-2.4 7.5-7.9 0-2.4-7.5z"/>
<path class=c d="M1597 173h12.6l-6.3 12.6z"/>
<path class=d d="M1481 426h13.6v13.6h-13.6z"/>
<path class=d d="M1521 324h13.6v13.6h-13.6z"/>
<circle class=a cx=1440 cy=405 r=7.1 />
<path class=e d="M1359 600l6.4 4.6-2.4 7.5-7.9 0-2.4-7.5z"/>
<path class=d d="M1425 385h13.6v13.6h-13.6z"/>
<circle class=a cx=1384 cy=421 r=7.1 />
<path class=d d="M1669 385h13.6v13.6h-13.6z"/>
<path class=b d="M1333 738l3.2 3.2 3.2-3.2 3.2 3.2-3.2 3.2 3.2 3.2-3.2 3.2-3.2-3.2-3.2 3.2-3.2-3.2 3.2-3.2-3.2-3.2z"/>
<circle class=a cx=1662 cy=499 r=7.1 />
<path class=d d="M1547 327h13.6v13.6h-13.6z"/>
<path class=c d="M1342 219h12.6l-6.3 12.6z"/>
<path class=e d="M1325 438l6.4 4.6-2.4 7.5-7.9 0-2.4-7.5z"/>
<path class=c d="M1086 381h12.6l-6.3 12.6z"/>
<circle class=a cx=1549 cy=418 r=7.1 />
<path class=b d="M1124 619l3.2 3.2 3.2-3.2 3.2 3.2-3.2 3.2 3.2 3.2-3.2 3.2-3.2-3.2-3.2 3.2-3.2-3.2 3.2-3.2-3.2-3.2z"/>
<path class=c d="M1303 167h12.6l-6.3 12.6z"/>
<path class=d d="M1523 325h13.6v13.6h-13.6z"/>
<path class=b d="M1347 725l3.2 3.2 3.2-3.2 3.2 3.2-3.2 3.2 3.2 3.2-3.2 3.2-3.2-3.2-3.2 3.2-3.2-3.2 3.2-3.2-3.2-3.2z"/>
<path class=d d="M1475 403h13.6v13.6h-13.6z"/>
<path class=b d="M1511 326l3.2 3.2 3.2-3.2 3.2 3.2-3.2 3.2 3.2 3.2-3.2 3.2-3.2-3.2-3.2 3.2-3.2-3.2 3.2-3.2-3.2-3.2z"/>
<path class=e d="M1666 474l6.4 4.6-2.4 7.5-7.9 0-2.4-7.5z"/>
<path class=d d="M1522 324h13.6v13.6h-13.6z"/>
<path class=e d="M1774 534l6.4 4.6-2.4 7.5-7.9 0-2.4-7.5z"/>
<path class=c d="M1298 137h12.6l-6.3 12.6z"/>
<path class=b d="M1117 591l3.2 3.2 3.2-3.2 3.2 3.2-3.2 3.2 3.2 3.2-3.2 3.2-3.2-3.2-3.2 3.2-3.2-3.2 3.2-3.2-3.2-3.2z"/>
<path class=d d="M1683 399h13.6v13.6h-13.6z"/>
<path class=b d="M1336 781l3.2 3.2 3.2-3.2 3.2 3.2-3.2 3.2 3.2 3.2-3.2 3.2-3.2-3.2-3.2 3.2-3.2-3.2 3.2-3.2-3.2-3.2z"/>
<path class=b d="M1562 574l3.2 3.2 3.2-3.2 3.2 3.2-3.2 3.2 3.2 3.2-3.2 3.2-3.2-3.2-3.2 3.2-3.2-3.2 3.2-3.2-3.2-3.2z"/>
<path class=b d="M1310 774l3.2 3.2 3.2-3.2 3.2 3.2-3.2 3.2 3.2 3.2-3.2 3.2-3.2-3.2-3.2 3.2-3.2-3.2 3.2-3.2-3.2-3.2z"/>
<path class=b d="M1511 793l3.2 3.2 3.2-3.2 3.2 3.2-3.2 3.2 3.2 3.2-3.2 3.2-3.2-3.2-3.2 3.2-3.2-3.2 3.2-3.2-3.2-3.2z"/>
<path class=d d="M1665 315h13.6v13.6h-13.6z"/>
<path class=d d="M1517 323h13.6v13.6h-13.6z"/>
<path class=c d="M1434 207h12.6l-6.3 12.6z"/>
<path class=e d="M1262 495l6.4 4.6-2.4 7.5-7.9 0-2.4-7.5z"/>
<path class=b d="M1398 734l3.2 3.2 3.2-3.2 3.2 3.2-3.2 3.2 3.2 3.2-3.2 3.2-3.2-3.2-3.2 3.2-3.2-3.2 3.2-3.2-3.2-3.2z"/>
<path class=c d="M1570 150h12.6l-6.3 12.6z"/>
<path class=c d="M1079 363h12.6l-6.3 12.6z"/>
<path class=b d="M1114 571l3.2 3.2 3.2-3.2 3.2 3.2-3.2 3.2 3.2 3.2-3.2 3.2-3.2-3.2-3.2 3.2-3.2-3.2 3.2-3.2-3.2-3.2z"/>
<path class=d d="M1352 399h13.6v13.6h-13.6z"/>
<circle class=a cx=1375 cy=380 r=7.1 />
<path class=b d="M1512 559l3.2 3.2 3.2-3.2 3.2 3.2-3.2 3.2 3.2 3.2-3.2 3.2-3.2-3.2-3.2 3.2-3.2-3.2 3.2-3.2-3.2-3.2z"/>
<path class=c d="M1591 168h12.6l-6.3 12.6z"/>
<circle class=a cx=1349 cy=531 r=7.1 />
<path class=c d="M1079 371h12.6l-6.3 12.6z"/>
<path class=b d="M1158 618l3.2 3.2 3.2-3.2 3.2 3.2-3.2 3.2 3.2 3.2-3.2 3.2-3.2-3.2-3.2 3.2-3.2-3.2 3.2-3.2-3.2-3.2z"/>
<circle class=a cx=1575 cy=493 r=7.1 />
<path class=e d="M1320 424l6.4 4.6-2.4 7.5-7.9 0-2.4-7.5z"/>
<path class=b d="M1577 560l3.2 3.2 3.2-3.2 3.2 3.2-3.2 3.2 3.2 3.2-3.2 3.2-3.2-3.2-3.2 3.2-3.2-3.2 3.2-3.2-3.2-3.2z"/>
<path class=c d="M1688 669h12.6l-6.3 12.6z"/>
<path class=d d="M1454 579h13.6v13.6h-13.6z"/>
<path class=b d="M1416 713l3.2 3.2 3.2-3.2 3.2 3.2-3.2 3.2 3.2 3.2-3.2 3.2-3.2-3.2-3.2 3.2-3.2-3.2 3.2-3.2-3.2-3.2z"/>
<path class=b d="M1495 563l3.2 3.2 3.2-3.2 3.2 3.2-3.2 3.2 3.2 3.2-3.2 3.2-3.2-3.2-3.2 3.2-3.2-3.2 3.2-3.2-3.2-3.2z"/>
<path class=b d="M1552 490l3.2 3.2 3.2-3.2 3.2 3.2-3.2 3.2 3.2 3.2-3.2 3.2-3.2-3.2-3.2 3.2-3.2-3.2 3.2-3.2-3.2-3.2z"/>
<path class=e d="M1262 488l6.4 4.6-2.4 7.5-7.9 0-2.4-7.5z"/>
<path class=e d="M1707 523l6.4 4.6-2.4 7.5-7.9 0-2.4-7.5z"/>
<path class=e d="M1770 500l6.4 4.6-2.4 7.5-7.9 0-2.4-7.5z"/>
<path class=c d="M1093 364h12.6l-6.3 12.6z"/>
<path class=d d="M1446 552h13.6v13.6h-13.6z"/>
<path class=b d="M1535 565l3.2 3.2 3.2-3.2 3.2 3.2-3.2 3.2 3.2 3.2-3.2 3.2-3.2-3.2-3.2 3.2-3.2-3.2 3.2-3.2-3.2-3.2z"/>
<path class=c d="M1457 158h12.6l-6.3 12.6z"/>
<path class=b d="M1506 454l3.2 3.2 3.2-3.2 3.2 3.2-3.2 3.2 3.2 3.2-3.2 3.2-3.2-3.2-3.2 3.2-3.2-3.2 3.2-3.2-3.2-3.2z"/>
<path class=b d="M1307 771l3.2 3.2 3.2-3.2 3.2 3.2-3.2 3.2 3.2 3.2-3.2 3.2-3.2-3.2-3.2 3.2-3.2-3.2 3.2-3.2-3.2-3.2z"/>
<path class=c d="M1543 675h12.6l-6.3 12.6z"/>
<path class=d d="M1323 523h13.6v13.6h-13.6z"/>
<path class=b d="M1500 768l3.2 3.2 3.2-3.2 3.2 3.2-3.2 3.2 3.2 3.2-3.2 3.2-3.2-3.2-3.2 3.2-3.2-3.2 3.2-3.2-3.2-3.2z"/>
<path class=b d="M1530 560l3.2 3.2 3.2-3.2 3.2 3.2-3.2 3.2 3.2 3.2-3.2 3.2-3.2-3.2-3.2 3.2-3.2-3.2 3.2-3.2-3.2-3.2z"/>
<path class=b d="M1360 745l3.2 3.2 3.2-3.2 3.2 3.2-3.2 3.2 3.2 3.2-3.2 3.2-3.2-3.2-3.2 3.2-3.2-3.2 3.2-3.2-3.2-3.2z"/>
<path class=d d="M1465 385h13.6v13.6h-13.6z"/>
<circle class=a cx=1490 cy=545 r=7.1 />
<circle class=a cx=1344 cy=469 r=7.1 />
<path class=e d="M1257 552l6.4 4.6-2.4 7.5-7.9 0-2.4-7.5z"/>
<circle class=a cx=1332 cy=436 r=7.1 />
<path class=e d="M1234 515l6.4 4.6-2.4 7.5-7.9 0-2.4-7.5z"/>
<path class=d d="M1464 351h13.6v13.6h-13.6z"/>
<circle class=a cx=1465 cy=372 r=7.1 />
<path class=c d="M1071 363h12.6l-6.3 12.6z"/>
<path class=d d="M1291 408h13.6v13.6h-13.6z"/>
<path class=b d="M1511 764l3.2 3.2 3.2-3.2 3.2 3.2-3.2 3.2 3.2 3.2-3.2 3.2-3.2-3.2-3.2 3.2-3.2-3.2 3.2-3.2-3.2-3.2z"/>
<circle class=a cx=1368 cy=420 r=7.1 />
<path class=b d="M1402 727l3.2 3.2 3.2-3.2 3.2 3.2-3.2 3.2 3.2 3.2-3.2 3.2-3.2-3.2-3.2 3.2-3.2-3.2 3.2-3.2-3.2-3.2z"/>
<path class=b d="M1463 787l3.2 3.2 3.2-3.2 3.2 3.2-3.2 3.2 3.2 3.2-3.2 3.2-3.2-3.2-3.2 3.2-3.2-3.2 3.2-3.2-3.2-3.2z"/>
<path class=d d="M1704 437h13.6v13.6h-13.6z"/>
<path class=d d="M1290 414h13.6v13.6h-13.6z"/>
<path class=b d="M1122 567l3.2 3.2 3.2-3.2 3.2 3.2-3.2 3.2 3.2 3.2-3.2 3.2-3.2-3.2-3.2 3.2-3.2-3.2 3.2-3.2-3.2-3.2z"/>
<path class=b d="M1159 588l3.2 3.2 3.2-3.2 3.2 3.2-3.2 3.2 3.2 3.2-3.2 3.2-3.2-3.2-3.2 3.2-3.2-3.2 3.2-3.2-3.2-3.2z"/>
<path class=d d="M1422 384h13.6v13.6h-13.6z"/>
<circle class=a cx=1349 cy=375 r=7.1 />
<path class=c d="M1081 361h12.6l-6.3 12.6z"/>
<path class=d d="M1440 350h13.6v13.6h-13.6z"/>
<path class=c d="M1606 700h12.6l-6.3 12.6z"/>
<path class=c d="M1185 309h12.6l-6.3 12.6z"/>
<circle class=a cx=1749 cy=423 r=7.1 />
<circle class=a cx=1443 cy=327 r=7.1 />
<path class=c d="M1158 447h12.6l-6.3 12.6z"/>
<path class=d d="M1559 549h13.6v13.6h-13.6z"/>
<path class=b d="M1458 819l3.2 3.2 3.2-3.2 3.2 3.2-3.2 3.2 3.2 3.2-3.2 3.2-3.2-3.2-3.2 3.2-3.2-3.2 3.2-3.2-3.2-3.2z"/>
<circle class=a cx=1524 cy=494 r=7.1 />
<path class=d d="M1459 484h13.6v13.6h-13.6z"/>
<path class=e d="M1802 550l6.4 4.6-2.4 7.5-7.9 0-2.4-7.5z"/>
<path class=d d="M1281 360h13.6v13.6h-13.6z"/>
<path class=d d="M1739 318h13.6v13.6h-13.6z"/>
<path class=c d="M1306 147h12.6l-6.3 12.6z"/>
<path class=b d="M1284 763l3.2 3.2 3.2-3.2 3.2 3.2-3.2 3.2 3.2 3.2-3.2 3.2-3.2-3.2-3.2 3.2-3.2-3.2 3.2-3.2-3.2-3.2z"/>
<path class=d d="M1755 400h13.6v13.6h-13.6z"/>
<path class=d d="M1507 291h13.6v13.6h-13.6z"/>
<path class=b d="M1504 507l3.2 3.2 3.2-3.2 3.2 3.2-3.2 3.2 3.2 3.2-3.2 3.2-3.2-3.2-3.2 3.2-3.2-3.2 3.2-3.2-3.2-3.2z"/>
<path class=b d="M1629 432l3.2 3.2 3.2-3.2 3.2 3.2-3.2 3.2 3.2 3.2-3.2 3.2-3.2-3.2-3.2 3.2-3.2-3.2 3.2-3.2-3.2-3.2z"/>
<path class=b d="M1727 373l3.2 3.2 3.2-3.2 3.2 3.2-3.2 3.2 3.2 3.2-3.2 3.2-3.2-3.2-3.2 3.2-3.2-3.2 3.2-3.2-3.2-3.2z"/>
<path class=d d="M1316 479h13.6v13.6h-13.6z"/>
<path class=e d="M1326 436l6.4 4.6-2.4 7.5-7.9 0-2.4-7.5z"/>
<path class=b d="M1370 728l3.2 3.2 3.2-3.2 3.2 3.2-3.2 3.2 3.2 3.2-3.2 3.2-3.2-3.2-3.2 3.2-3.2-3.2 3.2-3.2-3.2-3.2z"/>
<path class=b d="M1567 519l3.2 3.2 3.2-3.2 3.2 3.2-3.2 3.2 3.2 3.2-3.2 3.2-3.2-3.2-3.2 3.2-3.2-3.2 3.2-3.2-3.2-3.2z"/>
<circle class=a cx=1604 cy=480 r=7.1 />
<path class=b d="M1691 360l3.2 3.2 3.2-3.2 3.2 3.2-3.2 3.2 3.2 3.2-3.2 3.2-3.2-3.2-3.2 3.2-3.2-3.2 3.2-3.2-3.2-3.2z"/>
<path class=d d="M1600 347h13.6v13.6h-13.6z"/>
<path class=c d="M1178 309h12.6l-6.3 12.6z"/>
<path class=d d="M1467 569h13.6v13.6h-13.6z"/>
<path class=d d="M1570 382h13.6v13.6h-13.6z"/>
<path class=d d="M1668 313h13.6v13.6h-13.6z"/>
<path class=d d="M1513 324h13.6v13.6h-13.6z"/>
<path class=b d="M1149 623l3.2 3.2 3.2-3.2 3.2 3.2-3.2 3.2 3.2 3.2-3.2 3.2-3.2-3.2-3.2 3.2-3.2-3.2 3.2-3.2-3.2-3.2z"/>
<path class=e d="M1308 579l6.4 4.6-2.4 7.5-7.9 0-2.4-7.5z"/>
<circle class=a cx=1491 cy=333 r=7.1 />
<path class=e d="M1320 428l6.4 4.6-2.4 7.5-7.9 0-2.4-7.5z"/>
<path class=d d="M1426 463h13.6v13.6h-13.6z"/>
<circle class=a cx=1316 cy=372 r=7.1 />
<path class=e d="M1326 596l6.4 4.6-2.4 7.5-7.9 0-2.4-7.5z"/>
<circle class=a cx=1359 cy=373 r=7.1 />
<circle class=a cx=1442 cy=485 r=7.1 />
<path class=e d="M1693 477l6.4 4.6-2.4 7.5-7.9 0-2.4-7.5z"/>
<path class=e d="M1273 559l6.4 4.6-2.4 7.5-7.9 0-2.4-7.5z"/>
<circle class=a cx=1596 cy=492 r=7.1 />
<path class=c d="M1351 198h12.6l-6.3 12.6z"/>
<circle class=a cx=1368 cy=478 r=7.1 />
<path class=d d="M1516 459h13.6v13.6h-13.6z"/>
<path class=e d="M1726 581l6.4 4.6-2.4 7.5-7.9 0-2.4-7.5z"/>
<path class=c d="M1417 109h12.6l-6.3 12.6z"/>
<path class=d d="M1341 511h13.6v13.6h-13.6z"/>
<path class=e d="M1262 581l6.4 4.6-2.4 7.5-7.9 0-2.4-7.5z"/>
<path class=b d="M1452 808l3.2 3.2 3.2-3.2 3.2 3.2-3.2 3.2 3.2 3.2-3.2 3.2-3.2-3.2-3.2 3.2-3.2-3.2 3.2-3.2-3.2-3.2z"/>
<path class=e d="M1266 613l6.4 4.6-2.4 7.5-7.9 0-2.4-7.5z"/>
<path class=b d="M1500 462l3.2 3.2 3.2-3.2 3.2 3.2-3.2 3.2 3.2 3.2-3.2 3.2-3.2-3.2-3.2 3.2-3.2-3.2 3.2-3.2-3.2-3.2z"/>
<path class=d d="M1535 277h13.6v13.6h-13.6z"/>
<path class=c d="M1185 306h12.6l-6.3 12.6z"/>
<path class=d d="M1532 322h13.6v13.6h-13.6z"/>
<path class=c d="M1522 668h12.6l-6.3 12.6z"/>
<circle class=a cx=1433 cy=432 r=7.1 />
<path class=b d="M1284 751l3.2 3.2 3.2-3.2 3.2 3.2-3.2 3.2 3.2 3.2-3.2 3.2-3.2-3.2-3.2 3.2-3.2-3.2 3.2-3.2-3.2-3.2z"/>
<path class=d d="M1248 351h13.6v13.6h-13.6z"/>
<path class=d d="M1671 306h13.6v13.6h-13.6z"/>
<path class=b d="M1488 773l3.2 3.2 3.2-3.2 3.2 3.2-3.2 3.2 3.2 3.2-3.2 3.2-3.2-3.2-3.2 3.2-3.2-3.2 3.2-3.2-3.2-3.2z"/>
<path class=b d="M1707 340l3.2 3.2 3.2-3.2 3.2 3.2-3.2 3.2 3.2 3.2-3.2 3.2-3.2-3.2-3.2 3.2-3.2-3.2 3.2-3.2-3.2-3.2z"/>
<path class=b d="M1732 371l3.2 3.2 3.2-3.2 3.2 3.2-3.2 3.2 3.2 3.2-3.2 3.2-3.2-3.2-3.2 3.2-3.2-3.2 3.2-3.2-3.2-3.2z"/>
<path class=d d="M1522 311h13.6v13.6h-13.6z"/>
<path class=b d="M1469 776l3.2 3.2 3.2-3.2 3.2 3.2-3.2 3.2 3.2 3.2-3.2 3.2-3.2-3.2-3.2 3.2-3.2-3.2 3.2-3.2-3.2-3.2z"/>
<path class=b d="M1340 748l3.2 3.2 3.2-3.2 3.2 3.2-3.2 3.2 3.2 3.2-3.2 3.2-3.2-3.2-3.2 3.2-3.2-3.2 3.2-3.2-3.2-3.2z"/>
<path class=b d="M1359 566l3.2 3.2 3.2-3.2 3.2 3.2-3.2 3.2 3.2 3.2-3.2 3.2-3.2-3.2-3.2 3.2-3.2-3.2 3.2-3.2-3.2-3.2z"/>
<path class=e d="M1262 544l6.4 4.6-2.4 7.5-7.9 0-2.4-7.5z"/>
<path class=b d="M1528 490l3.2 3.2 3.2-3.2 3.2 3.2-3.2 3.2 3.2 3.2-3.2 3.2-3.2-3.2-3.2 3.2-3.2-3.2 3.2-3.2-3.2-3.2z"/>
<path class=d d="M1255 388h13.6v13.6h-13.6z"/>
<circle class=a cx=1510 cy=494 r=7.1 />
<circle class=a cx=1552 cy=535 r=7.1 />
<path class=d d="M1356 478h13.6v13.6h-13.6z"/>
<path class=d d="M1458 486h13.6v13.6h-13.6z"/>
<path class=c d="M1571 705h12.6l-6.3 12.6z"/>
<path class=b d="M1508 803l3.2 3.2 3.2-3.2 3.2 3.2-3.2 3.2 3.2 3.2-3.2 3.2-3.2-3.2-3.2 3.2-3.2-3.2 3.2-3.2-3.2-3.2z"/>
<path class=e d="M1259 486l6.4 4.6-2.4 7.5-7.9 0-2.4-7.5z"/>
<path class=d d="M1542 349h13.6v13.6h-13.6z"/>
<path class=e d="M1289 545l6.4 4.6-2.4 7.5-7.9 0-2.4-7.5z"/>
<path class=b d="M1659 355l3.2 3.2 3.2-3.2 3.2 3.2-3.2 3.2 3.2 3.2-3.2 3.2-3.2-3.2-3.2 3.2-3.2-3.2 3.2-3.2-3.2-3.2z"/>
<path class=c d="M1557 152h12.6l-6.3 12.6z"/>
<path class=c d="M1308 160h12.6l-6.3 12.6z"/>
<path class=d d="M1434 496h13.6v13.6h-13.6z"/>
<path class=b d="M1335 753l3.2 3.2 3.2-3.2 3.2 3.2-3.2 3.2 3.2 3.2-3.2 3.2-3.2-3.2-3.2 3.2-3.2-3.2 3.2-3.2-3.2-3.2z"/>
<circle class=a cx=1575 cy=494 r=7.1 />
<path class=b d="M1129 609l3.2 3.2 3.2-3.2 3.2 3.2-3.2 3.2 3.2 3.2-3.2 3.2-3.2-3.2-3.2 3.2-3.2-3.2 3.2-3.2-3.2-3.2z"/>
<path class=c d="M1235 250h12.6l-6.3 12.6z"/>
<path class=b d="M1731 377l3.2 3.2 3.2-3.2 3.2 3.2-3.2 3.2 3.2 3.2-3.2 3.2-3.2-3.2-3.2 3.2-3.2-3.2 3.2-3.2-3.2-3.2z"/>
<path class=b d="M1698 366l3.2 3.2 3.2-3.2 3.2 3.2-3.2 3.2 3.2 3.2-3.2 3.2-3.2-3.2-3.2 3.2-3.2-3.2 3.2-3.2-3.2-3.2z"/>
<path class=b d="M1464 794l3.2 3.2 3.2-3.2 3.2 3.2-3.2 3.2 3.2 3.2-3.2 3.2-3.2-3.2-3.2 3.2-3.2-3.2 3.2-3.2-3.2-3.2z"/>
<circle class=a cx=1771 cy=423 r=7.1 />
<path class=b d="M1396 683l3.2 3.2 3.2-3.2 3.2 3.2-3.2 3.2 3.2 3.2-3.2 3.2-3.2-3.2-3.2 3.2-3.2-3.2 3.2-3.2-3.2-3.2z"/>
<path class=c d="M1440 205h12.6l-6.3 12.6z"/>
<path class=c d="M1125 466h12.6l-6.3 12.6z"/>
<path class=d d="M1577 529h13.6v13.6h-13.6z"/>
<path class=b d="M1134 599l3.2 3.2 3.2-3.2 3.2 3.2-3.2 3.2 3.2 3.2-3.2 3.2-3.2-3.2-3.2 3.2-3.2-3.2 3.2-3.2-3.2-3.2z"/>
<path class=c d="M1612 186h12.6l-6.3 12.6z"/>
<path class=c d="M1605 169h12.6l-6.3 12.6z"/>
<circle class=a cx=1580 cy=469 r=7.1 />
<path class=c d="M1162 474h12.6l-6.3 12.6z"/>
<path class=c d="M1424 102h12.6l-6.3 12.6z"/>
<circle class=a cx=1575 cy=493 r=7.1 />
<path class=c d="M1692 686h12.6l-6.3 12.6z"/>
<path class=b d="M1527 521l3.2 3.2 3.2-3.2 3.2 3.2-3.2 3.2 3.2 3.2-3.2 3.2-3.2-3.2-3.2 3.2-3.2-3.2 3.2-3.2-3.2-3.2z"/>
<path class=c d="M1538 662h12.6l-6.3 12.6z"/>
<circle class=a cx=1457 cy=358 r=7.1 />
<path class=e d="M1345 609l6.4 4.6-2.4 7.5-7.9 0-2.4-7.5z"/>
<path class=c d="M1603 702h12.6l-6.3 12.6z"/>
<path class=e d="M1720 567l6.4 4.6-2.4 7.5-7.9 0-2.4-7.5z"/>
<path class=c d="M1233 252h12.6l-6.3 12.6z"/>
<path class=b d="M1498 463l3.2 3.2 3.2-3.2 3.2 3.2-3.2 3.2 3.2 3.2-3.2 3.2-3.2-3.2-3.2 3.2-3.2-3.2 3.2-3.2-3.2-3.2z"/>
<path class=d d="M1557 303h13.6v13.6h-13.6z"/>
<circle class=a cx=1578 cy=583 r=7.1 />
<path class=c d="M1322 204h12.6l-6.3 12.6z"/>
<path class=c d="M1345 215h12.6l-6.3 12.6z"/>
<path class=e d="M1300 625l6.4 4.6-2.4 7.5-7.9 0-2.4-7.5z"/>
<path class=e d="M1286 492l6.4 4.6-2.4 7.5-7.9 0-2.4-7.5z"/>
<circle class=a cx=1426 cy=339 r=7.1 />
<path class=c d="M1613 176h12.6l-6.3 12.6z"/>
<path class=b d="M1679 341l3.2 3.2 3.2-3.2 3.2 3.2-3.2 3.2 3.2 3.2-3.2 3.2-3.2-3.2-3.2 3.2-3.2-3.2 3.2-3.2-3.2-3.2z"/>
<path class=d d="M1304 402h13.6v13.6h-13.6z"/>
<path class=c d="M1685 678h12.6l-6.3 12.6z"/>
<path class=e d="M1703 568l6.4 4.6-2.4 7.5-7.9 0-2.4-7.5z"/>
<circle class=a cx=1391 cy=579 r=7.1 />
<path class=c d="M1432 130h12.6l-6.3 12.6z"/>
<path class=b d="M1421 741l3.2 3.2 3.2-3.2 3.2 3.2-3.2 3.2 3.2 3.2-3.2 3.2-3.2-3.2-3.2 3.2-3.2-3.2 3.2-3.2-3.2-3.2z"/>
<circle class=a cx=1511 cy=546 r=7.1 />
<path class=c d="M1238 266h12.6l-6.3 12.6z"/>
<path class=c d="M1073 382h12.6l-6.3 12.6z"/>
<path class=b d="M1639 482l3.2 3.2 3.2-3.2 3.2 3.2-3.2 3.2 3.2 3.2-3.2 3.2-3.2-3.2-3.2 3.2-3.2-3.2 3.2-3.2-3.2-3.2z"/>
<path class=c d="M1559 152h12.6l-6.3 12.6z"/>
<path class=d d="M1397 491h13.6v13.6h-13.6z"/>
<path class=b d="M1501 782l3.2 3.2 3.2-3.2 3.2 3.2-3.2 3.2 3.2 3.2-3.2 3.2-3.2-3.2-3.2 3.2-3.2-3.2 3.2-3.2-3.2-3.2z"/>
<path class=d d="M1409 562h13.6v13.6h-13.6z"/>
<path class=e d="M1700 451l6.4 4.6-2.4 7.5-7.9 0-2.4-7.5z"/>
<path class=b d="M1479 475l3.2 3.2 3.2-3.2 3.2 3.2-3.2 3.2 3.2 3.2-3.2 3.2-3.2-3.2-3.2 3.2-3.2-3.2 3.2-3.2-3.2-3.2z"/>
<path class=e d="M1740 523l6.4 4.6-2.4 7.5-7.9 0-2.4-7.5z"/>
<path class=b d="M1139 599l3.2 3.2 3.2-3.2 3.2 3.2-3.2 3.2 3.2 3.2-3.2 3.2-3.2-3.2-3.2 3.2-3.2-3.2 3.2-3.2-3.2-3.2z"/>
<path class=d d="M1467 572h13.6v13.6h-13.6z"/>
<circle class=a cx=1577 cy=547 r=7.1 />
<path class=d d="M1400 554h13.6v13.6h-13.6z"/>
<path class=e d="M1776 539l6.4 4.6-2.4 7.5-7.9 0-2.4-7.5z"/>
<path class=b d="M1735 374l3.2 3.2 3.2-3.2 3.2 3.2-3.2 3.2 3.2 3.2-3.2 3.2-3.2-3.2-3.2 3.2-3.2-3.2 3.2-3.2-3.2-3.2z"/>
<path class=b d="M1719 356l3.2 3.2 3.2-3.2 3.2 3.2-3.2 3.2 3.2 3.2-3.2 3.2-3.2-3.2-3.2 3.2-3.2-3.2 3.2-3.2-3.2-3.2z"/>
<path class=d d="M1266 355h13.6v13.6h-13.6z"/>
<path class=c d="M1083 374h12.6l-6.3 12.6z"/>
<circle class=a cx=1605 cy=562 r=7.1 />
<path class=d d="M1335 482h13.6v13.6h-13.6z"/>
<path class=d d="M1248 363h13.6v13.6h-13.6z"/>
<path class=e d="M1374 605l6.4 4.6-2.4 7.5-7.9 0-2.4-7.5z"/>
<path class=d d="M1406 486h13.6v13.6h-13.6z"/>
<path class=e d="M1227 521l6.4 4.6-2.4 7.5-7.9 0-2.4-7.5z"/>
<path class=c d="M1682 676h12.6l-6.3 12.6z"/>
<path class=b d="M1325 748l3.2 3.2 3.2-3.2 3.2 3.2-3.2 3.2 3.2 3.2-3.2 3.2-3.2-3.2-3.2 3.2-3.2-3.2 3.2-3.2-3.2-3.2z"/>
<path class=e d="M1266 610l6.4 4.6-2.4 7.5-7.9 0-2.4-7.5z"/>
<path class=e d="M1711 484l6.4 4.6-2.4 7.5-7.9 0-2.4-7.5z"/>
<circle class=a cx=1372 cy=345 r=7.1 />
<circle class=a cx=1554 cy=547 r=7.1 />
<path class=b d="M1120 575l3.2 3.2 3.2-3.2 3.2 3.2-3.2 3.2 3.2 3.2-3.2 3.2-3.2-3.2-3.2 3.2-3.2-3.2 3.2-3.2-3.2-3.2z"/>
<path class=d d="M1286 348h13.6v13.6h-13.6z"/>
<path class=e d="M1266 572l6.4 4.6-2.4 7.5-7.9 0-2.4-7.5z"/>
<path class=b d="M1516 568l3.2 3.2 3.2-3.2 3.2 3.2-3.2 3.2 3.2 3.2-3.2 3.2-3.2-3.2-3.2 3.2-3.2-3.2 3.2-3.2-3.2-3.2z"/>
<path class=d d="M1653 365h13.6v13.6h-13.6z"/>
<circle class=a cx=1496 cy=367 r=7.1 />
<path class=e d="M1771 554l6.4 4.6-2.4 7.5-7.9 0-2.4-7.5z"/>
<circle class=a cx=1371 cy=366 r=7.1 />
<path class=b d="M1531 565l3.2 3.2 3.2-3.2 3.2 3.2-3.2 3.2 3.2 3.2-3.2 3.2-3.2-3.2-3.2 3.2-3.2-3.2 3.2-3.2-3.2-3.2z"/>
<path class=b d="M1413 759l3.2 3.2 3.2-3.2 3.2 3.2-3.2 3.2 3.2 3.2-3.2 3.2-3.2-3.2-3.2 3.2-3.2-3.2 3.2-3.2-3.2-3.2z"/>
<path class=b d="M1330 739l3.2 3.2 3.2-3.2 3.2 3.2-3.2 3.2 3.2 3.2-3.2 3.2-3.2-3.2-3.2 3.2-3.2-3.2 3.2-3.2-3.2-3.2z"/>
<circle class=a cx=1364 cy=566 r=7.1 />
<path class=b d="M1384 720l3.2 3.2 3.2-3.2 3.2 3.2-3.2 3.2 3.2 3.2-3.2 3.2-3.2-3.2-3.2 3.2-3.2-3.2 3.2-3.2-3.2-3.2z"/>
<path class=b d="M1306 750l3.2 3.2 3.2-3.2 3.2 3.2-3.2 3.2 3.2 3.2-3.2 3.2-3.2-3.2-3.2 3.2-3.2-3.2 3.2-3.2-3.2-3.2z"/>
<path class=d d="M1390 559h13.6v13.6h-13.6z"/>
<path class=e d="M1281 566l6.4 4.6-2.4 7.5-7.9 0-2.4-7.5z"/>
<path class=c d="M1454 175h12.6l-6.3 12.6z"/>
<path class=e d="M1792 511l6.4 4.6-2.4 7.5-7.9 0-2.4-7.5z"/>
<circle class=a cx=1448 cy=441 r=7.1 />
<path class=e d="M1727 546l6.4 4.6-2.4 7.5-7.9 0-2.4-7.5z"/>
<path class=b d="M1413 757l3.2 3.2 3.2-3.2 3.2 3.2-3.2 3.2 3.2 3.2-3.2 3.2-3.2-3.2-3.2 3.2-3.2-3.2 3.2-3.2-3.2-3.2z"/>
<path class=d d="M1526 303h13.6v13.6h-13.6z"/>
<path class=b d="M1621 431l3.2 3.2 3.2-3.2 3.2 3.2-3.2 3.2 3.2 3.2-3.2 3.2-3.2-3.2-3.2 3.2-3.2-3.2 3.2-3.2-3.2-3.2z"/>
<path class=c d="M1422 113h12.6l-6.3 12.6z"/>
<path class=c d="M1543 150h12.6l-6.3 12.6z"/>
<path class=b d="M1453 758l3.2 3.2 3.2-3.2 3.2 3.2-3.2 3.2 3.2 3.2-3.2 3.2-3.2-3.2-3.2 3.2-3.2-3.2 3.2-3.2-3.2-3.2z"/>
<path class=b d="M1436 758l3.2 3.2 3.2-3.2 3.2 3.2-3.2 3.2 3.2 3.2-3.2 3.2-3.2-3.2-3.2 3.2-3.2-3.2 3.2-3.2-3.2-3.2z"/>
<circle class=a cx=1371 cy=342 r=7.1 />
<path class=d d="M1578 320h13.6v13.6h-13.6z"/>
<path class=d d="M1649 357h13.6v13.6h-13.6z"/>
<circle class=a cx=1439 cy=486 r=7.1 />
<path class=b d="M1293 763l3.2 3.2 3.2-3.2 3.2 3.2-3.2 3.2 3.2 3.2-3.2 3.2-3.2-3.2-3.2 3.2-3.2-3.2 3.2-3.2-3.2-3.2z"/>
<path class=e d="M1331 609l6.4 4.6-2.4 7.5-7.9 0-2.4-7.5z"/>
<path class=e d="M1753 496l6.4 4.6-2.4 7.5-7.9 0-2.4-7.5z"/>
<path class=d d="M1515 319h13.6v13.6h-13.6z"/>
<path class=e d="M1724 498l6.4 4.6-2.4 7.5-7.9 0-2.4-7.5z"/>
<path class=e d="M1260 498l6.4 4.6-2.4 7.5-7.9 0-2.4-7.5z"/>
<circle class=a cx=1355 cy=442 r=7.1 />
<path class=e d="M1315 542l6.4 4.6-2.4 7.5-7.9 0-2.4-7.5z"/>
<path class=c d="M1317 152h12.6l-6.3 12.6z"/>
<path class=b d="M1418 769l3.2 3.2 3.2-3.2 3.2 3.2-3.2 3.2 3.2 3.2-3.2 3.2-3.2-3.2-3.2 3.2-3.2-3.2 3.2-3.2-3.2-3.2z"/>
<path class=e d="M1296 479l6.4 4.6-2.4 7.5-7.9 0-2.4-7.5z"/>
<path class=c d="M1350 218h12.6l-6.3 12.6z"/>
<path class=d d="M1641 377h13.6v13.6h-13.6z"/>
<path class=c d="M1343 218h12.6l-6.3 12.6z"/>
<path class=d d="M1389 408h13.6v13.6h-13.6z"/>
<circle class=a cx=1358 cy=441 r=7.1 />
<circle class=a cx=1646 cy=433 r=7.1 />
<path class=b d="M1157 618l3.2 3.2 3.2-3.2 3.2 3.2-3.2 3.2 3.2 3.2-3.2 3.2-3.2-3.2-3.2 3.2-3.2-3.2 3.2-3.2-3.2-3.2z"/>
<path class=e d="M1760 505l6.4 4.6-2.4 7.5-7.9 0-2.4-7.5z"/>
<circle class=a cx=1534 cy=414 r=7.1 />
<path class=d d="M1286 365h13.6v13.6h-13.6z"/>
<path class=e d="M1293 473l6.4 4.6-2.4 7.5-7.9 0-2.4-7.5z"/>
<path class=e d="M1715 491l6.4 4.6-2.4 7.5-7.9 0-2.4-7.5z"/>
<path class=b d="M1558 556l3.2 3.2 3.2-3.2 3.2 3.2-3.2 3.2 3.2 3.2-3.2 3.2-3.2-3.2-3.2 3.2-3.2-3.2 3.2-3.2-3.2-3.2z"/>
<path class=e d="M1345 609l6.4 4.6-2.4 7.5-7.9 0-2.4-7.5z"/>
<path class=e d="M1668 475l6.4 4.6-2.4 7.5-7.9 0-2.4-7.5z"/>
<path class=e d="M1260 488l6.4 4.6-2.4 7.5-7.9 0-2.4-7.5z"/>
<path class=c d="M1098 464h12.6l-6.3 12.6z"/>
<path class=c d="M1344 218h12.6l-6.3 12.6z"/>
<path class=c d="M1586 714h12.6l-6.3 12.6z"/>
<circle class=a cx=1558 cy=591 r=7.1 />
<path class=c d="M1208 277h12.6l-6.3 12.6z"/>
<path class=b d="M1708 382l3.2 3.2 3.2-3.2 3.2 3.2-3.2 3.2 3.2 3.2-3.2 3.2-3.2-3.2-3.2 3.2-3.2-3.2 3.2-3.2-3.2-3.2z"/>
<path class=b d="M1719 353l3.2 3.2 3.2-3.2 3.2 3.2-3.2 3.2 3.2 3.2-3.2 3.2-3.2-3.2-3.2 3.2-3.2-3.2 3.2-3.2-3.2-3.2z"/>
<path class=d d="M1449 540h13.6v13.6h-13.6z"/>
<path class=b d="M1488 774l3.2 3.2 3.2-3.2 3.2 3.2-3.2 3.2 3.2 3.2-3.2 3.2-3.2-3.2-3.2 3.2-3.2-3.2 3.2-3.2-3.2-3.2z"/>
<circle class=b cx=1575 cy=559 r=7.1 />
<path class=b d="M1392 724l3.2 3.2 3.2-3.2 3.2 3.2-3.2 3.2 3.2 3.2-3.2 3.2-3.2-3.2-3.2 3.2-3.2-3.2 3.2-3.2-3.2-3.2z"/>
<path class=c d="M1342 218h12.6l-6.3 12.6z"/>
<path class=d d="M1513 469h13.6v13.6h-13.6z"/>
<path class=c d="M1359 215h12.6l-6.3 12.6z"/>
<path class=d d="M1520 311h13.6v13.6h-13.6z"/>
<path class=c d="M1568 707h12.6l-6.3 12.6z"/>
<circle class=a cx=1344 cy=573 r=7.1 />
<circle class=a cx=1700 cy=425 r=7.1 />
<path class=b d="M1347 723l3.2 3.2 3.2-3.2 3.2 3.2-3.2 3.2 3.2 3.2-3.2 3.2-3.2-3.2-3.2 3.2-3.2-3.2 3.2-3.2-3.2-3.2z"/>
<path class=c d="M1111 457h12.6l-6.3 12.6z"/>
<path class=e d="M1358 595l6.4 4.6-2.4 7.5-7.9 0-2.4-7.5z"/>
<path class=b d="M1359 744l3.2 3.2 3.2-3.2 3.2 3.2-3.2 3.2 3.2 3.2-3.2 3.2-3.2-3.2-3.2 3.2-3.2-3.2 3.2-3.2-3.2-3.2z"/>
<path class=c d="M1071 365h12.6l-6.3 12.6z"/>
<circle class=a cx=1432 cy=327 r=7.1 />
<path class=b d="M1140 584l3.2 3.2 3.2-3.2 3.2 3.2-3.2 3.2 3.2 3.2-3.2 3.2-3.2-3.2-3.2 3.2-3.2-3.2 3.2-3.2-3.2-3.2z"/>
<path class=b d="M1405 729l3.2 3.2 3.2-3.2 3.2 3.2-3.2 3.2 3.2 3.2-3.2 3.2-3.2-3.2-3.2 3.2-3.2-3.2 3.2-3.2-3.2-3.2z"/>
<circle class=a cx=1595 cy=496 r=7.1 />
<path class=e d="M1696 532l6.4 4.6-2.4 7.5-7.9 0-2.4-7.5z"/>
<path class=e d="M1292 535l6.4 4.6-2.4 7.5-7.9 0-2.4-7.5z"/>
<circle class=a cx=1717 cy=407 r=7.1 />
<path class=e d="M1248 601l6.4 4.6-2.4 7.5-7.9 0-2.4-7.5z"/>
<path class=d d="M1384 381h13.6v13.6h-13.6z"/>
<path class=d d="M1513 460h13.6v13.6h-13.6z"/>
<path class=c d="M1298 156h12.6l-6.3 12.6z"/>
<path class=e d="M1238 514l6.4 4.6-2.4 7.5-7.9 0-2.4-7.5z"/>
<circle class=a cx=1468 cy=372 r=7.1 />
<path class=b d="M1125 609l3.2 3.2 3.2-3.2 3.2 3.2-3.2 3.2 3.2 3.2-3.2 3.2-3.2-3.2-3.2 3.2-3.2-3.2 3.2-3.2-3.2-3.2z"/>
<path class=c d="M1186 301h12.6l-6.3 12.6z"/>
<path class=c d="M1588 179h12.6l-6.3 12.6z"/>
<path class=c d="M1294 147h12.6l-6.3 12.6z"/>
<path class=e d="M1760 560l6.4 4.6-2.4 7.5-7.9 0-2.4-7.5z"/>
<path class=b d="M1512 319l3.2 3.2 3.2-3.2 3.2 3.2-3.2 3.2 3.2 3.2-3.2 3.2-3.2-3.2-3.2 3.2-3.2-3.2 3.2-3.2-3.2-3.2z"/>
<path class=c d="M1168 302h12.6l-6.3 12.6z"/>
<path class=b d="M1495 473l3.2 3.2 3.2-3.2 3.2 3.2-3.2 3.2 3.2 3.2-3.2 3.2-3.2-3.2-3.2 3.2-3.2-3.2 3.2-3.2-3.2-3.2z"/>
<path class=c d="M1690 695h12.6l-6.3 12.6z"/>
<path class=c d="M1086 368h12.6l-6.3 12.6z"/>
<circle class=a cx=1369 cy=421 r=7.1 />
<circle class=a cx=1368 cy=414 r=7.1 />
<path class=b d="M1289 763l3.2 3.2 3.2-3.2 3.2 3.2-3.2 3.2 3.2 3.2-3.2 3.2-3.2-3.2-3.2 3.2-3.2-3.2 3.2-3.2-3.2-3.2z"/>
<path class=b d="M1517 573l3.2 3.2 3.2-3.2 3.2 3.2-3.2 3.2 3.2 3.2-3.2 3.2-3.2-3.2-3.2 3.2-3.2-3.2 3.2-3.2-3.2-3.2z"/>
<circle class=a cx=1376 cy=380 r=7.1 />
<path class=e d="M1282 525l6.4 4.6-2.4 7.5-7.9 0-2.4-7.5z"/>
<path class=d d="M1523 545h13.6v13.6h-13.6z"/>
<path class=b d="M1516 579l3.2 3.2 3.2-3.2 3.2 3.2-3.2 3.2 3.2 3.2-3.2 3.2-3.2-3.2-3.2 3.2-3.2-3.2 3.2-3.2-3.2-3.2z"/>
<path class=d d="M1544 347h13.6v13.6h-13.6z"/>
<path class=b d="M1550 493l3.2 3.2 3.2-3.2 3.2 3.2-3.2 3.2 3.2 3.2-3.2 3.2-3.2-3.2-3.2 3.2-3.2-3.2 3.2-3.2-3.2-3.2z"/>
<path class=e d="M1742 498l6.4 4.6-2.4 7.5-7.9 0-2.4-7.5z"/>
<path class=c d="M1449 214h12.6l-6.3 12.6z"/>
<path class=c d="M1329 193h12.6l-6.3 12.6z"/>
<circle class=a cx=1320 cy=520 r=7.1 />
<path class=b d="M1157 585l3.2 3.2 3.2-3.2 3.2 3.2-3.2 3.2 3.2 3.2-3.2 3.2-3.2-3.2-3.2 3.2-3.2-3.2 3.2-3.2-3.2-3.2z"/>
<path class=b d="M1690 334l3.2 3.2 3.2-3.2 3.2 3.2-3.2 3.2 3.2 3.2-3.2 3.2-3.2-3.2-3.2 3.2-3.2-3.2 3.2-3.2-3.2-3.2z"/>
<path class=d d="M1396 489h13.6v13.6h-13.6z"/>
<path class=e d="M1300 615l6.4 4.6-2.4 7.5-7.9 0-2.4-7.5z"/>
<path class=c d="M1575 678h12.6l-6.3 12.6z"/>
<path class=b d="M1508 507l3.2 3.2 3.2-3.2 3.2 3.2-3.2 3.2 3.2 3.2-3.2 3.2-3.2-3.2-3.2 3.2-3.2-3.2 3.2-3.2-3.2-3.2z"/>
<path class=e d="M1271 516l6.4 4.6-2.4 7.5-7.9 0-2.4-7.5z"/>
<path class=b d="M1620 431l3.2 3.2 3.2-3.2 3.2 3.2-3.2 3.2 3.2 3.2-3.2 3.2-3.2-3.2-3.2 3.2-3.2-3.2 3.2-3.2-3.2-3.2z"/>
<path class=b d="M1375 739l3.2 3.2 3.2-3.2 3.2 3.2-3.2 3.2 3.2 3.2-3.2 3.2-3.2-3.2-3.2 3.2-3.2-3.2 3.2-3.2-3.2-3.2z"/>
<circle class=a cx=1509 cy=544 r=7.1 />
<path class=e d="M1269 528l6.4 4.6-2.4 7.5-7.9 0-2.4-7.5z"/>
<circle class=a cx=1617 cy=447 r=7.1 />
<path class=d d="M1692 279h13.6v13.6h-13.6z"/>
<path class=d d="M1451 407h13.6v13.6h-13.6z"/>
<circle class=a cx=1367 cy=467 r=7.1 />
<circle class=a cx=1603 cy=423 r=7.1 />
<path class=c d="M1107 468h12.6l-6.3 12.6z"/>
<path class=d d="M1540 347h13.6v13.6h-13.6z"/>
<path class=e d="M1263 541l6.4 4.6-2.4 7.5-7.9 0-2.4-7.5z"/>
<path class=c d="M1343 201h12.6l-6.3 12.6z"/>
<path class=d d="M1557 491h13.6v13.6h-13.6z"/>
<path class=d d="M1477 416h13.6v13.6h-13.6z"/>
<path class=b d="M1495 477l3.2 3.2 3.2-3.2 3.2 3.2-3.2 3.2 3.2 3.2-3.2 3.2-3.2-3.2-3.2 3.2-3.2-3.2 3.2-3.2-3.2-3.2z"/>
<path class=b d="M1512 321l3.2 3.2 3.2-3.2 3.2 3.2-3.2 3.2 3.2 3.2-3.2 3.2-3.2-3.2-3.2 3.2-3.2-3.2 3.2-3.2-3.2-3.2z"/>
<path class=c d="M1520 669h12.6l-6.3 12.6z"/>
<path class=e d="M1265 611l6.4 4.6-2.4 7.5-7.9 0-2.4-7.5z"/>
<path class=c d="M1188 290h12.6l-6.3 12.6z"/>
<circle class=a cx=1524 cy=493 r=7.1 />
<path class=b d="M1510 567l3.2 3.2 3.2-3.2 3.2 3.2-3.2 3.2 3.2 3.2-3.2 3.2-3.2-3.2-3.2 3.2-3.2-3.2 3.2-3.2-3.2-3.2z"/>
<path class=e d="M1288 595l6.4 4.6-2.4 7.5-7.9 0-2.4-7.5z"/>
<path class=e d="M1727 481l6.4 4.6-2.4 7.5-7.9 0-2.4-7.5z"/>
<path class=d d="M1468 570h13.6v13.6h-13.6z"/>
<path class=c d="M1443 158h12.6l-6.3 12.6z"/>
<path class=c d="M1113 480h12.6l-6.3 12.6z"/>
<path class=e d="M1320 427l6.4 4.6-2.4 7.5-7.9 0-2.4-7.5z"/>
<path class=d d="M1364 575h13.6v13.6h-13.6z"/>
<circle class=a cx=1466 cy=540 r=7.1 />
<path class=e d="M1304 539l6.4 4.6-2.4 7.5-7.9 0-2.4-7.5z"/>
<path class=d d="M1580 322h13.6v13.6h-13.6z"/>
<path class=b d="M1139 565l3.2 3.2 3.2-3.2 3.2 3.2-3.2 3.2 3.2 3.2-3.2 3.2-3.2-3.2-3.2 3.2-3.2-3.2 3.2-3.2-3.2-3.2z"/>
<path class=c d="M1196 268h12.6l-6.3 12.6z"/>
<circle class=a cx=1760 cy=439 r=7.1 />
<path class=d d="M1582 305h13.6v13.6h-13.6z"/>
<circle class=b cx=1522 cy=537 r=7.1 />
<path class=d d="M1453 580h13.6v13.6h-13.6z"/>
<path class=e d="M1772 510l6.4 4.6-2.4 7.5-7.9 0-2.4-7.5z"/>
<path class=c d="M1351 215h12.6l-6.3 12.6z"/>
<path class=d d="M1412 342h13.6v13.6h-13.6z"/>
<path class=b d="M1119 596l3.2 3.2 3.2-3.2 3.2 3.2-3.2 3.2 3.2 3.2-3.2 3.2-3.2-3.2-3.2 3.2-3.2-3.2 3.2-3.2-3.2-3.2z"/>
<path class=d d="M1579 531h13.6v13.6h-13.6z"/>
<path class=c d="M1434 120h12.6l-6.3 12.6z"/>
<path class=e d="M1757 546l6.4 4.6-2.4 7.5-7.9 0-2.4-7.5z"/>
<path class=c d="M1519 675h12.6l-6.3 12.6z"/>
<circle class=a cx=1612 cy=434 r=7.1 />
<path class=e d="M1714 449l6.4 4.6-2.4 7.5-7.9 0-2.4-7.5z"/>
<path class=c d="M1110 459h12.6l-6.3 12.6z"/>
<path class=b d="M1417 699l3.2 3.2 3.2-3.2 3.2 3.2-3.2 3.2 3.2 3.2-3.2 3.2-3.2-3.2-3.2 3.2-3.2-3.2 3.2-3.2-3.2-3.2z"/>
<path class=c d="M1325 178h12.6l-6.3 12.6z"/>
<path class=b d="M1635 484l3.2 3.2 3.2-3.2 3.2 3.2-3.2 3.2 3.2 3.2-3.2 3.2-3.2-3.2-3.2 3.2-3.2-3.2 3.2-3.2-3.2-3.2z"/>
<path class=e d="M1307 538l6.4 4.6-2.4 7.5-7.9 0-2.4-7.5z"/>
<path class=b d="M1292 735l3.2 3.2 3.2-3.2 3.2 3.2-3.2 3.2 3.2 3.2-3.2 3.2-3.2-3.2-3.2 3.2-3.2-3.2 3.2-3.2-3.2-3.2z"/>
<circle class=a cx=1416 cy=410 r=7.1 />
<circle class=a cx=1438 cy=403 r=7.1 />
<path class=c d="M1353 216h12.6l-6.3 12.6z"/>
<path class=d d="M1767 307h13.6v13.6h-13.6z"/>
<path class=b d="M1497 563l3.2 3.2 3.2-3.2 3.2 3.2-3.2 3.2 3.2 3.2-3.2 3.2-3.2-3.2-3.2 3.2-3.2-3.2 3.2-3.2-3.2-3.2z"/>
<circle class=a cx=1407 cy=450 r=7.1 />
<path class=c d="M1586 716h12.6l-6.3 12.6z"/>
<path class=b d="M1502 465l3.2 3.2 3.2-3.2 3.2 3.2-3.2 3.2 3.2 3.2-3.2 3.2-3.2-3.2-3.2 3.2-3.2-3.2 3.2-3.2-3.2-3.2z"/>
<path class=b d="M1711 341l3.2 3.2 3.2-3.2 3.2 3.2-3.2 3.2 3.2 3.2-3.2 3.2-3.2-3.2-3.2 3.2-3.2-3.2 3.2-3.2-3.2-3.2z"/>
<path class=e d="M1295 536l6.4 4.6-2.4 7.5-7.9 0-2.4-7.5z"/>
<path class=c d="M1122 449h12.6l-6.3 12.6z"/>
<path class=c d="M1103 473h12.6l-6.3 12.6z"/>
<path class=e d="M1266 600l6.4 4.6-2.4 7.5-7.9 0-2.4-7.5z"/>
<path class=d d="M1346 347h13.6v13.6h-13.6z"/>
<path class=d d="M1423 384h13.6v13.6h-13.6z"/>
<path class=d d="M1439 449h13.6v13.6h-13.6z"/>
<path class=d d="M1397 436h13.6v13.6h-13.6z"/>
<path class=b d="M1463 815l3.2 3.2 3.2-3.2 3.2 3.2-3.2 3.2 3.2 3.2-3.2 3.2-3.2-3.2-3.2 3.2-3.2-3.2 3.2-3.2-3.2-3.2z"/>
<circle class=a cx=1388 cy=356 r=7.1 />
<path class=c d="M1438 161h12.6l-6.3 12.6z"/>
<circle class=a cx=1606 cy=421 r=7.1 />
<path class=d d="M1658 292h13.6v13.6h-13.6z"/>
<path class=e d="M1774 515l6.4 4.6-2.4 7.5-7.9 0-2.4-7.5z"/>
<path class=c d="M1554 160h12.6l-6.3 12.6z"/>
<path class=b d="M1721 372l3.2 3.2 3.2-3.2 3.2 3.2-3.2 3.2 3.2 3.2-3.2 3.2-3.2-3.2-3.2 3.2-3.2-3.2 3.2-3.2-3.2-3.2z"/>
<path class=d d="M1541 374h13.6v13.6h-13.6z"/>
<circle class=a cx=1337 cy=404 r=7.1 />
<path class=b d="M1143 588l3.2 3.2 3.2-3.2 3.2 3.2-3.2 3.2 3.2 3.2-3.2 3.2-3.2-3.2-3.2 3.2-3.2-3.2 3.2-3.2-3.2-3.2z"/>
<circle class=a cx=1470 cy=371 r=7.1 />
<path class=b d="M1556 553l3.2 3.2 3.2-3.2 3.2 3.2-3.2 3.2 3.2 3.2-3.2 3.2-3.2-3.2-3.2 3.2-3.2-3.2 3.2-3.2-3.2-3.2z"/>
<path class=d d="M1355 400h13.6v13.6h-13.6z"/>
<path class=b d="M1493 799l3.2 3.2 3.2-3.2 3.2 3.2-3.2 3.2 3.2 3.2-3.2 3.2-3.2-3.2-3.2 3.2-3.2-3.2 3.2-3.2-3.2-3.2z"/>
<path class=d d="M1490 436h13.6v13.6h-13.6z"/>
<circle class=a cx=1699 cy=402 r=7.1 />
<path class=b d="M1506 466l3.2 3.2 3.2-3.2 3.2 3.2-3.2 3.2 3.2 3.2-3.2 3.2-3.2-3.2-3.2 3.2-3.2-3.2 3.2-3.2-3.2-3.2z"/>
<path class=d d="M1507 427h13.6v13.6h-13.6z"/>
<circle class=a cx=1658 cy=445 r=7.1 />
<path class=c d="M1160 473h12.6l-6.3 12.6z"/>
<path class=b d="M1132 580l3.2 3.2 3.2-3.2 3.2 3.2-3.2 3.2 3.2 3.2-3.2 3.2-3.2-3.2-3.2 3.2-3.2-3.2 3.2-3.2-3.2-3.2z"/>
<path class=c d="M1442 173h12.6l-6.3 12.6z"/>
<path class=b d="M1695 334l3.2 3.2 3.2-3.2 3.2 3.2-3.2 3.2 3.2 3.2-3.2 3.2-3.2-3.2-3.2 3.2-3.2-3.2 3.2-3.2-3.2-3.2z"/>
<path class=d d="M1513 306h13.6v13.6h-13.6z"/>
<path class=c d="M1093 363h12.6l-6.3 12.6z"/>
<circle class=a cx=1501 cy=367 r=7.1 />
<path class=b d="M1380 705l3.2 3.2 3.2-3.2 3.2 3.2-3.2 3.2 3.2 3.2-3.2 3.2-3.2-3.2-3.2 3.2-3.2-3.2 3.2-3.2-3.2-3.2z"/>
<path class=b d="M1381 698l3.2 3.2 3.2-3.2 3.2 3.2-3.2 3.2 3.2 3.2-3.2 3.2-3.2-3.2-3.2 3.2-3.2-3.2 3.2-3.2-3.2-3.2z"/>
<path class=c d="M1542 656h12.6l-6.3 12.6z"/>
<path class=c d="M1091 377h12.6l-6.3 12.6z"/>
<path class=e d="M1271 526l6.4 4.6-2.4 7.5-7.9 0-2.4-7.5z"/>
<circle class=a cx=1583 cy=468 r=7.1 />
<circle class=a cx=1658 cy=469 r=7.1 />
<path class=d d="M1582 288h13.6v13.6h-13.6z"/>
<path class=e d="M1703 536l6.4 4.6-2.4 7.5-7.9 0-2.4-7.5z"/>
<path class=e d="M1325 600l6.4 4.6-2.4 7.5-7.9 0-2.4-7.5z"/>
<circle class=a cx=1565 cy=507 r=7.1 />
<path class=c d="M1548 668h12.6l-6.3 12.6z"/>
<path class=c d="M1429 132h12.6l-6.3 12.6z"/>
<circle class=a cx=1447 cy=495 r=7.1 />
<path class=d d="M1644 378h13.6v13.6h-13.6z"/>
<circle class=a cx=1641 cy=473 r=7.1 />
<path class=c d="M1553 160h12.6l-6.3 12.6z"/>
<path class=d d="M1367 587h13.6v13.6h-13.6z"/>
<path class=b d="M1709 354l3.2 3.2 3.2-3.2 3.2 3.2-3.2 3.2 3.2 3.2-3.2 3.2-3.2-3.2-3.2 3.2-3.2-3.2 3.2-3.2-3.2-3.2z"/>
<path class=c d="M1351 201h12.6l-6.3 12.6z"/>
<path class=e d="M1762 563l6.4 4.6-2.4 7.5-7.9 0-2.4-7.5z"/>
<path class=b d="M1531 530l3.2 3.2 3.2-3.2 3.2 3.2-3.2 3.2 3.2 3.2-3.2 3.2-3.2-3.2-3.2 3.2-3.2-3.2 3.2-3.2-3.2-3.2z"/>
<path class=d d="M1755 319h13.6v13.6h-13.6z"/>
<path class=e d="M1779 524l6.4 4.6-2.4 7.5-7.9 0-2.4-7.5z"/>
<path class=c d="M1596 729h12.6l-6.3 12.6z"/>
<path class=d d="M1514 457h13.6v13.6h-13.6z"/>
<path class=e d="M1225 523l6.4 4.6-2.4 7.5-7.9 0-2.4-7.5z"/>
<path class=d d="M1566 325h13.6v13.6h-13.6z"/>
<path class=b d="M1400 688l3.2 3.2 3.2-3.2 3.2 3.2-3.2 3.2 3.2 3.2-3.2 3.2-3.2-3.2-3.2 3.2-3.2-3.2 3.2-3.2-3.2-3.2z"/>
<path class=d d="M1622 473h13.6v13.6h-13.6z"/>
<path class=b d="M1357 729l3.2 3.2 3.2-3.2 3.2 3.2-3.2 3.2 3.2 3.2-3.2 3.2-3.2-3.2-3.2 3.2-3.2-3.2 3.2-3.2-3.2-3.2z"/>
<path class=c d="M1228 261h12.6l-6.3 12.6z"/>
<path class=d d="M1618 481h13.6v13.6h-13.6z"/>
<path class=b d="M1108 584l3.2 3.2 3.2-3.2 3.2 3.2-3.2 3.2 3.2 3.2-3.2 3.2-3.2-3.2-3.2 3.2-3.2-3.2 3.2-3.2-3.2-3.2z"/>
<path class=d d="M1514 471h13.6v13.6h-13.6z"/>
<path class=b d="M1130 576l3.2 3.2 3.2-3.2 3.2 3.2-3.2 3.2 3.2 3.2-3.2 3.2-3.2-3.2-3.2 3.2-3.2-3.2 3.2-3.2-3.2-3.2z"/>
<path class=d d="M1504 273h13.6v13.6h-13.6z"/>
<path class=e d="M1720 541l6.4 4.6-2.4 7.5-7.9 0-2.4-7.5z"/>
<path class=b d="M1116 591l3.2 3.2 3.2-3.2 3.2 3.2-3.2 3.2 3.2 3.2-3.2 3.2-3.2-3.2-3.2 3.2-3.2-3.2 3.2-3.2-3.2-3.2z"/>
<path class=e d="M1712 446l6.4 4.6-2.4 7.5-7.9 0-2.4-7.5z"/>
<path class=d d="M1314 484h13.6v13.6h-13.6z"/>
<path class=d d="M1636 341h13.6v13.6h-13.6z"/>
<path class=c d="M1425 122h12.6l-6.3 12.6z"/>
<path class=b d="M1111 580l3.2 3.2 3.2-3.2 3.2 3.2-3.2 3.2 3.2 3.2-3.2 3.2-3.2-3.2-3.2 3.2-3.2-3.2 3.2-3.2-3.2-3.2z"/>
<circle class=a cx=1450 cy=438 r=7.1 />
<path class=b d="M1485 762l3.2 3.2 3.2-3.2 3.2 3.2-3.2 3.2 3.2 3.2-3.2 3.2-3.2-3.2-3.2 3.2-3.2-3.2 3.2-3.2-3.2-3.2z"/>
<circle class=a cx=1701 cy=428 r=7.1 />
<path class=d d="M1364 575h13.6v13.6h-13.6z"/>
<circle class=a cx=1386 cy=576 r=7.1 />
<path class=e d="M1258 613l6.4 4.6-2.4 7.5-7.9 0-2.4-7.5z"/>
<circle class=a cx=1667 cy=504 r=7.1 />
<path class=d d="M1667 319h13.6v13.6h-13.6z"/>
<path class=c d="M1342 217h12.6l-6.3 12.6z"/>
<path class=e d="M1287 606l6.4 4.6-2.4 7.5-7.9 0-2.4-7.5z"/>
<path class=e d="M1316 544l6.4 4.6-2.4 7.5-7.9 0-2.4-7.5z"/>
<path class=b d="M1448 759l3.2 3.2 3.2-3.2 3.2 3.2-3.2 3.2 3.2 3.2-3.2 3.2-3.2-3.2-3.2 3.2-3.2-3.2 3.2-3.2-3.2-3.2z"/>
<path class=e d="M1331 534l6.4 4.6-2.4 7.5-7.9 0-2.4-7.5z"/>
<circle class=a cx=1725 cy=481 r=7.1 />
<path class=d d="M1616 486h13.6v13.6h-13.6z"/>
<path class=b d="M1288 760l3.2 3.2 3.2-3.2 3.2 3.2-3.2 3.2 3.2 3.2-3.2 3.2-3.2-3.2-3.2 3.2-3.2-3.2 3.2-3.2-3.2-3.2z"/>
<path class=c d="M1114 472h12.6l-6.3 12.6z"/>
<path class=b d="M1691 366l3.2 3.2 3.2-3.2 3.2 3.2-3.2 3.2 3.2 3.2-3.2 3.2-3.2-3.2-3.2 3.2-3.2-3.2 3.2-3.2-3.2-3.2z"/>
<circle class=a cx=1765 cy=418 r=7.1 />
<path class=e d="M1332 610l6.4 4.6-2.4 7.5-7.9 0-2.4-7.5z"/>
<path class=c d="M1448 177h12.6l-6.3 12.6z"/>
<circle class=a cx=1486 cy=351 r=7.1 />
<path class=b d="M1513 572l3.2 3.2 3.2-3.2 3.2 3.2-3.2 3.2 3.2 3.2-3.2 3.2-3.2-3.2-3.2 3.2-3.2-3.2 3.2-3.2-3.2-3.2z"/>
<path class=e d="M1741 499l6.4 4.6-2.4 7.5-7.9 0-2.4-7.5z"/>
<path class=d d="M1420 481h13.6v13.6h-13.6z"/>
<path class=d d="M1495 421h13.6v13.6h-13.6z"/>
<path class=c d="M1328 219h12.6l-6.3 12.6z"/>
<path class=e d="M1275 583l6.4 4.6-2.4 7.5-7.9 0-2.4-7.5z"/>
<path class=c d="M1168 455h12.6l-6.3 12.6z"/>
<path class=c d="M1354 201h12.6l-6.3 12.6z"/>
<path class=e d="M1726 482l6.4 4.6-2.4 7.5-7.9 0-2.4-7.5z"/>
<path class=b d="M1688 370l3.2 3.2 3.2-3.2 3.2 3.2-3.2 3.2 3.2 3.2-3.2 3.2-3.2-3.2-3.2 3.2-3.2-3.2 3.2-3.2-3.2-3.2z"/>
<circle class=a cx=1654 cy=503 r=7.1 />
<path class=c d="M1567 681h12.6l-6.3 12.6z"/>
<circle class=b cx=1519 cy=537 r=7.1 />
<path class=d d="M1447 525h13.6v13.6h-13.6z"/>
<path class=e d="M1267 611l6.4 4.6-2.4 7.5-7.9 0-2.4-7.5z"/>
<path class=d d="M1575 412h13.6v13.6h-13.6z"/>
<path class=c d="M1165 446h12.6l-6.3 12.6z"/>
<circle class=a cx=1638 cy=441 r=7.1 />
<path class=c d="M1345 238h12.6l-6.3 12.6z"/>
<path class=d d="M1331 481h13.6v13.6h-13.6z"/>
<path class=e d="M1244 521l6.4 4.6-2.4 7.5-7.9 0-2.4-7.5z"/>
<path class=e d="M1287 614l6.4 4.6-2.4 7.5-7.9 0-2.4-7.5z"/>
<path class=d d="M1517 305h13.6v13.6h-13.6z"/>
<path class=e d="M1358 604l6.4 4.6-2.4 7.5-7.9 0-2.4-7.5z"/>
<path class=d d="M1397 555h13.6v13.6h-13.6z"/>
<path class=b d="M1499 761l3.2 3.2 3.2-3.2 3.2 3.2-3.2 3.2 3.2 3.2-3.2 3.2-3.2-3.2-3.2 3.2-3.2-3.2 3.2-3.2-3.2-3.2z"/>
<path class=b d="M1519 564l3.2 3.2 3.2-3.2 3.2 3.2-3.2 3.2 3.2 3.2-3.2 3.2-3.2-3.2-3.2 3.2-3.2-3.2 3.2-3.2-3.2-3.2z"/>
<path class=b d="M1470 474l3.2 3.2 3.2-3.2 3.2 3.2-3.2 3.2 3.2 3.2-3.2 3.2-3.2-3.2-3.2 3.2-3.2-3.2 3.2-3.2-3.2-3.2z"/>
<circle class=b cx=1517 cy=533 r=7.1 />
<path class=d d="M1446 530h13.6v13.6h-13.6z"/>
<path class=b d="M1508 766l3.2 3.2 3.2-3.2 3.2 3.2-3.2 3.2 3.2 3.2-3.2 3.2-3.2-3.2-3.2 3.2-3.2-3.2 3.2-3.2-3.2-3.2z"/>
<path class=b d="M1397 737l3.2 3.2 3.2-3.2 3.2 3.2-3.2 3.2 3.2 3.2-3.2 3.2-3.2-3.2-3.2 3.2-3.2-3.2 3.2-3.2-3.2-3.2z"/>
<path class=d d="M1742 466h13.6v13.6h-13.6z"/>
<circle class=a cx=1507 cy=499 r=7.1 />
<path class=c d="M1204 278h12.6l-6.3 12.6z"/>
<path class=d d="M1570 382h13.6v13.6h-13.6z"/>
<path class=c d="M1455 178h12.6l-6.3 12.6z"/>
<path class=d d="M1335 406h13.6v13.6h-13.6z"/>
<path class=b d="M1504 810l3.2 3.2 3.2-3.2 3.2 3.2-3.2 3.2 3.2 3.2-3.2 3.2-3.2-3.2-3.2 3.2-3.2-3.2 3.2-3.2-3.2-3.2z"/>
<path class=b d="M1461 821l3.2 3.2 3.2-3.2 3.2 3.2-3.2 3.2 3.2 3.2-3.2 3.2-3.2-3.2-3.2 3.2-3.2-3.2 3.2-3.2-3.2-3.2z"/>
<path class=e d="M1740 524l6.4 4.6-2.4 7.5-7.9 0-2.4-7.5z"/>
<path class=c d="M1178 302h12.6l-6.3 12.6z"/>
<path class=b d="M1547 489l3.2 3.2 3.2-3.2 3.2 3.2-3.2 3.2 3.2 3.2-3.2 3.2-3.2-3.2-3.2 3.2-3.2-3.2 3.2-3.2-3.2-3.2z"/>
<path class=c d="M1096 464h12.6l-6.3 12.6z"/>
<path class=c d="M1117 465h12.6l-6.3 12.6z"/>
<path class=b d="M1119 595l3.2 3.2 3.2-3.2 3.2 3.2-3.2 3.2 3.2 3.2-3.2 3.2-3.2-3.2-3.2 3.2-3.2-3.2 3.2-3.2-3.2-3.2z"/>
<path class=d d="M1642 378h13.6v13.6h-13.6z"/>
<path class=e d="M1713 486l6.4 4.6-2.4 7.5-7.9 0-2.4-7.5z"/>
<path class=e d="M1260 497l6.4 4.6-2.4 7.5-7.9 0-2.4-7.5z"/>
<circle class=a cx=1363 cy=364 r=7.1 />
<path class=b d="M1602 523l3.2 3.2 3.2-3.2 3.2 3.2-3.2 3.2 3.2 3.2-3.2 3.2-3.2-3.2-3.2 3.2-3.2-3.2 3.2-3.2-3.2-3.2z"/>
<path class=d d="M1596 351h13.6v13.6h-13.6z"/>
<path class=c d="M1583 671h12.6l-6.3 12.6z"/>
<path class=b d="M1157 616l3.2 3.2 3.2-3.2 3.2 3.2-3.2 3.2 3.2 3.2-3.2 3.2-3.2-3.2-3.2 3.2-3.2-3.2 3.2-3.2-3.2-3.2z"/>
<path class=b d="M1360 562l3.2 3.2 3.2-3.2 3.2 3.2-3.2 3.2 3.2 3.2-3.2 3.2-3.2-3.2-3.2 3.2-3.2-3.2 3.2-3.2-3.2-3.2z"/>
<path class=c d="M1610 699h12.6l-6.3 12.6z"/>
<path class=c d="M1171 452h12.6l-6.3 12.6z"/>
<path class=c d="M1584 698h12.6l-6.3 12.6z"/>
<circle class=a cx=1426 cy=376 r=7.1 />
<path class=b d="M1458 806l3.2 3.2 3.2-3.2 3.2 3.2-3.2 3.2 3.2 3.2-3.2 3.2-3.2-3.2-3.2 3.2-3.2-3.2 3.2-3.2-3.2-3.2z"/>
<path class=b d="M1496 458l3.2 3.2 3.2-3.2 3.2 3.2-3.2 3.2 3.2 3.2-3.2 3.2-3.2-3.2-3.2 3.2-3.2-3.2 3.2-3.2-3.2-3.2z"/>
<circle class=a cx=1355 cy=443 r=7.1 />
<path class=b d="M1697 360l3.2 3.2 3.2-3.2 3.2 3.2-3.2 3.2 3.2 3.2-3.2 3.2-3.2-3.2-3.2 3.2-3.2-3.2 3.2-3.2-3.2-3.2z"/>
<path class=b d="M1143 586l3.2 3.2 3.2-3.2 3.2 3.2-3.2 3.2 3.2 3.2-3.2 3.2-3.2-3.2-3.2 3.2-3.2-3.2 3.2-3.2-3.2-3.2z"/>
<circle class=a cx=1456 cy=483 r=7.1 />
<path class=e d="M1782 561l6.4 4.6-2.4 7.5-7.9 0-2.4-7.5z"/>
<path class=e d="M1261 539l6.4 4.6-2.4 7.5-7.9 0-2.4-7.5z"/>
<circle class=a cx=1384 cy=329 r=7.1 />
<circle class=a cx=1595 cy=496 r=7.1 />
<path class=b d="M1686 349l3.2 3.2 3.2-3.2 3.2 3.2-3.2 3.2 3.2 3.2-3.2 3.2-3.2-3.2-3.2 3.2-3.2-3.2 3.2-3.2-3.2-3.2z"/>
<path class=b d="M1127 614l3.2 3.2 3.2-3.2 3.2 3.2-3.2 3.2 3.2 3.2-3.2 3.2-3.2-3.2-3.2 3.2-3.2-3.2 3.2-3.2-3.2-3.2z"/>
<path class=d d="M1537 311h13.6v13.6h-13.6z"/>
<path class=c d="M1446 213h12.6l-6.3 12.6z"/>
<path class=c d="M1603 703h12.6l-6.3 12.6z"/>
<path class=e d="M1670 473l6.4 4.6-2.4 7.5-7.9 0-2.4-7.5z"/>
<path class=b d="M1467 823l3.2 3.2 3.2-3.2 3.2 3.2-3.2 3.2 3.2 3.2-3.2 3.2-3.2-3.2-3.2 3.2-3.2-3.2 3.2-3.2-3.2-3.2z"/>
<path class=c d="M1100 453h12.6l-6.3 12.6z"/>
<path class=c d="M1229 243h12.6l-6.3 12.6z"/>
<path class=c d="M1319 206h12.6l-6.3 12.6z"/>
<path class=b d="M1483 783l3.2 3.2 3.2-3.2 3.2 3.2-3.2 3.2 3.2 3.2-3.2 3.2-3.2-3.2-3.2 3.2-3.2-3.2 3.2-3.2-3.2-3.2z"/>
<path class=b d="M1105 604l3.2 3.2 3.2-3.2 3.2 3.2-3.2 3.2 3.2 3.2-3.2 3.2-3.2-3.2-3.2 3.2-3.2-3.2 3.2-3.2-3.2-3.2z"/>
<path class=b d="M1469 780l3.2 3.2 3.2-3.2 3.2 3.2-3.2 3.2 3.2 3.2-3.2 3.2-3.2-3.2-3.2 3.2-3.2-3.2 3.2-3.2-3.2-3.2z"/>
<path class=c d="M1439 187h12.6l-6.3 12.6z"/>
<path class=b d="M1107 612l3.2 3.2 3.2-3.2 3.2 3.2-3.2 3.2 3.2 3.2-3.2 3.2-3.2-3.2-3.2 3.2-3.2-3.2 3.2-3.2-3.2-3.2z"/>
<circle class=a cx=1486 cy=348 r=7.1 />
<path class=e d="M1774 569l6.4 4.6-2.4 7.5-7.9 0-2.4-7.5z"/>
<path class=c d="M1413 104h12.6l-6.3 12.6z"/>
<path class=e d="M1804 547l6.4 4.6-2.4 7.5-7.9 0-2.4-7.5z"/>
<path class=e d="M1729 482l6.4 4.6-2.4 7.5-7.9 0-2.4-7.5z"/>
<path class=c d="M1173 447h12.6l-6.3 12.6z"/>
<path class=d d="M1352 481h13.6v13.6h-13.6z"/>
<path class=c d="M1611 169h12.6l-6.3 12.6z"/>
<path class=d d="M1255 376h13.6v13.6h-13.6z"/>
<path class=c d="M1166 447h12.6l-6.3 12.6z"/>
<circle class=a cx=1329 cy=477 r=7.1 />
<circle class=a cx=1498 cy=513 r=7.1 />
<path class=c d="M1546 157h12.6l-6.3 12.6z"/>
<circle class=a cx=1749 cy=421 r=7.1 />
<path class=c d="M1517 674h12.6l-6.3 12.6z"/>
<path class=d d="M1439 539h13.6v13.6h-13.6z"/>
<path class=e d="M1268 565l6.4 4.6-2.4 7.5-7.9 0-2.4-7.5z"/>
<path class=e d="M1709 527l6.4 4.6-2.4 7.5-7.9 0-2.4-7.5z"/>
<path class=c d="M1194 275h12.6l-6.3 12.6z"/>
<path class=e d="M1296 449l6.4 4.6-2.4 7.5-7.9 0-2.4-7.5z"/>
<path class=d d="M1386 380h13.6v13.6h-13.6z"/>
<path class=e d="M1741 536l6.4 4.6-2.4 7.5-7.9 0-2.4-7.5z"/>
<path class=e d="M1268 574l6.4 4.6-2.4 7.5-7.9 0-2.4-7.5z"/>
<circle class=a cx=1375 cy=383 r=7.1 />
<path class=c d="M1070 364h12.6l-6.3 12.6z"/>
<path class=d d="M1565 490h13.6v13.6h-13.6z"/>
<path class=d d="M1436 381h13.6v13.6h-13.6z"/>
<path class=b d="M1356 564l3.2 3.2 3.2-3.2 3.2 3.2-3.2 3.2 3.2 3.2-3.2 3.2-3.2-3.2-3.2 3.2-3.2-3.2 3.2-3.2-3.2-3.2z"/>
<path class=c d="M1564 142h12.6l-6.3 12.6z"/>
<path class=c d="M1604 187h12.6l-6.3 12.6z"/>
<path class=c d="M1205 274h12.6l-6.3 12.6z"/>
<circle class=a cx=1346 cy=377 r=7.1 />
<path class=c d="M1599 180h12.6l-6.3 12.6z"/>
<path class=d d="M1361 479h13.6v13.6h-13.6z"/>
<path class=e d="M1718 564l6.4 4.6-2.4 7.5-7.9 0-2.4-7.5z"/>
<path class=d d="M1474 413h13.6v13.6h-13.6z"/>
<circle class=a cx=1371 cy=477 r=7.1 />
<path class=c d="M1442 160h12.6l-6.3 12.6z"/>
<path class=d d="M1548 315h13.6v13.6h-13.6z"/>
<circle class=a cx=1551 cy=431 r=7.1 />
<path class=e d="M1702 538l6.4 4.6-2.4 7.5-7.9 0-2.4-7.5z"/>
<path class=e d="M1714 495l6.4 4.6-2.4 7.5-7.9 0-2.4-7.5z"/>
<path class=b d="M1640 324l3.2 3.2 3.2-3.2 3.2 3.2-3.2 3.2 3.2 3.2-3.2 3.2-3.2-3.2-3.2 3.2-3.2-3.2 3.2-3.2-3.2-3.2z"/>
<path class=d d="M1670 307h13.6v13.6h-13.6z"/>
<circle class=a cx=1583 cy=446 r=7.1 />
<path class=e d="M1713 557l6.4 4.6-2.4 7.5-7.9 0-2.4-7.5z"/>
<path class=c d="M1232 252h12.6l-6.3 12.6z"/>
<circle class=a cx=1511 cy=492 r=7.1 />
<path class=c d="M1081 359h12.6l-6.3 12.6z"/>
<circle class=a cx=1393 cy=451 r=7.1 />
<path class=e d="M1712 494l6.4 4.6-2.4 7.5-7.9 0-2.4-7.5z"/>
<path class=d d="M1548 312h13.6v13.6h-13.6z"/>
<path class=e d="M1696 535l6.4 4.6-2.4 7.5-7.9 0-2.4-7.5z"/>
<path class=c d="M1316 153h12.6l-6.3 12.6z"/>
<path class=e d="M1238 529l6.4 4.6-2.4 7.5-7.9 0-2.4-7.5z"/>
<path class=c d="M1166 304h12.6l-6.3 12.6z"/>
<path class=e d="M1753 485l6.4 4.6-2.4 7.5-7.9 0-2.4-7.5z"/>
<path class=d d="M1649 364h13.6v13.6h-13.6z"/>
<path class=e d="M1704 525l6.4 4.6-2.4 7.5-7.9 0-2.4-7.5z"/>
<path class=d d="M1563 288h13.6v13.6h-13.6z"/>
<path class=e d="M1293 482l6.4 4.6-2.4 7.5-7.9 0-2.4-7.5z"/>
<circle class=a cx=1439 cy=320 r=7.1 />
<circle class=a cx=1476 cy=433 r=7.1 />
<path class=e d="M1330 510l6.4 4.6-2.4 7.5-7.9 0-2.4-7.5z"/>
<path class=e d="M1256 616l6.4 4.6-2.4 7.5-7.9 0-2.4-7.5z"/>
<path class=d d="M1440 371h13.6v13.6h-13.6z"/>
<path class=b d="M1123 601l3.2 3.2 3.2-3.2 3.2 3.2-3.2 3.2 3.2 3.2-3.2 3.2-3.2-3.2-3.2 3.2-3.2-3.2 3.2-3.2-3.2-3.2z"/>
<path class=b d="M1379 738l3.2 3.2 3.2-3.2 3.2 3.2-3.2 3.2 3.2 3.2-3.2 3.2-3.2-3.2-3.2 3.2-3.2-3.2 3.2-3.2-3.2-3.2z"/>
<path class=b d="M1419 717l3.2 3.2 3.2-3.2 3.2 3.2-3.2 3.2 3.2 3.2-3.2 3.2-3.2-3.2-3.2 3.2-3.2-3.2 3.2-3.2-3.2-3.2z"/>
<path class=e d="M1298 628l6.4 4.6-2.4 7.5-7.9 0-2.4-7.5z"/>
<path class=c d="M1088 363h12.6l-6.3 12.6z"/>
<path class=c d="M1455 196h12.6l-6.3 12.6z"/>
<circle class=a cx=1581 cy=445 r=7.1 />
<path class=c d="M1442 171h12.6l-6.3 12.6z"/>
<path class=e d="M1305 578l6.4 4.6-2.4 7.5-7.9 0-2.4-7.5z"/>
<path class=b d="M1679 357l3.2 3.2 3.2-3.2 3.2 3.2-3.2 3.2 3.2 3.2-3.2 3.2-3.2-3.2-3.2 3.2-3.2-3.2 3.2-3.2-3.2-3.2z"/>
<path class=c d="M1541 148h12.6l-6.3 12.6z"/>
<path class=b d="M1468 783l3.2 3.2 3.2-3.2 3.2 3.2-3.2 3.2 3.2 3.2-3.2 3.2-3.2-3.2-3.2 3.2-3.2-3.2 3.2-3.2-3.2-3.2z"/>
<path class=d d="M1523 542h13.6v13.6h-13.6z"/>
<path class=c d="M1575 697h12.6l-6.3 12.6z"/>
<circle class=a cx=1360 cy=372 r=7.1 />
<path class=b d="M1413 720l3.2 3.2 3.2-3.2 3.2 3.2-3.2 3.2 3.2 3.2-3.2 3.2-3.2-3.2-3.2 3.2-3.2-3.2 3.2-3.2-3.2-3.2z"/>
<path class=b d="M1581 556l3.2 3.2 3.2-3.2 3.2 3.2-3.2 3.2 3.2 3.2-3.2 3.2-3.2-3.2-3.2 3.2-3.2-3.2 3.2-3.2-3.2-3.2z"/>
<path class=b d="M1409 699l3.2 3.2 3.2-3.2 3.2 3.2-3.2 3.2 3.2 3.2-3.2 3.2-3.2-3.2-3.2 3.2-3.2-3.2 3.2-3.2-3.2-3.2z"/>
<path class=c d="M1120 469h12.6l-6.3 12.6z"/>
<path class=e d="M1285 567l6.4 4.6-2.4 7.5-7.9 0-2.4-7.5z"/>
<path class=c d="M1438 189h12.6l-6.3 12.6z"/>
<circle class=a cx=1508 cy=547 r=7.1 />
<path class=e d="M1282 462l6.4 4.6-2.4 7.5-7.9 0-2.4-7.5z"/>
<path class=d d="M1405 485h13.6v13.6h-13.6z"/>
<path class=e d="M1269 633l6.4 4.6-2.4 7.5-7.9 0-2.4-7.5z"/>
<path class=b d="M1126 565l3.2 3.2 3.2-3.2 3.2 3.2-3.2 3.2 3.2 3.2-3.2 3.2-3.2-3.2-3.2 3.2-3.2-3.2 3.2-3.2-3.2-3.2z"/>
<path class=c d="M1097 370h12.6l-6.3 12.6z"/>
<path class=e d="M1714 482l6.4 4.6-2.4 7.5-7.9 0-2.4-7.5z"/>
<path class=d d="M1515 464h13.6v13.6h-13.6z"/>
<circle class=a cx=1374 cy=348 r=7.1 />
<circle class=a cx=1316 cy=373 r=7.1 />
<path class=e d="M1801 538l6.4 4.6-2.4 7.5-7.9 0-2.4-7.5z"/>
<path class=d d="M1691 288h13.6v13.6h-13.6z"/>
<path class=b d="M1422 765l3.2 3.2 3.2-3.2 3.2 3.2-3.2 3.2 3.2 3.2-3.2 3.2-3.2-3.2-3.2 3.2-3.2-3.2 3.2-3.2-3.2-3.2z"/>
<path class=e d="M1270 624l6.4 4.6-2.4 7.5-7.9 0-2.4-7.5z"/>
<path class=c d="M1236 246h12.6l-6.3 12.6z"/>
<path class=c d="M1692 690h12.6l-6.3 12.6z"/>
<path class=d d="M1442 444h13.6v13.6h-13.6z"/>
<path class=c d="M1229 252h12.6l-6.3 12.6z"/>
<path class=b d="M1575 568l3.2 3.2 3.2-3.2 3.2 3.2-3.2 3.2 3.2 3.2-3.2 3.2-3.2-3.2-3.2 3.2-3.2-3.2 3.2-3.2-3.2-3.2z"/>
<circle class=a cx=1662 cy=446 r=7.1 />
<path class=c d="M1169 292h12.6l-6.3 12.6z"/>
<path class=b d="M1353 732l3.2 3.2 3.2-3.2 3.2 3.2-3.2 3.2 3.2 3.2-3.2 3.2-3.2-3.2-3.2 3.2-3.2-3.2 3.2-3.2-3.2-3.2z"/>
<circle class=a cx=1608 cy=418 r=7.1 />
<path class=b d="M1339 767l3.2 3.2 3.2-3.2 3.2 3.2-3.2 3.2 3.2 3.2-3.2 3.2-3.2-3.2-3.2 3.2-3.2-3.2 3.2-3.2-3.2-3.2z"/>
<path class=c d="M1202 269h12.6l-6.3 12.6z"/>
<path class=d d="M1670 363h13.6v13.6h-13.6z"/>
<path class=c d="M1611 175h12.6l-6.3 12.6z"/>
<circle class=a cx=1424 cy=398 r=7.1 />
<path class=e d="M1257 534l6.4 4.6-2.4 7.5-7.9 0-2.4-7.5z"/>
<circle class=a cx=1594 cy=491 r=7.1 />
<path class=c d="M1442 158h12.6l-6.3 12.6z"/>
<path class=e d="M1277 576l6.4 4.6-2.4 7.5-7.9 0-2.4-7.5z"/>
<path class=c d="M1442 199h12.6l-6.3 12.6z"/>
<path class=c d="M1329 221h12.6l-6.3 12.6z"/>
<path class=e d="M1704 524l6.4 4.6-2.4 7.5-7.9 0-2.4-7.5z"/>
<path class=d d="M1548 303h13.6v13.6h-13.6z"/>
<path class=c d="M1460 166h12.6l-6.3 12.6z"/>
<path class=b d="M1296 742l3.2 3.2 3.2-3.2 3.2 3.2-3.2 3.2 3.2 3.2-3.2 3.2-3.2-3.2-3.2 3.2-3.2-3.2 3.2-3.2-3.2-3.2z"/>
<circle class=a cx=1357 cy=445 r=7.1 />
<circle class=a cx=1582 cy=446 r=7.1 />
<path class=d d="M1418 484h13.6v13.6h-13.6z"/>
<circle class=a cx=1369 cy=422 r=7.1 />
<circle class=a cx=1504 cy=521 r=7.1 />
<circle class=a cx=1329 cy=501 r=7.1 />
<path class=c d="M1694 686h12.6l-6.3 12.6z"/>
<path class=c d="M1178 304h12.6l-6.3 12.6z"/>
<path class=b d="M1339 766l3.2 3.2 3.2-3.2 3.2 3.2-3.2 3.2 3.2 3.2-3.2 3.2-3.2-3.2-3.2 3.2-3.2-3.2 3.2-3.2-3.2-3.2z"/>
<path class=d d="M1517 455h13.6v13.6h-13.6z"/>
<path class=c d="M1589 715h12.6l-6.3 12.6z"/>
<path class=c d="M1311 161h12.6l-6.3 12.6z"/>
<path class=b d="M1353 750l3.2 3.2 3.2-3.2 3.2 3.2-3.2 3.2 3.2 3.2-3.2 3.2-3.2-3.2-3.2 3.2-3.2-3.2 3.2-3.2-3.2-3.2z"/>
<path class=d d="M1608 358h13.6v13.6h-13.6z"/>
<path class=d d="M1242 377h13.6v13.6h-13.6z"/>
<path class=d d="M1423 450h13.6v13.6h-13.6z"/>
<path class=d d="M1595 359h13.6v13.6h-13.6z"/>
<path class=c d="M1548 151h12.6l-6.3 12.6z"/>
<path class=b d="M1158 621l3.2 3.2 3.2-3.2 3.2 3.2-3.2 3.2 3.2 3.2-3.2 3.2-3.2-3.2-3.2 3.2-3.2-3.2 3.2-3.2-3.2-3.2z"/>
<path class=c d="M1340 197h12.6l-6.3 12.6z"/>
<path class=b d="M1383 720l3.2 3.2 3.2-3.2 3.2 3.2-3.2 3.2 3.2 3.2-3.2 3.2-3.2-3.2-3.2 3.2-3.2-3.2 3.2-3.2-3.2-3.2z"/>
<path class=b d="M1358 570l3.2 3.2 3.2-3.2 3.2 3.2-3.2 3.2 3.2 3.2-3.2 3.2-3.2-3.2-3.2 3.2-3.2-3.2 3.2-3.2-3.2-3.2z"/>
<path class=e d="M1293 481l6.4 4.6-2.4 7.5-7.9 0-2.4-7.5z"/>
<path class=d d="M1463 393h13.6v13.6h-13.6z"/>
<path class=e d="M1276 555l6.4 4.6-2.4 7.5-7.9 0-2.4-7.5z"/>
<path class=d d="M1387 532h13.6v13.6h-13.6z"/>
<path class=c d="M1195 284h12.6l-6.3 12.6z"/>
<path class=d d="M1363 578h13.6v13.6h-13.6z"/>
<path class=d d="M1410 561h13.6v13.6h-13.6z"/>
<path class=e d="M1275 573l6.4 4.6-2.4 7.5-7.9 0-2.4-7.5z"/>
<circle class=a cx=1350 cy=426 r=7.1 />
<path class=c d="M1144 465h12.6l-6.3 12.6z"/>
<path class=b d="M1447 806l3.2 3.2 3.2-3.2 3.2 3.2-3.2 3.2 3.2 3.2-3.2 3.2-3.2-3.2-3.2 3.2-3.2-3.2 3.2-3.2-3.2-3.2z"/>
<path class=b d="M1491 802l3.2 3.2 3.2-3.2 3.2 3.2-3.2 3.2 3.2 3.2-3.2 3.2-3.2-3.2-3.2 3.2-3.2-3.2 3.2-3.2-3.2-3.2z"/>
<circle class=a cx=1502 cy=524 r=7.1 />
<path class=e d="M1307 535l6.4 4.6-2.4 7.5-7.9 0-2.4-7.5z"/>
<path class=e d="M1319 452l6.4 4.6-2.4 7.5-7.9 0-2.4-7.5z"/>
<path class=e d="M1244 524l6.4 4.6-2.4 7.5-7.9 0-2.4-7.5z"/>
<path class=e d="M1238 530l6.4 4.6-2.4 7.5-7.9 0-2.4-7.5z"/>
<path class=b d="M1717 426l3.2 3.2 3.2-3.2 3.2 3.2-3.2 3.2 3.2 3.2-3.2 3.2-3.2-3.2-3.2 3.2-3.2-3.2 3.2-3.2-3.2-3.2z"/>
<path class=e d="M1259 549l6.4 4.6-2.4 7.5-7.9 0-2.4-7.5z"/>
<path class=b d="M1737 407l3.2 3.2 3.2-3.2 3.2 3.2-3.2 3.2 3.2 3.2-3.2 3.2-3.2-3.2-3.2 3.2-3.2-3.2 3.2-3.2-3.2-3.2z"/>
<path class=e d="M1261 542l6.4 4.6-2.4 7.5-7.9 0-2.4-7.5z"/>
<path class=e d="M1289 537l6.4 4.6-2.4 7.5-7.9 0-2.4-7.5z"/>
<path class=e d="M1316 545l6.4 4.6-2.4 7.5-7.9 0-2.4-7.5z"/>
<path class=e d="M1299 447l6.4 4.6-2.4 7.5-7.9 0-2.4-7.5z"/>
<path class=e d="M1289 545l6.4 4.6-2.4 7.5-7.9 0-2.4-7.5z"/>
<path class=e d="M1258 484l6.4 4.6-2.4 7.5-7.9 0-2.4-7.5z"/>
<path class=e d="M1296 446l6.4 4.6-2.4 7.5-7.9 0-2.4-7.5z"/>
<path class=b d="M1690 439l3.2 3.2 3.2-3.2 3.2 3.2-3.2 3.2 3.2 3.2-3.2 3.2-3.2-3.2-3.2 3.2-3.2-3.2 3.2-3.2-3.2-3.2z"/>
<path class=e d="M1271 529l6.4 4.6-2.4 7.5-7.9 0-2.4-7.5z"/>
<path class=e d="M1292 545l6.4 4.6-2.4 7.5-7.9 0-2.4-7.5z"/>
<path class=b d="M1730 452l3.2 3.2 3.2-3.2 3.2 3.2-3.2 3.2 3.2 3.2-3.2 3.2-3.2-3.2-3.2 3.2-3.2-3.2 3.2-3.2-3.2-3.2z"/>
<path class=b d="M1737 448l3.2 3.2 3.2-3.2 3.2 3.2-3.2 3.2 3.2 3.2-3.2 3.2-3.2-3.2-3.2 3.2-3.2-3.2 3.2-3.2-3.2-3.2z"/>
<path class=e d="M1243 520l6.4 4.6-2.4 7.5-7.9 0-2.4-7.5z"/>
<path class=e d="M1292 544l6.4 4.6-2.4 7.5-7.9 0-2.4-7.5z"/>
<path class=b d="M1724 454l3.2 3.2 3.2-3.2 3.2 3.2-3.2 3.2 3.2 3.2-3.2 3.2-3.2-3.2-3.2 3.2-3.2-3.2 3.2-3.2-3.2-3.2z"/>
<path class=e d="M1266 521l6.4 4.6-2.4 7.5-7.9 0-2.4-7.5z"/>
<path class=e d="M1291 534l6.4 4.6-2.4 7.5-7.9 0-2.4-7.5z"/>
<path class=b d="M1735 451l3.2 3.2 3.2-3.2 3.2 3.2-3.2 3.2 3.2 3.2-3.2 3.2-3.2-3.2-3.2 3.2-3.2-3.2 3.2-3.2-3.2-3.2z"/>
<path class=e d="M1328 506l6.4 4.6-2.4 7.5-7.9 0-2.4-7.5z"/>
<path class=e d="M1315 451l6.4 4.6-2.4 7.5-7.9 0-2.4-7.5z"/>
<path class=b d="M1701 437l3.2 3.2 3.2-3.2 3.2 3.2-3.2 3.2 3.2 3.2-3.2 3.2-3.2-3.2-3.2 3.2-3.2-3.2 3.2-3.2-3.2-3.2z"/>
<path class=e d="M1261 542l6.4 4.6-2.4 7.5-7.9 0-2.4-7.5z"/>
<path class=e d="M1257 535l6.4 4.6-2.4 7.5-7.9 0-2.4-7.5z"/>
<path class=b d="M1717 393l3.2 3.2 3.2-3.2 3.2 3.2-3.2 3.2 3.2 3.2-3.2 3.2-3.2-3.2-3.2 3.2-3.2-3.2 3.2-3.2-3.2-3.2z"/>
<path class=e d="M1255 532l6.4 4.6-2.4 7.5-7.9 0-2.4-7.5z"/>
<path class=b d="M1712 394l3.2 3.2 3.2-3.2 3.2 3.2-3.2 3.2 3.2 3.2-3.2 3.2-3.2-3.2-3.2 3.2-3.2-3.2 3.2-3.2-3.2-3.2z"/>
<path class=e d="M1310 538l6.4 4.6-2.4 7.5-7.9 0-2.4-7.5z"/>
<path class=e d="M1288 490l6.4 4.6-2.4 7.5-7.9 0-2.4-7.5z"/>
<path class=e d="M1294 537l6.4 4.6-2.4 7.5-7.9 0-2.4-7.5z"/>
<path class=b d="M1690 437l3.2 3.2 3.2-3.2 3.2 3.2-3.2 3.2 3.2 3.2-3.2 3.2-3.2-3.2-3.2 3.2-3.2-3.2 3.2-3.2-3.2-3.2z"/>
<path class=e d="M1323 529l6.4 4.6-2.4 7.5-7.9 0-2.4-7.5z"/>
<path class=e d="M1256 536l6.4 4.6-2.4 7.5-7.9 0-2.4-7.5z"/>
<path class=b d="M1727 446l3.2 3.2 3.2-3.2 3.2 3.2-3.2 3.2 3.2 3.2-3.2 3.2-3.2-3.2-3.2 3.2-3.2-3.2 3.2-3.2-3.2-3.2z"/>
<path class=e d="M1329 506l6.4 4.6-2.4 7.5-7.9 0-2.4-7.5z"/>
<path class=e d="M1284 526l6.4 4.6-2.4 7.5-7.9 0-2.4-7.5z"/>
<path class=b d="M1722 427l3.2 3.2 3.2-3.2 3.2 3.2-3.2 3.2 3.2 3.2-3.2 3.2-3.2-3.2-3.2 3.2-3.2-3.2 3.2-3.2-3.2-3.2z"/>
<path class=b d="M1700 389l3.2 3.2 3.2-3.2 3.2 3.2-3.2 3.2 3.2 3.2-3.2 3.2-3.2-3.2-3.2 3.2-3.2-3.2 3.2-3.2-3.2-3.2z"/>
<path class=b d="M1689 436l3.2 3.2 3.2-3.2 3.2 3.2-3.2 3.2 3.2 3.2-3.2 3.2-3.2-3.2-3.2 3.2-3.2-3.2 3.2-3.2-3.2-3.2z"/>
<path class=e d="M1319 451l6.4 4.6-2.4 7.5-7.9 0-2.4-7.5z"/>
<path class=e d="M1291 543l6.4 4.6-2.4 7.5-7.9 0-2.4-7.5z"/>
<path class=b d="M1737 401l3.2 3.2 3.2-3.2 3.2 3.2-3.2 3.2 3.2 3.2-3.2 3.2-3.2-3.2-3.2 3.2-3.2-3.2 3.2-3.2-3.2-3.2z"/>
<path class=b d="M1700 385l3.2 3.2 3.2-3.2 3.2 3.2-3.2 3.2 3.2 3.2-3.2 3.2-3.2-3.2-3.2 3.2-3.2-3.2 3.2-3.2-3.2-3.2z"/>
<path class=e d="M1321 428l6.4 4.6-2.4 7.5-7.9 0-2.4-7.5z"/>
<path class=e d="M1224 522l6.4 4.6-2.4 7.5-7.9 0-2.4-7.5z"/>
<path class=e d="M1285 460l6.4 4.6-2.4 7.5-7.9 0-2.4-7.5z"/>
<path class=e d="M1289 541l6.4 4.6-2.4 7.5-7.9 0-2.4-7.5z"/>
<path class=b d="M1739 408l3.2 3.2 3.2-3.2 3.2 3.2-3.2 3.2 3.2 3.2-3.2 3.2-3.2-3.2-3.2 3.2-3.2-3.2 3.2-3.2-3.2-3.2z"/>
<path class=e d="M1268 518l6.4 4.6-2.4 7.5-7.9 0-2.4-7.5z"/>
<path class=e d="M1261 542l6.4 4.6-2.4 7.5-7.9 0-2.4-7.5z"/>
<path class=e d="M1269 514l6.4 4.6-2.4 7.5-7.9 0-2.4-7.5z"/>
<path class=e d="M1318 540l6.4 4.6-2.4 7.5-7.9 0-2.4-7.5z"/>
<path class=e d="M1261 551l6.4 4.6-2.4 7.5-7.9 0-2.4-7.5z"/>
<path class=b d="M1704 389l3.2 3.2 3.2-3.2 3.2 3.2-3.2 3.2 3.2 3.2-3.2 3.2-3.2-3.2-3.2 3.2-3.2-3.2 3.2-3.2-3.2-3.2z"/>
<path class=e d="M1242 530l6.4 4.6-2.4 7.5-7.9 0-2.4-7.5z"/>
<path class=e d="M1330 531l6.4 4.6-2.4 7.5-7.9 0-2.4-7.5z"/>
<path class=e d="M1239 536l6.4 4.6-2.4 7.5-7.9 0-2.4-7.5z"/>
<path class=e d="M1240 534l6.4 4.6-2.4 7.5-7.9 0-2.4-7.5z"/>
<path class=e d="M1323 530l6.4 4.6-2.4 7.5-7.9 0-2.4-7.5z"/>
<path class=e d="M1345 475l6.4 4.6-2.4 7.5-7.9 0-2.4-7.5z"/>
<path class=e d="M1286 492l6.4 4.6-2.4 7.5-7.9 0-2.4-7.5z"/>
<path class=b d="M1736 453l3.2 3.2 3.2-3.2 3.2 3.2-3.2 3.2 3.2 3.2-3.2 3.2-3.2-3.2-3.2 3.2-3.2-3.2 3.2-3.2-3.2-3.2z"/>
<path class=b d="M1704 415l3.2 3.2 3.2-3.2 3.2 3.2-3.2 3.2 3.2 3.2-3.2 3.2-3.2-3.2-3.2 3.2-3.2-3.2 3.2-3.2-3.2-3.2z"/>
<path class=e d="M1298 446l6.4 4.6-2.4 7.5-7.9 0-2.4-7.5z"/>
<path class=b d="M1710 395l3.2 3.2 3.2-3.2 3.2 3.2-3.2 3.2 3.2 3.2-3.2 3.2-3.2-3.2-3.2 3.2-3.2-3.2 3.2-3.2-3.2-3.2z"/>
<path class=e d="M1327 435l6.4 4.6-2.4 7.5-7.9 0-2.4-7.5z"/>
<path class=e d="M1256 533l6.4 4.6-2.4 7.5-7.9 0-2.4-7.5z"/>
<path class=e d="M1307 532l6.4 4.6-2.4 7.5-7.9 0-2.4-7.5z"/>
<path class=e d="M1294 475l6.4 4.6-2.4 7.5-7.9 0-2.4-7.5z"/>
<path class=b d="M1741 444l3.2 3.2 3.2-3.2 3.2 3.2-3.2 3.2 3.2 3.2-3.2 3.2-3.2-3.2-3.2 3.2-3.2-3.2 3.2-3.2-3.2-3.2z"/>
<path class=b d="M1701 413l3.2 3.2 3.2-3.2 3.2 3.2-3.2 3.2 3.2 3.2-3.2 3.2-3.2-3.2-3.2 3.2-3.2-3.2 3.2-3.2-3.2-3.2z"/>
<path class=b d="M1698 431l3.2 3.2 3.2-3.2 3.2 3.2-3.2 3.2 3.2 3.2-3.2 3.2-3.2-3.2-3.2 3.2-3.2-3.2 3.2-3.2-3.2-3.2z"/>
<path class=e d="M1326 438l6.4 4.6-2.4 7.5-7.9 0-2.4-7.5z"/>
<path class=e d="M1280 465l6.4 4.6-2.4 7.5-7.9 0-2.4-7.5z"/>
<path class=e d="M1284 489l6.4 4.6-2.4 7.5-7.9 0-2.4-7.5z"/>
<path class=b d="M1717 425l3.2 3.2 3.2-3.2 3.2 3.2-3.2 3.2 3.2 3.2-3.2 3.2-3.2-3.2-3.2 3.2-3.2-3.2 3.2-3.2-3.2-3.2z"/>
<path class=e d="M1270 527l6.4 4.6-2.4 7.5-7.9 0-2.4-7.5z"/>
<path class=b d="M1742 443l3.2 3.2 3.2-3.2 3.2 3.2-3.2 3.2 3.2 3.2-3.2 3.2-3.2-3.2-3.2 3.2-3.2-3.2 3.2-3.2-3.2-3.2z"/>
<path class=b d="M1746 444l3.2 3.2 3.2-3.2 3.2 3.2-3.2 3.2 3.2 3.2-3.2 3.2-3.2-3.2-3.2 3.2-3.2-3.2 3.2-3.2-3.2-3.2z"/>
<path class=d d="M1726 295h13.6v13.6h-13.6z"/>
<path class=b d="M1728 452l3.2 3.2 3.2-3.2 3.2 3.2-3.2 3.2 3.2 3.2-3.2 3.2-3.2-3.2-3.2 3.2-3.2-3.2 3.2-3.2-3.2-3.2z"/>
<path class=d d="M1706 375h13.6v13.6h-13.6z"/>
<path class=d d="M1723 294h13.6v13.6h-13.6z"/>
<path class=d d="M1724 317h13.6v13.6h-13.6z"/>
<path class=b d="M1692 434l3.2 3.2 3.2-3.2 3.2 3.2-3.2 3.2 3.2 3.2-3.2 3.2-3.2-3.2-3.2 3.2-3.2-3.2 3.2-3.2-3.2-3.2z"/>
<path class=b d="M1701 415l3.2 3.2 3.2-3.2 3.2 3.2-3.2 3.2 3.2 3.2-3.2 3.2-3.2-3.2-3.2 3.2-3.2-3.2 3.2-3.2-3.2-3.2z"/>
<path class=d d="M1709 372h13.6v13.6h-13.6z"/>
<path class=b d="M1702 415l3.2 3.2 3.2-3.2 3.2 3.2-3.2 3.2 3.2 3.2-3.2 3.2-3.2-3.2-3.2 3.2-3.2-3.2 3.2-3.2-3.2-3.2z"/>
<path class=a d="M1681 382h13.6v13.6h-13.6z"/>
<path class=b d="M1716 424l3.2 3.2 3.2-3.2 3.2 3.2-3.2 3.2 3.2 3.2-3.2 3.2-3.2-3.2-3.2 3.2-3.2-3.2 3.2-3.2-3.2-3.2z"/>
<path class=d d="M1726 303h13.6v13.6h-13.6z"/>
<path class=a d="M1680 387h13.6v13.6h-13.6z"/>
<path class=d d="M1725 303h13.6v13.6h-13.6z"/>
<path class=b d="M1712 397l3.2 3.2 3.2-3.2 3.2 3.2-3.2 3.2 3.2 3.2-3.2 3.2-3.2-3.2-3.2 3.2-3.2-3.2 3.2-3.2-3.2-3.2z"/>
<path class=b d="M1733 404l3.2 3.2 3.2-3.2 3.2 3.2-3.2 3.2 3.2 3.2-3.2 3.2-3.2-3.2-3.2 3.2-3.2-3.2 3.2-3.2-3.2-3.2z"/>
<path class=b d="M1752 421l3.2 3.2 3.2-3.2 3.2 3.2-3.2 3.2 3.2 3.2-3.2 3.2-3.2-3.2-3.2 3.2-3.2-3.2 3.2-3.2-3.2-3.2z"/>
<path class=b d="M1743 446l3.2 3.2 3.2-3.2 3.2 3.2-3.2 3.2 3.2 3.2-3.2 3.2-3.2-3.2-3.2 3.2-3.2-3.2 3.2-3.2-3.2-3.2z"/>
<path class=b d="M1712 395l3.2 3.2 3.2-3.2 3.2 3.2-3.2 3.2 3.2 3.2-3.2 3.2-3.2-3.2-3.2 3.2-3.2-3.2 3.2-3.2-3.2-3.2z"/>
<path class=b d="M1687 438l3.2 3.2 3.2-3.2 3.2 3.2-3.2 3.2 3.2 3.2-3.2 3.2-3.2-3.2-3.2 3.2-3.2-3.2 3.2-3.2-3.2-3.2z"/>
<path class=b d="M1751 421l3.2 3.2 3.2-3.2 3.2 3.2-3.2 3.2 3.2 3.2-3.2 3.2-3.2-3.2-3.2 3.2-3.2-3.2 3.2-3.2-3.2-3.2z"/>
<path class=b d="M1736 404l3.2 3.2 3.2-3.2 3.2 3.2-3.2 3.2 3.2 3.2-3.2 3.2-3.2-3.2-3.2 3.2-3.2-3.2 3.2-3.2-3.2-3.2z"/>
<path class=d d="M1706 375h13.6v13.6h-13.6z"/>
<path class=b d="M1699 435l3.2 3.2 3.2-3.2 3.2 3.2-3.2 3.2 3.2 3.2-3.2 3.2-3.2-3.2-3.2 3.2-3.2-3.2 3.2-3.2-3.2-3.2z"/>
<path class=d d="M1721 316h13.6v13.6h-13.6z"/>
<path class=b d="M1699 438l3.2 3.2 3.2-3.2 3.2 3.2-3.2 3.2 3.2 3.2-3.2 3.2-3.2-3.2-3.2 3.2-3.2-3.2 3.2-3.2-3.2-3.2z"/>
<path class=d d="M1706 372h13.6v13.6h-13.6z"/>
<path class=b d="M1741 455l3.2 3.2 3.2-3.2 3.2 3.2-3.2 3.2 3.2 3.2-3.2 3.2-3.2-3.2-3.2 3.2-3.2-3.2 3.2-3.2-3.2-3.2z"/>
<path class=b d="M1699 413l3.2 3.2 3.2-3.2 3.2 3.2-3.2 3.2 3.2 3.2-3.2 3.2-3.2-3.2-3.2 3.2-3.2-3.2 3.2-3.2-3.2-3.2z"/>
<path class=b d="M1736 455l3.2 3.2 3.2-3.2 3.2 3.2-3.2 3.2 3.2 3.2-3.2 3.2-3.2-3.2-3.2 3.2-3.2-3.2 3.2-3.2-3.2-3.2z"/>
<path class=b d="M1749 425l3.2 3.2 3.2-3.2 3.2 3.2-3.2 3.2 3.2 3.2-3.2 3.2-3.2-3.2-3.2 3.2-3.2-3.2 3.2-3.2-3.2-3.2z"/>
<path class=b d="M1753 428l3.2 3.2 3.2-3.2 3.2 3.2-3.2 3.2 3.2 3.2-3.2 3.2-3.2-3.2-3.2 3.2-3.2-3.2 3.2-3.2-3.2-3.2z"/>
<path class=b d="M1733 453l3.2 3.2 3.2-3.2 3.2 3.2-3.2 3.2 3.2 3.2-3.2 3.2-3.2-3.2-3.2 3.2-3.2-3.2 3.2-3.2-3.2-3.2z"/>
<path class=d d="M1709 369h13.6v13.6h-13.6z"/>
<path class=b d="M1751 427l3.2 3.2 3.2-3.2 3.2 3.2-3.2 3.2 3.2 3.2-3.2 3.2-3.2-3.2-3.2 3.2-3.2-3.2 3.2-3.2-3.2-3.2z"/>
<path class=d d="M1736 295h13.6v13.6h-13.6z"/>
<path class=a d="M1680 386h13.6v13.6h-13.6z"/>
<path class=d d="M1686 308h13.6v13.6h-13.6z"/>
<path class=b d="M1718 431l3.2 3.2 3.2-3.2 3.2 3.2-3.2 3.2 3.2 3.2-3.2 3.2-3.2-3.2-3.2 3.2-3.2-3.2 3.2-3.2-3.2-3.2z"/>
<path class=b d="M1702 439l3.2 3.2 3.2-3.2 3.2 3.2-3.2 3.2 3.2 3.2-3.2 3.2-3.2-3.2-3.2 3.2-3.2-3.2 3.2-3.2-3.2-3.2z"/>
<path class=b d="M1726 449l3.2 3.2 3.2-3.2 3.2 3.2-3.2 3.2 3.2 3.2-3.2 3.2-3.2-3.2-3.2 3.2-3.2-3.2 3.2-3.2-3.2-3.2z"/>
<path class=d d="M1708 374h13.6v13.6h-13.6z"/>
<path class=d d="M1687 307h13.6v13.6h-13.6z"/>
<path class=d d="M1688 311h13.6v13.6h-13.6z"/>
<path class=d d="M1712 311h13.6v13.6h-13.6z"/>
<path class=d d="M1712 307h13.6v13.6h-13.6z"/>
<path class=d d="M1722 296h13.6v13.6h-13.6z"/>
<path class=d d="M1700 300h13.6v13.6h-13.6z"/>
<path class=d d="M1734 294h13.6v13.6h-13.6z"/>
<path class=a d="M1681 384h13.6v13.6h-13.6z"/>
<path class=d d="M1699 299h13.6v13.6h-13.6z"/>
<path class=a d="M1681 384h13.6v13.6h-13.6z"/>
<path class=d d="M1705 374h13.6v13.6h-13.6z"/>
<path class=d d="M1701 301h13.6v13.6h-13.6z"/>
<path class=d d="M1736 296h13.6v13.6h-13.6z"/>
<path class=d d="M1713 314h13.6v13.6h-13.6z"/>
<path class=d d="M1724 303h13.6v13.6h-13.6z"/>
<path class=a d="M1681 384h13.6v13.6h-13.6z"/>
<path class=d d="M1722 317h13.6v13.6h-13.6z"/>
<path class=d d="M1707 371h13.6v13.6h-13.6z"/>
<path class=d d="M1707 369h13.6v13.6h-13.6z"/>
</g>
<rect x="1056.8" y="91.7" width="148.5" height="271.7" rx="6" fill="#fff" fill-opacity="0.8" stroke="#cccccc" stroke-opacity="0.8" stroke-width="2"/>
<g stroke="#fff" stroke-width="1">
<circle cx="1107.4" cy="123.1" r="8.80" fill="#1f77b4"/>
<path d="M1103.0 165.9L1107.4 170.3L1111.8 165.9L1116.2 170.3L1111.8 174.7L1116.2 179.1L1111.8 183.5L1107.4 179.1L1103.0 183.5L1098.6 179.1L1103.0 174.7L1098.6 170.3Z" fill="#ff7f0e"/>
<path d="M1107.4 234.4L1098.6 216.8L1116.2 216.8Z" fill="#2ca02c"/>
<rect x="1098.6" y="270.8" width="17.6" height="17.6" fill="#d62728"/>
<path d="M1107.4 323.3L1115.8 329.4L1112.6 339.2L1102.2 339.2L1099.0 329.4Z" fill="#9467bd"/>
</g>
<text x="1181.7" y="131.8" class="t" text-anchor="middle">0</text>
<text x="1181.7" y="183.4" class="t" text-anchor="middle">1</text>
<text x="1181.7" y="234.3" class="t" text-anchor="middle">2</text>
<text x="1181.7" y="288.3" class="t" text-anchor="middle">3</text>
<text x="1181.7" y="340.8" class="t" text-anchor="middle">4</text>
<rect x="1039.9" y="72.6" width="803.2" height="796.4" fill="none" stroke="#333" stroke-width="2.4"/>
<line x1="1093.2" y1="869.0" x2="1093.2" y2="878.0" stroke="#262626" stroke-width="2"/>
<text x="1091.8" y="911.6" class="t" text-anchor="middle">−100</text>
<line x1="1275.3" y1="869.0" x2="1275.3" y2="878.0" stroke="#262626" stroke-width="2"/>
<text x="1273.8" y="911.6" class="t" text-anchor="middle">−50</text>
<line x1="1457.4" y1="869.0" x2="1457.4" y2="878.0" stroke="#262626" stroke-width="2"/>
<text x="1457.4" y="911.6" class="t" text-anchor="middle">0</text>
<line x1="1639.5" y1="869.0" x2="1639.5" y2="878.0" stroke="#262626" stroke-width="2"/>
<text x="1639.5" y="911.6" class="t" text-anchor="middle">50</text>
<line x1="1821.6" y1="869.0" x2="1821.6" y2="878.0" stroke="#262626" stroke-width="2"/>
<text x="1821.6" y="911.6" class="t" text-anchor="middle">100</text>
<line x1="1030.9" y1="833.1" x2="1039.9" y2="833.1" stroke="#262626" stroke-width="2"/>
<text x="1022.3" y="846.2" class="t" text-anchor="end">−100</text>
<line x1="1030.9" y1="743.3" x2="1039.9" y2="743.3" stroke="#262626" stroke-width="2"/>
<text x="1022.3" y="756.4" class="t" text-anchor="end">−75</text>
<line x1="1030.9" y1="653.5" x2="1039.9" y2="653.5" stroke="#262626" stroke-width="2"/>
<text x="1022.3" y="666.6" class="t" text-anchor="end">−50</text>
<line x1="1030.9" y1="563.6" x2="1039.9" y2="563.6" stroke="#262626" stroke-width="2"/>
<text x="1022.3" y="576.7" class="t" text-anchor="end">−25</text>
<line x1="1030.9" y1="473.8" x2="1039.9" y2="473.8" stroke="#262626" stroke-width="2"/>
<text x="1022.3" y="486.9" class="t" text-anchor="end">0</text>
<line x1="1030.9" y1="384.0" x2="1039.9" y2="384.0" stroke="#262626" stroke-width="2"/>
<text x="1022.3" y="397.1" class="t" text-anchor="end">25</text>
<line x1="1030.9" y1="294.1" x2="1039.9" y2="294.1" stroke="#262626" stroke-width="2"/>
<text x="1022.3" y="307.2" class="t" text-anchor="end">50</text>
<line x1="1030.9" y1="204.3" x2="1039.9" y2="204.3" stroke="#262626" stroke-width="2"/>
<text x="1022.3" y="217.4" class="t" text-anchor="end">75</text>
<line x1="1030.9" y1="114.5" x2="1039.9" y2="114.5" stroke="#262626" stroke-width="2"/>
<text x="1022.3" y="127.6" class="t" text-anchor="end">100</text>
<text x="1440.3" y="57.9" class="ti" text-anchor="middle">Model Prediction</text>
<text x="40.2" y="49.2" class="tl">(a)</text>
<text x="982.9" y="49.2" class="tl">(b)</text>
</svg></div>
</body></html>
